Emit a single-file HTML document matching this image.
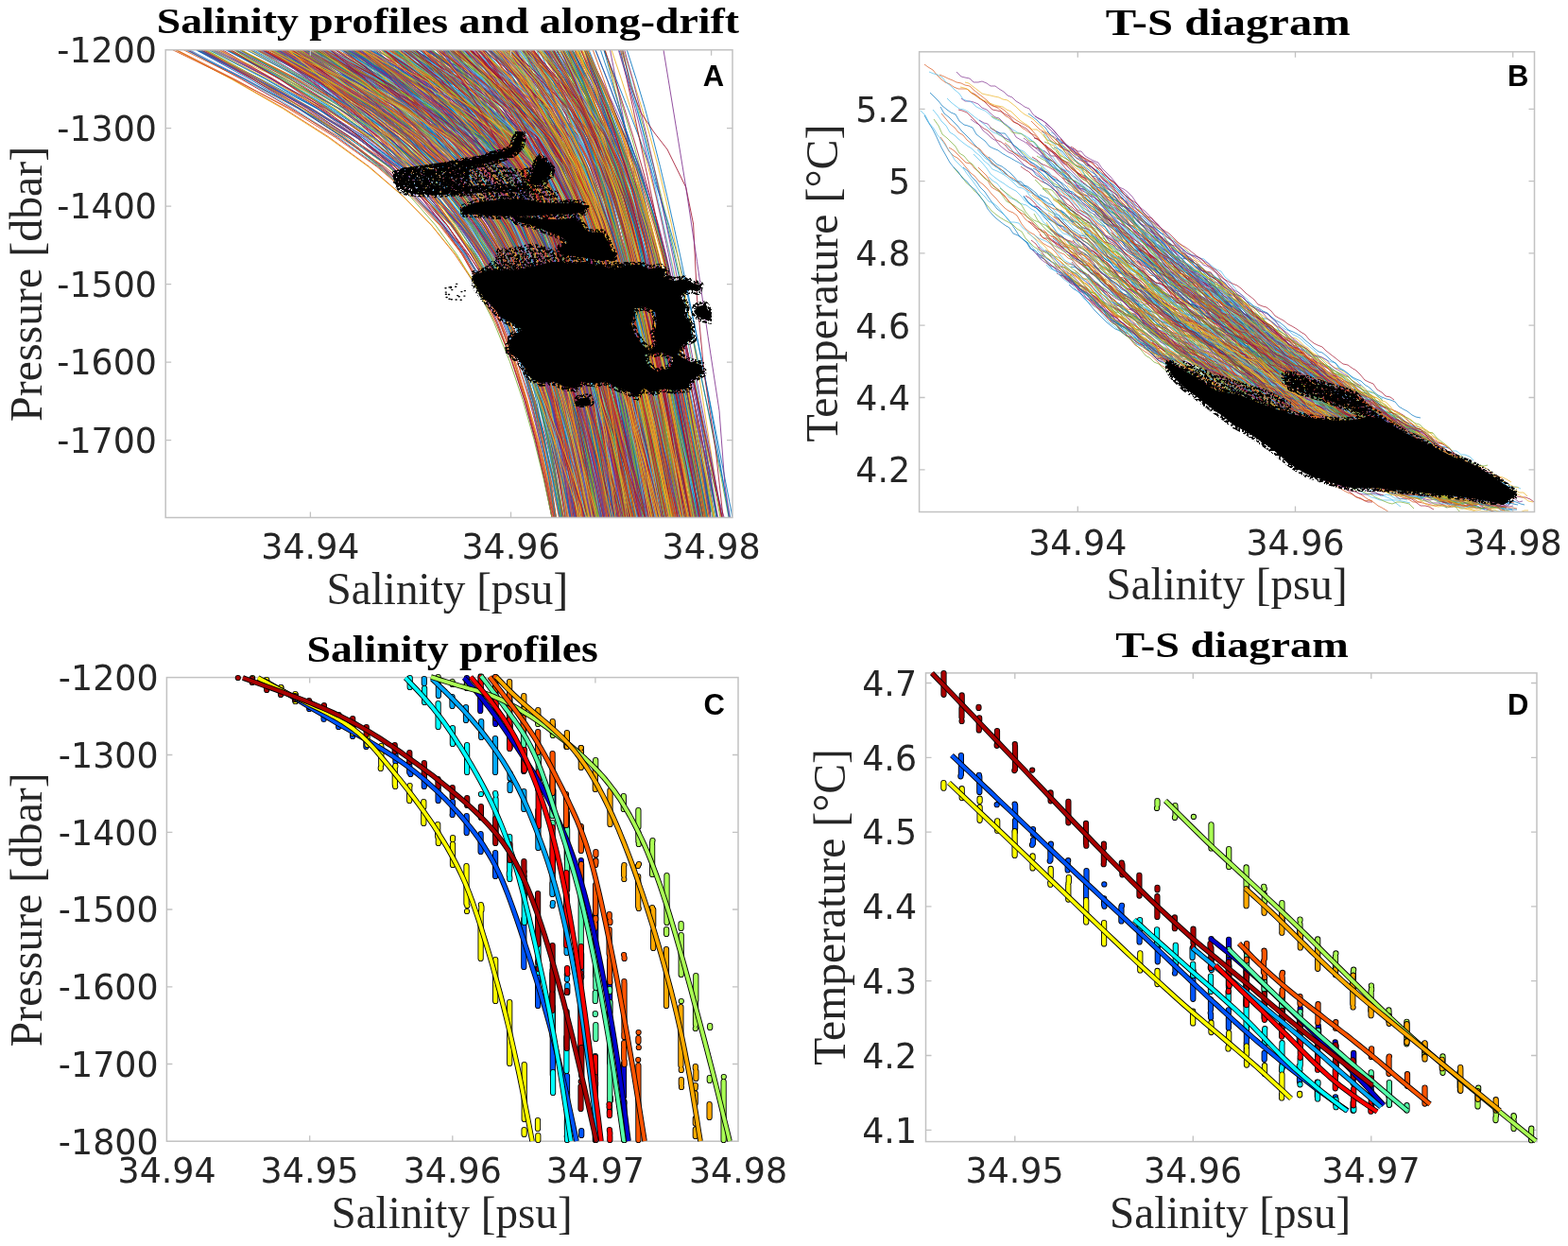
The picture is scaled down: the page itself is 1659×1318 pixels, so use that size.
<!DOCTYPE html><html><head><meta charset="utf-8"><style>html,body{margin:0;padding:0;background:#fff;width:1659px;height:1318px}svg{display:block}</style></head><body><svg width="1659" height="1318" viewBox="0 0 1659 1318">
<defs>
<clipPath id="clipA"><rect x="175.2" y="52.8" width="599.8" height="494.7"/></clipPath>
<clipPath id="clipB"><rect x="972.6" y="54.8" width="650.9" height="486.7"/></clipPath>
<clipPath id="clipC"><rect x="172.4" y="712.6" width="612.6" height="498.6"/></clipPath>
<clipPath id="clipD"><rect x="975.5" y="707.9" width="654.5" height="503.7"/></clipPath>
<filter id="spA40" x="0" y="0" width="1" height="1" color-interpolation-filters="sRGB"><feTurbulence type="fractalNoise" baseFrequency="0.4" numOctaves="2" seed="3" result="n"/><feColorMatrix in="n" type="matrix" values="0 0 0 0 0 0 0 0 0 0 0 0 0 0 0 12 0 0 0 -5.5" result="m"/><feComposite in="SourceGraphic" in2="m" operator="in"/></filter><filter id="spA50" x="0" y="0" width="1" height="1" color-interpolation-filters="sRGB"><feTurbulence type="fractalNoise" baseFrequency="0.4" numOctaves="2" seed="5" result="n"/><feColorMatrix in="n" type="matrix" values="0 0 0 0 0 0 0 0 0 0 0 0 0 0 0 12 0 0 0 -5.3" result="m"/><feComposite in="SourceGraphic" in2="m" operator="in"/></filter><filter id="spA75" x="0" y="0" width="1" height="1" color-interpolation-filters="sRGB"><feTurbulence type="fractalNoise" baseFrequency="0.4" numOctaves="2" seed="7" result="n"/><feColorMatrix in="n" type="matrix" values="0 0 0 0 0 0 0 0 0 0 0 0 0 0 0 12 0 0 0 -4.2" result="m"/><feComposite in="SourceGraphic" in2="m" operator="in"/></filter><filter id="spB35" x="0" y="0" width="1" height="1" color-interpolation-filters="sRGB"><feTurbulence type="fractalNoise" baseFrequency="0.4" numOctaves="2" seed="9" result="n"/><feColorMatrix in="n" type="matrix" values="0 0 0 0 0 0 0 0 0 0 0 0 0 0 0 12 0 0 0 -5.6" result="m"/><feComposite in="SourceGraphic" in2="m" operator="in"/></filter><filter id="spB50" x="0" y="0" width="1" height="1" color-interpolation-filters="sRGB"><feTurbulence type="fractalNoise" baseFrequency="0.4" numOctaves="2" seed="11" result="n"/><feColorMatrix in="n" type="matrix" values="0 0 0 0 0 0 0 0 0 0 0 0 0 0 0 12 0 0 0 -5.3" result="m"/><feComposite in="SourceGraphic" in2="m" operator="in"/></filter>
</defs>
<rect width="1659" height="1318" fill="#fff"/>
<g fill="none" stroke-width="0.85" stroke-linejoin="round" clip-path="url(#clipA)"><path d="M243.5 52.8l54.7 30.9 49.4 30.9 43.3 30.9 36.8 30.9 30.6 30.9 25.1 30.9 20.5 30.9 16.9 30.9 18.2 41.2 14.7 41.3 12.1 41.3 10.4 41.2 9 41.2 8.1 41.3M268.2 52.8l54.4 30.9 47.5 30.9 40.6 30.9 33.7 30.9 27.7 30.9 22.8 30.9 18.7 30.9 15.6 30.9 17.1 41.2 14.1 41.3 11.8 41.3 10.2 41.2 9 41.2 8.1 41.3M432.9 52.8l28.3 30.9 25.2 30.9 22.3 30.9 19.9 30.9 17.9 30.9 16.2 30.9 14.9 30.9 13.7 30.9 16.9 41.2 15.7 41.3 14.7 41.3 14 41.2 13.4 41.2 12.9 41.3M412.3 52.8l51.1 30.9 45.1 30.9 36.6 30.9 27.1 30.9 19.2 30.9 13.9 30.9 10.6 30.9 8.7 30.9 9.7 41.2 8.4 41.3 7.6 41.3 7.1 41.2 6.7 41.2 6.4 41.3M580.7 52.8l20.1 30.9 16.8 30.9 13.5 30.9 10.9 30.9 9.1 30.9 8 30.9 7.4 30.9 6.8 30.9 8.7 41.2 8.3 41.3 8.1 41.3 8 41.2 7.8 41.2 7.8 41.3M280.4 52.8l60.2 30.9 55.1 30.9 47.2 30.9 37 30.9 27.2 30.9 19.6 30.9 14.8 30.9 11.7 30.9 12.9 41.2 11 41.3 9.8 41.3 9.1 41.2 8.6 41.2 8.2 41.3M476.1 52.8l31.7 30.9 27.2 30.9 22.6 30.9 18.5 30.9 15.3 30.9 12.9 30.9 11.1 30.9 9.8 30.9 11.6 41.2 10.6 41.3 9.7 41.3 9.1 41.2 8.8 41.2 8.4 41.3M583.5 52.8l22.3 30.9 19.5 30.9 16 30.9 12.7 30.9 10.1 30.9 8.3 30.9 7.1 30.9 6.4 30.9 7.8 41.2 7.2 41.3 6.8 41.3 6.6 41.2 6.5 41.2 6.3 41.3M332.3 52.8l56.2 30.9 50.8 30.9 43.3 30.9 34.4 30.9 25.8 30.9 19 30.9 14.3 30.9 11.3 30.9 12 41.2 9.9 41.3 8.5 41.3 7.7 41.2 7.1 41.2 6.7 41.3M421.1 52.8l30 30.9 26.9 30.9 23.8 30.9 21.2 30.9 18.8 30.9 16.9 30.9 15.1 30.9 13.8 30.9 16.7 41.2 15.1 41.3 13.8 41.3 13 41.2 12.2 41.2 11.6 41.3M570.5 52.8l14.1 30.9 12.2 30.9 10.9 30.9 10 30.9 9.4 30.9 9.1 30.9 8.8 30.9 8.6 30.9 11.2 41.2 11.1 41.3 10.9 41.3 10.9 41.2 10.7 41.2 10.7 41.3M338.9 52.8l39.1 30.9 35.2 30.9 31.2 30.9 27.4 30.9 23.9 30.9 20.8 30.9 18.2 30.9 15.8 30.9 18.4 41.2 15.7 41.3 13.8 41.3 12.3 41.2 11 41.2 10.1 41.3M526.5 52.8l21.4 30.9 18 30.9 15.2 30.9 13 30.9 11.4 30.9 10.2 30.9 9.3 30.9 8.7 30.9 10.9 41.2 10.2 41.3 9.9 41.3 9.5 41.2 9.2 41.2 9.1 41.3M528.6 52.8l19.7 30.9 17.7 30.9 16 30.9 14.3 30.9 12.9 30.9 11.6 30.9 10.6 30.9 9.8 30.9 12 41.2 10.9 41.3 10.2 41.3 9.6 41.2 9.1 41.2 8.8 41.3M472 52.8l41.6 30.9 34.2 30.9 24 30.9 16 30.9 11.5 30.9 9.4 30.9 8.1 30.9 7.6 30.9 9.4 41.2 9 41.3 8.8 41.3 8.6 41.2 8.5 41.2 8.4 41.3M473.2 52.8l31.1 30.9 27.1 30.9 23.2 30.9 19.8 30.9 16.9 30.9 14.6 30.9 12.7 30.9 11.4 30.9 13.5 41.2 12 41.3 11 41.3 10.2 41.2 9.6 41.2 9.2 41.3M484.1 52.8l37.4 30.9 34.3 30.9 29.1 30.9 22.2 30.9 15.6 30.9 11.1 30.9 8.5 30.9 6.9 30.9 7.8 41.2 6.9 41.3 6.4 41.3 6 41.2 5.9 41.2 5.6 41.3M575.5 52.8l20.4 30.9 17.3 30.9 14.3 30.9 11.9 30.9 10.2 30.9 9.2 30.9 8.5 30.9 8 30.9 10.2 41.2 9.8 41.3 9.6 41.3 9.4 41.2 9.3 41.2 9.2 41.3M517.4 52.8l38.4 30.9 31.1 30.9 22.1 30.9 15.1 30.9 10.9 30.9 8.6 30.9 7.4 30.9 6.7 30.9 8.3 41.2 7.7 41.3 7.5 41.3 7.2 41.2 7.1 41.2 7 41.3M299.1 52.8l54 30.9 49.7 30.9 43.8 30.9 36.4 30.9 28.7 30.9 21.9 30.9 17 30.9 13.4 30.9 14.4 41.2 11.8 41.3 10.3 41.3 9.1 41.2 8.5 41.2 8 41.3M318.7 52.8l60.4 30.9 56.6 30.9 50 30.9 39.6 30.9 27.4 30.9 18.1 30.9 12.4 30.9 9.3 30.9 9.8 41.2 8.1 41.3 7.1 41.3 6.6 41.2 6.2 41.2 5.9 41.3M556.4 52.8l24 30.9 19.5 30.9 15.8 30.9 13.1 30.9 11.4 30.9 10.1 30.9 9.4 30.9 8.9 30.9 11.2 41.2 10.9 41.3 10.5 41.3 10.3 41.2 10.2 41.2 10.1 41.3M373.8 52.8l42.7 30.9 38.2 30.9 33.1 30.9 27.8 30.9 22.9 30.9 18.8 30.9 15.5 30.9 12.9 30.9 14.4 41.2 12.1 41.3 10.4 41.3 9.2 41.2 8.4 41.2 7.8 41.3M339.4 52.8l49.6 30.9 45 30.9 38.4 30.9 30.7 30.9 23.4 30.9 17.5 30.9 13.6 30.9 11 30.9 12.2 41.2 10.3 41.3 9.2 41.3 8.5 41.2 7.9 41.2 7.7 41.3M377 52.8l51.8 30.9 45.2 30.9 36.3 30.9 27 30.9 19.4 30.9 14.2 30.9 11.2 30.9 9.1 30.9 10.4 41.2 9 41.3 8.2 41.3 7.6 41.2 7.3 41.2 6.9 41.3M342.1 52.8l42.1 30.9 38.4 30.9 34.3 30.9 30 30.9 25.8 30.9 22.1 30.9 18.9 30.9 16.3 30.9 18.6 41.2 16 41.3 14.1 41.3 12.7 41.2 11.6 41.2 10.8 41.3M623.1 52.8l12.1 30.9 11.3 30.9 10.6 30.9 10 30.9 9.3 30.9 8.9 30.9 8.4 30.9 8.1 30.9 10.3 41.2 9.9 41.3 9.6 41.3 9.3 41.2 9.1 41.2 9 41.3M638.9 52.8l8.7 30.9 8.2 30.9 7.8 30.9 7.5 30.9 7.2 30.9 7.1 30.9 6.9 30.9 6.9 30.9 8.9 41.2 8.9 41.3 8.7 41.3 8.7 41.2 8.6 41.2 8.6 41.3" stroke="#0072BD"/><path d="M602.8 52.8l11 30.9 10.4 30.9 10 30.9 9.7 30.9 9.3 30.9 9.1 30.9 8.9 30.9 8.7 30.9 11.4 41.2 11.2 41.3 11 41.3 10.9 41.2 10.8 41.2 10.7 41.3M367.4 52.8l41.5 30.9 36.9 30.9 32 30.9 27.5 30.9 23.4 30.9 19.9 30.9 16.9 30.9 14.5 30.9 16.6 41.2 14 41.3 12.2 41.3 10.8 41.2 9.7 41.2 8.8 41.3M353.8 52.8l55 30.9 52.3 30.9 46.4 30.9 34.6 30.9 20.7 30.9 12.5 30.9 8.7 30.9 7 30.9 8.1 41.2 7.3 41.3 6.9 41.3 6.6 41.2 6.5 41.2 6.4 41.3M322.3 52.8l39.5 30.9 36 30.9 32.1 30.9 28 30.9 24.2 30.9 20.7 30.9 17.6 30.9 15 30.9 17 41.2 14.4 41.3 12.3 41.3 10.9 41.2 9.8 41.2 8.9 41.3M453.5 52.8l49 30.9 43.6 30.9 32.2 30.9 19.3 30.9 12.3 30.9 9.4 30.9 8.2 30.9 7.5 30.9 9.5 41.2 9.2 41.3 8.9 41.3 8.8 41.2 8.7 41.2 8.7 41.3M432.1 52.8l33.3 30.9 29.6 30.9 26 30.9 22.8 30.9 19.8 30.9 17.4 30.9 15.3 30.9 13.7 30.9 16.2 41.2 14.3 41.3 13 41.3 11.9 41.2 11.1 41.2 10.4 41.3M375.3 52.8l46.9 30.9 42.9 30.9 37.7 30.9 31.6 30.9 25.2 30.9 19.8 30.9 15.5 30.9 12.4 30.9 13.1 41.2 10.6 41.3 8.9 41.3 7.8 41.2 7.1 41.2 6.5 41.3M611.1 52.8l14.3 30.9 13.6 30.9 13.1 30.9 12.2 30.9 11.3 30.9 10.4 30.9 9.4 30.9 8.7 30.9 10.3 41.2 9.3 41.3 8.5 41.3 7.9 41.2 7.5 41.2 7.1 41.3M477.2 52.8l41 30.9 35.2 30.9 27.1 30.9 18.9 30.9 13.5 30.9 10.4 30.9 8.6 30.9 7.7 30.9 9.3 41.2 8.6 41.3 8.3 41.3 8 41.2 7.8 41.2 7.7 41.3M594.8 52.8l14.4 30.9 13.2 30.9 12.1 30.9 11.2 30.9 10.3 30.9 9.5 30.9 9 30.9 8.5 30.9 10.7 41.2 10.2 41.3 9.8 41.3 9.5 41.2 9.2 41.2 9 41.3M478.6 52.8l34.7 30.9 29.2 30.9 23.7 30.9 18.9 30.9 15.3 30.9 12.7 30.9 11 30.9 9.8 30.9 12 41.2 11 41.3 10.3 41.3 9.9 41.2 9.6 41.2 9.4 41.3M546.8 52.8l18.2 30.9 16.4 30.9 14.9 30.9 13.5 30.9 12.3 30.9 11.4 30.9 10.5 30.9 10 30.9 12.4 41.2 11.7 41.3 11.1 41.3 10.7 41.2 10.4 41.2 10 41.3M380.5 52.8l37.3 30.9 33.5 30.9 29.3 30.9 25.3 30.9 21.7 30.9 18.5 30.9 16 30.9 14 30.9 16.5 41.2 14.4 41.3 13.1 41.3 12 41.2 11.3 41.2 10.7 41.3M302.8 52.8l57.7 30.9 52.9 30.9 45 30.9 34.3 30.9 24.3 30.9 17.4 30.9 13.4 30.9 11.1 30.9 12.9 41.2 11.6 41.3 10.8 41.3 10.4 41.2 10 41.2 9.7 41.3M495.7 52.8l38.4 30.9 33.8 30.9 26.8 30.9 19.3 30.9 13.6 30.9 10.3 30.9 8.5 30.9 7.4 30.9 9 41.2 8.2 41.3 7.9 41.3 7.7 41.2 7.4 41.2 7.3 41.3M489.4 52.8l19.6 30.9 17.9 30.9 16.4 30.9 15.1 30.9 14 30.9 13.1 30.9 12.4 30.9 11.8 30.9 15 41.2 14.2 41.3 13.6 41.3 13.2 41.2 12.8 41.2 12.5 41.3M450.3 52.8l29.2 30.9 25.6 30.9 22 30.9 19 30.9 16.4 30.9 14.4 30.9 12.8 30.9 11.5 30.9 14 41.2 12.6 41.3 11.8 41.3 11 41.2 10.5 41.2 10.1 41.3M604.2 52.8l11.4 30.9 10.7 30.9 10 30.9 9.4 30.9 8.9 30.9 8.6 30.9 8.2 30.9 7.9 30.9 10.2 41.2 9.9 41.3 9.6 41.3 9.4 41.2 9.2 41.2 9 41.3M396.5 52.8l30.2 30.9 27.1 30.9 24.3 30.9 21.7 30.9 19.4 30.9 17.5 30.9 15.8 30.9 14.4 30.9 17.4 41.2 15.8 41.3 14.4 41.3 13.3 41.2 12.5 41.2 11.8 41.3M360.5 52.8l44 30.9 40.8 30.9 36.6 30.9 31.7 30.9 26.6 30.9 21.7 30.9 17.6 30.9 14.4 30.9 15.4 41.2 12.5 41.3 10.4 41.3 9.2 41.2 8.1 41.2 7.5 41.3M285.1 52.8l39.8 30.9 36.2 30.9 32.5 30.9 29 30.9 25.8 30.9 23 30.9 20.6 30.9 18.5 30.9 22 41.2 19.5 41.3 17.6 41.3 16 41.2 14.9 41.2 13.8 41.3" stroke="#4DBEEE"/><path d="M218.9 52.8l55.5 30.9 51.1 30.9 46.1 30.9 40.7 30.9 35.3 30.9 30.1 30.9 25.4 30.9 21.4 30.9 23.6 41.2 19.1 41.3 15.7 41.3 13.2 41.2 11.4 41.2 9.9 41.3M270.9 52.8l52.8 30.9 47.9 30.9 42 30.9 35.8 30.9 29.7 30.9 24 30.9 19.4 30.9 15.7 30.9 16.6 41.2 12.9 41.3 10.4 41.3 8.6 41.2 7.2 41.2 6.3 41.3M494.3 52.8l41.8 30.9 35.4 30.9 26.7 30.9 18.8 30.9 13.7 30.9 10.7 30.9 9.2 30.9 8.2 30.9 10 41.2 9.4 41.3 8.9 41.3 8.8 41.2 8.5 41.2 8.5 41.3M349.5 52.8l59.3 30.9 54 30.9 44.5 30.9 31.3 30.9 19.7 30.9 13 30.9 9.5 30.9 7.6 30.9 8.5 41.2 7.5 41.3 6.9 41.3 6.5 41.2 6.2 41.2 6.1 41.3M362.7 52.8l36.7 30.9 33 30.9 29.2 30.9 25.7 30.9 22.5 30.9 19.6 30.9 17.1 30.9 15 30.9 17.5 41.2 15.1 41.3 13.2 41.3 11.9 41.2 10.7 41.2 9.8 41.3M321.4 52.8l50.1 30.9 44.7 30.9 38.7 30.9 32.5 30.9 26.7 30.9 21.7 30.9 17.8 30.9 14.8 30.9 16.2 41.2 13.4 41.3 11.4 41.3 10 41.2 9 41.2 8.3 41.3M617.8 52.8l13 30.9 12.2 30.9 11.3 30.9 10.5 30.9 9.8 30.9 9.1 30.9 8.5 30.9 8.1 30.9 10.1 41.2 9.7 41.3 9.2 41.3 9 41.2 8.6 41.2 8.5 41.3M415.9 52.8l39.5 30.9 33.6 30.9 27 30.9 21.4 30.9 17.1 30.9 14.4 30.9 12.5 30.9 11.3 30.9 13.9 41.2 13 41.3 12.3 41.3 12 41.2 11.6 41.2 11.4 41.3M344.9 52.8l56.4 30.9 53.7 30.9 47.9 30.9 37.8 30.9 25.2 30.9 15.9 30.9 10.7 30.9 8.3 30.9 8.9 41.2 7.7 41.3 7 41.3 6.7 41.2 6.3 41.2 6.2 41.3M345.5 52.8l40.9 30.9 36.1 30.9 31.3 30.9 26.8 30.9 22.6 30.9 19.2 30.9 16.3 30.9 14.1 30.9 16.2 41.2 13.8 41.3 12.2 41.3 10.8 41.2 9.9 41.2 9.2 41.3M342.9 52.8l52.1 30.9 51 30.9 48.4 30.9 41.5 30.9 27.9 30.9 14.9 30.9 8.9 30.9 6.4 30.9 7 41.2 6.3 41.3 5.8 41.3 5.6 41.2 5.4 41.2 5.3 41.3M543 52.8l16.9 30.9 15.5 30.9 14.4 30.9 13.4 30.9 12.6 30.9 11.8 30.9 11.1 30.9 10.7 30.9 13.5 41.2 12.8 41.3 12.4 41.3 11.9 41.2 11.5 41.2 11.2 41.3M381 52.8l50.9 30.9 48.6 30.9 43.3 30.9 32.7 30.9 20.2 30.9 12.6 30.9 9.3 30.9 7.9 30.9 9.2 41.2 8.7 41.3 8.2 41.3 8.1 41.2 7.9 41.2 7.8 41.3M590.9 52.8l20.8 30.9 18.6 30.9 15.8 30.9 13.3 30.9 10.9 30.9 9.1 30.9 8 30.9 7 30.9 8.4 41.2 7.8 41.3 7.3 41.3 6.9 41.2 6.7 41.2 6.6 41.3M341.8 52.8l54.4 30.9 52.2 30.9 47.6 30.9 38.9 30.9 26.9 30.9 16.8 30.9 10.9 30.9 8.1 30.9 8.6 41.2 7.3 41.3 6.5 41.3 6.1 41.2 5.9 41.2 5.7 41.3M389.9 52.8l55.7 30.9 52.2 30.9 44.4 30.9 30.9 30.9 18.3 30.9 11.6 30.9 8.6 30.9 7.2 30.9 8.4 41.2 7.6 41.3 7.3 41.3 7 41.2 6.8 41.2 6.8 41.3M325.6 52.8l54.6 30.9 48.9 30.9 41 30.9 31.8 30.9 23.6 30.9 17.6 30.9 13.6 30.9 11.1 30.9 12.4 41.2 10.7 41.3 9.6 41.3 8.9 41.2 8.5 41.2 8.1 41.3M600.5 52.8l16.3 30.9 14.7 30.9 12.9 30.9 11.2 30.9 9.8 30.9 8.8 30.9 8.1 30.9 7.5 30.9 9.6 41.2 9.1 41.3 8.9 41.3 8.7 41.2 8.6 41.2 8.4 41.3M557.1 52.8l22.5 30.9 20.4 30.9 17.9 30.9 15.4 30.9 13.1 30.9 11.2 30.9 9.7 30.9 8.6 30.9 10.3 41.2 9.3 41.3 8.6 41.3 8.1 41.2 7.8 41.2 7.5 41.3M405 52.8l49.4 30.9 45.9 30.9 38.8 30.9 28.1 30.9 18 30.9 12.3 30.9 9.5 30.9 8 30.9 9.5 41.2 8.7 41.3 8.4 41.3 8 41.2 7.9 41.2 7.8 41.3M296.2 52.8l45.4 30.9 41 30.9 36.2 30.9 31.5 30.9 26.9 30.9 23 30.9 19.7 30.9 16.8 30.9 19.1 41.2 16.2 41.3 13.9 41.3 12.3 41.2 11.1 41.2 10.2 41.3M390.6 52.8l49.2 30.9 45.1 30.9 38.4 30.9 29.3 30.9 20.6 30.9 14.5 30.9 10.9 30.9 8.7 30.9 9.9 41.2 8.6 41.3 7.8 41.3 7.4 41.2 7.1 41.2 6.8 41.3M605.4 52.8l16.3 30.9 14.2 30.9 12.3 30.9 10.5 30.9 9.1 30.9 8.1 30.9 7.3 30.9 6.9 30.9 8.6 41.2 8.1 41.3 7.9 41.3 7.6 41.2 7.5 41.2 7.3 41.3M307.7 52.8l49.1 30.9 46 30.9 41.7 30.9 35.9 30.9 29.6 30.9 23.2 30.9 18.2 30.9 14.4 30.9 15.3 41.2 12.5 41.3 10.7 41.3 9.5 41.2 8.8 41.2 8.2 41.3M524.4 52.8l25.2 30.9 22.1 30.9 19 30.9 16.2 30.9 13.9 30.9 12 30.9 10.7 30.9 9.6 30.9 11.6 41.2 10.6 41.3 9.9 41.3 9.4 41.2 8.9 41.2 8.7 41.3M285.4 52.8l49.2 30.9 44.7 30.9 39.7 30.9 34.2 30.9 28.8 30.9 23.9 30.9 19.9 30.9 16.5 30.9 18 41.2 14.7 41.3 12.3 41.3 10.6 41.2 9.3 41.2 8.4 41.3M472.7 52.8l30.1 30.9 26.2 30.9 22.4 30.9 19 30.9 16.4 30.9 14.2 30.9 12.6 30.9 11.2 30.9 13.5 41.2 12.3 41.3 11.3 41.3 10.6 41.2 10.1 41.2 9.6 41.3M404.1 52.8l31.6 30.9 28.8 30.9 25.9 30.9 23.3 30.9 20.8 30.9 18.6 30.9 16.6 30.9 14.9 30.9 17.6 41.2 15.6 41.3 13.8 41.3 12.5 41.2 11.4 41.2 10.6 41.3M295.5 52.8l48.5 30.9 45.3 30.9 40.7 30.9 35.2 30.9 29.1 30.9 23.4 30.9 18.7 30.9 15.3 30.9 16.5 41.2 13.6 41.3 11.8 41.3 10.6 41.2 9.8 41.2 9.2 41.3M639.6 52.8l10.1 30.9 9.6 30.9 9.1 30.9 8.6 30.9 8.1 30.9 7.8 30.9 7.5 30.9 7.1 30.9 9.1 41.2 8.8 41.3 8.5 41.3 8.3 41.2 8 41.2 7.9 41.3" stroke="#77AC30"/><path d="M253.7 52.8l55.2 30.9 49.9 30.9 43.7 30.9 37.3 30.9 31 30.9 25.4 30.9 20.7 30.9 16.8 30.9 18 41.2 14.1 41.3 11.3 41.3 9.4 41.2 7.9 41.2 6.8 41.3M379 52.8l34.3 30.9 30.7 30.9 27.1 30.9 23.8 30.9 20.8 30.9 18.2 30.9 16.2 30.9 14.4 30.9 17 41.2 15.2 41.3 13.6 41.3 12.6 41.2 11.6 41.2 11 41.3M405.3 52.8l29.5 30.9 27 30.9 24.5 30.9 22.3 30.9 20.1 30.9 18.1 30.9 16.4 30.9 15 30.9 17.9 41.2 16.2 41.3 14.5 41.3 13.4 41.2 12.4 41.2 11.5 41.3M383.3 52.8l51.2 30.9 45.3 30.9 37.5 30.9 28.9 30.9 21.5 30.9 16.1 30.9 12.4 30.9 10 30.9 11 41.2 9.2 41.3 8.2 41.3 7.5 41.2 6.9 41.2 6.6 41.3M507.4 52.8l33.8 30.9 29.8 30.9 25 30.9 19.9 30.9 15.6 30.9 12.5 30.9 10.2 30.9 8.9 30.9 10.3 41.2 9.2 41.3 8.5 41.3 8 41.2 7.8 41.2 7.4 41.3M352.1 52.8l36.6 30.9 32.7 30.9 29 30.9 25.6 30.9 22.5 30.9 19.8 30.9 17.6 30.9 15.7 30.9 18.5 41.2 16.2 41.3 14.6 41.3 13.1 41.2 12 41.2 11.2 41.3M522.4 52.8l20.4 30.9 16.9 30.9 14.4 30.9 12.6 30.9 11.3 30.9 10.4 30.9 9.8 30.9 9.4 30.9 12 41.2 11.5 41.3 11.3 41.3 11 41.2 10.8 41.2 10.7 41.3M457.1 52.8l32.2 30.9 27.1 30.9 22.3 30.9 18 30.9 14.7 30.9 12.3 30.9 10.7 30.9 9.4 30.9 11.3 41.2 10.2 41.3 9.5 41.3 9 41.2 8.6 41.2 8.4 41.3M280.2 52.8l54.8 30.9 53.1 30.9 50 30.9 44.2 30.9 34.5 30.9 23.4 30.9 15.2 30.9 10.7 30.9 10.7 41.2 8.7 41.3 7.7 41.3 7.1 41.2 6.7 41.2 6.5 41.3M338.9 52.8l46.8 30.9 41.4 30.9 34.9 30.9 28.1 30.9 22.2 30.9 18 30.9 14.9 30.9 12.9 30.9 15.2 41.2 13.6 41.3 12.6 41.3 11.9 41.2 11.5 41.2 11.1 41.3M391.8 52.8l44 30.9 38.1 30.9 31.3 30.9 24.6 30.9 19.4 30.9 15.5 30.9 13 30.9 11.2 30.9 13.3 41.2 11.9 41.3 11 41.3 10.5 41.2 10.1 41.2 9.7 41.3M586.8 52.8l13.1 30.9 11.8 30.9 10.9 30.9 10.1 30.9 9.6 30.9 9.1 30.9 8.8 30.9 8.5 30.9 11.1 41.2 10.7 41.3 10.6 41.3 10.4 41.2 10.2 41.2 10.1 41.3M406.3 52.8l40.4 30.9 37.7 30.9 33.6 30.9 28.1 30.9 22.1 30.9 16.8 30.9 12.9 30.9 10.2 30.9 11.1 41.2 9.3 41.3 8.3 41.3 7.6 41.2 7.1 41.2 6.8 41.3M362.8 52.8l38.8 30.9 34.3 30.9 30 30.9 25.9 30.9 22.4 30.9 19.4 30.9 16.9 30.9 14.7 30.9 17 41.2 14.8 41.3 12.9 41.3 11.5 41.2 10.5 41.2 9.6 41.3M409 52.8l52.7 30.9 48.4 30.9 39.1 30.9 25.1 30.9 14.7 30.9 10.1 30.9 8 30.9 7 30.9 8.5 41.2 8 41.3 7.8 41.3 7.5 41.2 7.4 41.2 7.4 41.3M307.3 52.8l62.9 30.9 60.6 30.9 55.6 30.9 44.5 30.9 28.2 30.9 15.9 30.9 10.2 30.9 7.7 30.9 8.4 41.2 7.4 41.3 6.9 41.3 6.5 41.2 6.3 41.2 6.2 41.3M608.9 52.8l15.8 30.9 14.3 30.9 12.7 30.9 11.3 30.9 10 30.9 8.8 30.9 8 30.9 7.3 30.9 8.9 41.2 8.3 41.3 7.8 41.3 7.5 41.2 7.2 41.2 7 41.3M345.3 52.8l36.3 30.9 33.1 30.9 29.9 30.9 26.8 30.9 23.8 30.9 21.1 30.9 18.8 30.9 16.8 30.9 19.8 41.2 17.3 41.3 15.5 41.3 14 41.2 12.8 41.2 11.8 41.3M585.4 52.8l19.9 30.9 17.6 30.9 14.9 30.9 12.4 30.9 10.4 30.9 8.7 30.9 7.6 30.9 6.8 30.9 8.3 41.2 7.7 41.3 7.3 41.3 6.9 41.2 6.8 41.2 6.6 41.3M331 52.8l37.5 30.9 34.8 30.9 31.8 30.9 28.9 30.9 26 30.9 23.2 30.9 20.8 30.9 18.4 30.9 21.7 41.2 18.9 41.3 16.5 41.3 14.7 41.2 13.2 41.2 12.1 41.3M545 52.8l20.3 30.9 18 30.9 15.9 30.9 14.1 30.9 12.7 30.9 11.4 30.9 10.5 30.9 9.7 30.9 12 41.2 11.2 41.3 10.6 41.3 10.1 41.2 9.7 41.2 9.4 41.3" stroke="#7E2F8E"/><path d="M198.4 52.8l57 30.9 53.2 30.9 48.5 30.9 43.1 30.9 37.3 30.9 31.5 30.9 26.3 30.9 21.6 30.9 23.1 41.2 18.1 41.3 14.6 41.3 11.9 41.2 10.1 41.2 8.6 41.3M211.7 52.8l59.4 30.9 53.5 30.9 46.8 30.9 40.1 30.9 33.6 30.9 27.8 30.9 23 30.9 19.1 30.9 20.7 41.2 16.7 41.3 13.7 41.3 11.6 41.2 10 41.2 8.7 41.3M404 52.8l51.1 30.9 49.3 30.9 45.1 30.9 35.2 30.9 21.3 30.9 12.3 30.9 8.6 30.9 6.9 30.9 8 41.2 7.4 41.3 7.1 41.3 6.8 41.2 6.7 41.2 6.6 41.3M301.9 52.8l40.3 30.9 36.7 30.9 33 30.9 29.3 30.9 25.7 30.9 22.4 30.9 19.6 30.9 17.3 30.9 19.9 41.2 17.2 41.3 15.1 41.3 13.5 41.2 12.2 41.2 11.2 41.3M539.8 52.8l29.2 30.9 25.7 30.9 22 30.9 18.1 30.9 14.7 30.9 12 30.9 9.9 30.9 8.4 30.9 9.6 41.2 8.2 41.3 7.2 41.3 6.7 41.2 6.1 41.2 5.8 41.3M338.9 52.8l57 30.9 53.7 30.9 47.3 30.9 36 30.9 23.1 30.9 14.5 30.9 10.1 30.9 8 30.9 8.9 41.2 7.8 41.3 7.3 41.3 6.9 41.2 6.7 41.2 6.5 41.3M593 52.8l13.8 30.9 12.5 30.9 11.3 30.9 10.3 30.9 9.6 30.9 9 30.9 8.5 30.9 8.2 30.9 10.5 41.2 10.1 41.3 9.8 41.3 9.7 41.2 9.4 41.2 9.3 41.3M289.1 52.8l40.1 30.9 36.9 30.9 33.5 30.9 30 30.9 26.6 30.9 23.4 30.9 20.5 30.9 18.1 30.9 20.9 41.2 17.9 41.3 15.6 41.3 13.9 41.2 12.4 41.2 11.3 41.3M379.7 52.8l32.8 30.9 29.5 30.9 26.3 30.9 23.4 30.9 20.6 30.9 18.2 30.9 16.1 30.9 14.4 30.9 16.9 41.2 14.9 41.3 13.1 41.3 11.8 41.2 10.8 41.2 9.9 41.3M510.3 52.8l23.2 30.9 20.7 30.9 18.1 30.9 16 30.9 14 30.9 12.4 30.9 11.1 30.9 10 30.9 12 41.2 10.9 41.3 9.9 41.3 9.3 41.2 8.7 41.2 8.3 41.3M364.2 52.8l52.4 30.9 46.4 30.9 38.1 30.9 29 30.9 21.3 30.9 15.7 30.9 12.1 30.9 9.8 30.9 10.9 41.2 9.3 41.3 8.3 41.3 7.6 41.2 7.2 41.2 6.8 41.3M301.9 52.8l40 30.9 36.7 30.9 33.3 30.9 29.9 30.9 26.7 30.9 23.6 30.9 21 30.9 18.5 30.9 21.6 41.2 18.6 41.3 16.3 41.3 14.5 41.2 12.9 41.2 11.8 41.3M513.2 52.8l21.2 30.9 19.1 30.9 17.2 30.9 15.6 30.9 14.2 30.9 13.1 30.9 12 30.9 11.3 30.9 14 41.2 13.1 41.3 12.3 41.3 11.7 41.2 11.2 41.2 10.8 41.3M323.3 52.8l39 30.9 35.7 30.9 32.2 30.9 28.6 30.9 25.3 30.9 22.1 30.9 19.3 30.9 17.1 30.9 19.7 41.2 17.1 41.3 15 41.3 13.4 41.2 12.2 41.2 11.2 41.3M601.3 52.8l14.2 30.9 13.1 30.9 11.8 30.9 10.7 30.9 9.6 30.9 8.8 30.9 8.1 30.9 7.5 30.9 9.3 41.2 8.7 41.3 8.3 41.3 7.9 41.2 7.7 41.2 7.5 41.3M278.3 52.8l58.9 30.9 52.7 30.9 45.2 30.9 36.7 30.9 28.9 30.9 22.1 30.9 17.1 30.9 13.4 30.9 13.7 41.2 10.7 41.3 8.6 41.3 7.3 41.2 6.2 41.2 5.5 41.3M464.9 52.8l45.2 30.9 40.7 30.9 28.5 30.9 15.1 30.9 9.5 30.9 7.6 30.9 6.7 30.9 6.4 30.9 8.2 41.2 8 41.3 7.9 41.3 7.8 41.2 7.8 41.2 7.7 41.3M362.7 52.8l55.4 30.9 52.7 30.9 47.3 30.9 37.7 30.9 25.3 30.9 15.4 30.9 10.1 30.9 7.3 30.9 7.5 41.2 6.2 41.3 5.5 41.3 5.1 41.2 4.8 41.2 4.6 41.3M608.1 52.8l8.4 30.9 8.2 30.9 8 30.9 8 30.9 7.8 30.9 7.8 30.9 7.7 30.9 7.7 30.9 10.2 41.2 10.1 41.3 10 41.3 10 41.2 10 41.2 9.9 41.3M308.9 52.8l52.6 30.9 46.3 30.9 39 30.9 31.2 30.9 24.3 30.9 18.9 30.9 14.9 30.9 12.1 30.9 13.2 41.2 10.8 41.3 9.4 41.3 8.3 41.2 7.6 41.2 7.1 41.3M505.6 52.8l29.9 30.9 25.2 30.9 20.6 30.9 17 30.9 14.1 30.9 12 30.9 10.5 30.9 9.5 30.9 11.3 41.2 10.3 41.3 9.7 41.3 9.1 41.2 8.7 41.2 8.5 41.3M308.7 52.8l61.2 30.9 57.2 30.9 49.5 30.9 36.8 30.9 23.8 30.9 15.4 30.9 11.2 30.9 9.1 30.9 10.4 41.2 9.3 41.3 8.7 41.3 8.3 41.2 8.1 41.2 7.9 41.3M375.6 52.8l52.5 30.9 49.8 30.9 44.6 30.9 35.6 30.9 24.4 30.9 15.5 30.9 10.5 30.9 7.8 30.9 8.5 41.2 7.1 41.3 6.4 41.3 6 41.2 5.8 41.2 5.5 41.3" stroke="#A2142F"/><path d="M274.4 52.8l58.5 30.9 52.4 30.9 45.2 30.9 37.4 30.9 29.9 30.9 23.6 30.9 18.6 30.9 15 30.9 15.8 41.2 12.7 41.3 10.4 41.3 9 41.2 7.9 41.2 7.1 41.3M600.9 52.8l19.3 30.9 17.7 30.9 15.8 30.9 13.4 30.9 11.1 30.9 9.1 30.9 7.7 30.9 6.8 30.9 7.9 41.2 7.3 41.3 6.7 41.3 6.5 41.2 6.2 41.2 6.1 41.3M384.4 52.8l50.7 30.9 46.9 30.9 40.1 30.9 30.2 30.9 20.6 30.9 14.3 30.9 10.9 30.9 9 30.9 10.5 41.2 9.4 41.3 8.9 41.3 8.5 41.2 8.3 41.2 8.1 41.3M436.4 52.8l30 30.9 26.7 30.9 23.7 30.9 20.8 30.9 18.4 30.9 16.2 30.9 14.5 30.9 12.9 30.9 15.5 41.2 13.7 41.3 12.3 41.3 11.4 41.2 10.5 41.2 9.8 41.3M404 52.8l40.5 30.9 35.1 30.9 29.2 30.9 23.7 30.9 18.9 30.9 15.5 30.9 12.9 30.9 11.1 30.9 12.8 41.2 11.2 41.3 10.3 41.3 9.5 41.2 9 41.2 8.5 41.3M367.6 52.8l45.5 30.9 40.3 30.9 34.5 30.9 28.6 30.9 23.2 30.9 19 30.9 15.7 30.9 13.3 30.9 15.2 41.2 13.2 41.3 11.8 41.3 10.8 41.2 10.2 41.2 9.6 41.3M324.4 52.8l54.8 30.9 51.9 30.9 45.9 30.9 34.9 30.9 22.6 30.9 15 30.9 11.3 30.9 9.5 30.9 11.4 41.2 10.6 41.3 10.2 41.3 9.8 41.2 9.7 41.2 9.5 41.3M518.7 52.8l21.4 30.9 18.7 30.9 16.5 30.9 14.6 30.9 13 30.9 11.8 30.9 10.8 30.9 10 30.9 12.4 41.2 11.6 41.3 10.9 41.3 10.4 41.2 10 41.2 9.7 41.3M582 52.8l17.4 30.9 14.6 30.9 12.2 30.9 10.3 30.9 9.1 30.9 8.2 30.9 7.7 30.9 7.3 30.9 9.2 41.2 8.9 41.3 8.8 41.3 8.5 41.2 8.4 41.2 8.3 41.3M557 52.8l16.8 30.9 15.4 30.9 14.1 30.9 13 30.9 12.1 30.9 11.3 30.9 10.5 30.9 10 30.9 12.5 41.2 11.9 41.3 11.2 41.3 10.7 41.2 10.4 41.2 10 41.3M451.2 52.8l27.8 30.9 24.7 30.9 21.9 30.9 19.5 30.9 17.3 30.9 15.6 30.9 14 30.9 12.8 30.9 15.4 41.2 14 41.3 12.9 41.3 11.9 41.2 11.3 41.2 10.6 41.3M363.8 52.8l55.8 30.9 53.2 30.9 47.5 30.9 36.9 30.9 23.5 30.9 14 30.9 9.2 30.9 6.9 30.9 7.5 41.2 6.4 41.3 5.8 41.3 5.4 41.2 5.2 41.2 5.1 41.3M510.5 52.8l25.4 30.9 22.6 30.9 19.9 30.9 17.5 30.9 15.4 30.9 13.6 30.9 12.2 30.9 11 30.9 13.2 41.2 11.8 41.3 10.8 41.3 10 41.2 9.4 41.2 8.9 41.3M285.7 52.8l57 30.9 54.3 30.9 49.7 30.9 41.9 30.9 31.4 30.9 21.5 30.9 14.9 30.9 11 30.9 11.5 41.2 9.4 41.3 8.3 41.3 7.7 41.2 7.2 41.2 7 41.3M280.3 52.8l64.1 30.9 58.4 30.9 49.6 30.9 38.5 30.9 27.7 30.9 19.8 30.9 14.7 30.9 11.4 30.9 12.4 41.2 10.3 41.3 9.1 41.3 8.4 41.2 7.8 41.2 7.4 41.3M384.9 52.8l35.2 30.9 30.8 30.9 26.7 30.9 23.1 30.9 20 30.9 17.5 30.9 15.4 30.9 13.9 30.9 16.6 41.2 14.9 41.3 13.6 41.3 12.7 41.2 12 41.2 11.4 41.3M452.4 52.8l46.8 30.9 38.9 30.9 27 30.9 17.1 30.9 12 30.9 9.5 30.9 8.4 30.9 7.7 30.9 9.8 41.2 9.3 41.3 9.1 41.3 8.9 41.2 8.8 41.2 8.8 41.3M435.8 52.8l45.6 30.9 42.5 30.9 35.2 30.9 23.6 30.9 14.6 30.9 10.3 30.9 8.5 30.9 7.6 30.9 9.3 41.2 9 41.3 8.7 41.3 8.5 41.2 8.4 41.2 8.4 41.3M314.6 52.8l53.3 30.9 49.3 30.9 43.5 30.9 35.9 30.9 27.6 30.9 20.3 30.9 15.1 30.9 11.5 30.9 11.9 41.2 9.5 41.3 8 41.3 7.1 41.2 6.5 41.2 6 41.3M419 52.8l46.7 30.9 44.9 30.9 41.2 30.9 33.4 30.9 22.3 30.9 13.6 30.9 9.2 30.9 7.1 30.9 8 41.2 7 41.3 6.6 41.3 6.3 41.2 6.2 41.2 6 41.3M300.6 52.8l56 30.9 51.8 30.9 45.4 30.9 36.7 30.9 27.4 30.9 19.9 30.9 14.8 30.9 11.6 30.9 12.6 41.2 10.6 41.3 9.4 41.3 8.6 41.2 8.2 41.2 7.8 41.3M608.4 52.8l19.2 30.9 17.8 30.9 15.8 30.9 13.3 30.9 10.8 30.9 8.7 30.9 7.3 30.9 6.3 30.9 7.6 41.2 6.9 41.3 6.6 41.3 6.3 41.2 6.1 41.2 5.9 41.3M477 52.8l31 30.9 26.3 30.9 21.8 30.9 18.2 30.9 15.2 30.9 13 30.9 11.5 30.9 10.2 30.9 12.3 41.2 11.1 41.3 10.4 41.3 9.8 41.2 9.3 41.2 9 41.3M294.9 52.8l54.8 30.9 50.9 30.9 45 30.9 37.1 30.9 28.2 30.9 20.8 30.9 15.3 30.9 11.9 30.9 12.5 41.2 10.3 41.3 9 41.3 8.1 41.2 7.5 41.2 7.2 41.3M627.3 52.8l11.3 30.9 10.5 30.9 9.6 30.9 8.9 30.9 8.3 30.9 7.8 30.9 7.5 30.9 7.1 30.9 9.1 41.2 8.8 41.3 8.7 41.3 8.4 41.2 8.3 41.2 8.3 41.3" stroke="#D95319"/><path d="M248.2 52.8l57.6 30.9 53.2 30.9 47.8 30.9 41 30.9 33.7 30.9 26.9 30.9 21 30.9 16.4 30.9 16.8 41.2 12.7 41.3 10.1 41.3 8.3 41.2 7 41.2 6.1 41.3M255.6 52.8l59.3 30.9 53.3 30.9 46.2 30.9 38.4 30.9 30.9 30.9 24.2 30.9 19 30.9 14.9 30.9 15.4 41.2 11.9 41.3 9.4 41.3 7.7 41.2 6.5 41.2 5.6 41.3M589.5 52.8l17.3 30.9 15.6 30.9 14 30.9 12.4 30.9 11 30.9 10 30.9 9.3 30.9 8.7 30.9 11 41.2 10.5 41.3 10.2 41.3 10 41.2 9.8 41.2 9.6 41.3M607.5 52.8l12.6 30.9 11.3 30.9 10.3 30.9 9.6 30.9 8.9 30.9 8.3 30.9 8 30.9 7.7 30.9 9.9 41.2 9.6 41.3 9.4 41.3 9.1 41.2 9 41.2 8.9 41.3M529.3 52.8l27.7 30.9 22.3 30.9 17.4 30.9 13.8 30.9 11.4 30.9 9.8 30.9 8.7 30.9 8.1 30.9 10 41.2 9.4 41.3 9 41.3 8.8 41.2 8.6 41.2 8.4 41.3M505.2 52.8l38.4 30.9 33.2 30.9 26.2 30.9 19.1 30.9 13.8 30.9 10.4 30.9 8.5 30.9 7.3 30.9 8.6 41.2 7.7 41.3 7.3 41.3 6.9 41.2 6.8 41.2 6.5 41.3M314.7 52.8l48.4 30.9 43.4 30.9 37.7 30.9 31.7 30.9 26 30.9 21.2 30.9 17.3 30.9 14.4 30.9 15.9 41.2 13.2 41.3 11.4 41.3 10.2 41.2 9.2 41.2 8.5 41.3M368.2 52.8l41.1 30.9 36.1 30.9 30.6 30.9 25.2 30.9 20.7 30.9 16.9 30.9 14.2 30.9 12.2 30.9 14 41.2 12.3 41.3 11.1 41.3 10.1 41.2 9.6 41.2 9.1 41.3M277 52.8l52.6 30.9 47.4 30.9 41.6 30.9 35.6 30.9 29.8 30.9 24.8 30.9 20.5 30.9 17 30.9 18.7 41.2 15.2 41.3 12.6 41.3 10.9 41.2 9.5 41.2 8.4 41.3M536 52.8l19.3 30.9 17.2 30.9 15.3 30.9 13.7 30.9 12.3 30.9 11.2 30.9 10.2 30.9 9.5 30.9 11.7 41.2 10.9 41.3 10.2 41.3 9.7 41.2 9.4 41.2 9 41.3M593.6 52.8l17.6 30.9 15.8 30.9 14.1 30.9 12.3 30.9 10.7 30.9 9.3 30.9 8.4 30.9 7.5 30.9 9.1 41.2 8.3 41.3 7.8 41.3 7.4 41.2 7.1 41.2 6.9 41.3M599.7 52.8l15.6 30.9 14.3 30.9 12.9 30.9 11.6 30.9 10.5 30.9 9.4 30.9 8.5 30.9 7.7 30.9 9.5 41.2 8.7 41.3 8.1 41.3 7.6 41.2 7.3 41.2 7 41.3M621 52.8l13.6 30.9 12.9 30.9 12.2 30.9 11.3 30.9 10.4 30.9 9.6 30.9 8.7 30.9 8 30.9 9.6 41.2 8.7 41.3 8 41.3 7.4 41.2 7 41.2 6.6 41.3M536.6 52.8l28.6 30.9 23.2 30.9 18.2 30.9 14.3 30.9 11.8 30.9 10 30.9 8.9 30.9 8.1 30.9 10.1 41.2 9.4 41.3 9.1 41.3 8.7 41.2 8.5 41.2 8.4 41.3M344.5 52.8l56.5 30.9 52.5 30.9 45.2 30.9 33.9 30.9 22.2 30.9 14.7 30.9 10.6 30.9 8.5 30.9 9.5 41.2 8.4 41.3 7.7 41.3 7.4 41.2 7.1 41.2 7 41.3M299.5 52.8l37.1 30.9 35.2 30.9 32.8 30.9 30.3 30.9 27.6 30.9 24.8 30.9 22.2 30.9 19.6 30.9 22.8 41.2 19.4 41.3 16.7 41.3 14.5 41.2 12.9 41.2 11.4 41.3M476 52.8l43.4 30.9 38 30.9 29.7 30.9 20.7 30.9 14.2 30.9 10.4 30.9 8.3 30.9 7.2 30.9 8.5 41.2 7.7 41.3 7.4 41.3 7 41.2 6.9 41.2 6.7 41.3M553.7 52.8l16.7 30.9 15.2 30.9 13.6 30.9 12.5 30.9 11.5 30.9 10.7 30.9 10.1 30.9 9.5 30.9 12 41.2 11.4 41.3 10.9 41.3 10.6 41.2 10.2 41.2 10 41.3M507.3 52.8l30.4 30.9 24.5 30.9 19.2 30.9 15.1 30.9 12.5 30.9 10.7 30.9 9.6 30.9 8.8 30.9 10.9 41.2 10.4 41.3 9.9 41.3 9.6 41.2 9.5 41.2 9.3 41.3M554.2 52.8l18.5 30.9 17 30.9 15.3 30.9 13.9 30.9 12.5 30.9 11.5 30.9 10.4 30.9 9.6 30.9 11.7 41.2 10.7 41.3 9.9 41.3 9.3 41.2 8.6 41.2 8.3 41.3M616.3 52.8l14.1 30.9 13 30.9 12 30.9 11 30.9 10 30.9 9.1 30.9 8.4 30.9 7.7 30.9 9.6 41.2 9 41.3 8.4 41.3 8 41.2 7.7 41.2 7.5 41.3M640.4 52.8l7.7 30.9 7.4 30.9 7.1 30.9 6.9 30.9 6.8 30.9 6.6 30.9 6.5 30.9 6.4 30.9 8.4 41.2 8.2 41.3 8.2 41.3 8.1 41.2 8 41.2 7.9 41.3M647 52.8l10.4 30.9 9.8 30.9 9.4 30.9 8.9 30.9 8.4 30.9 7.8 30.9 7.3 30.9 6.8 30.9 8.4 41.2 7.8 41.3 7.1 41.3 6.7 41.2 6.3 41.2 6 41.3" stroke="#EDB120"/><path d="M212.2 52.8l63.7 30.9 59 30.9 52.8 30.9 45 30.9 36.5 30.9 28.4 30.9 21.6 30.9 16.6 30.9 16.6 41.2 12.4 41.3 9.7 41.3 7.9 41.2 6.6 41.2 5.8 41.3M552.4 52.8l25.5 30.9 21.1 30.9 16.9 30.9 13.7 30.9 11.4 30.9 10 30.9 9.1 30.9 8.5 30.9 10.8 41.2 10.3 41.3 10 41.3 9.7 41.2 9.6 41.2 9.5 41.3M497.5 52.8l25.2 30.9 20.7 30.9 17.2 30.9 14.6 30.9 12.7 30.9 11.5 30.9 10.5 30.9 9.8 30.9 12.3 41.2 11.7 41.3 11.3 41.3 10.9 41.2 10.6 41.2 10.4 41.3M322.8 52.8l56.3 30.9 52.3 30.9 45.6 30.9 36.3 30.9 26.2 30.9 18.3 30.9 13.4 30.9 10.4 30.9 11.3 41.2 9.5 41.3 8.5 41.3 7.9 41.2 7.4 41.2 7.2 41.3M541.9 52.8l33.5 30.9 27.8 30.9 19.3 30.9 12.6 30.9 9.1 30.9 7.5 30.9 6.6 30.9 6.1 30.9 7.8 41.2 7.5 41.3 7.3 41.3 7.2 41.2 7.1 41.2 7.1 41.3M443 52.8l44.8 30.9 39.1 30.9 32.1 30.9 24.5 30.9 18.3 30.9 13.8 30.9 10.7 30.9 8.8 30.9 9.8 41.2 8.4 41.3 7.5 41.3 6.9 41.2 6.4 41.2 6.2 41.3M450.7 52.8l26.5 30.9 23.7 30.9 21.2 30.9 18.9 30.9 16.9 30.9 15.3 30.9 13.9 30.9 12.8 30.9 15.6 41.2 14.3 41.3 13.2 41.3 12.4 41.2 11.8 41.2 11.2 41.3M391.3 52.8l31.2 30.9 28.9 30.9 26.4 30.9 23.9 30.9 21.5 30.9 19.3 30.9 17.4 30.9 15.5 30.9 18.6 41.2 16.4 41.3 14.7 41.3 13.4 41.2 12.3 41.2 11.5 41.3M300.7 52.8l47.5 30.9 43.4 30.9 38.6 30.9 33 30.9 27.4 30.9 22.3 30.9 18 30.9 14.7 30.9 16 41.2 13 41.3 11 41.3 9.6 41.2 8.6 41.2 7.9 41.3M505.7 52.8l30.4 30.9 26.1 30.9 22.1 30.9 18.4 30.9 15.5 30.9 13.3 30.9 11.6 30.9 10.4 30.9 12.4 41.2 11.2 41.3 10.4 41.3 9.7 41.2 9.3 41.2 9 41.3M490.5 52.8l34.4 30.9 28.4 30.9 22.5 30.9 17.6 30.9 13.9 30.9 11.4 30.9 9.6 30.9 8.5 30.9 9.9 41.2 8.9 41.3 8.2 41.3 7.8 41.2 7.4 41.2 7.1 41.3M595.6 52.8l16.2 30.9 14.5 30.9 12.8 30.9 11.5 30.9 10.5 30.9 9.5 30.9 8.9 30.9 8.4 30.9 10.6 41.2 10 41.3 9.7 41.3 9.3 41.2 9.1 41.2 8.9 41.3M286.3 52.8l51.3 30.9 47.2 30.9 41.7 30.9 35 30.9 28 30.9 21.9 30.9 17.1 30.9 13.7 30.9 14.6 41.2 12 41.3 10.4 41.3 9.2 41.2 8.4 41.2 7.9 41.3M414.9 52.8l45.3 30.9 40.1 30.9 31.9 30.9 22.8 30.9 15.8 30.9 11.8 30.9 9.6 30.9 8.3 30.9 10 41.2 9.1 41.3 8.7 41.3 8.4 41.2 8.2 41.2 8 41.3M320 52.8l37.1 30.9 33.6 30.9 30.1 30.9 26.7 30.9 23.6 30.9 20.9 30.9 18.5 30.9 16.6 30.9 19.5 41.2 17.1 41.3 15.3 41.3 13.7 41.2 12.6 41.2 11.5 41.3M481.4 52.8l36.8 30.9 30.5 30.9 23.6 30.9 17.8 30.9 13.9 30.9 11.5 30.9 10 30.9 9.1 30.9 11.3 41.2 10.6 41.3 10.2 41.3 9.8 41.2 9.7 41.2 9.5 41.3M386 52.8l46.6 30.9 41.8 30.9 35.7 30.9 28.9 30.9 22.5 30.9 17.3 30.9 13.7 30.9 11.3 30.9 12.4 41.2 10.6 41.3 9.3 41.3 8.5 41.2 8 41.2 7.6 41.3M513.3 52.8l30.2 30.9 25.9 30.9 21.3 30.9 17 30.9 13.9 30.9 11.5 30.9 9.9 30.9 8.9 30.9 10.7 41.2 9.8 41.3 9.3 41.3 8.8 41.2 8.6 41.2 8.4 41.3M589.3 52.8l16.2 30.9 14.5 30.9 13 30.9 11.5 30.9 10.2 30.9 9.3 30.9 8.4 30.9 7.7 30.9 9.7 41.2 8.9 41.3 8.5 41.3 8.1 41.2 7.8 41.2 7.7 41.3M387.1 52.8l51.3 30.9 44.7 30.9 35.4 30.9 26.2 30.9 19.1 30.9 14.8 30.9 12.3 30.9 10.7 30.9 12.8 41.2 11.7 41.3 11.2 41.3 10.7 41.2 10.5 41.2 10.2 41.3M391.6 52.8l34.9 30.9 31.3 30.9 27.5 30.9 24.2 30.9 21.2 30.9 18.6 30.9 16.5 30.9 14.7 30.9 17.4 41.2 15.5 41.3 13.9 41.3 12.7 41.2 11.8 41.2 11.1 41.3M345.3 52.8l38.3 30.9 35.2 30.9 31.5 30.9 27.6 30.9 23.7 30.9 20.1 30.9 17.2 30.9 14.6 30.9 16.5 41.2 14 41.3 12.1 41.3 10.8 41.2 9.9 41.2 9.1 41.3M336.4 52.8l49.2 30.9 44.7 30.9 38.6 30.9 31 30.9 23.8 30.9 18.2 30.9 14.4 30.9 12 30.9 13.5 41.2 11.9 41.3 10.8 41.3 10.1 41.2 9.7 41.2 9.3 41.3M413.5 52.8l28 30.9 25.3 30.9 22.7 30.9 20.5 30.9 18.5 30.9 16.8 30.9 15.3 30.9 14 30.9 17.1 41.2 15.6 41.3 14.3 41.3 13.2 41.2 12.5 41.2 11.7 41.3M480.6 52.8l34.5 30.9 29.8 30.9 24.5 30.9 19.7 30.9 15.8 30.9 12.8 30.9 10.8 30.9 9.2 30.9 10.8 41.2 9.6 41.3 8.7 41.3 8.2 41.2 7.7 41.2 7.4 41.3M576.6 52.8l22.2 30.9 18.3 30.9 14.5 30.9 11.4 30.9 9.5 30.9 8.2 30.9 7.5 30.9 7.1 30.9 8.9 41.2 8.7 41.3 8.4 41.3 8.2 41.2 8.1 41.2 8.1 41.3M319.2 52.8l54.7 30.9 47.3 30.9 38.5 30.9 29.7 30.9 22.5 30.9 17.3 30.9 13.8 30.9 11.4 30.9 12.8 41.2 11 41.3 9.8 41.3 9.1 41.2 8.5 41.2 8 41.3" stroke="#0072BD"/><path d="M241.8 52.8l57.3 30.9 51.9 30.9 45.5 30.9 38.9 30.9 32.4 30.9 26.5 30.9 21.7 30.9 17.8 30.9 19.2 41.2 15.4 41.3 12.8 41.3 10.8 41.2 9.4 41.2 8.3 41.3M207.6 52.8l62.7 30.9 57.9 30.9 51.8 30.9 44.3 30.9 36.4 30.9 28.8 30.9 22.3 30.9 17.3 30.9 17.6 41.2 13.2 41.3 10.4 41.3 8.4 41.2 7 41.2 6.1 41.3M474.1 52.8l27.2 30.9 24.5 30.9 21.9 30.9 19.4 30.9 17.2 30.9 15.5 30.9 14 30.9 12.7 30.9 15.4 41.2 14 41.3 13 41.3 12.2 41.2 11.5 41.2 11 41.3M496.6 52.8l19 30.9 17.1 30.9 15.4 30.9 14.1 30.9 13 30.9 12 30.9 11.2 30.9 10.6 30.9 13.2 41.2 12.4 41.3 11.8 41.3 11.3 41.2 10.9 41.2 10.5 41.3M303.3 52.8l53.5 30.9 47.2 30.9 39.9 30.9 32.7 30.9 26.2 30.9 20.9 30.9 16.9 30.9 13.9 30.9 15.4 41.2 12.9 41.3 11.1 41.3 9.9 41.2 9 41.2 8.3 41.3M320.5 52.8l36.7 30.9 33.5 30.9 30.3 30.9 27.2 30.9 24.2 30.9 21.6 30.9 19.4 30.9 17.3 30.9 20.4 41.2 18 41.3 16 41.3 14.4 41.2 13.1 41.2 12 41.3M490.1 52.8l29.9 30.9 25 30.9 20.7 30.9 17.2 30.9 14.6 30.9 12.6 30.9 11.3 30.9 10.3 30.9 12.5 41.2 11.5 41.3 10.8 41.3 10.4 41.2 9.9 41.2 9.7 41.3M521.7 52.8l27.6 30.9 23.8 30.9 20.1 30.9 16.7 30.9 13.9 30.9 11.9 30.9 10.4 30.9 9.2 30.9 10.9 41.2 10 41.3 9.2 41.3 8.6 41.2 8.3 41.2 8 41.3M586.1 52.8l17 30.9 14.7 30.9 12.6 30.9 11 30.9 9.7 30.9 8.7 30.9 8 30.9 7.5 30.9 9.5 41.2 9 41.3 8.6 41.3 8.4 41.2 8.2 41.2 8 41.3M592.3 52.8l14.1 30.9 12.5 30.9 11.4 30.9 10.5 30.9 9.8 30.9 9.3 30.9 9 30.9 8.7 30.9 11.3 41.2 11 41.3 10.7 41.3 10.7 41.2 10.5 41.2 10.4 41.3M318.3 52.8l53.9 30.9 49.3 30.9 42.5 30.9 34 30.9 25.7 30.9 19.1 30.9 14.8 30.9 11.9 30.9 13.3 41.2 11.3 41.3 10.3 41.3 9.5 41.2 9 41.2 8.7 41.3M578.1 52.8l14.5 30.9 13 30.9 11.6 30.9 10.5 30.9 9.8 30.9 9.2 30.9 8.7 30.9 8.4 30.9 10.7 41.2 10.4 41.3 10 41.3 9.9 41.2 9.7 41.2 9.5 41.3M561.9 52.8l27.8 30.9 23 30.9 16.8 30.9 11.7 30.9 8.9 30.9 7.3 30.9 6.5 30.9 6 30.9 7.6 41.2 7.3 41.3 7.2 41.3 6.9 41.2 6.9 41.2 6.9 41.3M294.7 52.8l59.7 30.9 56.2 30.9 49.6 30.9 38.5 30.9 25.7 30.9 16.7 30.9 11.9 30.9 9.3 30.9 10.5 41.2 9.1 41.3 8.5 41.3 8.1 41.2 7.8 41.2 7.6 41.3M283.9 52.8l54.6 30.9 51.7 30.9 47.4 30.9 40.8 30.9 32.3 30.9 23.9 30.9 17 30.9 12.6 30.9 12.5 41.2 9.6 41.3 8 41.3 7 41.2 6.4 41.2 5.9 41.3M331.5 52.8l61.3 30.9 58.3 30.9 51.9 30.9 39.6 30.9 24.5 30.9 14.7 30.9 10 30.9 7.8 30.9 8.7 41.2 7.8 41.3 7.2 41.3 6.9 41.2 6.7 41.2 6.5 41.3M330.8 52.8l49.5 30.9 45.7 30.9 40.8 30.9 34.4 30.9 27.5 30.9 21.4 30.9 16.5 30.9 12.9 30.9 13.6 41.2 10.9 41.3 9.1 41.3 8 41.2 7.3 41.2 6.7 41.3M430.5 52.8l46.8 30.9 41.5 30.9 33.4 30.9 24.3 30.9 16.8 30.9 12.3 30.9 9.6 30.9 8 30.9 9.3 41.2 8.3 41.3 7.7 41.3 7.4 41.2 7 41.2 6.9 41.3M554.2 52.8l29.8 30.9 27.3 30.9 21.8 30.9 14.9 30.9 10 30.9 7.8 30.9 6.8 30.9 6.2 30.9 7.9 41.2 7.7 41.3 7.5 41.3 7.3 41.2 7.3 41.2 7.3 41.3M368.7 52.8l35.3 30.9 32.1 30.9 28.9 30.9 25.7 30.9 22.7 30.9 20 30.9 17.7 30.9 15.7 30.9 18.4 41.2 16.1 41.3 14.2 41.3 12.8 41.2 11.7 41.2 10.8 41.3M438.5 52.8l46.1 30.9 38.7 30.9 29.7 30.9 21.7 30.9 16.1 30.9 12.7 30.9 10.7 30.9 9.3 30.9 11.3 41.2 10.3 41.3 9.8 41.3 9.4 41.2 9.1 41.2 8.9 41.3M311.9 52.8l54.4 30.9 48.1 30.9 40.1 30.9 31.6 30.9 24.2 30.9 18.8 30.9 15.2 30.9 12.8 30.9 14.7 41.2 12.9 41.3 11.8 41.3 11.1 41.2 10.5 41.2 10.2 41.3M365.3 52.8l33.1 30.9 30 30.9 26.9 30.9 24.1 30.9 21.7 30.9 19.5 30.9 17.6 30.9 16 30.9 19.3 41.2 17.2 41.3 15.7 41.3 14.4 41.2 13.3 41.2 12.4 41.3M449.9 52.8l36.3 30.9 30.9 30.9 25.7 30.9 21 30.9 17.3 30.9 14.5 30.9 12.5 30.9 11 30.9 12.9 41.2 11.6 41.3 10.6 41.3 9.9 41.2 9.4 41.2 8.9 41.3M455.3 52.8l39.2 30.9 32.8 30.9 24.7 30.9 17.6 30.9 13.2 30.9 10.7 30.9 9.4 30.9 8.5 30.9 10.7 41.2 10.2 41.3 9.8 41.3 9.6 41.2 9.4 41.2 9.4 41.3M553 52.8l17.3 30.9 15.9 30.9 14.6 30.9 13.5 30.9 12.4 30.9 11.7 30.9 11 30.9 10.4 30.9 13.2 41.2 12.5 41.3 11.9 41.3 11.6 41.2 11.2 41.2 10.9 41.3M434.5 52.8l33.5 30.9 29.1 30.9 25 30.9 21.1 30.9 18 30.9 15.4 30.9 13.3 30.9 11.8 30.9 14 41.2 12.4 41.3 11.4 41.3 10.6 41.2 9.9 41.2 9.5 41.3M598.2 52.8l16.2 30.9 15 30.9 13.8 30.9 12.7 30.9 11.6 30.9 10.5 30.9 9.6 30.9 8.8 30.9 10.7 41.2 9.7 41.3 8.9 41.3 8.2 41.2 7.7 41.2 7.3 41.3" stroke="#4DBEEE"/><path d="M210.8 52.8l56.8 30.9 52.9 30.9 48 30.9 42.3 30.9 35.9 30.9 29.8 30.9 24.1 30.9 19.5 30.9 20.5 41.2 15.9 41.3 12.7 41.3 10.5 41.2 8.9 41.2 7.8 41.3M217 52.8l58.5 30.9 54.4 30.9 49.3 30.9 42.8 30.9 35.6 30.9 28.7 30.9 22.7 30.9 17.9 30.9 18.5 41.2 14.3 41.3 11.5 41.3 9.6 41.2 8.3 41.2 7.4 41.3M241.1 52.8l61.7 30.9 55.3 30.9 47.7 30.9 39.2 30.9 31.4 30.9 24.5 30.9 19.3 30.9 15.3 30.9 16.2 41.2 12.7 41.3 10.5 41.3 8.8 41.2 7.8 41.2 6.9 41.3M227 52.8l60.5 30.9 55.9 30.9 49.8 30.9 42.6 30.9 34.6 30.9 27.1 30.9 20.9 30.9 16.2 30.9 16.4 41.2 12.4 41.3 9.8 41.3 8.1 41.2 6.8 41.2 6 41.3M278.5 52.8l51.6 30.9 46.4 30.9 40.4 30.9 34.3 30.9 28.6 30.9 23.5 30.9 19.3 30.9 15.9 30.9 17.2 41.2 13.8 41.3 11.4 41.3 9.6 41.2 8.4 41.2 7.3 41.3M303.2 52.8l46.2 30.9 41.6 30.9 36.6 30.9 31.6 30.9 26.8 30.9 22.7 30.9 19.3 30.9 16.5 30.9 18.7 41.2 15.9 41.3 13.9 41.3 12.4 41.2 11.3 41.2 10.4 41.3M567.5 52.8l12.2 30.9 11.4 30.9 10.8 30.9 10.2 30.9 9.7 30.9 9.4 30.9 9.1 30.9 8.7 30.9 11.5 41.2 11 41.3 10.9 41.3 10.6 41.2 10.4 41.2 10.3 41.3M337.2 52.8l43.4 30.9 38.6 30.9 33.6 30.9 28.7 30.9 24.4 30.9 20.6 30.9 17.5 30.9 15.1 30.9 17.1 41.2 14.7 41.3 12.7 41.3 11.3 41.2 10.3 41.2 9.5 41.3M535.3 52.8l20.7 30.9 18.5 30.9 16.5 30.9 14.6 30.9 13 30.9 11.6 30.9 10.4 30.9 9.5 30.9 11.5 41.2 10.4 41.3 9.6 41.3 9 41.2 8.5 41.2 8.2 41.3M477.5 52.8l39.5 30.9 34.6 30.9 27.9 30.9 20.5 30.9 15 30.9 11.6 30.9 9.7 30.9 8.4 30.9 10.2 41.2 9.4 41.3 9 41.3 8.7 41.2 8.4 41.2 8.4 41.3M498.2 52.8l34.2 30.9 25.6 30.9 17.3 30.9 12.8 30.9 10.9 30.9 10 30.9 9.5 30.9 9.3 30.9 12 41.2 11.9 41.3 11.8 41.3 11.7 41.2 11.6 41.2 11.6 41.3M541.6 52.8l15.3 30.9 14.1 30.9 13.3 30.9 12.4 30.9 11.7 30.9 11.1 30.9 10.6 30.9 10.2 30.9 13 41.2 12.5 41.3 12 41.3 11.6 41.2 11.4 41.2 11 41.3M338.8 52.8l43.9 30.9 39 30.9 34 30.9 29.1 30.9 24.5 30.9 20.7 30.9 17.5 30.9 15 30.9 16.9 41.2 14.3 41.3 12.4 41.3 11 41.2 10 41.2 9.1 41.3M360.2 52.8l46.5 30.9 41.4 30.9 35.6 30.9 29.5 30.9 23.8 30.9 19.3 30.9 15.8 30.9 13.3 30.9 14.9 41.2 12.7 41.3 11.3 41.3 10.3 41.2 9.5 41.2 9 41.3M348.7 52.8l57.3 30.9 52.4 30.9 44.5 30.9 33.9 30.9 23.8 30.9 16.6 30.9 12.3 30.9 9.8 30.9 10.9 41.2 9.5 41.3 8.5 41.3 8.1 41.2 7.6 41.2 7.4 41.3M531.4 52.8l24.7 30.9 21.4 30.9 18 30.9 15.1 30.9 12.9 30.9 11.2 30.9 10 30.9 9.1 30.9 11.2 41.2 10.4 41.3 9.8 41.3 9.4 41.2 9.2 41.2 8.9 41.3M403 52.8l42.2 30.9 36.4 30.9 29.8 30.9 23.6 30.9 18.6 30.9 15.1 30.9 12.6 30.9 11 30.9 12.9 41.2 11.6 41.3 10.8 41.3 10.1 41.2 9.8 41.2 9.4 41.3M286.8 52.8l63.7 30.9 58.4 30.9 49.6 30.9 37.8 30.9 26.2 30.9 17.7 30.9 12.7 30.9 9.7 30.9 10.3 41.2 8.5 41.3 7.5 41.3 6.9 41.2 6.4 41.2 6.1 41.3M426.9 52.8l45.6 30.9 38.5 30.9 30.1 30.9 22.6 30.9 16.9 30.9 13.2 30.9 10.9 30.9 9.3 30.9 11 41.2 9.8 41.3 9.1 41.3 8.6 41.2 8.2 41.2 8 41.3M612.5 52.8l14.1 30.9 13.3 30.9 12.5 30.9 11.5 30.9 10.6 30.9 9.9 30.9 9 30.9 8.4 30.9 10.3 41.2 9.5 41.3 8.8 41.3 8.3 41.2 7.8 41.2 7.6 41.3M593.6 52.8l15.9 30.9 14.2 30.9 12.7 30.9 11.2 30.9 10 30.9 9 30.9 8.1 30.9 7.5 30.9 9.2 41.2 8.5 41.3 7.9 41.3 7.6 41.2 7.3 41.2 7 41.3M289.7 52.8l46.8 30.9 43.7 30.9 40 30.9 35.6 30.9 30.9 30.9 26.3 30.9 22.1 30.9 18.5 30.9 20.4 41.2 16.6 41.3 14.1 41.3 12.1 41.2 10.9 41.2 9.8 41.3M551.2 52.8l18.5 30.9 16.5 30.9 14.6 30.9 13.1 30.9 11.6 30.9 10.5 30.9 9.5 30.9 8.8 30.9 10.8 41.2 10 41.3 9.3 41.3 8.8 41.2 8.4 41.2 8.1 41.3M287.2 52.8l60 30.9 55.9 30.9 48.7 30.9 37.9 30.9 26.5 30.9 18.4 30.9 13.7 30.9 11.2 30.9 12.8 41.2 11.5 41.3 10.6 41.3 10.1 41.2 9.8 41.2 9.6 41.3M589.6 52.8l16.8 30.9 14.7 30.9 12.9 30.9 11.2 30.9 10 30.9 9.1 30.9 8.4 30.9 7.9 30.9 10 41.2 9.5 41.3 9.1 41.3 8.9 41.2 8.8 41.2 8.5 41.3M611.6 52.8l14.3 30.9 12.1 30.9 10.5 30.9 9.1 30.9 8.2 30.9 7.6 30.9 7.1 30.9 6.8 30.9 8.8 41.2 8.5 41.3 8.3 41.3 8.2 41.2 8.1 41.2 8 41.3M545.4 52.8l30.9 30.9 27.2 30.9 21.6 30.9 16 30.9 11.8 30.9 9.3 30.9 8 30.9 7 30.9 8.7 41.2 8.2 41.3 7.8 41.3 7.6 41.2 7.5 41.2 7.4 41.3M316.3 52.8l44.4 30.9 39.9 30.9 35.1 30.9 30.2 30.9 25.6 30.9 21.5 30.9 18.1 30.9 15.4 30.9 17.3 41.2 14.5 41.3 12.3 41.3 10.9 41.2 9.8 41.2 8.9 41.3M387.7 52.8l35.6 30.9 31.5 30.9 27.4 30.9 23.7 30.9 20.4 30.9 17.7 30.9 15.5 30.9 13.5 30.9 15.9 41.2 13.8 41.3 12.4 41.3 11.2 41.2 10.2 41.2 9.6 41.3M465.8 52.8l25.3 30.9 22.6 30.9 20.1 30.9 17.9 30.9 16 30.9 14.5 30.9 13 30.9 11.9 30.9 14.5 41.2 13.2 41.3 12.1 41.3 11.4 41.2 10.6 41.2 10.2 41.3M435.4 52.8l44.3 30.9 38.1 30.9 30.8 30.9 23.8 30.9 18.1 30.9 14.2 30.9 11.6 30.9 9.8 30.9 11.4 41.2 10 41.3 9.1 41.3 8.5 41.2 8.2 41.2 7.8 41.3M477.1 52.8l40.4 30.9 37.7 30.9 32 30.9 22.8 30.9 14.2 30.9 9.4 30.9 7.1 30.9 6.1 30.9 7.1 41.2 6.6 41.3 6.3 41.3 6.1 41.2 5.9 41.2 5.9 41.3M657.4 52.8l9.1 30.9 8.8 30.9 8.4 30.9 8.1 30.9 7.8 30.9 7.4 30.9 7.2 30.9 6.9 30.9 9 41.2 8.6 41.3 8.4 41.3 8.1 41.2 8 41.2 7.9 41.3" stroke="#77AC30"/><path d="M229.3 52.8l57.9 30.9 52.5 30.9 46.2 30.9 39.6 30.9 33.1 30.9 27 30.9 22 30.9 17.9 30.9 18.9 41.2 14.7 41.3 11.7 41.3 9.6 41.2 8 41.2 6.8 41.3M200 52.8l60 30.9 54.8 30.9 48.7 30.9 42 30.9 35.1 30.9 28.8 30.9 23.4 30.9 19 30.9 20.1 41.2 15.7 41.3 12.7 41.3 10.4 41.2 8.8 41.2 7.7 41.3M232.2 52.8l54.7 30.9 48.9 30.9 42.5 30.9 36.1 30.9 30.2 30.9 25 30.9 20.7 30.9 17.3 30.9 19 41.2 15.4 41.3 12.9 41.3 11 41.2 9.6 41.2 8.5 41.3M208.4 52.8l58.7 30.9 54.6 30.9 49.3 30.9 43 30.9 35.8 30.9 28.9 30.9 22.8 30.9 17.9 30.9 18.2 41.2 13.7 41.3 10.7 41.3 8.7 41.2 7.1 41.2 6.2 41.3M297.3 52.8l42.1 30.9 38.2 30.9 34.1 30.9 30 30.9 26.1 30.9 22.6 30.9 19.7 30.9 17.1 30.9 19.6 41.2 16.9 41.3 14.6 41.3 13 41.2 11.8 41.2 10.7 41.3M620.9 52.8l15.3 30.9 14.6 30.9 13.5 30.9 12.3 30.9 10.7 30.9 9.4 30.9 8 30.9 7 30.9 8.2 41.2 7.3 41.3 6.8 41.3 6.3 41.2 6 41.2 5.8 41.3M341.1 52.8l59 30.9 58.1 30.9 55.4 30.9 46.3 30.9 25.4 30.9 11.4 30.9 7.1 30.9 5.8 30.9 6.9 41.2 6.4 41.3 6.2 41.3 6 41.2 6 41.2 6 41.3M592.5 52.8l15.6 30.9 13.3 30.9 11.2 30.9 9.7 30.9 8.8 30.9 8.1 30.9 7.8 30.9 7.4 30.9 9.8 41.2 9.5 41.3 9.3 41.3 9.3 41.2 9.2 41.2 9.2 41.3M328.8 52.8l52.6 30.9 48.6 30.9 42.6 30.9 34 30.9 24.8 30.9 17.7 30.9 13 30.9 10.1 30.9 11.1 41.2 9.3 41.3 8.3 41.3 7.7 41.2 7.3 41.2 7 41.3M468.6 52.8l25.6 30.9 22.9 30.9 20.2 30.9 18 30.9 16.1 30.9 14.5 30.9 13.2 30.9 12.1 30.9 14.9 41.2 13.5 41.3 12.7 41.3 11.8 41.2 11.3 41.2 10.8 41.3M510.2 52.8l28.6 30.9 24.4 30.9 19.6 30.9 15.2 30.9 12.1 30.9 10.2 30.9 8.8 30.9 8.1 30.9 9.9 41.2 9.4 41.3 8.9 41.3 8.7 41.2 8.6 41.2 8.3 41.3M416 52.8l36.5 30.9 32.5 30.9 28.3 30.9 24.3 30.9 20.6 30.9 17.6 30.9 15.1 30.9 13.1 30.9 15.2 41.2 13.2 41.3 11.8 41.3 10.7 41.2 9.9 41.2 9.3 41.3M517.4 52.8l32.6 30.9 27.7 30.9 22.4 30.9 17.4 30.9 13.4 30.9 10.7 30.9 8.8 30.9 7.6 30.9 8.9 41.2 7.9 41.3 7.3 41.3 6.8 41.2 6.5 41.2 6.3 41.3M284.2 52.8l60.1 30.9 56.2 30.9 49.7 30.9 40.4 30.9 29.7 30.9 21 30.9 15.3 30.9 11.7 30.9 12.5 41.2 10.5 41.3 9.2 41.3 8.6 41.2 8 41.2 7.7 41.3M351.2 52.8l51.9 30.9 49.9 30.9 45.9 30.9 38.1 30.9 26.7 30.9 16.5 30.9 10.7 30.9 7.8 30.9 8.2 41.2 6.8 41.3 6.2 41.3 5.7 41.2 5.5 41.2 5.3 41.3M369.1 52.8l54.5 30.9 48.8 30.9 40.2 30.9 30 30.9 20.9 30.9 14.8 30.9 11 30.9 8.7 30.9 9.6 41.2 8.1 41.3 7.3 41.3 6.7 41.2 6.3 41.2 6.1 41.3M529.6 52.8l23.4 30.9 19.9 30.9 16.9 30.9 14.5 30.9 12.6 30.9 11.2 30.9 10.4 30.9 9.6 30.9 12.1 41.2 11.5 41.3 11.1 41.3 10.7 41.2 10.5 41.2 10.3 41.3M299.4 52.8l36.5 30.9 33.9 30.9 31.1 30.9 28.3 30.9 25.7 30.9 23.2 30.9 21 30.9 18.9 30.9 22.6 41.2 19.9 41.3 17.9 41.3 16 41.2 14.7 41.2 13.5 41.3M546.1 52.8l16.4 30.9 14 30.9 12.5 30.9 11.3 30.9 10.4 30.9 9.9 30.9 9.4 30.9 9 30.9 11.8 41.2 11.3 41.3 11.2 41.3 10.9 41.2 10.8 41.2 10.6 41.3M360 52.8l46 30.9 40 30.9 33.4 30.9 26.9 30.9 21.7 30.9 17.8 30.9 15.1 30.9 13.1 30.9 15.6 41.2 14.1 41.3 13 41.3 12.4 41.2 11.8 41.2 11.5 41.3M509.7 52.8l23.5 30.9 20.8 30.9 18.4 30.9 16.2 30.9 14.3 30.9 12.9 30.9 11.7 30.9 10.6 30.9 13.1 41.2 11.9 41.3 11.1 41.3 10.5 41.2 10 41.2 9.6 41.3M586.1 52.8l20.6 30.9 18.7 30.9 16.3 30.9 14 30.9 11.8 30.9 10.1 30.9 8.9 30.9 8 30.9 9.8 41.2 9 41.3 8.4 41.3 8.2 41.2 7.9 41.2 7.7 41.3M372.3 52.8l52.8 30.9 43.9 30.9 32.5 30.9 22.7 30.9 16.5 30.9 13.2 30.9 11.2 30.9 10.2 30.9 12.5 41.2 11.8 41.3 11.3 41.3 11 41.2 10.8 41.2 10.7 41.3M436.5 52.8l34.3 30.9 30.6 30.9 26.6 30.9 23 30.9 19.7 30.9 16.8 30.9 14.5 30.9 12.6 30.9 14.5 41.2 12.4 41.3 10.9 41.3 9.8 41.2 9 41.2 8.2 41.3M375.8 52.8l39.9 30.9 35.3 30.9 30.5 30.9 25.9 30.9 21.9 30.9 18.4 30.9 15.7 30.9 13.5 30.9 15.5 41.2 13.4 41.3 11.8 41.3 10.6 41.2 9.8 41.2 9 41.3M340.5 52.8l46.8 30.9 42.4 30.9 36.6 30.9 30.5 30.9 24.6 30.9 19.6 30.9 16 30.9 13.2 30.9 14.7 41.2 12.5 41.3 11 41.3 10 41.2 9.3 41.2 8.8 41.3M477.4 52.8l25.4 30.9 22.6 30.9 20.1 30.9 18.1 30.9 16.2 30.9 14.7 30.9 13.5 30.9 12.4 30.9 15.3 41.2 14.1 41.3 13.2 41.3 12.5 41.2 11.9 41.2 11.4 41.3M645.5 52.8l6 30.9 6 30.9 6 30.9 5.9 30.9 5.9 30.9 5.9 30.9 5.9 30.9 5.8 30.9 7.8 41.2 7.7 41.3 7.7 41.3 7.7 41.2 7.7 41.2 7.6 41.3M630.1 52.8l12.2 30.9 11.7 30.9 11.2 30.9 10.6 30.9 9.9 30.9 9.1 30.9 8.3 30.9 7.6 30.9 9.2 41.2 8.3 41.3 7.6 41.3 7.1 41.2 6.7 41.2 6.5 41.3" stroke="#7E2F8E"/><path d="M249.6 52.8l57.1 30.9 50.7 30.9 43.9 30.9 36.8 30.9 30.4 30.9 24.7 30.9 20.1 30.9 16.5 30.9 17.7 41.2 14.1 41.3 11.5 41.3 9.6 41.2 8.2 41.2 7.1 41.3M253.7 52.8l59.1 30.9 52.7 30.9 45.4 30.9 38.1 30.9 31 30.9 25 30.9 20.1 30.9 16.3 30.9 17.3 41.2 13.7 41.3 11.2 41.3 9.3 41.2 8 41.2 7 41.3M213 52.8l54 30.9 50.1 30.9 45.4 30.9 40.1 30.9 34.8 30.9 29.3 30.9 24.5 30.9 20.2 30.9 21.8 41.2 17 41.3 13.7 41.3 11.1 41.2 9.4 41.2 7.9 41.3M240.8 52.8l55.3 30.9 49.5 30.9 43.4 30.9 37.3 30.9 31.6 30.9 26.6 30.9 22.2 30.9 18.8 30.9 20.8 41.2 17.1 41.3 14.3 41.3 12.2 41.2 10.7 41.2 9.4 41.3M504.4 52.8l36.1 30.9 30.9 30.9 23.2 30.9 16 30.9 11.4 30.9 9.1 30.9 7.7 30.9 7 30.9 8.6 41.2 8.3 41.3 7.9 41.3 7.8 41.2 7.6 41.2 7.5 41.3M433.4 52.8l41.2 30.9 35 30.9 28.2 30.9 22.1 30.9 17.2 30.9 13.8 30.9 11.3 30.9 9.7 30.9 11.3 41.2 9.9 41.3 9.1 41.3 8.4 41.2 8 41.2 7.6 41.3M429.3 52.8l34.5 30.9 30.6 30.9 26.4 30.9 22.7 30.9 19.2 30.9 16.4 30.9 14.1 30.9 12.4 30.9 14.4 41.2 12.8 41.3 11.5 41.3 10.6 41.2 9.9 41.2 9.4 41.3M411.8 52.8l43 30.9 37.9 30.9 32.1 30.9 26.5 30.9 21.7 30.9 17.8 30.9 15 30.9 12.9 30.9 14.9 41.2 13.1 41.3 11.9 41.3 11 41.2 10.4 41.2 9.9 41.3M614.9 52.8l14.9 30.9 13.7 30.9 12.4 30.9 10.9 30.9 9.5 30.9 8.2 30.9 7.3 30.9 6.5 30.9 7.7 41.2 7 41.3 6.5 41.3 6.2 41.2 5.9 41.2 5.7 41.3M372.8 52.8l40.1 30.9 34.8 30.9 29.5 30.9 24.8 30.9 20.9 30.9 17.6 30.9 15.2 30.9 13.1 30.9 15.3 41.2 13.4 41.3 11.9 41.3 10.8 41.2 10.1 41.2 9.5 41.3M518.9 52.8l19.2 30.9 16.9 30.9 14.9 30.9 13.2 30.9 11.9 30.9 10.9 30.9 10 30.9 9.4 30.9 11.8 41.2 11.1 41.3 10.6 41.3 10.1 41.2 9.8 41.2 9.6 41.3M304.4 52.8l49.6 30.9 44.6 30.9 38.9 30.9 32.8 30.9 27.1 30.9 22.3 30.9 18.4 30.9 15.5 30.9 17.2 41.2 14.5 41.3 12.5 41.3 11.1 41.2 10.2 41.2 9.5 41.3M466.1 52.8l24.8 30.9 22.5 30.9 20.3 30.9 18.3 30.9 16.4 30.9 14.9 30.9 13.4 30.9 12.3 30.9 14.8 41.2 13.3 41.3 12.1 41.3 11.2 41.2 10.4 41.2 9.8 41.3M520.4 52.8l22.6 30.9 20.2 30.9 17.8 30.9 15.8 30.9 14 30.9 12.6 30.9 11.3 30.9 10.3 30.9 12.6 41.2 11.6 41.3 10.7 41.3 10.1 41.2 9.7 41.2 9.3 41.3M547.5 52.8l20.3 30.9 18.5 30.9 16.8 30.9 15.2 30.9 13.7 30.9 12.4 30.9 11.3 30.9 10.3 30.9 12.6 41.2 11.5 41.3 10.6 41.3 9.9 41.2 9.3 41.2 8.9 41.3M404.6 52.8l55.2 30.9 46.8 30.9 31.4 30.9 18.2 30.9 12.4 30.9 9.9 30.9 8.7 30.9 8.2 30.9 10.4 41.2 10.1 41.3 9.9 41.3 9.7 41.2 9.7 41.2 9.6 41.3M391.5 52.8l57.6 30.9 54.4 30.9 45.1 30.9 26.8 30.9 13.5 30.9 8.7 30.9 7 30.9 6.3 30.9 7.7 41.2 7.4 41.3 7.2 41.3 7.1 41.2 7 41.2 6.9 41.3M552.4 52.8l22.8 30.9 19.6 30.9 16.2 30.9 13.4 30.9 11 30.9 9.2 30.9 8 30.9 7.2 30.9 8.5 41.2 7.8 41.3 7.2 41.3 6.9 41.2 6.5 41.2 6.4 41.3M454.1 52.8l51.4 30.9 44.2 30.9 33.4 30.9 22.6 30.9 15.1 30.9 10.9 30.9 8.6 30.9 7.3 30.9 8.4 41.2 7.7 41.3 7.1 41.3 6.8 41.2 6.6 41.2 6.4 41.3M390.3 52.8l42 30.9 36 30.9 29.9 30.9 24.6 30.9 20.2 30.9 16.7 30.9 14.1 30.9 12.2 30.9 14 41.2 12.1 41.3 11 41.3 9.9 41.2 9.3 41.2 8.8 41.3M436.3 52.8l47.2 30.9 41.8 30.9 33.4 30.9 24.1 30.9 16.6 30.9 12.1 30.9 9.5 30.9 8 30.9 9.3 41.2 8.3 41.3 7.8 41.3 7.4 41.2 7.2 41.2 7 41.3M305 52.8l48.6 30.9 43.4 30.9 37.7 30.9 31.7 30.9 26.3 30.9 21.6 30.9 17.8 30.9 14.9 30.9 16.4 41.2 13.7 41.3 11.7 41.3 10.3 41.2 9.3 41.2 8.5 41.3M497.3 52.8l39.3 30.9 33.6 30.9 24.4 30.9 15.5 30.9 10.2 30.9 7.5 30.9 6.2 30.9 5.5 30.9 6.6 41.2 6.2 41.3 6 41.3 5.7 41.2 5.7 41.2 5.6 41.3M556.8 52.8l22.5 30.9 19.5 30.9 16.7 30.9 14.4 30.9 12.4 30.9 10.8 30.9 9.8 30.9 8.8 30.9 10.7 41.2 9.9 41.3 9.2 41.3 8.8 41.2 8.4 41.2 8.1 41.3M384.7 52.8l31.8 30.9 28.7 30.9 25.8 30.9 23.1 30.9 20.6 30.9 18.5 30.9 16.7 30.9 15.2 30.9 18.2 41.2 16.3 41.3 14.9 41.3 13.6 41.2 12.7 41.2 11.9 41.3M478.7 52.8l42.6 30.9 34.8 30.9 24.2 30.9 15.9 30.9 11.5 30.9 9.2 30.9 8.1 30.9 7.4 30.9 9.3 41.2 8.9 41.3 8.7 41.3 8.5 41.2 8.4 41.2 8.2 41.3" stroke="#A2142F"/><path d="M233 52.8l55.7 30.9 49.6 30.9 43 30.9 36.4 30.9 30.4 30.9 25.1 30.9 20.7 30.9 17.3 30.9 18.8 41.2 15.3 41.3 12.7 41.3 10.8 41.2 9.4 41.2 8.3 41.3M360.9 52.8l36.3 30.9 33.2 30.9 29.9 30.9 26.6 30.9 23.6 30.9 20.8 30.9 18.4 30.9 16.6 30.9 19.5 41.2 17.4 41.3 15.7 41.3 14.4 41.2 13.4 41.2 12.6 41.3M525.2 52.8l35.6 30.9 29.4 30.9 22 30.9 15.7 30.9 11.9 30.9 9.8 30.9 8.5 30.9 7.9 30.9 9.8 41.2 9.3 41.3 9.1 41.3 8.8 41.2 8.7 41.2 8.6 41.3M350.4 52.8l49 30.9 43.9 30.9 36.8 30.9 28.9 30.9 21.9 30.9 16.8 30.9 13.3 30.9 11.1 30.9 12.8 41.2 11.2 41.3 10.3 41.3 9.6 41.2 9.3 41.2 8.9 41.3M562.7 52.8l22.2 30.9 18.9 30.9 15.6 30.9 13 30.9 11 30.9 9.5 30.9 8.4 30.9 7.6 30.9 9.3 41.2 8.6 41.3 8.2 41.3 7.8 41.2 7.5 41.2 7.3 41.3M515.2 52.8l36.5 30.9 33.7 30.9 28.9 30.9 22 30.9 15.2 30.9 10.5 30.9 7.7 30.9 6.1 30.9 6.9 41.2 5.9 41.3 5.4 41.3 5.1 41.2 4.9 41.2 4.7 41.3M419.9 52.8l26.7 30.9 23.3 30.9 20.4 30.9 18.1 30.9 16.3 30.9 14.8 30.9 13.7 30.9 12.9 30.9 16 41.2 15.1 41.3 14.4 41.3 13.8 41.2 13.4 41.2 13 41.3M510.4 52.8l24.4 30.9 21.6 30.9 18.9 30.9 16.4 30.9 14.3 30.9 12.5 30.9 11 30.9 9.8 30.9 11.7 41.2 10.4 41.3 9.4 41.3 8.8 41.2 8.1 41.2 7.8 41.3M574.2 52.8l18.2 30.9 16.4 30.9 14.7 30.9 13.1 30.9 11.5 30.9 10.4 30.9 9.3 30.9 8.5 30.9 10.3 41.2 9.6 41.3 9 41.3 8.5 41.2 8.2 41.2 7.9 41.3M437.8 52.8l27.6 30.9 25 30.9 22.6 30.9 20.5 30.9 18.5 30.9 16.7 30.9 15.3 30.9 14 30.9 17.1 41.2 15.4 41.3 14.3 41.3 13.1 41.2 12.4 41.2 11.6 41.3M456 52.8l42.6 30.9 35.6 30.9 28.5 30.9 22 30.9 17 30.9 13.5 30.9 10.9 30.9 9.2 30.9 10.5 41.2 9 41.3 8.1 41.3 7.3 41.2 6.9 41.2 6.6 41.3M300.4 52.8l42.9 30.9 38.4 30.9 33.9 30.9 29.5 30.9 25.7 30.9 22.4 30.9 19.6 30.9 17.3 30.9 20.4 41.2 17.9 41.3 16.2 41.3 14.9 41.2 13.8 41.2 13 41.3M426.9 52.8l28.4 30.9 26 30.9 23.8 30.9 21.6 30.9 19.7 30.9 17.9 30.9 16.5 30.9 15 30.9 18.4 41.2 16.7 41.3 15.4 41.3 14.2 41.2 13.4 41.2 12.6 41.3M522.2 52.8l25 30.9 19.8 30.9 16 30.9 13.3 30.9 11.6 30.9 10.6 30.9 9.8 30.9 9.3 30.9 11.8 41.2 11.4 41.3 11.1 41.3 10.9 41.2 10.7 41.2 10.6 41.3M374.4 52.8l46.4 30.9 39.5 30.9 32.4 30.9 25.8 30.9 20.4 30.9 16.5 30.9 13.7 30.9 11.6 30.9 13.3 41.2 11.6 41.3 10.4 41.3 9.6 41.2 9 41.2 8.6 41.3M465.9 52.8l46.7 30.9 41.5 30.9 30.8 30.9 18.4 30.9 11.6 30.9 8.8 30.9 7.4 30.9 6.8 30.9 8.5 41.2 8.1 41.3 7.9 41.3 7.8 41.2 7.7 41.2 7.7 41.3M309.9 52.8l57.9 30.9 52.8 30.9 43.9 30.9 32.5 30.9 22.3 30.9 15.8 30.9 12.2 30.9 10.1 30.9 11.7 41.2 10.5 41.3 9.8 41.3 9.3 41.2 9.1 41.2 8.8 41.3M570.4 52.8l23.7 30.9 20.4 30.9 16.6 30.9 13.2 30.9 10.5 30.9 8.8 30.9 7.6 30.9 6.9 30.9 8.5 41.2 8 41.3 7.6 41.3 7.3 41.2 7.2 41.2 7.1 41.3M423.8 52.8l47.8 30.9 41.7 30.9 33.1 30.9 23.9 30.9 16.7 30.9 12.2 30.9 9.6 30.9 8.1 30.9 9.4 41.2 8.3 41.3 7.8 41.3 7.3 41.2 7.1 41.2 6.9 41.3M615.3 52.8l10.4 30.9 9.7 30.9 9.1 30.9 8.8 30.9 8.4 30.9 8.2 30.9 8 30.9 7.8 30.9 10.4 41.2 10.1 41.3 10.1 41.3 9.9 41.2 9.9 41.2 9.8 41.3M411.7 52.8l46.2 30.9 39.8 30.9 32 30.9 24.3 30.9 18.2 30.9 14 30.9 11.3 30.9 9.6 30.9 11 41.2 9.7 41.3 9 41.3 8.4 41.2 8 41.2 7.7 41.3" stroke="#D95319"/><path d="M215.4 52.8l59.7 30.9 54.3 30.9 48 30.9 40.9 30.9 33.8 30.9 27.4 30.9 21.9 30.9 17.6 30.9 18.4 41.2 14.4 41.3 11.6 41.3 9.6 41.2 8.2 41.2 7.1 41.3M389.5 52.8l46 30.9 42.5 30.9 37.2 30.9 30.7 30.9 24 30.9 18.2 30.9 14.1 30.9 11.3 30.9 12.4 41.2 10.4 41.3 9.3 41.3 8.5 41.2 7.9 41.2 7.6 41.3M403.6 52.8l55 30.9 48.5 30.9 36 30.9 22.2 30.9 14.2 30.9 10.8 30.9 9.2 30.9 8.4 30.9 10.5 41.2 10 41.3 9.8 41.3 9.6 41.2 9.4 41.2 9.4 41.3M525.4 52.8l30 30.9 26.1 30.9 21.3 30.9 16.8 30.9 13.3 30.9 11.2 30.9 9.8 30.9 8.9 30.9 11.1 41.2 10.5 41.3 10.1 41.3 9.9 41.2 9.7 41.2 9.5 41.3M454.1 52.8l37.9 30.9 33.1 30.9 27.3 30.9 21.4 30.9 16.7 30.9 13.2 30.9 11 30.9 9.4 30.9 11.1 41.2 10 41.3 9.2 41.3 8.8 41.2 8.4 41.2 8.2 41.3M482 52.8l35.4 30.9 29.9 30.9 23.5 30.9 17.7 30.9 13.4 30.9 10.6 30.9 8.8 30.9 7.7 30.9 9.1 41.2 8.2 41.3 7.7 41.3 7.4 41.2 7.1 41.2 6.9 41.3M474.7 52.8l37.5 30.9 33.8 30.9 28.6 30.9 22.8 30.9 17.4 30.9 13.6 30.9 11 30.9 9.4 30.9 11 41.2 9.8 41.3 9.2 41.3 8.7 41.2 8.3 41.2 8.2 41.3M410.3 52.8l59.5 30.9 52.4 30.9 37.6 30.9 21.1 30.9 12.3 30.9 8.6 30.9 7 30.9 6.3 30.9 7.6 41.2 7.1 41.3 6.9 41.3 6.8 41.2 6.6 41.2 6.5 41.3M446.6 52.8l23.9 30.9 21.8 30.9 19.6 30.9 17.9 30.9 16.3 30.9 15 30.9 13.8 30.9 12.7 30.9 15.7 41.2 14.5 41.3 13.4 41.3 12.6 41.2 11.9 41.2 11.3 41.3M322.1 52.8l56.2 30.9 54.7 30.9 51.7 30.9 45.2 30.9 33.2 30.9 19.8 30.9 11.5 30.9 7.7 30.9 7.6 41.2 6.1 41.3 5.4 41.3 5 41.2 4.7 41.2 4.5 41.3M585 52.8l14.8 30.9 13.1 30.9 11.5 30.9 10.4 30.9 9.4 30.9 8.7 30.9 8.2 30.9 7.8 30.9 9.8 41.2 9.5 41.3 9.1 41.3 8.8 41.2 8.7 41.2 8.5 41.3M592.5 52.8l20 30.9 18.1 30.9 16 30.9 13.9 30.9 11.8 30.9 10.3 30.9 8.9 30.9 8 30.9 9.5 41.2 8.7 41.3 8 41.3 7.6 41.2 7.2 41.2 7 41.3M522.6 52.8l24.3 30.9 20.3 30.9 16.7 30.9 14.1 30.9 12.3 30.9 11.1 30.9 10.2 30.9 9.7 30.9 12.3 41.2 11.8 41.3 11.4 41.3 11.2 41.2 11.1 41.2 10.9 41.3M346 52.8l52.5 30.9 47.2 30.9 40.1 30.9 32 30.9 24.3 30.9 18.5 30.9 14.3 30.9 11.5 30.9 12.6 41.2 10.6 41.3 9.3 41.3 8.4 41.2 7.9 41.2 7.5 41.3M298.1 52.8l52.5 30.9 50 30.9 46.1 30.9 40.1 30.9 32.4 30.9 24.3 30.9 17.6 30.9 13.1 30.9 13.1 41.2 10.3 41.3 8.6 41.3 7.6 41.2 6.9 41.2 6.4 41.3M390 52.8l32.2 30.9 29.1 30.9 26 30.9 23.3 30.9 20.8 30.9 18.6 30.9 16.8 30.9 15.2 30.9 18.3 41.2 16.5 41.3 14.9 41.3 13.8 41.2 12.9 41.2 12.2 41.3M508.1 52.8l35.3 30.9 30.5 30.9 24.3 30.9 18.1 30.9 13.6 30.9 10.6 30.9 8.9 30.9 7.7 30.9 9.3 41.2 8.5 41.3 8.1 41.3 7.8 41.2 7.5 41.2 7.4 41.3M284.7 52.8l58.5 30.9 55.8 30.9 50.5 30.9 41.3 30.9 29.2 30.9 19 30.9 13 30.9 9.9 30.9 10.6 41.2 9 41.3 8.2 41.3 7.8 41.2 7.3 41.2 7.2 41.3M416.4 52.8l50 30.9 47.9 30.9 42.7 30.9 31.9 30.9 19.1 30.9 11.6 30.9 8.3 30.9 6.8 30.9 8.1 41.2 7.3 41.3 7.1 41.3 6.8 41.2 6.6 41.2 6.6 41.3M504.1 52.8l31.1 30.9 24.2 30.9 17.6 30.9 13.3 30.9 10.7 30.9 9.5 30.9 8.6 30.9 8.1 30.9 10.4 41.2 10.1 41.3 9.8 41.3 9.7 41.2 9.6 41.2 9.5 41.3M596.3 52.8l16.3 30.9 14.4 30.9 12.5 30.9 10.9 30.9 9.4 30.9 8.4 30.9 7.5 30.9 6.8 30.9 8.4 41.2 7.7 41.3 7.3 41.3 6.9 41.2 6.7 41.2 6.5 41.3M293.9 52.8l42 30.9 38.5 30.9 34.6 30.9 30.8 30.9 27 30.9 23.5 30.9 20.6 30.9 17.9 30.9 20.7 41.2 17.6 41.3 15.2 41.3 13.5 41.2 12.1 41.2 11 41.3M344.5 52.8l57.6 30.9 54.3 30.9 47.2 30.9 34.5 30.9 21 30.9 12.9 30.9 9 30.9 7.2 30.9 8.1 41.2 7.3 41.3 6.8 41.3 6.4 41.2 6.3 41.2 6.2 41.3M402.7 52.8l33 30.9 29.5 30.9 26.1 30.9 23 30.9 20.2 30.9 17.8 30.9 15.7 30.9 14.1 30.9 16.6 41.2 14.9 41.3 13.3 41.3 12.3 41.2 11.3 41.2 10.7 41.3" stroke="#EDB120"/><path d="M223.6 52.8l58.7 30.9 53.6 30.9 47.5 30.9 40.8 30.9 33.8 30.9 27.5 30.9 22.1 30.9 17.7 30.9 18.5 41.2 14.4 41.3 11.4 41.3 9.4 41.2 8 41.2 6.8 41.3M272.2 52.8l61.8 30.9 55.9 30.9 48.2 30.9 39.3 30.9 30.5 30.9 23.1 30.9 17.4 30.9 13.3 30.9 13.4 41.2 10.1 41.3 7.9 41.3 6.6 41.2 5.5 41.2 4.8 41.3M209.8 52.8l60.9 30.9 56.1 30.9 50.1 30.9 43.4 30.9 36.3 30.9 29.7 30.9 23.9 30.9 19.1 30.9 20.1 41.2 15.5 41.3 12.4 41.3 10.1 41.2 8.6 41.2 7.4 41.3M247.8 52.8l54.7 30.9 49.5 30.9 43.6 30.9 37.7 30.9 31.8 30.9 26.5 30.9 22.1 30.9 18.4 30.9 20.2 41.2 16.4 41.3 13.6 41.3 11.6 41.2 10 41.2 8.9 41.3M544.4 52.8l16.4 30.9 14.6 30.9 13.1 30.9 12 30.9 11 30.9 10.1 30.9 9.5 30.9 9 30.9 11.2 41.2 10.7 41.3 10.2 41.3 9.7 41.2 9.5 41.2 9.2 41.3M598.4 52.8l16.3 30.9 14.4 30.9 12.8 30.9 11.3 30.9 10.1 30.9 9.2 30.9 8.5 30.9 7.9 30.9 10 41.2 9.4 41.3 9.1 41.3 8.9 41.2 8.6 41.2 8.4 41.3M512.9 52.8l25.8 30.9 22.5 30.9 19.2 30.9 16.3 30.9 13.8 30.9 12 30.9 10.6 30.9 9.4 30.9 11.5 41.2 10.5 41.3 9.8 41.3 9.3 41.2 8.9 41.2 8.7 41.3M335.3 52.8l50 30.9 43.5 30.9 36.2 30.9 29.2 30.9 23.5 30.9 18.9 30.9 15.7 30.9 13.3 30.9 15.3 41.2 13.3 41.3 11.9 41.3 11.1 41.2 10.3 41.2 9.8 41.3M439.6 52.8l46.6 30.9 39.9 30.9 29.5 30.9 19.5 30.9 13.3 30.9 10 30.9 8.5 30.9 7.4 30.9 9.2 41.2 8.6 41.3 8.3 41.3 8 41.2 7.9 41.2 7.8 41.3M489.1 52.8l37.1 30.9 29.2 30.9 21.8 30.9 16.3 30.9 13 30.9 11 30.9 9.6 30.9 8.9 30.9 11 41.2 10.3 41.3 10 41.3 9.7 41.2 9.5 41.2 9.3 41.3M506.1 52.8l22.6 30.9 20.7 30.9 18.9 30.9 17.1 30.9 15.7 30.9 14.4 30.9 13.4 30.9 12.4 30.9 15.3 41.2 14.2 41.3 13.4 41.3 12.6 41.2 12.1 41.2 11.6 41.3M453 52.8l47 30.9 42.2 30.9 33 30.9 21.8 30.9 13.9 30.9 9.7 30.9 7.8 30.9 6.7 30.9 8 41.2 7.5 41.3 7.1 41.3 6.9 41.2 6.7 41.2 6.7 41.3M568.8 52.8l24.5 30.9 22.1 30.9 18.8 30.9 15.4 30.9 12.2 30.9 9.9 30.9 8.4 30.9 7.4 30.9 8.9 41.2 8.1 41.3 7.7 41.3 7.4 41.2 7.2 41.2 7.1 41.3M486 52.8l24.5 30.9 22 30.9 19.7 30.9 17.8 30.9 16.1 30.9 14.5 30.9 13.3 30.9 12.2 30.9 14.9 41.2 13.7 41.3 12.7 41.3 11.9 41.2 11.3 41.2 10.7 41.3M473.6 52.8l39.4 30.9 34.4 30.9 27.7 30.9 21 30.9 15.6 30.9 12 30.9 9.8 30.9 8.5 30.9 9.8 41.2 8.9 41.3 8.4 41.3 7.9 41.2 7.6 41.2 7.4 41.3M366.9 52.8l62.9 30.9 54.2 30.9 38.7 30.9 23.3 30.9 14.8 30.9 11 30.9 9.1 30.9 8.2 30.9 10.1 41.2 9.6 41.3 9.2 41.3 9 41.2 8.9 41.2 8.8 41.3M434.2 52.8l31.6 30.9 28.6 30.9 25.5 30.9 22.6 30.9 20 30.9 17.7 30.9 15.7 30.9 14 30.9 16.4 41.2 14.3 41.3 12.7 41.3 11.3 41.2 10.2 41.2 9.4 41.3M604.7 52.8l10.8 30.9 10.1 30.9 9.5 30.9 9 30.9 8.7 30.9 8.3 30.9 8.2 30.9 7.9 30.9 10.3 41.2 10 41.3 9.9 41.3 9.8 41.2 9.6 41.2 9.5 41.3M588.3 52.8l13.6 30.9 11.8 30.9 10.5 30.9 9.6 30.9 8.8 30.9 8.3 30.9 7.9 30.9 7.7 30.9 9.9 41.2 9.7 41.3 9.4 41.3 9.4 41.2 9.2 41.2 9.1 41.3M515.5 52.8l37.9 30.9 33.4 30.9 25.8 30.9 17.6 30.9 11.9 30.9 8.8 30.9 7.2 30.9 6.3 30.9 7.6 41.2 7.2 41.3 6.8 41.3 6.6 41.2 6.5 41.2 6.4 41.3M438.5 52.8l54.3 30.9 47.3 30.9 35 30.9 21.9 30.9 13.7 30.9 9.6 30.9 7.7 30.9 6.6 30.9 7.8 41.2 7.3 41.3 6.9 41.3 6.6 41.2 6.5 41.2 6.4 41.3M375.5 52.8l42.2 30.9 37.3 30.9 32.3 30.9 27.2 30.9 22.7 30.9 19 30.9 15.9 30.9 13.6 30.9 15.4 41.2 13.2 41.3 11.5 41.3 10.3 41.2 9.4 41.2 8.8 41.3M385.5 52.8l33.3 30.9 30.4 30.9 27.4 30.9 24.5 30.9 21.7 30.9 19.3 30.9 17.1 30.9 15.3 30.9 18.1 41.2 15.8 41.3 14.2 41.3 12.9 41.2 11.9 41.2 11 41.3M619.2 52.8l13.4 30.9 12.1 30.9 10.8 30.9 9.6 30.9 8.8 30.9 7.9 30.9 7.4 30.9 7 30.9 8.7 41.2 8.3 41.3 8 41.3 7.7 41.2 7.5 41.2 7.4 41.3M452.7 52.8l33.7 30.9 29 30.9 24.5 30.9 20.7 30.9 17.4 30.9 14.9 30.9 13 30.9 11.4 30.9 13.4 41.2 11.9 41.3 10.9 41.3 10 41.2 9.4 41.2 8.9 41.3M663.3 52.8l9.9 30.9 9.2 30.9 8.3 30.9 7.8 30.9 7.3 30.9 6.9 30.9 6.7 30.9 6.5 30.9 8.4 41.2 8.4 41.3 8.2 41.3 8.1 41.2 8 41.2 8 41.3M639 52.8l12.9 30.9 12.4 30.9 12 30.9 11.3 30.9 10.5 30.9 9.7 30.9 8.8 30.9 8 30.9 9.5 41.2 8.6 41.3 7.8 41.3 7.2 41.2 6.9 41.2 6.6 41.3M621.2 52.8l9.9 30.9 9.3 30.9 9 30.9 8.6 30.9 8.3 30.9 8.1 30.9 7.8 30.9 7.7 30.9 10 41.2 9.9 41.3 9.6 41.3 9.5 41.2 9.4 41.2 9.3 41.3M635.4 52.8l10.5 30.9 9.8 30.9 9.1 30.9 8.4 30.9 7.8 30.9 7.2 30.9 6.7 30.9 6.4 30.9 8.1 41.2 7.7 41.3 7.3 41.3 7.2 41.2 6.9 41.2 6.8 41.3" stroke="#0072BD"/><path d="M278.8 52.8l51.3 30.9 46.2 30.9 40.6 30.9 34.9 30.9 29.6 30.9 24.8 30.9 20.7 30.9 17.4 30.9 19.1 41.2 15.6 41.3 13 41.3 11 41.2 9.6 41.2 8.5 41.3M383.9 52.8l42.3 30.9 37.9 30.9 32.8 30.9 27.5 30.9 22.6 30.9 18.6 30.9 15.3 30.9 13 30.9 14.4 41.2 12.3 41.3 10.8 41.3 9.6 41.2 8.9 41.2 8.4 41.3M553.8 52.8l25.1 30.9 22 30.9 18.4 30.9 15.3 30.9 12.8 30.9 11 30.9 9.7 30.9 8.9 30.9 11 41.2 10.3 41.3 9.9 41.3 9.6 41.2 9.4 41.2 9.2 41.3M500.8 52.8l38.9 30.9 34.6 30.9 26.1 30.9 16.1 30.9 10.4 30.9 7.9 30.9 6.6 30.9 6.1 30.9 7.5 41.2 7.3 41.3 7 41.3 7 41.2 6.8 41.2 6.8 41.3M406.2 52.8l54.1 30.9 49.7 30.9 40.7 30.9 27.2 30.9 16.3 30.9 10.7 30.9 8.3 30.9 6.9 30.9 8.3 41.2 7.6 41.3 7.3 41.3 7 41.2 6.8 41.2 6.7 41.3M568 52.8l13.6 30.9 12.3 30.9 11.3 30.9 10.6 30.9 10.1 30.9 9.7 30.9 9.4 30.9 9.2 30.9 12.1 41.2 11.7 41.3 11.6 41.3 11.5 41.2 11.4 41.2 11.2 41.3M493.1 52.8l24.7 30.9 21.7 30.9 19 30.9 16.8 30.9 15.1 30.9 13.7 30.9 12.6 30.9 11.8 30.9 14.8 41.2 14 41.3 13.3 41.3 12.9 41.2 12.6 41.2 12.3 41.3M530.3 52.8l26.1 30.9 23.1 30.9 20 30.9 17 30.9 14.2 30.9 12.1 30.9 10.5 30.9 9.3 30.9 11 41.2 9.9 41.3 9.1 41.3 8.7 41.2 8.2 41.2 7.9 41.3M389.3 52.8l50.7 30.9 44.8 30.9 33.1 30.9 20.8 30.9 13.9 30.9 10.9 30.9 9.4 30.9 8.8 30.9 11 41.2 10.6 41.3 10.4 41.3 10.2 41.2 10.1 41.2 10.1 41.3M553.9 52.8l29 30.9 24.6 30.9 18.8 30.9 13.8 30.9 10.3 30.9 8.3 30.9 7.2 30.9 6.5 30.9 8.1 41.2 7.5 41.3 7.3 41.3 7.1 41.2 7 41.2 6.9 41.3M416.9 52.8l44.3 30.9 37.4 30.9 29.9 30.9 23.3 30.9 18.3 30.9 14.8 30.9 12.5 30.9 10.9 30.9 13 41.2 11.7 41.3 10.9 41.3 10.3 41.2 9.9 41.2 9.6 41.3M537.1 52.8l25.4 30.9 21 30.9 17 30.9 13.7 30.9 11.6 30.9 10 30.9 8.9 30.9 8.2 30.9 10.1 41.2 9.6 41.3 9.1 41.3 8.7 41.2 8.6 41.2 8.4 41.3M562.2 52.8l24.4 30.9 20.8 30.9 17.2 30.9 13.9 30.9 11.4 30.9 9.6 30.9 8.4 30.9 7.5 30.9 9.2 41.2 8.4 41.3 8 41.3 7.6 41.2 7.4 41.2 7.3 41.3M384.8 52.8l41.9 30.9 36.1 30.9 29.8 30.9 23.9 30.9 18.9 30.9 15.3 30.9 12.7 30.9 10.9 30.9 12.4 41.2 11 41.3 9.9 41.3 9.1 41.2 8.6 41.2 8.3 41.3M370.2 52.8l56.1 30.9 50.6 30.9 40.8 30.9 28.2 30.9 18.2 30.9 12.3 30.9 9.4 30.9 7.6 30.9 8.9 41.2 7.9 41.3 7.4 41.3 7.1 41.2 6.8 41.2 6.6 41.3M609.1 52.8l15.4 30.9 14.5 30.9 13.5 30.9 12.1 30.9 10.8 30.9 9.5 30.9 8.3 30.9 7.5 30.9 9 41.2 8.2 41.3 7.6 41.3 7.2 41.2 7 41.2 6.8 41.3M319.7 52.8l48.2 30.9 42.8 30.9 36.4 30.9 29.7 30.9 23.7 30.9 19 30.9 15.5 30.9 12.9 30.9 14.5 41.2 12.3 41.3 10.9 41.3 10 41.2 9.2 41.2 8.8 41.3M307.2 52.8l42.2 30.9 37.6 30.9 32.7 30.9 28.2 30.9 24 30.9 20.7 30.9 17.8 30.9 15.5 30.9 18 41.2 15.6 41.3 13.9 41.3 12.5 41.2 11.6 41.2 10.8 41.3M404.8 52.8l33.8 30.9 30 30.9 26.2 30.9 23.1 30.9 20.2 30.9 17.9 30.9 16 30.9 14.3 30.9 17.2 41.2 15.3 41.3 13.9 41.3 12.9 41.2 12 41.2 11.3 41.3M345.2 52.8l43.1 30.9 40.2 30.9 36.4 30.9 31.8 30.9 26.8 30.9 22.2 30.9 18 30.9 14.9 30.9 16.2 41.2 13.3 41.3 11.5 41.3 10.2 41.2 9.3 41.2 8.6 41.3M547.9 52.8l18.1 30.9 16.5 30.9 15 30.9 13.7 30.9 12.3 30.9 11.3 30.9 10.3 30.9 9.4 30.9 11.6 41.2 10.5 41.3 9.7 41.3 9 41.2 8.5 41.2 8 41.3M322.8 52.8l36.4 30.9 33 30.9 29.7 30.9 26.7 30.9 24 30.9 21.6 30.9 19.4 30.9 17.7 30.9 21.2 41.2 19.1 41.3 17.3 41.3 15.8 41.2 14.8 41.2 13.7 41.3M343.4 52.8l58.7 30.9 55.4 30.9 48.3 30.9 35.6 30.9 22.2 30.9 13.7 30.9 9.8 30.9 7.7 30.9 8.9 41.2 7.9 41.3 7.3 41.3 7.1 41.2 6.8 41.2 6.7 41.3M520 52.8l30.7 30.9 27.1 30.9 22.7 30.9 18.3 30.9 14.6 30.9 11.6 30.9 9.5 30.9 8 30.9 9 41.2 7.9 41.3 7 41.3 6.4 41.2 6 41.2 5.8 41.3" stroke="#4DBEEE"/><path d="M264.4 52.8l56.7 30.9 50.4 30.9 43.3 30.9 36.3 30.9 29.5 30.9 23.9 30.9 19.2 30.9 15.6 30.9 16.6 41.2 13.2 41.3 10.7 41.3 9 41.2 7.7 41.2 6.7 41.3M255 52.8l51.9 30.9 46.5 30.9 40.8 30.9 34.8 30.9 29.4 30.9 24.4 30.9 20.3 30.9 16.9 30.9 18.5 41.2 14.9 41.3 12.4 41.3 10.4 41.2 8.9 41.2 7.8 41.3M551.6 52.8l21.9 30.9 18 30.9 14.6 30.9 12.2 30.9 10.5 30.9 9.4 30.9 8.6 30.9 8 30.9 10 41.2 9.6 41.3 9.2 41.3 9 41.2 8.8 41.2 8.6 41.3M536.2 52.8l32.5 30.9 27.8 30.9 21.9 30.9 16.2 30.9 12.3 30.9 9.8 30.9 8.3 30.9 7.5 30.9 9.1 41.2 8.4 41.3 8.1 41.3 7.8 41.2 7.7 41.2 7.5 41.3M439.3 52.8l41.3 30.9 37.1 30.9 31.4 30.9 25.3 30.9 19.6 30.9 15.2 30.9 12 30.9 10 30.9 11 41.2 9.5 41.3 8.4 41.3 7.8 41.2 7.3 41.2 6.9 41.3M336.2 52.8l54.8 30.9 53.3 30.9 49.8 30.9 42.3 30.9 29.1 30.9 17.3 30.9 11.2 30.9 8.5 30.9 9.5 41.2 8.4 41.3 7.9 41.3 7.6 41.2 7.5 41.2 7.3 41.3M338.7 52.8l51.7 30.9 48.8 30.9 43.3 30.9 33.6 30.9 22.7 30.9 14.9 30.9 10.7 30.9 8.5 30.9 9.8 41.2 8.7 41.3 8.1 41.3 7.8 41.2 7.5 41.2 7.4 41.3M367.3 52.8l41.3 30.9 37.8 30.9 33.4 30.9 28.6 30.9 23.8 30.9 19.4 30.9 15.8 30.9 13.1 30.9 14.4 41.2 12 41.3 10.2 41.3 9.1 41.2 8.2 41.2 7.6 41.3M601.7 52.8l18.9 30.9 17.5 30.9 15.7 30.9 13.5 30.9 11.3 30.9 9.5 30.9 8.1 30.9 7.1 30.9 8.4 41.2 7.7 41.3 7.3 41.3 6.9 41.2 6.7 41.2 6.5 41.3M357.1 52.8l40.9 30.9 38.2 30.9 34.7 30.9 30.6 30.9 26.2 30.9 21.9 30.9 18.4 30.9 15.6 30.9 17.5 41.2 15 41.3 13.3 41.3 12.2 41.2 11.3 41.2 10.7 41.3M333.2 52.8l46 30.9 41.2 30.9 35.6 30.9 30.1 30.9 25.1 30.9 20.7 30.9 17.4 30.9 14.7 30.9 16.6 41.2 14.1 41.3 12.4 41.3 11.1 41.2 10.1 41.2 9.5 41.3M541.9 52.8l24.6 30.9 20.5 30.9 16.4 30.9 13.4 30.9 11.2 30.9 9.8 30.9 8.9 30.9 8.3 30.9 10.4 41.2 9.9 41.3 9.7 41.3 9.4 41.2 9.2 41.2 9.1 41.3M343.7 52.8l49.5 30.9 47.3 30.9 43.3 30.9 36.9 30.9 28.2 30.9 19.8 30.9 13.9 30.9 10.3 30.9 10.7 41.2 8.8 41.3 7.7 41.3 7.1 41.2 6.7 41.2 6.4 41.3M429.5 52.8l48 30.9 41.6 30.9 31.8 30.9 21.7 30.9 15.1 30.9 11.5 30.9 9.7 30.9 8.5 30.9 10.5 41.2 9.9 41.3 9.4 41.3 9.2 41.2 9 41.2 8.9 41.3M512 52.8l24.4 30.9 20.1 30.9 16.3 30.9 13.7 30.9 11.8 30.9 10.6 30.9 9.6 30.9 9.1 30.9 11.4 41.2 10.9 41.3 10.6 41.3 10.3 41.2 10.1 41.2 9.9 41.3M521.2 52.8l30.9 30.9 26.7 30.9 22 30.9 17.5 30.9 14 30.9 11.4 30.9 9.6 30.9 8.5 30.9 10 41.2 9.1 41.3 8.4 41.3 8 41.2 7.8 41.2 7.5 41.3M322.9 52.8l42.1 30.9 37.5 30.9 32.8 30.9 28.3 30.9 24.2 30.9 20.6 30.9 17.9 30.9 15.6 30.9 18.1 41.2 15.8 41.3 14.1 41.3 12.9 41.2 12 41.2 11.2 41.3M383.5 52.8l49.5 30.9 46.6 30.9 40.7 30.9 30.6 30.9 19.7 30.9 12.8 30.9 9.3 30.9 7.6 30.9 8.7 41.2 8 41.3 7.4 41.3 7.2 41.2 7 41.2 6.9 41.3M303.4 52.8l66 30.9 59.5 30.9 49.5 30.9 37 30.9 25.6 30.9 17.8 30.9 13 30.9 10.1 30.9 11 41.2 9.3 41.3 8.2 41.3 7.6 41.2 7.1 41.2 6.8 41.3M293.2 52.8l43.5 30.9 39.7 30.9 35.5 30.9 31 30.9 26.5 30.9 22.5 30.9 19 30.9 16.1 30.9 18 41.2 15.1 41.3 12.9 41.3 11.4 41.2 10.2 41.2 9.4 41.3M584.1 52.8l13.5 30.9 11.6 30.9 10.3 30.9 9.6 30.9 9.1 30.9 8.8 30.9 8.6 30.9 8.5 30.9 11.1 41.2 11.1 41.3 10.9 41.3 10.9 41.2 10.8 41.2 10.8 41.3M432 52.8l28 30.9 25.2 30.9 22.7 30.9 20.2 30.9 18.2 30.9 16.4 30.9 15 30.9 13.6 30.9 16.7 41.2 15.1 41.3 14 41.3 13 41.2 12.3 41.2 11.7 41.3M344.2 52.8l57.8 30.9 52.9 30.9 43.5 30.9 30.5 30.9 19.5 30.9 13.2 30.9 10 30.9 8.3 30.9 9.8 41.2 8.8 41.3 8.3 41.3 8 41.2 7.8 41.2 7.6 41.3M455.9 52.8l29.3 30.9 26.2 30.9 23.2 30.9 20.6 30.9 18.3 30.9 16.2 30.9 14.5 30.9 13.1 30.9 15.7 41.2 14.1 41.3 12.8 41.3 11.8 41.2 11 41.2 10.3 41.3" stroke="#77AC30"/><path d="M272.5 52.8l52.9 30.9 47.1 30.9 41.1 30.9 35.2 30.9 29.6 30.9 24.7 30.9 20.6 30.9 17.2 30.9 18.9 41.2 15.1 41.3 12.5 41.3 10.3 41.2 8.9 41.2 7.6 41.3M475.9 52.8l21.6 30.9 19.5 30.9 17.7 30.9 16 30.9 14.7 30.9 13.6 30.9 12.6 30.9 11.8 30.9 14.8 41.2 13.8 41.3 13.1 41.3 12.6 41.2 12 41.2 11.7 41.3M508.9 52.8l18.8 30.9 17.1 30.9 15.6 30.9 14.3 30.9 13.2 30.9 12.3 30.9 11.6 30.9 10.9 30.9 13.8 41.2 13 41.3 12.4 41.3 12 41.2 11.5 41.2 11.3 41.3M463.2 52.8l38 30.9 31 30.9 24.1 30.9 18.9 30.9 15.2 30.9 12.9 30.9 11.4 30.9 10.4 30.9 12.8 41.2 12.1 41.3 11.6 41.3 11.2 41.2 10.9 41.2 10.8 41.3M549.4 52.8l23.3 30.9 19.3 30.9 15.7 30.9 12.9 30.9 10.8 30.9 9.3 30.9 8.4 30.9 7.7 30.9 9.5 41.2 8.9 41.3 8.5 41.3 8.3 41.2 8 41.2 7.8 41.3M355 52.8l42.2 30.9 37.4 30.9 32.2 30.9 27.2 30.9 22.6 30.9 19 30.9 16 30.9 13.9 30.9 16.1 41.2 14.1 41.3 12.7 41.3 11.7 41.2 11 41.2 10.4 41.3M347.1 52.8l56.4 30.9 53.9 30.9 48.7 30.9 38.5 30.9 25 30.9 15.2 30.9 10.1 30.9 7.8 30.9 8.6 41.2 7.5 41.3 6.9 41.3 6.6 41.2 6.4 41.2 6.3 41.3M466.4 52.8l20.5 30.9 18.7 30.9 17.4 30.9 16.2 30.9 15.1 30.9 14.2 30.9 13.5 30.9 12.8 30.9 16.3 41.2 15.6 41.3 14.9 41.3 14.4 41.2 14 41.2 13.6 41.3M420.8 52.8l26.4 30.9 23.8 30.9 21.5 30.9 19.4 30.9 17.7 30.9 16.2 30.9 14.9 30.9 13.9 30.9 17.1 41.2 15.8 41.3 14.7 41.3 13.8 41.2 13.1 41.2 12.5 41.3M541.5 52.8l33 30.9 28.1 30.9 20.4 30.9 13.5 30.9 9.7 30.9 7.9 30.9 6.9 30.9 6.3 30.9 8.1 41.2 7.7 41.3 7.5 41.3 7.4 41.2 7.3 41.2 7.3 41.3M296.7 52.8l50.5 30.9 47.3 30.9 42.8 30.9 36.9 30.9 30.1 30.9 23.7 30.9 18.5 30.9 14.6 30.9 15.6 41.2 12.8 41.3 10.9 41.3 9.8 41.2 9 41.2 8.5 41.3M360.4 52.8l55.8 30.9 51.4 30.9 44 30.9 33.5 30.9 23 30.9 15.6 30.9 11.2 30.9 8.7 30.9 9.3 41.2 7.9 41.3 7.1 41.3 6.6 41.2 6.2 41.2 5.9 41.3M472.8 52.8l37 30.9 30.8 30.9 24.5 30.9 19 30.9 15.1 30.9 12.3 30.9 10.3 30.9 9.2 30.9 10.8 41.2 9.8 41.3 9.2 41.3 8.6 41.2 8.3 41.2 8.1 41.3M281.5 52.8l49.4 30.9 48.8 30.9 47.6 30.9 45.1 30.9 39.3 30.9 28.2 30.9 16.3 30.9 9.9 30.9 9.1 41.2 7.2 41.3 6.3 41.3 5.9 41.2 5.7 41.2 5.5 41.3M374.9 52.8l42.8 30.9 39.6 30.9 35.3 30.9 30.5 30.9 25.3 30.9 20.5 30.9 16.7 30.9 13.7 30.9 15 41.2 12.5 41.3 10.8 41.3 9.8 41.2 8.9 41.2 8.3 41.3M537 52.8l32.3 30.9 27.7 30.9 22.4 30.9 17.3 30.9 13.3 30.9 10.6 30.9 8.7 30.9 7.6 30.9 8.9 41.2 8 41.3 7.4 41.3 7 41.2 6.7 41.2 6.5 41.3M530.8 52.8l23.7 30.9 20.3 30.9 17.1 30.9 14.7 30.9 12.7 30.9 11.2 30.9 10.1 30.9 9.3 30.9 11.4 41.2 10.7 41.3 10 41.3 9.7 41.2 9.3 41.2 9 41.3M539 52.8l17 30.9 15.6 30.9 14.1 30.9 13 30.9 12.1 30.9 11.2 30.9 10.6 30.9 10 30.9 12.7 41.2 12 41.3 11.4 41.3 11.1 41.2 10.6 41.2 10.4 41.3M449.4 52.8l30.8 30.9 27.5 30.9 24.4 30.9 21.3 30.9 18.6 30.9 16.1 30.9 14.1 30.9 12.4 30.9 14.5 41.2 12.5 41.3 11.2 41.3 10 41.2 9.3 41.2 8.5 41.3M605.1 52.8l16 30.9 14.7 30.9 13.5 30.9 12.2 30.9 11 30.9 10 30.9 9.1 30.9 8.4 30.9 10.2 41.2 9.4 41.3 8.9 41.3 8.3 41.2 8 41.2 7.8 41.3M579.6 52.8l14.5 30.9 13.2 30.9 12.1 30.9 11.1 30.9 10.4 30.9 9.6 30.9 9.2 30.9 8.7 30.9 11 41.2 10.7 41.3 10.2 41.3 9.9 41.2 9.8 41.2 9.5 41.3M501.4 52.8l28.9 30.9 24.7 30.9 20.8 30.9 17.1 30.9 14.3 30.9 12 30.9 10.4 30.9 9.2 30.9 10.9 41.2 9.8 41.3 9.1 41.3 8.5 41.2 8.2 41.2 7.8 41.3M378 52.8l40.4 30.9 35.9 30.9 31.4 30.9 26.9 30.9 23 30.9 19.5 30.9 16.7 30.9 14.5 30.9 16.5 41.2 14.1 41.3 12.4 41.3 11.1 41.2 10.1 41.2 9.3 41.3M480.2 52.8l23.1 30.9 20.6 30.9 18.3 30.9 16.4 30.9 14.8 30.9 13.4 30.9 12.2 30.9 11.4 30.9 13.9 41.2 12.9 41.3 11.9 41.3 11.3 41.2 10.8 41.2 10.3 41.3M279.4 52.8l50.4 30.9 44.2 30.9 38.2 30.9 32.3 30.9 27.1 30.9 22.8 30.9 19.1 30.9 16.2 30.9 18.2 41.2 15 41.3 12.8 41.3 11 41.2 9.7 41.2 8.6 41.3" stroke="#7E2F8E"/><path d="M235.4 52.8l54 30.9 48.8 30.9 42.9 30.9 36.6 30.9 30.4 30.9 25.1 30.9 20.6 30.9 16.9 30.9 18.4 41.2 14.8 41.3 12.3 41.3 10.5 41.2 9.1 41.2 8.2 41.3M336.4 52.8l53.8 30.9 50.8 30.9 45.1 30.9 35.5 30.9 24.6 30.9 16.3 30.9 11.8 30.9 9.4 30.9 10.5 41.2 9.2 41.3 8.6 41.3 8.2 41.2 7.8 41.2 7.7 41.3M537.5 52.8l22.4 30.9 19.4 30.9 16.6 30.9 14.5 30.9 12.9 30.9 11.5 30.9 10.6 30.9 9.9 30.9 12.3 41.2 11.7 41.3 11.1 41.3 10.7 41.2 10.4 41.2 10.2 41.3M553.2 52.8l28.1 30.9 23 30.9 17.4 30.9 13 30.9 10.3 30.9 8.6 30.9 7.8 30.9 7.2 30.9 9.1 41.2 8.7 41.3 8.4 41.3 8.2 41.2 8.2 41.2 8 41.3M480.9 52.8l37.5 30.9 32.1 30.9 25.8 30.9 19.9 30.9 15.3 30.9 12 30.9 9.9 30.9 8.5 30.9 9.9 41.2 8.8 41.3 8 41.3 7.7 41.2 7.2 41.2 7 41.3M436.9 52.8l48.2 30.9 43 30.9 34.4 30.9 24.1 30.9 16.1 30.9 11.5 30.9 9.1 30.9 7.7 30.9 9.1 41.2 8.3 41.3 7.8 41.3 7.5 41.2 7.4 41.2 7.1 41.3M562.3 52.8l25.8 30.9 21.3 30.9 16.3 30.9 12.2 30.9 9.8 30.9 8.4 30.9 7.6 30.9 7.1 30.9 9.1 41.2 8.6 41.3 8.5 41.3 8.3 41.2 8.2 41.2 8.1 41.3M439.4 52.8l26.1 30.9 23.7 30.9 21.5 30.9 19.6 30.9 18 30.9 16.5 30.9 15.2 30.9 14.2 30.9 17.5 41.2 16.2 41.3 15 41.3 14.2 41.2 13.5 41.2 12.8 41.3M535.3 52.8l22.8 30.9 19.2 30.9 15.9 30.9 13.5 30.9 11.6 30.9 10.4 30.9 9.5 30.9 8.8 30.9 11.2 41.2 10.6 41.3 10.3 41.3 10 41.2 9.8 41.2 9.7 41.3M605.5 52.8l17.3 30.9 15.1 30.9 12.9 30.9 10.9 30.9 9.4 30.9 8.5 30.9 7.9 30.9 7.5 30.9 9.6 41.2 9.2 41.3 9 41.3 8.9 41.2 8.8 41.2 8.7 41.3M296.9 52.8l63.9 30.9 61.7 30.9 57.1 30.9 48.1 30.9 34.1 30.9 21.1 30.9 13.4 30.9 9.7 30.9 10 41.2 8.4 41.3 7.6 41.3 7 41.2 6.8 41.2 6.5 41.3M475.6 52.8l44.3 30.9 40.3 30.9 31.6 30.9 20.3 30.9 12.6 30.9 8.9 30.9 7.3 30.9 6.5 30.9 7.9 41.2 7.5 41.3 7.2 41.3 7 41.2 7 41.2 6.9 41.3M395.8 52.8l42 30.9 37.2 30.9 31.6 30.9 25.9 30.9 20.8 30.9 16.7 30.9 13.5 30.9 11.2 30.9 12.3 41.2 10.3 41.3 8.8 41.3 7.9 41.2 7.2 41.2 6.7 41.3M346.1 52.8l56.3 30.9 53.2 30.9 47.7 30.9 38.4 30.9 26.8 30.9 17.5 30.9 11.9 30.9 8.8 30.9 9.2 41.2 7.7 41.3 6.8 41.3 6.3 41.2 6 41.2 5.8 41.3M329 52.8l60.6 30.9 53.5 30.9 43.8 30.9 33.4 30.9 24.3 30.9 17.7 30.9 13.3 30.9 10.5 30.9 11.3 41.2 9.3 41.3 8.1 41.3 7.3 41.2 6.7 41.2 6.3 41.3M309.8 52.8l49.4 30.9 43 30.9 36.3 30.9 30.1 30.9 24.8 30.9 20.5 30.9 17.1 30.9 14.5 30.9 16.2 41.2 13.7 41.3 11.9 41.3 10.6 41.2 9.5 41.2 8.8 41.3M455 52.8l26.7 30.9 23.6 30.9 21 30.9 18.5 30.9 16.4 30.9 14.7 30.9 13.3 30.9 12 30.9 14.5 41.2 13.2 41.3 12 41.3 11.2 41.2 10.5 41.2 9.9 41.3M407.4 52.8l44.8 30.9 38.7 30.9 31.4 30.9 24.3 30.9 18.5 30.9 14.3 30.9 11.6 30.9 9.6 30.9 10.9 41.2 9.5 41.3 8.5 41.3 7.9 41.2 7.5 41.2 7.1 41.3M366.5 52.8l34.5 30.9 31.2 30.9 27.7 30.9 24.6 30.9 21.6 30.9 19 30.9 16.8 30.9 14.9 30.9 17.6 41.2 15.5 41.3 14 41.3 12.6 41.2 11.7 41.2 10.9 41.3M336 52.8l39.3 30.9 35.6 30.9 31.9 30.9 28.3 30.9 25 30.9 21.8 30.9 19.2 30.9 17 30.9 19.8 41.2 17.1 41.3 15.1 41.3 13.6 41.2 12.3 41.2 11.3 41.3M454.2 52.8l40.8 30.9 37.5 30.9 31.9 30.9 24.3 30.9 17.2 30.9 12.4 30.9 9.7 30.9 8.1 30.9 9.6 41.2 8.6 41.3 8.1 41.3 7.8 41.2 7.6 41.2 7.4 41.3M578 52.8l17.2 30.9 15.5 30.9 13.9 30.9 12.6 30.9 11.3 30.9 10.4 30.9 9.5 30.9 9 30.9 11.1 41.2 10.5 41.3 10.1 41.3 9.6 41.2 9.4 41.2 9.2 41.3M656.5 52.8l6.7 30.9 6.6 30.9 6.5 30.9 6.6 30.9 6.5 30.9 6.4 30.9 6.4 30.9 6.4 30.9 8.5 41.2 8.5 41.3 8.4 41.3 8.4 41.2 8.4 41.2 8.4 41.3" stroke="#A2142F"/><path d="M185.7 52.8l60 30.9 54.5 30.9 48.4 30.9 42.1 30.9 35.7 30.9 30 30.9 24.8 30.9 20.7 30.9 22.3 41.2 17.8 41.3 14.4 41.3 11.9 41.2 10.1 41.2 8.6 41.3M271.7 52.8l64.2 30.9 57.5 30.9 49.2 30.9 40.1 30.9 31.4 30.9 24 30.9 18.4 30.9 14.2 30.9 14.4 41.2 11 41.3 8.6 41.3 7 41.2 5.9 41.2 5.1 41.3M275.4 52.8l59.9 30.9 53.4 30.9 45.8 30.9 37.6 30.9 30 30.9 23.6 30.9 18.5 30.9 14.7 30.9 15.5 41.2 12.3 41.3 9.9 41.3 8.5 41.2 7.3 41.2 6.5 41.3M331 52.8l55.2 30.9 51.8 30.9 46.4 30.9 37.9 30.9 27.9 30.9 19.2 30.9 13.3 30.9 9.9 30.9 10.2 41.2 8.1 41.3 7.1 41.3 6.3 41.2 5.9 41.2 5.6 41.3M462.2 52.8l44.4 30.9 40.5 30.9 33.6 30.9 23.8 30.9 15.8 30.9 11.1 30.9 8.8 30.9 7.6 30.9 9.1 41.2 8.4 41.3 8 41.3 7.8 41.2 7.6 41.2 7.6 41.3M306.9 52.8l53.2 30.9 51.7 30.9 48.7 30.9 43.3 30.9 34 30.9 23.1 30.9 14.8 30.9 10 30.9 9.7 41.2 7.7 41.3 6.5 41.3 5.9 41.2 5.5 41.2 5.3 41.3M535.4 52.8l23.7 30.9 20.3 30.9 17.2 30.9 14.8 30.9 12.7 30.9 11.3 30.9 10.1 30.9 9.4 30.9 11.5 41.2 10.7 41.3 10.1 41.3 9.8 41.2 9.3 41.2 9.2 41.3M520.6 52.8l34.2 30.9 29.7 30.9 23.7 30.9 17.8 30.9 13.5 30.9 10.7 30.9 8.9 30.9 7.9 30.9 9.5 41.2 8.8 41.3 8.4 41.3 8 41.2 7.8 41.2 7.6 41.3M306.8 52.8l36 30.9 33 30.9 30 30.9 27 30.9 24.3 30.9 21.8 30.9 19.5 30.9 17.6 30.9 20.9 41.2 18.4 41.3 16.4 41.3 14.9 41.2 13.4 41.2 12.5 41.3M603.9 52.8l14.4 30.9 12.9 30.9 11.4 30.9 10.2 30.9 9.1 30.9 8.4 30.9 7.8 30.9 7.3 30.9 9.1 41.2 8.7 41.3 8.3 41.3 8.1 41.2 7.8 41.2 7.7 41.3M520.2 52.8l35.6 30.9 33.4 30.9 28 30.9 19.1 30.9 11.8 30.9 8.3 30.9 6.8 30.9 6.1 30.9 7.5 41.2 7.2 41.3 6.9 41.3 6.8 41.2 6.8 41.2 6.7 41.3M542.8 52.8l25.8 30.9 22.3 30.9 18.8 30.9 15.4 30.9 12.8 30.9 10.7 30.9 9.1 30.9 8 30.9 9.4 41.2 8.4 41.3 7.7 41.3 7.2 41.2 6.8 41.2 6.6 41.3M506.9 52.8l23.1 30.9 20.2 30.9 17.6 30.9 15.6 30.9 14 30.9 12.7 30.9 11.8 30.9 11 30.9 13.8 41.2 13.1 41.3 12.4 41.3 12.1 41.2 11.7 41.2 11.4 41.3M597 52.8l15.9 30.9 14.4 30.9 12.7 30.9 11.2 30.9 9.8 30.9 8.8 30.9 8 30.9 7.4 30.9 9.1 41.2 8.6 41.3 8.2 41.3 8 41.2 7.7 41.2 7.5 41.3M595.1 52.8l11 30.9 10.5 30.9 9.8 30.9 9.5 30.9 9.1 30.9 8.8 30.9 8.5 30.9 8.4 30.9 10.8 41.2 10.6 41.3 10.4 41.3 10.3 41.2 10.1 41.2 10 41.3M575.3 52.8l19.5 30.9 17.7 30.9 15.5 30.9 13.5 30.9 11.6 30.9 10.1 30.9 8.8 30.9 7.9 30.9 9.5 41.2 8.6 41.3 8 41.3 7.5 41.2 7.3 41.2 7 41.3M463 52.8l26.7 30.9 24 30.9 21.4 30.9 19.2 30.9 17.2 30.9 15.4 30.9 14.1 30.9 12.7 30.9 15.5 41.2 14.1 41.3 12.8 41.3 12 41.2 11.2 41.2 10.6 41.3M504.6 52.8l32.1 30.9 25.1 30.9 18.5 30.9 14.1 30.9 11.7 30.9 10.3 30.9 9.5 30.9 9 30.9 11.5 41.2 11.2 41.3 10.9 41.3 10.7 41.2 10.6 41.2 10.6 41.3M350.1 52.8l40.6 30.9 36.9 30.9 32.9 30.9 28.6 30.9 24.3 30.9 20.4 30.9 17.2 30.9 14.6 30.9 16.4 41.2 13.7 41.3 11.8 41.3 10.5 41.2 9.5 41.2 8.7 41.3M600.9 52.8l8.1 30.9 8 30.9 7.9 30.9 7.7 30.9 7.7 30.9 7.6 30.9 7.5 30.9 7.4 30.9 9.8 41.2 9.8 41.3 9.7 41.3 9.7 41.2 9.6 41.2 9.6 41.3M462 52.8l25.5 30.9 22.8 30.9 20.2 30.9 17.8 30.9 15.9 30.9 14.1 30.9 12.7 30.9 11.4 30.9 13.6 41.2 12.2 41.3 11 41.3 10.1 41.2 9.4 41.2 8.8 41.3M321.7 52.8l57.1 30.9 54.5 30.9 49.7 30.9 41.3 30.9 30.2 30.9 19.9 30.9 13.4 30.9 9.6 30.9 9.9 41.2 8.1 41.3 7 41.3 6.4 41.2 6.1 41.2 5.8 41.3M316.2 52.8l42.7 30.9 38 30.9 33.1 30.9 28.4 30.9 24.2 30.9 20.6 30.9 17.8 30.9 15.6 30.9 18.1 41.2 15.9 41.3 14.2 41.3 13 41.2 12.1 41.2 11.5 41.3" stroke="#D95319"/><path d="M230.5 52.8l67 30.9 61.3 30.9 53.8 30.9 44.8 30.9 35.2 30.9 26.9 30.9 20.1 30.9 15.2 30.9 15.2 41.2 11.2 41.3 8.7 41.3 7 41.2 5.9 41.2 5 41.3M262.1 52.8l56.5 30.9 51 30.9 44.2 30.9 37.1 30.9 30.1 30.9 24 30.9 19.2 30.9 15.5 30.9 16.6 41.2 13.1 41.3 11 41.3 9.3 41.2 8.2 41.2 7.4 41.3M222.5 52.8l61.4 30.9 57.3 30.9 51.9 30.9 45.4 30.9 37.8 30.9 30.5 30.9 24 30.9 18.6 30.9 18.8 41.2 13.9 41.3 10.6 41.3 8.5 41.2 6.9 41.2 5.9 41.3M449.7 52.8l31.5 30.9 26.9 30.9 22.3 30.9 18.5 30.9 15.5 30.9 13.3 30.9 11.6 30.9 10.5 30.9 12.7 41.2 11.6 41.3 10.9 41.3 10.3 41.2 10 41.2 9.6 41.3M425.4 52.8l33.3 30.9 29.2 30.9 25.3 30.9 21.8 30.9 18.7 30.9 16.1 30.9 14.1 30.9 12.5 30.9 14.6 41.2 12.8 41.3 11.6 41.3 10.6 41.2 9.8 41.2 9.3 41.3M424.5 52.8l34.3 30.9 30.7 30.9 26.9 30.9 23.2 30.9 19.9 30.9 17.1 30.9 14.8 30.9 12.9 30.9 15.1 41.2 13.2 41.3 11.8 41.3 10.8 41.2 9.9 41.2 9.4 41.3M405.9 52.8l28.5 30.9 26 30.9 23.7 30.9 21.6 30.9 19.8 30.9 18.1 30.9 16.7 30.9 15.4 30.9 19.1 41.2 17.5 41.3 16.2 41.3 15.3 41.2 14.4 41.2 13.8 41.3M608.7 52.8l17.1 30.9 15 30.9 13.1 30.9 11.1 30.9 9.7 30.9 8.4 30.9 7.5 30.9 6.8 30.9 8.3 41.2 7.6 41.3 7.1 41.3 6.8 41.2 6.5 41.2 6.3 41.3M292.2 52.8l51.6 30.9 47.3 30.9 41.5 30.9 34.8 30.9 27.8 30.9 22.1 30.9 17.6 30.9 14.5 30.9 16.1 41.2 13.8 41.3 12.3 41.3 11.3 41.2 10.6 41.2 10.1 41.3M582.5 52.8l20.7 30.9 19.2 30.9 17.1 30.9 14.8 30.9 12.4 30.9 10.4 30.9 9 30.9 7.9 30.9 9.7 41.2 8.9 41.3 8.5 41.3 8.1 41.2 7.9 41.2 7.8 41.3M557.8 52.8l23.9 30.9 21.1 30.9 18.2 30.9 15.6 30.9 13.2 30.9 11.4 30.9 9.9 30.9 8.7 30.9 10.2 41.2 9.2 41.3 8.2 41.3 7.7 41.2 7.2 41.2 6.9 41.3M289.5 52.8l53.4 30.9 49.9 30.9 44.5 30.9 36.9 30.9 28.2 30.9 20.6 30.9 15.4 30.9 12 30.9 12.9 41.2 10.7 41.3 9.5 41.3 8.7 41.2 8.1 41.2 7.8 41.3M584.4 52.8l17.4 30.9 15.8 30.9 14.3 30.9 12.9 30.9 11.7 30.9 10.7 30.9 9.8 30.9 9.1 30.9 11.1 41.2 10.3 41.3 9.7 41.3 9 41.2 8.7 41.2 8.3 41.3M362.9 52.8l52.2 30.9 44.2 30.9 35.2 30.9 26.9 30.9 20.5 30.9 16.2 30.9 13.3 30.9 11.4 30.9 13.2 41.2 11.7 41.3 10.8 41.3 10.1 41.2 9.7 41.2 9.3 41.3M479.7 52.8l32.4 30.9 27.7 30.9 22.9 30.9 18.5 30.9 15 30.9 12.5 30.9 10.7 30.9 9.5 30.9 11.2 41.2 10.2 41.3 9.5 41.3 8.9 41.2 8.6 41.2 8.2 41.3M391.4 52.8l32.1 30.9 29.1 30.9 26.1 30.9 23.4 30.9 21 30.9 18.8 30.9 17 30.9 15.3 30.9 18.5 41.2 16.5 41.3 15.1 41.3 13.7 41.2 12.8 41.2 12 41.3M290.9 52.8l43.5 30.9 39.3 30.9 34.9 30.9 30.5 30.9 26.4 30.9 22.8 30.9 19.7 30.9 17 30.9 19.6 41.2 16.7 41.3 14.5 41.3 12.8 41.2 11.5 41.2 10.6 41.3M294.8 52.8l58.8 30.9 57.1 30.9 53.5 30.9 45.8 30.9 32.4 30.9 19.2 30.9 11.7 30.9 8.3 30.9 8.5 41.2 7.3 41.3 6.5 41.3 6.1 41.2 5.9 41.2 5.7 41.3M364.7 52.8l44.1 30.9 40 30.9 35 30.9 29.4 30.9 24.1 30.9 19.5 30.9 15.8 30.9 13 30.9 14.4 41.2 12 41.3 10.3 41.3 9.3 41.2 8.4 41.2 7.9 41.3M322.5 52.8l57.6 30.9 55.3 30.9 50.3 30.9 40.3 30.9 26.3 30.9 15.9 30.9 10.7 30.9 8.2 30.9 9.1 41.2 8 41.3 7.5 41.3 7.2 41.2 6.9 41.2 6.8 41.3M516.3 52.8l35.6 30.9 30.1 30.9 23 30.9 16.8 30.9 12.3 30.9 9.6 30.9 7.9 30.9 6.9 30.9 8.3 41.2 7.5 41.3 7.1 41.3 6.9 41.2 6.6 41.2 6.4 41.3M484.9 52.8l35.7 30.9 32.5 30.9 27.9 30.9 22.4 30.9 17 30.9 12.8 30.9 9.8 30.9 8 30.9 8.8 41.2 7.6 41.3 6.7 41.3 6.3 41.2 5.8 41.2 5.7 41.3M375.4 52.8l44.3 30.9 40.4 30.9 35 30.9 29 30.9 22.9 30.9 17.9 30.9 14.4 30.9 11.9 30.9 13.4 41.2 11.5 41.3 10.4 41.3 9.6 41.2 9 41.2 8.7 41.3M523.3 52.8l30.3 30.9 26.2 30.9 21.3 30.9 16.9 30.9 13.3 30.9 10.8 30.9 9.1 30.9 8.1 30.9 9.6 41.2 8.9 41.3 8.3 41.3 7.9 41.2 7.7 41.2 7.5 41.3M558.8 52.8l26 30.9 21.4 30.9 17 30.9 13.6 30.9 11.4 30.9 9.9 30.9 8.9 30.9 8.3 30.9 10.3 41.2 9.8 41.3 9.4 41.3 9.2 41.2 9 41.2 8.9 41.3M416.6 52.8l33.2 30.9 30.2 30.9 27.2 30.9 24.2 30.9 21.3 30.9 18.9 30.9 16.6 30.9 14.8 30.9 17.2 41.2 15.1 41.3 13.3 41.3 12 41.2 11 41.2 10.2 41.3M609.3 52.8l16.7 30.9 15 30.9 12.9 30.9 10.9 30.9 9 30.9 7.6 30.9 6.7 30.9 5.9 30.9 7.3 41.2 6.7 41.3 6.4 41.3 6.2 41.2 6 41.2 5.8 41.3M618.3 52.8l8.9 30.9 8.5 30.9 8.3 30.9 7.9 30.9 7.8 30.9 7.6 30.9 7.5 30.9 7.3 30.9 9.6 41.2 9.4 41.3 9.3 41.3 9.2 41.2 9.1 41.2 9 41.3" stroke="#EDB120"/><path d="M239.7 52.8l57 30.9 52.4 30.9 46.5 30.9 39.7 30.9 32.4 30.9 25.8 30.9 20.1 30.9 15.8 30.9 16.1 41.2 12.4 41.3 9.7 41.3 8.1 41.2 6.8 41.2 5.9 41.3M208.8 52.8l62.7 30.9 56.7 30.9 49.2 30.9 41.3 30.9 33.6 30.9 26.8 30.9 21.3 30.9 17.2 30.9 18.2 41.2 14.4 41.3 11.8 41.3 10 41.2 8.7 41.2 7.8 41.3M339 52.8l44.2 30.9 39.7 30.9 34.6 30.9 29.2 30.9 24.4 30.9 20.2 30.9 17 30.9 14.4 30.9 16.3 41.2 14 41.3 12.3 41.3 11.2 41.2 10.3 41.2 9.7 41.3M409.5 52.8l55.6 30.9 53 30.9 45.8 30.9 29.4 30.9 14.6 30.9 8.6 30.9 6.6 30.9 5.6 30.9 6.8 41.2 6.5 41.3 6.2 41.3 6.1 41.2 6 41.2 5.9 41.3M620.4 52.8l12.1 30.9 11.3 30.9 10.6 30.9 9.8 30.9 9.3 30.9 8.7 30.9 8.2 30.9 7.9 30.9 10 41.2 9.5 41.3 9.1 41.3 8.9 41.2 8.6 41.2 8.4 41.3M363.9 52.8l48.5 30.9 43.2 30.9 36.8 30.9 30.3 30.9 24.2 30.9 19.4 30.9 15.7 30.9 13.1 30.9 14.5 41.2 12.2 41.3 10.7 41.3 9.6 41.2 8.9 41.2 8.4 41.3M573.4 52.8l21.4 30.9 19.1 30.9 16.5 30.9 14.1 30.9 12 30.9 10.5 30.9 9.2 30.9 8.4 30.9 10.1 41.2 9.4 41.3 8.8 41.3 8.4 41.2 8.1 41.2 7.9 41.3M404.2 52.8l48.5 30.9 43.8 30.9 37.3 30.9 29.6 30.9 22.4 30.9 16.8 30.9 12.8 30.9 10.1 30.9 11 41.2 9.2 41.3 7.9 41.3 7.3 41.2 6.7 41.2 6.3 41.3M310.1 52.8l51.3 30.9 46.5 30.9 40.8 30.9 34.2 30.9 27.9 30.9 22.2 30.9 17.8 30.9 14.5 30.9 15.7 41.2 12.9 41.3 11 41.3 9.7 41.2 8.8 41.2 8.1 41.3M415.4 52.8l33.1 30.9 28.4 30.9 24.1 30.9 20.6 30.9 17.8 30.9 15.6 30.9 13.9 30.9 12.6 30.9 15.2 41.2 14 41.3 12.9 41.3 12.3 41.2 11.6 41.2 11.3 41.3M487.2 52.8l34.6 30.9 29.5 30.9 24.5 30.9 20 30.9 16.3 30.9 13.7 30.9 11.6 30.9 10.1 30.9 11.7 41.2 10.4 41.3 9.5 41.3 8.7 41.2 8.3 41.2 7.8 41.3M417.6 52.8l52.9 30.9 46.8 30.9 33.5 30.9 19.3 30.9 12.1 30.9 9 30.9 7.8 30.9 7.2 30.9 9 41.2 8.6 41.3 8.5 41.3 8.3 41.2 8.2 41.2 8.1 41.3M404.4 52.8l54.8 30.9 51 30.9 42.5 30.9 28.4 30.9 16.5 30.9 10.5 30.9 7.9 30.9 6.6 30.9 7.8 41.2 7.2 41.3 6.8 41.3 6.6 41.2 6.5 41.2 6.4 41.3M425.2 52.8l44.1 30.9 37.5 30.9 29.2 30.9 21.4 30.9 15.8 30.9 12.3 30.9 10.1 30.9 8.7 30.9 10.4 41.2 9.4 41.3 8.8 41.3 8.3 41.2 8.1 41.2 7.9 41.3M495.8 52.8l34.1 30.9 28.7 30.9 23 30.9 17.9 30.9 14.3 30.9 11.6 30.9 10.1 30.9 8.8 30.9 10.8 41.2 9.8 41.3 9.3 41.3 8.8 41.2 8.6 41.2 8.4 41.3M339.7 52.8l60.7 30.9 56.8 30.9 49.4 30.9 36.7 30.9 23.3 30.9 14.5 30.9 10.1 30.9 7.7 30.9 8.5 41.2 7.4 41.3 6.8 41.3 6.3 41.2 6.2 41.2 5.9 41.3M518.7 52.8l31.6 30.9 28.1 30.9 22.9 30.9 17.2 30.9 12.8 30.9 9.8 30.9 8.2 30.9 7.2 30.9 8.7 41.2 8 41.3 7.6 41.3 7.3 41.2 7.2 41.2 7.1 41.3M276.5 52.8l53.4 30.9 47.4 30.9 40.9 30.9 34.6 30.9 28.7 30.9 23.8 30.9 19.6 30.9 16.4 30.9 17.9 41.2 14.5 41.3 12 41.3 10.3 41.2 8.9 41.2 7.8 41.3M426.1 52.8l48.9 30.9 44 30.9 33.4 30.9 20.5 30.9 12.9 30.9 9.7 30.9 8.3 30.9 7.7 30.9 9.6 41.2 9.2 41.3 9 41.3 8.8 41.2 8.8 41.2 8.6 41.3M564.4 52.8l20.4 30.9 17.9 30.9 15.4 30.9 13 30.9 11.2 30.9 9.7 30.9 8.7 30.9 7.9 30.9 9.7 41.2 9.1 41.3 8.6 41.3 8.2 41.2 8 41.2 7.8 41.3M491.2 52.8l25 30.9 22.2 30.9 19.8 30.9 17.5 30.9 15.7 30.9 14 30.9 12.7 30.9 11.5 30.9 13.8 41.2 12.4 41.3 11.3 41.3 10.3 41.2 9.6 41.2 9 41.3M576.6 52.8l22.1 30.9 19.6 30.9 16.2 30.9 12.7 30.9 10.1 30.9 8.4 30.9 7.4 30.9 6.8 30.9 8.5 41.2 8 41.3 7.8 41.3 7.6 41.2 7.5 41.2 7.4 41.3M524.4 52.8l19.6 30.9 17.4 30.9 15.5 30.9 13.9 30.9 12.5 30.9 11.3 30.9 10.4 30.9 9.6 30.9 11.9 41.2 11 41.3 10.4 41.3 9.8 41.2 9.5 41.2 9.1 41.3M417 52.8l31 30.9 27.9 30.9 25 30.9 22.2 30.9 19.8 30.9 17.6 30.9 15.8 30.9 14.2 30.9 17 41.2 15.1 41.3 13.8 41.3 12.6 41.2 11.8 41.2 11 41.3M303.7 52.8l55.3 30.9 53 30.9 49.1 30.9 41.8 30.9 31.3 30.9 21 30.9 14.2 30.9 10.4 30.9 10.9 41.2 9 41.3 8.1 41.3 7.6 41.2 7.1 41.2 7 41.3M367.2 52.8l35.1 30.9 32 30.9 28.9 30.9 26 30.9 23.1 30.9 20.7 30.9 18.4 30.9 16.4 30.9 19.3 41.2 16.9 41.3 14.8 41.3 13.2 41.2 11.9 41.2 10.9 41.3M605.1 52.8l15 30.9 13.6 30.9 12.3 30.9 11 30.9 9.9 30.9 9 30.9 8.3 30.9 7.7 30.9 9.6 41.2 9.1 41.3 8.7 41.3 8.4 41.2 8.2 41.2 8 41.3M443.4 52.8l49.7 30.9 45.3 30.9 37 30.9 25.7 30.9 16.4 30.9 11.1 30.9 8.4 30.9 7.1 30.9 8.3 41.2 7.5 41.3 7.1 41.3 6.9 41.2 6.6 41.2 6.5 41.3M629.9 52.8l12.2 30.9 11.7 30.9 11.2 30.9 10.6 30.9 9.9 30.9 9.3 30.9 8.5 30.9 7.9 30.9 9.6 41.2 8.7 41.3 8 41.3 7.4 41.2 7 41.2 6.7 41.3" stroke="#0072BD"/><path d="M560.9 52.8l20.2 30.9 17.4 30.9 14.8 30.9 12.8 30.9 11.2 30.9 10 30.9 9.1 30.9 8.5 30.9 10.6 41.2 9.9 41.3 9.5 41.3 9.2 41.2 9 41.2 8.8 41.3M583.4 52.8l15.1 30.9 14 30.9 12.8 30.9 11.8 30.9 10.9 30.9 10.2 30.9 9.5 30.9 9 30.9 11.4 41.2 10.8 41.3 10.2 41.3 9.9 41.2 9.6 41.2 9.4 41.3M461.1 52.8l43.9 30.9 37.1 30.9 26.6 30.9 17.4 30.9 12.4 30.9 10.1 30.9 8.9 30.9 8.2 30.9 10.5 41.2 10 41.3 9.8 41.3 9.6 41.2 9.6 41.2 9.4 41.3M539.1 52.8l30 30.9 26.8 30.9 21.6 30.9 15.8 30.9 11.4 30.9 9 30.9 7.7 30.9 7 30.9 8.7 41.2 8.3 41.3 8 41.3 7.8 41.2 7.7 41.2 7.7 41.3M347.5 52.8l42.1 30.9 36.5 30.9 31 30.9 26 30.9 21.8 30.9 18.4 30.9 15.7 30.9 13.8 30.9 16 41.2 14 41.3 12.6 41.3 11.6 41.2 10.8 41.2 10.2 41.3M494 52.8l23.3 30.9 21.1 30.9 19.1 30.9 17.1 30.9 15.4 30.9 14 30.9 12.6 30.9 11.6 30.9 14.1 41.2 12.9 41.3 11.9 41.3 11.1 41.2 10.5 41.2 10.1 41.3M421 52.8l45.8 30.9 41.8 30.9 34.9 30.9 25.6 30.9 17.4 30.9 11.8 30.9 8.8 30.9 7 30.9 7.8 41.2 6.8 41.3 6.3 41.3 5.8 41.2 5.6 41.2 5.4 41.3M464.4 52.8l28.8 30.9 26.1 30.9 23.3 30.9 20.8 30.9 18.4 30.9 16.3 30.9 14.5 30.9 13 30.9 15.4 41.2 13.6 41.3 12.2 41.3 11 41.2 10.1 41.2 9.5 41.3M421.8 52.8l44.2 30.9 38.4 30.9 31.6 30.9 24.6 30.9 19 30.9 14.7 30.9 12 30.9 10 30.9 11.4 41.2 10 41.3 9 41.3 8.4 41.2 7.9 41.2 7.6 41.3M444.4 52.8l49.3 30.9 43.6 30.9 33.3 30.9 21.5 30.9 13.7 30.9 9.8 30.9 7.9 30.9 6.9 30.9 8.4 41.2 7.8 41.3 7.4 41.3 7.2 41.2 7.1 41.2 7 41.3M276.1 52.8l54.7 30.9 48.6 30.9 42 30.9 35.1 30.9 28.8 30.9 23.4 30.9 18.9 30.9 15.4 30.9 16.4 41.2 12.9 41.3 10.6 41.3 8.7 41.2 7.5 41.2 6.4 41.3M287.2 52.8l65 30.9 59.1 30.9 49.4 30.9 37.1 30.9 25.7 30.9 17.8 30.9 13.1 30.9 10.4 30.9 11.5 41.2 9.7 41.3 8.8 41.3 8.2 41.2 7.8 41.2 7.4 41.3M466 52.8l42.8 30.9 37 30.9 28.5 30.9 20.1 30.9 14.4 30.9 11.1 30.9 9.2 30.9 8.1 30.9 9.8 41.2 9.1 41.3 8.7 41.3 8.4 41.2 8.3 41.2 8.1 41.3M414.8 52.8l50.5 30.9 43.9 30.9 34.4 30.9 24.3 30.9 16.9 30.9 12.3 30.9 9.8 30.9 8.3 30.9 9.6 41.2 8.6 41.3 8.1 41.3 7.6 41.2 7.4 41.2 7.2 41.3M320.7 52.8l53.1 30.9 48.2 30.9 41.7 30.9 34.2 30.9 26.8 30.9 20.6 30.9 16.2 30.9 13 30.9 14.3 41.2 11.8 41.3 10.4 41.3 9.4 41.2 8.7 41.2 8.3 41.3M537.5 52.8l26.9 30.9 22.1 30.9 17.3 30.9 13.5 30.9 10.8 30.9 9.1 30.9 8 30.9 7.4 30.9 9 41.2 8.5 41.3 8.1 41.3 7.8 41.2 7.7 41.2 7.5 41.3M470.9 52.8l41.3 30.9 36.5 30.9 29.7 30.9 22.4 30.9 16.5 30.9 12.4 30.9 9.8 30.9 8.2 30.9 9.5 41.2 8.4 41.3 7.7 41.3 7.3 41.2 7 41.2 6.7 41.3M287.2 52.8l43.7 30.9 39.7 30.9 35.3 30.9 30.8 30.9 26.5 30.9 22.6 30.9 19.4 30.9 16.6 30.9 18.8 41.2 16 41.3 13.9 41.3 12.3 41.2 11.1 41.2 10.2 41.3M426 52.8l42.5 30.9 37.4 30.9 30.4 30.9 23.1 30.9 17.5 30.9 13.9 30.9 11.7 30.9 10.5 30.9 12.7 41.2 11.8 41.3 11.3 41.3 10.9 41.2 10.7 41.2 10.6 41.3M558.5 52.8l16.5 30.9 14.8 30.9 13.3 30.9 12.1 30.9 11.1 30.9 10.3 30.9 9.6 30.9 9.1 30.9 11.4 41.2 10.7 41.3 10.3 41.3 9.8 41.2 9.6 41.2 9.3 41.3M359.7 52.8l61.4 30.9 57.3 30.9 49 30.9 35 30.9 21.1 30.9 13.2 30.9 9.4 30.9 7.6 30.9 8.6 41.2 7.7 41.3 7.1 41.3 6.9 41.2 6.6 41.2 6.5 41.3M327.6 52.8l48.3 30.9 44.3 30.9 39.4 30.9 33.3 30.9 27 30.9 21.4 30.9 16.8 30.9 13.4 30.9 14.3 41.2 11.7 41.3 9.8 41.3 8.7 41.2 7.8 41.2 7.3 41.3M528.3 52.8l32 30.9 26.3 30.9 19.7 30.9 14.1 30.9 10.7 30.9 8.9 30.9 7.7 30.9 7 30.9 8.8 41.2 8.3 41.3 8 41.3 7.8 41.2 7.7 41.2 7.5 41.3M474.9 52.8l35.6 30.9 30.2 30.9 23.8 30.9 18.2 30.9 14 30.9 11.3 30.9 9.7 30.9 8.7 30.9 10.4 41.2 9.8 41.3 9.2 41.3 8.9 41.2 8.6 41.2 8.5 41.3M465.5 52.8l47.4 30.9 41.4 30.9 30.5 30.9 18.7 30.9 11.8 30.9 8.6 30.9 7 30.9 6.2 30.9 7.6 41.2 7.1 41.3 6.9 41.3 6.7 41.2 6.6 41.2 6.5 41.3" stroke="#4DBEEE"/><path d="M247.8 52.8l51.7 30.9 47.5 30.9 42.7 30.9 37.8 30.9 32.7 30.9 27.8 30.9 23.6 30.9 19.9 30.9 21.9 41.2 18 41.3 14.8 41.3 12.7 41.2 10.9 41.2 9.7 41.3M581.3 52.8l23.7 30.9 22 30.9 19.5 30.9 16.6 30.9 13.6 30.9 10.9 30.9 8.9 30.9 7.6 30.9 8.8 41.2 7.8 41.3 7.1 41.3 6.8 41.2 6.5 41.2 6.3 41.3M310.1 52.8l55.2 30.9 51.3 30.9 45.5 30.9 38.1 30.9 29.8 30.9 22.4 30.9 16.6 30.9 12.7 30.9 13 41.2 10.2 41.3 8.6 41.3 7.4 41.2 6.6 41.2 6.1 41.3M433.7 52.8l44.5 30.9 39.1 30.9 29.6 30.9 19.8 30.9 14 30.9 11.3 30.9 9.9 30.9 9.2 30.9 11.8 41.2 11.3 41.3 11.1 41.3 10.9 41.2 10.9 41.2 10.7 41.3M419 52.8l47.8 30.9 41.1 30.9 30.9 30.9 21.4 30.9 15.4 30.9 12.3 30.9 10.6 30.9 9.7 30.9 12.1 41.2 11.6 41.3 11.2 41.3 11 41.2 10.8 41.2 10.7 41.3M376.6 52.8l48.4 30.9 44.2 30.9 38.2 30.9 30.9 30.9 23.5 30.9 17.4 30.9 13.1 30.9 10.2 30.9 10.7 41.2 8.7 41.3 7.5 41.3 6.6 41.2 6.1 41.2 5.6 41.3M381.2 52.8l53 30.9 48.2 30.9 41 30.9 31.5 30.9 22.6 30.9 15.8 30.9 11.7 30.9 9.1 30.9 9.7 41.2 8.1 41.3 7.2 41.3 6.6 41.2 6.1 41.2 5.8 41.3M450.8 52.8l45.6 30.9 43.3 30.9 37.7 30.9 26.5 30.9 15.2 30.9 9.5 30.9 7.2 30.9 6.1 30.9 7.4 41.2 6.8 41.3 6.6 41.3 6.4 41.2 6.4 41.2 6.2 41.3M558.5 52.8l29.3 30.9 26.3 30.9 21.6 30.9 16.6 30.9 12.2 30.9 9.6 30.9 7.9 30.9 7 30.9 8.4 41.2 7.9 41.3 7.4 41.3 7.2 41.2 7 41.2 7 41.3M312.1 52.8l53.7 30.9 50.9 30.9 45.7 30.9 36.7 30.9 26 30.9 17.7 30.9 12.9 30.9 10.4 30.9 11.8 41.2 10.5 41.3 9.9 41.3 9.4 41.2 9.2 41.2 8.9 41.3M323.4 52.8l42.2 30.9 37.7 30.9 33.1 30.9 28.9 30.9 25.1 30.9 21.8 30.9 19.1 30.9 16.8 30.9 19.5 41.2 16.9 41.3 14.9 41.3 13.3 41.2 12.1 41.2 11.1 41.3M319.5 52.8l39.3 30.9 36.3 30.9 33.1 30.9 29.7 30.9 26.4 30.9 23.3 30.9 20.3 30.9 17.8 30.9 20.4 41.2 17.3 41.3 14.9 41.3 13.1 41.2 11.6 41.2 10.4 41.3M382.4 52.8l37.5 30.9 32.4 30.9 27.6 30.9 23.4 30.9 20.1 30.9 17.5 30.9 15.7 30.9 14.1 30.9 17.3 41.2 15.9 41.3 14.8 41.3 14.2 41.2 13.6 41.2 13.1 41.3M349 52.8l55.1 30.9 51.1 30.9 43.2 30.9 30.9 30.9 19.8 30.9 13.2 30.9 10 30.9 8.3 30.9 9.7 41.2 8.9 41.3 8.3 41.3 8.1 41.2 7.9 41.2 7.7 41.3M436.3 52.8l42.5 30.9 36.8 30.9 30 30.9 23.5 30.9 18 30.9 14.1 30.9 11.5 30.9 9.6 30.9 11 41.2 9.7 41.3 8.7 41.3 8.1 41.2 7.7 41.2 7.4 41.3" stroke="#77AC30"/><path d="M504.9 52.8l32.5 30.9 28.1 30.9 23.3 30.9 18.6 30.9 15 30.9 12.2 30.9 10.4 30.9 9 30.9 10.7 41.2 9.5 41.3 8.9 41.3 8.4 41.2 8 41.2 7.8 41.3M364.6 52.8l52.2 30.9 46.1 30.9 38.2 30.9 29.8 30.9 22.5 30.9 17.4 30.9 13.9 30.9 11.6 30.9 13.2 41.2 11.5 41.3 10.5 41.3 9.8 41.2 9.4 41.2 8.9 41.3M440.4 52.8l39.6 30.9 33.2 30.9 26.4 30.9 20.5 30.9 16 30.9 13 30.9 11 30.9 9.5 30.9 11.4 41.2 10.3 41.3 9.6 41.3 9.1 41.2 8.7 41.2 8.5 41.3M499.5 52.8l37.2 30.9 32.3 30.9 26.1 30.9 20.1 30.9 15.2 30.9 11.8 30.9 9.7 30.9 8.3 30.9 9.6 41.2 8.7 41.3 8.1 41.3 7.6 41.2 7.3 41.2 7.1 41.3M387.3 52.8l38.5 30.9 33.9 30.9 29.1 30.9 24.5 30.9 20.5 30.9 17.3 30.9 14.9 30.9 12.9 30.9 15.3 41.2 13.6 41.3 12.3 41.3 11.6 41.2 10.9 41.2 10.4 41.3M321.9 52.8l38.4 30.9 34.6 30.9 30.8 30.9 27.4 30.9 24.3 30.9 21.5 30.9 19.2 30.9 17.1 30.9 20.3 41.2 17.8 41.3 15.9 41.3 14.3 41.2 13.1 41.2 12 41.3M469 52.8l36.2 30.9 31.1 30.9 25.5 30.9 20.2 30.9 15.9 30.9 12.9 30.9 10.8 30.9 9.3 30.9 11 41.2 9.9 41.3 9.1 41.3 8.6 41.2 8.2 41.2 8 41.3M595.6 52.8l12.4 30.9 11.2 30.9 10.4 30.9 9.6 30.9 9 30.9 8.6 30.9 8.1 30.9 7.9 30.9 10.1 41.2 9.7 41.3 9.5 41.3 9.3 41.2 9.1 41.2 9 41.3M308.5 52.8l62.4 30.9 58.5 30.9 50.4 30.9 36.7 30.9 22.5 30.9 13.7 30.9 9.4 30.9 7.3 30.9 8 41.2 7 41.3 6.5 41.3 6.1 41.2 5.8 41.2 5.7 41.3M618.7 52.8l9.2 30.9 9.3 30.9 9.2 30.9 9.2 30.9 9.3 30.9 9.2 30.9 9.2 30.9 9.2 30.9 12.3 41.2 12.3 41.3 12.3 41.3 12.2 41.2 12.3 41.2 12.3 41.3M293.9 52.8l41 30.9 37.2 30.9 33.5 30.9 29.9 30.9 26.5 30.9 23.6 30.9 21 30.9 18.7 30.9 22.1 41.2 19.2 41.3 17.1 41.3 15.2 41.2 13.9 41.2 12.6 41.3M491.4 52.8l40.9 30.9 35.3 30.9 27.2 30.9 19.1 30.9 13.1 30.9 9.7 30.9 7.8 30.9 6.7 30.9 7.9 41.2 7.2 41.3 6.8 41.3 6.5 41.2 6.3 41.2 6.1 41.3M281.4 52.8l45.8 30.9 42.1 30.9 37.7 30.9 33.1 30.9 28.6 30.9 24.3 30.9 20.6 30.9 17.7 30.9 19.8 41.2 16.7 41.3 14.4 41.3 12.7 41.2 11.5 41.2 10.5 41.3M449.8 52.8l36.8 30.9 31.5 30.9 25.3 30.9 19.8 30.9 15.6 30.9 12.9 30.9 11.1 30.9 10 30.9 12.2 41.2 11.3 41.3 10.9 41.3 10.4 41.2 10.3 41.2 10 41.3M446.1 52.8l33.7 30.9 30.3 30.9 26.7 30.9 23.3 30.9 20.1 30.9 17.3 30.9 14.8 30.9 12.9 30.9 14.6 41.2 12.5 41.3 10.8 41.3 9.5 41.2 8.6 41.2 7.8 41.3M390.9 52.8l53.4 30.9 46.3 30.9 35.9 30.9 25.2 30.9 17.5 30.9 13 30.9 10.5 30.9 9 30.9 10.7 41.2 9.7 41.3 9.2 41.3 8.8 41.2 8.6 41.2 8.4 41.3M279.6 52.8l60.2 30.9 54.3 30.9 47.2 30.9 39.1 30.9 31.2 30.9 24.3 30.9 18.7 30.9 14.5 30.9 14.8 41.2 11.1 41.3 8.8 41.3 7 41.2 5.9 41.2 5 41.3M607.7 52.8l17.5 30.9 15.7 30.9 13.8 30.9 12 30.9 10.5 30.9 9.1 30.9 8.3 30.9 7.5 30.9 9.3 41.2 8.7 41.3 8.2 41.3 7.9 41.2 7.7 41.2 7.6 41.3M533.1 52.8l30.8 30.9 25.9 30.9 20.7 30.9 16.2 30.9 12.9 30.9 10.6 30.9 9.2 30.9 8.1 30.9 10 41.2 9.1 41.3 8.7 41.3 8.3 41.2 8.1 41.2 7.9 41.3" stroke="#7E2F8E"/><path d="M317.8 52.8l50.6 30.9 47 30.9 42.1 30.9 35.9 30.9 29.1 30.9 22.8 30.9 17.6 30.9 13.8 30.9 14.3 41.2 11.3 41.3 9.3 41.3 8.1 41.2 7.2 41.2 6.6 41.3M524.8 52.8l27.6 30.9 23.5 30.9 19.2 30.9 15.6 30.9 12.8 30.9 11 30.9 9.8 30.9 8.9 30.9 11.1 41.2 10.5 41.3 10 41.3 9.7 41.2 9.5 41.2 9.3 41.3M407.2 52.8l36 30.9 31.7 30.9 27.5 30.9 23.5 30.9 20 30.9 17.3 30.9 15.1 30.9 13.3 30.9 15.8 41.2 14 41.3 12.9 41.3 11.9 41.2 11.3 41.2 10.7 41.3M446.4 52.8l33.1 30.9 28.9 30.9 24.8 30.9 21 30.9 17.6 30.9 15 30.9 12.9 30.9 11.2 30.9 13.1 41.2 11.5 41.3 10.3 41.3 9.5 41.2 8.8 41.2 8.3 41.3M411.1 52.8l37.9 30.9 34.4 30.9 30.3 30.9 25.8 30.9 21.5 30.9 17.7 30.9 14.7 30.9 12.5 30.9 14.1 41.2 12 41.3 10.6 41.3 9.7 41.2 9 41.2 8.5 41.3M489.9 52.8l36.9 30.9 31.1 30.9 23.2 30.9 16.4 30.9 12.5 30.9 10.4 30.9 9.4 30.9 8.8 30.9 11.2 41.2 10.8 41.3 10.6 41.3 10.4 41.2 10.3 41.2 10.2 41.3M324 52.8l54.2 30.9 52.3 30.9 48.3 30.9 40.6 30.9 28.7 30.9 17.6 30.9 11.1 30.9 7.8 30.9 8.1 41.2 6.7 41.3 5.9 41.3 5.5 41.2 5.3 41.2 5.1 41.3M373.7 52.8l39.4 30.9 34.2 30.9 29 30.9 24.4 30.9 20.3 30.9 17.2 30.9 14.6 30.9 12.7 30.9 14.8 41.2 12.8 41.3 11.6 41.3 10.6 41.2 9.8 41.2 9.3 41.3M516.9 52.8l34 30.9 27.5 30.9 20.3 30.9 14.7 30.9 11.4 30.9 9.4 30.9 8.3 30.9 7.6 30.9 9.5 41.2 9 41.3 8.7 41.3 8.5 41.2 8.4 41.2 8.2 41.3M385.4 52.8l29.2 30.9 26.5 30.9 24 30.9 21.8 30.9 19.8 30.9 18.1 30.9 16.6 30.9 15.3 30.9 18.9 41.2 17.3 41.3 16 41.3 15 41.2 14.2 41.2 13.4 41.3M490.8 52.8l38.8 30.9 30.6 30.9 21.8 30.9 15.2 30.9 11.5 30.9 9.4 30.9 8.2 30.9 7.4 30.9 9.3 41.2 8.7 41.3 8.5 41.3 8.2 41.2 8 41.2 8 41.3M588.8 52.8l20.2 30.9 18.8 30.9 17.1 30.9 15.3 30.9 13.3 30.9 11.5 30.9 10 30.9 8.8 30.9 10.2 41.2 9 41.3 8.1 41.3 7.6 41.2 7.1 41.2 6.9 41.3M422 52.8l41.4 30.9 38 30.9 33.3 30.9 27.2 30.9 21 30.9 16 30.9 12.4 30.9 10.1 30.9 11.2 41.2 9.7 41.3 8.7 41.3 8 41.2 7.6 41.2 7.4 41.3M453.2 52.8l41 30.9 38.2 30.9 33.3 30.9 26 30.9 18.7 30.9 13.4 30.9 10.4 30.9 8.7 30.9 10.1 41.2 9.3 41.3 8.6 41.3 8.4 41.2 8.1 41.2 7.9 41.3M400.6 52.8l36.9 30.9 32.2 30.9 27.4 30.9 22.9 30.9 19.2 30.9 16.3 30.9 14 30.9 12.4 30.9 14.6 41.2 13.1 41.3 12 41.3 11.2 41.2 10.6 41.2 10.2 41.3" stroke="#A2142F"/><path d="M242.3 52.8l53.8 30.9 49.3 30.9 44.2 30.9 38.4 30.9 32.4 30.9 27 30.9 22.1 30.9 18 30.9 19.3 41.2 15.2 41.3 12.2 41.3 10.1 41.2 8.5 41.2 7.4 41.3M194.3 52.8l62.4 30.9 59.1 30.9 54.2 30.9 47.8 30.9 40.1 30.9 32 30.9 24.6 30.9 18.9 30.9 18.8 41.2 13.9 41.3 11 41.3 8.9 41.2 7.6 41.2 6.7 41.3M470.6 52.8l26.4 30.9 23.6 30.9 20.9 30.9 18.5 30.9 16.4 30.9 14.6 30.9 13.1 30.9 11.9 30.9 14.3 41.2 12.8 41.3 11.6 41.3 10.8 41.2 10.1 41.2 9.5 41.3M604.8 52.8l11.6 30.9 10.8 30.9 10.1 30.9 9.6 30.9 9.1 30.9 8.7 30.9 8.5 30.9 8.2 30.9 10.6 41.2 10.4 41.3 10.2 41.3 10 41.2 9.8 41.2 9.8 41.3M297.7 52.8l37.9 30.9 34.8 30.9 31.7 30.9 28.6 30.9 25.5 30.9 22.8 30.9 20.4 30.9 18.2 30.9 21.6 41.2 18.9 41.3 17 41.3 15.4 41.2 14.1 41.2 13.1 41.3M456.6 52.8l37.2 30.9 31.4 30.9 25.2 30.9 19.9 30.9 15.8 30.9 12.9 30.9 11 30.9 9.6 30.9 11.4 41.2 10.2 41.3 9.6 41.3 9 41.2 8.7 41.2 8.3 41.3M559.2 52.8l20.1 30.9 17.6 30.9 15.3 30.9 13.3 30.9 11.7 30.9 10.4 30.9 9.4 30.9 8.7 30.9 10.7 41.2 10 41.3 9.4 41.3 9 41.2 8.6 41.2 8.4 41.3M449.8 52.8l25.7 30.9 23.5 30.9 21.3 30.9 19.3 30.9 17.6 30.9 16 30.9 14.8 30.9 13.5 30.9 16.7 41.2 15.2 41.3 14.1 41.3 13.2 41.2 12.4 41.2 11.7 41.3M397.3 52.8l52.7 30.9 47.9 30.9 39.7 30.9 28.9 30.9 19.2 30.9 13.2 30.9 9.7 30.9 7.7 30.9 8.8 41.2 7.6 41.3 7 41.3 6.6 41.2 6.3 41.2 6.1 41.3M343.7 52.8l35.7 30.9 32.3 30.9 28.7 30.9 25.3 30.9 22.3 30.9 19.5 30.9 17 30.9 15.1 30.9 17.5 41.2 15 41.3 13.3 41.3 11.7 41.2 10.6 41.2 9.7 41.3M558.6 52.8l24.8 30.9 22 30.9 18.7 30.9 15.4 30.9 12.6 30.9 10.4 30.9 8.9 30.9 7.9 30.9 9.5 41.2 8.6 41.3 8.1 41.3 7.7 41.2 7.4 41.2 7.2 41.3M496.1 52.8l28.7 30.9 25.4 30.9 21.4 30.9 17.4 30.9 14.1 30.9 11.7 30.9 9.9 30.9 8.9 30.9 10.6 41.2 9.8 41.3 9.2 41.3 8.9 41.2 8.5 41.2 8.4 41.3M608.8 52.8l13.1 30.9 12.2 30.9 11.2 30.9 10.3 30.9 9.6 30.9 8.7 30.9 8.2 30.9 7.6 30.9 9.4 41.2 8.7 41.3 8.1 41.3 7.8 41.2 7.3 41.2 7.1 41.3M324.2 52.8l55.3 30.9 49.5 30.9 39.5 30.9 27.7 30.9 18.7 30.9 13.8 30.9 11.2 30.9 9.9 30.9 11.8 41.2 11 41.3 10.6 41.3 10.2 41.2 10.1 41.2 9.9 41.3M515.8 52.8l25.6 30.9 22.5 30.9 19.3 30.9 16.3 30.9 13.7 30.9 11.6 30.9 10.1 30.9 8.8 30.9 10.5 41.2 9.4 41.3 8.7 41.3 8.1 41.2 7.6 41.2 7.4 41.3M430.3 52.8l31.1 30.9 27.7 30.9 24.2 30.9 21.1 30.9 18.5 30.9 16.2 30.9 14.4 30.9 12.9 30.9 15.4 41.2 13.8 41.3 12.6 41.3 11.7 41.2 10.9 41.2 10.4 41.3M444 52.8l49.9 30.9 45.3 30.9 35.8 30.9 23.2 30.9 14.4 30.9 10.2 30.9 8.4 30.9 7.4 30.9 9.1 41.2 8.5 41.3 8.3 41.3 8.1 41.2 7.9 41.2 7.9 41.3M537 52.8l33.7 30.9 28.3 30.9 18.8 30.9 11.8 30.9 8.8 30.9 7.6 30.9 7 30.9 6.8 30.9 8.8 41.2 8.6 41.3 8.6 41.3 8.4 41.2 8.4 41.2 8.4 41.3M553.4 52.8l26.8 30.9 23.5 30.9 19 30.9 14.3 30.9 10.7 30.9 8.6 30.9 7.3 30.9 6.6 30.9 8.1 41.2 7.6 41.3 7.3 41.3 7.1 41.2 6.9 41.2 6.9 41.3M318.8 52.8l58.6 30.9 54 30.9 45.4 30.9 33.3 30.9 21.9 30.9 14.9 30.9 11.2 30.9 9.1 30.9 10.5 41.2 9.3 41.3 8.8 41.3 8.3 41.2 8 41.2 7.9 41.3M524.8 52.8l21.8 30.9 19 30.9 16.5 30.9 14.4 30.9 12.7 30.9 11.4 30.9 10.2 30.9 9.5 30.9 11.6 41.2 10.8 41.3 10.1 41.3 9.7 41.2 9.3 41.2 9.1 41.3M389.1 52.8l41 30.9 35.8 30.9 30.5 30.9 25.4 30.9 21 30.9 17.4 30.9 14.8 30.9 12.8 30.9 14.8 41.2 12.9 41.3 11.6 41.3 10.7 41.2 9.9 41.2 9.5 41.3M492.9 52.8l39.5 30.9 31.1 30.9 21.9 30.9 15.1 30.9 11.4 30.9 9.2 30.9 8.1 30.9 7.4 30.9 9.2 41.2 8.7 41.3 8.3 41.3 8.2 41.2 8 41.2 7.9 41.3" stroke="#D95319"/><path d="M420.7 52.8l41.1 30.9 35.4 30.9 28.9 30.9 22.9 30.9 18.1 30.9 14.7 30.9 12.3 30.9 10.6 30.9 12.4 41.2 11.1 41.3 10.2 41.3 9.5 41.2 9.1 41.2 8.8 41.3M561.4 52.8l23.6 30.9 20.8 30.9 17.3 30.9 13.9 30.9 11.5 30.9 10 30.9 9.1 30.9 8.4 30.9 10.7 41.2 10.3 41.3 10 41.3 9.8 41.2 9.7 41.2 9.7 41.3M286.5 52.8l65.2 30.9 57.5 30.9 45.8 30.9 32.5 30.9 22.2 30.9 15.9 30.9 12.1 30.9 10.1 30.9 11.5 41.2 10.1 41.3 9.4 41.3 8.8 41.2 8.5 41.2 8.2 41.3M447.6 52.8l48.4 30.9 38.9 30.9 27.2 30.9 18.2 30.9 13.2 30.9 10.6 30.9 9.2 30.9 8.3 30.9 10.5 41.2 9.9 41.3 9.5 41.3 9.4 41.2 9.1 41.2 9.1 41.3M405.7 52.8l35.6 30.9 31.4 30.9 26.9 30.9 22.5 30.9 18.6 30.9 15.5 30.9 13.2 30.9 11.5 30.9 13.5 41.2 12 41.3 10.9 41.3 10.2 41.2 9.7 41.2 9.2 41.3M428.1 52.8l46.3 30.9 39.5 30.9 29.7 30.9 20.6 30.9 14.6 30.9 11.3 30.9 9.6 30.9 8.5 30.9 10.5 41.2 9.8 41.3 9.4 41.3 9.1 41.2 8.9 41.2 8.9 41.3M571.2 52.8l26.1 30.9 21.2 30.9 15.9 30.9 12 30.9 9.6 30.9 8.3 30.9 7.5 30.9 7 30.9 9 41.2 8.5 41.3 8.4 41.3 8.2 41.2 8.1 41.2 8 41.3M615.8 52.8l10.5 30.9 9.7 30.9 9.2 30.9 8.7 30.9 8.2 30.9 8 30.9 7.6 30.9 7.5 30.9 9.6 41.2 9.4 41.3 9.2 41.3 9 41.2 8.9 41.2 8.8 41.3M315.4 52.8l38.5 30.9 35.3 30.9 31.9 30.9 28.6 30.9 25.5 30.9 22.5 30.9 19.8 30.9 17.6 30.9 20.6 41.2 17.8 41.3 15.7 41.3 13.9 41.2 12.6 41.2 11.6 41.3M582.8 52.8l15.1 30.9 13.1 30.9 11.6 30.9 10.5 30.9 9.7 30.9 9.1 30.9 8.6 30.9 8.3 30.9 10.6 41.2 10.3 41.3 10.1 41.3 9.9 41.2 9.8 41.2 9.6 41.3M530.4 52.8l22.1 30.9 18.4 30.9 15.5 30.9 13.1 30.9 11.6 30.9 10.4 30.9 9.6 30.9 9.1 30.9 11.5 41.2 11 41.3 10.6 41.3 10.5 41.2 10.2 41.2 10.1 41.3M310.8 52.8l47 30.9 42.5 30.9 37.5 30.9 32.3 30.9 27.3 30.9 22.9 30.9 19.2 30.9 16.1 30.9 17.8 41.2 14.8 41.3 12.4 41.3 10.8 41.2 9.6 41.2 8.6 41.3M329.4 52.8l35.4 30.9 32.4 30.9 29.5 30.9 26.7 30.9 24.1 30.9 21.7 30.9 19.6 30.9 17.8 30.9 21.2 41.2 18.9 41.3 16.9 41.3 15.4 41.2 14.2 41.2 13.1 41.3M328.5 52.8l55.2 30.9 53.8 30.9 50.7 30.9 43.3 30.9 29 30.9 16 30.9 9.9 30.9 7.3 30.9 8.2 41.2 7.2 41.3 6.8 41.3 6.6 41.2 6.3 41.2 6.3 41.3M326.2 52.8l36.5 30.9 33.1 30.9 29.9 30.9 26.9 30.9 24.2 30.9 21.6 30.9 19.5 30.9 17.5 30.9 21 41.2 18.5 41.3 16.6 41.3 15 41.2 13.8 41.2 12.6 41.3M548.1 52.8l17.4 30.9 15.5 30.9 14.1 30.9 12.8 30.9 11.8 30.9 10.9 30.9 10.2 30.9 9.7 30.9 12.1 41.2 11.6 41.3 11 41.3 10.7 41.2 10.4 41.2 10.1 41.3M373 52.8l37.8 30.9 33.8 30.9 30 30.9 26.5 30.9 23.2 30.9 20.6 30.9 18.1 30.9 16.2 30.9 19.1 41.2 16.9 41.3 15 41.3 13.7 41.2 12.5 41.2 11.7 41.3M659.3 52.8l10.3 30.9 9.6 30.9 8.9 30.9 8.2 30.9 7.4 30.9 6.9 30.9 6.3 30.9 5.9 30.9 7.4 41.2 7 41.3 6.6 41.3 6.4 41.2 6.3 41.2 6.1 41.3" stroke="#EDB120"/><path d="M238.7 52.8l62.8 30.9 56.6 30.9 49.2 30.9 41 30.9 33.1 30.9 26 30.9 20.4 30.9 15.9 30.9 16.5 41.2 12.5 41.3 9.9 41.3 8 41.2 6.7 41.2 5.7 41.3M319.8 52.8l46.3 30.9 41.4 30.9 36.2 30.9 30.8 30.9 25.9 30.9 21.7 30.9 18.3 30.9 15.7 30.9 17.7 41.2 15.2 41.3 13.3 41.3 11.9 41.2 10.9 41.2 10.2 41.3M575.9 52.8l17.6 30.9 15.1 30.9 12.8 30.9 10.9 30.9 9.6 30.9 8.5 30.9 7.7 30.9 7.2 30.9 8.9 41.2 8.5 41.3 8 41.3 7.8 41.2 7.5 41.2 7.4 41.3M321.2 52.8l51.6 30.9 48.5 30.9 43.8 30.9 37.1 30.9 29.2 30.9 21.9 30.9 16.5 30.9 12.7 30.9 13.5 41.2 11.1 41.3 9.7 41.3 8.8 41.2 8.2 41.2 7.8 41.3M425.9 52.8l48 30.9 43.7 30.9 34.6 30.9 22.3 30.9 14 30.9 10.2 30.9 8.5 30.9 7.6 30.9 9.5 41.2 9 41.3 8.8 41.3 8.6 41.2 8.5 41.2 8.4 41.3M409.4 52.8l33.2 30.9 29.4 30.9 25.7 30.9 22.3 30.9 19.5 30.9 17.1 30.9 15.1 30.9 13.6 30.9 16.2 41.2 14.5 41.3 13.2 41.3 12.3 41.2 11.5 41.2 10.9 41.3M373.2 52.8l37.2 30.9 33.8 30.9 30.1 30.9 26.3 30.9 22.8 30.9 19.6 30.9 16.8 30.9 14.5 30.9 16.6 41.2 14.1 41.3 12.2 41.3 10.9 41.2 9.9 41.2 9.1 41.3M332.5 52.8l36.7 30.9 33.7 30.9 30.6 30.9 27.5 30.9 24.5 30.9 21.7 30.9 19.3 30.9 17.1 30.9 20.1 41.2 17.6 41.3 15.5 41.3 14 41.2 12.8 41.2 11.8 41.3M594.1 52.8l17.1 30.9 15.3 30.9 13.6 30.9 11.9 30.9 10.5 30.9 9.4 30.9 8.5 30.9 7.7 30.9 9.6 41.2 8.9 41.3 8.5 41.3 8.1 41.2 7.8 41.2 7.7 41.3M579.9 52.8l19.7 30.9 17.8 30.9 16 30.9 14.1 30.9 12.4 30.9 10.9 30.9 9.7 30.9 8.7 30.9 10.5 41.2 9.6 41.3 8.9 41.3 8.3 41.2 7.9 41.2 7.7 41.3M436.6 52.8l32.5 30.9 27.5 30.9 23 30.9 19.4 30.9 16.6 30.9 14.5 30.9 13 30.9 11.9 30.9 14.6 41.2 13.5 41.3 12.7 41.3 12.2 41.2 11.8 41.2 11.4 41.3M300.4 52.8l71.1 30.9 62.8 30.9 49.2 30.9 33.2 30.9 21.2 30.9 14.3 30.9 10.6 30.9 8.6 30.9 9.6 41.2 8.5 41.3 7.7 41.3 7.3 41.2 6.9 41.2 6.8 41.3M433.9 52.8l37.4 30.9 33.5 30.9 29 30.9 24.5 30.9 20.5 30.9 17 30.9 14.2 30.9 12.2 30.9 13.8 41.2 11.9 41.3 10.5 41.3 9.5 41.2 8.8 41.2 8.2 41.3M371.7 52.8l48.1 30.9 45.3 30.9 39.3 30.9 29.3 30.9 19 30.9 12.8 30.9 10 30.9 8.5 30.9 10.2 41.2 9.5 41.3 9.2 41.3 8.9 41.2 8.7 41.2 8.7 41.3M335 52.8l57.6 30.9 55.2 30.9 49.9 30.9 39 30.9 24.4 30.9 14.6 30.9 10 30.9 7.8 30.9 8.9 41.2 8 41.3 7.5 41.3 7.1 41.2 7 41.2 6.9 41.3M538.7 52.8l26.8 30.9 21.9 30.9 17.5 30.9 14.2 30.9 11.8 30.9 10.3 30.9 9.2 30.9 8.6 30.9 10.6 41.2 10 41.3 9.7 41.3 9.3 41.2 9.1 41.2 9 41.3M290.4 52.8l52.4 30.9 48 30.9 42.3 30.9 35.6 30.9 28.8 30.9 22.7 30.9 18 30.9 14.5 30.9 15.7 41.2 12.8 41.3 11.1 41.3 9.8 41.2 9 41.2 8.4 41.3M555.4 52.8l18.9 30.9 16.9 30.9 15.3 30.9 13.9 30.9 12.7 30.9 11.6 30.9 10.8 30.9 10.2 30.9 12.6 41.2 11.9 41.3 11.2 41.3 10.7 41.2 10.3 41.2 10 41.3M320.1 52.8l41.8 30.9 37.3 30.9 32.6 30.9 28.1 30.9 24.1 30.9 20.8 30.9 18.1 30.9 16 30.9 18.8 41.2 16.7 41.3 15.1 41.3 13.9 41.2 13 41.2 12.4 41.3M398.7 52.8l28.7 30.9 25.7 30.9 23 30.9 20.8 30.9 18.8 30.9 17.2 30.9 15.8 30.9 14.7 30.9 18.2 41.2 17 41.3 15.9 41.3 15.1 41.2 14.4 41.2 13.9 41.3M416.1 52.8l49.8 30.9 46.1 30.9 39.6 30.9 30.3 30.9 20.8 30.9 14.1 30.9 10.1 30.9 7.8 30.9 8.6 41.2 7.2 41.3 6.6 41.3 6.1 41.2 5.8 41.2 5.6 41.3M440 52.8l40.9 30.9 36.2 30.9 30.1 30.9 23.6 30.9 17.9 30.9 13.5 30.9 10.7 30.9 8.7 30.9 9.7 41.2 8.3 41.3 7.4 41.3 6.8 41.2 6.4 41.2 6.1 41.3M286.5 52.8l53.1 30.9 49.3 30.9 43.7 30.9 36.5 30.9 28.6 30.9 21.7 30.9 16.5 30.9 13 30.9 13.8 41.2 11.4 41.3 9.8 41.3 8.8 41.2 8.2 41.2 7.6 41.3M472.3 52.8l36.9 30.9 33.5 30.9 28.9 30.9 23.2 30.9 17.8 30.9 13.8 30.9 11.1 30.9 9.4 30.9 10.9 41.2 9.8 41.3 9 41.3 8.6 41.2 8.3 41.2 8 41.3M611.5 52.8l15.3 30.9 14 30.9 12.7 30.9 11.3 30.9 10.2 30.9 9.2 30.9 8.5 30.9 7.8 30.9 9.9 41.2 9.3 41.3 8.8 41.3 8.6 41.2 8.3 41.2 8.2 41.3M619.1 52.8l12.5 30.9 11.5 30.9 10.5 30.9 9.4 30.9 8.5 30.9 7.8 30.9 7.2 30.9 6.6 30.9 8.3 41.2 7.8 41.3 7.4 41.3 7.2 41.2 6.9 41.2 6.8 41.3M558.8 52.8l24.8 30.9 20.1 30.9 15.6 30.9 12.2 30.9 9.9 30.9 8.6 30.9 7.6 30.9 7 30.9 8.8 41.2 8.4 41.3 8.1 41.3 7.8 41.2 7.7 41.2 7.6 41.3M574.8 52.8l19 30.9 16.6 30.9 14.3 30.9 12.4 30.9 10.9 30.9 9.6 30.9 8.7 30.9 8.1 30.9 9.9 41.2 9.3 41.3 8.9 41.3 8.4 41.2 8.2 41.2 8 41.3M578.1 52.8l20 30.9 15.6 30.9 12.2 30.9 10.2 30.9 9 30.9 8.2 30.9 7.7 30.9 7.5 30.9 9.5 41.2 9.3 41.3 9.2 41.3 9 41.2 8.9 41.2 8.8 41.3M583.2 52.8l19.7 30.9 16.7 30.9 13.8 30.9 11.3 30.9 9.7 30.9 8.6 30.9 7.9 30.9 7.4 30.9 9.3 41.2 8.9 41.3 8.7 41.3 8.5 41.2 8.3 41.2 8.3 41.3M408.5 52.8l34.2 30.9 31 30.9 27.6 30.9 24.3 30.9 21.4 30.9 18.8 30.9 16.5 30.9 14.6 30.9 17.2 41.2 15.1 41.3 13.4 41.3 12.3 41.2 11.2 41.2 10.5 41.3" stroke="#0072BD"/><path d="M201.1 52.8l56.7 30.9 52.8 30.9 47.9 30.9 42.3 30.9 36.1 30.9 30.1 30.9 24.7 30.9 20.1 30.9 21.4 41.2 16.7 41.3 13.4 41.3 11.2 41.2 9.5 41.2 8.3 41.3M503.1 52.8l28.7 30.9 23.4 30.9 18.4 30.9 14.7 30.9 12.1 30.9 10.5 30.9 9.3 30.9 8.6 30.9 10.8 41.2 10.1 41.3 9.7 41.3 9.5 41.2 9.2 41.2 9.1 41.3M318.6 52.8l56 30.9 51.4 30.9 43.9 30.9 33.4 30.9 23 30.9 15.3 30.9 10.9 30.9 8.2 30.9 8.6 41.2 7.2 41.3 6.2 41.3 5.7 41.2 5.3 41.2 5.1 41.3M315.5 52.8l52.6 30.9 49.4 30.9 44 30.9 36.1 30.9 27 30.9 19.4 30.9 14.4 30.9 11.4 30.9 12.4 41.2 10.7 41.3 9.7 41.3 9.1 41.2 8.7 41.2 8.3 41.3M392.3 52.8l45.9 30.9 39.7 30.9 32.6 30.9 25.9 30.9 20 30.9 15.7 30.9 12.5 30.9 10.3 30.9 11.4 41.2 9.5 41.3 8.4 41.3 7.4 41.2 6.9 41.2 6.5 41.3M550 52.8l21.5 30.9 19.1 30.9 16.8 30.9 14.7 30.9 12.8 30.9 11.4 30.9 10.1 30.9 9.1 30.9 11 41.2 10 41.3 9.2 41.3 8.7 41.2 8.2 41.2 7.9 41.3M548.1 52.8l26.2 30.9 22.2 30.9 17.9 30.9 14.1 30.9 11.4 30.9 9.6 30.9 8.4 30.9 7.6 30.9 9.5 41.2 8.8 41.3 8.5 41.3 8.2 41.2 8.1 41.2 7.9 41.3M328.2 52.8l51.4 30.9 44.4 30.9 36.6 30.9 29.1 30.9 22.9 30.9 18.2 30.9 15 30.9 12.6 30.9 14.3 41.2 12.4 41.3 11.1 41.3 10.3 41.2 9.5 41.2 9.1 41.3M335.3 52.8l46 30.9 40.5 30.9 34.3 30.9 28 30.9 22.8 30.9 18.5 30.9 15.4 30.9 13.2 30.9 15.3 41.2 13.4 41.3 12.2 41.3 11.3 41.2 10.6 41.2 10.2 41.3M432.2 52.8l44.2 30.9 37.1 30.9 29.2 30.9 22.3 30.9 16.9 30.9 13.2 30.9 10.6 30.9 9 30.9 10.2 41.2 8.9 41.3 8.1 41.3 7.4 41.2 7 41.2 6.7 41.3M486.5 52.8l38 30.9 34.4 30.9 28.2 30.9 20.2 30.9 13.7 30.9 10 30.9 8.1 30.9 7 30.9 8.4 41.2 7.8 41.3 7.4 41.3 7.2 41.2 7.1 41.2 7 41.3M520.2 52.8l35.6 30.9 31.5 30.9 24.3 30.9 16.4 30.9 11.2 30.9 8.5 30.9 7.2 30.9 6.4 30.9 7.9 41.2 7.4 41.3 7.2 41.3 7.1 41.2 6.9 41.2 6.9 41.3M301.3 52.8l41.7 30.9 38.3 30.9 34.6 30.9 30.5 30.9 26.7 30.9 23.1 30.9 19.9 30.9 17.2 30.9 19.7 41.2 16.8 41.3 14.5 41.3 13 41.2 11.6 41.2 10.8 41.3M494.7 52.8l29.1 30.9 24.7 30.9 20.7 30.9 17.1 30.9 14.3 30.9 12.2 30.9 10.6 30.9 9.4 30.9 11.1 41.2 10.1 41.3 9.2 41.3 8.7 41.2 8.2 41.2 7.9 41.3M522.2 52.8l39.4 30.9 34.8 30.9 26.6 30.9 17.1 30.9 11.1 30.9 8.1 30.9 6.8 30.9 6.1 30.9 7.4 41.2 7 41.3 6.8 41.3 6.6 41.2 6.5 41.2 6.5 41.3M423.9 52.8l44.8 30.9 39.6 30.9 32.8 30.9 25 30.9 18.4 30.9 13.8 30.9 10.7 30.9 8.9 30.9 10.1 41.2 8.8 41.3 8.1 41.3 7.5 41.2 7.1 41.2 6.9 41.3M346.3 52.8l52.9 30.9 48.2 30.9 41.4 30.9 32.8 30.9 24.3 30.9 17.7 30.9 13.1 30.9 10.3 30.9 10.9 41.2 9 41.3 7.8 41.3 7.1 41.2 6.5 41.2 6.2 41.3M493.4 52.8l43.5 30.9 39.8 30.9 32.8 30.9 22.9 30.9 14.5 30.9 9.6 30.9 7.1 30.9 5.9 30.9 6.7 41.2 6.1 41.3 5.6 41.3 5.4 41.2 5.3 41.2 5.1 41.3M603.9 52.8l14.9 30.9 13 30.9 11.4 30.9 10 30.9 9.1 30.9 8.4 30.9 7.8 30.9 7.3 30.9 9.4 41.2 9 41.3 8.7 41.3 8.4 41.2 8.3 41.2 8.2 41.3M576.8 52.8l18.9 30.9 16 30.9 13.5 30.9 11.6 30.9 10.2 30.9 9.1 30.9 8.5 30.9 8 30.9 10.1 41.2 9.7 41.3 9.4 41.3 9.2 41.2 9 41.2 8.9 41.3M542 52.8l25 30.9 19.8 30.9 15.4 30.9 12.4 30.9 10.5 30.9 9.3 30.9 8.5 30.9 8.1 30.9 10.3 41.2 9.8 41.3 9.6 41.3 9.5 41.2 9.2 41.2 9.2 41.3M658.8 52.8l8 30.9 7.6 30.9 7.3 30.9 7 30.9 6.8 30.9 6.7 30.9 6.5 30.9 6.4 30.9 8.4 41.2 8.3 41.3 8.2 41.3 8.2 41.2 8.1 41.2 8 41.3" stroke="#4DBEEE"/><path d="M215.4 52.8l54.9 30.9 49.6 30.9 43.9 30.9 37.8 30.9 32.1 30.9 27 30.9 22.5 30.9 18.8 30.9 20.7 41.2 16.7 41.3 13.9 41.3 11.7 41.2 10.1 41.2 8.9 41.3M581.7 52.8l9 30.9 9 30.9 9 30.9 8.9 30.9 9 30.9 9 30.9 8.9 30.9 9 30.9 11.9 41.2 12 41.3 11.9 41.3 11.9 41.2 12 41.2 11.9 41.3M457.8 52.8l34.8 30.9 30.3 30.9 25.6 30.9 21.4 30.9 17.7 30.9 14.7 30.9 12.6 30.9 10.9 30.9 12.6 41.2 11 41.3 9.8 41.3 9.1 41.2 8.5 41.2 8 41.3M600 52.8l16.4 30.9 15 30.9 13.5 30.9 12.2 30.9 10.8 30.9 9.8 30.9 8.8 30.9 8 30.9 9.8 41.2 8.9 41.3 8.3 41.3 7.8 41.2 7.4 41.2 7.1 41.3M467.1 52.8l28.4 30.9 25.6 30.9 22.6 30.9 19.6 30.9 17.1 30.9 14.8 30.9 12.9 30.9 11.4 30.9 13.5 41.2 11.8 41.3 10.8 41.3 9.8 41.2 9.2 41.2 8.7 41.3M575.7 52.8l24.4 30.9 20.6 30.9 16.2 30.9 12.6 30.9 10 30.9 8.6 30.9 7.7 30.9 7.1 30.9 8.8 41.2 8.5 41.3 8.2 41.3 8 41.2 7.9 41.2 7.8 41.3M322.5 52.8l52.8 30.9 47.6 30.9 40.4 30.9 32 30.9 24.2 30.9 18.4 30.9 14.5 30.9 11.9 30.9 13.4 41.2 11.6 41.3 10.6 41.3 9.8 41.2 9.3 41.2 9 41.3M595.3 52.8l9.8 30.9 9.3 30.9 9 30.9 8.8 30.9 8.6 30.9 8.4 30.9 8.3 30.9 8.2 30.9 10.8 41.2 10.7 41.3 10.6 41.3 10.6 41.2 10.5 41.2 10.4 41.3M558.4 52.8l22.7 30.9 19 30.9 15.6 30.9 12.8 30.9 10.8 30.9 9.3 30.9 8.3 30.9 7.5 30.9 9.3 41.2 8.7 41.3 8.2 41.3 7.9 41.2 7.7 41.2 7.4 41.3M483.3 52.8l29.5 30.9 25.9 30.9 22.7 30.9 19.6 30.9 17.1 30.9 15 30.9 13.2 30.9 11.8 30.9 14 41.2 12.5 41.3 11.3 41.3 10.4 41.2 9.8 41.2 9.1 41.3M531.9 52.8l27.2 30.9 22.8 30.9 18.6 30.9 15.3 30.9 12.7 30.9 10.9 30.9 9.7 30.9 8.7 30.9 10.7 41.2 9.8 41.3 9.4 41.3 9 41.2 8.6 41.2 8.5 41.3M605.9 52.8l9.6 30.9 9.3 30.9 8.9 30.9 8.7 30.9 8.6 30.9 8.3 30.9 8.2 30.9 8.1 30.9 10.7 41.2 10.5 41.3 10.5 41.3 10.3 41.2 10.3 41.2 10.2 41.3M569.7 52.8l24.5 30.9 20.1 30.9 15.2 30.9 11.5 30.9 9.3 30.9 8 30.9 7.3 30.9 6.8 30.9 8.8 41.2 8.5 41.3 8.2 41.3 8.2 41.2 8.1 41.2 8 41.3M415.3 52.8l43.4 30.9 39.8 30.9 34.3 30.9 27.4 30.9 20.5 30.9 15.1 30.9 11.4 30.9 9.2 30.9 10.1 41.2 8.5 41.3 7.6 41.3 7 41.2 6.7 41.2 6.3 41.3M586.5 52.8l16.2 30.9 13.9 30.9 12 30.9 10.4 30.9 9.4 30.9 8.4 30.9 7.8 30.9 7.3 30.9 9.1 41.2 8.6 41.3 8.3 41.3 8.1 41.2 7.8 41.2 7.7 41.3M364.2 52.8l63.2 30.9 59 30.9 49 30.9 31.7 30.9 17 30.9 10.2 30.9 7.3 30.9 6 30.9 6.8 41.2 6.3 41.3 5.8 41.3 5.6 41.2 5.5 41.2 5.3 41.3M620.1 52.8l14.7 30.9 13.9 30.9 12.9 30.9 11.9 30.9 10.7 30.9 9.7 30.9 8.7 30.9 8 30.9 9.8 41.2 9.1 41.3 8.6 41.3 8.2 41.2 7.9 41.2 7.8 41.3" stroke="#77AC30"/><path d="M213.1 52.8l60.6 30.9 55.8 30.9 49.8 30.9 42.9 30.9 35.7 30.9 28.9 30.9 23.1 30.9 18.6 30.9 19.5 41.2 15.3 41.3 12.3 41.3 10.3 41.2 8.8 41.2 7.8 41.3M225.4 52.8l61.8 30.9 57.2 30.9 51.2 30.9 43.6 30.9 35.3 30.9 27.6 30.9 21.1 30.9 16.2 30.9 16.3 41.2 12.2 41.3 9.6 41.3 7.9 41.2 6.7 41.2 5.8 41.3M208 52.8l61.9 30.9 56.7 30.9 50.5 30.9 43.6 30.9 36.5 30.9 29.8 30.9 24 30.9 19.4 30.9 20.2 41.2 15.6 41.3 12.4 41.3 10.1 41.2 8.4 41.2 7.2 41.3M574.4 52.8l15.4 30.9 13.8 30.9 12.4 30.9 11.4 30.9 10.5 30.9 9.8 30.9 9.2 30.9 8.9 30.9 11.3 41.2 10.9 41.3 10.5 41.3 10.3 41.2 10.1 41.2 9.9 41.3M527.4 52.8l28.7 30.9 24.2 30.9 19.2 30.9 14.9 30.9 11.8 30.9 9.7 30.9 8.3 30.9 7.4 30.9 9 41.2 8.2 41.3 7.7 41.3 7.4 41.2 7.2 41.2 7 41.3M561.5 52.8l14.7 30.9 13.1 30.9 12 30.9 11 30.9 10.2 30.9 9.7 30.9 9.2 30.9 8.9 30.9 11.4 41.2 11 41.3 10.7 41.3 10.5 41.2 10.4 41.2 10.1 41.3M455 52.8l30.3 30.9 26.6 30.9 23.3 30.9 20.4 30.9 18 30.9 15.9 30.9 14.4 30.9 13.1 30.9 15.9 41.2 14.6 41.3 13.5 41.3 12.8 41.2 12.1 41.2 11.7 41.3M468.7 52.8l29.6 30.9 24.9 30.9 20.7 30.9 17.4 30.9 15.1 30.9 13.2 30.9 12.1 30.9 11.1 30.9 13.9 41.2 13.1 41.3 12.5 41.3 12 41.2 11.8 41.2 11.5 41.3M412.4 52.8l32 30.9 28.2 30.9 24.5 30.9 21.4 30.9 18.6 30.9 16.3 30.9 14.5 30.9 13 30.9 15.4 41.2 13.8 41.3 12.6 41.3 11.6 41.2 10.8 41.2 10.3 41.3M338.7 52.8l55 30.9 52.2 30.9 46.7 30.9 36.9 30.9 24.9 30.9 15.9 30.9 11.2 30.9 8.7 30.9 9.8 41.2 8.6 41.3 7.9 41.3 7.6 41.2 7.3 41.2 7.1 41.3M430.2 52.8l31.6 30.9 28.1 30.9 24.6 30.9 21.3 30.9 18.4 30.9 15.8 30.9 13.7 30.9 12 30.9 14 41.2 12.1 41.3 10.7 41.3 9.7 41.2 9 41.2 8.2 41.3M494 52.8l28.6 30.9 25.3 30.9 21.9 30.9 18.7 30.9 16 30.9 13.8 30.9 12.1 30.9 10.6 30.9 12.6 41.2 11.2 41.3 10.2 41.3 9.5 41.2 9 41.2 8.5 41.3M298.4 52.8l52.4 30.9 49.1 30.9 44 30.9 37 30.9 29.1 30.9 21.6 30.9 16 30.9 12.1 30.9 12.4 41.2 9.9 41.3 8.3 41.3 7.3 41.2 6.6 41.2 6.2 41.3M479.5 52.8l24.4 30.9 21.9 30.9 19.6 30.9 17.6 30.9 15.9 30.9 14.3 30.9 13.1 30.9 12.1 30.9 14.7 41.2 13.4 41.3 12.3 41.3 11.5 41.2 10.8 41.2 10.3 41.3M553.6 52.8l17.5 30.9 15.9 30.9 14.5 30.9 13.3 30.9 12.1 30.9 11.3 30.9 10.4 30.9 9.8 30.9 12.2 41.2 11.5 41.3 10.8 41.3 10.2 41.2 9.9 41.2 9.5 41.3M464.1 52.8l29 30.9 25.6 30.9 22.5 30.9 19.6 30.9 17.3 30.9 15.4 30.9 13.8 30.9 12.6 30.9 15.3 41.2 14.1 41.3 13.1 41.3 12.3 41.2 11.8 41.2 11.4 41.3M577.3 52.8l22.9 30.9 20.3 30.9 17.3 30.9 14.3 30.9 11.7 30.9 9.8 30.9 8.4 30.9 7.4 30.9 8.9 41.2 8.2 41.3 7.6 41.3 7.3 41.2 7 41.2 6.9 41.3M367.3 52.8l52.6 30.9 50.4 30.9 45.3 30.9 34.6 30.9 21.2 30.9 12.8 30.9 9.1 30.9 7.4 30.9 8.7 41.2 8 41.3 7.7 41.3 7.3 41.2 7.3 41.2 7.1 41.3M323.5 52.8l52.9 30.9 50.5 30.9 46 30.9 38.5 30.9 28.4 30.9 19.2 30.9 13 30.9 9.5 30.9 9.9 41.2 8.1 41.3 7.2 41.3 6.6 41.2 6.2 41.2 6 41.3M298.2 52.8l44.2 30.9 40.2 30.9 36.1 30.9 31.6 30.9 27.5 30.9 23.7 30.9 20.3 30.9 17.5 30.9 19.9 41.2 16.7 41.3 14.3 41.3 12.5 41.2 11.2 41.2 10.1 41.3M428.6 52.8l37.7 30.9 33.7 30.9 29.3 30.9 24.8 30.9 20.9 30.9 17.5 30.9 14.8 30.9 12.6 30.9 14.3 41.2 12.2 41.3 10.6 41.3 9.6 41.2 8.8 41.2 8.2 41.3M452.3 52.8l40.9 30.9 34.9 30.9 27.7 30.9 20.9 30.9 15.8 30.9 12.4 30.9 10.2 30.9 8.8 30.9 10.3 41.2 9.4 41.3 8.7 41.3 8.3 41.2 7.9 41.2 7.7 41.3M528.7 52.8l21.3 30.9 19.1 30.9 17.2 30.9 15.4 30.9 13.7 30.9 12.3 30.9 11.1 30.9 10.2 30.9 12.3 41.2 11.2 41.3 10.4 41.3 9.6 41.2 9.1 41.2 8.7 41.3M292.2 52.8l42.5 30.9 38.8 30.9 34.8 30.9 31 30.9 27.1 30.9 23.8 30.9 20.7 30.9 18.1 30.9 21 41.2 18 41.3 15.7 41.3 14.1 41.2 12.6 41.2 11.6 41.3M600 52.8l18 30.9 16.7 30.9 15 30.9 13.2 30.9 11.3 30.9 9.7 30.9 8.4 30.9 7.2 30.9 8.4 41.2 7.3 41.3 6.7 41.3 6.1 41.2 5.8 41.2 5.6 41.3M277 52.8l54.4 30.9 48.7 30.9 42.2 30.9 35.3 30.9 29 30.9 23.3 30.9 18.7 30.9 15.1 30.9 16 41.2 12.6 41.3 10.1 41.3 8.4 41.2 7.2 41.2 6.2 41.3M430.9 52.8l33.2 30.9 29.7 30.9 26 30.9 22.6 30.9 19.5 30.9 17 30.9 14.8 30.9 13 30.9 15.3 41.2 13.4 41.3 11.9 41.3 10.9 41.2 10.1 41.2 9.4 41.3" stroke="#7E2F8E"/><path d="M265.8 52.8l53.4 30.9 48.4 30.9 42.9 30.9 36.8 30.9 30.8 30.9 25.3 30.9 20.7 30.9 16.8 30.9 17.9 41.2 13.9 41.3 11.2 41.3 9.2 41.2 7.6 41.2 6.5 41.3M343.5 52.8l59.4 30.9 56.5 30.9 50.2 30.9 37.8 30.9 23.3 30.9 14.3 30.9 10.3 30.9 8.4 30.9 9.7 41.2 8.9 41.3 8.5 41.3 8.1 41.2 8 41.2 7.9 41.3M308.6 52.8l44.9 30.9 41.8 30.9 38 30.9 33.1 30.9 27.9 30.9 23.1 30.9 18.9 30.9 15.7 30.9 17.4 41.2 14.7 41.3 12.9 41.3 11.7 41.2 10.8 41.2 10.3 41.3M544.7 52.8l20.4 30.9 18.5 30.9 16.6 30.9 14.8 30.9 13.2 30.9 11.7 30.9 10.4 30.9 9.3 30.9 11.1 41.2 9.8 41.3 8.7 41.3 7.9 41.2 7.3 41.2 6.8 41.3M538.5 52.8l28.2 30.9 22.8 30.9 17.3 30.9 13.1 30.9 10.7 30.9 9.3 30.9 8.4 30.9 7.9 30.9 10 41.2 9.7 41.3 9.4 41.3 9.2 41.2 9.2 41.2 9.1 41.3M563.2 52.8l27.8 30.9 23.6 30.9 17.7 30.9 12.8 30.9 9.9 30.9 8.2 30.9 7.5 30.9 7 30.9 8.9 41.2 8.6 41.3 8.4 41.3 8.2 41.2 8.2 41.2 8.2 41.3M317.7 52.8l45.8 30.9 41.8 30.9 37.2 30.9 32.1 30.9 27.1 30.9 22.5 30.9 18.7 30.9 15.5 30.9 17.1 41.2 14.1 41.3 12 41.3 10.4 41.2 9.4 41.2 8.6 41.3M507.4 52.8l23 30.9 20.5 30.9 18.3 30.9 16.3 30.9 14.7 30.9 13.3 30.9 12.2 30.9 11.3 30.9 14 41.2 13 41.3 12.1 41.3 11.6 41.2 11 41.2 10.7 41.3M525 52.8l23.8 30.9 20.8 30.9 18.2 30.9 15.8 30.9 13.9 30.9 12.3 30.9 11.1 30.9 10 30.9 12.2 41.2 11.1 41.3 10.3 41.3 9.7 41.2 9.3 41.2 8.8 41.3M555 52.8l31.5 30.9 25.8 30.9 18.9 30.9 13.4 30.9 9.8 30.9 8 30.9 6.8 30.9 6.2 30.9 7.7 41.2 7.2 41.3 6.9 41.3 6.7 41.2 6.6 41.2 6.5 41.3M497.7 52.8l32.1 30.9 27.1 30.9 21.2 30.9 16.1 30.9 12.7 30.9 10.9 30.9 9.8 30.9 9.2 30.9 11.6 41.2 11.2 41.3 10.9 41.3 10.7 41.2 10.6 41.2 10.5 41.3M502.8 52.8l21.5 30.9 19.5 30.9 17.6 30.9 16 30.9 14.4 30.9 13.2 30.9 12.1 30.9 11.1 30.9 13.7 41.2 12.4 41.3 11.6 41.3 10.8 41.2 10.2 41.2 9.6 41.3M434 52.8l39.7 30.9 36.2 30.9 31.6 30.9 26 30.9 20.4 30.9 15.8 30.9 12.4 30.9 10 30.9 11 41.2 9.2 41.3 8.1 41.3 7.4 41.2 6.8 41.2 6.5 41.3M511.1 52.8l19.8 30.9 17.8 30.9 16.1 30.9 14.6 30.9 13.3 30.9 12.3 30.9 11.3 30.9 10.6 30.9 13.1 41.2 12.2 41.3 11.5 41.3 10.9 41.2 10.5 41.2 10 41.3M537.9 52.8l24.8 30.9 20.2 30.9 16.5 30.9 13.6 30.9 11.7 30.9 10.3 30.9 9.2 30.9 8.6 30.9 10.6 41.2 10 41.3 9.6 41.3 9.2 41.2 9 41.2 8.8 41.3M436.6 52.8l40.3 30.9 34.8 30.9 28.7 30.9 22.7 30.9 17.8 30.9 14.2 30.9 11.5 30.9 9.7 30.9 11.1 41.2 9.6 41.3 8.5 41.3 7.9 41.2 7.4 41.2 7 41.3M575.9 52.8l21.1 30.9 18.7 30.9 16 30.9 13.6 30.9 11.6 30.9 10.1 30.9 9 30.9 8.2 30.9 10 41.2 9.2 41.3 8.8 41.3 8.3 41.2 8.1 41.2 7.9 41.3M476.1 52.8l32.1 30.9 28.4 30.9 24.4 30.9 20.7 30.9 17.5 30.9 14.9 30.9 12.8 30.9 11.3 30.9 13.2 41.2 11.7 41.3 10.6 41.3 9.9 41.2 9.2 41.2 8.8 41.3M483.7 52.8l33.7 30.9 28.5 30.9 22.8 30.9 18 30.9 14.4 30.9 11.9 30.9 10.3 30.9 9.1 30.9 11.1 41.2 10.2 41.3 9.5 41.3 9.2 41.2 8.9 41.2 8.7 41.3M477.5 52.8l40.8 30.9 34.6 30.9 26.3 30.9 18.5 30.9 13.4 30.9 10.4 30.9 8.7 30.9 7.8 30.9 9.4 41.2 8.8 41.3 8.4 41.3 8.1 41.2 8 41.2 7.8 41.3M383 52.8l38.2 30.9 35.1 30.9 31.6 30.9 27.6 30.9 23.5 30.9 19.8 30.9 16.6 30.9 14.2 30.9 16.1 41.2 13.8 41.3 12.2 41.3 11.1 41.2 10.2 41.2 9.7 41.3M449.9 52.8l48.9 30.9 40.9 30.9 28.3 30.9 17.5 30.9 11.6 30.9 8.9 30.9 7.5 30.9 6.8 30.9 8.4 41.2 7.9 41.3 7.6 41.3 7.5 41.2 7.3 41.2 7.3 41.3M462.4 52.8l45.1 30.9 40.9 30.9 33.7 30.9 24 30.9 15.9 30.9 11 30.9 8.5 30.9 7.2 30.9 8.3 41.2 7.6 41.3 7.1 41.3 6.9 41.2 6.6 41.2 6.5 41.3M502.9 52.8l24.9 30.9 21.3 30.9 18.5 30.9 16.1 30.9 14.3 30.9 13.1 30.9 12.1 30.9 11.4 30.9 14.5 41.2 13.7 41.3 13.3 41.3 12.8 41.2 12.7 41.2 12.4 41.3M595.1 52.8l17.5 30.9 15.7 30.9 13.9 30.9 12.2 30.9 10.6 30.9 9.4 30.9 8.4 30.9 7.7 30.9 9.4 41.2 8.7 41.3 8.2 41.3 7.9 41.2 7.7 41.2 7.4 41.3M541 52.8l33.4 30.9 25.2 30.9 17 30.9 12 30.9 9.6 30.9 8.4 30.9 7.6 30.9 7.3 30.9 9.3 41.2 9 41.3 8.9 41.3 8.7 41.2 8.7 41.2 8.6 41.3M497 52.8l32.5 30.9 27.6 30.9 22.6 30.9 18.1 30.9 14.4 30.9 11.8 30.9 9.9 30.9 8.5 30.9 10 41.2 8.7 41.3 8 41.3 7.5 41.2 7 41.2 6.7 41.3M437.6 52.8l50.5 30.9 45.2 30.9 34.9 30.9 22.1 30.9 13.8 30.9 9.8 30.9 8 30.9 7.1 30.9 8.7 41.2 8.1 41.3 7.9 41.3 7.7 41.2 7.5 41.2 7.5 41.3M594 52.8l13.2 30.9 11.9 30.9 10.8 30.9 9.8 30.9 9.2 30.9 8.6 30.9 8.2 30.9 7.9 30.9 10.1 41.2 9.8 41.3 9.5 41.3 9.3 41.2 9.2 41.2 9 41.3M484 52.8l31.7 30.9 27.1 30.9 22.6 30.9 18.6 30.9 15.2 30.9 12.7 30.9 10.8 30.9 9.4 30.9 10.9 41.2 9.8 41.3 8.8 41.3 8.2 41.2 7.8 41.2 7.4 41.3" stroke="#A2142F"/><path d="M279.7 52.8l62 30.9 54.5 30.9 45.8 30.9 36.7 30.9 28.6 30.9 22.1 30.9 17.3 30.9 13.7 30.9 14.4 41.2 11.4 41.3 9.3 41.3 8 41.2 7 41.2 6.2 41.3M254 52.8l61 30.9 54.6 30.9 47.1 30.9 38.5 30.9 30.5 30.9 23.7 30.9 18.2 30.9 14.4 30.9 14.9 41.2 11.6 41.3 9.3 41.3 7.9 41.2 6.7 41.2 6 41.3M461 52.8l27.7 30.9 24.3 30.9 21.2 30.9 18.5 30.9 16.3 30.9 14.5 30.9 13.1 30.9 11.8 30.9 14.4 41.2 13 41.3 12.1 41.3 11.3 41.2 10.7 41.2 10.2 41.3M407.4 52.8l33.4 30.9 29.8 30.9 26.3 30.9 23 30.9 19.9 30.9 17.3 30.9 15.2 30.9 13.3 30.9 15.5 41.2 13.6 41.3 12.1 41.3 10.9 41.2 10.1 41.2 9.4 41.3M573.6 52.8l20.2 30.9 17.4 30.9 14.3 30.9 12 30.9 10.4 30.9 9.4 30.9 8.6 30.9 8.2 30.9 10.4 41.2 10.1 41.3 9.9 41.3 9.7 41.2 9.6 41.2 9.5 41.3M314.3 52.8l49.3 30.9 45.7 30.9 40.9 30.9 34.6 30.9 28 30.9 21.9 30.9 17.1 30.9 13.6 30.9 14.5 41.2 12 41.3 10.2 41.3 9.2 41.2 8.4 41.2 8 41.3M539.1 52.8l21.5 30.9 19.4 30.9 17.2 30.9 15.2 30.9 13.6 30.9 12.1 30.9 11 30.9 10 30.9 12.2 41.2 11.2 41.3 10.4 41.3 9.7 41.2 9.2 41.2 8.9 41.3M527.6 52.8l35.9 30.9 32.9 30.9 27.2 30.9 19.4 30.9 12.8 30.9 9.1 30.9 7.1 30.9 6.1 30.9 7.2 41.2 6.7 41.3 6.4 41.3 6.2 41.2 6 41.2 5.9 41.3M542.4 52.8l22.9 30.9 18.3 30.9 14.5 30.9 12 30.9 10.4 30.9 9.3 30.9 8.7 30.9 8.2 30.9 10.4 41.2 10.1 41.3 9.9 41.3 9.6 41.2 9.6 41.2 9.4 41.3M432.8 52.8l41 30.9 35.7 30.9 28.3 30.9 21.1 30.9 15.5 30.9 12.1 30.9 10 30.9 8.9 30.9 10.5 41.2 9.8 41.3 9.3 41.3 8.9 41.2 8.7 41.2 8.6 41.3M301.7 52.8l50.3 30.9 47 30.9 42.4 30.9 36.2 30.9 29 30.9 22.4 30.9 17 30.9 13.3 30.9 14 41.2 11.2 41.3 9.5 41.3 8.4 41.2 7.8 41.2 7.2 41.3M343.8 52.8l50.5 30.9 47.2 30.9 42.1 30.9 35.1 30.9 26.7 30.9 19.5 30.9 14.2 30.9 10.9 30.9 11.2 41.2 9.1 41.3 7.8 41.3 7.1 41.2 6.5 41.2 6.1 41.3M298.3 52.8l45.7 30.9 40.7 30.9 35 30.9 28.9 30.9 23.6 30.9 19.4 30.9 16 30.9 13.8 30.9 15.8 41.2 13.8 41.3 12.5 41.3 11.5 41.2 10.9 41.2 10.4 41.3M356.1 52.8l57.6 30.9 54.4 30.9 47.4 30.9 34.6 30.9 20.9 30.9 12.8 30.9 9.2 30.9 7.3 30.9 8.5 41.2 7.6 41.3 7.2 41.3 6.8 41.2 6.7 41.2 6.6 41.3M520.8 52.8l27.3 30.9 23.6 30.9 19.8 30.9 16.6 30.9 13.9 30.9 12 30.9 10.4 30.9 9.4 30.9 11.4 41.2 10.3 41.3 9.7 41.3 9.2 41.2 8.9 41.2 8.6 41.3M283.8 52.8l65.6 30.9 61 30.9 53.3 30.9 41.9 30.9 29.4 30.9 19.5 30.9 13.3 30.9 9.6 30.9 9.6 41.2 7.6 41.3 6.3 41.3 5.6 41.2 5.1 41.2 4.8 41.3M414.7 52.8l36.8 30.9 32 30.9 26.7 30.9 21.9 30.9 17.8 30.9 14.8 30.9 12.6 30.9 11 30.9 12.9 41.2 11.5 41.3 10.6 41.3 9.9 41.2 9.4 41.2 9.1 41.3M374.7 52.8l51.3 30.9 47.7 30.9 41.2 30.9 31.6 30.9 22 30.9 15.2 30.9 11.6 30.9 9.4 30.9 11 41.2 9.8 41.3 9.2 41.3 8.8 41.2 8.5 41.2 8.3 41.3M560.4 52.8l25.8 30.9 22.6 30.9 18.5 30.9 14.6 30.9 11.3 30.9 9.3 30.9 7.8 30.9 6.9 30.9 8.4 41.2 7.7 41.3 7.4 41.3 7 41.2 6.9 41.2 6.7 41.3M482.6 52.8l38.2 30.9 33.8 30.9 27.3 30.9 20.1 30.9 14.5 30.9 10.7 30.9 8.4 30.9 7 30.9 8.1 41.2 7.2 41.3 6.7 41.3 6.2 41.2 6.1 41.2 5.8 41.3M427.7 52.8l37.8 30.9 33.4 30.9 28.7 30.9 23.9 30.9 19.7 30.9 16.3 30.9 13.5 30.9 11.6 30.9 13.2 41.2 11.3 41.3 10.1 41.3 9.2 41.2 8.5 41.2 8.1 41.3M487.9 52.8l33.6 30.9 28.1 30.9 22.5 30.9 18 30.9 14.6 30.9 12.5 30.9 11 30.9 10.1 30.9 12.4 41.2 11.6 41.3 11.1 41.3 10.7 41.2 10.5 41.2 10.2 41.3" stroke="#D95319"/><path d="M244.2 52.8l58 30.9 51.9 30.9 45.1 30.9 38.1 30.9 31.3 30.9 25.5 30.9 20.6 30.9 16.8 30.9 18 41.2 14.3 41.3 11.8 41.3 9.9 41.2 8.5 41.2 7.5 41.3M186.3 52.8l58.5 30.9 53.9 30.9 48.5 30.9 42.5 30.9 36.3 30.9 30.6 30.9 25.3 30.9 21 30.9 22.6 41.2 17.8 41.3 14.4 41.3 11.9 41.2 10.1 41.2 8.6 41.3M407.1 52.8l49.7 30.9 46.4 30.9 40.1 30.9 30.4 30.9 20.3 30.9 13.6 30.9 10.1 30.9 8.2 30.9 9.3 41.2 8.3 41.3 7.7 41.3 7.4 41.2 7.2 41.2 7 41.3M339.9 52.8l39.2 30.9 35.7 30.9 32 30.9 28.3 30.9 24.7 30.9 21.6 30.9 18.8 30.9 16.4 30.9 19 41.2 16.5 41.3 14.4 41.3 12.9 41.2 11.7 41.2 10.9 41.3M537.9 52.8l22.8 30.9 19.5 30.9 16.4 30.9 13.9 30.9 11.9 30.9 10.4 30.9 9.2 30.9 8.3 30.9 10.1 41.2 9.2 41.3 8.6 41.3 8.1 41.2 7.8 41.2 7.4 41.3M522.3 52.8l32 30.9 25.7 30.9 18.6 30.9 13.2 30.9 9.9 30.9 8.2 30.9 7.3 30.9 6.6 30.9 8.3 41.2 7.8 41.3 7.6 41.3 7.5 41.2 7.3 41.2 7.2 41.3M611.6 52.8l8.9 30.9 8.6 30.9 8.2 30.9 7.9 30.9 7.6 30.9 7.4 30.9 7.3 30.9 7 30.9 9.3 41.2 9 41.3 8.9 41.3 8.8 41.2 8.7 41.2 8.6 41.3M298 52.8l66.3 30.9 62.2 30.9 54.2 30.9 41.2 30.9 26.5 30.9 16.2 30.9 10.6 30.9 7.5 30.9 7.7 41.2 6.2 41.3 5.3 41.3 4.7 41.2 4.5 41.2 4.2 41.3M610 52.8l15.8 30.9 14.1 30.9 12.6 30.9 11.1 30.9 10 30.9 9.1 30.9 8.3 30.9 7.7 30.9 9.6 41.2 9.1 41.3 8.6 41.3 8.3 41.2 8.1 41.2 7.9 41.3M573.5 52.8l22.3 30.9 19.4 30.9 16.1 30.9 13.1 30.9 10.8 30.9 9 30.9 8 30.9 7.2 30.9 8.9 41.2 8.3 41.3 8 41.3 7.6 41.2 7.5 41.2 7.4 41.3M368.6 52.8l40.7 30.9 36.2 30.9 31.5 30.9 26.8 30.9 22.6 30.9 19.1 30.9 16.4 30.9 14 30.9 16.2 41.2 14 41.3 12.3 41.3 11.2 41.2 10.3 41.2 9.7 41.3M380.5 52.8l49.2 30.9 44.1 30.9 37.3 30.9 29.3 30.9 21.9 30.9 16.5 30.9 12.9 30.9 10.5 30.9 11.6 41.2 10 41.3 9 41.3 8.4 41.2 7.8 41.2 7.5 41.3M540.3 52.8l18 30.9 16.2 30.9 14.5 30.9 13.1 30.9 12 30.9 10.8 30.9 10 30.9 9.2 30.9 11.4 41.2 10.4 41.3 9.7 41.3 9.2 41.2 8.6 41.2 8.3 41.3M318.3 52.8l48.3 30.9 45.4 30.9 40.7 30.9 33.7 30.9 25.7 30.9 18.7 30.9 13.8 30.9 11 30.9 11.9 41.2 10.2 41.3 9.1 41.3 8.6 41.2 8.1 41.2 7.8 41.3M437.9 52.8l31.4 30.9 28.6 30.9 25.6 30.9 22.9 30.9 20.3 30.9 18 30.9 15.9 30.9 14.2 30.9 16.6 41.2 14.5 41.3 12.7 41.3 11.4 41.2 10.3 41.2 9.5 41.3M558.8 52.8l18.7 30.9 15.4 30.9 13 30.9 11.4 30.9 10.3 30.9 9.7 30.9 9.1 30.9 8.8 30.9 11.3 41.2 11.1 41.3 10.9 41.3 10.6 41.2 10.6 41.2 10.5 41.3M495.7 52.8l32 30.9 28.7 30.9 24.5 30.9 20 30.9 16 30.9 13 30.9 11 30.9 9.7 30.9 11.5 41.2 10.4 41.3 9.9 41.3 9.3 41.2 9.1 41.2 8.9 41.3M608.4 52.8l17.6 30.9 15.9 30.9 14 30.9 11.8 30.9 9.9 30.9 8.3 30.9 7.2 30.9 6.3 30.9 7.6 41.2 7 41.3 6.5 41.3 6.2 41.2 6 41.2 5.8 41.3M351.1 52.8l43.8 30.9 38.8 30.9 33.2 30.9 27.8 30.9 22.9 30.9 19 30.9 16 30.9 13.7 30.9 15.8 41.2 13.9 41.3 12.4 41.3 11.4 41.2 10.8 41.2 10.1 41.3M318.4 52.8l56.4 30.9 52.8 30.9 47 30.9 38.4 30.9 28.6 30.9 20.1 30.9 14.3 30.9 10.8 30.9 11 41.2 8.9 41.3 7.7 41.3 6.9 41.2 6.4 41.2 6.1 41.3M613.4 52.8l8.9 30.9 8.6 30.9 8.2 30.9 8 30.9 7.8 30.9 7.7 30.9 7.5 30.9 7.4 30.9 9.7 41.2 9.7 41.3 9.5 41.3 9.5 41.2 9.4 41.2 9.3 41.3M375.6 52.8l53 30.9 50.4 30.9 45 30.9 35.9 30.9 24.4 30.9 15.4 30.9 10.1 30.9 7.5 30.9 7.8 41.2 6.4 41.3 5.7 41.3 5.2 41.2 5 41.2 4.7 41.3M484.1 52.8l36.4 30.9 32.8 30.9 27.6 30.9 21.6 30.9 16 30.9 12 30.9 9.5 30.9 7.9 30.9 9 41.2 8 41.3 7.3 41.3 6.9 41.2 6.6 41.2 6.4 41.3M555.1 52.8l21.3 30.9 15.2 30.9 11.9 30.9 10.5 30.9 9.7 30.9 9.3 30.9 9.1 30.9 9 30.9 11.8 41.2 11.6 41.3 11.6 41.3 11.6 41.2 11.5 41.2 11.5 41.3M410.3 52.8l49.5 30.9 44.6 30.9 36.2 30.9 25.8 30.9 17.6 30.9 12.8 30.9 10.3 30.9 9 30.9 10.7 41.2 10 41.3 9.5 41.3 9.2 41.2 9 41.2 8.9 41.3" stroke="#EDB120"/><path d="M260.5 52.8l59.5 30.9 54.1 30.9 47.5 30.9 39.6 30.9 31.9 30.9 24.9 30.9 19.3 30.9 15.2 30.9 15.8 41.2 12.4 41.3 10 41.3 8.4 41.2 7.4 41.2 6.6 41.3M196.9 52.8l62 30.9 57.6 30.9 51.6 30.9 44.5 30.9 36.8 30.9 29.3 30.9 23.1 30.9 18.1 30.9 18.5 41.2 14.1 41.3 11.2 41.3 9.1 41.2 7.8 41.2 6.9 41.3M250.6 52.8l60.4 30.9 53.4 30.9 45.5 30.9 37.2 30.9 29.5 30.9 23.2 30.9 18.3 30.9 14.7 30.9 15.6 41.2 12.4 41.3 10.3 41.3 8.7 41.2 7.7 41.2 6.9 41.3M207.6 52.8l56.4 30.9 51.9 30.9 46.8 30.9 41.1 30.9 35.2 30.9 29.5 30.9 24.5 30.9 20.1 30.9 21.5 41.2 16.8 41.3 13.4 41.3 10.9 41.2 9 41.2 7.7 41.3M221.3 52.8l59.4 30.9 54.4 30.9 48.5 30.9 42 30.9 35.4 30.9 29.1 30.9 23.7 30.9 19.2 30.9 20.4 41.2 15.8 41.3 12.6 41.3 10.3 41.2 8.6 41.2 7.4 41.3M368.4 52.8l49.2 30.9 47.2 30.9 43.2 30.9 35 30.9 23.2 30.9 14.3 30.9 9.6 30.9 7.4 30.9 8.4 41.2 7.4 41.3 6.9 41.3 6.6 41.2 6.5 41.2 6.3 41.3M381.3 52.8l42.2 30.9 37.7 30.9 32.6 30.9 27.6 30.9 23.1 30.9 19.2 30.9 16.1 30.9 13.8 30.9 15.6 41.2 13.4 41.3 11.8 41.3 10.6 41.2 9.8 41.2 9.2 41.3M619.6 52.8l15 30.9 14.3 30.9 13.2 30.9 12.2 30.9 10.9 30.9 9.9 30.9 8.7 30.9 7.9 30.9 9.4 41.2 8.5 41.3 7.7 41.3 7.2 41.2 6.8 41.2 6.6 41.3M294.7 52.8l52.1 30.9 46.5 30.9 40.4 30.9 33.8 30.9 28 30.9 22.9 30.9 18.9 30.9 15.8 30.9 17.7 41.2 14.8 41.3 13 41.3 11.5 41.2 10.5 41.2 9.8 41.3M430.2 52.8l32.8 30.9 29 30.9 25.5 30.9 22.1 30.9 19.3 30.9 16.8 30.9 14.8 30.9 13.1 30.9 15.3 41.2 13.5 41.3 12.1 41.3 11 41.2 10.1 41.2 9.4 41.3M394.3 52.8l42.8 30.9 39.1 30.9 34.5 30.9 29.4 30.9 24 30.9 19.2 30.9 15.4 30.9 12.5 30.9 13.6 41.2 11 41.3 9.4 41.3 8.4 41.2 7.5 41.2 6.9 41.3M444.8 52.8l26.4 30.9 23.3 30.9 20.5 30.9 18 30.9 16 30.9 14.5 30.9 13.3 30.9 12.4 30.9 15.3 41.2 14.5 41.3 13.7 41.3 13.1 41.2 12.8 41.2 12.4 41.3M373.3 52.8l32.4 30.9 29.1 30.9 26.1 30.9 23.2 30.9 20.8 30.9 18.6 30.9 16.7 30.9 15.3 30.9 18.3 41.2 16.4 41.3 14.9 41.3 13.7 41.2 12.8 41.2 12 41.3M605.8 52.8l15.9 30.9 14.6 30.9 13.2 30.9 11.8 30.9 10.5 30.9 9.4 30.9 8.6 30.9 7.8 30.9 9.7 41.2 9 41.3 8.5 41.3 8.1 41.2 7.8 41.2 7.7 41.3M367.9 52.8l46.5 30.9 42.8 30.9 37.4 30.9 30.3 30.9 23.3 30.9 17.5 30.9 13.6 30.9 10.9 30.9 12 41.2 10.3 41.3 9.2 41.3 8.5 41.2 8 41.2 7.8 41.3M600.9 52.8l14.7 30.9 13.4 30.9 12.2 30.9 11 30.9 9.9 30.9 9 30.9 8.4 30.9 7.7 30.9 9.7 41.2 9 41.3 8.6 41.3 8.3 41.2 8.1 41.2 7.9 41.3M376.7 52.8l62.4 30.9 56.5 30.9 44.4 30.9 27.8 30.9 16.1 30.9 10.4 30.9 7.9 30.9 6.7 30.9 7.7 41.2 7.1 41.3 6.7 41.3 6.5 41.2 6.3 41.2 6.1 41.3M332.6 52.8l46.4 30.9 42.7 30.9 37.8 30.9 32.2 30.9 26.4 30.9 21.1 30.9 17 30.9 13.9 30.9 15.3 41.2 12.6 41.3 11 41.3 9.8 41.2 9.1 41.2 8.5 41.3M361.6 52.8l52.5 30.9 46.1 30.9 38 30.9 29.4 30.9 22.1 30.9 16.9 30.9 13.5 30.9 11.2 30.9 12.7 41.2 11.1 41.3 10.1 41.3 9.4 41.2 8.9 41.2 8.6 41.3M372.5 52.8l44.5 30.9 39.7 30.9 34.1 30.9 28.2 30.9 22.7 30.9 18.2 30.9 14.8 30.9 12.2 30.9 13.5 41.2 11.2 41.3 9.9 41.3 8.7 41.2 8.1 41.2 7.5 41.3M516.4 52.8l30.7 30.9 27.2 30.9 23.3 30.9 19.2 30.9 15.5 30.9 12.6 30.9 10.4 30.9 8.7 30.9 9.9 41.2 8.6 41.3 7.6 41.3 6.9 41.2 6.5 41.2 6.2 41.3M485 52.8l29.9 30.9 26.3 30.9 23 30.9 19.8 30.9 17 30.9 14.7 30.9 12.7 30.9 11.1 30.9 12.9 41.2 11.1 41.3 9.8 41.3 8.8 41.2 7.9 41.2 7.4 41.3M455.9 52.8l49.1 30.9 44.8 30.9 33.8 30.9 19.3 30.9 11.4 30.9 8.3 30.9 7.2 30.9 6.6 30.9 8.2 41.2 8 41.3 7.8 41.3 7.7 41.2 7.6 41.2 7.5 41.3M294.7 52.8l47.1 30.9 42 30.9 36.6 30.9 30.8 30.9 25.6 30.9 21.2 30.9 17.6 30.9 14.8 30.9 16.7 41.2 14.1 41.3 12.4 41.3 11 41.2 10.1 41.2 9.3 41.3M377.7 52.8l50.3 30.9 44 30.9 35.8 30.9 27.4 30.9 20.4 30.9 15.4 30.9 12.2 30.9 10.1 30.9 11.3 41.2 9.9 41.3 8.9 41.3 8.3 41.2 7.8 41.2 7.6 41.3M583.6 52.8l18.1 30.9 16.3 30.9 14.6 30.9 12.9 30.9 11.5 30.9 10.3 30.9 9.2 30.9 8.3 30.9 10 41.2 9 41.3 8.2 41.3 7.6 41.2 7.1 41.2 6.8 41.3M324.2 52.8l59.8 30.9 55.1 30.9 46.1 30.9 32.7 30.9 20.9 30.9 13.9 30.9 10.4 30.9 8.5 30.9 9.9 41.2 9 41.3 8.3 41.3 8.1 41.2 7.8 41.2 7.6 41.3M450.3 52.8l47.9 30.9 41.9 30.9 31 30.9 19.5 30.9 12.7 30.9 9.7 30.9 8.2 30.9 7.4 30.9 9.2 41.2 8.7 41.3 8.5 41.3 8.4 41.2 8.2 41.2 8.1 41.3M618.8 52.8l10.4 30.9 9.6 30.9 8.9 30.9 8.3 30.9 7.8 30.9 7.4 30.9 7 30.9 6.8 30.9 8.8 41.2 8.5 41.3 8.3 41.3 8.1 41.2 7.9 41.2 7.9 41.3M538.8 52.8l29.4 30.9 23.4 30.9 17.3 30.9 13 30.9 10.7 30.9 9.4 30.9 8.7 30.9 8.3 30.9 10.6 41.2 10.2 41.3 10.1 41.3 10 41.2 9.8 41.2 9.8 41.3M392.3 52.8l46.5 30.9 39.9 30.9 32 30.9 24.7 30.9 18.8 30.9 14.8 30.9 12.2 30.9 10.3 30.9 12 41.2 10.6 41.3 9.8 41.3 9.2 41.2 8.8 41.2 8.4 41.3M655 52.8l9.5 30.9 9 30.9 8.6 30.9 8.1 30.9 7.9 30.9 7.6 30.9 7.3 30.9 7.1 30.9 9.3 41.2 9 41.3 8.8 41.3 8.6 41.2 8.5 41.2 8.4 41.3" stroke="#0072BD"/><path d="M266.6 52.8l50.7 30.9 46.2 30.9 41.2 30.9 36.1 30.9 30.9 30.9 26.1 30.9 22.1 30.9 18.5 30.9 20.4 41.2 16.7 41.3 13.8 41.3 11.7 41.2 10.1 41.2 9 41.3M286.6 52.8l39.8 30.9 36.7 30.9 33.4 30.9 30 30.9 26.9 30.9 23.8 30.9 21.1 30.9 18.7 30.9 21.9 41.2 18.8 41.3 16.5 41.3 14.6 41.2 13.1 41.2 12 41.3M594.4 52.8l14.3 30.9 12.9 30.9 11.7 30.9 10.7 30.9 9.8 30.9 9.3 30.9 8.7 30.9 8.4 30.9 10.7 41.2 10.3 41.3 10 41.3 9.8 41.2 9.7 41.2 9.4 41.3M360.6 52.8l50.5 30.9 47.9 30.9 43.2 30.9 35.6 30.9 26 30.9 17.7 30.9 12.4 30.9 9.3 30.9 9.9 41.2 8.3 41.3 7.4 41.3 6.8 41.2 6.4 41.2 6.2 41.3M490.3 52.8l25.1 30.9 22.6 30.9 20 30.9 17.8 30.9 15.8 30.9 14.2 30.9 12.8 30.9 11.7 30.9 14.1 41.2 12.8 41.3 11.9 41.3 11 41.2 10.5 41.2 9.9 41.3M533.3 52.8l26 30.9 22.7 30.9 19.1 30.9 15.8 30.9 13.2 30.9 11.1 30.9 9.7 30.9 8.7 30.9 10.5 41.2 9.7 41.3 9.1 41.3 8.7 41.2 8.4 41.2 8.1 41.3M407 52.8l57.1 30.9 49.8 30.9 38.6 30.9 26.6 30.9 17.9 30.9 12.7 30.9 9.8 30.9 8.2 30.9 9.5 41.2 8.5 41.3 7.8 41.3 7.5 41.2 7.1 41.2 7 41.3M541.4 52.8l17.5 30.9 15.7 30.9 14.2 30.9 12.8 30.9 11.7 30.9 10.7 30.9 9.9 30.9 9.1 30.9 11.4 41.2 10.5 41.3 9.9 41.3 9.3 41.2 8.9 41.2 8.5 41.3M409.5 52.8l43 30.9 37.4 30.9 30.5 30.9 23.6 30.9 18.1 30.9 14.3 30.9 11.8 30.9 10.2 30.9 11.9 41.2 10.8 41.3 10 41.3 9.5 41.2 9.2 41.2 8.9 41.3M437.9 52.8l43.2 30.9 38.6 30.9 32 30.9 24.7 30.9 18.4 30.9 13.7 30.9 10.6 30.9 8.7 30.9 9.8 41.2 8.4 41.3 7.6 41.3 7 41.2 6.7 41.2 6.4 41.3M433.1 52.8l51.9 30.9 47.5 30.9 38.5 30.9 25.5 30.9 15.6 30.9 10.6 30.9 8.3 30.9 7.2 30.9 8.6 41.2 8 41.3 7.6 41.3 7.5 41.2 7.3 41.2 7.2 41.3M347.9 52.8l57.9 30.9 53.3 30.9 45.2 30.9 34.2 30.9 23.3 30.9 15.9 30.9 11.7 30.9 9.2 30.9 10.3 41.2 8.8 41.3 8.1 41.3 7.6 41.2 7.2 41.2 7 41.3M342.4 52.8l48.1 30.9 42.9 30.9 36.6 30.9 30.2 30.9 24.3 30.9 19.4 30.9 15.9 30.9 13.1 30.9 14.8 41.2 12.5 41.3 11 41.3 9.9 41.2 9.2 41.2 8.7 41.3M573.3 52.8l27.4 30.9 24.3 30.9 19.7 30.9 14.3 30.9 10.1 30.9 7.7 30.9 6.2 30.9 5.4 30.9 6.5 41.2 6 41.3 5.7 41.3 5.5 41.2 5.4 41.2 5.3 41.3M470 52.8l39.7 30.9 33.9 30.9 26.6 30.9 19.6 30.9 14.8 30.9 11.8 30.9 10 30.9 8.9 30.9 10.8 41.2 10.1 41.3 9.6 41.3 9.3 41.2 9.1 41.2 8.9 41.3M438.4 52.8l39.4 30.9 32.9 30.9 25.9 30.9 19.9 30.9 15.6 30.9 12.7 30.9 11 30.9 9.7 30.9 11.8 41.2 10.9 41.3 10.3 41.3 9.9 41.2 9.7 41.2 9.4 41.3" stroke="#4DBEEE"/><path d="M254.1 52.8l57.1 30.9 51.5 30.9 44.7 30.9 37.2 30.9 30.1 30.9 23.8 30.9 18.7 30.9 15.1 30.9 15.8 41.2 12.5 41.3 10.3 41.3 8.8 41.2 7.6 41.2 6.8 41.3M486.4 52.8l41.1 30.9 34.7 30.9 27 30.9 19.9 30.9 14.8 30.9 11.4 30.9 9.4 30.9 8.2 30.9 9.6 41.2 8.7 41.3 8.2 41.3 7.8 41.2 7.5 41.2 7.3 41.3M537.8 52.8l27.8 30.9 23 30.9 18 30.9 13.9 30.9 11.2 30.9 9.3 30.9 8.1 30.9 7.4 30.9 9.2 41.2 8.5 41.3 8.1 41.3 7.9 41.2 7.7 41.2 7.6 41.3M429.9 52.8l32.1 30.9 27.7 30.9 23.7 30.9 20.1 30.9 17.4 30.9 15.2 30.9 13.5 30.9 12.2 30.9 14.9 41.2 13.7 41.3 12.9 41.3 12.1 41.2 11.7 41.2 11.3 41.3M437.6 52.8l32.2 30.9 28.8 30.9 25.3 30.9 21.9 30.9 18.9 30.9 16.2 30.9 13.9 30.9 12.3 30.9 14.2 41.2 12.3 41.3 11 41.3 10 41.2 9.2 41.2 8.7 41.3M470.3 52.8l24.5 30.9 22.1 30.9 19.9 30.9 17.9 30.9 16.4 30.9 15 30.9 13.7 30.9 12.8 30.9 15.6 41.2 14.4 41.3 13.4 41.3 12.5 41.2 11.9 41.2 11.2 41.3M288.7 52.8l56.1 30.9 51.5 30.9 44.8 30.9 36.5 30.9 28 30.9 21.1 30.9 16.3 30.9 13.1 30.9 14.3 41.2 12.2 41.3 10.8 41.3 9.9 41.2 9.4 41.2 9 41.3M432.6 52.8l44.7 30.9 37.9 30.9 29.7 30.9 21.9 30.9 16 30.9 12.3 30.9 10 30.9 8.4 30.9 9.8 41.2 8.8 41.3 8 41.3 7.7 41.2 7.3 41.2 7 41.3M476.8 52.8l36.3 30.9 32.9 30.9 27.1 30.9 20.2 30.9 14.4 30.9 10.7 30.9 8.7 30.9 7.4 30.9 9 41.2 8.3 41.3 7.8 41.3 7.6 41.2 7.4 41.2 7.3 41.3M386.5 52.8l36.8 30.9 32.7 30.9 28.6 30.9 24.7 30.9 21.4 30.9 18.4 30.9 16.1 30.9 14.2 30.9 16.7 41.2 14.6 41.3 13.2 41.3 12 41.2 11.2 41.2 10.6 41.3M618.5 52.8l12.9 30.9 12.1 30.9 11.2 30.9 10.5 30.9 9.7 30.9 9 30.9 8.5 30.9 8.1 30.9 10.2 41.2 9.7 41.3 9.4 41.3 9 41.2 8.9 41.2 8.7 41.3M487.3 52.8l29 30.9 26 30.9 22.9 30.9 19.9 30.9 17.4 30.9 15 30.9 13.1 30.9 11.6 30.9 13.6 41.2 11.8 41.3 10.7 41.3 9.7 41.2 8.9 41.2 8.4 41.3M320.9 52.8l55.2 30.9 53.5 30.9 50 30.9 42.6 30.9 30.3 30.9 18.5 30.9 11.6 30.9 8.3 30.9 8.8 41.2 7.4 41.3 6.8 41.3 6.4 41.2 6.2 41.2 5.9 41.3M371.6 52.8l58.4 30.9 53 30.9 42.9 30.9 29.3 30.9 18.3 30.9 12.1 30.9 9.1 30.9 7.4 30.9 8.6 41.2 7.6 41.3 7.2 41.3 6.8 41.2 6.6 41.2 6.4 41.3M315.8 52.8l49.9 30.9 43.3 30.9 36.3 30.9 29.6 30.9 24 30.9 19.6 30.9 16.3 30.9 14.1 30.9 16.1 41.2 14.1 41.3 12.6 41.3 11.7 41.2 10.9 41.2 10.4 41.3M465.9 52.8l32.9 30.9 27.9 30.9 23.3 30.9 19.5 30.9 16.3 30.9 13.9 30.9 12 30.9 10.7 30.9 12.5 41.2 11.1 41.3 10.1 41.3 9.4 41.2 8.8 41.2 8.3 41.3M456.8 52.8l26.7 30.9 24 30.9 21.6 30.9 19.4 30.9 17.4 30.9 15.6 30.9 14 30.9 12.7 30.9 15.3 41.2 13.5 41.3 12.3 41.3 11.1 41.2 10.2 41.2 9.5 41.3M397.7 52.8l55.6 30.9 51.5 30.9 43.2 30.9 30.1 30.9 18.1 30.9 11.4 30.9 8.3 30.9 6.5 30.9 7.5 41.2 6.7 41.3 6.2 41.3 5.9 41.2 5.7 41.2 5.6 41.3M331.3 52.8l65.1 30.9 60.2 30.9 50.2 30.9 35 30.9 21.4 30.9 13.8 30.9 10 30.9 8.2 30.9 9.4 41.2 8.5 41.3 7.8 41.3 7.6 41.2 7.3 41.2 7.2 41.3M332.4 52.8l63.7 30.9 61.6 30.9 55.3 30.9 36 30.9 16.1 30.9 9.3 30.9 7.2 30.9 6.5 30.9 8 41.2 7.7 41.3 7.6 41.3 7.4 41.2 7.3 41.2 7.3 41.3M470.7 52.8l44.3 30.9 40.9 30.9 35.2 30.9 27.1 30.9 18.9 30.9 13.1 30.9 9.9 30.9 7.9 30.9 9.1 41.2 7.9 41.3 7.3 41.3 7 41.2 6.7 41.2 6.5 41.3M415.8 52.8l44.5 30.9 42 30.9 37.3 30.9 29.5 30.9 20.1 30.9 13.4 30.9 9.8 30.9 7.9 30.9 9.1 41.2 8.1 41.3 7.6 41.3 7.3 41.2 7.1 41.2 7 41.3M596.6 52.8l16.4 30.9 15 30.9 13.2 30.9 11.7 30.9 10.2 30.9 9 30.9 8.1 30.9 7.3 30.9 9 41.2 8.3 41.3 7.8 41.3 7.5 41.2 7.3 41.2 7 41.3M335.1 52.8l44.7 30.9 40.6 30.9 35.6 30.9 30.3 30.9 25.1 30.9 20.6 30.9 17.1 30.9 14.3 30.9 15.9 41.2 13.4 41.3 11.6 41.3 10.4 41.2 9.5 41.2 8.9 41.3M524.8 52.8l24.5 30.9 21 30.9 17.8 30.9 15.1 30.9 12.8 30.9 11.2 30.9 10 30.9 9.1 30.9 11.1 41.2 10.2 41.3 9.7 41.3 9.2 41.2 9 41.2 8.6 41.3M554.9 52.8l11.1 30.9 10.8 30.9 10.4 30.9 10.2 30.9 9.9 30.9 9.8 30.9 9.7 30.9 9.5 30.9 12.6 41.2 12.4 41.3 12.3 41.3 12.2 41.2 12.2 41.2 12 41.3M599.6 52.8l13.4 30.9 12.1 30.9 11 30.9 10.1 30.9 9.4 30.9 8.9 30.9 8.5 30.9 8.2 30.9 10.6 41.2 10.3 41.3 10 41.3 9.9 41.2 9.7 41.2 9.6 41.3M535.3 52.8l21.4 30.9 18.8 30.9 16.4 30.9 14.1 30.9 12.5 30.9 11.1 30.9 10.1 30.9 9.2 30.9 11.4 41.2 10.7 41.3 10 41.3 9.6 41.2 9.3 41.2 9 41.3M572.3 52.8l22.5 30.9 18.9 30.9 15 30.9 11.6 30.9 9.4 30.9 8 30.9 7.3 30.9 6.7 30.9 8.5 41.2 8.1 41.3 7.9 41.3 7.7 41.2 7.7 41.2 7.5 41.3" stroke="#77AC30"/><path d="M349.6 52.8l45.9 30.9 42.7 30.9 38 30.9 32 30.9 25.5 30.9 19.7 30.9 15.3 30.9 12.3 30.9 13.3 41.2 11.1 41.3 9.8 41.3 8.9 41.2 8.3 41.2 7.9 41.3M320.3 52.8l52.1 30.9 48.1 30.9 42.1 30.9 34.2 30.9 26.1 30.9 19.2 30.9 14.6 30.9 11.4 30.9 12.4 41.2 10.3 41.3 9 41.3 8.3 41.2 7.7 41.2 7.3 41.3M341.2 52.8l49 30.9 44.5 30.9 38.3 30.9 31.5 30.9 24.6 30.9 19.2 30.9 15.1 30.9 12.3 30.9 13.5 41.2 11.5 41.3 10 41.3 9.2 41.2 8.6 41.2 8.1 41.3M534.7 52.8l28.9 30.9 24 30.9 18.6 30.9 14.1 30.9 11.4 30.9 9.9 30.9 8.9 30.9 8.4 30.9 10.6 41.2 10.2 41.3 10 41.3 9.8 41.2 9.7 41.2 9.6 41.3M525.3 52.8l22.8 30.9 20.3 30.9 17.9 30.9 15.5 30.9 13.7 30.9 12 30.9 10.7 30.9 9.6 30.9 11.6 41.2 10.4 41.3 9.5 41.3 8.9 41.2 8.3 41.2 8 41.3M298.5 52.8l54.5 30.9 49.6 30.9 42.4 30.9 33.8 30.9 25.5 30.9 18.9 30.9 14.6 30.9 11.7 30.9 12.8 41.2 10.9 41.3 9.7 41.3 9 41.2 8.4 41.2 8 41.3M468.7 52.8l19.8 30.9 18.3 30.9 17 30.9 15.9 30.9 15 30.9 14.2 30.9 13.5 30.9 12.9 30.9 16.6 41.2 15.8 41.3 15.3 41.3 14.8 41.2 14.4 41.2 14.1 41.3M286.9 52.8l54 30.9 50.1 30.9 44.7 30.9 38.1 30.9 30.8 30.9 23.9 30.9 18.6 30.9 14.7 30.9 15.4 41.2 12.3 41.3 10.4 41.3 9.2 41.2 8.3 41.2 7.6 41.3M581.9 52.8l17.6 30.9 15.4 30.9 13.3 30.9 11.7 30.9 10.4 30.9 9.4 30.9 8.7 30.9 8.1 30.9 10.3 41.2 9.7 41.3 9.3 41.3 9 41.2 8.9 41.2 8.6 41.3M349.4 52.8l37.3 30.9 33.9 30.9 30.3 30.9 26.8 30.9 23.5 30.9 20.5 30.9 17.9 30.9 15.6 30.9 18.1 41.2 15.5 41.3 13.5 41.3 11.9 41.2 10.8 41.2 9.8 41.3M369.7 52.8l43.7 30.9 38 30.9 31.9 30.9 25.9 30.9 20.9 30.9 17.1 30.9 14.4 30.9 12.4 30.9 14.4 41.2 12.8 41.3 11.7 41.3 10.9 41.2 10.4 41.2 9.9 41.3M382.8 52.8l46.4 30.9 40 30.9 32.9 30.9 25.9 30.9 20.2 30.9 16.1 30.9 13.2 30.9 11.3 30.9 12.9 41.2 11.4 41.3 10.4 41.3 9.7 41.2 9.2 41.2 8.8 41.3M430.5 52.8l31.7 30.9 28.2 30.9 24.8 30.9 21.8 30.9 19.2 30.9 16.9 30.9 15 30.9 13.5 30.9 16.1 41.2 14.4 41.3 13.1 41.3 12.1 41.2 11.3 41.2 10.6 41.3M371.4 52.8l41.8 30.9 35.9 30.9 30 30.9 24.9 30.9 20.6 30.9 17.4 30.9 14.8 30.9 12.9 30.9 15.2 41.2 13.3 41.3 12 41.3 11.2 41.2 10.4 41.2 9.9 41.3M377.8 52.8l54.5 30.9 52.5 30.9 47.5 30.9 35.8 30.9 20.3 30.9 11.5 30.9 8.2 30.9 6.7 30.9 7.8 41.2 7.3 41.3 7 41.3 6.8 41.2 6.7 41.2 6.5 41.3M388.8 52.8l53.1 30.9 46.2 30.9 36.3 30.9 26 30.9 18 30.9 12.8 30.9 9.9 30.9 8 30.9 9 41.2 7.9 41.3 7.1 41.3 6.6 41.2 6.3 41.2 6.1 41.3M390.5 52.8l39.9 30.9 35.3 30.9 30.2 30.9 25.1 30.9 20.6 30.9 17.1 30.9 14.3 30.9 12.4 30.9 14.4 41.2 12.6 41.3 11.5 41.3 10.6 41.2 10 41.2 9.6 41.3M319.8 52.8l44.5 30.9 40.2 30.9 35.3 30.9 30.3 30.9 25.3 30.9 21.1 30.9 17.7 30.9 15.1 30.9 16.9 41.2 14.5 41.3 12.7 41.3 11.5 41.2 10.6 41.2 9.8 41.3M579.4 52.8l23.1 30.9 21.3 30.9 18.7 30.9 15.8 30.9 12.9 30.9 10.4 30.9 8.6 30.9 7.3 30.9 8.5 41.2 7.5 41.3 6.9 41.3 6.5 41.2 6.2 41.2 6 41.3M379.4 52.8l38 30.9 35 30.9 31.4 30.9 27.3 30.9 23.3 30.9 19.6 30.9 16.6 30.9 14.4 30.9 16.5 41.2 14.5 41.3 13 41.3 12 41.2 11.3 41.2 10.7 41.3M312.7 52.8l51.9 30.9 47.8 30.9 41.6 30.9 33.4 30.9 24.9 30.9 18.2 30.9 13.5 30.9 10.6 30.9 11.5 41.2 9.5 41.3 8.5 41.3 7.7 41.2 7.2 41.2 6.9 41.3M470.6 52.8l36.9 30.9 31.8 30.9 25.8 30.9 20.2 30.9 15.7 30.9 12.4 30.9 10.1 30.9 8.5 30.9 9.8 41.2 8.5 41.3 7.7 41.3 7.2 41.2 6.7 41.2 6.4 41.3M380.7 52.8l44.2 30.9 38.3 30.9 31.8 30.9 25.4 30.9 20 30.9 15.9 30.9 13.1 30.9 11 30.9 12.5 41.2 10.9 41.3 9.8 41.3 9 41.2 8.5 41.2 8.1 41.3M293.5 52.8l54.6 30.9 51.2 30.9 46 30.9 38.6 30.9 30 30.9 22.2 30.9 16.2 30.9 12.4 30.9 12.7 41.2 10.1 41.3 8.7 41.3 7.7 41.2 7.1 41.2 6.6 41.3M654.3 52.8l9.2 30.9 8.4 30.9 7.9 30.9 7.4 30.9 7 30.9 6.7 30.9 6.4 30.9 6.2 30.9 8.1 41.2 7.9 41.3 7.7 41.3 7.6 41.2 7.4 41.2 7.4 41.3M660.8 52.8l8.4 30.9 8 30.9 7.5 30.9 7.1 30.9 6.8 30.9 6.5 30.9 6.4 30.9 6.1 30.9 8.1 41.2 7.9 41.3 7.7 41.3 7.7 41.2 7.5 41.2 7.6 41.3" stroke="#7E2F8E"/><path d="M244.6 52.8l51.3 30.9 45.7 30.9 39.8 30.9 34 30.9 28.8 30.9 24.2 30.9 20.5 30.9 17.3 30.9 19.3 41.2 16 41.3 13.5 41.3 11.6 41.2 10.2 41.2 9.1 41.3M584.9 52.8l16.5 30.9 14.6 30.9 12.8 30.9 11.2 30.9 10 30.9 9.1 30.9 8.5 30.9 7.9 30.9 10.1 41.2 9.7 41.3 9.3 41.3 9.1 41.2 9 41.2 8.8 41.3M406.6 52.8l43.3 30.9 39.1 30.9 33.3 30.9 26.4 30.9 20 30.9 15.2 30.9 12 30.9 10.1 30.9 11.4 41.2 10.1 41.3 9.3 41.3 8.7 41.2 8.4 41.2 8 41.3M405.8 52.8l36.4 30.9 32.2 30.9 27.9 30.9 24.1 30.9 20.8 30.9 18 30.9 15.9 30.9 14.1 30.9 16.7 41.2 14.9 41.3 13.5 41.3 12.5 41.2 11.8 41.2 11.1 41.3M564 52.8l26.1 30.9 23.1 30.9 19.1 30.9 15.1 30.9 11.7 30.9 9.3 30.9 7.7 30.9 6.8 30.9 8 41.2 7.2 41.3 6.9 41.3 6.5 41.2 6.3 41.2 6.1 41.3M498.6 52.8l31.6 30.9 27.4 30.9 23 30.9 19 30.9 15.7 30.9 13.1 30.9 11.1 30.9 9.8 30.9 11.4 41.2 10.2 41.3 9.3 41.3 8.7 41.2 8.3 41.2 7.9 41.3M538.8 52.8l27.2 30.9 22.6 30.9 18.2 30.9 14.7 30.9 12.2 30.9 10.4 30.9 9.3 30.9 8.4 30.9 10.3 41.2 9.6 41.3 9.2 41.3 8.8 41.2 8.6 41.2 8.5 41.3M286.3 52.8l40.3 30.9 36.9 30.9 33.4 30.9 30 30.9 26.7 30.9 23.7 30.9 21.1 30.9 18.9 30.9 22.2 41.2 19.5 41.3 17.3 41.3 15.5 41.2 14.2 41.2 13 41.3M483.2 52.8l35.5 30.9 29.9 30.9 23.6 30.9 18.2 30.9 14.2 30.9 11.7 30.9 10.1 30.9 8.9 30.9 10.8 41.2 10 41.3 9.5 41.3 9.1 41.2 8.8 41.2 8.6 41.3M511.5 52.8l37.9 30.9 31.3 30.9 22.9 30.9 16 30.9 11.6 30.9 9.1 30.9 7.9 30.9 7 30.9 8.5 41.2 8.1 41.3 7.7 41.3 7.5 41.2 7.3 41.2 7.2 41.3M498.4 52.8l34 30.9 29.5 30.9 24.5 30.9 19.7 30.9 16 30.9 13.1 30.9 11.2 30.9 9.9 30.9 11.6 41.2 10.6 41.3 9.8 41.3 9.2 41.2 8.9 41.2 8.6 41.3M564.8 52.8l21.7 30.9 18.9 30.9 16.2 30.9 13.9 30.9 12 30.9 10.4 30.9 9.3 30.9 8.3 30.9 10 41.2 9.1 41.3 8.4 41.3 7.9 41.2 7.5 41.2 7.2 41.3M568.1 52.8l26.1 30.9 22.7 30.9 18.7 30.9 14.9 30.9 11.9 30.9 9.9 30.9 8.6 30.9 7.9 30.9 9.6 41.2 9 41.3 8.7 41.3 8.4 41.2 8.2 41.2 8.1 41.3M621.7 52.8l14 30.9 13.2 30.9 12.3 30.9 11.3 30.9 10.4 30.9 9.5 30.9 8.8 30.9 8.1 30.9 10.2 41.2 9.6 41.3 9.1 41.3 8.7 41.2 8.5 41.2 8.3 41.3M426.9 52.8l38.6 30.9 33.9 30.9 28.5 30.9 23.2 30.9 18.6 30.9 15.1 30.9 12.5 30.9 10.8 30.9 12.6 41.2 11.1 41.3 10.1 41.3 9.5 41.2 9 41.2 8.6 41.3M497 52.8l24.9 30.9 21.4 30.9 18.5 30.9 16.1 30.9 14.2 30.9 12.8 30.9 11.8 30.9 10.9 30.9 13.6 41.2 12.8 41.3 12.1 41.3 11.8 41.2 11.4 41.2 11.1 41.3M349.2 52.8l37 30.9 33.4 30.9 30 30.9 26.7 30.9 23.7 30.9 21.1 30.9 18.8 30.9 16.9 30.9 20 41.2 17.7 41.3 15.9 41.3 14.5 41.2 13.4 41.2 12.4 41.3M485.9 52.8l28.3 30.9 23.3 30.9 18.8 30.9 15.2 30.9 12.7 30.9 11.1 30.9 9.9 30.9 9.2 30.9 11.4 41.2 10.8 41.3 10.4 41.3 10 41.2 9.9 41.2 9.6 41.3M537.2 52.8l33.6 30.9 31 30.9 26 30.9 18.8 30.9 12.6 30.9 9.1 30.9 7.4 30.9 6.4 30.9 7.7 41.2 7.2 41.3 6.9 41.3 6.8 41.2 6.6 41.2 6.6 41.3M439.5 52.8l35.6 30.9 30.6 30.9 25 30.9 20.1 30.9 16.1 30.9 13.4 30.9 11.4 30.9 10.1 30.9 12.2 41.2 11.1 41.3 10.4 41.3 9.9 41.2 9.5 41.2 9.3 41.3M432.2 52.8l49.5 30.9 41.7 30.9 31.5 30.9 21.9 30.9 15.3 30.9 11.4 30.9 9.1 30.9 7.7 30.9 9.1 41.2 8.1 41.3 7.6 41.3 7.2 41.2 7 41.2 6.8 41.3M334.4 52.8l59.3 30.9 55.4 30.9 48.7 30.9 38.4 30.9 26.7 30.9 17.7 30.9 12.3 30.9 9.2 30.9 9.7 41.2 7.9 41.3 7.1 41.3 6.4 41.2 6 41.2 5.8 41.3M279.4 52.8l56.5 30.9 49.3 30.9 41.8 30.9 34.5 30.9 27.9 30.9 22.6 30.9 18.2 30.9 15 30.9 16.3 41.2 13.1 41.3 10.9 41.3 9.3 41.2 8.1 41.2 7.2 41.3M354.8 52.8l48.1 30.9 43 30.9 36.7 30.9 29.8 30.9 23.1 30.9 17.9 30.9 13.9 30.9 11.2 30.9 11.9 41.2 9.7 41.3 8.3 41.3 7.3 41.2 6.6 41.2 6.1 41.3M363 52.8l39.4 30.9 35.1 30.9 30.7 30.9 26.4 30.9 22.4 30.9 19.1 30.9 16.3 30.9 14 30.9 16.1 41.2 13.8 41.3 12.2 41.3 10.9 41.2 10 41.2 9.3 41.3M618.8 52.8l12 30.9 11.1 30.9 10.2 30.9 9.4 30.9 8.6 30.9 8 30.9 7.5 30.9 7.2 30.9 9.2 41.2 8.8 41.3 8.6 41.3 8.4 41.2 8.2 41.2 8.2 41.3M614.3 52.8l13.9 30.9 12.6 30.9 11.2 30.9 9.8 30.9 8.7 30.9 7.8 30.9 7.2 30.9 6.8 30.9 8.6 41.2 8.2 41.3 8 41.3 7.8 41.2 7.7 41.2 7.7 41.3M277.8 52.8l54.7 30.9 48.4 30.9 41.8 30.9 35.3 30.9 29.4 30.9 24.3 30.9 20.1 30.9 16.8 30.9 18.3 41.2 14.8 41.3 12.2 41.3 10.3 41.2 8.8 41.2 7.8 41.3M463 52.8l24.6 30.9 19.4 30.9 16.2 30.9 14.5 30.9 13.5 30.9 12.9 30.9 12.5 30.9 12.2 30.9 16 41.2 15.7 41.3 15.6 41.3 15.5 41.2 15.4 41.2 15.4 41.3M406.5 52.8l32.7 30.9 28.4 30.9 24.7 30.9 21.4 30.9 18.6 30.9 16.5 30.9 14.7 30.9 13.4 30.9 16.2 41.2 14.8 41.3 13.8 41.3 13 41.2 12.4 41.2 11.9 41.3M438.8 52.8l31.4 30.9 28 30.9 24.8 30.9 21.8 30.9 19.1 30.9 16.9 30.9 15 30.9 13.3 30.9 15.8 41.2 14 41.3 12.6 41.3 11.4 41.2 10.6 41.2 9.8 41.3M423.6 52.8l37.9 30.9 32.7 30.9 27.1 30.9 22.1 30.9 18 30.9 15 30.9 12.9 30.9 11.2 30.9 13.4 41.2 12.1 41.3 11.1 41.3 10.5 41.2 10 41.2 9.7 41.3M585.5 52.8l17 30.9 15.2 30.9 13.6 30.9 12 30.9 10.6 30.9 9.6 30.9 8.7 30.9 8 30.9 9.8 41.2 9 41.3 8.4 41.3 8.1 41.2 7.7 41.2 7.4 41.3M465.6 52.8l36.9 30.9 29.4 30.9 22.4 30.9 17 30.9 13.7 30.9 11.7 30.9 10.4 30.9 9.5 30.9 12 41.2 11.3 41.3 10.9 41.3 10.6 41.2 10.4 41.2 10.3 41.3M557.7 52.8l32.4 30.9 28.9 30.9 22.3 30.9 15 30.9 10.2 30.9 8 30.9 6.8 30.9 6.3 30.9 7.8 41.2 7.5 41.3 7.3 41.3 7.1 41.2 7.1 41.2 7 41.3M619.4 52.8l14.3 30.9 13.3 30.9 12.2 30.9 11 30.9 9.8 30.9 8.8 30.9 7.9 30.9 7.1 30.9 8.8 41.2 8.2 41.3 7.8 41.3 7.4 41.2 7.2 41.2 7 41.3M639.9 52.8l10.7 30.9 10 30.9 9.6 30.9 9 30.9 8.6 30.9 8.2 30.9 7.8 30.9 7.5 30.9 9.5 41.2 9.2 41.3 8.8 41.3 8.5 41.2 8.4 41.2 8.1 41.3" stroke="#A2142F"/><path d="M182.8 52.8l63.9 30.9 59.7 30.9 53.9 30.9 46.9 30.9 38.9 30.9 31.1 30.9 24.3 30.9 18.9 30.9 19 41.2 14.3 41.3 11.2 41.3 9.1 41.2 7.7 41.2 6.6 41.3M215.8 52.8l54.9 30.9 50.1 30.9 44.8 30.9 39.1 30.9 33.4 30.9 28 30.9 23.4 30.9 19.5 30.9 21.2 41.2 17 41.3 13.9 41.3 11.7 41.2 10 41.2 8.7 41.3M186.8 52.8l61.3 30.9 56.5 30.9 50.5 30.9 43.7 30.9 36.5 30.9 29.7 30.9 23.9 30.9 19.2 30.9 20.2 41.2 15.9 41.3 12.8 41.3 10.7 41.2 9.3 41.2 8.1 41.3M308.4 52.8l39.9 30.9 36.1 30.9 32.3 30.9 28.6 30.9 25.2 30.9 22.1 30.9 19.5 30.9 17.3 30.9 20.4 41.2 17.8 41.3 15.9 41.3 14.4 41.2 13.3 41.2 12.3 41.3M563.2 52.8l22.2 30.9 18.3 30.9 14.5 30.9 11.6 30.9 9.7 30.9 8.6 30.9 7.8 30.9 7.3 30.9 9.3 41.2 8.9 41.3 8.6 41.3 8.5 41.2 8.4 41.2 8.3 41.3M412.1 52.8l45.8 30.9 40 30.9 32.5 30.9 24.8 30.9 18.7 30.9 14.5 30.9 11.8 30.9 10.1 30.9 11.7 41.2 10.6 41.3 9.9 41.3 9.3 41.2 9 41.2 8.7 41.3M465.2 52.8l41.3 30.9 36.4 30.9 29.9 30.9 22.8 30.9 16.8 30.9 12.6 30.9 9.8 30.9 8.1 30.9 9.1 41.2 8 41.3 7.2 41.3 6.7 41.2 6.3 41.2 6.1 41.3M326.4 52.8l53.5 30.9 49.2 30.9 43.4 30.9 36.3 30.9 28.8 30.9 22.3 30.9 17.2 30.9 13.5 30.9 14.1 41.2 11.3 41.3 9.4 41.3 8.3 41.2 7.3 41.2 6.8 41.3M383.9 52.8l33.4 30.9 30.2 30.9 27.1 30.9 24 30.9 21.4 30.9 19 30.9 17 30.9 15.2 30.9 18 41.2 15.9 41.3 14.3 41.3 12.9 41.2 11.9 41.2 11.1 41.3M342.9 52.8l38 30.9 34.7 30.9 31 30.9 27.5 30.9 24 30.9 20.8 30.9 18.1 30.9 15.7 30.9 18 41.2 15.4 41.3 13.2 41.3 11.7 41.2 10.5 41.2 9.6 41.3M376.5 52.8l54 30.9 49.4 30.9 40.9 30.9 28.6 30.9 18.1 30.9 12.1 30.9 9.2 30.9 7.7 30.9 8.9 41.2 8.1 41.3 7.7 41.3 7.3 41.2 7.2 41.2 7 41.3M384.4 52.8l42.9 30.9 36.9 30.9 30.3 30.9 24.1 30.9 19.2 30.9 15.5 30.9 13 30.9 11.3 30.9 13.2 41.2 11.7 41.3 10.8 41.3 10.1 41.2 9.7 41.2 9.3 41.3M563.3 52.8l15 30.9 11.8 30.9 10.3 30.9 9.6 30.9 9.1 30.9 9 30.9 8.7 30.9 8.7 30.9 11.5 41.2 11.4 41.3 11.3 41.3 11.3 41.2 11.3 41.2 11.2 41.3M526.3 52.8l24.4 30.9 21.5 30.9 18.4 30.9 15.6 30.9 13.4 30.9 11.7 30.9 10.5 30.9 9.6 30.9 11.8 41.2 11.1 41.3 10.6 41.3 10.2 41.2 9.9 41.2 9.7 41.3M493.2 52.8l25.3 30.9 19.8 30.9 15.7 30.9 13.2 30.9 11.6 30.9 10.5 30.9 9.9 30.9 9.4 30.9 12.1 41.2 11.7 41.3 11.5 41.3 11.3 41.2 11.1 41.2 11.1 41.3M301.1 52.8l59.4 30.9 54.9 30.9 47 30.9 35.7 30.9 24.3 30.9 16.5 30.9 12.2 30.9 9.6 30.9 10.8 41.2 9.5 41.3 8.6 41.3 8.1 41.2 7.9 41.2 7.6 41.3M445.4 52.8l32.9 30.9 28.7 30.9 24.6 30.9 21 30.9 18 30.9 15.3 30.9 13.3 30.9 11.6 30.9 13.5 41.2 11.7 41.3 10.4 41.3 9.5 41.2 8.6 41.2 8.1 41.3M533.7 52.8l20.5 30.9 18.2 30.9 16.1 30.9 14.2 30.9 12.7 30.9 11.4 30.9 10.4 30.9 9.4 30.9 11.6 41.2 10.6 41.3 9.9 41.3 9.3 41.2 8.8 41.2 8.5 41.3M602.1 52.8l16.7 30.9 15.3 30.9 13.8 30.9 12.2 30.9 10.8 30.9 9.5 30.9 8.6 30.9 7.9 30.9 9.5 41.2 8.8 41.3 8.3 41.3 7.9 41.2 7.6 41.2 7.4 41.3M603.2 52.8l14.6 30.9 13.7 30.9 12.8 30.9 11.8 30.9 11 30.9 10 30.9 9.2 30.9 8.5 30.9 10.4 41.2 9.4 41.3 8.7 41.3 8 41.2 7.5 41.2 7.1 41.3M576.5 52.8l18.7 30.9 15.5 30.9 12.8 30.9 11 30.9 9.8 30.9 8.9 30.9 8.4 30.9 7.9 30.9 10.2 41.2 9.9 41.3 9.6 41.3 9.4 41.2 9.4 41.2 9.2 41.3M279.9 52.8l58.9 30.9 52.5 30.9 44.6 30.9 36.3 30.9 28.5 30.9 22 30.9 17 30.9 13.3 30.9 13.8 41.2 10.8 41.3 8.6 41.3 7.2 41.2 6.2 41.2 5.4 41.3M280.2 52.8l55.9 30.9 51.5 30.9 45.4 30.9 37.7 30.9 29.8 30.9 22.6 30.9 17.3 30.9 13.6 30.9 14.2 41.2 11.5 41.3 9.7 41.3 8.5 41.2 7.8 41.2 7.3 41.3M447.5 52.8l39.5 30.9 30 30.9 21.2 30.9 15.7 30.9 12.8 30.9 11.3 30.9 10.4 30.9 9.8 30.9 12.7 41.2 12.3 41.3 12.1 41.3 11.8 41.2 11.8 41.2 11.7 41.3M502.3 52.8l20.3 30.9 18.3 30.9 16.6 30.9 15.1 30.9 13.9 30.9 12.9 30.9 12 30.9 11.4 30.9 14.2 41.2 13.5 41.3 12.8 41.3 12.3 41.2 11.8 41.2 11.6 41.3M580.4 52.8l19.6 30.9 17.5 30.9 15.3 30.9 13.2 30.9 11.3 30.9 9.8 30.9 8.6 30.9 7.7 30.9 9.4 41.2 8.5 41.3 8 41.3 7.6 41.2 7.2 41.2 7.1 41.3" stroke="#D95319"/><path d="M541.1 52.8l27.1 30.9 21.8 30.9 17.2 30.9 13.7 30.9 11.3 30.9 9.7 30.9 8.6 30.9 7.9 30.9 9.7 41.2 9.1 41.3 8.7 41.3 8.4 41.2 8.2 41.2 8 41.3M388.5 52.8l58.8 30.9 53.9 30.9 44.6 30.9 30.8 30.9 18.9 30.9 12.1 30.9 8.8 30.9 7 30.9 8 41.2 7 41.3 6.5 41.3 6.2 41.2 5.9 41.2 5.8 41.3M525.6 52.8l24.5 30.9 21.4 30.9 18.5 30.9 15.9 30.9 13.7 30.9 11.9 30.9 10.5 30.9 9.4 30.9 11.3 41.2 10.2 41.3 9.5 41.3 8.9 41.2 8.5 41.2 8.1 41.3M284.3 52.8l51.9 30.9 46.9 30.9 41.2 30.9 35.2 30.9 29.2 30.9 24.1 30.9 19.8 30.9 16.4 30.9 18 41.2 14.7 41.3 12.3 41.3 10.8 41.2 9.5 41.2 8.6 41.3M594.1 52.8l15.6 30.9 14 30.9 12.5 30.9 11.2 30.9 10 30.9 9 30.9 8.3 30.9 7.7 30.9 9.4 41.2 8.9 41.3 8.3 41.3 7.9 41.2 7.7 41.2 7.4 41.3M474.5 52.8l28.4 30.9 24.7 30.9 21.4 30.9 18.5 30.9 16 30.9 14.2 30.9 12.7 30.9 11.6 30.9 14.1 41.2 13.1 41.3 12.2 41.3 11.7 41.2 11.1 41.2 10.9 41.3M569.8 52.8l20.9 30.9 18.7 30.9 16.6 30.9 14.3 30.9 12.4 30.9 10.9 30.9 9.5 30.9 8.6 30.9 10.3 41.2 9.4 41.3 8.7 41.3 8.3 41.2 7.9 41.2 7.6 41.3M528.6 52.8l28.8 30.9 24.1 30.9 19.1 30.9 14.9 30.9 11.7 30.9 9.7 30.9 8.2 30.9 7.3 30.9 8.9 41.2 8.1 41.3 7.7 41.3 7.4 41.2 7.1 41.2 7 41.3M383.6 52.8l53.8 30.9 50.8 30.9 44.7 30.9 33.4 30.9 20.7 30.9 12.5 30.9 8.6 30.9 6.7 30.9 7.4 41.2 6.4 41.3 6 41.3 5.6 41.2 5.5 41.2 5.3 41.3M304.3 52.8l38.9 30.9 34.9 30.9 30.9 30.9 27.2 30.9 23.9 30.9 21.1 30.9 18.7 30.9 16.8 30.9 20 41.2 17.9 41.3 16.3 41.3 15.1 41.2 14.2 41.2 13.4 41.3M495.6 52.8l30.6 30.9 26.8 30.9 22 30.9 17.3 30.9 13.8 30.9 11.4 30.9 9.9 30.9 8.9 30.9 11 41.2 10.3 41.3 9.8 41.3 9.6 41.2 9.4 41.2 9.2 41.3M535.5 52.8l23.5 30.9 20.7 30.9 18.3 30.9 16.2 30.9 14.3 30.9 12.8 30.9 11.6 30.9 10.6 30.9 12.9 41.2 11.8 41.3 10.9 41.3 10.3 41.2 9.8 41.2 9.3 41.3M382.9 52.8l41.5 30.9 36.5 30.9 30.9 30.9 25.6 30.9 21 30.9 17.2 30.9 14.5 30.9 12.2 30.9 14 41.2 12 41.3 10.6 41.3 9.7 41.2 8.9 41.2 8.4 41.3M619.2 52.8l14.1 30.9 13.1 30.9 12.2 30.9 11.1 30.9 10 30.9 9.2 30.9 8.3 30.9 7.6 30.9 9.2 41.2 8.3 41.3 7.5 41.3 7 41.2 6.6 41.2 6.2 41.3M537.5 52.8l27.6 30.9 23.2 30.9 18.2 30.9 13.9 30.9 11 30.9 9.4 30.9 8.4 30.9 7.7 30.9 9.7 41.2 9.3 41.3 9.1 41.3 8.8 41.2 8.7 41.2 8.6 41.3M286.8 52.8l58.7 30.9 53.2 30.9 45.4 30.9 36 30.9 27.2 30.9 20.5 30.9 16.2 30.9 13.3 30.9 15.2 41.2 13.3 41.3 12.1 41.3 11.4 41.2 10.9 41.2 10.6 41.3M336.7 52.8l45.4 30.9 40.6 30.9 35 30.9 29.2 30.9 23.8 30.9 19.3 30.9 15.8 30.9 13.1 30.9 14.7 41.2 12.3 41.3 10.8 41.3 9.7 41.2 8.9 41.2 8.3 41.3M421.5 52.8l30.6 30.9 27.7 30.9 24.9 30.9 22.1 30.9 19.5 30.9 17.2 30.9 15.3 30.9 13.6 30.9 16.1 41.2 14.2 41.3 12.8 41.3 11.6 41.2 10.7 41.2 10.1 41.3M508.4 52.8l32.3 30.9 28 30.9 23.2 30.9 18.4 30.9 14.6 30.9 11.9 30.9 10 30.9 8.8 30.9 10.4 41.2 9.4 41.3 8.8 41.3 8.4 41.2 8 41.2 7.9 41.3M305 52.8l61.3 30.9 58 30.9 51.1 30.9 39 30.9 25.2 30.9 15.9 30.9 11.2 30.9 9 30.9 10 41.2 9 41.3 8.4 41.3 7.9 41.2 7.8 41.2 7.6 41.3M463 52.8l26.3 30.9 24.1 30.9 21.9 30.9 19.8 30.9 18 30.9 16.3 30.9 14.8 30.9 13.6 30.9 16.4 41.2 14.9 41.3 13.6 41.3 12.6 41.2 11.7 41.2 11 41.3M480.5 52.8l34.6 30.9 30.8 30.9 25.8 30.9 20.3 30.9 15.7 30.9 12.3 30.9 9.9 30.9 8.5 30.9 9.9 41.2 8.8 41.3 8.2 41.3 7.7 41.2 7.4 41.2 7.2 41.3M305.2 52.8l36 30.9 33.2 30.9 30.3 30.9 27.6 30.9 24.9 30.9 22.5 30.9 20.2 30.9 18.3 30.9 21.8 41.2 19.3 41.3 17.5 41.3 15.8 41.2 14.6 41.2 13.6 41.3M582.6 52.8l19.8 30.9 16.6 30.9 13.4 30.9 11 30.9 9.2 30.9 8.1 30.9 7.4 30.9 6.9 30.9 8.7 41.2 8.3 41.3 8.1 41.3 7.9 41.2 7.8 41.2 7.6 41.3M621.4 52.8l14 30.9 12.8 30.9 11.5 30.9 10.3 30.9 9.2 30.9 8.5 30.9 7.8 30.9 7.4 30.9 9.4 41.2 9.1 41.3 8.8 41.3 8.7 41.2 8.6 41.2 8.4 41.3" stroke="#EDB120"/><path d="M658.6 52.8L667 90L678 119L692 140L706 158L725.7 198L733.6 237L737.5 316L745 395L757 474L765 547" stroke="#A2142F"/><path d="M702 52.8L725.7 197.8L737.5 276.7L749 355.6L761 434.5L767 513.4L772 547" stroke="#7E2F8E"/></g>
<g clip-path="url(#clipA)"><path d="M525.4 263.1L544.7 261.2L564 257.3L583.3 263.1L592.9 270.8L612.2 274.7L631.5 276.6L650.8 276.6L670.1 280.5L689.4 284.3L704.8 284.3L708.6 299.9L500.3 299.9L504.2 288.2L515.7 280.5L523.5 272.7Z" fill="#000" filter="url(#spA40)"/><path d="M416.4 183L430.9 178.2L450.2 177.3L467.5 174.4L482.9 170.5L500.3 168.6L515.7 164.7L531.2 160.9L540.8 155.1L544.7 145.4L550.5 139.6L553.9 147.4L551.4 157L542.7 164.7L531.2 169.5L519.6 174.4L535 178.2L550.5 181.1L564 178.2L567.8 169.5L571.7 165.7L578.4 171.5L585.2 180.2L583.3 187.9L577.5 193.7L574.6 198.5L583.3 201.4L591 204.3L588.1 208.1L573.6 209.5L554.3 208.1L535 207.5L515.7 207.2L496.5 206.8L481 205.6L461.7 207.2L448.2 206.8L434.7 205.6L425.1 203.7L420.3 197.5L417 189.8Z" fill="#000" stroke="#000" stroke-width="4" stroke-linejoin="round" filter="url(#spA40)"/><path d="M415.7 183L432.9 178.5L455.8 175.1L473 172.8L495 170L495 205L473 206L455.8 206L438.6 203.7L421.5 199.1ZM440 198L470 199L500 198L540 196L560 195L560 203L540 201.4L507 202.6L473 206L455.8 206L438.6 203.7Z" fill="#000" stroke="#000" stroke-width="3" stroke-linejoin="round" filter="url(#spA75)"/><path d="M487.8 220.7L500.3 214.9L515.7 212.6L535 210.6L554.3 210.6L573.6 214.5L592.9 214.9L612.2 214.5L619.9 218.3L618 224.5L602.5 226.5L583.3 226.8L564 228.4L544.7 228.8L525.4 228.4L506.1 226.8L491.6 226.5ZM540.8 228L554.3 229.9L573.6 231.9L592.9 232.2L608.3 230.3L616 238L621.8 245.4L637.3 245.7L643.1 255.4L646.9 265L652.7 269.3L648.8 275.1L631.5 275.1L612.2 271.8L592.9 269.3L591 263.1L600.6 256.4L592.9 250L577.5 244.2L564 238.4L546.6 234.6ZM490.2 170.5L507.3 168.2L518.8 163.6L530.2 161.3L541.7 156.8L544 148.7L547.4 141.9L552 139.6L553.2 146.5L550.9 155.6L545.1 161.3L536 165.9L524.5 169.4L513.1 172.8L500 175.5L490 177ZM568 169.4L570.3 165.9L576.1 169.4L584.1 178.5L581.8 184.2L576.1 190L570.3 194.6L562 196L560 190L564.6 180.8Z" fill="#000" stroke="#000" stroke-width="7" stroke-linejoin="round" filter="url(#spA50)"/><path d="M500.9 290.3L519.7 285.4L546.8 285.4L568.5 280.8L586.6 277.2L604.7 279L619.1 277.2L631.8 280.8L649.9 284.5L662.5 280.8L677 279.9L686 284.5L698.7 282.7L704.1 286.3L702.3 293.5L713.2 297.1L724 295.3L731.2 298.9L740.3 301.6L738.5 308L727.6 306.2L720.4 313.4L725.8 324.2L724 333.3L731.2 342.3L731.2 353.2L733.1 358.6L725.8 362.2L720.4 367.6L716.8 374.9L727.6 382.1L742.1 385.7L743.9 394.8L731.2 402L727.6 411L713.2 412.9L702.3 411L691.5 414.7L680.6 411L673.4 420.1L666.1 414.7L655.3 411L640.8 403.8L630 405.6L615.5 403.8L608.3 411L597.4 409.2L586.6 403.8L572.1 404.7L563.1 401.1L558.4 396.6L555.7 389.7L548.8 380.3L539.2 373.4L537.9 366.6L541.9 355.7L552.9 348.8L541.9 342L531.1 336.5L524.2 328.2L511.9 314.7L505 305.1L499.6 295.5ZM671.6 326.1L682.4 324.2L693.3 329.7L695.1 342.3L691.5 353.2L695.1 364L687.8 371.3L678.8 364L671.6 353.2L668 342.3ZM682.4 374.9L700.5 373.1L713.2 378.5L709.5 389.3L695.1 393L684.2 385.7ZM736.7 324.2L745.7 322.4L752.9 333.3L751.1 338.7L742.1 336.9L734.9 331.5ZM611.9 421.9L622.7 420.1L624.6 425.5L615.5 430.9L611 427.3Z" fill="none" stroke="#000" stroke-width="8" stroke-linejoin="round" filter="url(#spA50)"/><path d="M487.8 220.7L500.3 214.9L515.7 212.6L535 210.6L554.3 210.6L573.6 214.5L592.9 214.9L612.2 214.5L619.9 218.3L618 224.5L602.5 226.5L583.3 226.8L564 228.4L544.7 228.8L525.4 228.4L506.1 226.8L491.6 226.5ZM540.8 228L554.3 229.9L573.6 231.9L592.9 232.2L608.3 230.3L616 238L621.8 245.4L637.3 245.7L643.1 255.4L646.9 265L652.7 269.3L648.8 275.1L631.5 275.1L612.2 271.8L592.9 269.3L591 263.1L600.6 256.4L592.9 250L577.5 244.2L564 238.4L546.6 234.6ZM490.2 170.5L507.3 168.2L518.8 163.6L530.2 161.3L541.7 156.8L544 148.7L547.4 141.9L552 139.6L553.2 146.5L550.9 155.6L545.1 161.3L536 165.9L524.5 169.4L513.1 172.8L500 175.5L490 177ZM568 169.4L570.3 165.9L576.1 169.4L584.1 178.5L581.8 184.2L576.1 190L570.3 194.6L562 196L560 190L564.6 180.8Z" fill="#000"/><path d="M500.9 290.3L519.7 285.4L546.8 285.4L568.5 280.8L586.6 277.2L604.7 279L619.1 277.2L631.8 280.8L649.9 284.5L662.5 280.8L677 279.9L686 284.5L698.7 282.7L704.1 286.3L702.3 293.5L713.2 297.1L724 295.3L731.2 298.9L740.3 301.6L738.5 308L727.6 306.2L720.4 313.4L725.8 324.2L724 333.3L731.2 342.3L731.2 353.2L733.1 358.6L725.8 362.2L720.4 367.6L716.8 374.9L727.6 382.1L742.1 385.7L743.9 394.8L731.2 402L727.6 411L713.2 412.9L702.3 411L691.5 414.7L680.6 411L673.4 420.1L666.1 414.7L655.3 411L640.8 403.8L630 405.6L615.5 403.8L608.3 411L597.4 409.2L586.6 403.8L572.1 404.7L563.1 401.1L558.4 396.6L555.7 389.7L548.8 380.3L539.2 373.4L537.9 366.6L541.9 355.7L552.9 348.8L541.9 342L531.1 336.5L524.2 328.2L511.9 314.7L505 305.1L499.6 295.5ZM671.6 326.1L682.4 324.2L693.3 329.7L695.1 342.3L691.5 353.2L695.1 364L687.8 371.3L678.8 364L671.6 353.2L668 342.3ZM682.4 374.9L700.5 373.1L713.2 378.5L709.5 389.3L695.1 393L684.2 385.7ZM736.7 324.2L745.7 322.4L752.9 333.3L751.1 338.7L742.1 336.9L734.9 331.5ZM611.9 421.9L622.7 420.1L624.6 425.5L615.5 430.9L611 427.3Z" fill="#000" fill-rule="evenodd"/><path d="M487.9 308.6h1M476.5 304.6h1M477.8 306.6h1M475 303.9h1M491.4 307.6h1M483.7 312.6h1M477.3 316.8h1M476.5 303.5h1M471 304.7h1M471.4 311.3h1M482.7 300.4h1M490.9 313.1h1M482.1 317h1M481.7 303.2h1M487.2 317.2h1M471.3 309.1h1M475 316.3h1M472.1 314.5h1M474.5 311.5h1M485.2 313.7h1" stroke="#000" stroke-width="1.4" stroke-linecap="round"/></g>
<g fill="none" stroke-width="0.7" clip-path="url(#clipB)"><path d="M1374 457l5 3 4 1 5 4 4 1 5 2 4 4 5 1 4 2 5 3 4 1 5 1 4 3 5 1 4 1 5 4 4 1 5 0 4 3 5 4 4 0 5-1 4 2 5 4 4 1 5 2 4 1 5 3 4 0 5 2 4 3 5 2 4 0 5 3 4 1 5 1 4 1 5 2 4 1 5 0M1233 361l4 2 5 1 4 2 5 2 4 4 5 4 4 4 5 3 4 4 5 1 4 0 5 4 4 6 5 4 4 0 5 5 4 4 5 5 4 2 5 3 4 3 5 3 4 4 5 1 4 3 5 4 4 6 5 5 4 3 5 0 4 3 5 2 4 4 5 2 4 1 5 4 4 1 5 1 4 4 5 0 4 0 5 4 4 2 5 3 4 3 5 2 4 2 5 0 4-1 5 1 4 2 5 1 4-1 5 3 4 3 5 2 4 0 5-1 4 0M1169 260l5 5 4 2 5 5 4 6 5 2 4 3 5 3 4 4 5 3 4 5 5 3 4 4 5 2 4 4 5 3 4 4 5 6 4 2 5 1 4 5 5 4 4 5 5 5 4 2 5 4 4 1 5 2 4 2 5 5 4 3 5 3 4 3 5 3 4 4 5 4 4 3 5 0 4 3 5 5 4 3 5 2 4 4 5 5 4 5 5 1 4 2 5 2 4 4 5 4 4 1 5 3 4 2 5 0 4 2 5 6 4 4 5 3 4 3 5 4 4 3 5 1 4 4 5 3 4 2 5 1 4 4 5 1 4 2 5 2 4 3 5 1 4 3 5 2 4 1M1292 322l5 3 4 4 5 5 4 6 5 1 4 5 5 4 4 2 5 1 4 2 5 2 4 5 5 5 4 5 5 3 4 4 5 2 4 2 5 3 4 6 5 4 4 3 5 3 4 1 5 1 4 2 5 4 4 4 5 4 4 4 5 4 4 2 5 4 4 6 5 2 4 4 5 4 4 3 5 3 4 1 5 2 4 5 5 2 4 3 5 2 4 2 5 3 4 4 5 4 4 0 5 0M1233 271l4 3 5 4 4 5 5 2 4 3 5 3 4 3 5 3 4 6 5 5 4 3 5 2 4 3 5 4 4 4 5 5 4 4 5 2 4 5 5 3 4 3 5 6 4 4 5 2 4 4 5 4 4 2 5 4 4 3 5 2 4 1 5 5 4 3 5 4 4 3 5 3 4 5 5 4 4 2 5 2 4 3 5 5 4 3 5 0 4 4 5 3 4 4 5 2 4 1 5 2 4 2 5 1 4 5 5 2 4 2 5 3 4 3 5 2 4 3 5 2 4 4 5 3M1180 282l5 5 4 6 5 3 4 4 5 6 4 2 5 2 4 3 5 3 4 5 5 2 4 3 5 3 4 5 5 5 4 2 5 3 4 5 5 3 4 5 5 5 4 2 5 2 4 2 5 4 4 3 5 5 4 2 5 4 4 4 5 2 4 3 5 5 4 2 5 5 4 4 5 3 4 3 5 4 4 3 5 3 4 2 5 1 4 4 5 2 4 2 5 5 4 4 5 3 4 3 5 3 4 6 5 5 4 3 5 1 4 4 5 2 4 4 5 3 4 3 5-1 4 2 5 2 4 4 5 1 4 2 5 2M1097 155l5 7 4 5 5 6 4 4 5 4 4 3 5 4 4 4 5 4 4 3 5 1 4 5 5 5 4 5 5 7 4 6 5 5 4 2 5 5 4 5 5 2 4 7 5 5 4 5 5 1 4 5 5 3 4 4 5 4 4 5 5 3 4 3 5 6 4 4 5 1 4 5 5 3 4 4 5 6 4 3 5 2 4 3 5 3 4 5 5 5 4 4 5 6 4 2 5 3 4 4 5 5 4 3 5 4 4 5 5 4 4 4 5 3 4 4 5 2 4 3 5 3 4 2 5 4 4 4 5 4 4 5 5 2 4 4 5 4 4 2 5 2 4 3 5 3 4 3 5 6 4 1M1211 365l5 4 4 4 5 3 4 0 5 4 4 4 5 2 4 4 5 3 4 4 5 2 4 4 5 2 4 5 5 2 4 3 5 4 4 4 5 4 4 1 5 3 4 3 5 3 4 2 5 3 4 5 5 1 4 4 5 2 4 3 5 4 4 6 5 3 4 1 5 4 4 2 5 2 4 0 5 2 4 4 5 3 4 1 5 2 4 0 5 3 4 2 5 1 4 1 5 1 4 1 5-1 4 1 5 2 4-1 5 3 4 3 5 0 4 0 5 2 4 2 5 1 4 0M1438 434l4 3 5 4 4 2 5 4 4 1 5 2 4 3 5 3 4 2 5 3 4 1 5 5 4 3 5 0 4 4 5 3 4 4 5 3 4 2 5 0 4 0 5 3 4 1 5 1 4 4 5 1 4 2 5 0 4 3 5 1 4 1 5 4 4 5 5-1M1261 307l5 4 4 4 5 4 4 4 5 4 4 0 5 3 4 5 5 5 4 4 5 6 4 2 5 2 4 4 5 3 4 3 5 4 4 5 5 3 4 2 5 3 4 1 5 4 4 5 5 5 4 2 5 1 4 2 5 3 4 3 5 2 4 3 5 3 4 1 5 3 4 3 5 1 4 3 5 4 4 4 5 4 4 2 5 5 4 5 5 3 4 0 5 4 4 1 5 1 4 2 5 4 4 2 5 1 4 3 5 3 4 5M1115 156l4 1 5 3 4 5 5 5 4 4 5 2 4 3 5 2 4 5 5 1 4 4 5 3 4 6 5 6 4 5 5 6 4 2 5 2 4 3 5 3 4 2 5 5 4 5 5 3 4 4 5 2 4 4 5 4 4 5 5 5 4 4 5 2 4 5 5 5 4 4 5 2 4 1 5 4 4 4 5 6 4 3 5 3 4 6 5 3 4 2 5 5 4 5 5 3 4 4 5 0 4 2 5 4 4 6 5 4 4 4 5 3 4 3 5 4 4 3 5 3 4 2 5 3 4 6 5 3 4 1 5 4 4 3 5 4 4 5 5 4 4 4M1133 282l5 1 4 2 5 4 4 5 5 3 4 2 5 4 4 5 5 5 4 6 5 3 4 3 5 4 4 5 5 4 4 3 5 3 4 2 5 3 4 4 5 1 4 2 5 6 4 2 5 3 4 4 5 4 4 3 5 3 4 3 5 2 4 3 5 2 4 4 5 3 4 2 5 2 4 3 5 3 4 2 5 3 4 3 5 1 4 2 5 2 4 3 5 6 4 3 5 4 4 4 5 2 4 3 5 5 4 5 5 3 4 0 5 3 4 3 5 4 4 3 5 2 4 2 5 4 4 5 5 3 4 4 5 1 4 1 5 2 4 3 5 1M1422 440l5 3 4 1 5 1 4 3 5 2 4 2 5 4 4 3 5 1 4 3 5 3 4 3 5 4 4 2 5 3 4 2 5 2 4-3 5 2 4 3 5 3 4 1 5 2 4 3 5 1 4 2 5 1 4 2 5 1 4 1 5 2 4 2 5 4 4 5 5 0M1457 504l5 4 4 1 5-1 4 2 5 3 4 1 5 0 4 1 5-1 4 3 5 2 4 0 5 4 4 2 5 1 4 1 5 2 4 1 5 0 4 0 5 2 4 2 5-1 4 0 5 1 4 1 5 2 4-1 5 1 4 3 5-1 4 0M1387 385l4 5 5 4 4 4 5 3 4 2 5 2 4 3 5 4 4 2 5 4 4 4 5 3 4 1 5 3 4 5 5 5 4 1 5 2 4 3 5 4 4 4 5 3 4 5 5 2 4 3 5 5 4 3 5 2 4 2 5 3 4 3 5 4 4-1 5 0 4 2 5 2 4 3 5 2 4 4M1133 279l5 3 4 4 5 2 4 6 5 5 4 4 5 4 4 4 5 7 4 3 5 2 4 3 5 4 4 2 5 2 4 4 5 5 4 5 5 2 4 3 5 3 4 3 5 4 4 3 5 2 4 4 5 3 4 1 5 3 4 2 5 4 4 2 5 2 4 4 5 3 4 4 5 3 4 5 5 2 4 3 5 3 4 1 5 3 4 4 5 2 4 4 5 4 4 4 5 5 4 3 5 3 4 2 5 2 4 3 5 2 4 4 5 3 4 1 5 2 4 2 5 2 4 0 5 2 4 1 5 1 4 4 5 0 4 2 5 2 4 1 5 1 4 0 5 1 4 3 5 3M1202 290l5 3 4 5 5 5 4 3 5 3 4 6 5 3 4 4 5 5 4 1 5 4 4 2 5 4 4 2 5 3 4 4 5 3 4 2 5 3 4 5 5 2 4 2 5 5 4 6 5 3 4 2 5 3 4 1 5 3 4 3 5 3 4 3 5 4 4 3 5 3 4 4 5 2 4 5 5 2 4 4 5 3 4 4 5 3 4 2 5 2 4 3 5 5 4 5 5 1 4 3 5 3 4 4 5 3 4 0 5 2 4 1 5 1 4 3 5 2 4 2M1251 265l5 6 4 5 5 3 4 1 5 6 4 4 5 4 4 2 5 6 4 4 5 5 4 2 5 5 4 6 5 1 4 4 5 6 4 5 5 4 4 2 5 6 4 5 5 2 4 4 5 4 4 2 5 2 4 5 5 3 4 4 5 4 4 3 5 3 4 4 5 2 4 4 5 3 4 5 5 6 4 3 5 3 4 4 5 3 4 2 5 2 4 2 5 3 4 2 5 3 4 4 5 5 4 2 5 1 4 3 5 3 4 3 5 3 4 3 5 3 4 4 5 2M1293 343l5 5 4 4 5 3 4 5 5 3 4 4 5 2 4 2 5 4 4 5 5 4 4 4 5 3 4 2 5 1 4 4 5 5 4 3 5 4 4 1 5 2 4 5 5 5 4 1 5 1 4 4 5 3 4 5 5 2 4 0 5 5 4 1 5 3 4 1 5 4 4 3 5 4 4 3 5 2 4 2 5 2 4 3 5 2 4 1 5 3 4 3 5 5 4 2 5-1 4 3M995 113l4 7 5 4 4 4 5 5 4 5 5 5 4 4 5 6 4 4 5 6 4 4 5 6 4 3 5 3 4 2 5 5 4 4 5 2 4 0 5 5 4 3 5 5 4 3 5 4 4 5 5 5 4 4 5 2 4 6 5 5 4 4 5 3 4 3 5 1 4 5 5 6 4 5 5 5 4 3 5 4 4 4 5 2 4 4 5 3 4 2 5 4 4 4 5 4 4 4 5 2 4 5 5 5 4 5 5 3 4 3 5 5 4 5 5 3 4 2 5 4 4 2 5 6 4 4 5 4 4 2 5 4 4 2 5 2 4 5 5 5 4 4 5 3 4 4 5 4 4 4 5 4 4 6 5 3 4 2 5 3 4 3 5 4 4 4 5 4 4 4 5 2 4 4 5 3 4 1 5 4 4 1 5 1 4 3 5 3 4 4 5 5 4 3 5 4 4 1 5 2 4 1 5 3 4 2" stroke="#0072BD"/><path d="M1088 146l5 4 4 5 5 3 4 5 5 5 4 4 5 5 4 2 5 2 4 4 5 4 4 4 5 4 4 3 5 3 4 4 5 5 4 7 5 3 4 4 5 3 4 3 5 4 4 2 5 4 4 6 5 4 4 5 5 5 4 4 5 5 4 3 5 5 4 4 5 3 4 4 5 3 4 4 5 5 4 4 5 4 4 4 5 2 4 3 5 4 4 5 5 7 4 5 5 3 4 4 5 7 4 5 5 4 4 4 5 3 4 4 5 4 4 4 5 4 4 4 5 3 4 0 5 5 4 4 5 2 4 0 5 4 4 2 5 4 4 4 5 2 4 3 5 1 4 2 5 4 4 3 5 2 4 5 5 4 4 2 5 1M1034 158l5 6 4 4 5 2 4 4 5 5 4 4 5 2 4 4 5 3 4 4 5 1 4 6 5 2 4 2 5 2 4 5 5 4 4 4 5 6 4 3 5 2 4 1 5 1 4 0 5 4 4 4 5 5 4 3 5 4 4 3 5 3 4 0 5 5 4 5 5 3 4 3 5 2 4 6 5 4 4 3 5 4 4 3 5 3 4 3 5 1 4 5 5 5 4 5 5 1 4 3 5 4 4 2 5 1 4 2 5 2 4 4 5 4 4 4 5 3 4 2 5 3 4 5 5 5 4 2 5 3 4 4 5 4 4 2 5 2 4 3 5 4 4 3 5 4 4 3 5 3 4 3 5 2 4 3 5 3 4 2 5 5 4 3 5 3 4 3 5 0M1339 364l4 4 5 4 4 4 5 1 4 4 5 2 4 4 5 3 4 3 5 3 4 4 5 5 4 4 5 4 4 2 5 2 4 5 5 4 4 3 5 6 4 2 5 4 4 2 5 2 4 2 5 3 4 3 5 4 4 3 5 1 4 2 5 1 4 4 5 1 4 6 5 1 4 2 5 2 4 3 5 2 4 2M1108 244l5 4 4 4 5 5 4 4 5 4 4 2 5 3 4 4 5 3 4 6 5 5 4 6 5 2 4 4 5 5 4 3 5 4 4 6 5 4 4 4 5 6 4 3 5 3 4 6 5 4 4 3 5 5 4 5 5 3 4 3 5 4 4 4 5 2 4 3 5 6 4 5 5 2 4 3 5 1 4 5 5 1 4 3 5 5 4 1 5 2 4 3 5 4 4 4 5 3 4 0 5 3 4 6 5 2 4 4 5 2 4 3 5 5 4 5 5 5 4 2 5 0 4 3 5 5 4 1 5 2 4 1 5 1 4 3 5 3 4 5 5 2 4 2 5 1 4 1 5 4M1103 200l5 2 4 4 5 4 4 5 5 3 4 3 5 3 4 5 5 4 4 6 5 4 4 6 5 5 4 3 5 5 4 3 5 1 4 3 5 4 4 5 5 6 4 3 5 4 4 3 5 3 4 4 5 5 4 3 5 3 4 1 5 5 4 4 5 4 4 2 5 3 4 3 5 1 4 1 5 5 4 5 5 1 4 3 5 1 4 4 5 5 4 2 5 4 4 3 5 2 4 4 5 2 4 2 5 2 4 3 5 6 4 5 5 2 4 1 5 5 4 4 5 4 4 4 5 3 4 0 5 2 4 3 5 3 4 2 5 3 4 5 5 4 4 2 5 1 4 3 5 1M1379 441l5 3 4 0 5 2 4 3 5 1 4 4 5 4 4 1 5 1 4 4 5 2 4 4 5 2 4 2 5 3 4 1 5 1 4 3 5 2 4 2 5 1 4-1 5 0 4 5 5 1 4 3 5 2 4 2 5 1 4 3 5 2 4 3 5 1 4 0 5 2 4-2 5 2 4 4 5 2 4-1M1291 360l4 2 5 5 4 1 5 3 4 5 5 4 4 4 5 6 4 4 5 4 4 5 5 4 4 2 5 1 4 2 5 1 4 4 5 4 4 2 5 2 4 4 5 3 4 2 5 4 4 3 5 1 4 4 5 2 4 3 5 5 4 2 5 3 4 2 5 2 4 3 5 3 4 2 5 2 4 1 5 1 4 1 5 1 4-1 5 2 4 5 5 2 4-1 5 0 4 1 5 2M1195 232l4 2 5 7 4 5 5 1 4 3 5 5 4 7 5 5 4 4 5 3 4 5 5 4 4 1 5 4 4 3 5 2 4 3 5 4 4 5 5 4 4 3 5 4 4 4 5 4 4 1 5 4 4 5 5 2 4 1 5 4 4 4 5 6 4 6 5 3 4 2 5 3 4 5 5 6 4 1 5 2 4 2 5 7 4 2 5 4 4 6 5 2 4 4 5 4 4 3 5 3 4 3 5 3 4 1 5 5 4 5 5 2 4 1 5 2 4 4 5 0 4 2 5 6 4 4 5 4 4 3 5 4 4 3M1158 304l4 4 5 6 4 4 5 6 4 3 5 3 4 3 5 4 4 4 5 2 4 3 5 2 4 4 5 4 4 4 5 3 4 5 5 2 4 2 5 2 4 1 5 2 4 4 5 6 4 3 5 3 4 2 5 2 4 3 5 3 4 2 5 2 4 3 5 4 4 2 5 1 4 4 5 4 4 3 5 3 4 2 5 1 4 4 5 3 4 3 5 2 4 2 5 3 4 3 5 0 4 3 5 3 4 3 5 5 4 0 5 2 4 2 5 2 4 2 5 3 4 2 5 0 4 3 5 1 4 3 5 3 4 1 5 2 4 3M1419 443l4 2 5 1 4 4 5 3 4 2 5 2 4 4 5 3 4 2 5 3 4 2 5 0 4 4 5 2 4 1 5 2 4 1 5 4 4 3 5 4 4 1 5 0 4 1 5 3 4 2 5 1 4 1 5 2 4 1 5 0 4 3 5 5 4 1 5 0 4 2M1376 376l5 5 4 3 5 4 4 4 5 1 4 2 5 3 4 3 5 4 4 5 5 2 4 4 5 2 4 0 5 1 4 4 5 1 4 4 5 7 4 4 5 2 4 4 5 6 4 2 5 1 4 2 5 5 4 5 5 1 4 1 5 2 4 3 5 5 4 4 5 1 4 2 5 0 4 1 5 1M1158 226l4 2 5 4 4 5 5 3 4 4 5 2 4 5 5 3 4 3 5 6 4 5 5 4 4 4 5 3 4 4 5 2 4 3 5 5 4 4 5 2 4 3 5 3 4 3 5 2 4 3 5 2 4 3 5 3 4 2 5 5 4 4 5 3 4 2 5 4 4 4 5 2 4 4 5 6 4 3 5 1 4 5 5 5 4 5 5 2 4 3 5 6 4 4 5 1 4 3 5 3 4 4 5 4 4 2 5 2 4 4 5 3 4 1 5 3 4 3 5 0 4 4 5 1 4 3 5 4 4 2 5 1 4 3 5 2 4 4M1404 451l4 4 5 4 4 5 5 1 4-1 5 2 4 4 5 2 4 1 5-1 4 1 5 2 4 3 5 0 4 4 5 3 4 3 5 2 4 4 5 1 4 0 5 1 4 0 5 0 4 3 5 2 4 0 5 1 4 4 5 2 4 0 5 1 4 3 5 0 4 1M1231 373l5 5 4 4 5-1 4 1 5 3 4 4 5 5 4 3 5 4 4 5 5 4 4 3 5 1 4 1 5 4 4 5 5 3 4 4 5 2 4 2 5 2 4 1 5 4 4 5 5 4 4 2 5 4 4 5 5 2 4 1 5 4 4 5 5 5 4 3 5 1 4 5 5 4 4 4 5 4 4-1 5 3 4 3 5 5 4 2 5 1 4 2 5 3 4 1 5 3 4 2 5-1 4 2 5 2 4 2 5 0 4 1 5 1 4 1M1421 456l4 5 5 2 4 0 5 3 4 4 5 4 4 2 5 4 4 2 5-2 4 4 5 2 4 2 5 3 4 2 5 2 4 2 5 3 4 3 5 3 4 3 5 0 4 3 5 3 4 1 5 3 4 0 5 4 4 1 5 2 4 0 5-1 4 2 5 2 4 3 5 2 4 1 5 4 4 2 5 0M1404 432l4 4 5 0 4 2 5 2 4 2 5 4 4 3 5 3 4 4 5 4 4 2 5 3 4 3 5 3 4 2 5 2 4 3 5 1 4 1 5 1 4 0 5 3 4 2 5 4 4 2 5 3 4 4 5 2 4 3 5 2 4-1 5 0 4 3 5 4 4 1 5 2 4 3 5 2 4 1 5 1 4 2M1357 457l5 2 4 6 5 4 4 4 5 2 4 3 5 2 4 2 5 2 4 1 5 2 4 1 5 4 4 4 5 2 4 0 5 1 4 2 5 3 4 1 5-1 4-1 5 2 4 3 5 0 4 0 5 1 4 3 5 0 4 1 5 3 4 1 5 2 4 1 5 0 4 1 5 1 4 1 5 2 4 1M1222 254l5 4 4 5 5 5 4 3 5 3 4 4 5 3 4 4 5 4 4 4 5 3 4 4 5 3 4 4 5 3 4 2 5 4 4 3 5 2 4 3 5 4 4 4 5 2 4 3 5 4 4 4 5 3 4 4 5 5 4 2 5 1 4 2 5 2 4 5 5 2 4 3 5 4 4 3 5 3 4 3 5 3 4 5 5 2 4 4 5 3 4 1 5 3 4 2 5 4 4 3 5 5 4 2 5 4 4 4 5 5 4 2 5 2 4 4 5 4 4 1 5 2 4 3 5 3M1367 401l5 2 4 3 5 2 4 2 5 1 4 4 5 5 4 1 5 0 4 2 5 0 4 4 5 5 4 2 5 0 4 3 5 4 4 3 5 4 4 4 5 2 4 3 5 0 4 1 5 2 4 2 5 3 4 3 5 2 4 1 5 4 4 2 5 2 4 1 5 2 4 3 5 1 4 1 5 2 4 3 5 4 4 2 5 2 4-1" stroke="#4DBEEE"/><path d="M1047 135l5 2 4 5 5 3 4 4 5 2 4 4 5 4 4 3 5 5 4 2 5 2 4 4 5 6 4 8 5 5 4 2 5 3 4 5 5 4 4 2 5 5 4 5 5 3 4 5 5 3 4 4 5 4 4 8 5 3 4 4 5 1 4 5 5 5 4 6 5 3 4 2 5 4 4 5 5 3 4 6 5 2 4 4 5 2 4 6 5 1 4 5 5 4 4 5 5 3 4 5 5 4 4 0 5 2 4 3 5 5 4 4 5 4 4 3 5 4 4 4 5 6 4 4 5 2 4 3 5 4 4 4 5 4 4 4 5 2 4 2 5 3 4 1 5 3 4 4 5 4 4 3 5 3 4 1 5 4 4 5 5 3 4 0 5 4 4 6 5 3 4 2 5 3M1147 213l5 5 4 3 5 3 4 4 5 3 4 6 5 6 4 4 5 4 4 5 5 5 4 3 5 3 4 6 5 3 4 3 5 4 4 4 5 3 4 3 5 4 4 3 5 2 4 5 5 4 4 2 5 4 4 3 5 4 4 3 5 2 4 6 5 3 4 4 5 4 4 4 5 2 4 2 5 2 4 5 5 4 4 4 5 4 4 3 5 4 4 3 5 0 4 2 5 2 4 5 5 4 4 1 5 4 4 3 5 0 4 3 5 5 4 5 5 5 4 3 5 1 4 1 5 3 4 3 5 3 4 4 5 2 4 2 5 3 4 3 5 2M1218 280l5 4 4 3 5 4 4 4 5 2 4 5 5 5 4 4 5 3 4 2 5 4 4 5 5 4 4 5 5 3 4 2 5 3 4 4 5 6 4 4 5 8 4 3 5 3 4 3 5 5 4 4 5 4 4 1 5 5 4 4 5 4 4 3 5 5 4 3 5 2 4 2 5 4 4 4 5 1 4 5 5 3 4 2 5 2 4 4 5 3 4 2 5 3 4 4 5 4 4 2 5 3 4 2 5 4 4 2 5 2 4 4 5 3 4 3 5 2 4 1 5 3 4 3 5 1 4 2 5 1 4 5M1132 291l4 6 5 2 4 3 5 3 4 4 5 2 4 6 5 3 4 5 5 5 4 2 5 4 4 3 5 3 4 6 5 7 4 4 5 1 4 2 5 3 4 2 5 4 4 4 5 2 4 4 5 4 4 3 5 2 4 3 5 5 4 3 5 3 4 2 5 4 4 3 5 1 4 4 5 2 4 4 5 4 4 2 5 3 4 4 5 4 4 1 5 3 4 2 5 5 4 2 5 4 4 4 5 2 4 1 5 6 4 5 5 3 4 1 5 1 4 3 5 3 4 1 5 3 4 2 5 3 4 1 5 2 4 3 5 1 4 2 5 2 4 2 5 2 4 1 5 2 4 1 5 1 4 1 5 1M1175 322l4 3 5 4 4 3 5 2 4 2 5 4 4 6 5 5 4 4 5 3 4 3 5 5 4 4 5 4 4 3 5 4 4 4 5 2 4 3 5 2 4 4 5 2 4 3 5 4 4 3 5 3 4 3 5 3 4 3 5 2 4 3 5 3 4 4 5 4 4 4 5 4 4 2 5 2 4 5 5 2 4 5 5 4 4 3 5 6 4 2 5 5 4 3 5 4 4 1 5 1 4 1 5 3 4 3 5 3 4 4 5 4 4 3 5 1 4-1 5 2 4 1 5 2 4 1 5 3 4 1 5 0 4 2 5 2 4 1M1157 282l5 2 4 5 5 4 4 3 5 4 4 2 5 4 4 5 5 4 4 5 5 4 4 4 5 3 4 3 5 4 4 2 5 2 4 1 5 2 4 3 5 3 4 4 5 2 4 1 5 3 4 3 5 2 4 3 5 2 4 3 5 1 4 4 5 3 4 4 5 3 4 3 5 5 4 3 5 2 4 2 5 3 4 1 5 2 4 3 5 3 4 4 5 3 4 3 5 3 4 3 5 3 4 2 5 4 4 4 5 3 4 2 5 0 4 3 5 1 4 3 5 2 4 2 5 1 4 2 5 1 4 2M1174 315l4 4 5 4 4 3 5 3 4 1 5 3 4 5 5 5 4 3 5 4 4 4 5 2 4 3 5 3 4 3 5 4 4 2 5 3 4 4 5 3 4 4 5 2 4 1 5 5 4 3 5 2 4 3 5 4 4 3 5 4 4 4 5 3 4 3 5 4 4 4 5 3 4 4 5 2 4 4 5 4 4 3 5 1 4 3 5 1 4 3 5 4 4 4 5 1 4 1 5 2 4 3 5 2 4-1 5 2 4 5 5 2 4 1 5 1 4 0 5 0 4 0 5 2 4 1 5 3 4 2M1342 378l4 4 5 3 4 3 5 4 4 1 5 2 4 3 5 3 4 1 5 3 4 3 5 4 4 5 5 4 4 2 5 3 4 5 5 5 4 3 5 2 4 1 5 4 4 4 5 3 4 2 5 2 4 2 5 0 4 4 5 2 4 3 5 4 4-1 5 2 4 2 5 3 4 3 5 3 4 2 5 3M1218 281l4 2 5 4 4 4 5 3 4 4 5 3 4 3 5 5 4 4 5 2 4 3 5 5 4 3 5 2 4 2 5 4 4 5 5 3 4 4 5 6 4 3 5 4 4 4 5 3 4 2 5 4 4 4 5 5 4 2 5 4 4 5 5 3 4 3 5 4 4 3 5 3 4 4 5 3 4 4 5 3 4 5 5 4 4 3 5 5 4 3 5 3 4 3 5 1 4 3 5 2 4 1 5 2 4 5 5 1 4 1 5 2 4 2 5 3 4 1 5 3 4 3M1094 226l4 7 5 6 4 4 5 4 4 4 5 3 4 4 5 4 4 5 5 5 4 6 5 5 4 3 5 5 4 4 5 1 4 4 5 4 4 3 5 5 4 3 5 1 4 4 5 6 4 1 5 5 4 3 5 3 4 4 5 5 4 2 5 3 4 4 5 6 4 4 5 1 4 3 5 4 4 3 5 2 4 3 5 2 4 6 5 3 4 3 5 4 4 5 5 5 4 2 5 2 4 3 5 3 4 2 5 5 4 3 5 4 4 3 5 5 4 4 5 6 4 2 5 3 4 6 5 2 4 4 5 5 4 2 5 1 4 2 5 4 4 2 5 4 4 2 5 4 4 3 5 4 4 4 5 2 4 2M1280 347l5 1 4 4 5 3 4 2 5 4 4 3 5 2 4 3 5 2 4 4 5 3 4 3 5 3 4 3 5 6 4 1 5 1 4 3 5 4 4 3 5 3 4 2 5 2 4 3 5 4 4 3 5 3 4 0 5 3 4 3 5 6 4 3 5 3 4 2 5 3 4 4 5 3 4 1 5 0 4 1 5 2 4 1 5 2 4 6 5 2 4 3 5 2 4 1 5 2 4 2 5 1 4 3 5 3 4 3 5 0 4 1 5 2M1409 467l5 1 4 3 5 1 4 4 5 4 4 2 5 0 4 2 5 2 4 3 5 1 4 3 5 5 4 2 5 1 4 3 5 0 4 1 5 2 4 2 5 1 4 0 5 2 4 3 5 0 4 0 5 0 4 3 5 1 4 1 5-2 4 0 5 1 4 2 5 3 4 0 5-1 4 0 5 0M1183 346l5 4 4 2 5 4 4 5 5 3 4 4 5 3 4 4 5 5 4 3 5 2 4 5 5 2 4 2 5 2 4 2 5 5 4 2 5 5 4 2 5 2 4 4 5 0 4 1 5 2 4 4 5 4 4 4 5 1 4 3 5 3 4 1 5 4 4 2 5 0 4 5 5 3 4 2 5 3 4 1 5 4 4 3 5 2 4 3 5 2 4 2 5 3 4 2 5 1 4 3 5 6 4 4 5 0 4 3 5 3 4 2 5 3 4 0 5 2 4 1 5 0 4 1 5 0 4 2 5 0M1146 194l4 3 5 2 4 2 5 7 4 4 5 4 4 4 5 3 4 5 5 4 4 5 5 4 4 5 5 3 4 5 5 2 4 5 5 6 4 5 5 4 4 5 5 3 4 2 5 4 4 4 5 4 4 4 5 4 4 3 5 4 4 4 5 2 4 4 5 4 4 4 5 5 4 4 5 4 4 3 5 4 4 3 5 4 4 4 5 5 4 4 5 4 4 3 5 2 4 1 5 4 4 2 5 5 4 2 5 4 4 2 5 5 4 3 5 4 4 3 5 4 4 3 5 3 4 2 5 5 4 4 5 4 4 3 5 1 4 2 5 3 4 2M1390 450l4 3 5 2 4 2 5 5 4 4 5 2 4-1 5 4 4 4 5 3 4 2 5 2 4 4 5 2 4 0 5 0 4 3 5 3 4 3 5 1 4 3 5 4 4 3 5 3 4-1 5 0 4 2 5 1 4 3 5 1 4 1 5 2 4 2 5 5 4 1 5 0 4 1 5 0 4 1 5 0 4 2M1213 309l4 4 5 5 4 3 5 1 4 5 5 6 4 4 5 2 4 2 5 4 4 5 5 4 4 3 5 3 4 3 5 4 4 3 5 5 4 3 5 3 4 5 5 4 4 2 5 3 4 1 5 1 4 4 5 3 4 3 5 5 4 2 5 2 4 3 5 3 4 2 5 2 4 3 5 4 4 2 5 1 4 3 5 5 4 2 5 1 4 3 5 2 4 3 5 2 4 3 5 4 4 5 5 1 4 1 5 3 4 4 5 2 4 0 5 3 4 4 5 2 4 2 5 1 4 3 5 0M1435 462l4 1 5 3 4 1 5 3 4 3 5 2 4 1 5 3 4 3 5 3 4 0 5 3 4 2 5 3 4 1 5 3 4 1 5 3 4 0 5 1 4 3 5 1 4 2 5 2 4 2 5 0 4 2 5 2 4 1 5 1 4 2 5 4 4 2 5 3M1286 360l5 3 4 2 5 2 4 4 5 3 4 4 5 2 4 4 5 5 4 3 5 5 4 4 5 3 4 3 5 3 4 3 5 1 4 4 5 3 4 6 5 4 4 2 5 2 4 3 5 1 4 3 5 3 4 4 5 1 4 2 5 3 4 2 5 2 4 4 5 3 4 3 5 3 4 1 5 1 4 4 5 2 4 3 5 2 4 2 5 0 4 2 5 3 4 0 5 3M1408 486l5 3 4 3 5 5 4 1 5 0 4 1 5 1 4 2 5 0 4 0 5 1 4 1 5 0 4 1 5 1 4-1 5 0 4 2 5 2 4 2 5 1 4 1 5 1 4 2 5 1 4 0 5-1 4 3 5 0 4 3 5 1 4 0 5 0 4 1 5 2M1457 472l4 3 5 1 4 1 5 3 4 3 5 3 4 3 5 4 4 0 5 2 4 2 5 3 4 2 5 0 4 2 5 2 4 2 5 3 4 1 5 1 4 1 5 1 4 2 5 2 4 0 5 1 4 3 5 3M1348 391l5 4 4 1 5 1 4 2 5 5 4 1 5 5 4 4 5 4 4 4 5 1 4 2 5 4 4 4 5 4 4 2 5 2 4 3 5 2 4 4 5 3 4 2 5 1 4 1 5 4 4 3 5 0 4 0 5 3 4 1 5 4 4 1 5 3 4 2 5 2 4 5 5 1 4 3 5 4 4 1 5 1 4 1 5 1 4 1 5 1 4 2" stroke="#77AC30"/><path d="M1155 265l4 3 5 4 4 5 5 6 4 6 5 4 4 3 5 1 4 3 5 5 4 5 5 6 4 3 5 3 4 4 5 3 4 4 5 4 4 3 5 4 4 3 5 4 4 3 5 4 4 2 5 1 4 3 5 3 4 4 5 3 4 4 5 6 4 4 5 3 4 2 5 4 4 1 5 3 4 1 5 4 4 1 5 4 4 4 5 3 4 2 5 3 4 6 5 6 4 3 5 0 4 1 5 3 4 4 5 2 4 4 5 3 4 3 5 1 4 7 5 2 4 1 5 2 4 3 5 4 4 1 5 2 4 3 5 2 4 2 5 1 4 2 5 1 4 1 5 2 4 3M1437 481l4 1 5 2 4 2 5 3 4 0 5 3 4 1 5 1 4 3 5 3 4 2 5-1 4 0 5 3 4 3 5 0 4 0 5 3 4 0 5 2 4 1 5-1 4 1 5 2 4 1 5 2 4-1 5 2 4 2 5 4 4-1 5 1 4 3M1262 351l5 3 4 3 5 3 4 3 5 4 4 5 5 2 4 3 5 4 4 5 5 2 4 4 5 2 4 3 5 1 4 4 5 2 4 6 5 5 4 3 5 3 4 2 5 1 4 4 5 4 4 2 5 3 4 4 5 3 4 3 5 5 4 4 5 2 4 2 5 3 4 5 5 5 4 2 5 0 4 4 5 2 4 4 5 3 4 2 5 2 4 0 5 3 4 2 5 2 4 0 5 1 4 1 5 3 4-1 5 1 4 4M1370 400l5 3 4 3 5 2 4 4 5 4 4 3 5 5 4 3 5 4 4 3 5 4 4 3 5 3 4 2 5 1 4 2 5 2 4 2 5 3 4 3 5 3 4 4 5 1 4 4 5 3 4 1 5 2 4 0 5 2 4 3 5 4 4 1 5 3 4 1 5 1 4 2 5 1 4 2 5 1 4 4 5 4M1432 428l5 3 4 4 5 4 4 4 5 2 4 2 5 3 4 2 5 6 4 6 5 0 4 1 5 2 4 3 5 3 4 4 5 4 4 3 5 4 4 5 5 5 4 4 5 0 4 1 5 2 4 2 5 2 4 2 5 3 4 4 5 2 4 1 5 2 4 2 5 3M1387 463l5 3 4 3 5 1 4 2 5 4 4 1 5 3 4 1 5 1 4 2 5 3 4 2 5-1 4 3 5 0 4 1 5 1 4 2 5 3 4 1 5 2 4 2 5 2 4-1 5 1 4-1 5-1 4 2 5 2 4 2 5 0 4 4 5 1 4 1 5 1 4 2 5 1M1391 472l5 4 4 3 5 0 4-1 5 3 4 3 5 2 4 4 5 2 4 2 5 0 4 2 5 3 4 2 5 2 4 1 5 0 4 1 5 2 4 2 5 1 4-1 5 0 4 5 5 1 4 3 5 3 4 2 5 2 4 3 5 2 4 1 5 1 4-1 5 0 4 3 5 1 4 0 5 2 4 2M1401 412l5 3 4 5 5 0 4 2 5 3 4 1 5 4 4 3 5 2 4 2 5 0 4 5 5 3 4 2 5 2 4 3 5 2 4 1 5 3 4 2 5 3 4 3 5 2 4 3 5 3 4 3 5 3 4 1 5 5 4 3 5 4 4 3M1199 268l5 4 4 5 5 3 4 3 5 3 4 6 5 5 4 5 5 3 4 5 5 3 4 3 5 4 4 4 5 0 4 2 5 4 4 2 5 3 4 4 5 5 4 4 5 1 4 4 5 3 4 1 5 4 4 4 5 5 4 3 5 3 4 3 5 6 4 5 5 4 4 3 5 1 4 5 5 3 4 3 5 3 4 5 5 2 4 4 5 2 4 4 5 3 4 3 5 2 4 4 5 2 4 4 5 4 4 5 5 3 4 0 5 4 4 1 5 2 4 2 5 1 4 4 5 3 4 2M1261 388l5 3 4 2 5 2 4 4 5 2 4 1 5 2 4 3 5 2 4 3 5 5 4 5 5 3 4 2 5 3 4 2 5 3 4 4 5 4 4 2 5 3 4 8 5 3 4 3 5 2 4 4 5 4 4 6 5 1 4 3 5 2 4 3 5 2 4 1 5 2 4 3 5 2 4 2 5 2 4 1 5 1 4 2 5 2 4 3 5 3 4 1 5 2 4 2 5 1 4 2 5 2 4 2 5 1 4 1 5 3 4 2 5 0 4 0 5 2 4 3M1316 395l5 3 4 3 5 3 4 4 5 3 4 4 5 4 4 3 5 5 4 4 5 4 4 3 5 1 4 7 5 2 4 4 5 2 4 1 5 2 4 4 5 2 4 2 5 3 4 2 5 0 4 1 5 2 4 2 5 1 4 3 5 2 4 3 5 0 4 1 5 3 4 2 5-1 4 3 5 1 4 1 5 1 4 0 5 2 4 3 5 1 4 1 5 2 4 0 5 3 4 1 5 2M1353 364l4 3 5 5 4 3 5 5 4 2 5 2 4 2 5 4 4 3 5 4 4 5 5 2 4 3 5 4 4 4 5 2 4 3 5 2 4 2 5 1 4 3 5 4 4 2 5 2 4 2 5 5 4 3 5 5 4 2 5 2 4 2 5 4 4 4 5 3 4 3 5 3 4 2 5 2 4 2 5 3 4 1 5 2 4 3 5 3 4 2 5 0M1354 435l5 5 4 4 5 4 4 3 5 2 4 2 5 4 4 1 5 2 4 5 5 4 4 2 5 3 4 2 5 1 4 2 5 2 4 4 5 2 4-1 5 3 4 3 5 2 4 2 5 2 4 2 5 3 4 4 5 1 4-1 5 1 4 1 5 0 4 1 5 0 4-1 5-1 4 1 5 1 4 1 5 1 4 1 5 1 4 3 5 2M1404 418l5 6 4 4 5 2 4 4 5 5 4 2 5 0 4 5 5 4 4-1 5 2 4 1 5 3 4 2 5 2 4 1 5 5 4 3 5 3 4 3 5 2 4 1 5 5 4 1 5 1 4 3 5 5 4 1 5-1 4 0 5 2 4 4 5 1 4 3 5 2 4 2 5 1 4 0 5 1 4 1M1250 355l5 4 4 3 5 2 4 5 5 4 4 2 5 2 4 2 5 3 4 5 5 5 4 4 5 3 4 3 5 2 4 5 5 4 4 4 5 2 4 3 5 3 4 4 5 3 4 3 5 4 4 3 5 4 4 1 5 2 4 4 5 5 4 5 5 1 4 2 5 2 4 2 5 2 4 0 5 2 4 3 5 3 4 0 5 1 4 3 5 0 4 0 5 1 4 2 5 2 4 2 5 1 4 0 5 3 4 2 5-1 4-1 5 2 4 3M1297 374l5 4 4 4 5 1 4 3 5 2 4 3 5 5 4 4 5 4 4 4 5 1 4 2 5 4 4 5 5 4 4 4 5 3 4 4 5 2 4 2 5 2 4 2 5 3 4 2 5 6 4 2 5 2 4 3 5 5 4 0 5 3 4 1 5 1 4 2 5 0 4 2 5 3 4 3 5 1 4 1 5 4 4 2 5 2 4 0 5-1 4 3 5 1 4 1M1346 410l5 3 4 4 5 5 4 0 5 3 4 2 5 4 4 3 5 3 4 4 5 1 4 4 5 2 4 1 5 3 4 3 5 4 4 2 5 1 4 3 5 4 4 0 5-1 4 0 5 3 4 2 5 3 4 1 5 1 4 3 5 3 4-1 5 1 4 3 5 2 4 3 5 1 4-1 5 0 4 1 5 4 4 2 5 3 4 2M1204 260l4 1 5 5 4 4 5 4 4 4 5 6 4 2 5 5 4 5 5 1 4 3 5 4 4 4 5 4 4 4 5 2 4 2 5 2 4 4 5 3 4 4 5 5 4 3 5 3 4 4 5 2 4 4 5 5 4 3 5 2 4 3 5 5 4 3 5 4 4 4 5 3 4 2 5 2 4 4 5 4 4 2 5 2 4 1 5 1 4 6 5 5 4 3 5 3 4 3 5 2 4 3 5 4 4 3 5 3 4 2 5 4 4 2 5 0 4 2 5 3 4 2 5 4 4 3 5 3M1258 283l5 3 4 4 5 2 4 3 5 5 4 3 5 4 4 2 5 3 4 5 5 5 4 5 5 5 4 4 5 4 4 3 5 4 4 3 5 2 4 5 5 5 4 5 5 3 4 5 5 2 4 4 5 3 4 2 5 3 4 4 5 3 4 4 5 3 4 1 5 3 4 3 5 2 4 5 5 3 4 2 5 3 4 1 5 4 4 2 5 4 4 3 5 2 4 4 5 2 4 5 5 3 4 4 5 4 4 5 5 3 4 2 5 2M1132 286l5 3 4 3 5 4 4 3 5 3 4 6 5 4 4 7 5 4 4 2 5 1 4 4 5 4 4 5 5 4 4 4 5 4 4 2 5 3 4 4 5 5 4 3 5 3 4 2 5 3 4 4 5 2 4 2 5 4 4 3 5 3 4 3 5 5 4 5 5 5 4 1 5 3 4 4 5 4 4 4 5 2 4 4 5 3 4 2 5 2 4 3 5 4 4 3 5 5 4 3 5 3 4 5 5 2 4 1 5 2 4 1 5 0 4 4 5 4 4 2 5 2 4 4 5 3 4 3 5 6 4 2 5 2 4 1 5 1 4 4 5 2 4 1 5 1 4 3 5 0 4 0M1357 431l4 4 5 5 4 4 5 4 4 2 5 2 4 3 5 1 4 1 5 3 4 2 5 2 4 2 5 3 4 2 5 2 4 0 5 4 4 2 5 0 4 3 5 2 4 3 5 1 4 1 5 1 4 4 5 1 4 2 5 2 4 2 5 0 4 4 5 4 4 1 5 0 4 1 5 1 4 2 5 1 4 0 5 1 4 2M1239 262l5 5 4 5 5 5 4 4 5 4 4 6 5 4 4 2 5 5 4 6 5 5 4 4 5 4 4 3 5 2 4 3 5 2 4 5 5 4 4 4 5 5 4 3 5 5 4 2 5 3 4 5 5 4 4 6 5 4 4 1 5 3 4 3 5 3 4 3 5 3 4 5 5 3 4 2 5 3 4 5 5 2 4 5 5 5 4 5 5 3 4 3 5 3 4 4 5 3 4 5 5 3 4 1 5 1 4 4 5 3 4 3 5 2 4 4 5 2 4 4 5 4 4 3M1210 342l4 2 5 5 4 3 5 3 4 4 5 3 4 5 5 3 4 4 5 2 4 3 5 4 4 4 5 2 4 3 5 5 4 3 5 3 4 2 5 1 4 2 5 3 4 4 5 1 4 4 5 3 4 4 5 3 4 5 5 2 4 4 5 4 4 5 5 5 4 2 5 3 4 3 5 5 4 2 5 0 4 3 5 1 4 1 5 2 4 4 5 4 4 2 5 3 4 4 5 0 4-1 5 1 4 3 5 3 4 2 5 1 4 0 5 2 4 4 5 1 4-2 5 2 4 1M1180 242l5 4 4 1 5 5 4 6 5 5 4 3 5 3 4 7 5 4 4 4 5 4 4 3 5 3 4 4 5 2 4 4 5 3 4 4 5 4 4 5 5 3 4 4 5 3 4 4 5 3 4 3 5 3 4 3 5 4 4 3 5 3 4 4 5 4 4 4 5 4 4 5 5 6 4 3 5 1 4 2 5 4 4 2 5 3 4 4 5 6 4 6 5 0 4 2 5 5 4 3 5 2 4 4 5 2 4 4 5 3 4 2 5 0 4 4 5 4 4 2 5 3 4 5 5 2 4 2 5 2 4 5 5 5 4 3 5 4M1099 261l4 4 5 2 4 4 5 4 4 5 5 6 4 3 5 2 4 5 5 6 4 2 5 5 4 5 5 4 4 4 5 7 4 3 5 3 4 4 5 3 4 4 5 2 4 4 5 5 4 2 5 2 4 3 5 0 4 5 5 4 4 2 5 2 4 3 5 3 4 5 5 2 4 1 5 4 4 6 5 3 4 5 5 3 4 2 5 2 4 4 5 3 4 0 5 2 4 2 5 2 4 6 5 7 4 3 5 1 4 1 5 5 4 4 5 0 4 3 5 3 4 3 5 3 4 3 5 2 4 1 5 2 4 1 5 2 4 3 5 2 4 1 5 1 4 2 5 1 4 3 5-1 4 0M1244 342l5 2 4 4 5 3 4 3 5 2 4 2 5 2 4 5 5 5 4 2 5 1 4 0 5 5 4 6 5 4 4 2 5 0 4 3 5 3 4 4 5 5 4 3 5 4 4 2 5 4 4 5 5 3 4 2 5 4 4 4 5 2 4 2 5 4 4 3 5 4 4 4 5 4 4 2 5 1 4 3 5 2 4 1 5 2 4 0 5 2 4 3 5 4 4 2 5 4 4 2 5 1 4 1 5 2 4 2 5 3 4 1 5 4 4 1M1378 382l4 4 5 3 4 4 5 6 4 3 5 2 4 2 5 3 4 5 5 4 4 3 5 4 4 3 5 1 4 1 5 3 4 4 5 3 4 3 5 2 4 3 5 4 4 3 5 1 4 0 5 5 4 4 5 3 4 5 5 3 4 2 5 3 4 3 5 0 4 1 5 3 4 0 5 0 4 1 5 6 4 3 5 0M1298 418l4 3 5 0 4 4 5 1 4 2 5 2 4 5 5 4 4 4 5 3 4 3 5 1 4 3 5 3 4 4 5 3 4 1 5 1 4 4 5 4 4 0 5 4 4 3 5 1 4 1 5 2 4 2 5 2 4 1 5 1 4 4 5 2 4 3 5 1 4 0 5-1 4 2 5 1 4 1 5 2 4-2 5 1 4 2 5 1 4 1 5 0 4-1 5 0 4 3 5 3 4 1" stroke="#7E2F8E"/><path d="M1223 294l5 1 4 4 5 4 4 4 5 4 4 3 5 4 4 4 5 1 4 3 5 5 4 5 5 4 4 2 5 2 4 4 5 5 4 5 5 4 4 5 5 5 4 1 5 4 4 4 5 1 4 3 5 4 4 5 5 3 4 4 5 3 4 2 5 2 4 2 5 3 4 3 5 4 4 3 5 5 4 3 5 0 4 4 5 5 4 2 5 1 4 3 5 3 4 2 5 1 4 3 5 3 4 5 5 4 4 2 5 2 4 1 5 3 4 3 5 2 4 5 5 2 4 0 5 1 4 2 5 1M1254 377l4 3 5 3 4 2 5 0 4 4 5 4 4 2 5 0 4 4 5 2 4 2 5 2 4 2 5 4 4 5 5 4 4 2 5 4 4 3 5 3 4 7 5 3 4 1 5 2 4 4 5 5 4 2 5 2 4 4 5 3 4 4 5 2 4-1 5 1 4 1 5 3 4 3 5 3 4 3 5 4 4 1 5 2 4 1 5 3 4 1 5 1 4 2 5-1 4 3 5 0 4-2 5 2 4 1 5 4 4 0 5 1 4 1 5 2 4 0 5-1 4 2M1195 354l4 5 5 4 4 2 5 1 4 3 5 4 4 3 5 3 4 3 5 4 4 4 5 3 4 3 5 1 4 2 5 0 4 3 5 5 4 2 5 1 4 5 5 3 4 2 5 4 4 2 5 2 4 4 5 2 4 3 5 2 4 4 5 2 4 3 5 5 4 5 5 0 4 3 5 3 4 3 5 5 4 3 5 3 4 4 5 4 4 1 5 5 4 2 5 2 4 2 5 1 4 1 5 2 4 2 5 5 4 1 5 0 4 2 5 1 4-1 5 2 4-1 5 2 4 2 5 2 4 2M1273 378l4 4 5 5 4 2 5 2 4 4 5 4 4 4 5 3 4 3 5 4 4 1 5 2 4 3 5 4 4 4 5 3 4 3 5 5 4 5 5 6 4 3 5 0 4 4 5 2 4 2 5 1 4 1 5 2 4 1 5 4 4 2 5 2 4 4 5 4 4 3 5 3 4 2 5 2 4 0 5 0 4 4 5 3 4 3 5 3 4 1 5 3 4-1 5 0 4-2 5 1 4 3 5 0 4-1 5 5 4 3 5 2M1243 285l4 3 5 2 4 5 5 3 4 4 5 3 4 4 5 6 4 2 5 3 4 5 5 4 4 2 5 3 4 3 5 4 4 4 5 3 4 4 5 3 4 4 5 5 4 4 5 4 4 6 5 3 4 2 5 2 4 3 5 2 4 1 5 4 4 1 5 1 4 3 5 5 4 4 5 2 4 5 5 3 4 2 5 6 4 3 5 2 4 1 5 3 4 1 5 3 4 3 5 1 4 3 5 4 4 5 5 4 4 2 5 3 4 4 5 2 4 1 5 4 4 2M1292 331l5 5 4 2 5 4 4 3 5 6 4 6 5 4 4 4 5 3 4 2 5 4 4 5 5 2 4 2 5 5 4 4 5 4 4 3 5 5 4 3 5 2 4 3 5 4 4 2 5 3 4 3 5 1 4 3 5 5 4 3 5 2 4 4 5 3 4 2 5 5 4 5 5 5 4 3 5 1 4 1 5 3 4 6 5 4 4 2 5 3 4 3 5 3 4 3 5 1 4 4 5 2 4 2 5 0M1208 262l5 3 4 4 5 4 4 5 5 5 4 3 5 6 4 6 5 4 4 4 5 5 4 1 5 2 4 4 5 3 4 3 5 2 4 3 5 2 4 5 5 5 4 4 5 3 4 3 5 5 4 5 5 7 4 3 5 2 4 3 5 4 4 5 5 2 4 2 5 2 4 5 5 2 4 4 5 4 4 0 5 3 4 4 5 5 4 5 5 2 4 0 5 4 4 5 5 3 4 4 5 3 4 3 5 4 4 3 5 3 4 2 5 2 4 3 5 2 4 4 5 4 4 2M1247 376l4 3 5 5 4 3 5 3 4 2 5 3 4 4 5 4 4 0 5 4 4 5 5 1 4 1 5 5 4 6 5 3 4 3 5 3 4 5 5 3 4 2 5 2 4 1 5 4 4 3 5 5 4 4 5 4 4 2 5 3 4 1 5 4 4 3 5 4 4 4 5 4 4 1 5 0 4 3 5 3 4 4 5 2 4 1 5 0 4 3 5 1 4 1 5 0 4 2 5 0 4 2 5 1 4 1 5-1 4 1 5 3M1314 385l5 6 4 4 5 3 4 4 5 3 4 2 5 5 4 4 5 3 4 2 5 5 4 4 5 3 4 2 5 4 4 3 5 3 4 2 5 1 4 5 5 5 4 3 5 3 4 4 5 2 4 1 5 1 4 3 5 4 4 2 5 1 4 4 5 4 4 3 5 2 4 4 5 0 4 1 5 4 4 1 5 1 4 0 5 3 4 0 5 1 4 2 5 1 4 1 5 2 4 2 5 1M1159 219l4 4 5 4 4 2 5 3 4 3 5 4 4 5 5 5 4 4 5 3 4 5 5 3 4 5 5 6 4 3 5 5 4 6 5 3 4 4 5 3 4 0 5 2 4 2 5 7 4 6 5 2 4 3 5 3 4 2 5 3 4 4 5 7 4 4 5 2 4 2 5 5 4 3 5 2 4 4 5 6 4 5 5 3 4 3 5 1 4 3 5 6 4 5 5 3 4 2 5 5 4 2 5 2 4 2 5 3 4 3 5 2 4 4 5 6 4 4 5 5 4 2 5 2 4 4 5 3 4 0 5 3 4 1M1331 347l4 4 5 4 4 4 5 4 4 5 5 3 4 6 5 5 4 4 5 2 4 2 5 4 4 4 5 3 4 3 5 4 4 1 5 4 4 4 5 3 4 5 5 5 4 2 5 4 4 3 5 3 4 3 5 2 4 1 5 2 4 4 5 2 4 3 5 3 4 2 5 5 4 2 5 2 4 3 5 2 4 1 5 3 4 0 5 5 4 2 5 3M1134 277l4 5 5 5 4 2 5 4 4 5 5 3 4 5 5 3 4 4 5 5 4 4 5 2 4 4 5 4 4 0 5 6 4 3 5 4 4 4 5 4 4 3 5 4 4 3 5 4 4 2 5 1 4 3 5 4 4 3 5 3 4 1 5 3 4 3 5 3 4 2 5 4 4 3 5 3 4 5 5 4 4 3 5 3 4 4 5 2 4 4 5 4 4 4 5 2 4 3 5 2 4 4 5 5 4 4 5 2 4 4 5 4 4 2 5 4 4 1 5 4 4 6 5 2 4-3 5 3 4 5 5 3 4 1 5 2 4 1 5 2 4 2 5 2 4 0 5 4 4 5M1145 206l5 5 4 2 5 5 4 3 5 7 4 4 5 4 4 3 5 6 4 4 5 3 4 4 5 7 4 4 5 3 4 2 5 4 4 5 5 2 4 4 5 5 4 6 5 5 4 3 5 3 4 1 5 3 4 3 5 3 4 4 5 4 4 5 5 4 4 4 5 5 4 4 5 6 4 5 5 2 4 1 5 2 4 5 5 4 4 2 5 6 4 5 5 5 4 5 5 3 4 2 5 3 4 3 5 4 4 2 5 4 4 4 5 2 4 3 5 5 4 4 5 0 4 1 5 3 4 5 5 4 4 4 5 4 4 2 5 1 4 3 5 2 4 5 5 1M1080 176l4 3 5 3 4 4 5 3 4 3 5 2 4 3 5 4 4 6 5 4 4 5 5 3 4 4 5 3 4 2 5 3 4 5 5 6 4 3 5 6 4 4 5 3 4 4 5 3 4 4 5 3 4 3 5 4 4 5 5 2 4 4 5 5 4 5 5 4 4 5 5 4 4 4 5 3 4 5 5 4 4 4 5 3 4 3 5 3 4 3 5 3 4 0 5 4 4 3 5 2 4 2 5 5 4 4 5 3 4 4 5 3 4 2 5 3 4 3 5 4 4 4 5 2 4 3 5 3 4 1 5 3 4 5 5 3 4 0 5 2 4 2 5 3 4 3 5 3 4 4 5 3 4 2 5 2 4 1 5 4M1118 289l4 2 5 4 4 3 5 3 4 4 5 4 4 2 5 6 4 5 5 5 4 4 5 6 4 4 5 3 4 4 5 4 4 4 5 1 4 5 5 2 4 4 5 1 4 4 5 4 4 2 5 4 4 3 5 3 4 3 5 2 4 4 5 4 4 3 5 2 4 2 5 2 4 2 5 4 4 4 5 3 4 3 5 4 4 3 5 3 4 5 5 4 4 2 5 1 4 4 5 5 4 2 5 3 4 1 5 5 4 3 5 3 4 3 5 3 4 2 5 5 4 0 5 3 4 2 5 2 4 4 5 4 4 2 5 3 4 2 5 3 4 1 5 2 4 3 5 1 4 1 5 2 4 1M1249 268l5 0 4 5 5 4 4 4 5 3 4 3 5 1 4 6 5 4 4 6 5 5 4 6 5 3 4 5 5 3 4 2 5 2 4 4 5 5 4 6 5 1 4 4 5 3 4 5 5 4 4 4 5 3 4 5 5 4 4 4 5 3 4 2 5 5 4 3 5 4 4 3 5 3 4 7 5 4 4 2 5 0 4 1 5 3 4 4 5 5 4 5 5 3 4 2 5 2 4 3 5 5 4 1 5 0 4 2 5 4 4 2 5 3 4 4 5 2 4 3 5 1M1380 431l5 2 4 1 5 4 4 4 5 3 4 4 5 3 4 1 5 4 4 2 5 3 4 3 5 1 4 4 5 1 4 2 5 2 4 3 5 2 4 2 5 2 4 2 5 0 4 0 5 5 4 5 5 1 4 1 5 2 4 2 5 3 4 3 5 2 4 1 5 2 4 3 5 2M1086 150l4 3 5 3 4 1 5 6 4 5 5 2 4 3 5 5 4 3 5 4 4 6 5 5 4 5 5 3 4 3 5 2 4 3 5 3 4 6 5 6 4 3 5 3 4 5 5 3 4 4 5 6 4 3 5 4 4 3 5 5 4 3 5 4 4 6 5 5 4 3 5 5 4 3 5 3 4 4 5 3 4 3 5 6 4 4 5 4 4 3 5 5 4 4 5 4 4 4 5 4 4 4 5 3 4 3 5 2 4 4 5 4 4 4 5 3 4 2 5 4 4 2 5 2 4 3 5 3 4 3 5 4 4 2 5 4 4 5 5 5 4 1 5 3 4 2 5 4 4 2 5 5 4 5 5 1M1135 262l4 5 5 2 4 2 5 4 4 6 5 5 4 3 5 3 4 4 5 4 4 3 5 3 4 3 5 4 4 5 5 5 4 3 5 6 4 5 5 3 4 5 5 3 4 2 5 3 4 3 5 5 4 4 5 4 4 4 5 8 4 4 5 0 4 2 5 2 4 3 5 5 4 2 5 3 4 4 5 4 4 3 5 3 4 3 5 4 4 3 5 4 4 4 5 3 4 2 5 3 4 4 5 2 4 4 5 5 4 3 5 3 4 5 5 2 4 2 5 2 4 1 5 1 4 1 5 2 4 1 5 3 4 4 5 3 4 3 5 1 4 3 5 2M1214 369l5 5 4 5 5 1 4 1 5 4 4 5 5 0 4 2 5 2 4 4 5 3 4 2 5 3 4 4 5 2 4 4 5 4 4 3 5 2 4-2 5 4 4 4 5 4 4 3 5 4 4 4 5 1 4 1 5 4 4 4 5 5 4 6 5 2 4 1 5 2 4 1 5 4 4 3 5 2 4 1 5 3 4 4 5 2 4 1 5 2 4 0 5 0 4 3 5 1 4 1 5 2 4 2 5-1 4 1 5 3 4 3 5 1 4 2 5 0 4 1M1299 419l4 1 5 2 4 2 5 3 4 5 5 3 4 1 5 4 4 4 5 4 4 3 5 3 4 5 5 4 4 3 5 3 4 4 5 4 4 3 5 2 4 4 5 3 4 1 5 1 4 1 5 2 4 4 5 2 4 4 5 3 4 0 5 3 4-1 5 0 4 3 5 1 4 2 5 0 4 1 5 0 4 1 5 2 4 1 5 2 4 1 5 1 4 0 5-1 4 0 5 2M1094 146l5 1 4 4 5 7 4 7 5 0 4 3 5 5 4 1 5 5 4 3 5 4 4 3 5 6 4 5 5 4 4 3 5 5 4 6 5 2 4 4 5 6 4 5 5 7 4 3 5 3 4 5 5 3 4 6 5 6 4 3 5 5 4 6 5 5 4 4 5 4 4 2 5 4 4 5 5 2 4 3 5 4 4 5 5 7 4 3 5 3 4 4 5 6 4 3 5 6 4 3 5 4 4 4 5 2 4 4 5 6 4 4 5 4 4 6 5 6 4 4 5 3 4 4 5 4 4 4 5 4 4 4 5 4 4 3 5 3 4 3 5 4 4 3 5 4 4 3 5 2 4 2 5 1 4 6 5 3 4 5 5 5M1324 329l4 4 5 6 4 3 5 3 4 3 5 3 4 3 5 3 4 2 5 3 4 6 5 5 4 3 5 4 4 2 5 2 4 1 5 4 4 3 5 5 4 3 5 3 4 3 5 1 4 4 5 4 4 1 5 4 4 3 5 4 4 3 5 1 4 2 5 2 4 2 5 3 4 5 5 4 4 4 5 2 4 2 5 4 4 4 5 3 4 1M1303 310l5 3 4 4 5 5 4 4 5 4 4 5 5 4 4 2 5 5 4 3 5 5 4 5 5 4 4 3 5 2 4 3 5 5 4 3 5 1 4 4 5 6 4 1 5 3 4 3 5 5 4 4 5 5 4 2 5 2 4 2 5 3 4 2 5 2 4 4 5 5 4 3 5 3 4 2 5 4 4 3 5 1 4 2 5 3 4 2 5 1 4 4 5 3 4 6 5 4 4 3M1415 484l4 4 5 0 4 3 5 2 4 2 5 2 4 1 5 2 4 1 5 1 4-1 5 0 4 4 5 2 4 3 5 1 4 1 5 1 4 1 5 1 4 0 5 0 4 1 5 0 4 0 5-1 4 0 5 0 4 1 5 3 4-2 5 0 4 1 5 1 4 0 5 1M1203 233l4 4 5 2 4 5 5 3 4 7 5 6 4 6 5 5 4 3 5 6 4 6 5 4 4 2 5 1 4 4 5 4 4 2 5 5 4 2 5 3 4 5 5 5 4 5 5 5 4 6 5 3 4 3 5 5 4 4 5 3 4 2 5 3 4 4 5 2 4 4 5 4 4 4 5 2 4 4 5 2 4 3 5 2 4 3 5 3 4 4 5 5 4 1 5 4 4 2 5 5 4 1 5 4 4 2 5 2 4 4 5 3 4 4 5 1 4 0 5 3 4 7 5 2 4 3M1014 116l4 1 5 2 4 4 5 5 4 4 5 4 4 2 5 5 4 5 5 2 4 3 5 6 4 2 5 4 4 3 5 3 4 3 5 2 4 3 5 2 4 1 5 4 4 2 5 5 4 5 5 5 4 4 5 5 4 3 5 4 4 5 5 3 4 4 5 3 4 4 5 6 4 6 5 4 4 4 5 4 4 5 5 2 4 4 5 4 4 5 5 3 4 7 5 4 4 5 5 3 4 5 5 2 4 5 5 5 4 2 5 2 4 2 5 7 4 4 5 4 4 3 5 3 4 2 5 3 4 6 5 5 4 2 5 1 4 5 5 5 4 1 5 3 4 4 5 5 4 3 5 3 4 4 5 4 4 3 5 1 4 4 5 4 4 4 5 5 4 3 5 2 4 4 5 5 4 2 5 1 4 1 5 4 4 4 5 2 4 2 5 2 4 0 5 2" stroke="#A2142F"/><path d="M1063 151l5 4 4 6 5 3 4 2 5 4 4 4 5 3 4 6 5 5 4 2 5 4 4 4 5 7 4 4 5 3 4 5 5 5 4 1 5 3 4 3 5 6 4 8 5 5 4 3 5 2 4 3 5 6 4 5 5 5 4 3 5 3 4 3 5 6 4 4 5 1 4 3 5 5 4 5 5 5 4 4 5 5 4 5 5 2 4 5 5 3 4 4 5 5 4 1 5 4 4 3 5 1 4 5 5 6 4 4 5 3 4 4 5 3 4 2 5 4 4 3 5 2 4 5 5 3 4 6 5 5 4 4 5 3 4 5 5 2 4 6 5 5 4 1 5 2 4 6 5 4 4 4 5 4 4 4 5 2 4 2 5 3 4 2 5 3 4 3 5 4M996 120l5 6 4 5 5 4 4 5 5 3 4 5 5 4 4 3 5 3 4 5 5 4 4 6 5 3 4 3 5 5 4 3 5 2 4 4 5 4 4 3 5 3 4 4 5 4 4 4 5 3 4 2 5 2 4 3 5 4 4 3 5 4 4 5 5 2 4 4 5 6 4 4 5 6 4 3 5 2 4 3 5 3 4 5 5 5 4 4 5 3 4 6 5 5 4 3 5 1 4 5 5 5 4 4 5 3 4 2 5 4 4 3 5 1 4 5 5 5 4 3 5 3 4 4 5 3 4 3 5 4 4 4 5 3 4 6 5 4 4 5 5 4 4 1 5 3 4 4 5 5 4 1 5 3 4 4 5 4 4 3 5 5 4 2 5 5 4 2 5 2 4 3 5 2 4 2 5 2 4 4 5 2 4 3 5 2 4 3 5 4 4 3 5 1M1202 340l4 4 5 4 4 1 5 2 4 3 5 3 4 5 5 3 4 4 5 4 4 6 5 1 4 1 5 2 4 2 5 3 4 4 5 2 4 1 5 2 4 4 5 2 4 4 5 2 4 5 5 4 4 2 5 3 4 4 5 2 4 3 5 2 4 2 5 4 4 0 5 3 4 5 5 5 4 3 5 4 4 4 5 3 4 3 5 2 4 3 5 2 4 1 5 2 4 3 5 2 4 3 5 2 4 0 5 3 4 3 5 3 4 0 5 2 4 1 5 2 4 0 5 2 4 0 5 1 4 1 5 2M1112 250l5 1 4 6 5 3 4 3 5 5 4 6 5 2 4 2 5 4 4 4 5 6 4 3 5 1 4 3 5 4 4 5 5 3 4 3 5 4 4 3 5 4 4 3 5 3 4 3 5 6 4 5 5 3 4 3 5 4 4 1 5 2 4 4 5 2 4 1 5 1 4 5 5 5 4 2 5 2 4 3 5 2 4 3 5 6 4 2 5 3 4 2 5 3 4 3 5 3 4 0 5 4 4 4 5 3 4 5 5 6 4 4 5 3 4 3 5 5 4 4 5 2 4 2 5 1 4 3 5 4 4 2 5 2 4 4 5 0 4 2 5 3 4 1 5 0 4 1 5 3M1375 387l4 5 5 2 4 4 5 4 4 2 5 5 4 4 5 3 4 2 5 3 4 3 5 3 4 3 5 3 4 4 5 5 4 3 5 2 4 6 5 4 4 3 5 7 4 3 5 2 4 0 5 3 4 3 5 3 4 2 5 2 4 3 5 5 4 2 5 2 4 2 5 2 4 3 5 0 4 2 5 0 4 2 5 3M1392 453l4 3 5 3 4 3 5 2 4 4 5 3 4 3 5 4 4 0 5 1 4 1 5 2 4 2 5 2 4 3 5 4 4 3 5 2 4 4 5 1 4-2 5 2 4 3 5 1 4-1 5 1 4 2 5-1 4 3 5 4 4 0 5 2 4 1 5 0 4 1 5 4 4 2M1226 290l5 5 4 3 5 5 4 4 5 5 4 0 5 4 4 3 5 1 4 5 5 3 4 1 5 3 4 4 5 5 4 2 5 3 4 4 5 4 4 1 5 0 4 6 5 4 4 6 5 6 4 4 5 2 4 3 5 4 4 5 5 3 4 3 5 2 4 5 5 7 4 3 5 2 4 3 5 3 4 2 5 3 4 3 5 5 4 6 5 3 4 3 5 0 4 2 5 5 4 0 5 3 4 3 5 3 4 1 5 3 4 6 5 4 4-1 5 3 4 6M1236 279l5 6 4 4 5 3 4 2 5 3 4 4 5 4 4 5 5 4 4 4 5 3 4 4 5 3 4 4 5 4 4 5 5 5 4 5 5 5 4 2 5 2 4 6 5 6 4 1 5 3 4 3 5 4 4 6 5 5 4 2 5 3 4 6 5 2 4 3 5 4 4 1 5 3 4 5 5 3 4 4 5 4 4 4 5 3 4 4 5 2 4 3 5 4 4 3 5 0 4 3 5 5 4 4 5 4 4 2 5 3 4 4 5 0 4 3 5 2 4 2 5 4 4 3 5 2 4 3 5 4M1231 325l5 3 4 5 5 4 4 3 5 3 4 2 5 1 4 2 5 4 4 4 5 2 4 2 5 7 4 5 5 2 4 2 5 2 4 0 5 4 4 4 5 2 4 2 5 6 4 5 5 3 4 3 5 4 4 3 5 2 4 3 5 4 4 3 5 4 4 4 5 5 4 4 5-1 4 3 5 5 4 3 5 2 4 2 5 3 4 4 5 0 4 2 5 3 4 3 5 2 4 1 5 2 4 3 5 2 4 2 5 2 4 2 5 4 4 2M1258 351l4 2 5 5 4 3 5 3 4 2 5 5 4 4 5 3 4 2 5 4 4 3 5 5 4 3 5 3 4 2 5 1 4 4 5 4 4 3 5 5 4 3 5 4 4 2 5 2 4 2 5 6 4 4 5 3 4 1 5 4 4 4 5-1 4 3 5 4 4 4 5 2 4 1 5 0 4 0 5 1 4 0 5 4 4 4 5 3 4 2 5 1 4 2 5 0 4 1 5 4 4 3 5 1 4 3 5 0 4 1 5 1 4 2 5 3 4 3M1233 290l4 5 5 5 4 5 5 2 4 1 5 3 4 1 5 5 4 4 5 3 4 5 5 4 4 5 5 3 4 4 5 2 4 5 5 1 4 4 5 4 4 5 5 2 4 5 5 4 4 2 5 2 4 6 5 3 4 5 5 4 4 4 5 1 4 3 5 3 4 5 5 4 4 1 5 2 4 4 5 2 4 2 5 3 4 2 5 1 4 3 5 4 4 4 5 4 4 1 5 4 4 4 5 4 4 4 5 1 4 1 5 0 4 3 5 3 4 1 5 4 4 4 5 4M1408 397l4 3 5 4 4 5 5 5 4 3 5 5 4 3 5 3 4 1 5 3 4 3 5 2 4 3 5 3 4 3 5 2 4 2 5 2 4 4 5 5 4 5 5 3 4 2 5 2 4 2 5 4 4 4 5 3 4 1 5 2 4 0 5 1 4 2 5 4 4 3 5 2 4 3M1115 247l5 3 4 1 5 3 4 1 5 2 4 5 5 2 4 1 5 5 4 6 5 6 4 3 5 2 4 2 5 3 4 3 5 5 4 4 5 3 4 4 5 7 4 4 5 3 4 3 5 3 4 4 5 3 4 3 5 3 4 2 5 2 4 5 5 4 4 1 5 2 4 3 5 2 4 3 5 1 4 2 5 5 4 3 5 2 4 4 5 3 4 1 5 1 4 4 5 2 4 3 5 3 4 1 5 4 4 4 5 3 4 3 5 5 4 2 5 2 4 1 5 1 4 1 5 3 4 3 5 3 4 3 5 4 4 5 5 1 4 2 5 3 4 2 5 1M1292 393l5 3 4 4 5 2 4 4 5 6 4 3 5 2 4 3 5 4 4 6 5 5 4 2 5 3 4 3 5 3 4 1 5 3 4 3 5 2 4 2 5 3 4 1 5 1 4 2 5 3 4 3 5 2 4 3 5 3 4-1 5 3 4 4 5 1 4 2 5 1 4 1 5-1 4-1 5 3 4 3 5 4 4 0 5 1 4 3 5 2 4 0 5 0 4 0 5 1 4 1 5 4M1102 139l5 3 4 6 5 4 4 1 5 5 4 6 5 6 4 5 5 2 4 0 5 5 4 5 5 3 4 4 5 5 4 6 5 2 4 6 5 4 4 4 5 3 4 4 5 5 4 2 5 4 4 5 5 5 4 3 5 8 4 5 5 4 4 5 5 6 4 2 5 6 4 2 5 5 4 3 5 4 4 2 5 2 4 3 5 5 4 6 5 6 4 3 5 5 4 4 5 4 4 5 5 2 4 1 5 7 4 3 5 7 4 2 5 1 4 3 5 3 4 2 5 3 4 3 5 3 4 5 5 3 4 1 5 3 4 5 5 2 4 3 5 4 4 2 5 2 4 0 5 2 4 4M1142 248l4 7 5 2 4 5 5 6 4 6 5 4 4 3 5 5 4 6 5 5 4 4 5 5 4 1 5 6 4 2 5 4 4 4 5 3 4 6 5 4 4 2 5 6 4 4 5 2 4 4 5 1 4 2 5 3 4 2 5 1 4 2 5 2 4 3 5 3 4 1 5 4 4 5 5 4 4 4 5 6 4 3 5 4 4 4 5 3 4 4 5 2 4 1 5 3 4 3 5 6 4 3 5 0 4 3 5 3 4 2 5 1 4 2 5 4 4 3 5 3 4 3 5 2 4 3 5 2 4 2 5 0 4 1 5 2 4 2 5 4M1117 197l5 3 4 5 5 3 4 4 5 6 4 5 5 2 4 4 5 5 4 3 5 4 4 4 5 4 4 5 5 2 4 4 5 5 4 3 5 3 4 4 5 1 4 3 5 6 4 3 5 2 4 4 5 4 4 4 5 3 4 4 5 2 4 4 5 2 4 3 5 0 4 4 5 2 4 3 5 4 4 4 5 2 4 5 5 5 4 4 5 5 4 6 5 4 4 3 5 2 4 4 5 6 4 3 5 2 4 5 5 4 4 1 5 5 4 3 5 3 4 5 5 4 4 4 5 3 4 4 5 5 4 2 5 4 4 4 5 4 4 3 5 3 4 1 5 3 4 3M1377 372l4 4 5 4 4 3 5 1 4 2 5 3 4 4 5 4 4 4 5 3 4 4 5 4 4 0 5 5 4 3 5 4 4 4 5 4 4 3 5 3 4 2 5 3 4 2 5 3 4 5 5 4 4 2 5 1 4 3 5 3 4 3 5 4 4 2 5 3 4 2 5 1 4 2 5 2M1204 290l5 6 4 4 5 4 4 7 5 4 4 2 5 5 4 5 5 0 4 3 5 4 4 4 5 3 4 2 5 5 4 4 5 4 4 3 5 3 4 2 5 4 4 3 5 4 4 4 5 1 4 6 5 4 4 4 5 3 4 5 5 5 4 3 5 2 4 3 5 3 4 2 5 1 4 2 5 3 4 3 5 1 4 5 5 1 4 3 5 5 4 1 5 3 4 4 5 2 4 3 5 2 4 0 5 3 4 6 5 4 4 1 5 0 4 3 5 3 4 2 5 3 4 2 5 3 4 3 5 1 4 3 5 2M1193 334l5 1 4-1 5 6 4 7 5 5 4 0 5 4 4 5 5 5 4 5 5 3 4 2 5 1 4 2 5 4 4 3 5 2 4 3 5 1 4 4 5 5 4 1 5 3 4 4 5 6 4 3 5 2 4 2 5 3 4 4 5 3 4 2 5 2 4 5 5 4 4 5 5 3 4 3 5 3 4 2 5 2 4 5 5 4 4 2 5 5 4 3 5 2 4 2 5 2 4 1 5 4 4-1 5 1 4 3 5 2 4 1 5 0 4 2 5 3 4 0 5 2 4 2 5 2 4 0 5 1M1278 381l4 5 5 4 4 2 5 2 4 4 5 5 4 4 5 3 4 2 5 5 4 4 5 4 4 3 5 3 4 5 5 3 4 2 5 2 4 4 5 1 4 4 5 4 4 2 5 2 4 3 5 3 4 1 5-1 4 3 5 2 4 3 5 1 4 4 5 2 4 2 5 2 4 3 5 1 4-1 5 3 4 4 5 3 4 1 5 0 4 0 5 2 4 3 5 1 4 1 5-1 4 1 5 0 4 2M1151 278l5 5 4 5 5 4 4 4 5 5 4 4 5 3 4 2 5 3 4 3 5 5 4 4 5 2 4 1 5 2 4 6 5 4 4 4 5 2 4 4 5 4 4 5 5 3 4 3 5 4 4 3 5 2 4 4 5 5 4 2 5 2 4 4 5 2 4 3 5 3 4 2 5 0 4 0 5 2 4 3 5 4 4 4 5 4 4 3 5 2 4 2 5 2 4 4 5 4 4 3 5 4 4 2 5 2 4 3 5 2 4 3 5 0 4 4 5 3 4 3 5 2 4 1 5 1 4 0 5 2 4 1 5 1 4 1 5 2M1203 288l5 3 4 4 5 3 4 5 5 6 4 2 5 5 4 3 5 3 4 4 5 1 4 3 5 2 4 4 5 5 4 5 5 1 4 2 5 4 4 4 5 5 4 4 5 4 4 2 5 2 4 5 5 2 4 5 5 4 4 3 5 6 4 5 5 1 4 4 5 3 4 2 5 4 4 3 5 5 4 3 5 2 4 3 5 3 4 4 5 2 4 4 5 0 4 2 5 4 4 5 5 3 4-1 5 1 4 0 5 2 4 2 5 3 4 5 5 1 4 2 5 1 4 2 5 2M1123 281l5 3 4 4 5 3 4 4 5 5 4 5 5 7 4 2 5 6 4 8 5 5 4 4 5 3 4 1 5 3 4 3 5 3 4 4 5 5 4 3 5 6 4 4 5 5 4 4 5 2 4 4 5 3 4 3 5 4 4 5 5 1 4 4 5 1 4 3 5 3 4 3 5 3 4 3 5 4 4 2 5 3 4 5 5 3 4 4 5 6 4 3 5 2 4 4 5 5 4 2 5 3 4 2 5 4 4 5 5 4 4 3 5 3 4 4 5 1 4 2 5 5 4 3 5 2 4 0 5 5 4 2 5 2 4 3 5 1 4 2 5 3 4 3 5 2M1481 511l5 1 4 1 5 0 4 2 5 4 4 1 5 1 4 0 5 2 4 1 5 0 4 1 5 2 4 1 5 1 4 1 5 0 4 3 5 1 4 1 5 0 4 0 5 0 4 1 5-1M995 145l5 7 4 8 5 5 4 2 5 5 4 5 5 6 4 3 5 6 4 3 5 5 4 5 5 5 4 5 5 5 4 3 5 2 4 3 5 9 4 5 5 4 4 2 5 5 4 4 5 3 4 2 5 5 4 5 5 5 4 2 5 1 4 4 5 3 4 4 5 4 4 5 5 6 4 5 5 5 4 5 5 3 4 3 5 4 4 5 5 3 4 5 5 5 4 4 5 5 4 2 5 3 4 4 5 3 4 3 5 3 4 4 5 4 4 2 5 3 4 2 5 5 4 4 5 3 4 1 5 3 4 5 5 4 4 1 5 2 4 2 5 0 4 3 5 3 4 2 5 1 4 4 5 3 4 1 5 2 4 3 5 2 4 3 5 3 4 3 5 4 4 5 5 4 4 5 5 1 4 3 5 3 4 3 5 4 4 1 5 2 4 2 5 1 4 3 5 3M978 68l4 3 5 3 4 5 5 5 4 3 5 2 4 3 5 2 4 0 5 0 4 4 5 3 4 3 5 3 4 2 5 3 4 1 5 4 4 5 5 3 4 4 5 2 4 4 5 3 4 3 5 2 4 5 5 5 4 3 5 3 4 3 5 5 4 4 5 3 4 5 5 3 4 6 5 3 4 4 5 5 4 3 5 6 4 3 5 5 4 0 5 2 4 4 5 7 4 4 5 4 4 6 5 5 4 4 5 4 4 6 5 4 4 4 5 6 4 5 5 1 4 2 5 5 4 4 5 3 4 3 5 2 4 4 5 2 4 4 5 1 4 4 5 5 4 3 5 1 4 5 5 4 4 3 5 3 4 4 5 3 4 6 5 4 4 1 5 2 4 4 5 4 4 6 5 4 4 2 5 2 4 4 5 4 4 4 5 3 4 2 5 6 4 3 5 2 4 1M994 79l5 2 4 2 5 2 4 2 5 1 4 2 5 1 4 4 5 4 4 3 5 4 4 4 5 3 4 0 5 3 4 4 5 4 4 3 5 3 4 2 5 3 4 4 5 6 4 6 5 5 4 3 5 3 4 4 5 5 4 4 5 4 4 3 5 5 4 1 5 2 4 8 5 2 4 6 5 8 4 6 5 5 4 3 5 4 4 5 5 4 4 4 5 4 4 3 5 3 4 6 5 6 4 6 5 4 4 5 5 5 4 5 5 4 4 5 5 4 4 5 5 2 4 3 5 4 4 5 5 3 4 3 5 4 4 4 5 4 4 5 5 3 4 5 5 3 4 4 5 4 4 2 5 2 4 3 5 7 4 7 5 4 4 2 5 2 4 2 5 3 4 5 5 7 4 4 5 2 4 3 5 3 4 1 5 2 4 4 5 4 4 5 5 4 4 3 5 3 4 6 5 2 4 1 5 3 4 2 5 4" stroke="#D95319"/><path d="M1431 489l4 2 5 2 4 0 5 3 4 2 5 4 4 1 5 1 4 1 5 0 4 0 5 3 4 0 5 1 4 2 5 2 4 3 5 2 4 2 5 1 4 4 5 1 4 1 5 2 4 0 5 0 4-1 5 0 4 0 5 2 4 4 5 0 4-1 5 1 4 1M1380 442l4 2 5 3 4 3 5 1 4 2 5 3 4 4 5 2 4 5 5 0 4 1 5 1 4 4 5 2 4 2 5 0 4 3 5 3 4 5 5 1 4 0 5 3 4 1 5 3 4 1 5 3 4 1 5 1 4 2 5 1 4 1 5 2 4 3 5 1 4 1 5 0 4 2M1251 392l4 2 5 5 4 4 5 2 4 1 5 6 4 5 5 3 4 1 5 2 4-2 5 2 4 3 5 4 4 4 5 3 4 0 5 1 4 3 5 3 4 2 5 3 4 3 5 4 4 2 5 2 4 4 5 2 4 2 5 1 4 3 5 2 4 4 5 2 4 2 5 5 4 2 5 3 4 2 5 3 4 1 5 0 4 1 5 4 4 0 5 2 4 2 5 1 4 1 5 2 4 0 5-1 4 3 5 1 4 2 5 1 4 4 5 1 4 0 5 1M1389 458l4 1 5 5 4 3 5 1 4 3 5 1 4 3 5 4 4 1 5 1 4-2 5 2 4 1 5 2 4 1 5 3 4 4 5 0 4 1 5 0 4 4 5 3 4 0 5 0 4 2 5-1 4 1 5 3 4 2 5 3 4 2 5 0 4 1 5 0 4 0 5 4 4 3 5 1 4 0 5 0M1130 264l5 4 4 3 5 3 4 3 5 3 4 3 5 5 4 5 5 5 4 4 5 5 4 5 5 5 4 4 5 2 4 2 5 3 4 4 5 5 4 2 5 2 4 2 5 3 4 5 5 4 4 4 5 1 4 0 5 3 4 2 5 3 4 4 5 3 4 3 5 2 4 3 5 3 4 5 5 5 4 1 5 2 4 3 5 2 4 3 5 4 4 4 5 3 4 2 5 3 4 3 5 5 4 6 5 2 4 4 5 5 4 3 5 2 4 5 5 2 4 0 5 1 4 4 5 3 4 3 5 1 4 3 5 3 4 2 5 1 4 3 5 2 4 0 5 3 4 1 5-1 4 5M1226 285l4 3 5 4 4 3 5 3 4 5 5 3 4 3 5 3 4 5 5 4 4 5 5 2 4 3 5 2 4 2 5 2 4 4 5 5 4 4 5 4 4 3 5 3 4 4 5 3 4 5 5 4 4 5 5 3 4 4 5 2 4 5 5 2 4 3 5 3 4 3 5 4 4 5 5 3 4 2 5 3 4 3 5 6 4 2 5 2 4 3 5 4 4 3 5 0 4 2 5 1 4 4 5 2 4 3 5 2 4 4 5 4 4 3 5 3 4 3M1350 399l4 2 5 4 4 4 5 3 4 4 5 3 4 4 5 3 4 2 5 2 4 4 5 2 4 2 5 4 4 4 5 2 4 5 5 3 4 1 5 4 4 2 5 1 4 4 5 4 4 5 5 3 4 2 5 3 4 3 5 2 4 0 5 3 4 4 5 4 4 2 5 1 4 1 5 1 4 0 5 0 4 2M1232 304l5 3 4 3 5 4 4 2 5 5 4 3 5 3 4 5 5 4 4 1 5 1 4 5 5 2 4 5 5 3 4 6 5 3 4 3 5 6 4 4 5 1 4 5 5 4 4 5 5 2 4 6 5 5 4 0 5 4 4 5 5 4 4 2 5 5 4 3 5 2 4 2 5 4 4 4 5 1 4 3 5 5 4 4 5 4 4 4 5 1 4 1 5 5 4 6 5 3 4-1 5 1 4 1 5 3 4 3 5 3 4 1 5 1 4 3 5 3 4 3M1204 221l5 5 4 3 5 5 4 6 5 2 4 3 5 5 4 2 5 4 4 3 5 4 4 4 5 6 4 3 5 2 4 1 5 4 4 4 5 5 4 7 5 4 4 4 5 3 4 4 5 6 4 3 5 2 4 4 5 4 4 3 5 3 4 5 5 3 4 3 5 4 4 3 5 1 4 3 5 5 4 2 5 6 4 7 5 3 4 3 5 2 4 3 5 2 4 6 5 5 4 3 5 2 4 4 5 4 4 1 5 2 4 6 5 2 4 0 5 5 4 4 5 3 4 4 5 3M1130 166l5 6 4 3 5 3 4 4 5 5 4 3 5 4 4 7 5 6 4 4 5 4 4 6 5 6 4 5 5 4 4 5 5 4 4 5 5 6 4 3 5 3 4 6 5 6 4 6 5 4 4 4 5 4 4 4 5 4 4 3 5 3 4 6 5 2 4 4 5 1 4 2 5 5 4 4 5 4 4 1 5 4 4 4 5 2 4 2 5 4 4 4 5 2 4 4 5 4 4 2 5 5 4 3 5 4 4 3 5 3 4 3 5 5 4 6 5 3 4 3 5 4 4 5 5 4 4 4 5 4 4 4 5 4 4 3 5 2 4 2 5 4 4 4 5 3 4 3M1092 206l4 4 5 2 4 4 5 7 4 2 5 5 4 5 5 5 4 3 5 3 4 3 5 5 4 3 5 4 4 2 5 7 4 6 5 6 4 3 5 2 4 3 5 5 4 2 5 3 4 3 5 5 4 6 5 3 4 5 5 5 4 2 5 2 4 5 5 6 4 4 5 5 4 2 5 2 4 2 5 2 4 4 5 3 4 2 5 3 4 3 5 2 4 0 5 2 4 4 5 5 4 1 5 0 4 3 5 5 4 3 5 3 4 1 5 7 4 3 5 3 4 3 5 2 4 4 5 7 4 3 5 4 4 2 5 4 4 1 5 0 4 1 5 3 4 4 5 1 4 1 5 0 4 3 5 4 4 3M1206 322l5 4 4 5 5 3 4 3 5 3 4 4 5 2 4 4 5 3 4 1 5 2 4 5 5 6 4 3 5 2 4 6 5 4 4 1 5 3 4 6 5 5 4 1 5 2 4 4 5 2 4 2 5 2 4 3 5 1 4 7 5 3 4 3 5 2 4 3 5 4 4 3 5 3 4 3 5 4 4 5 5 5 4 2 5 5 4 0 5 2 4 4 5 1 4 4 5 2 4 2 5 1 4 2 5 4 4 5 5 2 4-1 5 1 4 3 5 3 4 3 5 2 4 1 5 0 4 1M1454 434l5 1 4 4 5 4 4 3 5 2 4 2 5 3 4 1 5 3 4 5 5 3 4 5 5 5 4 6 5 1 4 3 5 3 4 1 5 0 4 2 5 2 4 2 5 2 4 3 5 2 4 2 5 2 4 2 5 3 4 2 5 1 4 4 5 0 4 3 5 0 4 4M1270 361l4 3 5 2 4 2 5 5 4 2 5 3 4 2 5 3 4 2 5 4 4 5 5 3 4 3 5 5 4 2 5 2 4 3 5 5 4 5 5 6 4 2 5 2 4 4 5 3 4 3 5 1 4 5 5 4 4 6 5 3 4 3 5 2 4 3 5 1 4 3 5 2 4 1 5 1 4 0 5 1 4 1 5 1 4 3 5 3 4 3 5 2 4 3 5 3 4 1 5 2 4 1 5 2 4 1 5 0 4 1 5 2M1440 420l4 3 5 3 4 3 5 1 4 3 5 4 4 4 5 4 4 1 5 1 4 2 5 4 4 4 5 2 4 2 5 3 4 3 5 6 4 3 5 2 4 3 5 3 4 2 5 2 4 3 5 3 4 2 5 2 4 1 5 3 4 2 5 2 4 3 5 1M1191 265l5 3 4 5 5 1 4 5 5 4 4 4 5 4 4 5 5 5 4 5 5 5 4 4 5 1 4 1 5 4 4 3 5 6 4 4 5 1 4 2 5 2 4 4 5 3 4 4 5 5 4 4 5 4 4 5 5 4 4 1 5 5 4 4 5 4 4 3 5 6 4 3 5 4 4 4 5 3 4 1 5 4 4 5 5 5 4 3 5 2 4 1 5 2 4 1 5 3 4 2 5 3 4 1 5 3 4 2 5 2 4 5 5 5 4 0 5 2 4 1 5 3 4 3 5 3 4 2 5 2M1340 360l5 3 4 5 5 6 4 4 5 3 4 1 5 2 4 4 5 2 4 2 5 4 4 4 5 5 4 4 5 2 4 3 5 5 4 2 5 3 4 4 5 2 4 2 5 1 4 2 5 3 4 2 5 4 4 0 5 3 4 4 5 3 4 3 5 0 4 2 5 4 4 2 5 1 4 1 5 5 4 4 5 2 4 2 5 1 4 2 5 3M1109 225l4 3 5 4 4 6 5 2 4 4 5 4 4 5 5 5 4 2 5 4 4 4 5 3 4 7 5 8 4 4 5 3 4 4 5 3 4 3 5 3 4 4 5 6 4 4 5 2 4 4 5 2 4 5 5 6 4 0 5 3 4 4 5 3 4 2 5 2 4 1 5 3 4 3 5 4 4 2 5 0 4 3 5 6 4 3 5 5 4 2 5 5 4 4 5 0 4 2 5 6 4 2 5 4 4 4 5 4 4 3 5 2 4 1 5 4 4 5 5 4 4 3 5 2 4 4 5 3 4 4 5 1 4 4 5 4 4 3 5 4 4 2 5 2 4 2 5 2 4 2 5 2 4 2 5 0 4 1 5 1 4 2M1258 380l5 4 4 2 5 2 4 4 5 4 4 3 5 4 4 3 5 2 4 1 5 4 4 2 5 2 4 1 5 3 4 4 5 4 4 2 5 2 4 4 5 4 4 4 5 4 4 3 5 5 4 4 5 4 4 3 5 2 4 2 5-1 4 5 5 3 4 3 5 3 4 1 5 1 4 1 5 0 4 2 5 2 4 0 5 4 4 4 5 0 4 2 5 1 4 3 5 2 4 0 5 3 4 1 5 1 4 2 5-2 4 3M1448 444l5 3 4 1 5 3 4 3 5 5 4 3 5 4 4 2 5 2 4 2 5 1 4 3 5 0 4 1 5 2 4 1 5 3 4 4 5 2 4 4 5 5 4 3 5 2 4 0 5 3 4 2 5 2 4 1 5 1 4 3 5 1 4 0 5 2" stroke="#EDB120"/><path d="M1148 208l5 5 4 5 5 5 4 5 5 5 4 4 5 5 4 4 5 5 4 5 5 5 4 4 5 1 4 6 5 5 4 3 5 4 4 5 5 5 4 4 5 6 4 3 5 3 4 5 5 5 4 4 5 2 4 2 5 4 4 4 5 4 4 2 5 2 4 4 5 6 4 3 5 4 4 6 5 4 4 1 5 5 4 3 5 2 4 5 5 5 4 2 5 2 4 5 5 4 4 2 5 5 4 3 5 4 4 4 5 4 4 2 5 4 4 3 5 3 4 4 5 2 4 6 5 5 4 1 5 0 4 3 5 5 4 4 5 4 4 3 5 0 4 3 5 2M1266 343l5 4 4 3 5 5 4 3 5 3 4 4 5 4 4 4 5 5 4 5 5 5 4 4 5 2 4 1 5 4 4 5 5 4 4 3 5 2 4 5 5 5 4 4 5 2 4 2 5 4 4 3 5 4 4 4 5 3 4 2 5 3 4 1 5 0 4 4 5 2 4 3 5 5 4 6 5 1 4 1 5 2 4 2 5 3 4 3 5 1 4 2 5 2 4 3 5 1 4 1 5 3 4 4 5 3 4 2 5 2M1389 432l5 5 4 2 5 2 4 2 5 2 4 2 5 5 4 4 5 2 4 0 5 2 4 1 5 2 4 5 5 3 4 2 5 1 4 2 5 3 4 5 5 1 4 0 5 1 4 2 5 1 4 3 5 3 4 2 5 0 4 3 5 5 4 1 5 0 4 3 5 1 4 3 5 0 4 1M1394 413l5 4 4 3 5 3 4 5 5 1 4 3 5 3 4 5 5 4 4 0 5 1 4 1 5 4 4 4 5 0 4 3 5 3 4 4 5 3 4 2 5-1 4 0 5 1 4 2 5 3 4 3 5 5 4 4 5 2 4 1 5 2 4 2 5 2 4 2 5 1 4 2 5 3 4 1M1394 419l5 4 4 0 5 4 4 3 5 6 4 4 5 2 4 2 5 3 4 1 5 2 4 4 5 2 4 3 5 3 4 3 5 2 4 2 5 1 4 2 5 1 4 3 5 4 4 3 5 3 4 1 5 2 4 1 5 3 4 3 5 1 4 2 5 2 4 1 5 1 4 2 5 3 4 2M1189 311l4 1 5 4 4 5 5 1 4 1 5 6 4 1 5 3 4 3 5 3 4 2 5 2 4 4 5 4 4 4 5 0 4 2 5 4 4 2 5 2 4 4 5 3 4 2 5 3 4 5 5 4 4 5 5 3 4 1 5 3 4 4 5 5 4 5 5 3 4 5 5 2 4 4 5 4 4 2 5 5 4 4 5 1 4 3 5 5 4 3 5 1 4 3 5 3 4 5 5 2 4 3 5 5 4 1 5 3 4 1 5 3 4 3 5 3 4 3 5 4 4 1 5 1 4 3 5 0 4 1 5 1 4 5 5 1 4 1 5 0M1344 361l4 5 5 2 4 7 5 2 4 4 5 3 4 3 5 5 4 3 5 1 4 4 5 4 4 4 5 4 4 3 5 3 4 3 5 3 4 4 5 4 4 1 5 2 4 3 5 2 4 3 5 2 4 5 5 3 4 4 5 0 4 2 5 2 4 3 5 4 4 3 5 2 4 2 5 2 4 4 5 4 4 2 5 4 4 2 5 0 4 3 5 3M1181 306l5 3 4 6 5 2 4 2 5 4 4 3 5 5 4 4 5 5 4 5 5 3 4 4 5 5 4 3 5 1 4 3 5 5 4 1 5 1 4 2 5 6 4 4 5 2 4 3 5 5 4 5 5 3 4 2 5 2 4 2 5 3 4 5 5 3 4 1 5 5 4 4 5 4 4 3 5 1 4 3 5 4 4 4 5 5 4 2 5 2 4 2 5 4 4 5 5 3 4 2 5 2 4 2 5 3 4 3 5 1 4 4 5 3 4 1 5 1 4 3 5 1 4 2M1305 342l4 4 5 3 4 3 5 5 4 6 5 3 4 4 5 4 4 5 5 3 4 2 5 1 4 2 5 4 4 4 5 3 4 6 5 2 4 4 5 2 4 1 5 4 4 5 5 1 4 4 5 3 4 4 5 4 4 3 5 3 4 3 5 3 4 3 5 3 4 4 5 3 4 5 5 4 4 1 5 1 4 2 5 3 4 2 5 4 4 4 5 3 4 0 5 0 4 3 5 2M1118 146l4 4 5 2 4 3 5 4 4 5 5 5 4 6 5 1 4 3 5 3 4 3 5 5 4 4 5 4 4 4 5 4 4 6 5 5 4 5 5 4 4 4 5 4 4 6 5 4 4 4 5 7 4 3 5 5 4 5 5 5 4 1 5 2 4 4 5 6 4 4 5 5 4 4 5 3 4 2 5 4 4 6 5 6 4 3 5 4 4 2 5 4 4 3 5 2 4 4 5 5 4 4 5 6 4 5 5 4 4 2 5 4 4 4 5 4 4 2 5 4 4 5 5 4 4 4 5 3 4 2 5 4 4 3 5 1 4 3 5 4 4 4 5 4 4 4 5 3 4 4 5 1 4 0 5 5M1441 493l5 3 4 0 5 2 4 3 5 3 4 1 5 2 4 2 5 3 4 0 5 1 4 1 5 2 4 1 5 0 4 2 5 0 4 0 5 1 4 1 5 2 4 1 5 2 4 1 5 0 4 1 5 1 4 2 5 0 4 1 5 0 4 3 5 2 4-1M1309 367l4 3 5 3 4 1 5 3 4 5 5 3 4 2 5 5 4 3 5 5 4 3 5 3 4 2 5 2 4 3 5 4 4 2 5 3 4 4 5 0 4 1 5 5 4 6 5 4 4 2 5 5 4 2 5 2 4 0 5 3 4 1 5 2 4 2 5 4 4 4 5 1 4 3 5 2 4 5 5 2 4-1 5 1 4 2 5 0 4 3 5 2 4 3 5 0M1159 253l4 3 5 5 4 5 5 5 4 2 5 1 4 4 5 6 4 3 5 3 4 4 5 2 4 4 5 2 4 5 5 4 4 3 5 3 4 2 5 3 4 3 5 4 4 2 5 5 4 6 5 3 4 2 5 3 4 3 5 4 4 4 5 4 4 2 5 3 4 5 5 4 4 3 5 1 4 4 5 1 4 4 5 6 4 3 5 5 4 3 5 0 4 1 5 3 4 3 5 3 4 4 5 2 4 3 5 3 4 2 5 1 4 3 5 2 4 3 5 4 4 2 5 2 4 1 5 3 4 3 5 2 4 3 5 5 4 2 5 2M1335 419l5 5 4 6 5 2 4 5 5 2 4 0 5 3 4 3 5 4 4 2 5 3 4 2 5 4 4 3 5 2 4 3 5 5 4 4 5 0 4 5 5 2 4 0 5 2 4 4 5 1 4 2 5 5 4 2 5 2 4 1 5 4 4 0 5-1 4 2 5-1 4 1 5 2 4 3 5 3 4 1 5 0 4 0 5 1 4 2 5-1 4 3 5 1 4 0M1276 324l5 3 4 4 5 3 4 2 5 4 4 4 5 5 4 4 5 1 4-1 5 3 4 5 5 4 4 4 5 3 4 3 5 3 4 2 5 2 4 5 5 4 4 4 5 3 4 4 5 4 4 3 5 2 4 3 5 2 4 5 5 3 4 2 5 3 4 4 5 2 4 4 5 3 4 1 5 2 4 6 5 3 4 0 5 3 4 5 5 1 4 1 5 3 4 2 5 3 4 2 5 4 4 3 5 3M1257 288l5 1 4 3 5 5 4 2 5 2 4 5 5 3 4 6 5 4 4 5 5 3 4 5 5 4 4 5 5 3 4 2 5 4 4 3 5 3 4 6 5 6 4 2 5 4 4 3 5 3 4 3 5 3 4 3 5 6 4 3 5 4 4 4 5 4 4 3 5 6 4 2 5 2 4 4 5 3 4 2 5 3 4 0 5 0 4 2 5 3 4 2 5 2 4 4 5 1 4 4 5 1 4 4 5 3 4 4 5 2 4 2 5 1 4 1M1394 445l4 4 5 6 4 0 5 1 4 4 5 4 4 2 5 2 4 4 5 3 4 1 5 4 4 3 5 3 4 3 5 2 4 3 5-1 4 2 5 2 4 4 5 3 4 2 5 2 4 0 5 0 4 5 5 2 4 2 5 4 4 2 5 2 4-2 5 3 4 1 5 1 4 0M1387 403l4 3 5 5 4 2 5 3 4 3 5 4 4 2 5 5 4 2 5 3 4 4 5 3 4 4 5 2 4 2 5 1 4 2 5 4 4 5 5 2 4 2 5 0 4 3 5 1 4 3 5 5 4 1 5 2 4 3 5 2 4 2 5 2 4 1 5 0 4 2 5 1 4 2 5 3 4 2 5-1 4 2 5 4 4 2M984 98l4 4 5 5 4 5 5 4 4 3 5 2 4 7 5 4 4 1 5 2 4 7 5 4 4 3 5 6 4 2 5 2 4 3 5 3 4 2 5 3 4 2 5 3 4 2 5 2 4 6 5 3 4 5 5 3 4 4 5 3 4 7 5 7 4 5 5 2 4 6 5 2 4 2 5 3 4 3 5 3 4 5 5 4 4 3 5 4 4 4 5 6 4 4 5 7 4 4 5 5 4 3 5 4 4 4 5 4 4 7 5 4 4 5 5 5 4 5 5 2 4 1 5 2 4 4 5 4 4 3 5 2 4 2 5 3 4 4 5 3 4 4 5 4 4 3 5 3 4 4 5 3 4 3 5 4 4 3 5 6 4 4 5 3 4 3 5 4 4 3 5 4 4 3 5 2 4 2 5 4 4 3 5 4 4 5 5 2 4 1 5 2 4 3" stroke="#0072BD"/><path d="M1002 104l4 4 5 4 4 3 5 1 4 2 5 4 4 3 5 4 4 3 5 5 4 3 5 2 4 2 5 3 4 3 5 5 4 3 5 2 4 4 5 4 4 2 5 2 4 6 5 4 4 6 5 3 4 3 5 7 4 5 5 4 4 2 5 6 4 5 5 2 4 4 5 4 4 6 5 5 4 4 5 5 4 2 5 3 4 4 5 1 4 2 5 4 4 6 5 5 4 5 5 4 4 2 5 4 4 3 5 6 4 5 5 5 4 3 5 4 4 3 5 5 4 3 5 5 4 1 5 3 4 3 5 3 4 4 5 2 4 4 5 3 4 6 5 1 4 4 5 7 4 2 5 3 4 1 5 4 4 4 5 4 4 1 5 4 4 2 5 4 4 1 5 2 4 4 5 3 4 2 5 5 4 5 5 4 4 4 5 3 4 2M1046 187l4 4 5 3 4 5 5 5 4 5 5 2 4 3 5 2 4 1 5 4 4 2 5 6 4 6 5 4 4 4 5 4 4 3 5 3 4 5 5 2 4 7 5 5 4 2 5 4 4 5 5 4 4 3 5 3 4 7 5 6 4 5 5 2 4 1 5 4 4 4 5 2 4 2 5 2 4 3 5 3 4 4 5 3 4 2 5 6 4 1 5 5 4 1 5 4 4 5 5 4 4 4 5 4 4 1 5 3 4 3 5 4 4 2 5 2 4 3 5 3 4 5 5 4 4 4 5 1 4 6 5 3 4 4 5 2 4 3 5 4 4 6 5 5 4 3 5 4 4 3 5 4 4 2 5 3 4 3 5 3 4 5 5 1 4 4 5 3 4 4M1317 335l5 3 4 5 5 5 4 5 5 3 4 2 5 0 4 5 5 5 4 3 5 2 4 4 5 5 4 4 5 4 4 3 5 4 4 3 5 4 4 1 5 4 4 3 5 4 4 3 5 2 4 3 5 4 4 3 5 3 4 0 5 3 4 3 5 4 4 3 5 4 4 2 5 3 4 1 5 3 4 3 5 1 4 2 5 3 4 0 5 2 4 6 5 3 4-1 5 2 4 2M1238 268l5 4 4 2 5 3 4 3 5 3 4 5 5 5 4 2 5 4 4 2 5 3 4 3 5 4 4 3 5 4 4 4 5 4 4 6 5 3 4 4 5 5 4 4 5 3 4 4 5 2 4 4 5 2 4 3 5 4 4 3 5 2 4 4 5 3 4 2 5 4 4 6 5 5 4 4 5 2 4 2 5 3 4 2 5 4 4 5 5 5 4 2 5 4 4 2 5 4 4 5 5 3 4 2 5 3 4 1 5 1 4 3M1200 264l5 6 4 5 5 2 4 5 5 5 4 3 5 2 4 4 5 4 4 5 5 2 4 2 5 2 4 4 5 4 4 3 5 2 4 3 5 6 4 3 5 5 4 2 5 3 4 2 5 4 4 3 5 4 4 5 5 3 4 6 5 1 4 3 5 7 4 4 5 1 4 3 5 4 4 0 5 3 4 5 5 4 4 6 5 3 4 2 5 1 4 4 5 5 4 0 5 3 4 6 5 3 4 0 5 2 4 2 5 3 4 2 5 1 4 3 5 3 4 1 5 3 4 3 5 4 4 3 5 2M1164 229l5 3 4 4 5 2 4 5 5 3 4 5 5 4 4 5 5 5 4 5 5 3 4 2 5 5 4 5 5 4 4 4 5 4 4 4 5 3 4 4 5 3 4 3 5 3 4 5 5 3 4 3 5 4 4 2 5 1 4 4 5 3 4 2 5 4 4 6 5 4 4 1 5 5 4 3 5 3 4 5 5 4 4 3 5 1 4 4 5 3 4 2 5 3 4 4 5 3 4 2 5 5 4 3 5 4 4 2 5 4 4 2 5 2 4 4 5 3 4 3 5 2 4 0 5 2 4 3 5 4 4 2 5 2 4 2M1389 439l4 4 5 3 4 3 5 5 4 3 5 4 4 4 5 4 4 2 5 2 4 3 5 3 4 3 5 3 4 3 5 3 4 2 5 0 4 2 5 4 4 4 5-1 4 2 5 3 4 0 5 2 4 2 5 1 4 1 5 1 4 3 5 2 4 0 5 2 4 2 5 1 4 3 5 0 4 0 5-1M1368 430l4 4 5 2 4 3 5 3 4 5 5 1 4 1 5 2 4 6 5 0 4 5 5 2 4 2 5 1 4 3 5 5 4 2 5 2 4 1 5 1 4 3 5 2 4 1 5 1 4 0 5 2 4 2 5 0 4 3 5 2 4 1 5 3 4 0 5 1 4 4 5 4 4 0 5 1 4 0M1435 452l4 1 5 4 4 6 5 1 4 2 5 2 4 2 5 2 4 2 5 2 4 2 5 3 4 3 5-2 4 4 5 2 4 1 5 3 4 2 5 3 4 3 5 0 4 1 5 4 4 1 5 2 4 3 5 2 4 3 5 0 4 0 5 4 4 3 5 2 4 0M1085 255l5 3 4 6 5 5 4 3 5 5 4 5 5 2 4 3 5 4 4 4 5 2 4 4 5 7 4 3 5 3 4 4 5 3 4 6 5 5 4 4 5 5 4 4 5 3 4 3 5 3 4 3 5 1 4 3 5 2 4 4 5 5 4 5 5 4 4 1 5 2 4 4 5 2 4 3 5 3 4 2 5 2 4 4 5 3 4 2 5 2 4 1 5 2 4 3 5 2 4 2 5 3 4 4 5 3 4 5 5 3 4 3 5 6 4 4 5 5 4 3 5 3 4 4 5 3 4 0 5 2 4 4 5 3 4 3 5 1 4 1 5 4 4 1 5 2 4 0 5 5 4 5 5 2 4 1 5 1 4-1M1146 276l5 6 4 5 5 2 4 6 5 6 4 4 5 3 4 2 5 4 4 6 5 3 4 3 5 6 4 2 5 5 4 4 5 3 4 5 5 3 4 2 5-1 4 5 5 6 4 2 5 4 4 2 5 3 4 3 5 2 4 3 5 3 4 3 5 1 4 2 5 5 4 4 5 2 4 0 5 4 4 2 5 4 4 2 5 6 4 4 5 3 4 5 5 4 4 4 5 1 4 1 5 4 4 5 5 4 4-1 5 2 4 6 5 4 4-1 5 3 4 5 5 2 4 2 5 2 4 5 5 2 4 2 5 1 4 2 5 2 4 1 5 2M1276 354l4 0 5 3 4 3 5 3 4 3 5 4 4 4 5 0 4 2 5 3 4 4 5 3 4 3 5 2 4 5 5 1 4 2 5 4 4 7 5 3 4 3 5 2 4 4 5 3 4 3 5 3 4 4 5 3 4 1 5 0 4 3 5 3 4 4 5 4 4 3 5 4 4 2 5 1 4-1 5 3 4 4 5 2 4 2 5 2 4 2 5 1 4 1 5 4 4 4 5 1 4 2 5 3M1160 254l4 6 5 6 4 7 5 2 4 4 5 4 4 6 5 5 4 4 5 7 4 4 5 4 4 3 5 4 4 4 5 5 4 5 5 3 4 3 5 4 4 1 5 3 4 5 5 3 4 1 5 2 4 6 5 2 4 3 5 4 4 3 5 5 4 4 5 4 4 2 5 4 4 5 5 3 4 3 5 3 4 7 5 5 4 5 5 3 4 3 5 3 4 4 5 3 4 4 5 3 4 5 5 2 4 2 5 2 4 4 5 4 4 2 5 2 4 3 5 3 4 2 5-1 4 2 5 3 4 2 5 3 4 2 5 2 4 3 5 4M1112 140l4 2 5 6 4 7 5 4 4 1 5 7 4 1 5 2 4 5 5 4 4 1 5 5 4 5 5 4 4 2 5 6 4 3 5 3 4 4 5 5 4 5 5 5 4 6 5 2 4 6 5 2 4 3 5 4 4 4 5 6 4 3 5 3 4 3 5 2 4 2 5 1 4 4 5 4 4 3 5 2 4 6 5 4 4 6 5 6 4 3 5 4 4 5 5 5 4 3 5 1 4 2 5 4 4 5 5 4 4 3 5 2 4 4 5 2 4 3 5 5 4 3 5 4 4 5 5 3 4 2 5 2 4 1 5 5 4 3 5 4 4 4 5 3 4 4 5 5 4 3 5 1 4 4 5 2M1382 405l5 5 4 2 5 2 4 3 5 3 4 3 5 3 4 4 5 4 4 2 5 3 4 2 5 4 4 4 5 1 4 1 5 2 4 2 5 3 4 2 5 2 4 2 5 1 4 0 5 3 4 3 5 3 4 2 5 4 4 2 5 2 4 1 5 2 4 0 5 0 4 2 5 2 4 2 5 2 4 1 5 2 4 2 5 1 4 0" stroke="#4DBEEE"/><path d="M1155 248l4 5 5 4 4 5 5 4 4 4 5 4 4 5 5 5 4 4 5 5 4 5 5 6 4 4 5 4 4 4 5 4 4 5 5 4 4 4 5 4 4 4 5 3 4 3 5 4 4 4 5 2 4 4 5 0 4 2 5 4 4 3 5 3 4 3 5 3 4 3 5 4 4 3 5 1 4 2 5 4 4 6 5 6 4 4 5 2 4 4 5 3 4 2 5 5 4 4 5 1 4 4 5 0 4 2 5 5 4 3 5 4 4 3 5 4 4 2 5 3 4 2 5 0 4 2 5 3 4 4 5 2 4 4 5 2 4 3 5 3 4 4 5 3 4 4M1402 445l4 3 5 3 4 3 5 4 4 2 5 1 4 0 5 3 4 3 5 2 4 2 5 3 4 0 5 2 4 4 5 1 4-1 5 2 4 1 5 4 4 2 5 2 4 0 5 0 4 1 5 3 4 3 5 2 4 3 5 2 4 3 5 3 4-1 5 1 4 0 5 1M1428 480l4 3 5 1 4 1 5 2 4 2 5 2 4 0 5 2 4 1 5 1 4 3 5 2 4 1 5 0 4 3 5 3 4 0 5 0 4 1 5 2 4 0 5 0 4 1 5 3 4 2 5 0 4 0 5 0 4 3 5 3 4 1 5 2 4 2 5 2 4 1M1141 208l5 2 4 4 5 4 4 4 5 4 4 3 5 4 4 4 5 5 4 6 5 4 4 4 5 5 4 3 5 5 4 2 5 6 4 5 5 5 4 4 5 3 4 5 5 6 4 3 5 3 4 3 5 2 4 4 5 3 4 2 5 4 4 3 5 4 4 3 5 4 4 5 5 3 4 3 5 5 4 6 5 3 4 3 5 4 4 7 5 4 4 2 5 4 4 3 5 3 4 3 5 1 4 1 5 2 4 3 5 5 4 3 5 2 4 3 5 5 4 6 5 4 4 0 5 2 4 5 5 2 4 1 5 4 4 4 5 3 4 2 5 5 4 3 5 4 4 1 5 1 4 3M1438 497l4 2 5 0 4 0 5 3 4 2 5 2 4 5 5 1 4 2 5 3 4 2 5 0 4 2 5 2 4 1 5 0 4 1 5 3 4 0 5 0 4 2 5 1 4 1 5 1 4-1 5-2 4 0 5 0 4 2 5 2 4 2 5 1 4-2 5 2M1355 460l5 4 4 3 5 2 4 4 5 3 4 2 5 1 4 2 5 3 4 2 5 1 4 1 5 1 4 4 5 5 4 1 5 2 4 4 5 5 4 0 5 2 4 3 5 3 4 2 5-1 4 1 5 0 4 0 5 3 4 3 5 0 4 0 5 3 4 1 5 0 4 3 5 1 4 1 5 2 4-1 5 0 4 5 5 2 4 2 5-1 4 2 5-1M1281 347l4 4 5 4 4 3 5 5 4 4 5 4 4 2 5 5 4 7 5 3 4 1 5 4 4 6 5 3 4 1 5 2 4 3 5 1 4 3 5 4 4 3 5 3 4 5 5 2 4 3 5 4 4 4 5 3 4 4 5-1 4 3 5 5 4 1 5 2 4 2 5 4 4 6 5 3 4 2 5 1 4 1 5 2 4 1 5 3 4 1 5 3 4 5 5 1 4 2 5 3 4 2 5 3 4 2M1332 368l4 3 5 4 4 4 5 2 4 3 5 5 4 3 5 4 4 4 5 3 4 3 5 0 4 5 5 4 4 0 5 2 4 3 5 5 4 3 5 6 4 3 5 3 4 2 5 2 4 3 5 3 4 3 5 3 4 5 5 2 4 2 5 3 4 2 5 2 4 0 5 0 4 2 5 0 4 4 5 5 4 2 5 2 4 1 5 1 4 1 5 3 4 3 5 0 4-1 5 1M1269 319l4 3 5 1 4 2 5 4 4 1 5 3 4 5 5 3 4 3 5 5 4 2 5 4 4 5 5 3 4 4 5 5 4 4 5 3 4 3 5 5 4 5 5 4 4 2 5 4 4 3 5 4 4 6 5 3 4 1 5 4 4 1 5 4 4 5 5 4 4 5 5 2 4 2 5 4 4 2 5 3 4 1 5 4 4 3 5 3 4 1 5 2 4 1 5 1 4 3 5 2 4 2M1298 350l4 4 5 3 4 5 5 4 4 3 5 4 4 4 5 5 4 3 5 6 4 5 5 2 4 2 5 3 4 4 5 4 4 4 5 3 4 2 5 4 4 2 5 1 4 5 5 6 4 2 5 5 4 4 5 1 4 5 5 2 4 2 5 1 4 5 5 4 4 4 5 3 4 3 5 3 4 2 5 3 4 4 5 3 4 3 5 1 4 2 5 4 4 3 5 2 4 1 5 1 4 4M1107 239l5 5 4 2 5 3 4 3 5 3 4 4 5 3 4 4 5 2 4 4 5 6 4 6 5 0 4 5 5 5 4 1 5 2 4 4 5 5 4 6 5 5 4 4 5 5 4 3 5 4 4 3 5 5 4 0 5 1 4 4 5 3 4 4 5 3 4 4 5 2 4 3 5 1 4 3 5 4 4 2 5 3 4 3 5 4 4 4 5 2 4 5 5 2 4 6 5 2 4 3 5 2 4 1 5 3 4 3 5 3 4 2 5 6 4 5 5 3 4 3 5 2 4 3 5 2 4 4 5 2 4 2 5 3 4 6 5 2 4 2 5 0 4 1 5 2 4 3 5 1 4 3 5 2 4 1 5 0M1151 293l4 5 5 4 4 4 5 4 4 4 5 2 4 4 5 7 4 6 5 2 4 1 5 4 4 5 5 3 4 4 5 3 4 2 5 6 4 2 5 4 4 2 5 4 4 2 5 3 4 2 5 1 4 3 5 5 4 3 5 2 4 1 5 4 4 2 5 3 4 5 5 1 4 3 5 4 4 3 5 4 4 3 5 5 4 2 5 3 4 4 5 3 4 4 5 2 4 3 5 3 4 4 5 4 4 3 5 2 4 2 5 2 4 3 5 4 4 3 5 1 4 1 5 1 4 2 5 2 4 2 5 3 4 0 5 2 4 2M1105 150l5 2 4 5 5 3 4 8 5 3 4 5 5 3 4 7 5 4 4 2 5 6 4 3 5 4 4 6 5 3 4 6 5 4 4 4 5 6 4 4 5 1 4 4 5 5 4 3 5 2 4 5 5 4 4 5 5 5 4 4 5 3 4 2 5 4 4 3 5 4 4 3 5 6 4 5 5 1 4 4 5 3 4 4 5 3 4 5 5 6 4 2 5 5 4 4 5 4 4 5 5 2 4 3 5 5 4 6 5 6 4 4 5 3 4 2 5 4 4 2 5 6 4 4 5 4 4 1 5 4 4 2 5 3 4 4 5 3 4 2 5 5 4 0 5 3 4 3 5 4 4 2 5 4M1449 435l4 6 5 4 4 3 5 3 4 3 5 4 4 3 5 1 4 4 5 0 4 3 5 1 4 4 5 7 4 3 5 2 4 1 5 2 4 0 5 1 4 3 5 5 4 2 5 2 4 3 5 3 4 2 5 1 4 3 5 2M1254 346l4 3 5 2 4 4 5 3 4 4 5 1 4 1 5 4 4 5 5 3 4 2 5 5 4 5 5 5 4 2 5 3 4 4 5 3 4 2 5 3 4 6 5 5 4 3 5 1 4 4 5 3 4 3 5 4 4 6 5 1 4-2 5 2 4 3 5 6 4 2 5 1 4 2 5 3 4 1 5 2 4 3 5 1 4 2 5 2 4 1 5 2 4 2 5 2 4 2 5 1 4-1 5 2 4 2 5 2 4-2 5 3 4 4 5 2 4 2M1313 403l5 5 4 6 5 2 4 4 5 4 4 2 5 4 4 2 5 1 4 4 5 5 4 3 5 4 4 3 5 5 4 2 5 5 4-1 5 2 4 3 5 5 4 3 5 3 4 3 5 2 4 2 5 2 4 0 5 0 4 4 5 2 4 0 5 4 4 5 5 3 4 1 5 0 4 0 5 3 4 2 5 4 4 1 5 1 4 1 5 4 4 0 5 3 4 1M1103 199l4 4 5 4 4 5 5 3 4 4 5 3 4 4 5 4 4 5 5 2 4 3 5 1 4 2 5 5 4 7 5 7 4 4 5 3 4 4 5 4 4 4 5 1 4 5 5 5 4 4 5 5 4 2 5 3 4 5 5 5 4 7 5 3 4 3 5 3 4 3 5 4 4 2 5 3 4 6 5 0 4 4 5 4 4 5 5 2 4 3 5 1 4 5 5 4 4 4 5 3 4 4 5 1 4 3 5 5 4 4 5 2 4 2 5 2 4 4 5 3 4 2 5 4 4 5 5 2 4 1 5 5 4 2 5 2 4 1 5 5 4 3 5 1 4 3 5 6 4 3 5 1 4 2 5 4 4 1 5 2 4 2M1411 456l4 3 5 3 4 1 5 2 4 1 5 4 4 4 5 2 4 1 5 3 4 1 5 1 4 0 5 2 4 3 5 2 4 5 5 4 4 1 5-1 4 0 5 2 4 5 5 3 4 2 5 0 4 2 5 2 4 2 5-1 4 1 5 2 4 1 5 4 4-1 5 0 4 2 5 4 4 1M1448 443l5 1 4 2 5 4 4 4 5 2 4 2 5 4 4 1 5 3 4 2 5 3 4 1 5 5 4 3 5 1 4 2 5 4 4 0 5 4 4 3 5 3 4 3 5 4 4 1 5 0 4 2 5 1 4 3 5 1 4 3M1414 421l5 4 4 2 5 1 4 1 5 3 4 4 5 5 4 4 5 3 4 2 5 3 4 2 5 5 4 4 5-1 4 1 5 3 4 1 5 2 4 4 5 4 4 3 5 1 4 3 5 3 4 2 5 2 4 2 5 1 4 3 5 3 4 2 5 1 4 1 5 3 4 2 5 2M1180 321l5 2 4 3 5 6 4 4 5 2 4 2 5 2 4 3 5 6 4 4 5 3 4 1 5 3 4 2 5 3 4 1 5 4 4 4 5 3 4 3 5 4 4 4 5 3 4 1 5 4 4 3 5 3 4 4 5 0 4 2 5 2 4 2 5 3 4 4 5 2 4 4 5 3 4 4 5 2 4 3 5 6 4 3 5 1 4 3 5 4 4 3 5 1 4 1 5 0 4-1 5 6 4 4 5 1 4 1 5 4 4 0 5-2 4 1 5 2 4 3 5 2 4 1 5-1 4 1 5 1 4 1 5 0 4 3 5-1 4-1 5 1 4 2" stroke="#77AC30"/><path d="M1158 301l4 1 5 6 4 4 5 5 4 6 5 1 4 3 5 3 4 4 5 3 4 4 5 1 4 5 5 5 4 4 5 2 4 4 5 4 4 4 5 3 4 0 5 2 4 4 5 4 4 5 5 1 4 5 5 3 4 2 5 0 4 4 5 4 4 3 5 4 4 3 5 2 4 4 5 3 4 4 5 2 4 3 5 2 4 2 5 4 4 4 5 2 4 1 5 3 4 1 5 2 4 5 5 5 4 2 5 5 4 4 5 0 4 0 5 6 4 4 5 2 4 1 5 2 4 4 5 2 4 1 5 1 4 1 5 2M1274 395l5 3 4 2 5 3 4 4 5 4 4 4 5 4 4 3 5 2 4 2 5 3 4 3 5 5 4 3 5 4 4 4 5 3 4 3 5 3 4 4 5 1 4 3 5 4 4 4 5 3 4 2 5 3 4 1 5 3 4 4 5 1 4 2 5 5 4 4 5 2 4 0 5 2 4 2 5 2 4 1 5 1 4 1 5 2 4 2 5 0 4 1 5 1 4 1 5 1 4 3 5 3 4 2 5 1 4-1 5 1 4 2 5 1 4 2 5 0 4 0M1458 487l4 3 5-1 4 1 5 3 4 2 5 2 4 2 5 5 4 0 5 0 4 2 5 1 4 2 5 0 4 3 5 3 4 2 5-1 4 2 5 1 4 2 5 2 4 3 5 0 4 2 5 1 4-1 5 1 4 0 5 2M1095 123l4 2 5 3 4 4 5 4 4 5 5 5 4 6 5 5 4 4 5 4 4 4 5 5 4 1 5 4 4 4 5 5 4 5 5 4 4 2 5 5 4 4 5 6 4 4 5 4 4 3 5 5 4 4 5 6 4 6 5 7 4 4 5 4 4 4 5 3 4 3 5 5 4 4 5 4 4 2 5 1 4 5 5 6 4 1 5 2 4 6 5 5 4 5 5 4 4 4 5 5 4 3 5 3 4 5 5 3 4 2 5 3 4 4 5 3 4 4 5 5 4 2 5 1 4 3 5 4 4 2 5 5 4 3 5 4 4 5 5 4 4 2 5 6 4 3 5 4 4 2 5 4 4 4 5 6 4 4M1284 395l4 2 5 4 4 2 5 3 4 3 5 0 4 3 5 4 4 2 5 4 4 2 5 4 4 2 5 5 4 4 5 3 4 4 5 4 4 5 5 3 4 4 5 1 4 3 5 5 4 2 5 2 4 4 5 3 4 4 5 0 4 1 5 2 4 1 5 2 4 3 5 3 4 2 5 0 4 3 5 1 4 1 5 2 4 4 5 1 4 4 5 1 4 0 5 2 4 1 5 1 4 2 5 0 4 2 5 1 4 3 5 2M1222 350l5 1 4 2 5 5 4 4 5 5 4 2 5 2 4 4 5 5 4 4 5 2 4 2 5 3 4 4 5 3 4 2 5 1 4 5 5 5 4 3 5 1 4 5 5 1 4 1 5 2 4 3 5 2 4 0 5 4 4 6 5 6 4 3 5 2 4 2 5 3 4 3 5 4 4 3 5 2 4 1 5 3 4 1 5 1 4 2 5 3 4 3 5-2 4 1 5 3 4 3 5 3 4 3 5 2 4 1 5 0 4 1 5 3 4 2 5 2 4 4 5 1 4 1 5 2 4 2M1276 333l5 3 4 4 5 3 4 5 5 5 4 5 5 5 4 2 5 1 4 4 5 3 4 2 5 3 4 5 5 4 4 3 5 3 4 3 5 3 4 2 5 2 4 4 5 3 4 2 5 3 4 3 5 4 4 2 5 4 4 3 5 3 4 2 5 1 4 4 5 2 4 2 5 3 4 1 5 4 4 2 5 1 4 4 5 2 4 2 5 2 4 3 5 0 4 1 5 2 4 1 5 2 4 3 5 3 4 3 5 0 4 4 5 4M1323 409l5 3 4 4 5 4 4 4 5 5 4 4 5 6 4 2 5 1 4 3 5 4 4 3 5 2 4 2 5 2 4 3 5 4 4 2 5 3 4 1 5 2 4 5 5 3 4 2 5 3 4 1 5 4 4 3 5 0 4 2 5 1 4 1 5 2 4 3 5 3 4 3 5 0 4 0 5 2 4 0 5 2 4 3 5 3 4 3 5 1 4 1 5 1 4 0 5 2 4 2 5 0M1106 170l5 4 4 5 5 4 4 2 5 3 4 6 5 4 4 5 5 5 4 4 5 3 4 5 5 3 4 5 5 4 4 6 5 5 4 3 5 5 4 5 5 5 4 4 5 4 4 6 5 3 4 3 5 4 4 4 5 3 4 6 5 4 4 2 5 4 4 6 5 2 4 2 5 5 4 4 5 3 4 4 5 6 4 6 5 3 4 5 5 6 4 4 5 4 4 3 5 3 4 4 5 6 4 4 5 4 4 1 5 2 4 4 5 3 4 5 5 2 4 4 5 6 4 2 5 1 4 3 5 2 4 2 5 4 4 3 5 3 4 4 5 3 4 2 5 3 4 3 5 6 4 1M1106 132l5 5 4 4 5 6 4 3 5 4 4 3 5 4 4 3 5 3 4 6 5 5 4 4 5 5 4 5 5 4 4 4 5 4 4 6 5 3 4 8 5 4 4 4 5 5 4 4 5 2 4 6 5 4 4 4 5 3 4 8 5 4 4 4 5 1 4 3 5 4 4 3 5 8 4 7 5 3 4 2 5 3 4 3 5 4 4 5 5 4 4 5 5 5 4 2 5 4 4 4 5 5 4 2 5 7 4 4 5 4 4 3 5 0 4 5 5 2 4 2 5 4 4 5 5 3 4 4 5 3 4 4 5 2 4 4 5 2 4 3 5 4 4 6 5 2 4 1 5 0 4 3M1201 249l4 3 5 6 4 2 5 4 4 6 5 5 4 4 5 4 4 4 5 3 4 4 5 3 4 4 5 3 4 2 5 2 4 5 5 5 4 4 5 4 4 6 5 4 4 5 5 2 4 4 5 5 4 2 5 5 4 3 5 5 4 3 5 2 4 3 5 4 4 4 5 3 4 3 5 3 4 2 5 3 4 1 5 3 4 5 5 6 4 4 5 6 4 2 5 3 4 1 5 3 4 7 5 4 4 3 5 2 4 4 5 3 4 0 5 5 4 4 5 2 4 2 5 2 4 2 5 3 4 2 5 3 4 2M1108 139l4 4 5 3 4 5 5 1 4 4 5 5 4 3 5 3 4 4 5 6 4 5 5 8 4 5 5 2 4 4 5 4 4 4 5 2 4 4 5 4 4 6 5 7 4 4 5 5 4 6 5 6 4 3 5 6 4 4 5 5 4 4 5 5 4 7 5 4 4 3 5 4 4 4 5 1 4 3 5 4 4 3 5 4 4 4 5 5 4 6 5 3 4 5 5 6 4 5 5 2 4 3 5 4 4 3 5 3 4 2 5 4 4 5 5 6 4 3 5 5 4 3 5 3 4 2 5 4 4 5 5 3 4 1 5 6 4 3 5 3 4 4 5 2 4 0 5 4 4 3 5 1 4 1 5 6M1111 159l4 4 5 4 4 5 5 4 4 4 5 5 4 4 5 5 4 3 5 4 4 4 5 5 4 4 5 5 4 3 5 4 4 4 5 4 4 6 5 5 4 5 5 4 4 3 5 4 4 3 5 5 4 5 5 4 4 4 5 4 4 4 5 4 4 5 5 5 4 4 5 2 4 3 5 5 4 4 5 4 4 5 5 2 4 4 5 2 4 2 5 5 4 4 5 4 4 3 5 4 4 5 5 5 4 4 5 4 4 2 5 2 4 3 5 4 4 2 5 2 4 4 5 2 4 2 5 4 4 4 5 2 4 1 5 6 4 4 5 3 4 1 5 3 4 0 5 4 4 2 5 2 4 3 5 2 4 1M1337 395l5 5 4 4 5 3 4 3 5 3 4 6 5 4 4 3 5 2 4 2 5 4 4 4 5 3 4 2 5 3 4 2 5 2 4 2 5 2 4 3 5 3 4 1 5 4 4 3 5 1 4 2 5 1 4 1 5 1 4 3 5 3 4 4 5 0 4 2 5 3 4 1 5 2 4 2 5 2 4 1 5 3 4 1 5 3 4 0 5 0 4 2 5 0 4 2M1175 246l5 3 4 4 5 4 4 5 5 3 4 3 5 4 4 3 5 5 4 4 5 4 4 3 5 6 4 3 5 6 4 2 5 3 4 3 5 5 4 5 5 3 4 5 5-1 4 2 5 4 4 6 5 7 4 2 5 3 4 1 5 3 4 3 5 3 4 2 5 3 4 1 5 2 4 6 5 7 4 3 5 3 4 4 5 4 4 2 5 1 4 5 5 3 4 1 5 2 4 4 5 4 4 2 5 2 4 2 5 4 4 2 5 3 4 0 5 3 4 1 5 2 4 5 5 3 4 1 5 2 4 3 5 3 4 0 5 4 4 2M1158 224l5 5 4 4 5 5 4 3 5 3 4 3 5 6 4 3 5 2 4 3 5 5 4 2 5 3 4 6 5 6 4 4 5 3 4 4 5 6 4 5 5 4 4 2 5 3 4 5 5 3 4 3 5 3 4 3 5 4 4 5 5 2 4 3 5 3 4 3 5 4 4 6 5 3 4 3 5 6 4 4 5 4 4 4 5 5 4 2 5 2 4 5 5 4 4 4 5 4 4 4 5 3 4 4 5 2 4 1 5 4 4 4 5 2 4 4 5 4 4 3 5 1 4 3 5 3 4 3 5 0 4 0 5 2 4 3 5 3 4 2 5 2M1135 157l4 3 5 0 4 5 5 3 4 2 5 2 4 6 5 5 4 4 5 6 4 5 5 2 4 3 5 5 4 6 5 6 4 3 5 5 4 5 5 4 4 5 5 6 4 5 5 3 4 3 5 5 4 4 5 2 4 1 5 2 4 3 5 3 4 5 5 5 4 4 5 4 4 5 5 5 4 2 5 4 4 6 5 5 4 2 5 2 4 4 5 6 4 3 5 4 4 2 5 5 4 6 5 2 4 3 5 7 4 3 5 4 4 3 5 5 4 2 5 3 4 4 5 6 4 3 5 3 4 3 5 5 4 4 5 4 4 6 5 5 4 2 5 2 4 1 5 4M1287 394l5 4 4 4 5 2 4 1 5 3 4 3 5 1 4 4 5 6 4 6 5 2 4 3 5 0 4 1 5 4 4 4 5 3 4 4 5 4 4 3 5 4 4 2 5 0 4-2 5 2 4 3 5 4 4 3 5 2 4 1 5 1 4 1 5 3 4 1 5 2 4 3 5 2 4 2 5 3 4 2 5 2 4 3 5 2 4-2 5 2 4 2 5-1 4 0 5 5 4 1 5 2 4 1 5 0 4 0 5 1 4 0M1196 307l5 3 4 3 5 4 4 4 5 5 4 4 5 2 4 4 5 4 4 5 5 3 4 3 5 4 4 2 5 4 4 4 5 3 4 3 5 2 4 5 5 4 4 3 5 3 4 5 5 5 4 1 5 3 4 5 5 3 4 5 5 2 4 6 5 3 4 3 5 4 4 5 5 1 4 4 5 6 4-1 5 3 4 3 5 3 4 1 5 2 4 4 5 3 4 0 5 3 4 2 5 4 4 2 5 1 4 1 5 0 4 3 5 5 4 2 5 2 4 2 5 1 4 3 5 0M1411 495l5 3 4 0 5 2 4 1 5 2 4 2 5 2 4 0 5 1 4 0 5 3 4 0 5-1 4 0 5 1 4 2 5 3 4 0 5 1 4 3 5 1 4 1 5 0 4-1 5 3 4 2 5 1 4 0 5 1 4-2 5 3 4 2 5 1 4 1 5 4 4 1 5 0M1352 413l4 2 5 4 4 4 5 5 4 4 5 1 4 5 5 5 4 1 5 3 4 4 5 3 4 3 5 3 4 2 5 2 4 4 5 3 4 3 5 4 4 0 5 2 4 1 5 3 4 2 5 2 4 2 5 5 4 1 5 3 4 4 5 2 4 1 5 3 4 1 5 1 4 3 5 2 4 3 5 1 4 3 5 3 4 1M1017 104l4 3 5 0 4 1 5 2 4 4 5 2 4 4 5 4 4 1 5 5 4 3 5 5 4 7 5 3 4 2 5 4 4 4 5 4 4 3 5 4 4 5 5 4 4 2 5 5 4 5 5 4 4 3 5 4 4 5 5 3 4 4 5 4 4 5 5 6 4 4 5 3 4 5 5 3 4 7 5 2 4 6 5 5 4 4 5 3 4 5 5 3 4 5 5 4 4 3 5 4 4 5 5 4 4 2 5 3 4 4 5 6 4 6 5 5 4 4 5 6 4 4 5 3 4 3 5 4 4 2 5 4 4 4 5 5 4 4 5 4 4 6 5 5 4 3 5 2 4 2 5 5 4 5 5 4 4 4 5 2 4 2 5 3 4 0 5 4 4 5 5 4 4 5 5 6 4 1 5 1 4 6 5 4 4 3 5 4 4 2 5 2 4 2 5 4" stroke="#7E2F8E"/><path d="M1135 254l5 5 4 3 5 4 4 4 5 6 4 3 5 3 4 3 5 5 4 3 5 3 4 5 5 5 4 1 5 3 4 3 5 5 4 5 5 5 4 3 5 3 4 5 5 3 4 1 5 3 4 4 5 1 4 3 5 2 4 4 5 3 4 5 5 3 4 1 5 3 4 5 5 3 4 2 5 2 4 4 5 3 4 2 5 2 4 4 5 5 4 3 5 3 4 4 5 3 4 2 5 3 4 4 5 5 4 3 5 4 4 2 5 4 4 3 5 2 4 2 5 3 4 2 5 0 4 4 5 1 4 1 5 2 4 2 5 2 4 1 5 3 4 2 5 2 4 0 5 2M1446 505l4 3 5 1 4 2 5 3 4 0 5 0 4 1 5 0 4 3 5 1 4 1 5-1 4-1 5 1 4 0 5 0 4 1 5 2 4 2 5 3 4-1 5 1 4 0 5 0 4 0 5 2 4-1 5 2 4 2 5 0 4 1 5 3 4 2M1403 427l4 4 5 3 4 3 5 2 4 5 5 4 4 3 5 4 4 2 5 1 4 1 5 3 4 3 5 3 4 3 5 2 4 1 5 2 4 1 5 4 4 2 5 0 4 1 5 0 4 2 5 3 4 3 5 1 4 2 5 1 4 0 5 1 4 1 5 3 4 1 5 1 4 0 5 0 4 0 5 2M1100 248l4 4 5 0 4 3 5 3 4 3 5 3 4 4 5 3 4 3 5 4 4 5 5 6 4 0 5 1 4 6 5 6 4 4 5 3 4 3 5 4 4 5 5 6 4 4 5 5 4 4 5 4 4 4 5 2 4 2 5 5 4 5 5 2 4 2 5 6 4 6 5 2 4 1 5 3 4 3 5 6 4 5 5 2 4 2 5 2 4 4 5 3 4 1 5 2 4 2 5 4 4 3 5 2 4 4 5 3 4 4 5 2 4 4 5 4 4 4 5 2 4 2 5 3 4 5 5 1 4 2 5 0 4 1 5 2 4 1 5 3 4 5 5 4 4 3 5 3 4 2 5 2 4 2 5 0 4 0M1214 350l5 2 4 4 5 6 4 2 5 0 4 5 5 4 4 3 5 1 4 3 5 2 4 2 5 4 4 2 5 1 4 5 5 3 4 5 5 3 4 4 5 4 4 2 5 2 4 5 5 3 4 2 5 4 4 2 5 5 4 3 5 6 4 4 5 1 4 3 5 6 4 6 5 3 4 2 5 2 4 2 5 2 4 6 5 3 4 3 5 2 4 3 5 3 4 1 5 1 4 0 5 0 4 2 5 3 4 3 5 2 4 2 5 3 4 1 5 1 4 4 5 1 4 1 5 2 4 1M1379 432l4 6 5 2 4 3 5 1 4 2 5 2 4 4 5 3 4 3 5 2 4 2 5 2 4 4 5 1 4 3 5 3 4 1 5 4 4 4 5 3 4 3 5 3 4 1 5 2 4 4 5 0 4 2 5 3 4 3 5 0 4 3 5 2 4 0 5 5 4 2 5 1 4 1 5 1 4 1 5 2M1421 410l5 4 4 3 5 2 4 1 5 6 4 4 5 2 4 1 5 3 4 3 5 2 4 1 5 4 4 4 5 2 4 1 5 2 4 3 5 6 4 2 5 2 4 4 5 3 4 3 5 2 4 0 5 4 4 3 5 2 4 0 5 4 4 1 5 3 4 2 5 2M1279 376l4 3 5 3 4 3 5 5 4 2 5 4 4 3 5 2 4 2 5 3 4 5 5 3 4 2 5 3 4 2 5 2 4 4 5 7 4 4 5 3 4 1 5 3 4 3 5 2 4 3 5 4 4 3 5 3 4 4 5 4 4 2 5 5 4 2 5 3 4 0 5 4 4 3 5 1 4 2 5 4 4 3 5 0 4 2 5 3 4 5 5 2 4 3 5 0 4 0 5 3 4 4 5 2 4 3 5 3 4 1 5 2 4 3M1179 326l5 2 4 2 5 3 4 3 5 4 4 2 5 4 4 5 5 3 4 2 5 2 4 1 5 3 4 4 5 3 4 3 5 1 4 4 5 3 4 3 5 4 4 3 5 0 4 4 5 3 4 4 5 3 4 1 5 3 4 3 5 4 4 3 5 2 4 3 5 3 4 4 5 3 4 2 5 5 4 1 5 3 4 5 5 3 4 1 5 2 4 4 5 2 4 0 5 1 4 3 5 3 4 4 5 6 4 3 5 1 4 3 5 1 4 0 5 0 4 1 5 1 4 1 5 2 4 3 5 3 4 3 5 2 4 2M1208 338l4 2 5 3 4 6 5 3 4 3 5 5 4 5 5 1 4 4 5 3 4 3 5 2 4 4 5 3 4 3 5 4 4 4 5 2 4 2 5 3 4 3 5 5 4 6 5 3 4 3 5 2 4 5 5 3 4 1 5 3 4 4 5 6 4 4 5 1 4 3 5 2 4 4 5 3 4 3 5 3 4 2 5 2 4 3 5 2 4 1 5 1 4 4 5 3 4 1 5 1 4 1 5 2 4 1 5 2 4 1 5 1 4 2 5 1 4 1 5 2 4 1 5 1 4 3 5 2 4 1 5-2 4 2 5-1M1368 446l4 3 5 3 4 4 5 0 4 3 5 3 4 2 5 1 4 3 5 2 4 3 5 1 4 3 5 3 4 2 5 0 4 2 5 3 4 1 5 3 4 1 5 1 4 2 5 2 4 3 5 1 4 1 5 3 4 0 5 2 4 0 5 2 4 1 5 1 4 3 5 1 4 1 5 1 4 1 5 1M1170 268l4 5 5 2 4 4 5 4 4 5 5 4 4 4 5 6 4 4 5 2 4 4 5 2 4 4 5 3 4 3 5 4 4 5 5 3 4 1 5 3 4 2 5 4 4 3 5 1 4 3 5 4 4 5 5 3 4 6 5 2 4 3 5 4 4 3 5 3 4 4 5 2 4 3 5 2 4 4 5 6 4 5 5 3 4 4 5 3 4 6 5 2 4 2 5 4 4 3 5 4 4 2 5 1 4 3 5 5 4 3 5 2 4 3 5 3 4 2 5 5 4 1 5 3 4 0 5 3 4 2 5 3 4 2 5 2 4 1M1165 293l5 6 4 5 5 5 4 5 5 4 4 5 5 4 4 3 5 5 4 7 5 4 4 2 5 0 4 3 5 2 4 5 5 3 4 2 5 2 4 3 5 2 4 1 5 3 4 5 5 3 4 2 5 3 4 4 5 4 4 3 5 4 4 4 5 5 4 4 5 2 4 2 5 2 4 5 5 5 4 3 5 5 4 3 5 3 4 3 5 3 4 2 5 5 4 3 5 3 4 2 5 2 4 2 5 2 4 1 5 3 4 3 5 3 4 2 5 2 4 3 5 5 4 0 5 2 4 2 5 4 4 2 5 0 4 1 5 4M1251 314l5 4 4 4 5 1 4 4 5 5 4 4 5 5 4 2 5 4 4 5 5 4 4 3 5 5 4 3 5 5 4 5 5 3 4 1 5 5 4 7 5 5 4 5 5 1 4 2 5 3 4 0 5 4 4 5 5 3 4 2 5 4 4 3 5 3 4 3 5 2 4 3 5 1 4 3 5 5 4 2 5 3 4 3 5 1 4 4 5 4 4 2 5 2 4 2 5 3 4 2 5 4 4 3 5 2 4 1 5 2 4 2 5 1 4 2M1349 402l5 4 4 4 5 6 4 2 5 3 4 4 5 1 4 1 5 3 4 2 5 3 4 4 5 2 4 1 5 3 4 3 5 3 4 4 5 3 4 0 5 3 4 1 5 4 4 1 5 3 4 2 5 2 4 1 5 4 4 1 5 2 4 3 5 3 4 4 5 5 4 2 5-2 4 1 5 2 4 1 5 2 4 3 5 2 4-1 5 1 4 3 5 1M1273 380l5 4 4 4 5 4 4 3 5 2 4 4 5 4 4 1 5 4 4 5 5 2 4 2 5 2 4 5 5 4 4 1 5 5 4 7 5 2 4 4 5 4 4 2 5 3 4 3 5 5 4 3 5 5 4 2 5 3 4 3 5 0 4 3 5 4 4 5 5 1 4 0 5 2 4 1 5 3 4 4 5 1 4 0 5 1 4 2 5 0 4 2 5 0 4 2 5 2 4 1 5 0 4 3 5 4 4 2M1088 234l5 3 4 5 5 1 4 5 5 4 4 3 5 3 4 4 5 4 4 3 5 2 4 4 5 5 4 1 5 6 4 4 5 4 4 4 5 3 4 4 5 5 4 5 5 6 4 4 5 2 4 4 5 3 4 5 5 6 4 5 5 3 4 1 5 5 4 4 5 2 4 4 5 4 4 2 5 4 4 3 5 0 4 2 5 3 4 5 5 4 4 3 5 1 4 2 5 4 4 2 5 4 4 4 5 2 4 4 5 5 4 5 5 3 4 3 5 3 4 4 5 3 4 5 5 5 4 5 5 4 4 0 5 0 4 3 5 4 4 4 5 4 4 3 5 1 4 2 5 2 4 1 5 4 4 3 5 1 4 1M1140 183l4 3 5 3 4 2 5 5 4 4 5 4 4 4 5 2 4 2 5 7 4 5 5 4 4 5 5 5 4 5 5 4 4 5 5 4 4 5 5 6 4 3 5 7 4 6 5 3 4 1 5 2 4 3 5 2 4 2 5 4 4 5 5 4 4 5 5 4 4 3 5 5 4 4 5 4 4 5 5 2 4 3 5 4 4 4 5 4 4 6 5 4 4 4 5 3 4 4 5 3 4 4 5 4 4 5 5 1 4 1 5 2 4 4 5 5 4 2 5 4 4 3 5 3 4 3 5 3 4 6 5 5 4 2 5 3 4 5 5 2 4 4 5 5 4 3 5 4 4 3 5 1 4 3M1215 367l5 2 4 4 5 2 4 3 5 5 4 5 5 2 4 4 5 2 4 4 5 4 4 1 5 2 4 5 5 4 4 2 5 3 4 1 5 2 4 4 5 4 4 1 5 2 4 3 5 4 4 3 5 4 4 6 5 3 4 1 5 2 4 4 5 3 4 3 5 2 4 4 5 3 4 5 5 3 4 2 5 1 4 2 5 2 4-1 5 3 4 4 5 5 4 1 5 2 4 2 5 2 4 1 5 2 4 1 5 3 4 0 5 2 4 2 5 4 4-1 5 0 4 1 5 4 4 3 5 0 4 1 5 3M1123 290l5 4 4 3 5 3 4 4 5 4 4 4 5 5 4 4 5 3 4 4 5 4 4 2 5 2 4 5 5 4 4 4 5 3 4 3 5 5 4 5 5 6 4 6 5 2 4 2 5 5 4 4 5 0 4 3 5 3 4 4 5 4 4 2 5 2 4 3 5 5 4 4 5 5 4 2 5 4 4 2 5 3 4 4 5 3 4 3 5 3 4 4 5 2 4 2 5 5 4 4 5 3 4 6 5 6 4 5 5 3 4 1 5 1 4 3 5 4 4 2 5 2 4 1 5 3 4 3 5 5 4 0 5 4 4 3 5 4 4 2 5 2 4 2 5 0M1244 369l5 3 4 3 5 5 4 1 5 2 4 2 5 2 4 4 5 3 4 2 5 3 4 3 5 4 4 2 5 4 4 3 5 3 4 4 5 3 4 4 5 3 4 2 5 5 4 4 5 3 4 4 5 3 4 2 5 3 4 3 5 3 4 1 5 4 4 4 5 4 4 4 5 3 4 3 5 2 4 1 5 2 4 2 5 0 4 1 5 3 4 1 5 2 4 3 5 3 4 1 5 1 4 2 5 2 4 0 5 0 4 2 5 1 4-1 5 0 4 1 5 2M1106 153l4 6 5 3 4 6 5 6 4 5 5 4 4 4 5 4 4 2 5 4 4 4 5 5 4 6 5 4 4 2 5 4 4 5 5 6 4 3 5 4 4 5 5 4 4 6 5 4 4 3 5 6 4 5 5 3 4 2 5 5 4 4 5 2 4 4 5 5 4 4 5 3 4 2 5 4 4 5 5 4 4 3 5 6 4 6 5 3 4 3 5 3 4 3 5 5 4 6 5 3 4 3 5 2 4 3 5 4 4 4 5 5 4 4 5 4 4 3 5 1 4 5 5 4 4 3 5 0 4 3 5 5 4 4 5 4 4 2 5 4 4 5 5 4 4 3 5 4 4 2 5 3 4 5 5 2 4 4M1091 254l5 4 4 6 5 6 4 4 5 4 4 4 5 3 4 4 5 5 4 4 5 2 4 3 5 4 4 4 5 3 4 4 5 5 4 4 5 3 4 4 5 2 4 4 5 3 4 4 5 2 4 3 5 4 4 4 5 2 4 4 5 4 4 4 5 5 4 3 5 2 4 3 5 2 4 0 5 5 4 4 5 3 4 2 5 1 4 2 5 4 4 0 5 5 4 1 5 3 4 3 5 2 4 1 5 3 4 4 5 2 4 3 5 1 4 4 5 4 4 2 5 3 4 6 5 4 4 1 5 3 4 3 5 4 4 4 5 3 4 2 5 2 4 2 5 2 4 0 5 2 4-1 5 1 4 4M1461 503l5 4 4 0 5 2 4 3 5 1 4 0 5 2 4 1 5 2 4 1 5 0 4 1 5 0 4-1 5 0 4 1 5 3 4-1 5 1 4 3 5 3 4 1 5 0 4 0 5 3 4-1 5 2 4 5 5 1M1028 98l4 2 5 4 4 3 5 5 4 4 5 1 4 1 5 3 4 2 5 6 4 2 5 3 4 2 5 5 4 5 5 3 4 3 5 4 4 3 5 5 4 4 5 3 4 1 5 6 4 5 5 2 4 2 5 5 4 6 5 4 4 3 5 6 4 2 5 5 4 6 5 2 4 6 5 5 4 3 5 4 4 5 5 4 4 4 5 2 4 4 5 3 4 2 5 4 4 8 5 6 4 4 5 0 4 4 5 3 4 1 5 3 4 4 5 7 4 4 5 7 4 2 5 2 4 2 5 5 4 6 5 6 4 4 5 3 4 3 5 6 4 3 5 4 4 4 5 6 4 1 5 1 4 6 5 4 4 3 5 1 4 3 5 4 4 5 5 4 4 1 5 1 4 6 5 4 4 2 5 4 4 2 5 2 4 3 5 2" stroke="#A2142F"/><path d="M1137 286l5 4 4 4 5 3 4 6 5 5 4 5 5 4 4 4 5 4 4 4 5 5 4 4 5 4 4 2 5 3 4 3 5 3 4 5 5 4 4 3 5 3 4 2 5 3 4 4 5 4 4 4 5 3 4 2 5 3 4 5 5 4 4 2 5 2 4 3 5 3 4 2 5 3 4 3 5 5 4 3 5 3 4 3 5 1 4 3 5 4 4 4 5 2 4 0 5 2 4 5 5 4 4 1 5 2 4 6 5 3 4 4 5 2 4 1 5 2 4 4 5 1 4 0 5 2 4 3 5 4 4 2 5 1 4 2 5 3 4-1 5 2M1298 371l4 3 5 4 4 4 5 5 4 1 5 3 4 2 5 4 4 4 5 3 4 2 5 4 4 5 5 3 4 3 5 2 4 5 5 3 4 4 5 2 4 4 5 1 4 3 5 3 4 2 5 4 4 2 5 5 4 3 5 2 4 3 5 3 4 3 5 4 4 2 5 2 4 1 5 2 4 4 5 2 4 4 5 4 4 3 5 2 4 1 5 3 4 4 5 1 4 1 5 3M1353 357l4 2 5 4 4 5 5 3 4 4 5 4 4 5 5 3 4 1 5 5 4 6 5 1 4 3 5 4 4 3 5 3 4 5 5 4 4 2 5 2 4 1 5 4 4 1 5 4 4 5 5 4 4 1 5 2 4 1 5 3 4 3 5 3 4 4 5 5 4 3 5 1 4 3 5 3 4 2 5 3 4 3 5 4 4 1 5 3 4 3 5 1M1091 128l4 4 5 5 4 2 5 3 4 5 5 5 4 4 5 2 4 5 5 5 4 5 5 4 4 4 5 3 4 5 5 6 4 6 5 5 4 2 5 1 4 5 5 3 4 8 5 7 4 6 5 4 4 2 5 4 4 4 5 4 4 4 5 5 4 5 5 4 4 4 5 4 4 4 5 3 4 2 5 3 4 5 5 3 4 2 5 2 4 5 5 4 4 4 5 4 4 5 5 3 4 7 5 3 4 5 5 2 4 3 5 3 4 3 5 3 4 3 5 3 4 4 5 4 4 4 5 1 4 3 5 3 4 4 5 4 4 2 5 5 4 4 5 5 4 3 5 2 4 4 5 5 4 4 5 3M1362 428l4 4 5 3 4 2 5 3 4 4 5 4 4 3 5 2 4 3 5 3 4 2 5 1 4 2 5 3 4 3 5 3 4 0 5 4 4 3 5 1 4 2 5 2 4 2 5 3 4 3 5 3 4 3 5 1 4 1 5 1 4 3 5 2 4 2 5 1 4 0 5 2 4 5 5 1 4-4 5-1 4 3 5 3 4 1 5 1 4 3 5 0M1348 443l5 4 4 4 5 5 4 4 5 3 4 3 5 2 4 0 5 4 4 2 5 2 4 2 5 4 4 1 5 1 4 3 5 3 4 3 5 2 4 1 5 2 4 4 5 1 4 3 5 2 4 0 5 0 4 1 5 2 4 2 5 0 4 0 5 1 4 0 5 0 4 3 5 1 4 0 5 3 4 1 5 2 4 1 5-1 4 3 5 1M1297 369l5 3 4 1 5 5 4 5 5 2 4 3 5 4 4 4 5 4 4 2 5 3 4 4 5 3 4 4 5 1 4 3 5 2 4 2 5 2 4 4 5 4 4 1 5 3 4 5 5 1 4 2 5 1 4 5 5 1 4 4 5 2 4 3 5 4 4 5 5 3 4 3 5 1 4 3 5 3 4 0 5 2 4 3 5 3 4 4 5 3 4 1 5 1 4 1 5 0 4 1 5 2 4 1M1238 274l4 2 5 4 4 4 5 4 4 3 5 4 4 6 5 3 4 2 5 3 4 4 5 6 4 3 5 4 4 2 5 4 4 6 5 4 4 3 5 4 4 4 5 2 4 4 5 5 4 5 5 4 4 3 5 5 4 3 5 4 4 4 5 4 4 4 5-1 4 2 5 5 4 3 5 3 4 3 5 2 4 1 5 3 4 3 5 2 4 2 5 1 4 2 5 2 4 2 5 1 4 0 5 0 4 5 5 1 4 3 5 6 4 3 5 2 4 3M1186 286l4 4 5 5 4 1 5 2 4 5 5 3 4 4 5 5 4 4 5 3 4 7 5 2 4 2 5 3 4 3 5 1 4 1 5 5 4 3 5 4 4 4 5 0 4 2 5 5 4 2 5 0 4 4 5 3 4 1 5 4 4 3 5 5 4 4 5 4 4 2 5 4 4 3 5 2 4 4 5 4 4 2 5 3 4 4 5 3 4 3 5 2 4 0 5 0 4 3 5 3 4 2 5 2 4 2 5 4 4 1 5 2 4 1 5 1 4 1 5 2 4 0 5 2 4 2 5 3 4 2 5 1 4 2 5 1 4 0 5 3 4 4M1164 220l5 3 4 5 5 4 4 3 5 2 4 4 5 6 4 5 5 4 4 5 5 5 4 6 5 5 4 1 5 2 4 4 5 5 4 4 5 4 4 5 5 3 4 4 5 3 4 4 5 2 4 6 5 2 4 3 5 2 4 4 5 4 4 4 5 3 4 5 5 6 4 2 5 4 4 4 5 2 4 4 5 3 4 4 5 3 4 4 5 3 4 3 5 3 4 1 5 3 4 5 5 3 4 1 5 3 4 6 5 3 4 2 5 2 4 2 5 4 4 4 5 5 4 4 5 2 4 1 5 0 4 3 5 5 4 4M1400 410l5 5 4 3 5 3 4 2 5 2 4 3 5 4 4 5 5 2 4 1 5 2 4 5 5 3 4 3 5 3 4 6 5 3 4 2 5 2 4 4 5 2 4 1 5 2 4 2 5 4 4 4 5 0 4 3 5 3 4 0 5 1 4 2 5 1 4 2 5 0 4 3M1272 376l5 2 4 5 5 6 4 3 5 0 4 3 5 7 4 7 5 1 4-1 5 4 4 4 5 3 4 3 5 2 4 3 5 3 4 5 5 4 4 1 5 3 4 2 5 5 4 6 5 3 4 1 5 3 4 2 5 4 4 2 5 2 4 4 5 4 4 2 5 3 4 2 5 1 4 2 5 3 4 2 5 1 4 4 5 1 4 2 5 3 4 4 5 3 4 1 5 4 4 2 5-2 4 1 5 1 4 2 5 1 4 0 5 4M1222 346l5 4 4 6 5 4 4 5 5 4 4 5 5 4 4 4 5 0 4 3 5 1 4 6 5 4 4 5 5 2 4 1 5 4 4 4 5 3 4 4 5 3 4 3 5 3 4 1 5 3 4 5 5 3 4 4 5 2 4 4 5 3 4 2 5 4 4 3 5 4 4-1 5 4 4 2 5 3 4 2 5 4 4 3 5 4 4 2 5 1 4 3 5 1 4 1 5 1 4 0 5 2 4 3 5 2 4 0 5 0 4 3 5 2 4 2 5 3 4-1 5 2 4 5M1144 305l5 3 4 5 5 5 4 5 5 5 4 5 5 3 4 3 5 4 4 2 5 3 4 3 5 5 4 2 5 4 4 5 5 4 4 2 5 4 4 4 5 0 4 4 5 4 4 2 5-2 4 3 5 4 4 0 5 2 4 4 5 3 4 4 5 2 4 0 5 3 4 6 5 4 4 1 5 3 4 3 5 4 4 1 5 4 4 3 5 2 4 3 5 2 4 4 5 6 4 3 5 5 4 4 5 0 4 2 5 3 4 3 5 1 4 2 5 3 4 3 5 2 4 4 5 4 4 1 5 2 4 0 5 2 4 2 5 0 4 2 5 1 4 3M1459 441l4 4 5 3 4 5 5 4 4 2 5 0 4 2 5 4 4 3 5 1 4 2 5 2 4 4 5 4 4 5 5 0 4 0 5 3 4 1 5 5 4 4 5 2 4 2 5 3 4 5 5 3 4 0 5 1M1109 239l4 4 5 4 4 6 5 5 4 2 5 2 4 5 5 2 4 3 5 5 4 4 5 6 4 3 5 4 4 6 5 5 4 5 5 3 4 1 5 3 4 5 5 4 4 4 5 3 4 2 5 5 4 6 5 2 4 3 5 5 4 6 5 3 4 2 5 4 4 4 5 3 4 2 5 0 4 4 5 3 4 5 5 3 4 3 5 2 4 2 5 6 4 3 5 2 4 5 5 4 4 2 5 5 4 3 5 3 4 6 5 5 4 2 5 4 4 3 5 2 4 2 5 3 4 3 5 4 4 2 5 1 4 2 5 2 4 5 5 3 4 2 5 1 4 2 5 3 4 1 5 4 4 1M1249 371l5 1 4 2 5 2 4 5 5 3 4 3 5 5 4 5 5 4 4 2 5 3 4 2 5 5 4 5 5 2 4 3 5 2 4 4 5 5 4 5 5 4 4 3 5 4 4 2 5 3 4 3 5 2 4 2 5 5 4 4 5 2 4 1 5 1 4 1 5 2 4 2 5 1 4 3 5 2 4 4 5 1 4-1 5 1 4 1 5 2 4 2 5-1 4 1 5 1 4 3 5 1 4 5 5 2 4 2 5 0 4 0 5 4M1405 406l4 3 5 1 4 4 5 4 4 4 5 5 4 1 5 4 4 3 5 3 4 4 5 2 4 4 5 1 4 3 5 4 4 3 5 2 4 1 5 3 4 4 5 3 4 4 5 2 4 2 5 4 4 3 5 2 4 4 5 1 4 2 5 1 4 2 5 2 4 3M1385 410l4 1 5 3 4 3 5 3 4 2 5 3 4 5 5 3 4 6 5 2 4 1 5 3 4 1 5 1 4 4 5 5 4 4 5 2 4 2 5 2 4 2 5 4 4 0 5 5 4 0 5 1 4 3 5 2 4 2 5 4 4 3 5 3 4 3 5 1 4-1 5-1 4 0 5 2 4 1 5 2M1322 337l4 3 5 4 4 6 5 4 4 5 5 5 4 1 5 2 4 6 5 4 4 2 5 3 4 4 5 1 4 3 5 3 4 4 5 3 4 2 5 3 4 4 5 3 4 2 5 3 4 3 5 1 4 3 5 4 4 4 5 3 4 4 5 3 4 4 5 2 4 2 5 3 4 2 5 4 4 3 5 2 4 1 5 4 4 1 5 4 4 2 5 2 4 2M1451 481l5 1 4 2 5 3 4 0 5 2 4 2 5 5 4 5 5 0 4 1 5 0 4 1 5 2 4 3 5 1 4 0 5 2 4 4 5 1 4 3 5 1 4-1 5-1 4 1 5 1 4 3 5 3 4 0 5-1 4 1 5 0M1278 315l5 5 4 5 5 5 4 5 5 2 4 4 5 2 4 3 5 4 4 6 5 4 4 4 5 3 4 3 5 1 4 2 5 6 4 3 5 5 4 6 5 5 4 1 5 2 4 3 5 4 4 2 5 2 4 4 5 5 4 2 5 3 4 3 5 4 4 4 5 0 4 4 5 7 4 4 5 0 4 3 5 1 4 0 5 2 4 3 5 3 4 4 5 3 4 2 5 3 4 1M1309 371l5 4 4 5 5 5 4 3 5 3 4 2 5 4 4 5 5 5 4 3 5 4 4 3 5 4 4 5 5 5 4 1 5 1 4 0 5 2 4 2 5 2 4 3 5 4 4 2 5 4 4 4 5 1 4 0 5 3 4 2 5 4 4 1 5 1 4 2 5 4 4 3 5 3 4 1 5 1 4 5 5 1 4 2 5 2 4 2 5 2 4 0 5 3 4 1 5 0 4 3 5 2 4 2M1269 327l4 2 5 3 4 3 5 3 4 4 5 1 4 3 5 4 4 5 5 4 4 4 5 2 4 2 5 4 4 2 5 3 4 4 5 3 4 4 5 3 4 3 5 3 4 5 5 3 4 5 5 3 4 2 5 2 4 3 5 5 4 7 5 4 4 3 5 2 4 2 5 3 4 2 5 3 4 4 5 1 4 1 5 3 4 2 5 0 4 3 5 4 4 0 5 1 4 2 5 1 4 1 5 1 4 3M1259 306l4 2 5 3 4 5 5 3 4 3 5 2 4 1 5 4 4 6 5 6 4 1 5 2 4 4 5 5 4 2 5 6 4 4 5 3 4 5 5 2 4 3 5 4 4 5 5 3 4 3 5 3 4 3 5 4 4 3 5 3 4 3 5 3 4 2 5 5 4 3 5 4 4 3 5 4 4 2 5 2 4 3 5 3 4 4 5 4 4 2 5 2 4 3 5 6 4 3 5 2 4 2 5 2 4 4 5 2 4 4 5 5 4 3 5 1" stroke="#D95319"/><path d="M1232 276l4 5 5 4 4 2 5 5 4 4 5 2 4 4 5 5 4 2 5 3 4 1 5 2 4 5 5 3 4 2 5 3 4 4 5 4 4 5 5 4 4 4 5 6 4 3 5 3 4 1 5 7 4 3 5 4 4 2 5 3 4 4 5 0 4 2 5 3 4 4 5 4 4 4 5 1 4 4 5 3 4 4 5 1 4 2 5 3 4 3 5 5 4 2 5 3 4 2 5 2 4 2 5 2 4 3 5 3 4 2 5 6 4 1 5 2 4 2 5 2M1257 288l5 4 4 1 5 2 4 4 5 5 4 4 5 4 4 3 5 2 4 4 5 5 4 6 5 6 4 4 5 4 4 2 5 3 4 3 5 5 4 3 5 4 4 4 5 3 4 2 5 4 4 5 5 2 4 4 5 4 4 5 5 2 4 3 5 3 4 4 5 5 4 3 5 4 4 4 5 0 4 3 5 3 4 4 5 4 4 3 5 4 4 4 5 4 4 2 5 1 4 2 5 3 4 4 5 2 4 4M1326 392l5 5 4 5 5 1 4 1 5 5 4 5 5 3 4 4 5 3 4 3 5 2 4 2 5 2 4 3 5 2 4 4 5 2 4 3 5 4 4 3 5 2 4 3 5 1 4 2 5 1 4 2 5 1 4 0 5 0 4 2 5 3 4 2 5 4 4 2 5 2 4 2 5 1 4 2 5 3 4 1 5 1 4 2 5-1 4 1 5 2 4 3 5-1 4-1 5 0 4 2M1165 230l5 4 4 5 5 5 4 5 5 3 4 5 5 4 4 6 5 5 4 4 5 5 4 4 5 5 4 4 5 3 4 4 5 5 4 6 5 5 4 3 5 4 4 2 5 2 4 3 5 3 4 3 5 3 4 4 5 4 4 4 5 2 4 2 5 4 4 5 5 5 4 2 5 2 4 4 5 3 4 3 5 4 4 3 5 4 4 4 5 4 4 4 5 4 4 1 5 2 4 2 5 3 4 3 5 3 4 4 5 4 4 3 5 3 4 3 5 5 4 4 5 1 4 3 5 3 4 3 5 5 4 3 5 4 4 2 5 2 4 2 5 3 4 3 5 3M1357 393l5 4 4 2 5 2 4 5 5 5 4 4 5 1 4 2 5 4 4 2 5 3 4 1 5 4 4 4 5 3 4 2 5 0 4 3 5 3 4 3 5 3 4 4 5 2 4 4 5 2 4 3 5 5 4 3 5 0 4 1 5 4 4 4 5 1 4 2 5 1 4 2 5 1 4 1 5 0 4 2 5 5 4 5M1436 478l4 3 5 3 4 1 5 1 4 2 5 1 4 3 5 0 4 3 5 2 4-1 5 0 4 1 5 3 4 4 5 1 4 2 5 0 4 1 5 3 4 0 5 1 4 2 5 3 4 2 5 1 4 3 5 1 4-1 5 0 4 0 5 2 4 2 5 1 4 1M1145 260l5 4 4 4 5 4 4 4 5 4 4 4 5 3 4 3 5 5 4 5 5 1 4 1 5 3 4 6 5 3 4 5 5 3 4 6 5 3 4 3 5 3 4 4 5 4 4 3 5 2 4 3 5 4 4 2 5 4 4 5 5 3 4 2 5 6 4 3 5 4 4 3 5 4 4 2 5 5 4 4 5 3 4 2 5 4 4 3 5 2 4 2 5 0 4 5 5 5 4 3 5 1 4 4 5 3 4 1 5 3 4 2 5 0 4 1 5 4 4 4 5 2 4 4 5 2 4 1 5 2 4 4 5 2 4 2 5 3 4 0 5-1 4 3M1235 334l5 5 4 3 5 4 4-1 5 3 4 3 5 3 4 3 5 5 4 0 5 2 4 6 5 4 4 1 5 2 4 2 5 5 4 5 5 3 4 3 5 6 4 3 5 3 4 1 5 3 4 2 5 2 4 5 5 4 4 2 5 3 4 4 5 2 4 3 5 1 4 1 5 4 4 3 5 4 4 1 5 3 4 3 5 1 4 1 5 1 4 4 5 3 4 5 5 4 4 1 5 2 4 3 5 3 4 2 5 1 4 0 5 2 4 2 5 0M1242 302l4 2 5 6 4 5 5 2 4 3 5 6 4 4 5 2 4 5 5 4 4 4 5 2 4 4 5 7 4 2 5 2 4 6 5 3 4 5 5 5 4 3 5 4 4 7 5 4 4 3 5 4 4 6 5 2 4 1 5 1 4 3 5 6 4 3 5 3 4 5 5 4 4 5 5 2 4 1 5 3 4 1 5 3 4 2 5 1 4 2 5 4 4 2 5 3 4 2 5 1 4 4 5 5 4 3 5 2 4 2 5 3 4 3 5 1 4 2 5 3M1408 472l4 3 5 1 4 1 5 0 4 2 5 1 4 0 5 2 4 0 5 3 4 2 5 1 4 2 5 4 4 2 5 4 4 0 5-1 4 1 5 2 4 1 5 3 4 4 5 0 4 1 5 0 4 2 5 4 4 0 5 1 4 1 5 0 4 1 5 2 4 3 5 3 4 1M1239 306l4 4 5 4 4 6 5 6 4 3 5 2 4 5 5 1 4 1 5 1 4 1 5 4 4 2 5 3 4 3 5 4 4 3 5 5 4 3 5 4 4 4 5 6 4 2 5 4 4 3 5 1 4 1 5 2 4 3 5 7 4 3 5 1 4 2 5 3 4 5 5 5 4 5 5 3 4 2 5 2 4 2 5 1 4 5 5 3 4 1 5 2 4 4 5 3 4 2 5 2 4 0 5 3 4 3 5 2 4 4 5 4 4 3M1430 501l4 1 5 1 4 1 5 2 4 2 5 2 4 2 5 2 4-1 5 2 4 0 5 2 4 3 5 1 4 2 5 1 4 2 5 1 4 0 5 0 4 3 5 0 4 0 5 1 4-1 5 1 4 1 5 1 4 1 5-1 4 0M1256 340l4 1 5 3 4 2 5 4 4 3 5 3 4 2 5 5 4 5 5 2 4 1 5 4 4 4 5 3 4 2 5 7 4 4 5 5 4 3 5 2 4 4 5 4 4 4 5 3 4 6 5 4 4 4 5 3 4 3 5 1 4 3 5 2 4 3 5 3 4 3 5 5 4 3 5 1 4 4 5 4 4 0 5 1 4 3 5 4 4 0 5 3 4 4 5 2 4 3 5 2 4 2 5 0 4 3 5 2 4 2 5 3 4 1M1237 267l4 4 5 2 4 3 5 4 4 3 5 3 4 2 5 3 4 2 5 4 4 4 5 1 4 3 5 4 4 3 5 3 4 5 5 2 4 3 5 3 4 6 5 3 4 4 5 3 4 4 5 3 4 2 5 4 4 3 5 2 4 4 5 2 4 3 5 3 4 2 5 3 4 4 5 3 4 3 5 1 4 3 5 4 4 5 5 3 4 3 5 3 4 5 5 3 4 2 5 3 4 1 5 5 4 5 5 2 4 3 5 2 4 2 5 5 4 3 5 3 4 3 5 0M1344 389l4 5 5 2 4 4 5 2 4 2 5 4 4 3 5 3 4 1 5 1 4 3 5 2 4 5 5 5 4 5 5 3 4 3 5 4 4 7 5 3 4 2 5 1 4 3 5 4 4 2 5 3 4 3 5 2 4 4 5 2 4 1 5 1 4 3 5 1 4 1 5 1 4 2 5 2 4 1 5 5 4 3 5 4 4 2 5 2M1362 394l4 3 5 3 4 6 5 3 4 3 5 3 4 2 5 4 4 2 5 4 4 2 5 3 4 3 5 2 4 2 5 3 4 1 5 2 4 2 5 4 4 2 5 4 4 2 5 3 4 3 5 0 4-1 5 2 4 3 5 2 4 4 5 3 4 2 5 2 4 1 5 2 4 1 5 1 4 1 5 0 4 2M1427 471l4 3 5 3 4 2 5 1 4 2 5 1 4 1 5 1 4 2 5 0 4 1 5 0 4 0 5 1 4 1 5 5 4 2 5 0 4 3 5 1 4 0 5 1 4 1 5 1 4 0 5 2 4 2 5 1 4 2 5 1 4 0 5 2 4 2 5 3 4-2M1455 432l4 4 5 0 4 3 5 4 4 3 5 5 4 0 5 0 4 4 5 2 4 3 5 3 4 0 5 5 4 3 5 5 4 3 5 1 4 2 5 2 4 2 5 6 4 3 5-1 4-1 5 2 4 3 5 4 4 2 5 1 4 2 5 3M1351 383l4 4 5 4 4 5 5 3 4 5 5 1 4 1 5 5 4 3 5 2 4 3 5 5 4 2 5 1 4 4 5 3 4 4 5 2 4 0 5 1 4 4 5 2 4 1 5 3 4 3 5 1 4 2 5 3 4 0 5 3 4 1 5 4 4 3 5 2 4 3 5 3 4 4 5 0 4 2 5 3 4 2 5 3 4 1 5 3M1128 223l5 5 4 4 5 5 4 4 5 6 4 6 5 4 4 5 5 7 4 3 5 4 4 5 5 4 4 2 5 4 4 5 5 3 4 3 5 4 4 6 5 2 4 5 5 3 4 5 5 7 4 4 5 5 4 0 5 3 4 4 5 1 4 3 5 4 4 4 5 1 4 3 5 6 4 3 5 1 4 2 5 5 4 4 5 3 4 5 5 5 4 4 5 3 4 3 5 5 4 2 5 3 4 3 5 5 4 0 5 3 4 3 5 2 4 2 5 4 4 4 5 4 4 4 5 2 4 0 5 3 4 1 5 2 4 2 5 2 4 2 5 0 4 4 5 4 4 2 5 2 4 3M1288 295l5 3 4 4 5 4 4 4 5 4 4 5 5 5 4 4 5 6 4 2 5 3 4 4 5 3 4 4 5 4 4 4 5 3 4 2 5 2 4 2 5 4 4 3 5 2 4 5 5 4 4 4 5 5 4 3 5-1 4 4 5 3 4 5 5 5 4 3 5 3 4 1 5 3 4 2 5 5 4 5 5 1 4 2 5 3 4 4 5 5 4 2 5 1 4 2 5 4 4 2 5 2 4 5 5 2M1229 337l5 2 4 4 5 6 4 6 5 1 4 0 5 3 4 1 5 2 4 7 5 4 4 2 5 1 4 2 5 2 4 6 5 5 4 2 5 2 4 4 5 4 4 1 5 5 4 3 5 5 4 3 5 4 4 4 5 6 4 4 5 2 4 4 5 6 4 1 5 1 4 3 5 3 4 3 5 2 4 3 5 1 4 4 5 0 4 3 5 3 4 3 5 3 4 2 5 3 4 2 5 1 4 3 5 3 4 2 5 2 4 2 5 3 4 1 5 3M1415 428l4 1 5 4 4 3 5 2 4 3 5 0 4 2 5 3 4 3 5 4 4 4 5 1 4 1 5 3 4 3 5 3 4 2 5 2 4 2 5 3 4 4 5 2 4 3 5 3 4 2 5 2 4 1 5 2 4 0 5 1 4 0 5 4 4 4 5 2 4 1M1365 447l5 3 4 2 5 5 4 6 5 4 4 3 5 1 4 1 5 3 4 4 5 2 4 0 5 1 4 4 5 3 4 3 5 0 4 3 5 4 4 3 5 2 4 2 5 2 4 2 5 1 4 1 5 0 4 1 5 0 4 3 5 2 4 1 5-2 4 0 5 3 4 3 5 2 4 0 5-2 4 1M1469 494l5 0 4 0 5 2 4 3 5 2 4 0 5 2 4 2 5 1 4 2 5 1 4-1 5 2 4 2 5 0 4 1 5 1 4 0 5 3 4 1 5 0 4 1 5 3 4 0 5 2 4 0 5 0 4 0" stroke="#EDB120"/><path d="M1019 177l5 4 4 6 5 5 4 6 5 5 4 6 5 7 4 5 5 4 4 4 5 6 4 6 5 8 4 4 5 4 4 6 5 5 4 4 5 2 4 6 5 5 4 2 5 2 4 2 5 5 4 4 5 3 4 5 5 4 4 5 5 2 4 5 5 6 4 3 5 2 4 4 5 7 4 5 5 3 4 3 5 4 4 2 5 6 4 4 5 1 4 0 5 4 4 4 5 5 4 5 5 5 4 3 5 2 4 1 5 0 4 2 5 2 4 3 5 3 4 4 5 2 4 3 5 3 4 4 5 3 4 3 5 2 4 4 5 4 4 3 5 0 4 6 5 4 4 3 5 3 4 2 5 4 4 4 5 4 4 0 5 1 4 2 5 4 4 0 5 1 4 3 5 5 4 0 5 2 4 3M1046 166l5 4 4 4 5 2 4 3 5 4 4 4 5 6 4 3 5 1 4 3 5 4 4 5 5 3 4 3 5 2 4 4 5 3 4 4 5 4 4 6 5 3 4 2 5 2 4 3 5 6 4 4 5 5 4 5 5 4 4 4 5 3 4 4 5 6 4 4 5 4 4 4 5 5 4 5 5 3 4 2 5 4 4 3 5 4 4 4 5 5 4 2 5 2 4 4 5 3 4 4 5 4 4 3 5 3 4 3 5 3 4 3 5 4 4 3 5 3 4 4 5 2 4 2 5 3 4 4 5 3 4 3 5 5 4 3 5 2 4 2 5 3 4 4 5 3 4 1 5 3 4 2 5 4 4 4 5 4 4 4 5 4 4 1 5 2 4 3 5 4 4 1M1114 252l4 3 5 5 4 4 5 5 4 4 5 2 4 2 5 6 4 5 5 3 4 6 5 5 4 3 5 5 4 4 5 2 4 3 5 4 4 5 5 5 4 5 5 2 4 6 5 5 4 2 5 2 4 3 5 3 4 2 5 5 4 4 5 4 4 4 5 5 4 3 5 2 4 1 5 1 4 2 5 1 4 4 5 3 4 1 5 4 4 4 5 3 4 2 5 5 4 6 5 3 4 4 5 3 4 2 5 2 4 0 5 3 4 3 5 4 4 5 5 1 4 2 5 1 4 3 5 3 4 3 5 1 4 3 5 2 4 1 5 4 4 4 5 5 4 1 5 1 4-1 5 2 4 2M1261 401l5 3 4 4 5 1 4 4 5 1 4 2 5 3 4 3 5 2 4 2 5 3 4 1 5 4 4 5 5 1 4 5 5 3 4 4 5 2 4 3 5 2 4 4 5 2 4 4 5 4 4 3 5 1 4 3 5 2 4 1 5 3 4 3 5 3 4 3 5 2 4 4 5 2 4-1 5 1 4 3 5 2 4 1 5 3 4 1 5 1 4 0 5 2 4 0 5 1 4 1 5 3 4 0 5-1 4 0 5 1 4 2 5-1 4 3M1237 258l5 4 4 5 5 3 4 2 5 4 4 5 5 3 4 3 5 4 4 2 5 1 4 2 5 3 4 5 5 6 4 2 5 2 4 4 5 3 4 3 5 2 4 3 5 2 4 4 5 4 4 2 5 4 4 4 5 2 4 2 5 3 4 4 5 4 4 4 5 4 4 1 5 4 4 4 5 3 4 6 5 2 4 3 5 4 4 2 5 2 4 4 5 3 4 4 5 4 4 2 5 2 4 1 5 2 4 5 5 3 4 2 5 4 4 2 5 1M1384 427l4 2 5 3 4 4 5 3 4 3 5 5 4 0 5 2 4 2 5 4 4 4 5 4 4 2 5 3 4 1 5 2 4 3 5 2 4 2 5 2 4 1 5 0 4 3 5 2 4 1 5 2 4 1 5 1 4 3 5 3 4 2 5 1 4 1 5 1 4 3 5 2 4 0 5 2 4 2 5 3M1346 433l5 4 4 5 5 5 4 3 5 2 4 5 5 5 4 2 5 1 4 4 5 3 4 3 5 4 4 2 5 4 4 2 5 3 4 1 5 3 4 3 5 0 4 1 5 2 4-1 5 2 4 1 5 1 4-1 5-1 4 2 5 0 4 2 5 1 4 3 5 2 4 3 5 1 4 0 5 2 4 2 5-1M1341 441l5 1 4 0 5 2 4 2 5 4 4 3 5 5 4 5 5 2 4 1 5 4 4 5 5 2 4 1 5 3 4 2 5 1 4 2 5 3 4 3 5 3 4 1 5 2 4 3 5 2 4-1 5 0 4 4 5 3 4 0 5 1 4 2 5 2 4-1 5 1 4 0 5 1 4 2 5 1 4 2 5 1 4 1 5 2M1107 167l4 4 5 5 4 4 5 4 4 4 5 2 4 2 5 3 4 3 5 4 4 2 5 4 4 5 5 4 4 6 5 3 4 5 5 3 4 3 5 2 4 3 5 5 4 4 5 4 4 5 5 1 4 4 5 3 4 4 5 4 4 5 5 5 4 3 5 4 4 4 5 1 4 5 5 3 4 5 5 3 4 2 5 5 4 3 5 4 4 4 5 4 4 3 5 2 4 4 5 3 4 3 5 4 4 4 5 4 4 5 5 3 4 3 5 1 4 2 5 4 4 4 5 2 4 0 5 2 4 6 5 5 4 2 5 2 4 4 5 4 4 3 5 1 4 4 5 2 4 5 5 3 4 2 5 0 4 2 5 4M1165 196l5 5 4 4 5 3 4 5 5 4 4 3 5 4 4 6 5 5 4 5 5 5 4 4 5 2 4 3 5 5 4 5 5 5 4 5 5 5 4 2 5 3 4 5 5 5 4 3 5 4 4 4 5 2 4 5 5 4 4 6 5 3 4 2 5 4 4 7 5 3 4 4 5 3 4 2 5 3 4 2 5 2 4 3 5 3 4 2 5 4 4 4 5 4 4 6 5 2 4 3 5 1 4 4 5 6 4 4 5 3 4 2 5 3 4 6 5 4 4 1 5 3 4 3 5 3 4 3 5 2 4 4 5 4 4 4 5 3 4 0 5 5M1259 334l4 4 5 3 4 3 5 4 4 5 5 3 4 3 5 5 4 6 5 0 4 2 5 4 4 4 5 5 4 1 5 5 4 2 5 5 4 3 5 2 4 3 5 4 4 3 5 4 4 2 5 2 4 5 5 5 4 2 5 2 4 2 5 6 4 5 5 1 4 3 5 5 4 2 5 4 4 0 5 1 4 3 5 3 4 2 5 4 4 3 5 2 4-1 5 2 4 2 5 3 4 4 5 1 4 2 5 2 4 2M1293 397l4 2 5 2 4 4 5 2 4 3 5 1 4 1 5 3 4 1 5 3 4 4 5 3 4 6 5 3 4 3 5 4 4 2 5 4 4 3 5 2 4 2 5 3 4 2 5 4 4 2 5 2 4 2 5 3 4 1 5 3 4 5 5 4 4 1 5 1 4 2 5 2 4-1 5 2 4 1 5 2 4 1 5 1 4 2 5 3 4 3 5 1 4 2 5-2 4 1 5 2 4 2 5 3 4 2M1331 347l5 2 4 3 5 2 4 2 5 7 4 2 5 4 4 2 5 2 4 4 5 2 4 6 5 5 4 3 5 3 4 4 5 0 4 3 5 3 4 3 5 5 4 4 5 4 4 3 5 3 4 2 5 5 4 2 5 3 4 4 5 4 4 2 5 4 4 4 5 3 4 3 5 3 4 3 5 2 4 0 5 6 4 4 5 4 4 1 5 1 4-1 5 3M1266 391l5 1 4 1 5 5 4 3 5 2 4 2 5 3 4 1 5 5 4 6 5 2 4 3 5 0 4 3 5 5 4 8 5 3 4 2 5 5 4 5 5 6 4 4 5 2 4 5 5 3 4 1 5 2 4 3 5 3 4 4 5 3 4 0 5 0 4 2 5 3 4 4 5 3 4 0 5 3 4 1 5 0 4 3 5 2 4 1 5 1 4 3 5 2 4 2 5 1 4-1 5 1 4 1 5 3M1428 495l4 5 5 2 4 4 5 1 4 1 5 1 4 1 5-1 4 2 5 5 4 3 5 2 4 1 5 1 4-1 5 2 4 1 5 0 4 1 5 0 4 1 5 2 4 3 5 2 4 2 5 0 4 0 5-1 4 2 5-1 4 2 5 1 4 1 5 1 4 0 5 0M1168 200l5 6 4 4 5 2 4 5 5 3 4 4 5 5 4 5 5 5 4 5 5 4 4 4 5 5 4 7 5 4 4 4 5 5 4 5 5 5 4 2 5 0 4 3 5 4 4 3 5 3 4 5 5 5 4 4 5 5 4 2 5 2 4 3 5 4 4 4 5 5 4 3 5 2 4 4 5 3 4 5 5 5 4 5 5 3 4 4 5 1 4 4 5 4 4 2 5 3 4 3 5 2 4 8 5 1 4 2 5 3 4 3 5 5 4 4 5 3 4 3 5 3 4 2 5 3 4 2 5 3 4 5 5 5 4 3 5 1M1206 229l4 5 5 3 4 5 5 4 4 5 5 4 4 4 5 5 4 3 5 4 4 3 5 3 4 4 5 5 4 4 5 5 4 3 5 3 4 2 5 6 4 3 5 7 4 6 5 4 4 4 5 3 4 2 5 2 4 4 5 3 4 6 5 7 4 3 5 3 4 2 5 3 4 2 5 4 4 2 5 2 4 6 5 4 4 4 5 3 4 3 5 4 4 2 5 1 4 3 5 2 4 5 5 3 4 2 5-1 4 1 5 3 4 6 5 4 4 2 5 4 4 2 5 4 4 3 5 3 4 2M1083 208l4 5 5 4 4 3 5 5 4 5 5 5 4 5 5 7 4 2 5 5 4 4 5 3 4 5 5 3 4 1 5 4 4 3 5 6 4 5 5 6 4 3 5 3 4 6 5 2 4 4 5 5 4 5 5 5 4 4 5 3 4 2 5 3 4 2 5 4 4 2 5 4 4 1 5 3 4 5 5 3 4 4 5 4 4 4 5 5 4 4 5 4 4 3 5 1 4 3 5 4 4 6 5 4 4 3 5 3 4 4 5 3 4 2 5 3 4 4 5 3 4 3 5 2 4 5 5 5 4 3 5 3 4 2 5 2 4 2 5 4 4 1 5 3 4 2 5-1 4 1 5 5 4 4 5 2 4 2 5 2 4 4 5 2M1287 366l4 6 5 2 4 0 5 4 4 3 5 6 4 4 5 2 4 2 5 4 4 6 5 4 4 5 5 1 4 4 5 5 4 5 5 4 4 2 5 1 4 4 5 2 4 1 5 4 4 5 5 3 4 0 5-1 4 3 5 6 4 2 5 3 4 2 5 3 4 0 5 2 4-1 5 3 4 1 5 2 4 3 5 2 4 2 5 2 4 1 5 0 4 1 5 5 4 1 5 4 4 2 5 3 4 2 5 2M1350 375l4 3 5 1 4 3 5 4 4 3 5 1 4 2 5 3 4 5 5 3 4 3 5 3 4 1 5 4 4 4 5 2 4 2 5 3 4 3 5 5 4 3 5 4 4 2 5 3 4 2 5 4 4 3 5 2 4 5 5 2 4 4 5 2 4 3 5 1 4 4 5 3 4 2 5 4 4 3 5 3 4 2 5 1 4 2 5 3 4 2 5 0M1278 324l4 5 5 2 4 2 5 4 4 5 5 3 4 2 5 4 4 7 5 3 4 2 5 4 4 3 5 3 4 3 5 5 4 3 5 4 4 5 5 3 4 5 5 1 4 3 5 3 4 2 5 4 4 4 5 2 4 2 5 4 4 5 5 5 4 2 5 3 4 3 5 4 4 2 5 2 4 1 5 0 4 3 5 3 4 3 5 1 4 3 5 1 4 1 5 3 4 4 5 3M1303 428l4 2 5 3 4 3 5 2 4 3 5 2 4 1 5 2 4 5 5 3 4 3 5-1 4 4 5 2 4 5 5 1 4 3 5 2 4 3 5 5 4 4 5 0 4 1 5 2 4 1 5 2 4 5 5 4 4 3 5 1 4-1 5 0 4 1 5 1 4 1 5 2 4 2 5 0 4 3 5 4 4-1 5 1 4 1 5 1 4 4 5-1 4 1 5 2 4 0 5 1 4 2 5 2 4 1" stroke="#0072BD"/><path d="M1030 163l5 5 4 4 5 6 4 6 5 4 4 3 5 3 4 3 5 3 4 2 5 5 4 5 5 4 4 2 5 3 4 3 5 7 4 2 5 3 4 6 5 5 4 1 5 3 4 6 5 4 4 4 5 3 4 4 5 4 4 4 5 4 4 6 5 3 4 2 5 5 4 4 5 6 4 3 5 4 4 4 5 5 4 3 5 3 4 7 5 3 4 2 5 3 4 4 5 4 4 6 5 2 4 2 5 2 4 2 5 5 4 2 5 5 4 3 5 2 4 2 5 4 4 4 5 5 4 3 5 2 4 2 5 3 4 4 5 5 4 3 5 3 4 3 5 3 4 5 5 2 4 2 5 4 4 2 5 3 4 1 5 2 4 2 5 4 4 1 5 1 4 4 5 2 4 2 5 2M1201 248l5 3 4 3 5 4 4 5 5 3 4 2 5 5 4 5 5 6 4 5 5 5 4 2 5 3 4 5 5 3 4 2 5 4 4 6 5 3 4 6 5 2 4 5 5 6 4 3 5 4 4 5 5 4 4 4 5 3 4 5 5 4 4 4 5 0 4 3 5 2 4 2 5 3 4 3 5 3 4 2 5 3 4 2 5 3 4 4 5 4 4 3 5 4 4 4 5 6 4 3 5 3 4 1 5 1 4 5 5 2 4 3 5 1 4 4 5 1 4 3 5 2 4 3 5 3 4 5 5 3 4 1M1412 464l4 1 5 3 4 4 5 1 4 1 5 2 4 3 5 3 4 4 5 1 4-1 5 0 4 1 5 4 4 4 5 3 4 3 5 1 4 1 5 2 4 3 5 2 4 2 5 1 4 1 5 2 4 1 5 3 4 1 5 1 4 0 5 1 4 1 5 2 4-2 5 3 4 2 5 0 4 0 5 3 4 3M1297 378l5 6 4 6 5 4 4 4 5 3 4 5 5 2 4 4 5 2 4 3 5 5 4 2 5 2 4 3 5 4 4 7 5 3 4 5 5 1 4 3 5 6 4 4 5 0 4 1 5 3 4 4 5 3 4 3 5 4 4 1 5 4 4 0 5 3 4 1 5 0 4 2 5 2 4 3 5 1 4 1 5 1 4 1 5 1 4 0 5 1 4 2 5 3 4 2 5 0 4 2 5 3 4 2 5 1 4 2 5 1M1332 363l4 7 5 4 4 5 5 4 4 4 5 4 4 4 5 4 4 0 5 5 4 5 5 5 4 1 5 3 4 3 5 2 4 4 5 4 4 3 5 2 4 3 5 2 4 1 5 4 4 0 5 3 4 3 5 3 4 2 5 2 4 1 5 3 4 4 5 7 4-1 5 0 4 3 5 4 4 3 5 2 4 5 5 0 4 0 5 3 4 2 5 1 4 2M1223 265l4 4 5 3 4 7 5 4 4 2 5 2 4 4 5 2 4 3 5 4 4 5 5 3 4 1 5 2 4 3 5 6 4 4 5 3 4 5 5 5 4 4 5 2 4 4 5 4 4 2 5 3 4 5 5 3 4 3 5 4 4 3 5 2 4 4 5 4 4 1 5 2 4 2 5 7 4 3 5 2 4 3 5 2 4 4 5 5 4 3 5 2 4 2 5 3 4 3 5 3 4 1 5 1 4 0 5 2 4 2 5 3 4 0 5 3 4 4 5 3 4 1 5 1M1131 270l4 6 5 6 4 4 5 3 4 5 5 3 4 4 5 4 4 2 5 3 4 4 5 3 4 2 5 5 4 4 5 1 4 5 5 4 4 4 5 4 4 3 5 1 4 1 5 2 4 3 5 3 4 5 5 2 4 2 5 2 4 3 5 4 4 2 5 5 4 3 5 0 4 1 5 1 4 3 5 5 4 8 5 5 4 3 5 2 4 1 5 4 4 4 5 0 4 3 5 6 4 2 5 2 4 1 5 5 4 2 5 2 4-1 5 1 4 1 5 4 4 2 5 1 4 1 5 3 4 3 5 2 4 3 5 1 4 3 5-1 4 0 5 2 4 2 5 2 4-1 5 2 4 1 5 4 4 2M1125 219l5 5 4 4 5 6 4 5 5 2 4 4 5 4 4 5 5 3 4 5 5 5 4 4 5 5 4 5 5 6 4 5 5 6 4 3 5 4 4 4 5 2 4 4 5 5 4 3 5 6 4 6 5 5 4 3 5 1 4 4 5 4 4 5 5 2 4 2 5 3 4 5 5 3 4 4 5 4 4 4 5 7 4 3 5 4 4 4 5 4 4 7 5 6 4 4 5 2 4 2 5 2 4 4 5 4 4 2 5 2 4 3 5 3 4 4 5 3 4 4 5 4 4 2 5 4 4 4 5 3 4 4 5 1 4 4 5 5 4 0 5 4 4 0 5 1 4 0 5-1 4 2 5 2M1197 298l4 3 5 2 4 4 5 4 4 5 5 5 4 5 5 2 4 2 5 4 4 6 5 4 4 3 5 1 4 2 5 3 4 1 5 2 4 3 5 5 4 2 5 5 4 3 5 4 4 3 5 4 4 3 5 6 4 2 5 3 4 5 5 3 4 3 5 3 4 3 5 2 4 4 5 0 4 2 5 5 4 2 5 2 4 3 5 2 4 3 5 3 4 4 5 2 4 2 5 3 4 2 5 2 4 4 5 2 4 3 5 3 4 0 5 4 4 5 5 3 4 1 5 2 4 1 5 1 4 2 5 2M1166 228l5 3 4 4 5 4 4 5 5 6 4 5 5 2 4 4 5 4 4 5 5 2 4 6 5 7 4 5 5 2 4 2 5 3 4 5 5 1 4 4 5 3 4 6 5 3 4 5 5 4 4 4 5 5 4 4 5 3 4 4 5 2 4 3 5 2 4 6 5 3 4 3 5 3 4 3 5 4 4 3 5 2 4 3 5 6 4 4 5 4 4 3 5 1 4 5 5 3 4 3 5 3 4 2 5 3 4 1 5 2 4 5 5 3 4 2 5 4 4 2 5 3 4 3 5 2 4 2 5 2 4 2 5 2M1438 463l5 3 4 2 5 4 4 0 5 0 4 2 5 4 4 3 5 1 4 0 5 1 4 2 5 3 4 3 5 0 4 2 5 1 4 3 5 1 4 2 5 1 4 2 5 1 4-1 5 2 4 2 5 3 4 2 5 3 4 1 5 3 4 1 5 3 4 1M1198 229l5 5 4 4 5 1 4 5 5 6 4 4 5 5 4 3 5 4 4 5 5 6 4 4 5 1 4 1 5 6 4 4 5 4 4 1 5 3 4 5 5 5 4 6 5 3 4 2 5 4 4 5 5 2 4 5 5 5 4 4 5 5 4 3 5 2 4 5 5 3 4 3 5 5 4 3 5 5 4 2 5 1 4 5 5 5 4 4 5 3 4 3 5 5 4 3 5 2 4 2 5 3 4 2 5 3 4 4 5 4 4 3 5 3 4 3 5 3 4 3M1095 249l4 3 5 2 4 2 5 3 4 6 5 5 4 5 5 3 4 2 5 5 4 4 5 2 4 5 5 7 4 5 5 4 4 4 5 3 4 1 5 2 4 5 5 3 4 4 5 3 4 5 5 5 4 4 5 5 4 2 5 5 4 2 5 1 4 5 5 4 4 5 5 1 4 2 5 4 4 3 5 2 4 2 5 4 4 2 5 2 4 0 5 4 4 6 5 3 4 3 5 3 4 1 5 2 4 6 5 6 4 4 5 3 4 3 5 2 4 0 5 2 4 3 5 6 4 5 5 2 4 4 5 3 4 5 5 3 4 1 5 3 4 2 5 5 4 4 5 4 4 0 5 1 4 0 5 1 4 3M1383 432l5 4 4 2 5 3 4 0 5 2 4 4 5 3 4 0 5 1 4 4 5 4 4 6 5 0 4 2 5 1 4 1 5 2 4 1 5 0 4 3 5 2 4 3 5 1 4 1 5 3 4 2 5 1 4 2 5 2 4 4 5 2 4 2 5 3 4 2 5 2 4 3 5 1M1361 380l5 2 4 4 5 3 4 2 5 3 4 5 5 1 4 4 5 3 4 4 5 4 4 2 5 3 4 2 5 4 4 3 5 4 4 2 5 2 4 3 5 4 4 2 5 1 4 3 5 0 4 2 5 3 4 1 5 1 4 3 5 1 4 4 5 1 4 3 5 3 4 1 5 3 4 3 5-2 4 0 5 4 4 0 5 2 4 4M1167 331l5 4 4 5 5 4 4 5 5 3 4 1 5 4 4 3 5 2 4 3 5 7 4 4 5 2 4 2 5 5 4 3 5 7 4 2 5 2 4 1 5 5 4 5 5 3 4 0 5 3 4 3 5 1 4 6 5 4 4 3 5 7 4 3 5 3 4 2 5 2 4 5 5 2 4 3 5 4 4 2 5 3 4 3 5 2 4 2 5 5 4 4 5 4 4-1 5 0 4 1 5 3 4 2 5 4 4 2 5 4 4 4 5 5 4 0 5 2 4 4 5 2 4 2 5 3 4 1 5 2 4 0 5 0 4 0 5 4 4 3M1160 189l4 6 5 4 4 4 5 5 4 6 5 5 4 4 5 6 4 5 5 4 4 7 5 5 4 6 5 3 4 3 5 5 4 4 5 3 4 2 5 4 4 3 5 2 4 7 5 2 4 3 5 3 4 4 5 3 4 4 5 5 4 3 5 5 4 3 5 5 4 6 5 3 4 3 5 3 4 2 5 3 4 4 5 4 4 1 5 4 4 3 5 4 4 4 5 3 4 2 5 3 4 3 5 2 4 1 5 2 4 4 5 2 4 4 5 6 4 1 5 3 4 4 5 3 4 3 5 4 4 4 5 4 4 5 5 1 4 3 5 4M1097 264l4 4 5 3 4 4 5 4 4 6 5 4 4 3 5 4 4 5 5 3 4 5 5 5 4 2 5 5 4 5 5 5 4 5 5 2 4 2 5 5 4 5 5 5 4 2 5 3 4 4 5 3 4 1 5 2 4 4 5 4 4 5 5 1 4 4 5 2 4 3 5 2 4 3 5 4 4 2 5 1 4 5 5 4 4 4 5 3 4 1 5 4 4 3 5 1 4 5 5 5 4 3 5 1 4 0 5 2 4 4 5 2 4 2 5 3 4 4 5 3 4 4 5 4 4 1 5 3 4 4 5 1 4 1 5 3 4 2 5 2 4 2 5 1 4 4 5 5 4 4 5 1M1238 376l4 5 5 5 4 7 5 3 4 2 5 2 4 3 5 3 4 2 5 2 4 3 5 3 4 4 5 4 4 7 5 4 4 3 5 4 4 4 5 2 4 1 5 4 4 3 5 2 4 1 5 2 4 4 5 4 4 2 5 5 4 4 5 3 4 1 5 1 4 2 5 1 4 4 5 3 4 3 5 1 4 2 5 3 4 0 5 1 4 3 5 1 4 1 5 2 4 2 5 1 4 1 5 1 4 0 5 3 4 2 5 3 4 0 5 0 4 3 5-3M1140 271l5 3 4 5 5 6 4 2 5 3 4 4 5 8 4 5 5 4 4 4 5 5 4 3 5 4 4 3 5 4 4 4 5 4 4 5 5 3 4 3 5 2 4 4 5 4 4 3 5 3 4 1 5 4 4 5 5 4 4 3 5 3 4 2 5 2 4 3 5 1 4 7 5 5 4 2 5 4 4 5 5 1 4 1 5 4 4 5 5 3 4 4 5 2 4 0 5 2 4 3 5 3 4 1 5 2 4 1 5 5 4 4 5 2 4 1 5 3 4 2 5 2 4 4 5 1 4 2 5 5 4 4 5 2 4 1 5 1 4 2 5 2 4 3 5 0 4 1 5 2M1179 230l5 5 4 4 5 4 4 5 5 6 4 6 5 1 4 2 5 3 4 5 5 4 4 7 5 6 4 4 5 4 4 3 5 2 4 6 5 2 4 3 5 3 4 3 5 2 4 5 5 3 4 3 5 4 4 7 5 1 4 4 5 3 4 3 5 5 4 5 5 4 4 3 5 7 4 4 5 4 4 3 5 4 4 4 5 2 4 4 5 2 4 3 5 2 4 5 5 2 4 4 5 6 4 3 5 2 4 3 5 2 4 3 5 1 4 4 5 6 4 2 5 3 4 4 5 1 4 4 5 4 4 3 5 4 4 5 5-1M1215 363l4 6 5 2 4 4 5 3 4 2 5 4 4 7 5 2 4 2 5 1 4 7 5 5 4 2 5 2 4 3 5 4 4 0 5 3 4 4 5 3 4 3 5 4 4 5 5 2 4 2 5 1 4 2 5 3 4 3 5 1 4 2 5 4 4 6 5 3 4 5 5 5 4 2 5 1 4 3 5 3 4 1 5 3 4 3 5 3 4 3 5 2 4 1 5 2 4 2 5 2 4-1 5 1 4 2 5 0 4 3 5 3 4 3 5 0 4-1 5-1 4 3 5 2 4 0 5 1 4 0M1318 340l5 5 4 7 5 3 4 6 5 3 4 2 5 3 4 3 5 4 4 6 5 3 4 4 5 3 4 5 5 4 4 3 5 2 4 5 5 5 4 3 5 3 4 5 5 4 4 3 5 0 4 3 5 2 4 2 5 4 4 4 5 4 4 3 5 1 4 0 5 4 4 5 5 0 4 3 5 3 4 4 5-1 4 2 5 1 4 2 5 6 4 1 5 3 4 4 5 3 4 0 5 5M1319 400l5 2 4 1 5 4 4 2 5 2 4 6 5 3 4 4 5 3 4 4 5 3 4 2 5 3 4 3 5 2 4 4 5 4 4 2 5 1 4 2 5 2 4 3 5 2 4 2 5 0 4 0 5 4 4 2 5-2 4 4 5 2 4 4 5 3 4 3 5 2 4 3 5 2 4 1 5 0 4 1 5 3 4 1 5 4 4 3 5 3 4 0 5 2 4 0 5 0M1338 383l5 3 4 3 5 4 4 4 5 1 4 4 5 4 4 5 5 3 4 4 5 3 4 2 5 3 4 3 5 3 4 4 5 4 4 2 5 4 4 2 5 3 4 1 5 4 4 1 5 0 4 2 5 3 4 3 5 3 4 3 5 1 4 4 5 1 4 1 5 0 4 0 5 2 4 1 5 1 4 1 5 0 4 6 5 3 4 1 5 1 4 0 5 1M1421 456l5 1 4 6 5 2 4 2 5 2 4 4 5 1 4 3 5 6 4 2 5 0 4 0 5 3 4 0 5 0 4 2 5 2 4 2 5 2 4 2 5 2 4 0 5 5 4 2 5 3 4 3 5 1 4-2 5 0 4 2 5-1 4 2 5 2 4 0M1241 348l4 3 5 4 4 3 5 3 4 7 5 1 4 5 5 4 4 0 5 3 4 2 5 2 4 4 5 7 4 7 5 5 4 3 5 4 4 3 5 3 4 5 5 4 4 3 5 5 4 3 5 2 4 1 5 5 4 4 5 3 4 2 5 2 4 2 5 4 4 2 5 3 4 4 5 3 4 2 5 1 4 3 5 4 4 2 5-2 4 3 5 3 4 2 5 2 4 2 5 1 4 1 5 3 4 5 5 1 4 0 5 2 4 2 5 1 4 2 5 4 4 3 5 2M1328 346l4 3 5 4 4 3 5 4 4 7 5 4 4 3 5 3 4 2 5 1 4 3 5 5 4 3 5 2 4 3 5 4 4 4 5 1 4 3 5 4 4 5 5 2 4 3 5 3 4 4 5 1 4 3 5 5 4 2 5 0 4 3 5 3 4 3 5 2 4 0 5 1 4 3 5 5 4 4 5 0 4 3 5 3 4 2 5 2 4 2M1364 446l5 2 4 4 5 3 4 1 5 1 4 4 5 3 4 4 5 0 4 2 5 3 4 6 5 2 4 3 5 2 4 1 5 1 4 3 5 2 4 2 5 1 4 1 5 0 4 2 5 2 4 4 5 1 4 2 5 2 4 1 5 0 4 3 5-1 4 1 5-1 4 1 5 2 4-1 5 1 4 1 5 2 4 3 5 2 4 2" stroke="#4DBEEE"/><path d="M1331 367l4 5 5 2 4 4 5 5 4 4 5 2 4 2 5 2 4 1 5 3 4 3 5 5 4 4 5 2 4 3 5 0 4 4 5 6 4 2 5 1 4 0 5 4 4 2 5 1 4 3 5 1 4 3 5 3 4 3 5 2 4 2 5 2 4 4 5 0 4 2 5 2 4 0 5 4 4 5 5 1 4 0 5 3 4 2 5 2M1180 269l4 5 5 4 4 3 5 3 4 5 5 6 4 2 5 5 4 3 5 5 4 6 5 7 4 5 5 4 4 3 5 3 4 4 5 5 4 3 5 3 4 3 5 3 4 3 5 5 4 3 5 2 4 4 5 6 4 4 5 1 4 4 5 3 4 3 5 3 4 3 5 3 4 3 5 6 4 5 5 3 4 2 5 2 4 3 5 4 4 6 5 2 4 2 5 1 4 4 5 5 4 2 5 3 4 3 5 2 4 2 5 1 4 1 5 5 4 2 5 2 4 3 5 3 4 3 5 3 4 3 5 1M1213 249l5 3 4 4 5 5 4 6 5 4 4 6 5 3 4 4 5 2 4 5 5 4 4 5 5 5 4 2 5 2 4 4 5 4 4 3 5 4 4 4 5 2 4 3 5 4 4 3 5 4 4 5 5 3 4 3 5 4 4 5 5 3 4 3 5 4 4 4 5 2 4 4 5 4 4 2 5 4 4 4 5 2 4 1 5 4 4 5 5 3 4 4 5 2 4 5 5 2 4-1 5 3 4 5 5 2 4 2 5 4 4 2 5 3 4 1 5 4 4 1 5 3 4 4 5 1 4 1M1252 276l4 3 5 4 4 3 5 2 4 4 5 4 4 3 5 5 4 2 5 5 4 4 5 3 4 5 5 3 4 6 5 4 4 3 5 3 4 4 5 3 4 5 5 3 4 2 5 4 4 3 5 5 4 4 5 2 4 5 5 5 4 3 5 3 4 4 5 1 4 2 5 2 4 6 5 2 4 2 5 1 4 2 5 4 4 2 5 3 4 5 5 5 4 2 5 0 4 3 5 3 4 3 5 4 4 4 5 3 4 3M1367 378l4 3 5 3 4 4 5 3 4 3 5 3 4 5 5 1 4 3 5 4 4 3 5 2 4 5 5 3 4 2 5 1 4 2 5 3 4 5 5 4 4 1 5 3 4 5 5 2 4 0 5 2 4 4 5 5 4 0 5 3 4 2 5 3 4 4 5 3 4 4 5 3 4 0 5 2 4 1 5 3M1234 274l4 6 5 5 4 1 5 2 4 6 5 5 4 1 5 3 4 3 5 2 4 3 5 3 4 5 5 5 4 2 5 3 4 5 5 3 4 4 5 8 4 5 5 7 4 1 5 2 4 2 5 2 4 4 5 4 4 2 5 3 4 5 5 2 4 1 5 2 4 4 5 4 4 0 5 5 4 4 5 1 4 3 5 7 4 3 5 3 4 2 5 0 4 3 5 4 4 2 5 2 4 4 5 4 4 3 5 3 4 4 5 2 4 3 5 3M1199 294l4 5 5 4 4 3 5 2 4 6 5 4 4 6 5 3 4 6 5 1 4 2 5 4 4 4 5 1 4 3 5 5 4 4 5 0 4 2 5 6 4 5 5 1 4 2 5 3 4 2 5 3 4 3 5 3 4 5 5 4 4 2 5 1 4 3 5 3 4 3 5 3 4 1 5 2 4 5 5 2 4 3 5 5 4 3 5 1 4 1 5 3 4 3 5 4 4 2 5 4 4 2 5 2 4 1 5 0 4 3 5 3 4 2 5 4 4 2 5 1 4 2M1123 290l4 4 5 1 4 4 5 4 4 4 5 3 4 4 5 6 4 5 5 3 4 3 5 6 4 4 5 4 4 1 5 1 4 3 5 3 4 3 5 2 4 6 5 3 4 5 5 2 4 1 5 5 4 3 5 0 4 3 5 3 4 3 5 3 4 3 5 4 4 0 5 3 4 3 5 1 4 4 5 4 4 2 5 2 4 5 5 3 4 1 5 4 4 3 5 3 4 4 5 4 4 2 5 3 4 3 5 4 4 6 5 5 4 1 5 2 4 3 5 1 4 1 5 2 4 1 5 3 4 2 5 1 4-1 5 2 4 4 5 2 4 2 5 5 4 0 5 0 4 1M1304 311l4 4 5 5 4 5 5 4 4 3 5 1 4 6 5 5 4 3 5 6 4 5 5 3 4 2 5 4 4 3 5 4 4 5 5 7 4-1 5 3 4 4 5 3 4 4 5 4 4 2 5 1 4 4 5 3 4 1 5 2 4 4 5 4 4 3 5 2 4 6 5 2 4 2 5 1 4 5 5 3 4 3 5 3 4 3 5 3 4 3 5 0 4 3 5 4 4 3 5 1M1203 258l5 3 4 7 5 6 4 5 5 4 4 5 5 3 4 3 5 5 4 4 5 2 4 4 5 4 4 4 5 0 4 3 5 6 4 4 5 2 4 1 5 3 4 3 5 4 4 3 5 5 4 5 5 3 4 5 5 3 4 3 5 3 4 4 5 5 4 3 5 1 4 3 5 4 4 4 5 3 4 5 5 3 4 3 5 2 4 3 5 2 4 3 5 5 4 4 5 3 4 4 5 2 4 2 5 4 4 6 5 3 4 2 5 2 4 4 5 4 4 3 5 1M1146 280l5 6 4 4 5 2 4 5 5 5 4 3 5 5 4 4 5 2 4 3 5 3 4 3 5 3 4 5 5 2 4 4 5 5 4 7 5 4 4 4 5 5 4 3 5 2 4 1 5 5 4 4 5 5 4 4 5 2 4 3 5 3 4 2 5 3 4 3 5 3 4 3 5 4 4 3 5 3 4 2 5 6 4 4 5 4 4 1 5 2 4 4 5 1 4 1 5 5 4 1 5 4 4 3 5 2 4 3 5 3 4 2 5 0 4 2 5 4 4 3 5 2 4 2 5 1 4 5 5 2 4 3 5 2 4 0 5 1 4 3 5 4 4 1 5 2 4 3M1260 346l5 3 4 2 5 5 4 1 5 2 4 4 5 3 4 2 5 2 4 3 5 3 4 3 5 3 4 6 5 4 4 4 5 5 4 2 5 3 4 2 5 5 4 4 5 4 4 4 5 3 4 3 5 3 4 3 5 2 4 1 5 2 4 3 5 3 4 4 5 4 4 5 5 3 4 1 5 2 4 3 5 2 4 0 5 2 4 2 5 0 4 2 5 2 4 1 5 3 4 3 5 2 4 2 5 1 4 2 5 2 4 0 5 0 4 1M1307 382l5 3 4 5 5 3 4 3 5 3 4 4 5 2 4 2 5 3 4 5 5 3 4 4 5 2 4 6 5 3 4 3 5 0 4 2 5 4 4 1 5 1 4 2 5 4 4 4 5 6 4 1 5 1 4 2 5 4 4 3 5 2 4 1 5 3 4 2 5 3 4 2 5 1 4 1 5 3 4 3 5 3 4 1 5 2 4 3 5 1 4 3 5 2 4 1 5 2 4 2 5 3M1279 337l4 3 5 1 4 4 5 4 4 3 5 3 4 4 5 6 4 3 5 1 4 4 5 7 4 3 5 3 4 4 5 4 4 1 5 3 4 4 5 3 4 6 5 2 4 1 5 5 4 2 5 3 4 2 5 4 4 2 5 2 4 2 5 3 4 4 5 2 4 3 5 3 4 2 5 1 4 4 5 4 4 3 5 3 4 4 5 2 4 1 5 3 4 4 5 1 4 2 5 1 4 2 5 2 4 3 5 2M1205 289l5 6 4 4 5 4 4 3 5 3 4 0 5 4 4 1 5 5 4 6 5 3 4 1 5 2 4 3 5 6 4 5 5 2 4 2 5 4 4 4 5 5 4 2 5 3 4 3 5 2 4 5 5 5 4 1 5 3 4 2 5 4 4 3 5 4 4 2 5 3 4 4 5 6 4 3 5 1 4 2 5 2 4 5 5 3 4 1 5 1 4 4 5 5 4 3 5 3 4 3 5 0 4 2 5 2 4 2 5 1 4 3 5 1 4 2 5 1 4 1 5 0M1164 282l5 1 4 2 5 4 4 3 5 3 4 5 5 4 4 4 5 4 4 2 5 3 4 4 5 3 4 6 5 5 4 5 5 2 4 5 5 8 4 0 5 1 4 1 5 4 4 3 5 3 4 2 5 2 4 4 5 2 4 2 5 5 4 3 5 3 4 5 5 4 4 5 5 3 4 4 5 4 4 3 5 3 4 6 5 3 4 3 5 2 4 1 5 1 4 2 5 4 4 2 5 2 4 2 5 6 4 6 5 1 4 3 5 4 4 2 5 3 4 2 5 1 4 0 5 1 4 3 5 4 4 3 5 2 4 1 5 4 4 2 5 2M1202 286l4 1 5 2 4 6 5 6 4 5 5 4 4 5 5 4 4 4 5 1 4 4 5 5 4 0 5 1 4 4 5 2 4 3 5 3 4 3 5 2 4 5 5 4 4 2 5 4 4 2 5 5 4 2 5 2 4 3 5 3 4 7 5 2 4 2 5 5 4 3 5 1 4 4 5 2 4 4 5 5 4 2 5 4 4 3 5 5 4 0 5 2 4 4 5 5 4 2 5 2 4 5 5 5 4 1 5 0 4 3 5 4 4 3 5 1 4 2 5 3 4 3 5 4 4 1 5 1M1423 477l4 3 5 2 4 2 5 2 4 0 5 1 4 4 5 0 4 3 5 3 4 0 5 2 4-2 5 1 4 3 5 0 4 1 5 1 4 1 5 1 4 2 5 4 4 2 5 2 4 2 5 2 4 2 5-2 4 2 5 1 4 0 5 1 4 2M1302 427l4 5 5 4 4 2 5 3 4 2 5 2 4 5 5 3 4 3 5 3 4 2 5 3 4 4 5 4 4 4 5 1 4 1 5 3 4 4 5 4 4 2 5 4 4 2 5 2 4 2 5 0 4 0 5 2 4 3 5 1 4 1 5 1 4 2 5 1 4 0 5 4 4 2 5 1 4 0 5 1 4 0 5 0 4 0 5 3 4 3 5-1 4 2 5 2 4 2 5-1 4 2 5 0M1181 308l4 5 5 5 4 4 5 4 4 2 5 3 4 2 5 5 4 5 5 1 4 5 5 4 4 4 5 3 4 5 5 4 4 3 5 1 4 1 5 4 4 6 5 2 4 1 5 3 4 3 5 4 4 2 5 3 4 2 5 2 4 3 5 2 4 4 5 3 4 2 5 0 4 3 5 5 4 4 5 3 4 4 5 3 4 2 5 4 4 1 5 5 4 3 5 4 4 5 5 3 4 2 5 2 4 1 5 2 4 2 5 4 4 3 5 0 4 1 5 1 4 2 5 1 4 1 5 4 4 2 5 2 4 2M1106 264l4 5 5 2 4 1 5 3 4 4 5 4 4 3 5 4 4 5 5 0 4 5 5 4 4 6 5 3 4 5 5 5 4 2 5 4 4 3 5 1 4 2 5 3 4 5 5 4 4 2 5 0 4 4 5 5 4 5 5 3 4 4 5 2 4 3 5 1 4 2 5 4 4 6 5 3 4 4 5 2 4 3 5 4 4 4 5 2 4 3 5 4 4 4 5 2 4 3 5 2 4 3 5 6 4 5 5 4 4 4 5 3 4 4 5 1 4-1 5 4 4 7 5 2 4 2 5 1 4 2 5 2 4 0 5 4 4 2 5 1 4 1 5 4 4 2 5 1 4 1 5 0 4 2 5 1 4 2 5 0M1441 481l5 3 4 1 5 2 4 2 5 2 4-1 5 3 4 1 5 4 4 1 5 0 4-1 5 2 4 0 5 1 4 0 5 3 4 1 5 2 4 2 5 2 4 2 5 2 4 1 5 3 4 2 5 1 4 1 5 1 4 4 5 2 4 2" stroke="#77AC30"/><path d="M1036 127l5 3 4 1 5 6 4 2 5 3 4 4 5 2 4 6 5 7 4 4 5 2 4 5 5 2 4 3 5 4 4 3 5 5 4 3 5 5 4 4 5 3 4 1 5 3 4 5 5 4 4 3 5 4 4 5 5 3 4 3 5 4 4 5 5 6 4 6 5 4 4 4 5 2 4 6 5 6 4 4 5 2 4 3 5 5 4 5 5 3 4 4 5 3 4 5 5 4 4 3 5 2 4 3 5 3 4 2 5 2 4 5 5 3 4 2 5 2 4 3 5 5 4 4 5 4 4 4 5 3 4 2 5 3 4 2 5 3 4 5 5 3 4 4 5 2 4 3 5 5 4 3 5 2 4 2 5 3 4 3 5 3 4 6 5 2 4 3M1431 487l4 1 5 1 4 3 5 1 4 2 5 3 4 0 5 0 4 1 5 3 4 4 5 1 4 2 5-1 4 1 5 0 4 3 5 1 4 2 5 2 4 2 5 2 4 1 5 0 4 0 5 1 4 3 5 2 4 1 5 2 4 2 5 0 4 1 5 1 4 1 5-2 4 0M1253 362l4 1 5 3 4 5 5 3 4 2 5 2 4 2 5 6 4 1 5 5 4 4 5 2 4 3 5 5 4 1 5 5 4 4 5 4 4 2 5 4 4 5 5 1 4 4 5 3 4 2 5 2 4 3 5 3 4 3 5 0 4-2 5 5 4 6 5 3 4 4 5 2 4 2 5 2 4 2 5 2 4 3 5 4 4 2 5 2 4 0 5 2 4 2 5 1 4 1 5 3 4 4 5 0 4 1 5 3 4 4 5 0 4-2 5 2M1396 423l4 3 5 4 4 4 5 5 4 4 5 3 4 5 5 3 4 2 5 0 4 1 5 2 4 1 5 1 4 3 5 0 4 3 5 5 4 4 5 1 4 1 5 2 4 3 5 3 4 2 5 3 4 3 5 1 4 3 5 3 4 3 5 1 4 2 5 2 4 2 5 1M1339 427l5 2 4 2 5 1 4 1 5 2 4 5 5 3 4 5 5 4 4 3 5 1 4 3 5 4 4 3 5 0 4-1 5 2 4 3 5 3 4 1 5 0 4-1 5 2 4 3 5 1 4 3 5 3 4 1 5 3 4 0 5 2 4 3 5 1 4 1 5 2 4 4 5 4 4 0 5 0 4 0 5 2 4 0M1319 394l4 3 5 3 4 2 5 3 4 5 5 4 4 2 5 3 4 1 5 2 4 0 5 1 4 5 5 3 4 3 5 3 4 1 5 2 4 4 5 3 4 4 5 1 4 1 5 1 4 2 5 2 4 1 5 2 4 4 5 1 4 2 5 2 4 3 5 1 4 2 5 1 4 2 5 2 4 1 5 2 4 2 5 2 4-1 5 6 4 1 5 0 4 2M1155 186l4 5 5 4 4 5 5 6 4 4 5 3 4 5 5 1 4 5 5 6 4 5 5 3 4 5 5 5 4 6 5 2 4 2 5 5 4 7 5 5 4 4 5 4 4 3 5 2 4 2 5 3 4 2 5 1 4 3 5 5 4 3 5 5 4 6 5 4 4 3 5 5 4 4 5 5 4 0 5 3 4 3 5 5 4 3 5 3 4 4 5 2 4 3 5 5 4 3 5 2 4 3 5 4 4 5 5 6 4 4 5 4 4 3 5 2 4 3 5 5 4 4 5 2 4 2 5 5 4 5 5 4 4 3 5 3 4 2 5 1 4 3M1429 445l4 4 5 7 4 3 5 2 4 1 5 3 4 2 5 0 4 3 5 4 4 1 5 0 4 2 5 0 4 3 5 3 4 2 5 3 4 3 5 2 4 4 5 2 4 3 5 4 4-1 5 0 4 2 5 0 4 4 5 3 4 2 5 1 4 0 5 2 4 1 5 1M1419 457l5 1 4 1 5 1 4 2 5 4 4 4 5 0 4 2 5 1 4 0 5 3 4 2 5 0 4 3 5 2 4 1 5 3 4 1 5 2 4 2 5 1 4 0 5 6 4 2 5 2 4 0 5 2 4 4 5 1 4 0 5 4 4 4 5 3 4 0 5-3 4 2 5 4 4 3M1446 447l5 3 4 3 5 3 4 0 5 2 4 4 5 2 4 4 5 2 4 3 5 2 4-1 5 0 4 5 5 3 4 2 5 3 4 2 5 1 4 2 5 2 4 3 5 3 4 1 5 1 4-1 5 3 4 0 5 2 4 5 5 2 4 2 5 2M1367 392l4 3 5 3 4 5 5 3 4 1 5 3 4 4 5 3 4 3 5 1 4 3 5 5 4 5 5 3 4 1 5 4 4 4 5 3 4 3 5 3 4 0 5 2 4 2 5 4 4 3 5 2 4 3 5 4 4 2 5 0 4 2 5 2 4 4 5 3 4 3 5 3 4 0 5 2 4 2 5 0 4 1 5 3 4 2M1292 393l4 4 5 3 4 1 5 3 4 4 5 5 4 4 5 3 4 4 5 4 4 2 5 3 4 1 5 4 4 3 5 4 4 5 5 5 4 3 5 0 4 1 5 2 4 2 5 3 4 1 5 3 4 3 5 1 4 3 5 3 4 0 5 2 4 2 5 2 4 2 5 1 4 0 5 1 4 0 5 1 4 3 5 2 4 4 5 1 4 2 5 1 4-1 5 1 4 0 5 1 4 2 5 2 4 1M1170 249l5 2 4 3 5 4 4 5 5 2 4 3 5 4 4 5 5 3 4 3 5 5 4 4 5 3 4 4 5 5 4 3 5 1 4 1 5 2 4 6 5 5 4 3 5 3 4 5 5 5 4 4 5 3 4 3 5 6 4 4 5 2 4 4 5 4 4 4 5 3 4 2 5 6 4 3 5 3 4 5 5 4 4 2 5 2 4 5 5 4 4 3 5 1 4 4 5 3 4 3 5 4 4 4 5 2 4 3 5 3 4 3 5 5 4 3 5 1 4 3 5 4 4 2 5 5 4 3 5 2 4 2 5 1 4 4 5 2 4 1M1146 187l4 1 5 4 4 4 5 4 4 5 5 8 4 3 5 5 4 2 5 3 4 6 5 4 4 4 5 3 4 4 5 3 4 6 5 5 4 4 5 5 4 5 5 6 4 0 5 2 4 5 5 4 4 5 5 3 4 1 5 3 4 2 5 3 4 4 5 2 4 5 5 5 4 4 5 4 4 0 5 3 4 4 5 5 4 6 5 4 4 3 5 2 4 4 5 4 4 4 5 3 4 2 5 3 4 5 5 4 4 3 5 2 4 3 5 5 4 3 5 4 4 5 5 5 4 4 5 3 4 4 5 4 4 2 5 0 4 4 5 5 4 4 5 1 4 2 5 6M1302 426l4 5 5 1 4 2 5 1 4 4 5 3 4 3 5 2 4 6 5 2 4 1 5 2 4 4 5 5 4 4 5 3 4 2 5 0 4 4 5 3 4 1 5 2 4 4 5 3 4 2 5 1 4 4 5 3 4 0 5 2 4 2 5 1 4 3 5 0 4 1 5 3 4 2 5 2 4 0 5 2 4-1 5 0 4 3 5 0 4 1 5 1 4-1 5 0 4-1 5 2 4 2M1436 412l4 3 5 4 4 7 5 5 4 1 5 3 4 4 5 4 4 4 5 2 4 3 5 4 4 3 5 3 4 3 5 3 4 2 5-1 4 2 5 5 4 6 5 3 4 2 5 3 4 2 5 1 4 2 5 4 4 1 5 3 4 3 5 4M1445 425l4 3 5 5 4 3 5 4 4 3 5 3 4 4 5 2 4 1 5 4 4 6 5 2 4 3 5 3 4 5 5 3 4 2 5 2 4 1 5 3 4 3 5 2 4 2 5 2 4 1 5 3 4 4 5 3 4 2 5 1M1140 306l5 6 4 3 5 3 4 3 5 4 4 3 5 5 4 5 5 4 4 2 5 3 4 3 5 3 4 3 5 3 4 4 5 4 4 4 5 3 4 1 5 3 4 2 5 4 4 4 5 2 4 2 5 0 4 4 5 4 4 4 5 5 4 5 5 3 4 2 5 2 4 4 5 4 4 2 5 2 4 2 5 4 4 2 5 2 4 3 5 3 4 3 5 0 4 3 5 5 4 3 5 1 4 2 5 1 4 3 5 2 4 3 5 3 4 2 5-1 4 4 5 2 4 3 5 0 4 4 5-1 4 1 5 2 4 0 5 1 4 0 5 4 4 1M1268 390l5 3 4 3 5 4 4 3 5 2 4 3 5 3 4 3 5 1 4 3 5 3 4 5 5 4 4 4 5 1 4 1 5 3 4 4 5 4 4 4 5 3 4 5 5 1 4 5 5 5 4 4 5 3 4 2 5-1 4 1 5 4 4 1 5 3 4 3 5 2 4 1 5 1 4 2 5 2 4 1 5 4 4 4 5 2 4 2 5 1 4 2 5 0 4 0 5 1 4 0 5 3 4 0 5 0 4 3 5 2 4 2 5-1M1317 343l5 4 4 5 5 2 4 3 5 4 4 5 5 5 4 4 5 3 4 4 5 2 4 3 5 4 4 4 5 4 4 4 5 3 4 3 5 4 4 4 5 2 4 4 5 4 4 3 5 4 4 3 5 3 4 1 5 4 4 6 5 3 4 2 5 2 4 3 5 4 4 4 5 1 4 1 5 0 4 2 5 3 4 3 5 3 4 3 5 2 4 4 5 3 4 3M1305 313l4 2 5 6 4 3 5 7 4 2 5 3 4 4 5 4 4 5 5 4 4 2 5 4 4 5 5 3 4 6 5 3 4 2 5 3 4 3 5 3 4 4 5 3 4 5 5 4 4 3 5 3 4 2 5 3 4 2 5 5 4 5 5 4 4 3 5 3 4 1 5 3 4 2 5 1 4 2 5 3 4 2 5 1 4 3 5 3 4 2 5 5 4 4 5 3" stroke="#7E2F8E"/><path d="M1085 207l5 3 4 4 5 6 4 3 5 5 4 4 5 4 4 3 5 5 4 3 5 3 4 2 5 4 4 6 5 3 4 1 5 5 4 4 5 2 4 4 5 7 4 5 5 1 4 3 5 5 4 3 5 3 4 4 5 5 4 3 5 3 4 4 5 4 4 5 5 5 4 4 5 2 4 1 5 2 4 2 5 5 4 3 5 4 4 4 5 4 4 2 5 1 4 5 5 4 4 3 5 2 4 2 5 6 4 4 5 2 4 3 5 4 4 4 5 3 4 1 5 5 4 2 5 3 4 3 5 4 4 2 5 3 4 3 5 3 4 2 5 1 4 3 5 2 4 3 5 3 4 2 5 3 4 1 5 1 4 3 5 1 4 0M1374 422l4 4 5 5 4 3 5 2 4 3 5 5 4 3 5 3 4 2 5 2 4 2 5 3 4 4 5 1 4 3 5 1 4 1 5 4 4 2 5 4 4 1 5-1 4 2 5 0 4 2 5 4 4 1 5 2 4 3 5 1 4 3 5 1 4 1 5 3 4 2 5-1 4-1 5 3 4 1 5 1M1416 471l5 4 4 3 5 0 4 2 5 1 4 4 5 1 4 3 5 3 4 1 5-1 4 0 5 2 4 3 5 4 4 3 5 0 4 1 5 3 4 2 5 3 4 2 5 2 4 1 5 2 4 3 5-1 4 1 5-1 4 1 5 3 4 3M1328 433l5 3 4 5 5 4 4 3 5 0 4 3 5 3 4 2 5 5 4 2 5 2 4 1 5 1 4 4 5 3 4 2 5 1 4 3 5 2 4 3 5 2 4 2 5 2 4 1 5 2 4 0 5 3 4 0 5 1 4 6 5 2 4 1 5 1 4 0 5 3 4 0 5 2 4 1 5 1 4 1 5 1 4 2 5 0 4 0 5 2M1370 375l5 5 4 4 5 3 4 2 5 3 4 2 5 5 4 4 5 3 4 3 5 2 4 5 5 6 4 2 5 5 4 2 5 0 4 2 5 4 4 4 5 2 4 3 5 3 4 3 5 6 4 3 5 2 4 1 5 3 4 2 5 2 4 2 5 3 4 1 5 1 4 3 5 3 4 3 5 0 4-1 5 3 4 5M1132 229l4 4 5 4 4 4 5 1 4 2 5 5 4 6 5 5 4 3 5 4 4 3 5 4 4 4 5 4 4 3 5 4 4 3 5 2 4 3 5 4 4 5 5 5 4 3 5 5 4 1 5 1 4 4 5 6 4 3 5 3 4 2 5 3 4 4 5 3 4 3 5 5 4 5 5 4 4 3 5 4 4 2 5 1 4 5 5 3 4 1 5 3 4 6 5 3 4 3 5 3 4 4 5 2 4 3 5 4 4 3 5 3 4 4 5 4 4 2 5 0 4 2 5 2 4 4 5 2 4 2 5 2 4 2 5 2 4 3 5 3 4 3 5 2 4 2M1260 310l4 4 5 4 4 3 5 3 4 3 5 4 4 7 5 3 4 3 5 4 4 2 5 4 4 3 5 1 4 4 5 4 4 4 5 2 4 4 5 5 4 2 5 2 4 4 5 2 4 3 5 4 4 3 5 4 4 2 5 2 4 3 5 3 4 4 5 2 4 2 5 3 4 4 5 4 4 1 5 3 4 2 5 2 4 3 5 2 4 0 5 2 4 3 5 3 4 4 5 3 4 3 5 3 4 3 5 5M1318 370l4 4 5 5 4 4 5 4 4 3 5 3 4 3 5 3 4 3 5 3 4 1 5 3 4 2 5 3 4 4 5 3 4 3 5 3 4 4 5 5 4 3 5 3 4 2 5 4 4 4 5 4 4 0 5 4 4 1 5 2 4 2 5 3 4 1 5 2 4 3 5 2 4 2 5 5 4 4 5-1 4 3 5 1 4 2 5 1 4 4 5 1 4 6 5 1M1296 377l5 3 4 3 5 3 4 2 5 1 4 4 5 5 4 6 5 2 4 4 5 4 4 5 5 5 4 3 5 2 4 2 5 6 4 5 5 0 4-1 5 4 4 4 5 3 4 4 5 1 4 0 5 3 4 4 5 3 4 2 5 1 4 0 5 1 4 4 5 1 4 2 5 2 4 3 5 4 4 4 5 1 4 2 5 2 4-1 5 0 4 2 5 3 4 2 5 1 4 2 5 1 4 3 5 0M1223 247l5 4 4 6 5 4 4 8 5 4 4 3 5 3 4 5 5 7 4 5 5 2 4 3 5 3 4 6 5 5 4 4 5 0 4 2 5 3 4 5 5 4 4 3 5 3 4 3 5 4 4 4 5 3 4 6 5 3 4 2 5 2 4 4 5 6 4 4 5 5 4 4 5 6 4 4 5 4 4 1 5 4 4 3 5 3 4 3 5 3 4 4 5 3 4 6 5 5 4 3 5 1 4 3 5 2 4 1 5 3 4 6 5 4M1163 188l4 6 5 6 4 2 5 4 4 6 5 5 4 4 5 4 4 3 5 5 4 5 5 4 4 4 5 4 4 4 5 4 4 6 5 4 4 7 5 3 4 3 5 2 4 5 5 3 4 4 5 4 4 3 5 5 4 4 5 5 4 3 5 6 4 5 5 2 4 2 5 6 4 3 5 4 4 3 5 3 4 4 5 5 4 4 5-1 4 2 5 2 4 3 5 3 4 5 5 5 4 4 5 5 4 2 5 3 4 2 5 3 4 4 5 4 4 4 5 2 4 2 5 1 4 3 5 1 4 2 5 4M1370 423l4 2 5 5 4 0 5 2 4 2 5 3 4 6 5 2 4 2 5 4 4 2 5 2 4 3 5 3 4 3 5 4 4 4 5 2 4 1 5 3 4-1 5 2 4 1 5 2 4 1 5-1 4 3 5 5 4 2 5 1 4 0 5 1 4 2 5 2 4 2 5 3 4 1 5 1 4 0 5 3 4 1M1253 363l4 5 5 4 4 4 5 4 4 1 5 5 4 4 5-2 4 4 5 5 4 5 5 4 4 3 5 1 4 3 5 2 4 4 5 4 4 5 5 4 4 5 5 3 4 4 5 3 4 3 5 4 4 3 5 3 4 3 5 4 4 3 5 3 4 1 5 4 4 4 5 1 4 3 5 1 4 1 5 4 4 2 5 0 4 0 5 2 4 3 5 0 4 2 5 3 4 2 5 0 4 0 5 3 4 0 5 2 4 1 5-1M1400 472l5 1 4 3 5 1 4 2 5 3 4 2 5 2 4 3 5 1 4 2 5 0 4 3 5 0 4 2 5 4 4 4 5 1 4 2 5 0 4 1 5 1 4 5 5 2 4 2 5 1 4 1 5 3 4 0 5 1 4 0 5 3 4 2 5-1 4 1 5 4 4 0M1428 443l4 1 5 0 4 4 5 4 4 1 5 4 4 4 5 3 4 3 5 0 4 1 5 3 4 2 5 3 4 4 5 2 4 2 5 2 4 2 5 3 4-1 5 3 4 3 5 3 4 5 5 2 4 3 5 1 4 3 5 2 4 2 5 2 4 1 5 0M1236 386l5 4 4 3 5 3 4 1 5 1 4 0 5 2 4 3 5 3 4 3 5 4 4 4 5 4 4 3 5 1 4 2 5 2 4 3 5 2 4 4 5 3 4 3 5 5 4 3 5 3 4 3 5 3 4 5 5 2 4 2 5-1 4 2 5 3 4 2 5 2 4 2 5 4 4 1 5 2 4 3 5 3 4 2 5 1 4 2 5 0 4 3 5 3 4 2 5 1 4 1 5 2 4 0 5 1 4 1 5 6 4-1 5 1 4 0M1352 372l4 3 5 4 4 3 5 4 4 1 5 4 4 4 5 4 4 3 5 4 4 0 5 4 4 5 5 3 4 1 5 2 4 2 5 3 4 1 5 3 4 2 5 2 4 3 5 4 4 3 5 3 4 7 5 5 4 2 5 2 4 2 5 2 4 2 5 1 4 4 5 5 4 4 5 3 4 4 5 2 4 2 5 2M1321 359l5 2 4 2 5 4 4 5 5 3 4 6 5 4 4 2 5 4 4 4 5 2 4 2 5 4 4 4 5 4 4 2 5 1 4 5 5 4 4 3 5 4 4 1 5 1 4 3 5 2 4 2 5 1 4 3 5 3 4 3 5 1 4 5 5 2 4 4 5 1 4 2 5 2 4 5 5 2 4 2 5 3 4 4 5 3 4 3 5 3 4 2 5 0 4 3M1422 460l5 2 4 4 5 0 4 3 5 3 4 3 5 3 4 2 5 2 4 4 5 2 4 3 5 5 4 1 5 1 4 2 5 1 4 2 5 2 4 3 5 0 4-3 5 2 4 2 5 0 4 1 5 3 4 3 5 3 4 1 5 3 4 2 5 2 4 1 5 2M1167 228l4 3 5 4 4 5 5 5 4 4 5 3 4 5 5 4 4 4 5 3 4 3 5 5 4 6 5 2 4 4 5 5 4 4 5 4 4 4 5 3 4 3 5 6 4 4 5 1 4 4 5 2 4 3 5 4 4 4 5 3 4 3 5 6 4 4 5 3 4 4 5 6 4 4 5 3 4 4 5 3 4 5 5 4 4 2 5 1 4 4 5 3 4 4 5 3 4 3 5 3 4 2 5 4 4 3 5 4 4 2 5 2 4 4 5 5 4 1 5 2 4 4 5 4 4 2 5 1 4 3 5 4M1092 166l5 3 4 4 5 2 4 2 5 3 4 4 5 4 4 5 5 3 4 5 5 4 4 1 5 1 4 5 5 6 4 5 5 7 4 3 5 4 4 3 5 5 4 2 5 6 4 6 5 4 4 6 5 5 4 5 5 3 4 3 5 5 4 4 5 3 4 5 5 0 4 2 5 2 4 3 5 2 4 5 5 3 4 1 5 2 4 5 5 1 4 4 5 2 4 5 5 6 4 5 5 4 4 2 5 3 4 4 5 3 4 6 5 2 4 3 5 4 4 5 5 4 4 3 5 4 4 5 5 4 4 3 5 3 4 3 5 2 4 3 5 1 4 3 5 1 4 4 5 5 4 0 5 3 4 3M1280 402l5 2 4 4 5 3 4 4 5 2 4 2 5 3 4 3 5 3 4 3 5 4 4 4 5 4 4 4 5 4 4 4 5 5 4 3 5 2 4 3 5 2 4 4 5 2 4 3 5 1 4 2 5 2 4 1 5 3 4 4 5 2 4 1 5 1 4 2 5 3 4 1 5 2 4 1 5 3 4 1 5 0 4 1 5 2 4 3 5 0 4 0 5 1 4 2 5 1 4 0 5 0 4-1 5 0M1419 492l4 2 5 3 4-1 5 3 4 0 5 2 4 2 5 2 4 2 5 2 4 2 5 2 4 2 5 1 4-1 5 1 4 0 5 2 4 2 5 1 4 3 5 0 4 3 5 1 4 2 5 3 4 1 5-1 4 0 5-1 4 3 5-1 4-3 5-2 4 2 5 1 4 1M1493 469l4 3 5 2 4 2 5 2 4 2 5 4 4 3 5 4 4 2 5 2 4 1 5 5 4 2 5 1 4-2 5 4 4 3 5 4 4 2 5 1 4 3 5-1 4 2 5 2 4 3 5 1 4 0 5 2 4 3" stroke="#A2142F"/><path d="M1004 156l5 3 4 4 5 5 4 4 5 1 4 5 5 4 4 4 5 5 4 7 5 3 4 2 5 4 4 6 5 4 4 5 5 5 4 5 5 4 4 4 5 5 4 6 5 3 4 4 5 6 4 3 5 2 4 4 5 2 4 5 5 5 4 4 5 4 4 6 5 2 4 3 5 6 4 5 5 3 4 4 5 2 4 3 5 1 4 2 5 3 4 3 5 5 4 6 5 4 4 5 5 2 4 2 5 3 4 2 5 3 4 2 5 2 4 3 5 6 4 2 5 2 4 2 5 2 4 5 5 5 4 1 5 2 4 3 5 1 4 1 5 4 4 4 5 4 4 2 5 2 4 3 5 4 4 3 5 4 4 1 5 3 4 0 5 3 4 4 5 3 4 3 5 3 4 3 5 2 4 2 5 2 4-1M1362 386l5 2 4 4 5 3 4 2 5 2 4 3 5 4 4 5 5 1 4 3 5 3 4 6 5 2 4 4 5 3 4 4 5 4 4 2 5 3 4 2 5 3 4 5 5 4 4 2 5 1 4 4 5 3 4 2 5 3 4 4 5 1 4 5 5 2 4 2 5 2 4 7 5 3 4 4 5-1 4 2 5 3 4 1 5-2 4 3 5 5 4 4 5 1M1357 376l4 4 5 2 4 3 5 4 4 4 5 0 4 3 5 6 4 4 5 1 4 3 5 4 4 5 5 1 4 4 5 3 4 2 5 1 4 4 5 4 4 2 5 4 4 1 5 2 4 4 5 4 4 0 5 0 4 2 5 4 4 1 5 0 4 3 5 5 4 3 5 2 4 2 5 2 4 0M1331 339l5 3 4 5 5 3 4 6 5 3 4 4 5 3 4 2 5 2 4 3 5 4 4 2 5 2 4 5 5 5 4 3 5 1 4 5 5 4 4 5 5 3 4 3 5 2 4 6 5 3 4 0 5 0 4 3 5 4 4 4 5 3 4 4 5 5 4 1 5 4 4 4 5 2 4 2 5 3 4 4 5 1 4 3 5 5 4 3 5 1 4-1M1368 395l5 2 4 2 5 4 4 3 5 4 4 3 5 4 4 4 5 2 4 3 5 5 4 2 5 1 4 2 5 4 4 3 5 3 4 1 5 2 4 3 5 3 4 1 5 2 4 5 5 3 4 3 5 3 4 2 5 4 4 3 5 1 4 3 5 0 4 0 5 2 4 4 5 3 4 3 5 1 4 3 5 2M1459 504l5 2 4 0 5 0 4 1 5 1 4 1 5 1 4 1 5 0 4-1 5 0 4 1 5 0 4-2 5-1 4 2 5 1 4 2 5 0 4 2 5 1 4 2 5 1 4 1 5 0 4 1 5 1 4 2 5 2 4 2 5-1 4 0M1120 282l4 4 5 4 4 4 5 4 4 4 5 2 4 3 5 6 4 6 5 2 4 3 5 4 4 5 5 4 4 5 5 3 4 2 5 5 4 6 5 2 4 2 5 1 4 3 5 5 4 4 5 6 4 3 5 1 4 2 5 3 4 4 5 2 4 2 5 2 4 4 5 2 4 1 5 1 4 4 5 2 4 3 5 4 4 2 5 3 4 2 5 3 4 1 5 2 4 3 5 3 4 2 5 4 4 4 5 3 4 3 5 5 4 4 5 1 4 3 5 2 4 3 5 3 4 2 5 4 4 4 5 4 4 2 5 2 4 5 5 2 4 0 5 0 4 1 5 2 4 3 5 0M1342 397l5 3 4 4 5 4 4 4 5 3 4 1 5 3 4 5 5 4 4 4 5 3 4 3 5 4 4 3 5 0 4-1 5 5 4 4 5 1 4 3 5 2 4 2 5 3 4 3 5 2 4 3 5 1 4 1 5 3 4 4 5 3 4 2 5 2 4 3 5 1 4 0 5 0 4 3 5 3 4 2 5 0 4 1 5 1 4 1 5 4 4 4 5 1M1135 248l4 4 5 4 4 3 5 7 4 3 5 3 4 4 5 5 4 3 5 3 4 2 5 1 4 7 5 5 4 5 5 4 4 5 5 4 4 6 5 4 4 3 5 5 4 2 5 4 4 4 5 3 4 4 5 3 4 2 5 4 4 3 5 2 4 4 5 4 4 4 5 2 4 2 5 2 4 3 5 6 4 4 5 1 4 5 5 2 4 3 5 4 4 4 5 5 4 3 5 1 4 5 5 3 4 5 5 3 4 1 5 3 4 2 5 3 4 3 5 4 4 4 5 5 4 3 5 3 4 4 5 3 4 2 5 2 4 4M1437 448l4 1 5 2 4 2 5 3 4 1 5 2 4 3 5 3 4 3 5 3 4 1 5 2 4 4 5 1 4 1 5 3 4 1 5 3 4 1 5 2 4 3 5 4 4 1 5 2 4 1 5 2 4 5 5 1 4 1 5 1 4 2 5 4 4 2 5-1M1300 344l5 5 4 5 5 3 4 3 5 4 4 5 5 2 4 2 5 4 4 4 5 6 4 3 5 3 4 3 5 3 4 5 5 3 4 2 5 3 4 5 5 1 4 3 5 4 4 1 5 2 4 5 5 3 4 0 5 4 4 1 5 3 4 2 5 1 4 3 5 1 4 1 5 4 4 2 5 2 4 5 5 3 4 4 5 3 4 0 5-1 4 3 5 4 4 3 5 2M1190 275l4 6 5 5 4 3 5 5 4 6 5 1 4 1 5 3 4 5 5 5 4 6 5 2 4 5 5 2 4 7 5 3 4 2 5 4 4 3 5 6 4 2 5 1 4 2 5 5 4 6 5 5 4 4 5 0 4 2 5 5 4 3 5 2 4 4 5 6 4 4 5 4 4 4 5 3 4 4 5 3 4 4 5 3 4 2 5 3 4 2 5 4 4 5 5 4 4 1 5 1 4 3 5 4 4 2 5 3 4 0 5 0 4 2 5 5 4 5 5 3 4 3 5 2 4 1 5 3 4 1 5 3 4 3M1159 236l4 4 5 6 4 6 5 2 4 3 5 5 4 5 5 4 4 6 5 4 4 6 5 5 4 5 5 4 4 4 5 3 4 5 5 2 4 3 5 4 4 6 5 5 4 4 5 2 4 3 5 6 4 3 5 3 4 3 5 4 4 5 5 3 4 4 5 3 4 5 5 3 4 3 5 3 4 3 5 3 4 4 5 5 4 4 5 5 4 5 5 5 4 2 5 2 4 6 5 3 4 2 5 3 4 4 5 4 4 1 5 2 4 3 5 5 4 3 5 3 4 2 5 2 4 2 5 1 4 3 5 1 4 3 5 2 4 3 5 3 4 2 5 3M1346 421l5 3 4 5 5 5 4 4 5 3 4 3 5 3 4 2 5 0 4 3 5 1 4 2 5 5 4 3 5 4 4 4 5 0 4 2 5 3 4 4 5 1 4 4 5-1 4 1 5 3 4 1 5 3 4 3 5 3 4 0 5 0 4 2 5 2 4 2 5 3 4 0 5 1 4 0 5 2 4 2 5 2 4 2 5 3 4-1 5 0 4-1 5 1 4 2M1130 224l5 4 4 3 5 5 4 4 5 4 4 6 5 3 4 6 5 6 4 4 5 3 4 5 5 5 4 5 5 4 4 3 5 3 4 4 5 4 4 3 5 4 4 3 5 4 4 3 5 6 4 5 5 3 4 5 5 6 4 3 5 2 4 1 5 4 4 3 5 4 4 4 5 4 4 5 5 2 4 3 5 5 4 4 5 3 4 5 5 3 4 2 5 4 4 3 5 1 4 4 5 3 4 3 5 4 4 5 5 3 4 1 5 4 4 2 5 1 4 2 5 2 4 1 5 1 4 3 5 3 4 3 5 4 4 4 5 3 4 1 5-2 4 1 5 4M1122 147l4 4 5 5 4 4 5 2 4 4 5 3 4 2 5 4 4 4 5 5 4 3 5 5 4 3 5 5 4 5 5 5 4 5 5 6 4 4 5 4 4 4 5 3 4 5 5 4 4 6 5 2 4 6 5 4 4 5 5 5 4 1 5 3 4 6 5 4 4 4 5 3 4 3 5 2 4 4 5 3 4 5 5 4 4 3 5 5 4 5 5 5 4 3 5 4 4 3 5 3 4 5 5 3 4 3 5 2 4 4 5 2 4 2 5 2 4 5 5 5 4 2 5 4 4 5 5 5 4 3 5 2 4 3 5 2 4 1 5 3 4 3 5 2 4 4 5 3M1441 431l5 4 4 4 5 1 4 3 5 2 4 2 5 4 4-1 5 2 4 5 5 1 4 3 5 4 4 3 5 4 4 4 5 1 4 1 5 3 4 2 5 4 4 2 5 1 4 3 5 1 4 3 5 1 4 3 5 1 4 1 5 0 4 1 5 3M1107 265l5 3 4 4 5 4 4 4 5 4 4 4 5 4 4 3 5 5 4 3 5 6 4 6 5 4 4 5 5 5 4 4 5 1 4 2 5 3 4 7 5 5 4 2 5 1 4 4 5 4 4 6 5 1 4 3 5 4 4 3 5 3 4 4 5 3 4 2 5 3 4 3 5 3 4 2 5 2 4 3 5 5 4 4 5 4 4 5 5 1 4 1 5 1 4 4 5 4 4 6 5 3 4 2 5 3 4 3 5 3 4 3 5 3 4 2 5 0 4 4 5 3 4 2 5 4 4 1 5 1 4 2 5 1 4 3 5 1 4 2 5 1 4 2 5 2 4 2M1412 430l4 3 5 3 4 4 5 3 4 3 5 0 4 3 5 3 4 1 5 3 4 4 5 2 4 2 5 4 4 4 5 0 4 3 5 3 4 1 5 2 4 1 5 6 4 3 5 2 4 3 5 2 4 2 5 3 4 1 5 3 4 2 5 2 4 0 5 2 4 3 5 2 4 3M1209 259l4 6 5 6 4 5 5 2 4 0 5 5 4 5 5 4 4 1 5 4 4 3 5 3 4 4 5 3 4 2 5 4 4 2 5 4 4 5 5 3 4 4 5 2 4 4 5 4 4 3 5 4 4 4 5 4 4 2 5 5 4 3 5 3 4 4 5 3 4 3 5 4 4 3 5 3 4 4 5 5 4 4 5 4 4 2 5 1 4 4 5 2 4 4 5 3 4 4 5 2 4 3 5 4 4 2 5 3 4 4 5 4 4 3 5 0 4 0 5 1 4 4 5 4 4 4M1260 339l5 4 4 7 5 4 4 3 5 2 4 1 5 3 4 3 5 4 4 4 5 3 4 4 5 5 4 3 5 4 4 4 5 4 4 7 5 3 4 3 5 1 4 2 5 5 4 5 5 4 4 3 5 3 4 1 5 2 4 3 5 4 4 4 5 2 4 2 5 3 4 3 5 1 4 2 5 3 4 2 5 1 4 4 5 3 4 2 5 3 4 1 5 3 4 3 5 0 4 0 5 2 4 2 5 0 4 3" stroke="#D95319"/><path d="M1328 363l4 5 5 5 4 3 5 4 4 6 5 4 4 4 5 1 4 3 5 3 4 5 5 1 4 2 5 3 4 2 5 4 4 5 5 1 4 4 5 3 4 2 5 3 4 3 5 1 4 2 5 2 4 1 5 2 4 2 5 2 4 2 5 0 4 3 5 3 4 3 5 5 4 3 5 3 4 3 5 0 4 1 5 3 4 2 5 4 4 1M1292 356l5 3 4 2 5 2 4 4 5 4 4 4 5 5 4 3 5 3 4 2 5 3 4 5 5 4 4 5 5 3 4 3 5 4 4 4 5 4 4 3 5 4 4 2 5 3 4 4 5 5 4 3 5 4 4 1 5 4 4 5 5 5 4 4 5 2 4 0 5 2 4 4 5 0 4 0 5 4 4 3 5 0 4 2 5 2 4 0 5 3 4 2 5 2 4 2 5 0 4-1 5 3 4 1M1129 289l5 6 4 4 5 6 4 4 5 4 4 4 5 4 4 6 5 4 4 5 5 2 4 2 5 3 4 4 5 3 4 2 5 3 4 3 5 4 4 6 5 4 4 5 5 3 4 3 5 1 4 3 5 2 4 2 5 4 4 3 5 5 4 4 5 2 4 2 5 0 4 2 5 2 4 5 5 5 4 4 5 1 4 4 5 5 4 3 5 5 4 3 5 3 4 4 5 1 4 2 5 4 4 6 5 3 4 2 5 3 4 2 5 2 4 4 5 2 4 2 5 4 4 2 5 2 4 3 5 2 4 3 5 3 4 2 5 2 4 0 5 0 4 0 5 0 4 0M1373 378l4 3 5 6 4 1 5 4 4 6 5 5 4 3 5 4 4 3 5 5 4 3 5 3 4 1 5 4 4 3 5 3 4 5 5 1 4 3 5 3 4 5 5 1 4 4 5 1 4 1 5 2 4 3 5 5 4 3 5 1 4 2 5 2 4 5 5 3 4 2 5 1 4 0 5 3M1455 439l4 6 5 4 4 2 5 3 4 3 5 2 4 1 5 2 4 2 5 2 4 2 5 3 4 5 5 3 4 2 5 4 4 4 5 1 4 3 5 3 4 4 5 3 4 2 5 2 4 2 5 4 4 1 5 1 4 2 5 2 4 3M1414 478l5 4 4 2 5 3 4 2 5 3 4 1 5 3 4 2 5 1 4 2 5 1 4 1 5 2 4 2 5 4 4 0 5 2 4 2 5 2 4 1 5 2 4 0 5 3 4 3 5-1 4-1 5 0 4 1 5 2 4 1 5-1 4 4 5 0 4 0 5 0 4 2 5 0M1255 339l4 3 5 3 4 2 5 3 4 0 5 6 4 6 5 4 4 3 5 4 4 1 5 3 4 4 5 5 4 6 5 3 4 3 5 3 4 6 5 6 4 5 5 4 4 2 5 5 4 4 5 5 4 3 5 4 4 3 5 2 4 3 5 4 4 3 5 1 4 2 5 1 4 4 5 7 4 4 5 2 4 1 5 3 4 1 5 3 4 3 5 0 4 0 5 1 4 1 5 3 4 1 5 2 4 1 5 2 4 1 5 2 4 4M1367 373l5 1 4 1 5 5 4 5 5 3 4 4 5 3 4 2 5 1 4 4 5 3 4 3 5 5 4 7 5 5 4 3 5 1 4 3 5 2 4 2 5 2 4 3 5 5 4 3 5 4 4 3 5 4 4-1 5 3 4 1 5 2 4 2 5 5 4 5 5 2 4 1 5 4 4 3 5 0 4 2 5 2 4 4 5 2M1419 477l4 1 5 4 4 2 5 3 4 2 5 3 4 0 5 1 4 3 5 3 4 2 5 2 4 1 5 2 4 1 5 0 4 2 5 2 4 1 5 2 4 1 5-2 4 1 5 0 4 0 5 3 4 0 5 1 4 1 5 0 4 1 5 2 4 2 5 2 4 1 5 3M1224 369l4 5 5 6 4 3 5 3 4 2 5 3 4 1 5 4 4 5 5 2 4 3 5 4 4 3 5 2 4 1 5 1 4 3 5 2 4 4 5 0 4 3 5 2 4 3 5 4 4 3 5 3 4 1 5 4 4 3 5 3 4 4 5 3 4 3 5 3 4 3 5 3 4 1 5 3 4 3 5 4 4 4 5 2 4 1 5 2 4 3 5 2 4-1 5 3 4 2 5 3 4 2 5-2 4 0 5 3 4 2 5 0 4-1 5 1 4 1 5 1 4 2 5 2M1201 358l4 2 5 3 4 6 5 4 4 4 5 1 4 4 5 3 4 4 5 2 4 4 5 2 4 2 5 1 4 5 5 3 4 3 5 1 4 2 5 5 4 6 5 3 4 3 5 2 4 1 5 2 4 1 5 2 4 2 5 5 4 4 5 1 4 3 5 3 4 4 5 3 4 2 5 3 4 5 5 3 4 3 5 2 4 2 5 2 4 2 5 3 4 3 5 0 4 1 5 5 4 2 5 2 4 2 5-1 4 1 5 0 4 1 5 2 4 3 5 2 4 0 5 3 4 0 5 1 4 1M1454 474l5 1 4 3 5 4 4 3 5 3 4 3 5 0 4 2 5 1 4 3 5 2 4 2 5 2 4 5 5 3 4 3 5 0 4 2 5 2 4 4 5 2 4 1 5 3 4-1 5 1 4-2 5 2 4 2M1126 263l4 3 5 2 4 3 5 3 4 4 5 3 4 6 5 5 4 5 5 3 4 4 5 3 4 6 5 5 4 3 5 4 4 5 5 3 4 5 5 4 4 4 5 3 4 2 5 5 4 6 5 3 4 4 5 2 4 3 5 4 4 2 5 2 4 3 5 4 4 5 5 4 4 5 5 3 4 0 5 2 4 3 5 3 4 5 5 3 4 2 5 4 4 6 5 4 4 1 5 7 4 2 5 4 4 3 5 2 4 4 5 3 4 4 5 4 4 2 5 4 4 1 5 1 4 4 5 5 4 0 5 1 4 4 5 3 4 2 5 0 4 0 5 3 4 3 5 3 4 2 5 1 4 5 5 1 4 2M1227 308l5 5 4 3 5 4 4 4 5 6 4 4 5 2 4 3 5 2 4 3 5 2 4 5 5 2 4 2 5 3 4 4 5 5 4 0 5 3 4 4 5 4 4 4 5 2 4 0 5 5 4 2 5 4 4 4 5 5 4 2 5 5 4 4 5 3 4 2 5 4 4 3 5 1 4 5 5 1 4 3 5 3 4 4 5 2 4 3 5 6 4 6 5 3 4 1 5 1 4 1 5 3 4 3 5 1 4 2 5 1 4 0 5 2 4 3 5 3 4 4 5 2 4 2 5 1 4 2M1378 453l4 2 5 5 4 2 5 3 4 1 5 1 4 3 5 5 4 1 5 2 4 3 5 3 4 3 5 5 4 1 5 0 4 1 5 2 4 4 5 2 4 1 5 3 4 2 5 1 4 2 5 3 4 1 5 2 4 2 5 3 4 2 5 2 4 0 5 1 4 3 5-2 4 1 5 5 4 3 5 2 4 1 5-1M1102 270l5 7 4 4 5 1 4 3 5 4 4 6 5 3 4 1 5 4 4 3 5 6 4 4 5 5 4 5 5 5 4 4 5 3 4 2 5 5 4 4 5 1 4 2 5 5 4 5 5 2 4 1 5 5 4 4 5 2 4 2 5 4 4 1 5 2 4 4 5 5 4 3 5 4 4 3 5 4 4 2 5 3 4 4 5 3 4 2 5 3 4 5 5 4 4 2 5 4 4 2 5 4 4 4 5 4 4 2 5 4 4 2 5 1 4 3 5 2 4 0 5 4 4 3 5 2 4 2 5 3 4 3 5 3 4 3 5 1 4 4 5 3 4 4 5 3 4 0 5 2 4 1 5 1 4 0M1481 452l4 3 5 2 4 4 5 3 4 4 5 3 4 0 5 0 4 3 5 3 4 3 5 1 4 2 5 2 4 1 5 6 4 5 5 2 4 1 5 1 4 1 5 3 4 1M1496 480l4 1 5 2 4 2 5 2 4 2 5 1 4 4 5 4 4 1 5 2 4 0 5 2 4 2 5 3 4 0 5 0 4 1 5 1 4 3 5 1 4 2 5 2 4 2 5 2 4 2 5 3 4 3 5 1" stroke="#EDB120"/><path d="M1130 292l5 4 4 3 5 3 4 4 5 4 4 4 5 5 4 2 5 3 4 4 5 2 4 5 5 5 4 3 5 3 4 6 5 4 4 3 5 6 4 3 5 5 4 3 5 4 4 3 5 3 4 3 5 1 4 3 5 4 4 4 5 2 4 3 5 3 4 5 5 1 4 2 5 3 4 1 5 3 4 4 5 5 4 3 5 2 4 2 5 4 4 3 5 2 4 3 5 3 4 5 5 3 4 4 5 4 4 4 5 3 4 3 5 2 4 3 5 3 4 0 5 2 4 4 5 2 4 1 5 2 4 2M1101 177l4 4 5 4 4 4 5 2 4 2 5 4 4 5 5 5 4 3 5 5 4 3 5 5 4 1 5 6 4 6 5 2 4 0 5 4 4 5 5 4 4 4 5 5 4 5 5 3 4 4 5 5 4 4 5 3 4 3 5 2 4 3 5 4 4 3 5 2 4 3 5 1 4 2 5 3 4 1 5 4 4 7 5 5 4 2 5 5 4 6 5 2 4 4 5 5 4 4 5 4 4 4 5 3 4 3 5 4 4 4 5 4 4 3 5 2 4 4 5 3 4 5 5 6 4 3 5 2 4 2 5 4 4 3 5 3 4 4 5 1 4 5 5 4 4 3 5 1 4 5 5 1 4 1 5 2M1238 384l5 3 4 1 5 3 4 4 5 4 4 3 5 2 4 1 5 4 4 4 5 4 4 3 5 1 4 2 5 4 4 3 5 3 4 2 5 3 4 4 5 2 4 1 5 2 4 4 5 3 4 3 5 4 4 4 5 0 4 3 5 2 4 2 5 4 4 4 5 2 4 1 5 1 4 3 5 3 4 2 5 5 4 3 5 3 4-2 5 2 4 2 5 0 4 0 5 2 4 0 5 3 4 5 5 2 4 0 5 2 4 2M1339 421l4 4 5 3 4 3 5 3 4 2 5 3 4 5 5 4 4 3 5 2 4 1 5 2 4 5 5 1 4 3 5 3 4 4 5 1 4 3 5 2 4 1 5 2 4-1 5 2 4 2 5 1 4 3 5 2 4 4 5 1 4 1 5-1 4 2 5 4 4 2 5 0 4 2 5 2 4 3 5 2 4 0 5 2 4 0 5-1 4 1 5 2 4 0 5 3 4 2 5 2M1335 417l5 4 4 2 5 1 4 4 5 4 4 5 5 4 4 5 5 2 4 2 5 3 4 4 5 3 4 5 5 2 4 2 5 1 4 5 5 4 4 3 5 3 4 1 5 1 4 2 5 3 4 2 5 2 4 3 5 2 4 1 5 2 4 1 5 2 4 2 5 4 4 3 5-1 4 0 5 1 4 0 5 2 4 4 5-1M1198 269l5 6 4 4 5 4 4 5 5 4 4 4 5 2 4 3 5 6 4 4 5 3 4 3 5 4 4 2 5 3 4 3 5 4 4 3 5 3 4 2 5 3 4 2 5 4 4 5 5 4 4 5 5 3 4 4 5 1 4 2 5 4 4 2 5 2 4 3 5 1 4 4 5 4 4 3 5 4 4 2 5 3 4 0 5 1 4 6 5 4 4 3 5 3 4 4 5 5 4 1 5 2 4 4 5 4 4 4 5 2 4 2 5 3 4 0 5 3 4 2 5 2M1182 250l5 4 4 8 5 4 4 2 5 3 4 5 5 5 4 3 5 4 4 5 5 4 4 3 5 2 4 3 5 3 4 4 5 5 4 5 5 2 4 2 5 2 4 4 5 3 4 3 5 5 4 4 5 4 4 4 5 5 4 1 5 2 4 5 5 3 4 3 5 3 4 4 5 2 4 3 5 3 4 2 5 3 4 5 5 4 4 3 5 5 4 1 5 2 4 5 5 4 4 1 5 3 4 5 5 3 4 2 5 2 4 3 5 2 4 3 5 4 4 3 5 1 4 1 5 3 4 4 5 6M1399 471l4 2 5 3 4 5 5 4 4 0 5 5 4 5 5 2 4 1 5 2 4 2 5 0 4 1 5 2 4 4 5 0 4 0 5 2 4 2 5 2 4-2 5 2 4 2 5 1 4 2 5 2 4-1 5 0 4 1 5 2 4 3 5 2 4 0 5-1 4 2 5 1 4-1 5 1M1194 294l5 5 4 3 5 5 4 5 5 3 4 2 5 7 4 6 5 3 4 3 5 5 4 4 5 1 4 3 5 2 4 5 5 2 4 4 5 3 4 0 5 5 4 4 5 4 4 4 5 3 4 3 5 4 4 3 5 2 4 3 5 4 4 4 5 3 4 3 5 1 4 5 5 4 4 5 5 3 4 2 5 3 4 4 5 3 4 3 5 3 4 3 5 3 4 2 5 1 4 3 5 4 4 1 5 0 4 2 5 2 4 3 5 2 4 2 5 3 4 3 5 4 4 2 5 0 4-1M1438 434l4 1 5 2 4 4 5 4 4 2 5 2 4 3 5 2 4 4 5 3 4 5 5 6 4 4 5 0 4 1 5 2 4 3 5 2 4 3 5 5 4 3 5 4 4 3 5 2 4 2 5 0 4 1 5 4 4 5 5 4 4 1 5 4M1131 301l4 4 5 3 4 3 5 6 4 5 5 6 4 4 5 5 4 4 5 4 4 3 5 2 4 3 5 3 4 5 5 3 4 2 5 2 4 3 5 6 4 4 5 2 4 3 5 4 4 4 5 1 4 3 5 1 4 4 5 3 4 1 5 2 4 4 5 3 4 3 5 4 4 4 5 3 4 4 5 3 4 1 5 2 4 3 5 2 4 4 5 3 4 3 5 4 4 3 5 1 4 4 5 5 4 6 5 3 4 3 5 1 4 1 5 3 4 3 5 0 4 1 5-1 4 1 5 2 4 5 5 4 4 1 5 0 4 2 5-1 4 2 5 2 4 1M1165 212l4 5 5 3 4 5 5 4 4 5 5 6 4 6 5 3 4 3 5 1 4 5 5 4 4 3 5 5 4 3 5 4 4 3 5 4 4 6 5 5 4 3 5 1 4 4 5 4 4 5 5 4 4 0 5 3 4 4 5 5 4 5 5 5 4 3 5 2 4 4 5 3 4 1 5 4 4 4 5 5 4 4 5 2 4 5 5 4 4 4 5 4 4 3 5 4 4 4 5 4 4 3 5 3 4 2 5 4 4 2 5 3 4 4 5 1 4 3 5 3 4 3 5 3 4 4 5 0 4 0 5 0 4 3M1433 453l5 2 4 1 5 4 4 3 5 1 4 4 5 3 4 3 5 2 4 1 5 2 4 0 5 3 4 4 5 4 4 3 5 2 4 1 5-2 4 2 5 4 4 4 5 0 4 0 5 5 4 2 5 2 4 2 5 0 4 2M1444 448l5 4 4 3 5 3 4 2 5 4 4 3 5 3 4 2 5 3 4 1 5 3 4 2 5 5 4 5 5 1 4 0 5 1 4 2 5 2 4 1 5 1 4 5 5 0 4 1 5 3 4 2 5 2 4 4 5 0M1093 178l4 2 5 3 4 4 5 5 4 5 5 1 4 3 5 4 4 4 5 3 4 5 5 6 4 3 5 4 4 4 5 4 4 2 5 7 4 5 5 4 4 5 5 5 4 3 5 2 4 2 5 5 4 4 5 6 4 5 5 4 4 5 5 3 4 3 5 4 4 3 5 4 4 3 5 4 4 4 5 5 4 4 5 5 4 2 5 2 4 3 5 1 4 4 5 4 4 4 5 4 4 4 5 3 4 2 5 4 4 4 5 6 4 4 5 3 4 4 5 4 4 2 5 3 4 4 5 2 4 2 5 2 4 2 5 2 4 2 5 3 4 4 5 6 4 4 5 3 4 5 5 4 4 3 5 3 4 2M1088 120l4 3 5 4 4 4 5 4 4 6 5 5 4 4 5 5 4 2 5 7 4 5 5 4 4 2 5 4 4 3 5 3 4 5 5 4 4 3 5 4 4 5 5 3 4 4 5 7 4 6 5 5 4 4 5 3 4 6 5 6 4 4 5 5 4 6 5 3 4 5 5 0 4 4 5 5 4 5 5 1 4 4 5 5 4 4 5 3 4 5 5 2 4 3 5 5 4 6 5 3 4 4 5 4 4 5 5 2 4 3 5 4 4 6 5 3 4 5 5 5 4 2 5 2 4 3 5 4 4 4 5 4 4 1 5 3 4 4 5 3 4 4 5 3 4 5 5 3 4 6 5 5 4 3 5 4 4 5 5 3 4 2 5 3M1281 315l5 4 4 1 5 4 4 6 5 5 4 2 5 3 4 4 5 4 4 3 5 4 4 4 5 3 4 3 5 3 4 2 5 2 4 6 5 2 4 2 5 4 4 3 5 3 4 4 5 6 4 4 5 3 4 1 5 1 4 2 5 5 4 5 5 5 4 3 5 1 4 1 5 2 4-1 5 1 4 2 5 4 4 1 5 2 4 6 5 3 4 1 5 3 4 2 5 2 4 2 5 2 4 2 5 2 4 3 5 1 4 1M1121 291l5 1 4 5 5 2 4 3 5 4 4 3 5 3 4 4 5 6 4 4 5 5 4 5 5 4 4 2 5 3 4 3 5 2 4 4 5 5 4 5 5 5 4 2 5 2 4 2 5 2 4 2 5 2 4 3 5 1 4 3 5 2 4 0 5 2 4 4 5 4 4 2 5 1 4 3 5 3 4 3 5 1 4 4 5 3 4 1 5 3 4 5 5 2 4 2 5 4 4 4 5 1 4 4 5 5 4 2 5 5 4 4 5 3 4 2 5 3 4 2 5 1 4 4 5 3 4 3 5 2 4 2 5 2 4 2 5 2 4 1 5 2 4 2 5 2 4 2 5 4M1194 295l5 1 4 3 5 3 4 4 5 5 4 6 5 3 4 3 5 3 4 3 5 3 4 3 5 5 4 5 5 5 4 3 5 3 4 3 5 2 4 5 5 3 4 2 5 2 4 4 5 6 4 4 5 4 4 6 5 1 4 2 5 4 4 2 5 5 4 3 5 4 4 3 5 6 4 3 5 2 4 3 5 3 4 4 5 3 4 2 5 3 4 2 5 1 4 1 5 4 4 5 5 2 4 2 5 3 4 3 5 1 4-1 5 2 4 2 5 2 4 1 5 3 4 5 5-1 4 2 5 5M1398 404l5 2 4 1 5 5 4 3 5 3 4 5 5 3 4 3 5 3 4 1 5 2 4 4 5 4 4 4 5 4 4 0 5 1 4 3 5 4 4 3 5 4 4 3 5 2 4 2 5 3 4 3 5 3 4 4 5 4 4 1 5 3 4 2 5-1 4 2 5 3M1054 139l5 2 4 0 5 6 4 6 5 4 4 5 5 5 4 4 5 3 4 3 5 4 4 3 5 4 4 4 5 5 4 3 5 2 4 1 5 5 4 3 5 2 4 4 5 3 4 6 5 8 4 3 5 4 4 3 5 5 4 7 5 3 4 5 5 4 4 3 5 4 4 3 5 4 4 6 5 2 4 4 5 6 4 4 5 3 4 4 5 2 4 2 5 1 4 3 5 5 4 3 5 1 4 3 5 3 4 3 5 4 4 4 5 4 4 4 5 3 4 6 5 2 4 3 5 3 4 1 5 2 4 5 5 2 4 2 5 4 4 3 5 3 4 1 5 2 4 3 5 0 4 4 5 1 4 5 5 6 4 4 5 2 4 3 5 3 4 5 5 2 4 0" stroke="#0072BD"/><path d="M983 76l5 2 4 1 5 3 4 5 5 4 4 4 5 4 4 6 5 2 4 1 5 5 4 2 5 2 4 3 5 5 4 2 5 2 4 3 5 3 4 3 5 3 4 1 5 3 4 3 5 4 4 5 5 3 4 3 5 3 4 6 5 5 4 3 5 2 4 4 5 4 4 4 5 2 4 3 5 6 4 3 5 4 4 5 5 2 4 4 5 2 4 6 5 6 4 5 5 1 4 2 5 4 4 5 5 2 4 5 5 4 4 6 5 3 4 2 5 3 4 3 5 4 4 3 5 4 4 4 5 1 4 5 5 1 4 4 5 5 4 3 5 3 4 6 5 4 4 4 5 4 4 5 5 5 4 3 5 3 4 5 5 3 4 3 5 2 4 4 5 4 4 5 5 3 4 3 5 2 4 2 5 5 4 2 5 5 4 3 5 4 4 2 5 4M1245 291l4 5 5 3 4 4 5 3 4 1 5 4 4 3 5 4 4 4 5 3 4 4 5 5 4 6 5 5 4 4 5 5 4 4 5 4 4 4 5 4 4 3 5 4 4 4 5 4 4 5 5 2 4 3 5 4 4 1 5 2 4 3 5 2 4 5 5 4 4 4 5 1 4 3 5 4 4 5 5 2 4 1 5 1 4 3 5 0 4 3 5 4 4 4 5 3 4 4 5 2 4 3 5 1 4 3 5 2 4 2 5 5 4 4 5 3 4 3M1367 393l5 5 4 4 5 2 4 3 5 4 4 5 5 1 4 1 5 3 4 4 5 3 4 4 5 2 4 4 5 3 4 3 5-1 4 3 5 4 4 3 5 2 4 1 5 3 4 2 5 1 4 2 5 3 4 1 5 2 4 5 5 3 4 3 5 1 4 3 5 3 4 3 5 3 4 3M1154 258l5 3 4 3 5 5 4 5 5 6 4 5 5 3 4 5 5 3 4 6 5 2 4 3 5 5 4 4 5 5 4 2 5 2 4 2 5 4 4 5 5 5 4 2 5 2 4 1 5 5 4 3 5 3 4 4 5 6 4 2 5 2 4 6 5 4 4 4 5 5 4 4 5 3 4 3 5 1 4 4 5 6 4 6 5 3 4 3 5 4 4 1 5 3 4 2 5 3 4 1 5 2 4 3 5 3 4 5 5 0 4 3 5 5 4 3 5 1 4 2 5 2 4 4 5 3 4 4 5 3 4 3 5 1 4 3 5 1 4 4 5 3 4 4M1394 463l5 2 4 1 5 3 4 2 5 3 4 4 5 2 4 1 5 1 4 3 5 4 4 0 5 1 4 0 5 3 4 3 5 3 4 1 5 1 4 3 5 3 4 1 5 1 4 2 5 1 4 0 5 0 4 3 5 2 4 4 5 1 4 1 5 1 4 1 5 1 4 3 5 1 4 2 5 1 4 5M1160 178l4 7 5 4 4 4 5 4 4 4 5 6 4 7 5 6 4 5 5 3 4 3 5 5 4 6 5 4 4 5 5 6 4 6 5 6 4 3 5 4 4 2 5 2 4 4 5 4 4 4 5 2 4 4 5 2 4 4 5 4 4 4 5 5 4 4 5 4 4 4 5 4 4 2 5 5 4 4 5 6 4 4 5 3 4 4 5 3 4 5 5 2 4 3 5 3 4 3 5 3 4 4 5 3 4 5 5 3 4 4 5 3 4 4 5 5 4 3 5 5 4 2 5 2 4 2 5 3 4 3 5 2 4 3 5 6 4 2 5 4 4 5M1361 451l5 4 4 3 5 3 4 1 5 5 4 2 5 2 4 0 5 1 4 3 5 1 4-1 5 4 4 4 5 4 4 3 5 0 4 3 5 3 4 1 5-1 4 2 5 1 4 2 5 3 4 1 5 2 4 0 5 2 4 0 5 0 4 2 5 1 4 2 5 2 4 1 5-2 4 0 5-1 4 1 5 1 4 2 5 1 4 1M1253 323l4 4 5 3 4 2 5 2 4 4 5 4 4 3 5 3 4 6 5 4 4 4 5 2 4 3 5 3 4 4 5 4 4 4 5 4 4 5 5 3 4 3 5 3 4 3 5 4 4 6 5 2 4 2 5 2 4 4 5 2 4 3 5 2 4 3 5 2 4 5 5 1 4 2 5 4 4 3 5 4 4-1 5 3 4 2 5 0 4 3 5 6 4 1 5 3 4 3 5 2 4 3 5 3 4 3 5 4 4 2 5 1 4 3 5 1 4 2 5 3 4 2M1110 174l4 2 5 3 4 3 5 7 4 6 5 4 4 3 5 3 4 5 5 4 4 5 5 2 4 3 5 5 4 3 5 4 4 4 5 5 4 5 5 5 4 5 5 4 4 5 5 5 4 2 5 3 4 6 5 6 4 4 5 1 4 5 5 5 4 6 5 3 4 3 5 3 4 4 5 5 4 5 5 3 4 6 5 5 4 5 5 3 4 5 5 5 4 2 5 4 4 4 5 3 4 3 5 1 4 5 5 4 4 4 5 2 4 3 5 3 4 3 5 5 4 5 5 3 4 4 5 1 4 1 5 3 4 7 5 2 4 1 5 5 4 6 5 3 4 3 5 3 4 3M1274 375l4 2 5 2 4 4 5 4 4 3 5 2 4 4 5 4 4 2 5 4 4 5 5 4 4 3 5 4 4 3 5 3 4 4 5 3 4 4 5 3 4 1 5 1 4 5 5 4 4 2 5 3 4 1 5 3 4 4 5 2 4 1 5 2 4 2 5 3 4 3 5 3 4 2 5 3 4 2 5 3 4 3 5 0 4 3 5 1 4 0 5 1 4 4 5 3 4 0 5 2 4 4 5-1 4 1 5 4 4 1 5 2M1326 426l4 4 5 3 4 2 5 4 4 2 5 4 4 4 5 4 4 3 5 2 4 5 5 4 4 2 5 2 4 3 5 4 4 2 5 4 4 0 5 2 4 1 5 3 4 2 5 0 4 2 5 2 4 1 5 1 4 2 5 2 4 0 5 2 4 3 5 4 4 1 5 0 4 2 5 0 4 1 5 3 4 2 5 2 4 2 5 1 4 1 5 0 4-2M1100 165l5 3 4 4 5 4 4 4 5 3 4 4 5 6 4 3 5 3 4 1 5 5 4 6 5 1 4 4 5 4 4 3 5 5 4 6 5 3 4 5 5 4 4 3 5 4 4 3 5 5 4 6 5 4 4 5 5 4 4 6 5 3 4 3 5 1 4 2 5 3 4 5 5 2 4 3 5 1 4 4 5 1 4 3 5 5 4 5 5 4 4 2 5 4 4 5 5 3 4 3 5 3 4 4 5 2 4 4 5 4 4 2 5 2 4 4 5 5 4 5 5 3 4 5 5 3 4 3 5 4 4 5 5 3 4 4 5 1 4 3 5 4 4 3 5 4 4 1 5 0 4 2 5 3 4 2 5 1 4 1M1386 462l5 1 4 2 5 2 4 3 5 3 4 3 5 6 4 5 5 2 4 2 5 0 4 1 5 2 4 1 5 2 4 1 5 1 4 4 5 2 4 0 5 0 4 2 5 2 4 1 5-1 4 1 5 3 4 4 5 1 4 0 5 0 4 0 5 1 4 2 5 2 4 0 5 0 4 2 5 1 4 1 5 1M1407 395l4 4 5 3 4 3 5 5 4 3 5 2 4 3 5 2 4 2 5 1 4 4 5 4 4 3 5 4 4 3 5 6 4 5 5 1 4 2 5 4 4 4 5 2 4 3 5 4 4 2 5 3 4 6 5 3 4 0 5 1 4 2 5 4 4 4 5 2 4 3 5 0M1107 280l4 4 5 2 4 4 5 5 4 3 5 3 4 5 5 5 4 5 5 4 4 3 5 3 4 5 5 6 4 5 5 3 4 4 5 3 4 3 5 3 4 2 5 5 4 3 5 1 4 2 5 3 4 4 5 4 4 2 5 7 4 5 5 1 4 3 5 4 4 2 5 1 4 5 5 3 4 2 5 3 4 4 5 3 4 4 5 5 4 4 5 1 4 1 5 3 4 2 5 4 4 4 5 3 4 5 5 2 4 0 5 5 4 4 5 3 4 2 5 3 4 3 5 2 4 4 5 4 4 0 5 2 4 4 5 1 4 2 5 0 4 5 5 4 4 1 5 0 4 1 5 3 4 2 5 3 4 2 5-2 4 1 5 3 4 0 5 1 4 1M1192 253l5 4 4 5 5 5 4 3 5 6 4 4 5 3 4 4 5 4 4 5 5 3 4 4 5 3 4 3 5 2 4 5 5 4 4 2 5 2 4 5 5 3 4 1 5 3 4 3 5 5 4 4 5 2 4 1 5 5 4 5 5 3 4 3 5 3 4 4 5 3 4 4 5 4 4 3 5 3 4 3 5 3 4 3 5 4 4 3 5 0 4 6 5 3 4 2 5 4 4 5 5 4 4 5 5 3 4 2 5 1 4 0 5 3 4 3 5 3 4 3 5 4 4 2 5 3 4 3M1376 466l4 5 5 4 4 1 5 1 4 3 5 4 4 1 5 4 4 2 5 1 4 1 5 1 4 3 5 0 4 1 5 3 4 2 5 2 4 5 5 1 4 0 5 1 4 2 5 1 4 0 5-1 4 4 5 2 4 0 5 0 4 3 5-1 4 1 5 1 4 0 5 2 4 0 5 0 4 2 5 2M1103 139l5 6 4 5 5 4 4 5 5 6 4 4 5 3 4 4 5 4 4 6 5 5 4 3 5 2 4 5 5 3 4 5 5 5 4 7 5 3 4 3 5 5 4 4 5 6 4 5 5 5 4 2 5 6 4 4 5 5 4 3 5 5 4 4 5 5 4 4 5 3 4 4 5 4 4 4 5 3 4 4 5 3 4 3 5 4 4 4 5 6 4 5 5 4 4 5 5 4 4 4 5 4 4 5 5 2 4 4 5 4 4 0 5 4 4 4 5 1 4 2 5 5 4 1 5 5 4 5 5 3 4 2 5 1 4 5 5 3 4 5 5 5 4 4 5 0 4 1 5 3 4 3 5 6 4 2 5 2 4 2 5 5 4 4M1435 498l5 2 4 1 5 1 4 0 5 2 4 3 5 2 4 1 5 4 4 2 5 2 4 0 5 1 4 2 5 1 4 3 5 0 4 1 5 2 4 0 5-1 4 0 5 1 4 2 5 3 4-2 5 0 4 0 5 2 4 4M1178 245l4 4 5 5 4 5 5 4 4 3 5 5 4 5 5 5 4 2 5 4 4 5 5 5 4 3 5 4 4 3 5 4 4 5 5 2 4 5 5 5 4 4 5 2 4 2 5 4 4 4 5 3 4 4 5 2 4 5 5 4 4 4 5 1 4 5 5 8 4 5 5 5 4 4 5 2 4 1 5 3 4 2 5 3 4 3 5 4 4 5 5 3 4 3 5 3 4 4 5 4 4 4 5 5 4 4 5 1 4 1 5 4 4 1 5 4 4 2 5 5 4 2 5 2 4 4 5 3 4 2 5 2 4 5 5 3 4 1M1200 354l4 4 5 3 4 2 5 3 4 6 5 3 4 3 5 1 4 2 5 5 4 5 5 3 4 3 5 2 4 3 5 4 4 2 5 3 4 4 5 1 4 2 5 2 4 3 5 5 4 1 5 3 4 4 5 2 4 2 5 4 4 2 5 4 4 4 5 3 4 3 5 2 4 0 5 3 4 5 5 6 4 1 5 0 4 3 5 4 4 3 5 2 4 0 5 3 4 3 5 4 4 2 5 2 4 3 5 1 4 1 5 3 4 4 5 1 4 0 5 3 4 3 5 2M1282 377l4 3 5 3 4 3 5 4 4 6 5 3 4 0 5 2 4 4 5 3 4 2 5 2 4 2 5 3 4 6 5 7 4 4 5 4 4 3 5 3 4 3 5 2 4 1 5 3 4 4 5 5 4 3 5 2 4 2 5 2 4 2 5 5 4 4 5 1 4-1 5 1 4 0 5 4 4 2 5-1 4 2 5 1 4 4 5 0 4 1 5 2 4 2 5 1 4 1 5 1 4 4 5 0 4 2M1370 452l4 4 5 3 4 2 5 4 4 4 5 2 4 4 5 2 4 4 5 3 4 2 5 0 4 1 5 0 4 1 5 1 4-1 5 0 4 3 5 2 4 3 5 0 4 5 5 2 4 1 5 2 4 1 5 0 4 1 5 1 4 1 5 1 4 0 5 2 4 0 5 0 4-1 5 2 4 2M1485 453l4 3 5 1 4 2 5 2 4 1 5 4 4 5 5 5 4 3 5 2 4-1 5 1 4 2 5 5 4 3 5 2 4 5 5 5 4 1 5-1 4 0 5 3M1488 454l4 3 5 3 4 3 5 2 4 4 5 3 4 7 5 4 4 3 5 3 4 1 5 1 4 2 5 4 4 0 5 1 4 2 5 2 4 4 5 2 4 1 5 3 4 1 5 1 4 1 5 0 4 2" stroke="#4DBEEE"/><path d="M1009 177l4 5 5 5 4 6 5 4 4 5 5 4 4 6 5 6 4 5 5 4 4 3 5 3 4 2 5 3 4 4 5 3 4 7 5 5 4 4 5 3 4 2 5 2 4 4 5 6 4 4 5 1 4 5 5 5 4 5 5 5 4 3 5 3 4 1 5 3 4 7 5 3 4 2 5 5 4 1 5 6 4 3 5 4 4 4 5 1 4 2 5 6 4 4 5 3 4 2 5 5 4 6 5 3 4 1 5 3 4 3 5 3 4 2 5 4 4 2 5 2 4 5 5 4 4 3 5 3 4 1 5 3 4 3 5 2 4 2 5 3 4 4 5 3 4 1 5 2 4 0 5 2 4 7 5 3 4 2 5 2 4 2 5 2 4 2 5 2 4 3 5-1 4 3 5 4 4 0 5 4 4 0 5 1 4 3 5 3 4 2M1095 190l5 5 4 4 5 1 4 1 5 6 4 5 5 4 4 4 5 5 4 5 5 4 4 2 5-1 4 4 5 5 4 6 5 7 4 3 5 0 4 5 5 4 4 3 5 4 4 5 5 3 4 5 5 6 4 6 5 4 4 4 5 2 4 3 5 4 4 3 5 2 4 6 5 3 4 2 5 3 4 4 5 4 4 4 5 3 4 4 5 3 4 3 5 2 4 2 5 3 4 4 5 3 4 6 5 4 4 3 5 4 4 3 5 3 4 2 5 4 4 3 5 2 4 3 5 4 4 2 5 3 4 4 5 3 4 2 5 3 4 3 5 2 4 2 5 4 4 4 5 6 4 1 5 2 4 4 5 1 4 0M1229 324l5 6 4 5 5 4 4 4 5 4 4 1 5 4 4 4 5 4 4 2 5 5 4 3 5 4 4 3 5 2 4 3 5 5 4 6 5 3 4 3 5 4 4 4 5 3 4 4 5 3 4 4 5 3 4 3 5 2 4 3 5 1 4 3 5 5 4 4 5 3 4 2 5 4 4 3 5 3 4 4 5 1 4 2 5 2 4 1 5 1 4 4 5 3 4 3 5 3 4 2 5 4 4 1 5 2 4 2 5 3 4 1 5 1 4 2 5-1 4 0 5 4 4 2M1408 393l4 2 5 2 4 2 5 4 4 3 5 6 4 2 5 2 4 0 5 6 4 5 5 1 4 3 5 3 4 4 5 0 4 2 5 2 4 3 5 3 4 1 5 5 4 3 5 1 4 5 5 4 4 3 5 4 4 5 5 3 4 1 5 4 4 2 5 2 4 1 5 1 4-1M1307 402l4 1 5 3 4 0 5 5 4 3 5 5 4 5 5 4 4 2 5 5 4 4 5 3 4 3 5 3 4 4 5 7 4 3 5 3 4 2 5 0 4 3 5 4 4 2 5 2 4 3 5 4 4 3 5 1 4 0 5 2 4 3 5 3 4 2 5 1 4 0 5 1 4 4 5 6 4 1 5 1 4 3 5 0 4 0 5 0 4 2 5 3 4 2 5 1 4 1 5 3 4 2M1198 230l4 8 5 5 4 5 5 4 4 5 5 4 4 3 5 5 4 6 5 7 4 6 5 3 4 1 5 3 4 5 5 2 4 2 5 4 4 1 5 2 4 5 5 5 4 6 5 4 4 3 5 3 4 5 5-1 4 2 5 4 4 5 5 4 4-1 5 5 4 3 5 5 4 4 5 5 4 3 5 3 4 4 5 3 4 6 5 4 4 2 5 2 4 2 5 3 4 5 5 5 4 4 5 2 4 1 5 1 4 5 5 5 4 3 5 2 4 4 5 3 4 4 5 4 4 2M1116 210l4 2 5 4 4 6 5 4 4 3 5 3 4 3 5 3 4 5 5 6 4 6 5 2 4 4 5 3 4 3 5 4 4 7 5 5 4 4 5 6 4 3 5 5 4 2 5 4 4 6 5 1 4 4 5 3 4 5 5 2 4 4 5 2 4 5 5 3 4 1 5 1 4 2 5 3 4 3 5 2 4 2 5 3 4 6 5 2 4 4 5 1 4 3 5 5 4 6 5 5 4 3 5 2 4 4 5 8 4 4 5 5 4 3 5 4 4 2 5 4 4 3 5 2 4 1 5 1 4 6 5 2 4 3 5 3 4 2 5 3 4 4 5 3 4 2 5 1M1413 481l4 4 5 6 4 2 5 2 4 3 5 2 4 1 5 4 4 2 5-1 4 1 5 5 4 1 5 2 4 1 5 1 4 1 5-1 4 2 5 0 4 3 5 1 4 2 5 0 4 0 5 1 4 2 5 3 4 1 5-1 4 1 5 0 4 1 5 0 4 0 5-1 4 2 5 1 4 2 5 0M1296 410l4 5 5 3 4 2 5 3 4 5 5 3 4 2 5 3 4 5 5 4 4 3 5 5 4 4 5 0 4 1 5 1 4 5 5 5 4 3 5 0 4 4 5 2 4 2 5 4 4 4 5 0 4 2 5 3 4 3 5 2 4 2 5 3 4 2 5 1 4 1 5 1 4 1 5 1 4 2 5 2 4 5 5 1 4 0 5-2 4 1 5 2 4-1 5 1 4 2 5 5 4 1 5 3M1180 342l4 2 5 2 4 4 5 2 4 3 5 4 4 4 5 2 4 4 5 3 4 2 5 4 4 1 5 5 4 2 5 3 4 4 5 2 4 3 5 3 4 4 5 2 4 3 5 3 4 4 5 6 4 3 5 2 4 4 5 2 4 2 5 5 4 0 5 6 4 4 5 2 4 2 5 2 4 3 5 4 4 2 5 3 4 3 5 4 4 3 5 1 4 4 5 4 4 1 5 2 4 3 5 2 4 0 5 3 4 5 5 3 4 0 5 0 4 3 5 1 4-1 5 2 4 3 5 2 4 0 5 2 4 3 5 3 4 1 5 1 4 0 5 1M1249 316l4 4 5 4 4 0 5 3 4 5 5 5 4 3 5 4 4 4 5 3 4 3 5 1 4 2 5 3 4 3 5 5 4 4 5 1 4 3 5 3 4 5 5 4 4 3 5 2 4 4 5 3 4 4 5 4 4 3 5 3 4 2 5 3 4 4 5 2 4 2 5 1 4 4 5 4 4 3 5 4 4 0 5 1 4 2 5 0 4 2 5 2 4 3 5 4 4 4 5 3 4 3 5 2 4 3 5 2 4 2 5 5 4 4 5 2 4 2 5 2 4 2M1398 393l5 2 4 2 5 4 4 5 5 3 4 0 5 4 4 6 5 3 4 3 5 3 4 5 5 3 4 4 5 3 4 1 5 3 4 2 5 6 4 4 5 3 4 0 5 2 4 3 5 2 4 5 5 3 4 3 5 5 4-1 5 1 4 5 5 2 4 1 5 2 4 3 5 3 4 0M1321 429l4 2 5 4 4 2 5 2 4 1 5 3 4 1 5 2 4 4 5 4 4 2 5 2 4 5 5 2 4 5 5 2 4 3 5 2 4 2 5 1 4 3 5 1 4 2 5 3 4 2 5 3 4 1 5 2 4 3 5 2 4 1 5 2 4-1 5 2 4 1 5-1 4 1 5 1 4 3 5 0 4 3 5 2 4 0 5-1 4 0 5 2 4 4 5 2 4 1 5 0 4 1M1148 252l4 4 5 6 4 4 5 5 4 4 5 2 4 2 5 5 4 4 5 4 4 5 5 3 4 3 5 2 4 3 5 4 4 5 5 3 4 3 5 5 4 3 5 4 4 4 5 4 4 3 5 2 4 3 5 1 4 3 5 2 4 2 5 4 4 3 5 1 4 2 5 5 4 3 5 3 4 0 5 2 4 4 5 5 4 4 5 2 4 4 5 3 4 5 5 2 4 3 5 5 4 3 5 4 4 3 5 2 4 1 5 5 4 4 5 1 4 4 5 2 4 4 5 2 4 3 5 2 4 2 5 3 4 0 5 1 4 2 5 1 4 3 5 4M1104 142l4 6 5 2 4 2 5 1 4 7 5 4 4 5 5 3 4 3 5 6 4 6 5 5 4 2 5 2 4 7 5 5 4 4 5 2 4 5 5 6 4 4 5 3 4 6 5 4 4 4 5 5 4 5 5 3 4 5 5 4 4 3 5 1 4 4 5 4 4 4 5 3 4 3 5 0 4 4 5 2 4 4 5 4 4 5 5 5 4 3 5 4 4 5 5 6 4 4 5 6 4 1 5 3 4 5 5 3 4 6 5 4 4 5 5 2 4 2 5 4 4 0 5 2 4 4 5 5 4 1 5 2 4 5 5 3 4 1 5 2 4 4 5 3 4 3 5 2 4 2 5 3 4 2 5 5 4 4 5 5 4 2 5-1M1422 485l5 2 4 3 5 4 4 2 5 2 4 0 5 1 4 2 5 3 4 2 5 1 4 2 5 3 4 3 5 1 4 1 5 0 4 2 5 1 4 0 5 1 4 0 5 3 4 3 5 2 4 1 5 0 4 4 5 2 4 0 5 1 4 1 5-1M1254 366l4 4 5 1 4-1 5 2 4 5 5 3 4 4 5 3 4 1 5 6 4 2 5 4 4 3 5 3 4 3 5 1 4 2 5 3 4 4 5 5 4 5 5 3 4 2 5 2 4 5 5 3 4 4 5 4 4 2 5 3 4 2 5 2 4 3 5 2 4 1 5 4 4 5 5 4 4 4 5-1 4 1 5 1 4 2 5 0 4 2 5 2 4 4 5 2 4 0 5 2 4 1 5 3 4 2 5 2 4 2 5 5 4 0 5 1 4-1M1295 369l4 6 5 4 4 5 5 3 4 0 5 5 4 4 5 4 4 4 5 6 4 5 5 2 4 2 5 2 4 4 5 4 4 5 5 4 4 3 5 4 4 2 5 6 4 2 5 2 4 3 5 4 4 1 5 1 4 2 5 3 4 3 5 5 4 3 5 0 4 1 5-1 4 4 5 3 4 1 5 3 4 1 5 1 4 3 5 1 4 2 5 2 4 3 5 2 4 2 5-2M1414 412l4 2 5 3 4 5 5 3 4 2 5 3 4 4 5 3 4 2 5 1 4 2 5 5 4 3 5 4 4 3 5 1 4 4 5 3 4 2 5 1 4 1 5 3 4 3 5 4 4 3 5 1 4 2 5 1 4 0 5 4 4 3 5 1 4 2 5 4 4 2 5 2M1154 249l5 3 4 3 5 5 4 3 5 3 4 1 5 4 4 5 5 5 4 4 5 3 4 3 5 5 4 4 5 2 4 5 5 7 4 4 5 2 4 2 5 3 4 3 5 2 4 3 5 2 4 4 5 4 4 3 5 2 4 3 5 4 4 3 5 3 4 4 5 0 4 1 5 4 4 5 5 3 4 2 5 4 4 6 5 3 4 2 5 4 4 3 5 0 4 2 5 3 4 6 5 5 4 3 5 3 4 3 5 2 4 3 5 4 4 2 5 2 4 3 5 4 4 1 5 2 4 4 5 3 4 1 5 4 4 1 5 0 4 5" stroke="#77AC30"/><path d="M1012 76l5 5 4 1 5 1 4 4 5 0 4-1 5 2 4 3 5 0 4 3 5 3 4 4 5 2 4 4 5 3 4 3 5 2 4 6 5 4 4 2 5 3 4 4 5 5 4 5 5 5 4 5 5 3 4 5 5 3 4 5 5 1 4 0 5 3 4 6 5 5 4 4 5 4 4 5 5 4 4 4 5 6 4 5 5 3 4 5 5 5 4 4 5 4 4 3 5 5 4 5 5 6 4 3 5 4 4 3 5 3 4 2 5 3 4 5 5 2 4 3 5 4 4 6 5 5 4 4 5 3 4 4 5 3 4 4 5 5 4 3 5 3 4 1 5 2 4 4 5 4 4 6 5 4 4 3 5 5 4 3 5 4 4 3 5 4 4 4 5 1 4 1 5 3 4 5 5 4 4 2 5 4 4 2 5 5 4 3 5 2M1092 264l4 4 5 6 4 3 5 3 4 2 5 3 4 3 5 6 4 5 5 3 4 5 5 3 4 6 5 4 4 3 5 4 4 5 5 4 4 4 5 5 4 5 5 5 4 1 5 4 4 3 5 2 4 5 5 4 4 4 5 4 4 0 5 4 4 4 5 2 4 5 5 4 4 5 5 5 4 1 5 3 4 3 5 5 4 1 5 3 4 4 5 2 4 3 5 5 4 3 5 3 4 2 5 4 4 4 5 2 4 2 5 2 4 4 5 3 4 3 5 3 4 4 5 5 4 4 5 3 4 3 5 3 4 4 5 3 4 4 5 1 4 0 5 3 4 2 5 2 4 2 5 1 4 2 5 1 4 0 5-1 4 0 5 2M1398 396l4 4 5 6 4 1 5 4 4 5 5 2 4 5 5 5 4 1 5 3 4 3 5 2 4 1 5 3 4 2 5 2 4 3 5 4 4 3 5 1 4 4 5 5 4 3 5 3 4 2 5 3 4-1 5 2 4 1 5 3 4 2 5 3 4 0 5 2 4 4M1361 422l4 2 5 3 4 5 5 1 4 3 5 2 4 1 5 1 4 2 5 3 4 4 5 5 4 2 5 0 4 2 5 0 4 2 5 4 4 3 5 1 4 4 5 1 4 2 5 2 4 2 5 2 4 1 5 1 4 3 5 2 4 1 5 1 4 2 5 3 4 2 5 2 4 2 5 3 4 2 5 3 4 1M1351 367l4 7 5 4 4 3 5 2 4 5 5 1 4 3 5 1 4 6 5 2 4 3 5 7 4 3 5 4 4 2 5 2 4 3 5 5 4 1 5 2 4 4 5 3 4 2 5 5 4 6 5 3 4 5 5 1 4 3 5 4 4 2 5 3 4 1 5 4 4 2 5 1 4 3 5 3 4 3 5 1M1408 484l4 1 5 3 4 3 5 2 4 1 5 1 4 2 5 0 4 1 5 2 4 2 5 2 4 3 5 0 4 3 5 4 4 1 5 4 4 0 5 1 4 3 5 1 4-2 5 1 4 0 5-1 4 2 5-1 4 0 5 4 4 3 5 3 4 2 5-1M1331 348l5 4 4 1 5 4 4 3 5 3 4 3 5 3 4 3 5 5 4 2 5 5 4 5 5 2 4 4 5 2 4 2 5 3 4 4 5 3 4 2 5 4 4 4 5 4 4 6 5 1 4 2 5 2 4 4 5 4 4 3 5 4 4 4 5 0 4 4 5 2 4 2 5 2 4 5 5 3 4 0 5 1 4 3 5 3 4 3 5 3 4 1 5 3M1094 218l5 1 4 4 5 4 4 3 5 4 4 5 5 1 4 5 5 6 4 3 5 2 4 3 5 4 4 3 5 3 4 4 5 5 4 4 5 4 4 1 5 3 4 3 5 2 4 4 5 4 4 5 5 3 4 4 5 2 4 4 5 5 4 3 5 2 4 3 5 4 4 2 5 2 4 7 5 5 4 3 5 2 4 3 5 2 4 4 5 3 4 2 5 4 4 3 5 5 4 2 5 2 4 4 5 2 4 2 5 4 4 3 5 3 4 2 5 4 4 2 5 4 4 3 5 4 4 5 5 3 4 2 5 2 4 4 5 2 4 1 5 0 4 1 5 2 4 4 5 1 4 2 5 2 4 1 5-1 4 2M1424 428l4 3 5 3 4 3 5 5 4 3 5 3 4 3 5 4 4 2 5 1 4 1 5 3 4 5 5 4 4 3 5 3 4 4 5 4 4 3 5 0 4 2 5 2 4 3 5 2 4 3 5 3 4 0 5-1 4 1 5 2 4 3 5 1M1382 464l4 3 5 2 4 1 5 2 4 2 5 4 4 2 5 3 4 2 5 1 4 3 5 3 4 3 5 0 4 3 5 1 4 1 5-1 4 2 5 4 4 2 5 3 4 0 5 2 4 2 5 2 4 1 5 1 4 3 5 1 4-2 5 0 4 2 5 1 4 1 5 3 4 1 5 1 4 0 5 2M1280 411l4 3 5 3 4 1 5 2 4 3 5 2 4 4 5 6 4 1 5 4 4 3 5 5 4 3 5 4 4 2 5 3 4 1 5 2 4 5 5 4 4 4 5 3 4 3 5 1 4 3 5 3 4 3 5 3 4 0 5 1 4 0 5 1 4 3 5 4 4 2 5 0 4 3 5 1 4 3 5 3 4 0 5 2 4 0 5 0 4 2 5 0 4 0 5 3 4 1 5 0 4 1 5 1 4 0 5 1 4-1M1385 388l5 2 4 4 5 4 4 3 5 3 4 5 5 3 4 3 5 3 4 5 5 3 4 5 5 2 4 2 5 4 4 2 5 3 4 3 5 3 4 2 5 2 4 3 5 4 4 3 5 2 4 5 5 3 4 4 5 1 4 3 5 2 4 2 5 2 4 3 5 2 4 4 5 2 4 3 5 2 4 0M1221 315l5 5 4 4 5 5 4 2 5 3 4 2 5 6 4 0 5 3 4 5 5 3 4 1 5 2 4 4 5 4 4 2 5 3 4 3 5 1 4 2 5 5 4 5 5 3 4 2 5 2 4 2 5 5 4 2 5 4 4 2 5 2 4 3 5 4 4 4 5 5 4 2 5 2 4 3 5 3 4 3 5 3 4 2 5 4 4 4 5 3 4 3 5 3 4 1 5 2 4 1 5 2 4 1 5 2 4 2 5 2 4 2 5 3 4 3 5 1 4 2 5 2 4 2 5 1 4 3M1427 430l5 3 4 1 5 3 4 4 5 3 4 0 5 4 4 2 5 2 4 2 5 4 4 3 5 6 4 3 5 0 4 3 5 3 4 3 5 0 4 1 5 3 4 3 5 2 4 3 5 4 4 1 5 1 4 4 5 2 4 2 5 2 4 2 5 3M1357 382l5-2 4 2 5 5 4 3 5 4 4 3 5 3 4 3 5 4 4 3 5 3 4 2 5 1 4 4 5 4 4 5 5 3 4 2 5 4 4 3 5 3 4 4 5 4 4 6 5 1 4 2 5 2 4 2 5 5 4 4 5 0 4 2 5 2 4 4 5 4 4 2 5 2 4 3 5 3 4 3 5 3 4 4 5 1 4 0 5 1 4 2 5 1M1104 159l5 4 4 5 5 6 4 4 5 3 4 5 5 5 4 5 5 2 4 3 5 4 4 3 5 5 4 6 5 5 4 4 5 6 4 5 5 5 4 3 5 5 4 4 5 3 4 6 5 4 4 3 5 4 4 4 5 3 4 4 5 3 4 3 5 4 4 5 5 4 4 3 5 5 4 3 5 2 4 5 5 3 4 5 5 3 4 1 5 4 4 3 5 2 4 4 5 5 4 3 5 3 4 4 5 3 4 3 5 6 4 4 5 4 4 4 5 6 4 4 5 3 4 3 5 5 4 3 5 1 4 2 5 6 4 5 5 2 4 2 5 2 4 3 5 4M1367 380l5 3 4 0 5 3 4 2 5 1 4 4 5 4 4 6 5 3 4 3 5 6 4 3 5 3 4 2 5 3 4 4 5 3 4 1 5 3 4 2 5 3 4 3 5 4 4 4 5 0 4 2 5 2 4 2 5 0 4 3 5 4 4 4 5 2 4 0 5 2 4 4 5 1 4 0 5 3M1194 223l4 2 5 5 4 7 5 4 4 3 5 4 4 3 5 4 4 6 5 7 4 5 5 5 4 3 5 4 4 3 5 4 4 5 5 3 4 3 5 4 4 4 5 4 4 6 5 3 4 2 5 4 4 3 5 5 4 4 5 3 4 4 5 6 4 2 5 2 4 5 5 1 4 1 5 4 4 4 5 5 4 3 5 4 4 3 5 4 4 3 5 4 4 2 5 2 4 2 5 3 4 4 5 4 4 2 5 2 4 1 5 4 4 3 5 3 4 3 5 6 4 2 5 3 4 3M1083 146l4 3 5 4 4 4 5 4 4 5 5 3 4 2 5 4 4 5 5 4 4 4 5 4 4 7 5 1 4 2 5 5 4 3 5 5 4 4 5 6 4 5 5 4 4 3 5 3 4 3 5 3 4 5 5 3 4 4 5 4 4 4 5 4 4 2 5 2 4 2 5 4 4 5 5 5 4 4 5 3 4 4 5 3 4 3 5 1 4 2 5 4 4 5 5 2 4 5 5 2 4 4 5 5 4 4 5 3 4 3 5 4 4 3 5 2 4 4 5 2 4 3 5 5 4 4 5 2 4 3 5 4 4 2 5 1 4 5 5 2 4 3 5 3 4 2 5 4 4 5 5 4 4 3 5 3 4 3M1246 333l5 2 4 3 5 4 4 2 5 2 4 3 5 4 4 2 5 2 4 4 5 4 4 2 5 5 4 4 5 2 4 6 5 6 4 3 5 2 4 1 5 3 4 5 5 5 4 3 5 2 4 2 5 5 4 3 5 3 4 4 5 2 4 3 5 4 4 4 5 2 4 4 5 4 4 3 5 4 4 1 5 2 4 2 5 3 4 1 5 2 4 4 5 3 4-1 5 0 4 2 5 1 4 4 5 4 4 3 5-1 4 0 5 2 4 1 5 2 4 1 5 1 4 5M1221 258l5 6 4 3 5 3 4 7 5 5 4 3 5 4 4 4 5 4 4 2 5 4 4 4 5 4 4 3 5 5 4 4 5 5 4 3 5 4 4 5 5 5 4 3 5 3 4 4 5 1 4 4 5 3 4 5 5 3 4 3 5 6 4 3 5 1 4 3 5 3 4 4 5 3 4 2 5 4 4 2 5 2 4 4 5 2 4 4 5 4 4 5 5 3 4 2 5 1 4 2 5 3 4 3 5 2 4 1 5 4 4 3 5 1 4 2 5 5 4 2 5 3 4 2M1127 292l4 3 5 4 4 3 5 1 4 3 5 5 4 2 5 6 4 5 5 5 4 5 5 5 4 1 5 3 4 6 5 3 4 4 5 4 4 3 5 4 4 3 5 3 4 5 5 2 4 3 5 3 4 3 5 4 4 5 5 5 4 4 5 2 4 2 5 2 4 2 5 2 4 3 5 3 4 4 5 2 4 4 5 3 4 3 5 3 4 4 5 4 4 4 5 1 4 4 5 1 4 4 5 3 4 5 5 5 4 2 5 3 4 3 5 0 4 2 5 3 4 1 5 3 4 0 5 3 4 3 5 2 4 3 5 1 4-1 5 0 4 2 5 2M1475 512l5 2 4 2 5 2 4-1 5 1 4 0 5 0 4-1 5 0 4 1 5 1 4 2 5 3 4 1 5-1 4 1 5 2 4 2 5 1 4 1 5 2 4 2 5-1 4 1 5 0 4 0 5 1 4-1" stroke="#7E2F8E"/><path d="M1186 300l5 5 4 1 5 4 4 4 5 4 4 2 5 2 4 3 5 5 4 2 5 4 4 3 5 5 4 2 5 2 4 3 5 2 4 5 5 4 4 3 5 1 4 2 5 2 4 2 5 3 4 1 5 2 4 3 5 2 4 3 5 4 4 3 5 6 4 4 5 3 4 5 5 3 4 4 5 2 4 2 5 4 4 4 5 3 4 2 5 4 4 1 5 3 4 3 5 1 4 1 5 4 4 4 5 1 4 0 5 3 4 2 5 0 4 0 5 2 4 0 5 0 4 0 5 4 4 1 5 2 4 1 5 1M1341 446l4 4 5 4 4 3 5 2 4 1 5 5 4 4 5 6 4 2 5 2 4 3 5 0 4 1 5 0 4 2 5 3 4 2 5 4 4 4 5 4 4 2 5-2 4 2 5 1 4 3 5 3 4 4 5 0 4 0 5 2 4 2 5 2 4 2 5 0 4-1 5 1 4 2 5 1 4 0 5 1 4 3 5 2 4 0 5 0 4 2M1327 407l4 2 5 5 4 3 5 3 4 5 5 6 4 2 5 3 4 4 5 3 4 3 5 4 4 4 5 6 4 3 5 1 4 2 5 2 4 2 5 4 4 4 5 3 4 3 5 3 4 1 5 1 4 2 5 3 4 2 5 0 4 1 5 1 4 3 5 2 4 2 5 0 4 1 5 2 4 1 5 4 4 0 5-1 4 2 5 1 4 3 5 2 4 1 5 1M1191 254l5 5 4 5 5 4 4 3 5 3 4 5 5 6 4 4 5 2 4 3 5 4 4 5 5 4 4 2 5 4 4 4 5 4 4 4 5 4 4 6 5 5 4 2 5 3 4 3 5 3 4 4 5 3 4 1 5 3 4 3 5 6 4 4 5 4 4 6 5 4 4 2 5 2 4 1 5 1 4 6 5 4 4 4 5 3 4 4 5 3 4 4 5 2 4 4 5 2 4 2 5 4 4 2 5 1 4 2 5 2 4 3 5 4 4 3 5 2 4 0 5 3 4 2 5 3M1431 434l5 3 4 4 5 3 4 2 5 4 4 2 5 2 4 1 5 1 4 2 5 2 4 3 5 3 4 2 5 3 4 6 5 1 4 1 5 2 4 4 5 3 4 2 5 1 4 2 5 3 4 3 5 2 4 1 5 3 4 2 5 2 4 2 5 2 4 3 5 1M1173 286l4 1 5 3 4 4 5 4 4 4 5 3 4 5 5 3 4 2 5 4 4 4 5 4 4 4 5 3 4 2 5 5 4 4 5 0 4 4 5 3 4 4 5 2 4 4 5 5 4 5 5 5 4 3 5 2 4 2 5 4 4 4 5 3 4 5 5 3 4 4 5 1 4 3 5 4 4 3 5 4 4 5 5 1 4 5 5 3 4 5 5 2 4 4 5 4 4 4 5 2 4 0 5 2 4 3 5 4 4 3 5 2 4 3 5 3 4 2 5 0 4 3 5 1 4 2 5 3 4 1 5 2 4 1 5 1 4 1 5 1 4 4M1124 188l4 2 5 3 4 5 5 6 4 5 5 4 4 2 5 3 4 3 5 5 4 5 5 2 4 5 5 4 4 3 5 5 4 7 5 3 4 5 5 4 4 2 5 3 4 4 5 5 4 3 5 4 4 4 5 5 4 5 5 2 4 2 5 4 4 2 5 3 4 5 5 2 4 3 5 5 4 1 5 5 4 1 5 3 4 6 5 2 4 2 5 4 4 4 5 3 4 3 5 4 4 4 5 3 4 5 5 4 4 5 5 4 4 2 5 3 4 2 5 1 4 3 5 2 4 4 5 4 4 4 5 3 4 4 5 4 4 2 5 3 4 6 5 3 4 2 5 3M1356 440l5 3 4 3 5 3 4 4 5 5 4 2 5 3 4 3 5 2 4 4 5 3 4 2 5 2 4 1 5 5 4 3 5 3 4 0 5 2 4 3 5 2 4 2 5 1 4 2 5 1 4 0 5 0 4 3 5 4 4-1 5 0 4 2 5 1 4 2 5 2 4 0 5 1 4 1 5 2M1265 341l4 1 5 4 4 2 5 3 4 2 5 6 4 5 5 2 4 3 5 5 4 3 5 4 4 5 5 7 4 3 5 3 4 2 5 1 4 3 5 3 4 3 5 6 4 3 5 3 4 2 5 3 4 1 5 5 4 2 5 3 4 3 5 3 4 1 5 2 4 2 5 2 4 4 5 2 4 0 5 3 4 3 5 3 4 2 5 0 4 1 5 4 4 4 5 3 4 2 5 2 4 4 5 3 4 1M1389 477l5 3 4 1 5 2 4 2 5 1 4 2 5 2 4 2 5 2 4 2 5 0 4 2 5 2 4 1 5 0 4 1 5 0 4 1 5 2 4 2 5-2 4 2 5 2 4 2 5 2 4 1 5 2 4 2 5 0 4 1 5 0 4 0 5 0 4 1 5 3 4 1 5 2 4-1 5 1 4 1 5 0M1293 388l4 2 5 3 4 6 5 4 4 1 5 1 4 4 5 5 4 2 5 2 4 2 5 6 4 2 5 3 4 4 5 4 4 2 5 2 4 5 5 3 4 2 5 1 4 2 5 2 4 2 5 2 4 3 5 5 4 3 5 0 4 1 5 1 4 3 5 2 4 2 5 4 4 3 5 2 4 3 5 0 4 0 5 2 4 1 5 1 4 5 5 1 4 0 5-1 4 1 5 1 4 2 5 2 4 1 5 3 4 1 5 1 4 3M1219 362l4 3 5 3 4 3 5 4 4 3 5 5 4 2 5 4 4 3 5 3 4 3 5 3 4 3 5 3 4 1 5 4 4 6 5 3 4 3 5 2 4 3 5 2 4 2 5 3 4 3 5 2 4 2 5 2 4 1 5 5 4 3 5 5 4 5 5 4 4 3 5 1 4 3 5 2 4 4 5 3 4 3 5 2 4 2 5 3 4 2 5 3 4 0 5 1 4 3 5 4 4 3 5 0 4 2 5-1 4 0 5 3 4 3 5 3 4 2 5 0 4-1 5 0M1238 374l4 1 5 2 4 5 5 1 4 2 5 1 4 2 5 3 4 3 5 5 4 2 5 2 4 3 5 2 4 2 5 4 4 2 5 4 4 2 5 3 4 3 5 1 4 1 5 4 4 3 5 2 4 5 5 1 4 2 5 5 4 7 5 3 4 0 5 3 4 2 5 2 4 1 5 2 4 1 5 3 4 3 5 2 4 2 5 3 4 1 5 2 4 1 5 1 4 3 5 2 4 0 5 2 4 0 5 3 4 1 5-1 4 2 5 2 4 1 5 2 4 1M1158 286l4 4 5 6 4 5 5 2 4 6 5 4 4 3 5 3 4 6 5 5 4 5 5 2 4 4 5 3 4 5 5 4 4 0 5 2 4 2 5 4 4 2 5 4 4 3 5 3 4 1 5 4 4 2 5 2 4 1 5 6 4 3 5 3 4 3 5 4 4 5 5 2 4 3 5 3 4 3 5 2 4 5 5 6 4 3 5 1 4 4 5 1 4 3 5 3 4 4 5 3 4 4 5 2 4 3 5 0 4 2 5 2 4 3 5 4 4 2 5 5 4 3 5 2 4 0 5 2 4 1 5-1 4 2 5 4M1203 276l5 4 4 2 5 3 4 5 5 5 4 5 5 5 4 4 5 5 4 4 5 3 4 5 5 3 4 3 5 4 4 1 5 5 4 3 5 3 4 2 5 4 4 3 5 5 4 3 5 3 4 0 5 4 4 3 5 4 4 5 5 3 4 3 5 5 4 5 5 1 4 4 5 4 4 3 5 3 4 4 5 1 4 3 5 1 4 3 5 3 4 4 5 3 4 3 5 3 4 5 5 4 4 5 5 0 4 0 5 3 4 1 5 1 4 3 5 2 4 4 5 2 4 1 5 6 4 4 5 1 4 0M1376 371l4 5 5 5 4 4 5 3 4 4 5 3 4 3 5 5 4 3 5 4 4 2 5 3 4 5 5 3 4 2 5 3 4-1 5 3 4 2 5 4 4 5 5 3 4 0 5 3 4 3 5 2 4 2 5 3 4 3 5 4 4 4 5 2 4 2 5 3 4 3 5 3 4 2 5 4 4 2" stroke="#A2142F"/><path d="M1035 177l4 4 5 5 4 7 5 5 4 3 5 6 4 4 5 6 4 4 5 4 4 2 5 4 4 5 5 5 4 4 5 1 4 7 5 4 4 2 5 2 4 0 5 2 4 5 5 2 4 5 5 3 4 4 5 5 4 6 5 7 4 4 5 3 4 3 5 3 4 3 5 3 4 6 5 3 4 5 5 5 4 5 5 4 4 4 5 3 4 4 5 3 4 4 5 1 4 3 5 3 4 3 5 5 4 3 5 4 4 3 5 1 4 5 5 4 4 5 5 3 4 1 5 3 4 4 5 3 4 4 5 4 4 4 5 2 4 4 5 2 4 4 5 2 4 3 5 6 4 4 5 5 4 3 5 4 4 2 5 0 4 4 5 3 4 3 5 2 4-1 5 2 4 4 5 3 4 4M1400 481l5 2 4 5 5 2 4 2 5 4 4 5 5 2 4 2 5 1 4-1 5 2 4 2 5 1 4 1 5-1 4 3 5 1 4 0 5 2 4 2 5 2 4 2 5 0 4 1 5 1 4 3 5 0 4 2 5 0 4 2 5 1 4 2 5 1 4 1 5 0 4 2 5-1M1458 479l4 1 5 2 4 5 5 2 4 2 5 0 4 2 5 4 4 3 5 0 4 2 5 2 4 1 5 1 4 2 5 2 4-2 5 2 4 2 5 1 4-1 5 1 4 3 5 3 4 3 5 2 4 1 5 1 4 3 5 0 4 2 5 1M1359 370l5 4 4 3 5 4 4 2 5 2 4 4 5 3 4 4 5 3 4 3 5 3 4 2 5 2 4 4 5 8 4 1 5 2 4 1 5 2 4 3 5 4 4 1 5 4 4 3 5 2 4 1 5 3 4 4 5 3 4 3 5 1 4 3 5 3 4 0 5 4 4 2 5 2 4 5 5 2 4 2 5 3 4 4 5 3 4 2 5 2M1257 294l5 4 4 3 5 4 4 2 5 2 4 3 5 3 4 5 5 3 4 4 5 3 4 4 5 6 4 5 5 1 4 4 5 5 4 2 5 5 4 4 5 6 4 2 5 3 4 2 5 4 4 2 5 1 4 3 5 1 4 4 5 4 4 1 5 2 4 3 5 6 4 3 5 4 4 6 5 3 4 1 5 1 4 1 5 2 4 3 5 2 4 4 5 2 4 5 5 4 4 3 5 3 4 2 5 3 4 2 5 4M1334 417l4 3 5 5 4 2 5 4 4 1 5 3 4 3 5 2 4 1 5 3 4 5 5 5 4 4 5 3 4 4 5 3 4 2 5 1 4 1 5 2 4 3 5 2 4 0 5 2 4 3 5 3 4-1 5 1 4 1 5 1 4 2 5 5 4-1 5 2 4 0 5 2 4 1 5 0 4 1 5 1 4 2 5 3 4 2 5-1 4 0 5 1 4 2 5 1M1220 370l5 3 4 5 5 3 4 3 5 3 4 4 5 5 4 4 5 4 4 3 5 3 4 3 5 2 4 3 5 3 4 1 5 3 4 2 5 2 4 3 5 4 4 3 5 3 4 2 5 3 4 4 5 6 4 2 5 1 4 7 5 2 4 4 5 3 4 5 5 4 4 4 5 1 4 2 5 1 4 1 5 3 4 2 5 3 4 3 5 2 4 3 5 1 4 2 5 2 4-2 5 2 4 4 5 0 4 0 5 0 4 1 5 3 4 2 5 2 4 1 5 3 4 0 5 0M1347 351l4 4 5 3 4 1 5 3 4 3 5 4 4 5 5 6 4 2 5 3 4 3 5 4 4 3 5 4 4 1 5 3 4 1 5 4 4 4 5 6 4 5 5 4 4 4 5 3 4 2 5 3 4 2 5 3 4 4 5 2 4 3 5 3 4 2 5 2 4 2 5 5 4 4 5 3 4 3 5 3 4 4 5 3 4 1 5 2 4 1M1250 356l4 5 5 5 4 4 5 1 4 4 5 2 4 0 5 1 4 4 5 4 4 6 5 4 4 1 5 2 4 3 5 3 4 7 5 2 4 2 5 2 4 5 5 4 4 3 5 5 4 4 5 2 4 6 5 4 4 3 5 0 4 2 5 3 4 3 5 3 4 3 5 2 4 4 5 1 4 2 5 3 4 3 5 3 4 2 5 3 4 2 5 2 4 1 5-2 4 3 5 3 4 1 5 3 4 2 5 0M1458 505l5 0 4 2 5 3 4 3 5 0 4 0 5 3 4 2 5 1 4 0 5 1 4 1 5 3 4 3 5 2 4 1 5 1 4 1 5 1 4 2 5 0 4-2 5-2 4 3 5 3 4 2 5 2 4 1M1316 417l5 5 4 3 5 2 4 5 5 4 4 3 5 4 4 1 5 4 4 4 5 3 4 4 5 4 4 2 5 3 4 2 5 4 4 2 5 0 4 1 5 2 4 3 5 4 4 4 5 3 4 0 5 0 4 0 5 2 4 4 5 3 4 2 5-1 4 3 5 1 4 1 5 3 4 2 5 1 4 1 5 2 4 2 5 3 4 1 5 0 4 0 5 1 4 0M1412 484l5 5 4 0 5 1 4 3 5 2 4 1 5 2 4 3 5 1 4 2 5 0 4 3 5 1 4 1 5 1 4 0 5 0 4 1 5 3 4 0 5 0 4 1 5 1 4 0 5 2 4 0 5 0 4 3 5 2 4 2 5 1 4 2 5-2 4 2M1278 310l5 3 4 4 5 3 4 3 5 4 4 4 5 3 4 5 5 2 4 4 5 6 4 3 5 5 4 4 5 5 4 2 5 1 4 3 5 2 4 4 5 3 4 4 5 4 4 2 5 1 4 3 5 5 4 6 5 4 4 2 5 5 4 3 5 3 4 2 5 2 4 0 5 4 4 2 5 5 4 6 5 3 4 1 5 2 4 5 5 3 4 3 5 3 4 4 5 4M1152 317l4 5 5 4 4 4 5 4 4 5 5 1 4 5 5 5 4 4 5 6 4 5 5 3 4 3 5 3 4 3 5 5 4 4 5 3 4 2 5 2 4 4 5 4 4 3 5 2 4 3 5 3 4 3 5 1 4 3 5 2 4 4 5 4 4 1 5 2 4 3 5 4 4 5 5 1 4 2 5 3 4 5 5 5 4 5 5 4 4 2 5 4 4 2 5 4 4 4 5 4 4 3 5 4 4 3 5 3 4 4 5 3 4 2 5 3 4 2 5 3 4 2 5 2 4 3 5 1 4 3 5-1 4 2 5 4 4 2 5 3 4 3M1301 387l4 7 5 4 4 2 5 0 4 2 5 3 4 4 5 4 4 4 5 3 4 3 5 3 4 4 5 3 4 3 5 5 4 2 5 2 4 0 5 1 4 5 5 5 4 3 5 3 4 2 5 3 4 3 5 1 4 1 5 2 4 4 5 1 4 1 5 2 4 5 5 0 4 3 5 3 4 4 5 1 4 1 5 3 4 1 5 0 4 1 5 2 4 3 5 1 4 1 5 0 4 0 5 3M1155 197l4 3 5 2 4 5 5 4 4 5 5 4 4 4 5 6 4 7 5 3 4 3 5 4 4 5 5 5 4 6 5 4 4 3 5 3 4 4 5 7 4 1 5 3 4 2 5 4 4 5 5 2 4 4 5 5 4 6 5 2 4 2 5 4 4 5 5 3 4 3 5 4 4 4 5 3 4 3 5 3 4 5 5 3 4 5 5 2 4 3 5 3 4 3 5 3 4 4 5 4 4 3 5 6 4 3 5 2 4 4 5 4 4 3 5 3 4 3 5 2 4 2 5 4 4 3 5 4 4 3 5 2 4 3 5 4 4 3 5 5 4 3 5 3 4 2M1256 304l4 4 5 2 4 5 5 5 4 5 5 3 4 3 5 3 4 5 5 4 4 3 5 4 4 4 5 3 4 3 5 4 4 3 5 4 4 4 5 4 4 3 5 3 4 2 5 3 4 3 5 4 4 5 5 4 4 2 5 4 4 7 5 3 4 1 5 3 4 3 5 4 4 2 5 2 4 2 5 2 4 2 5 3 4 3 5 1 4 5 5 3 4 4 5 3 4 3 5 5 4 3 5 2 4 2 5 4 4 3 5 0 4 1 5 2 4 3" stroke="#D95319"/><path d="M1087 246l4 3 5 4 4 3 5 4 4 5 5 4 4 5 5 3 4 4 5 5 4 5 5 4 4 4 5 1 4 5 5 5 4 6 5 5 4 5 5 4 4 4 5 3 4 4 5 3 4 3 5 4 4 4 5 4 4 6 5 3 4 2 5 2 4 1 5 1 4 6 5 4 4 3 5 3 4 2 5 1 4 6 5 3 4 4 5 0 4 4 5 4 4 5 5 3 4 3 5 2 4 3 5 2 4 4 5 3 4 5 5 5 4 0 5 2 4 2 5 4 4 4 5 2 4 2 5 4 4 4 5 4 4 3 5 3 4 4 5 2 4 3 5 3 4 3 5 2 4 4 5 5 4 1 5 0 4 0 5 2M1016 92l4 1 5 2 4 4 5 3 4 3 5 2 4 2 5 2 4 1 5 1 4 3 5 2 4 4 5 5 4 3 5 3 4 4 5 0 4 3 5 6 4 6 5 2 4 5 5 6 4 3 5 4 4 5 5 3 4 6 5 4 4 5 5 3 4 4 5 4 4 5 5 2 4 5 5 6 4 5 5 4 4 4 5 3 4 5 5 7 4 3 5 5 4 5 5 4 4 4 5 3 4 4 5 5 4 5 5 3 4 4 5 4 4 5 5 3 4 4 5 4 4 2 5 4 4 1 5 2 4 4 5 2 4 4 5 6 4 4 5 5 4 3 5 3 4 3 5 4 4 2 5 3 4 3 5 4 4 2 5 5 4 4 5 5 4 1 5 3 4 5 5 3 4 1 5 6 4 5 5 4 4 1 5 4M1175 246l5 4 4 3 5 2 4 5 5 5 4 5 5 3 4 3 5 3 4 3 5 2 4 6 5 6 4 4 5 2 4 4 5 4 4 3 5 3 4 3 5 4 4 3 5 4 4 4 5 4 4 0 5 3 4 1 5 4 4 5 5 4 4 2 5 4 4 3 5 2 4 4 5 4 4 5 5 0 4 4 5 4 4 3 5 3 4 2 5 4 4 5 5 4 4 0 5 1 4 5 5 3 4 2 5 3 4 4 5 1 4 2 5 3 4 2 5 1 4 4 5 2 4 4 5 1 4 0 5 2 4 1 5 3M1355 450l5 3 4 2 5 5 4 4 5 5 4 2 5 2 4 2 5 3 4 3 5-1 4 5 5 4 4 1 5 2 4 2 5 2 4 0 5 2 4 0 5 0 4 2 5 1 4 2 5 5 4 0 5 2 4 2 5 3 4 2 5 2 4 1 5 2 4 1 5 2 4 1 5 1 4-1 5 1 4 0 5-1 4 2 5 2 4 1 5 3 4-1 5 0M1403 444l4 0 5 3 4 4 5 5 4 4 5 3 4 3 5 5 4 0 5 1 4 2 5 3 4 4 5 2 4 1 5 1 4 1 5 3 4 2 5 0 4 2 5 3 4 2 5 3 4-1 5 2 4 0 5 1 4 3 5 2 4 2 5 2 4 2M1155 246l5 3 4 3 5 4 4 5 5 6 4 4 5 5 4 5 5 2 4 3 5 3 4 6 5 7 4 4 5 4 4 2 5 2 4 3 5 3 4 2 5 6 4 7 5 3 4 2 5 4 4 1 5 2 4 5 5 4 4 6 5 4 4 5 5 3 4 2 5 7 4 7 5 4 4 4 5 3 4 6 5 2 4 4 5 4 4 3 5 6 4 3 5 4 4 4 5 5 4 1 5 2 4 1 5 5 4 6 5 1 4 0 5 2 4 4 5 6 4 6 5 4 4 4 5 1 4 1 5 1 4 2 5 4 4 4 5 2 4 3M1107 235l4 6 5 4 4 4 5 4 4 6 5 1 4 2 5 4 4 4 5 2 4 3 5 4 4 6 5 4 4 3 5 4 4 3 5 4 4 3 5 4 4 3 5 3 4 2 5 5 4 3 5 5 4 6 5 2 4 3 5 2 4 4 5 3 4 3 5 2 4 2 5 2 4 2 5 4 4 2 5 3 4 4 5 2 4 2 5 4 4 2 5 2 4 3 5 3 4 3 5 3 4 4 5 3 4 3 5 3 4 5 5 3 4 2 5 2 4 3 5 4 4 4 5 2 4 1 5 5 4 6 5 4 4-1 5 3 4 4 5 4 4 3 5 2 4 0 5 3 4 1 5 4 4 2 5 1M1355 435l5 4 4 3 5 4 4 4 5 3 4 3 5 2 4 4 5 5 4 3 5 1 4 3 5 5 4 4 5 4 4 1 5 0 4-1 5 2 4 4 5 1 4-2 5 3 4 4 5 2 4 2 5 3 4 3 5 2 4 1 5 1 4 2 5 3 4 2 5 3 4 1 5 0 4 0 5 2 4 1 5 0M1192 351l4 4 5 4 4 4 5 5 4 3 5 2 4 2 5 2 4 5 5 4 4 6 5 3 4 3 5 3 4 0 5 2 4 2 5 5 4 3 5 3 4 1 5 2 4 1 5 4 4 3 5 2 4 2 5 5 4 3 5 4 4 3 5 2 4 5 5 5 4 3 5 2 4 5 5 4 4 2 5 3 4 2 5 4 4 3 5 3 4 2 5 0 4 2 5 1 4 5 5 2 4 1 5 1 4 1 5-1 4 1 5 1 4 0 5 2 4 4 5 3 4 2 5 0 4 3 5 0M1272 348l4 3 5 3 4 2 5 6 4 1 5 3 4 5 5 3 4 2 5 2 4 3 5 2 4 4 5 2 4 3 5 5 4 4 5 4 4 4 5 5 4 3 5 2 4 2 5 6 4 7 5 0 4 3 5 2 4 3 5 2 4 2 5 1 4 1 5 5 4 4 5 3 4 0 5 3 4 4 5 0 4 1 5 0 4 1 5 5 4 3 5 1 4 3 5 3 4 2 5 0 4 1 5 2 4 1 5 1M1259 394l4 2 5 3 4 3 5 2 4 3 5 2 4 1 5 4 4 6 5 1 4 1 5 2 4 6 5 2 4 3 5 2 4 6 5 5 4 4 5 2 4 5 5 5 4 4 5 0 4 3 5 2 4 4 5 4 4 1 5 4 4 4 5 2 4 1 5 1 4 0 5 2 4 4 5 2 4 1 5 1 4 0 5 3 4 3 5 2 4 2 5 1 4 3 5 1 4 0 5 1 4 2 5 0 4 1 5 1M1459 507l5 1 4 0 5 2 4 2 5 0 4 1 5 1 4 2 5 4 4 0 5 0 4 0 5 3 4 3 5 2 4 2 5 4 4 1 5 3 4 0 5 1 4 1 5 2 4-1 5 0 4-2 5 0 4 2 5 1 4 0 5 0 4 1 5 2M1434 479l4 1 5 2 4 1 5 3 4 3 5 1 4 1 5 2 4 2 5 5 4 2 5 0 4 3 5 1 4-2 5 2 4 0 5 1 4-1 5 4 4 2 5 0 4 2 5 0 4 2 5 2 4 1 5 1 4 3 5 1 4 1 5 2 4 3 5 3M1400 396l5 4 4 3 5 2 4 2 5 5 4 0 5 1 4 3 5 4 4 5 5 5 4 2 5 3 4 3 5 4 4 3 5 3 4 3 5 4 4 3 5 1 4 4 5 3 4 4 5 1 4 3 5 5 4 2 5 1 4 0 5 2 4 1 5 5 4 4 5 1 4 1 5 5 4 4 5 2M1227 272l5 3 4 4 5 3 4 4 5 4 4 4 5 5 4 4 5 2 4 3 5 6 4 2 5 4 4 3 5 6 4 4 5 4 4 5 5 3 4 4 5 5 4 4 5 4 4 4 5 2 4 4 5 3 4 5 5 5 4 2 5 2 4 5 5 6 4 2 5 4 4 3 5 4 4 4 5 3 4 5 5 5 4 4 5 0 4 2 5 3 4 1 5 3 4 3 5 3 4 2 5 4 4 4 5 1 4 3 5 1 4 3 5 3 4 2 5 4 4 2 5 3M1142 241l4 7 5 1 4 5 5 3 4 4 5 6 4 6 5 4 4 3 5 4 4 5 5 3 4 4 5 6 4 5 5 5 4 2 5 4 4 3 5 4 4 4 5 3 4 4 5 4 4 3 5 2 4 4 5 2 4 4 5 2 4 2 5 6 4 4 5 2 4 2 5 1 4 4 5 3 4 2 5 3 4 0 5 2 4 5 5 4 4 2 5 3 4 4 5 2 4 2 5 5 4 3 5 5 4 3 5 5 4 2 5 1 4 3 5 3 4 3 5 2 4 3 5 2 4 5 5 0 4 0 5 3 4-1 5 2 4 4 5 3 4 5M1129 196l4 3 5 4 4 2 5 3 4 5 5 4 4 7 5 7 4 4 5 3 4 4 5 6 4 6 5 3 4 4 5 4 4 5 5 5 4 4 5 4 4 6 5 4 4 6 5 5 4 5 5 4 4 4 5 4 4 3 5 4 4 5 5 3 4 3 5 5 4 1 5 5 4 3 5 5 4 2 5 3 4 5 5 2 4 4 5 3 4 5 5 6 4 5 5 5 4 3 5 2 4 2 5 4 4 3 5 1 4 4 5 7 4 3 5 4 4 2 5 3 4 3 5 3 4 3 5 2 4 4 5 5 4 3 5 1 4 3 5 1 4 2 5 4 4 4 5 3 4 3M1125 253l5 2 4 7 5 2 4 2 5 6 4 4 5 7 4 4 5 5 4 3 5 5 4 5 5 6 4 7 5 5 4 2 5 3 4 4 5 5 4 5 5 5 4 3 5 4 4 4 5 2 4 4 5 2 4 4 5 3 4 1 5 2 4 0 5 4 4 2 5 6 4 5 5 2 4 2 5 3 4 4 5 3 4 3 5 5 4 4 5 4 4 4 5 3 4 2 5 3 4 2 5 2 4 3 5 4 4 7 5 5 4 1 5 1 4 4 5 4 4 2 5 2 4 3 5 2 4 2 5 5 4 2 5 1 4 3 5 4 4 1 5 2 4 2 5 2 4 2 5 1M1208 298l4 4 5 7 4 3 5 5 4 3 5 4 4 4 5 4 4 4 5 3 4 3 5 4 4 3 5 3 4 1 5 2 4 5 5 6 4 3 5 4 4 5 5 3 4 2 5 4 4 2 5 2 4 7 5 3 4 5 5 5 4 4 5 4 4 1 5 2 4 3 5 6 4 3 5 2 4 4 5 3 4 4 5 2 4 2 5 3 4-1 5 1 4 6 5 4 4 3 5 2 4 4 5 1 4 1 5 1 4 3 5 1 4 3 5 4 4 5 5 1 4 2 5 3 4 2 5 3 4-1 5-2 4 2M1296 411l5 2 4 3 5 2 4 2 5 4 4 3 5 3 4 2 5 3 4 2 5 7 4 3 5 3 4 6 5 2 4 6 5 5 4 3 5 1 4 3 5 2 4 0 5 2 4 5 5 4 4 0 5 2 4 3 5 3 4 1 5 0 4 1 5 0 4 4 5 2 4 2 5 0 4 0 5 0 4 3 5 0 4 1 5 4 4 2 5 0 4-1 5 1 4 0 5 1 4 4 5 0 4-1 5 1 4 1M1332 378l4 4 5 5 4 5 5 3 4 3 5 2 4 1 5 3 4 3 5 2 4 4 5 3 4 4 5 4 4 1 5 2 4 4 5 4 4 1 5 2 4 6 5 1 4 2 5 0 4 1 5 4 4 3 5 1 4 4 5 3 4 3 5 2 4 2 5 5 4 2 5 3 4 2 5 1 4 2 5 5 4 2 5 2 4 5M1426 473l4 3 5 0 4 1 5 1 4 1 5 2 4 2 5 2 4 0 5 0 4 4 5 4 4-1 5 1 4 0 5 2 4 2 5 2 4 2 5 1 4 1 5 0 4 1 5 3 4 0 5 3 4-1 5 3 4 0 5 1 4 1 5 4 4 3 5 2 4 1M1332 344l5 4 4 3 5 4 4 3 5 3 4 4 5 5 4 2 5 6 4 4 5 3 4 3 5 2 4 1 5 4 4 4 5 2 4 6 5 4 4 2 5 4 4 2 5 3 4 4 5 1 4 5 5 2 4 3 5 4 4 3 5 1 4 4 5 5 4 3 5 3 4 3 5 4 4 2 5 3 4 4 5 4 4 3 5-1 4 2 5 1 4 0 5 5M1122 182l4 1 5 7 4 5 5 5 4 4 5 2 4 5 5 4 4 3 5 5 4 3 5 5 4 5 5 5 4 6 5 4 4 6 5 4 4 3 5 3 4 5 5 5 4 2 5 5 4 6 5 3 4 3 5 4 4 1 5 3 4 3 5 2 4 3 5 5 4 3 5 6 4 2 5 5 4 2 5 5 4 4 5 5 4 5 5 4 4 4 5 3 4 4 5 4 4 4 5 4 4 5 5 2 4 3 5 4 4 5 5 5 4 2 5 6 4 4 5 3 4 4 5 3 4 4 5 4 4 4 5 3 4 2 5 3 4 3 5 3 4 3 5 3 4 4 5 3 4 0 5 2M1202 241l4 4 5 5 4 7 5 4 4 3 5 7 4 6 5 4 4 7 5 5 4 5 5 3 4 1 5 1 4 5 5 3 4 4 5 1 4 1 5 4 4 6 5 3 4 6 5 3 4 2 5 5 4 5 5 2 4 5 5 4 4 4 5 4 4 4 5 1 4 4 5 4 4 5 5 4 4 4 5 3 4 4 5 3 4 3 5 5 4 5 5 2 4 2 5 4 4 4 5 2 4 5 5 4 4 3 5 4 4 4 5 1 4 4 5 1 4 2 5 4 4 3 5 3 4 2 5 1 4 2M1104 199l5 3 4 6 5 4 4 5 5 4 4 3 5 3 4 1 5 4 4 5 5 3 4 4 5 6 4 6 5 3 4 6 5 6 4 5 5 3 4 2 5 4 4 5 5 4 4 5 5 5 4 1 5 5 4 6 5 3 4 2 5 5 4 4 5 3 4 3 5 2 4 3 5 5 4 3 5 5 4 3 5 2 4 4 5 2 4 6 5 4 4 3 5 3 4 5 5 3 4 0 5 5 4 4 5 3 4 3 5 1 4 4 5 3 4 6 5 2 4 4 5 3 4 5 5 4 4 3 5 3 4 2 5 5 4 2 5 1 4 4 5 2 4 4 5 3 4 1 5 2 4 2 5 2 4 2 5 1 4 3M1304 325l4 4 5 5 4 2 5 4 4 3 5 4 4 4 5 4 4 3 5 5 4 6 5 4 4 3 5 2 4 7 5 1 4 2 5 5 4 5 5 3 4 2 5 4 4 4 5 5 4 5 5 6 4 2 5 3 4 3 5 4 4 2 5 1 4 3 5 5 4 5 5 4 4 0 5 4 4 2 5 3 4 3 5 0 4 1 5 3 4 3 5 1 4 3 5 3 4 2 5 0" stroke="#EDB120"/><path d="M1319 400l4 3 5 4 4 6 5 3 4 2 5 2 4 3 5 3 4 4 5 5 4 4 5 3 4 0 5 2 4 2 5 1 4 5 5 3 4 0 5 0 4 4 5 2 4 3 5 2 4 1 5 2 4 1 5 2 4 2 5 3 4 4 5 1 4 0 5 2 4 3 5 1 4 2 5 4 4 0 5 0 4 1 5 2 4 4 5-1 4 1 5 2 4-1 5 2 4 2M1122 222l4 3 5 5 4 4 5 5 4 3 5 6 4 4 5 4 4 5 5 6 4 6 5 5 4 3 5 5 4 5 5 3 4 2 5 5 4 5 5 5 4 5 5 3 4 6 5 4 4 2 5 4 4 4 5 1 4 4 5 6 4 4 5 3 4 5 5 2 4 4 5 5 4 3 5 4 4 3 5 4 4 3 5 4 4 4 5 2 4 5 5 1 4 0 5 2 4 6 5 6 4 2 5 1 4 4 5 4 4 5 5 2 4 4 5 3 4 4 5 3 4 3 5 4 4 2 5 2 4 5 5 5 4 2 5 3 4 2 5 3 4 1 5-1 4 4 5 4 4 0 5 2M1251 368l5 5 4 4 5 1 4 2 5 2 4 4 5 2 4 4 5 3 4 4 5 3 4 2 5 3 4 3 5 2 4 2 5 1 4 2 5 4 4 7 5 3 4 4 5 3 4 2 5 3 4 3 5 3 4 5 5 4 4 2 5 2 4 2 5 3 4 2 5 2 4 3 5 2 4 1 5 3 4 3 5 1 4 3 5 1 4 5 5 3 4 2 5 1 4 0 5 1 4 4 5 2 4 0 5 1 4 2 5 0 4 2 5 3 4 0 5 0M1276 331l4 2 5 3 4 5 5 5 4 5 5 3 4 2 5 2 4 6 5 3 4 4 5 3 4 4 5 1 4 3 5 5 4 7 5 3 4 2 5 3 4 4 5 3 4 3 5 3 4 3 5 3 4 4 5 3 4 3 5 1 4 4 5 1 4 3 5 5 4 4 5 1 4 3 5 4 4 4 5 2 4 4 5 2 4 0 5 2 4 2 5 3 4 0 5 1 4 3 5 5 4 3 5 2 4 2 5 2 4 3M1322 412l4 4 5 2 4 3 5 4 4 3 5 2 4 4 5 4 4 6 5 5 4 3 5 1 4 2 5 4 4 0 5 2 4 5 5 2 4 2 5 1 4 1 5 4 4 2 5 2 4 2 5 3 4 2 5 3 4 2 5 0 4 1 5 2 4 2 5 1 4 2 5 1 4 0 5 2 4 0 5 0 4 1 5 3 4 0 5 1 4 3 5 3 4 2 5 0 4 1 5 4 4 3M1278 358l5 2 4 0 5 6 4 2 5 3 4 2 5 3 4 4 5 1 4 5 5 4 4 3 5 3 4 4 5 2 4 5 5 6 4 3 5 2 4 2 5 5 4 2 5 3 4 4 5 4 4 2 5 3 4 2 5 3 4 3 5 2 4 2 5 3 4 3 5 3 4 0 5 1 4 2 5 4 4 3 5 2 4 1 5 3 4 3 5 1 4 3 5 2 4 3 5 2 4 2 5 2 4 1 5 1 4 2M1147 185l4 3 5 4 4 6 5 1 4 2 5 6 4 5 5 6 4 3 5 3 4 6 5 6 4 5 5 5 4 6 5 3 4 5 5 5 4 5 5 4 4 2 5 3 4 4 5 5 4 4 5 3 4 4 5 3 4 3 5 2 4 3 5 5 4 5 5 2 4 5 5 4 4 2 5 5 4 5 5 3 4 5 5 3 4 5 5 4 4 5 5 2 4 4 5 5 4 4 5 3 4 2 5 4 4 3 5 4 4 5 5 3 4 1 5 2 4 3 5 3 4 4 5 2 4 4 5 3 4 2 5 3 4-1 5 4 4 4 5 5 4 5 5 3M1427 454l5 2 4 3 5 2 4 1 5 3 4 1 5 0 4 2 5 1 4 3 5 2 4 2 5 1 4 2 5 3 4 2 5 4 4 3 5-1 4 2 5 3 4 2 5 1 4 1 5 3 4 4 5 1 4 1 5 0 4 3 5 3 4 1 5 1 4 3 5 2M1157 280l4 4 5 4 4 5 5 4 4 4 5 5 4 4 5 4 4 2 5 4 4 6 5 5 4 3 5 5 4 3 5 3 4 2 5 4 4 5 5 2 4 3 5 2 4 4 5 3 4 2 5 3 4 2 5 3 4 3 5 6 4 3 5 3 4 2 5 2 4 3 5 4 4 3 5 3 4 5 5 1 4 2 5 6 4 4 5 4 4 2 5 1 4 5 5 4 4 5 5 4 4 0 5 2 4 3 5 4 4 3 5 0 4 1 5 2 4 1 5 3 4 3 5 2 4 0 5 0M1182 320l5 3 4 4 5 5 4 2 5 4 4 4 5 5 4 4 5 4 4 4 5 3 4 4 5 3 4 3 5 2 4 4 5 3 4 4 5 3 4 3 5 4 4 1 5 3 4 4 5 3 4 3 5 3 4 6 5 2 4 4 5 4 4 3 5 2 4 5 5 3 4 2 5 5 4 1 5 3 4 3 5 2 4 3 5 4 4 4 5 3 4 0 5 4 4 1 5 4 4 3 5 5 4 4 5 3 4 3 5 2 4 2 5 2 4 2 5 3 4 1 5 2 4 2 5 1 4 1 5 1 4 3 5 4 4 0M1306 336l5 3 4 3 5 2 4 4 5 5 4 2 5 3 4 6 5 3 4 5 5 1 4 4 5 3 4 4 5 3 4 1 5 3 4 5 5 2 4 1 5 2 4 4 5 4 4 5 5 3 4 3 5 2 4 2 5 1 4 2 5 2 4 4 5 3 4 4 5 3 4 5 5 2 4 0 5 3 4 3 5 2 4 4 5 4 4 3 5 2 4 3 5 2 4 3 5 3 4 0 5 1 4 1M1372 394l4 2 5 2 4 2 5 3 4 3 5 3 4 3 5 3 4 3 5 3 4 4 5 4 4 1 5 1 4 3 5 7 4 4 5 2 4 3 5 1 4 2 5 0 4 5 5 1 4 2 5 3 4 0 5 3 4 4 5 4 4 3 5-1 4 2 5 3 4 1 5 0 4 2 5 5 4 4 5 3 4 2M1446 448l4 4 5 1 4 2 5 4 4 0 5 4 4 2 5 3 4 1 5 1 4 3 5 4 4 0 5 3 4 5 5 3 4 0 5 0 4 1 5 2 4 0 5 1 4 1 5 2 4 2 5-1 4 3 5 3 4 4 5 2 4 1 5 1 4 4 5 2 4 2M1203 273l5 3 4 2 5 4 4 3 5 3 4 6 5 7 4 4 5 4 4 2 5 6 4 4 5 1 4 2 5 5 4 5 5 2 4 4 5 2 4 2 5 6 4 4 5 3 4 3 5 4 4 2 5 7 4 3 5 2 4 3 5 4 4 3 5 4 4 3 5 4 4 3 5 1 4 4 5 4 4 4 5 3 4 3 5 1 4 4 5 4 4 2 5 2 4 4 5 2 4 2 5 3 4 3 5 3 4 4 5 3 4 2 5 2 4 2 5 4 4 1 5 4 4 1 5 1M1083 207l5 7 4 4 5 2 4 4 5 4 4 4 5 3 4 3 5 1 4 6 5 4 4 3 5 3 4 3 5 4 4 5 5 4 4 2 5 5 4 3 5 4 4 6 5 4 4 4 5 6 4 4 5 2 4 3 5 3 4 3 5 3 4 4 5 3 4 2 5 3 4 5 5 5 4 2 5 4 4 3 5 1 4 3 5 2 4 5 5 2 4 4 5 3 4 4 5 4 4 3 5 4 4 3 5 4 4 4 5 2 4 4 5 4 4 5 5 1 4 2 5 5 4 2 5 4 4 4 5 5 4 4 5 3 4 2 5 5 4 5 5 1 4 4 5 3 4 3 5 2 4 1 5 4 4 2 5 2 4 3 5 4 4 3M1418 485l4 4 5 3 4 1 5 2 4 0 5 1 4 3 5 2 4 1 5 1 4 0 5 1 4 1 5 3 4 2 5 1 4 0 5-1 4 2 5 2 4 0 5 3 4 3 5 3 4 1 5-1 4 2 5 0 4 0 5 1 4 0 5 1 4 1 5-1 4 1 5 2 4 0 5 0 4 2 5 1M1100 206l4 2 5 2 4 5 5 6 4 2 5 3 4 4 5 5 4 4 5 3 4 6 5 2 4 5 5 4 4 5 5 7 4 2 5 4 4 7 5 4 4 3 5 4 4 3 5 5 4 5 5 4 4 3 5 4 4 3 5 4 4 5 5 3 4 5 5 3 4 4 5 3 4 3 5 0 4 4 5 5 4 3 5 1 4 4 5 5 4 4 5 3 4 0 5 3 4 3 5 3 4 4 5 3 4 3 5 4 4 6 5 6 4 1 5 3 4 3 5 4 4 3 5 6 4 4 5 2 4 3 5 3 4 3 5 2 4 1 5 1 4 2 5 4 4 4 5-1 4 3 5 4 4 3 5 3M1384 394l4 3 5 3 4 5 5 3 4 2 5 3 4 4 5 2 4 2 5 3 4 4 5 3 4 1 5 2 4 4 5 2 4 2 5 3 4 3 5 1 4 2 5 3 4 4 5 2 4 3 5 3 4 0 5 0 4 3 5 5 4 2 5 3 4 0 5 4 4 2 5 0 4 0 5 3 4 5 5 3 4 1M1456 501l5 2 4 3 5 2 4-1 5 2 4 2 5 0 4 1 5 1 4 1 5 1 4 1 5 2 4 2 5 1 4-1 5 1 4 1 5 2 4 1 5 2 4 0 5 1 4 4 5 2 4 0 5 1 4 2 5 1 4 0 5 0 4 1 5 0M1305 408l4 4 5 3 4 4 5 5 4 1 5 3 4 4 5 5 4 2 5 2 4 3 5 2 4 3 5 3 4 3 5 5 4 4 5 6 4 3 5 2 4 2 5 3 4 3 5 2 4 3 5 2 4 3 5 3 4-1 5 2 4 2 5 3 4 2 5 2 4 3 5 2 4-1 5 2 4 1 5-1 4 1 5 3 4-3 5 1 4 4 5 3 4 2 5 0 4-1 5 3M1115 227l5 4 4 4 5 5 4 5 5 4 4 3 5 3 4 3 5 4 4 4 5 3 4 5 5 3 4 5 5 5 4 2 5 4 4 3 5 6 4 5 5 5 4 4 5 3 4 4 5 6 4 3 5 4 4 3 5 2 4 2 5 2 4 5 5 2 4 3 5 5 4 4 5 1 4 3 5 2 4 4 5 3 4 5 5 4 4 1 5 4 4 2 5 5 4 4 5 3 4 1 5 1 4 3 5 5 4 6 5 1 4-1 5 3 4 3 5 2 4 3 5 3 4 1 5 3 4 3 5 1 4 2 5 2 4 3 5 4 4 3 5 2 4 2 5 3 4 2 5 3 4 2M1304 334l4 5 5 2 4 4 5 5 4 5 5 5 4 3 5 2 4 5 5 3 4 4 5 3 4 1 5 4 4 7 5 3 4 4 5 2 4 2 5 2 4 3 5 2 4 2 5 3 4 4 5 3 4 1 5 5 4 2 5 4 4 2 5 1 4 2 5 3 4 4 5 3 4 1 5 0 4 3 5 3 4 1 5 2 4 2 5 3 4 4 5 4 4 4 5 3 4 2M1492 507l4-2 5 2 4 1 5 3 4 1 5 2 4 2 5 0 4 2 5 3 4 2 5 1 4-1 5 0 4 3 5 3 4 0 5 1 4 0 5 1 4 0 5-1 4 1 5-1 4 1 5 2 4 1M1502 489l5 4 4 4 5 3 4 1 5 5 4 0 5 1 4 1 5 1 4 3 5 2 4 0 5 0 4 4 5 4 4 1 5 2 4 2 5 1 4 2 5 2 4 1 5 1M978 122l4 7 5 8 4 8 5 11 4 7 5 9 4 5 5 5 4 6 5 4 4 5 5 4 4 6 5 6 4 8 5 6 4 4 5 4 4 3 5 3 4 6 5 2 4 3 5 4 4 7 5 2 4 4 5 2 4 3 5 3 4 2 5 5 4 5 5 5 4 3 5 6 4 4 5 4 4 2 5 5 4 6 5 3 4 7 5 5 4 2 5 3 4 2 5 3 4 5 5 5 4 3 5 3 4 1 5 4 4 5 5 1 4 1 5 4 4 4 5 4 4 4 5 0 4 1 5 0 4 4 5 4 4 4 5 2 4 2 5 1 4 3 5 2 4 2 5 3 4 5 5 3 4 1 5 3 4 1 5 2 4 4 5 5 4 3 5 4 4 4 5 1 4 2 5 1 4 4 5 2 4 3 5 2 4 2 5 1 4 4 5 1 4 3 5 4 4-1 5 2 4 3 5 1 4 0" stroke="#0072BD"/><path d="M1064 153l5 4 4 4 5 2 4 3 5 3 4 2 5 4 4 6 5 6 4 3 5 4 4 5 5 4 4 5 5 3 4 4 5 5 4 5 5 2 4 5 5 5 4 6 5 5 4 6 5 5 4 4 5 2 4 5 5 5 4 8 5 4 4 4 5 5 4 4 5 5 4 4 5 4 4 3 5 2 4 6 5 6 4 5 5 2 4 3 5 1 4 4 5 6 4 3 5 3 4 5 5 4 4 5 5 1 4 4 5 4 4 3 5 4 4 3 5 2 4 3 5 4 4 5 5 3 4 1 5 0 4 4 5 3 4 3 5 3 4 2 5 2 4 4 5 2 4 1 5 3 4 3 5 4 4 2 5 1 4 5 5 2 4 6M1209 350l5 4 4 6 5 2 4 2 5 4 4 3 5 3 4 2 5 2 4 4 5 3 4 3 5 3 4 0 5 3 4 2 5 3 4 4 5 1 4 4 5 1 4 3 5 2 4 2 5 3 4 3 5 2 4 4 5 5 4 4 5 2 4 2 5 4 4 2 5 3 4 6 5 5 4 4 5 0 4 2 5 2 4 2 5 3 4 5 5 3 4 2 5 1 4 2 5 2 4 2 5 1 4 2 5 3 4 3 5 1 4-1 5 3 4 2 5 1 4 3 5 1 4 0 5 1 4 2 5 1 4 0 5 3 4 1M1306 420l4 3 5 4 4 4 5 2 4 3 5 3 4 6 5 4 4 1 5 2 4 2 5 3 4 4 5 4 4 2 5 3 4 2 5 4 4 2 5 0 4 4 5 3 4 2 5 3 4 5 5 4 4 0 5 2 4-1 5 2 4 1 5 4 4 1 5 2 4 2 5 3 4 2 5 0 4 3 5 1 4-1 5 2 4 0 5 0 4 2 5 0 4 0 5 0M1421 498l4 3 5 3 4 1 5 1 4 3 5 1 4 3 5 0 4 0 5 1 4 1 5 2 4 2 5 0 4 3 5 3 4 1 5-1 4 1 5-1 4 1 5 3 4 3 5 1 4 0 5 1 4 1 5 3 4-1 5-2 4 0 5 1M1153 193l4 5 5 4 4 7 5 4 4 4 5 4 4 4 5 1 4 3 5 6 4 4 5 4 4 3 5 3 4 4 5 6 4 3 5 1 4 4 5 8 4 5 5 2 4 4 5 4 4 4 5 5 4 4 5 5 4 2 5 4 4 4 5 5 4 5 5 4 4 2 5 4 4 3 5 4 4 7 5 4 4 4 5 2 4 1 5 5 4 3 5 4 4 5 5 2 4 4 5 3 4 5 5 5 4 0 5 4 4 5 5 4 4 3 5 3 4 2 5 4 4 6 5 4 4 3 5 4 4 2 5 3 4 3 5 3 4 2 5 2 4 2M1159 251l5 6 4 5 5 7 4 2 5 1 4 2 5 5 4 6 5 3 4 3 5 5 4 3 5 7 4 3 5 4 4 2 5 3 4 1 5 5 4 6 5 2 4 1 5 4 4 3 5 2 4 3 5 3 4 5 5 5 4 4 5 1 4 4 5 5 4 3 5 2 4 4 5 5 4 3 5 5 4 4 5 3 4 3 5 3 4 3 5 3 4 4 5 5 4 0 5 1 4 3 5 3 4 3 5 2 4 2 5 3 4 2 5 0 4 4 5 2 4 3 5 3 4 3 5 2 4 0 5 0 4 3 5 5 4 4 5 1 4 0 5 3M1192 217l5 5 4 4 5 4 4 4 5 5 4 4 5 5 4 6 5 5 4 5 5 3 4 4 5 2 4 6 5 3 4 4 5 3 4 3 5 3 4 4 5 5 4 3 5 4 4 5 5 4 4 5 5 2 4 3 5 4 4 4 5 7 4 5 5 1 4 3 5 6 4 1 5 3 4 3 5 4 4 4 5 2 4 2 5 3 4 2 5 4 4 3 5 5 4 2 5 6 4 5 5 2 4 1 5 4 4 2 5 1 4 5 5 4 4 2 5 5 4 3 5 2 4 3 5 4 4 1 5 3 4 4 5 2 4 3 5 2M1378 388l4 4 5 3 4 5 5 4 4 1 5 3 4 3 5 4 4 5 5 5 4 7 5 1 4 1 5 3 4 3 5 1 4 4 5 3 4 2 5 4 4 3 5 3 4 4 5 0 4 3 5 0 4 2 5 2 4 4 5 3 4 3 5 2 4 2 5 2 4 3 5-1 4 3 5 2 4 2 5 3M1146 241l5 4 4 3 5 4 4 5 5 7 4 4 5 1 4 4 5 3 4 6 5 5 4 4 5 3 4 3 5 4 4 4 5 2 4 3 5 2 4 3 5 3 4 4 5 4 4 5 5 5 4 2 5 3 4 3 5 3 4 4 5 2 4 3 5 3 4 4 5 6 4 4 5 1 4 3 5 5 4 1 5 6 4 3 5 4 4 3 5 3 4 0 5 3 4 0 5 5 4 4 5 4 4 4 5 1 4 1 5 0 4 1 5 3 4 6 5 3 4 3 5 2 4 2 5 3 4 4 5 3 4 3 5 1 4 1 5 2 4 2 5 2 4 3M1398 436l5 3 4 2 5 1 4 5 5 2 4 3 5 2 4 2 5 2 4 1 5 3 4 0 5 2 4 4 5 2 4 3 5 0 4 1 5 6 4 0 5 2 4 4 5 1 4 2 5 3 4 1 5 3 4 1 5 1 4 0 5 2 4 2 5 1 4 0 5 1M1102 164l4 4 5 3 4 3 5 3 4 5 5 5 4 2 5 3 4 4 5 3 4 4 5 3 4 7 5 4 4 5 5 5 4 3 5 6 4 4 5 5 4 3 5 3 4 4 5 2 4 4 5 3 4 4 5 5 4 5 5 3 4 4 5 4 4 4 5 4 4 4 5 3 4 1 5 1 4 5 5 4 4 4 5 5 4 5 5 2 4 3 5 1 4 4 5 4 4 6 5 3 4 1 5 4 4 4 5 4 4 6 5 3 4 3 5 2 4 3 5 4 4 3 5 3 4 3 5 4 4 3 5 3 4 2 5 1 4 5 5 5 4 3 5 2 4 3 5 6 4 4M1367 392l5 3 4 5 5 5 4 5 5 0 4 4 5 4 4 4 5 2 4 3 5 4 4 3 5 1 4 4 5 5 4 3 5 2 4 2 5 5 4 4 5 1 4 0 5 0 4 3 5 1 4 1 5 2 4 1 5 1 4 5 5 3 4 2 5 2 4 2 5 1 4 2 5 3 4 5 5 3 4 2M1426 437l5 2 4 4 5 3 4 2 5 1 4 1 5 3 4 5 5 0 4 3 5 3 4 5 5 0 4 2 5 2 4 0 5 2 4 1 5 3 4 5 5 5 4 1 5 1 4 3 5 1 4 0 5 3 4 2 5 2 4 0 5 3 4 2 5 3 4 0 5 2M1102 222l4 4 5 3 4 4 5 4 4 2 5 4 4 5 5 5 4 5 5 5 4 4 5 4 4 3 5 3 4 5 5 5 4 6 5 5 4 4 5 5 4 4 5 3 4 7 5 4 4 3 5 5 4 4 5 3 4 5 5 4 4 3 5 2 4 3 5 4 4 1 5 5 4 4 5 2 4 4 5 3 4 1 5 4 4 4 5 5 4 4 5 3 4 2 5 3 4 5 5 3 4 2 5 3 4 3 5 5 4 3 5 3 4 3 5 1 4 2 5 7 4 5 5 2 4 1 5 3 4 4 5 3 4 4 5 2 4 0 5 2 4 2 5 3 4 2 5 2 4 2 5 1 4 4 5 3 4 3M1154 195l4 3 5 5 4 4 5 5 4 4 5 4 4 4 5 3 4 5 5 3 4 5 5 6 4 4 5 3 4 3 5 6 4 5 5 6 4 3 5 5 4 3 5 3 4 1 5 2 4 4 5 4 4 4 5 5 4 5 5 2 4 4 5 5 4 5 5 2 4 2 5 4 4 4 5 4 4 7 5 3 4 3 5 4 4 4 5 3 4 1 5 6 4 3 5 4 4 2 5 5 4 4 5 2 4 2 5 3 4 2 5 5 4 2 5 3 4 3 5 3 4 4 5 3 4 4 5 4 4 3 5 3 4 5 5 2 4 1 5 2 4 4 5 5 4 1 5 1 4 3M1426 468l5 4 4 2 5 3 4 1 5 2 4 4 5 2 4 1 5 3 4 1 5 1 4 2 5 3 4 2 5 1 4 1 5 1 4 2 5 3 4 3 5 0 4 0 5 2 4 2 5 2 4 2 5 2 4 0 5 2 4 1 5 2 4 2 5 1 4-1M1326 408l5 3 4 4 5 2 4 4 5 6 4 6 5 3 4 1 5 5 4 3 5 2 4 3 5 4 4 2 5 2 4 2 5 2 4 2 5 3 4 2 5 2 4 2 5 3 4 0 5 0 4 4 5 2 4 2 5 3 4 1 5 2 4 3 5 2 4 3 5 0 4 4 5 1 4 3 5 4 4 1 5 1 4 1 5 0M1207 357l4 3 5 4 4 2 5 5 4 4 5 4 4 2 5 6 4 2 5 4 4 4 5 3 4 3 5 4 4 5 5 3 4 1 5 2 4 3 5 2 4-2 5 3 4 6 5 4 4 0 5 3 4 2 5 3 4 3 5-1 4 3 5 5 4 4 5 3 4 3 5 4 4 4 5 3 4 2 5 1 4 2 5 2 4 3 5 1 4 1 5 4 4 2 5 2 4 3 5 3 4 4 5 2 4 1 5 4 4 0 5 1 4-1 5 2 4 2 5 2 4 2 5 1 4 0 5 2M1258 367l4 2 5 2 4 4 5 2 4 5 5 2 4 5 5 6 4 5 5 4 4 3 5 2 4 4 5 4 4 4 5 3 4 1 5 3 4 4 5 3 4 1 5 3 4 4 5 3 4 1 5 1 4 3 5 2 4 3 5 0 4 1 5 2 4 4 5 2 4 2 5 2 4 2 5 5 4 2 5 1 4 1 5 3 4 0 5 2 4 3 5 3 4 1 5 1 4 2 5 1 4 2 5 2 4 2 5 0 4 3 5 2M1181 240l4 5 5 5 4 4 5 5 4 3 5 2 4 5 5 5 4 0 5 3 4 3 5 6 4 4 5 2 4 5 5 3 4 4 5 3 4 3 5 5 4 2 5 4 4 4 5 3 4 2 5 1 4 2 5 3 4 5 5 4 4 3 5 6 4 3 5 3 4 1 5 5 4 5 5 1 4 3 5 3 4 3 5 3 4 4 5 5 4 5 5 3 4 1 5 2 4 4 5 3 4 3 5 4 4 4 5 4 4 2 5 3 4 5 5 3 4 2 5 1 4 2 5 2 4 1 5 0 4 3 5 6 4 1 5 0 4 2 5 5M1196 281l4 2 5 4 4 4 5 6 4 4 5 5 4 5 5 5 4 4 5 2 4 2 5 2 4 3 5 4 4 4 5 6 4 1 5 1 4 4 5 5 4 3 5 1 4 3 5 1 4 4 5 4 4 5 5 4 4 3 5 3 4 2 5 3 4 3 5 2 4 2 5 6 4 2 5 2 4 4 5 4 4 3 5 3 4 3 5 4 4 2 5 1 4 6 5 4 4 4 5 2 4 2 5 4 4 2 5 2 4 2 5 3 4 4 5 1 4 2 5 2 4 2 5 1 4 3 5 2 4 1 5 2M1314 427l4 2 5 1 4 1 5 3 4 3 5 4 4 1 5 3 4 3 5 3 4 2 5 6 4 3 5 5 4 2 5 1 4 2 5 1 4 4 5 2 4 0 5 2 4 2 5 5 4 4 5 2 4 1 5 3 4 1 5 0 4 4 5 1 4 3 5 2 4 0 5-1 4 3 5 1 4 3 5 0 4 2 5 1 4 1 5 3 4 2 5 1 4 3 5 1 4 0 5 1 4 2 5 1M987 116l5 6 4 6 5 5 4 7 5 3 4 4 5 4 4 3 5 3 4 4 5 4 4 5 5 4 4 5 5 2 4 2 5 3 4 3 5 5 4 4 5 1 4 3 5 7 4 3 5 5 4 3 5 3 4 2 5 4 4 2 5 2 4 3 5 6 4 2 5 4 4 2 5 6 4 3 5 3 4 6 5 5 4 4 5 5 4 4 5 5 4 3 5 4 4 4 5 5 4 5 5 4 4 5 5 1 4 2 5 4 4 6 5 5 4 3 5 3 4 1 5 3 4 2 5 5 4 3 5 2 4 1 5 2 4 1 5 3 4 5 5 4 4 2 5 2 4 4 5 3 4 2 5 4 4 3 5 6 4 4 5 2 4 1 5 4 4 2 5 2 4 5 5 3 4 2 5 3 4 4 5 3 4 2 5 3 4 2 5 4 4 1M974 117l5 5 4 8 5 6 4 7 5 6 4 6 5 7 4 7 5 5 4 4 5 7 4 5 5 7 4 6 5 5 4 5 5 2 4 3 5 6 4 5 5 6 4 0 5 1 4 5 5 4 4 4 5 5 4 6 5 5 4 2 5 3 4 6 5 4 4 1 5 4 4 3 5 3 4 4 5 3 4 6 5 4 4 5 5 7 4 5 5 4 4 3 5 4 4 3 5 5 4 5 5 3 4 2 5 1 4 5 5 1 4 3 5 4 4 6 5 4 4 2 5 2 4 2 5 4 4 2 5 3 4 3 5 3 4 1 5 2 4 5 5 2 4 2 5 3 4 3 5 2 4 3 5 2 4 2 5 4 4 3 5 4 4 2 5 2 4 4 5 3 4 1 5 2 4 4 5 5 4 4 5 1 4 3 5 5 4 2 5 2 4-2 5 1 4 4 5 6 4 3 5-1 4 2 5 1 4 1 5 1 4-2 5 2" stroke="#4DBEEE"/><path d="M988 126l5 7 4 9 5 4 4 4 5 5 4 7 5 3 4 5 5 4 4 5 5 6 4 4 5 3 4 5 5 4 4 5 5 7 4 2 5 3 4 3 5 3 4 6 5 3 4 4 5 6 4 4 5 7 4 5 5 3 4 2 5 4 4 4 5 3 4 2 5 4 4 3 5 2 4 3 5 3 4 4 5 7 4 3 5 3 4 3 5 3 4 3 5 5 4 4 5 6 4 4 5 4 4 2 5 3 4 2 5 3 4 4 5 5 4 4 5 3 4 4 5 3 4 4 5 5 4 5 5 1 4 1 5 3 4 6 5 4 4 3 5 4 4 2 5 5 4 2 5 4 4 5 5 2 4 1 5 3 4 3 5 3 4 5 5 3 4 3 5 3 4 4 5 1 4 0 5 5 4 3 5 3 4 5 5 1 4 2 5 2M1049 123l4 2 5 2 4 4 5 4 4 5 5 1 4 0 5 4 4 4 5 1 4 5 5 5 4 6 5 3 4 4 5 4 4 5 5 3 4 5 5 2 4 4 5 3 4 6 5 1 4 2 5 6 4 5 5 2 4 4 5 6 4 5 5 5 4 4 5 4 4 4 5 5 4 4 5 4 4 6 5 4 4 5 5 3 4 3 5 5 4 3 5 3 4 4 5 5 4 6 5 4 4 4 5 2 4 6 5 3 4 5 5 2 4 4 5 4 4 5 5 4 4 1 5 2 4 3 5 5 4 3 5 3 4 3 5 2 4 2 5 2 4 2 5 4 4 3 5 5 4 2 5 5 4 3 5 4 4 3 5 3 4 2 5 3 4 3 5 1 4 4 5 6 4 2M1389 397l4 3 5 4 4 3 5 2 4 7 5 3 4 5 5 3 4 2 5 3 4 3 5 4 4 0 5 4 4 3 5 2 4 2 5 1 4 4 5 5 4 1 5 3 4 5 5 3 4 3 5 2 4 3 5 4 4 4 5 1 4 0 5 2 4 3 5 1 4 1 5 4 4 4 5 4 4 1 5 3 4 3 5 1M1117 160l4 4 5 3 4 2 5 4 4 3 5 2 4 7 5 5 4 3 5 3 4 3 5 5 4 6 5 5 4 5 5 3 4 5 5 5 4 6 5 3 4 3 5 2 4 3 5 4 4 5 5 5 4 5 5 3 4 3 5 4 4 4 5 3 4 0 5 2 4 3 5 5 4 5 5 3 4 1 5 2 4 2 5 4 4 4 5 4 4 6 5 3 4 3 5 4 4 2 5 4 4 3 5 3 4 2 5 3 4 3 5 4 4 3 5 2 4 4 5 3 4 5 5 0 4 4 5 5 4 4 5 2 4 2 5 3 4 1 5 5 4 3 5 4 4 3 5 0 4 2 5 4 4 4M1299 398l4 4 5 2 4 2 5 2 4 5 5 3 4 4 5 5 4 1 5 1 4 2 5 1 4 3 5 5 4 4 5 3 4 5 5 3 4 4 5 2 4 2 5 3 4 2 5 3 4 2 5 4 4 4 5 1 4 1 5 2 4 1 5 2 4 6 5 3 4 1 5 0 4 2 5 4 4 1 5 1 4-1 5 5 4 4 5 2 4-1 5 2 4 2 5 3 4 2 5 3 4 0 5 3 4 3 5 0M1232 252l5 5 4 5 5 3 4 3 5 5 4 4 5 1 4 3 5 3 4 4 5 3 4 3 5 3 4 6 5 3 4 3 5 3 4 5 5 3 4 3 5 2 4 5 5 6 4 7 5 3 4 2 5 5 4 3 5 4 4 5 5 1 4 1 5 5 4 2 5 4 4 3 5 4 4 1 5 4 4 5 5 0 4 2 5 4 4 4 5 3 4 2 5 5 4 2 5 3 4 4 5 2 4 3 5 5 4 5 5 3 4 3 5 2 4 5 5 2 4 0 5 3 4 3 5 5 4 5M1158 309l4 5 5 5 4 5 5 3 4 5 5 3 4 4 5 5 4 1 5 6 4 5 5 4 4 3 5 3 4 3 5 5 4 4 5 4 4 4 5 4 4 2 5 2 4 4 5 4 4 3 5 3 4 1 5 4 4 4 5 4 4 3 5 3 4 2 5 3 4 2 5 2 4 3 5 3 4 4 5 5 4 4 5 3 4 2 5 3 4 1 5 4 4 5 5 3 4 1 5 2 4 1 5 3 4 2 5 4 4 3 5 2 4 2 5 2 4 2 5 2 4 2 5 1 4 1 5 3 4 1 5 3 4 4 5 0 4 4 5 3M1176 341l5 3 4 6 5 4 4 3 5 4 4 5 5 5 4 5 5 3 4 4 5 2 4 4 5 4 4 2 5 2 4 1 5 2 4 3 5 3 4 4 5 3 4 3 5 1 4 4 5 2 4 1 5 3 4 2 5 6 4 3 5 3 4 5 5 1 4 6 5 4 4 4 5 0 4 3 5 2 4 2 5 3 4 5 5 2 4 4 5 1 4 3 5 5 4 2 5 2 4 5 5 1 4 2 5 4 4 0 5 2 4 5 5 4 4 0 5 2 4 2 5 1 4 3 5 2 4 2 5 2 4 1 5-2 4 0 5 1 4 1 5 5M1263 289l5 3 4 2 5 4 4 2 5 6 4 7 5 6 4 7 5 6 4 2 5 3 4 5 5 6 4 3 5 3 4 5 5 5 4 4 5 4 4 3 5 3 4 4 5 2 4 2 5 3 4 5 5 4 4 4 5 5 4 3 5 0 4 6 5 1 4 3 5 4 4 3 5 4 4 4 5 3 4 3 5 1 4 1 5 5 4 0 5 2 4 6 5 4 4 2 5 2 4 2 5 2 4 4 5 2 4 5 5 5M1449 496l4 0 5 2 4-2 5 1 4 3 5 4 4 2 5 1 4 0 5 2 4 1 5 1 4 3 5 2 4-1 5-1 4 2 5 2 4 2 5 3 4 2 5 0 4 1 5 1 4-2 5 2 4 0 5 1 4 2 5 1 4-3M1143 284l4 4 5 3 4 6 5 2 4 4 5 3 4 5 5 2 4 3 5 3 4 0 5 4 4 3 5 4 4 4 5 3 4 4 5 4 4 2 5 4 4 3 5 3 4 2 5 3 4 2 5 3 4 4 5 6 4 2 5 2 4 3 5 3 4 2 5 4 4 3 5 2 4 4 5 1 4 2 5 2 4 5 5 5 4 5 5 2 4 3 5 3 4 5 5 3 4 3 5 2 4 2 5 4 4 4 5 3 4 2 5 2 4 2 5 3 4 2 5 5 4 3 5 3 4 0 5 2 4 0 5-1 4 1 5 1 4 2 5 1 4 0 5 3 4 2 5 3 4 2M1185 319l4 6 5 4 4 5 5 3 4 1 5 3 4 6 5 6 4 3 5 4 4 4 5 3 4 4 5 4 4 1 5 3 4 4 5 1 4 5 5 3 4 4 5 5 4 3 5 3 4 2 5 1 4 2 5 0 4 3 5 4 4 2 5 3 4 1 5 2 4 2 5 4 4 3 5 1 4 5 5 3 4 2 5 5 4 5 5 2 4 2 5 2 4 2 5 2 4 3 5 3 4 3 5 0 4 2 5 1 4 1 5 2 4 3 5-1 4 0 5 2 4 1 5 2 4 3 5 3 4-1 5 4 4 2 5 0M1152 202l4 3 5 4 4 6 5 5 4 4 5 3 4 4 5 4 4 5 5 4 4 4 5 5 4 5 5 5 4 5 5 6 4 5 5 5 4 3 5 3 4 3 5 4 4 3 5 3 4 4 5 3 4 5 5 4 4 1 5 4 4 5 5 4 4 4 5 1 4 2 5 3 4 6 5 2 4 3 5 7 4 2 5 2 4 3 5 5 4 6 5 2 4 3 5 2 4 4 5 2 4 3 5 6 4 4 5 1 4 3 5 4 4 4 5 4 4 4 5 1 4 5 5 3 4 2 5 0 4 3 5 5 4 2 5 1 4 3 5 3M1371 463l5 2 4 2 5 4 4 2 5 4 4 4 5 2 4 1 5 3 4 1 5 2 4 3 5 1 4 2 5 3 4 4 5 3 4 3 5 3 4 1 5 0 4-1 5 4 4 2 5 0 4-2 5 2 4 2 5 0 4 2 5 1 4 1 5-1 4 1 5 2 4 0 5-2 4 0 5 2 4 3 5 2 4 2M1346 446l5 3 4 6 5 4 4 3 5-1 4 2 5 2 4 1 5 3 4 0 5 3 4 2 5 2 4 1 5 1 4 1 5 3 4 6 5 2 4 2 5 1 4 1 5 3 4 1 5 2 4 1 5 0 4 1 5 2 4 2 5 2 4 1 5 1 4 2 5 3 4 1 5-1 4 3 5-1 4 1 5 1 4 0 5 2 4 1 5-1 4 0 5-1M1302 380l5 4 4 3 5 3 4 6 5 3 4 4 5 4 4 3 5 6 4 4 5 4 4 4 5 3 4 1 5 4 4 4 5 5 4 3 5 1 4 2 5 4 4 4 5 1 4 1 5 3 4 2 5 2 4 1 5 3 4 1 5 3 4 3 5 1 4 1 5-1 4 1 5 5 4 3 5 1 4 2 5 1 4 1 5 5 4 3 5 1 4 1 5 4 4 2 5 1 4 3 5 4 4-1 5 0 4 0M1266 306l5 4 4 2 5 5 4 5 5 2 4 2 5 5 4 5 5 3 4 5 5 5 4 3 5 4 4 3 5 4 4 6 5 5 4 4 5 4 4 3 5 2 4 4 5 5 4 2 5 2 4 3 5 2 4 3 5 3 4 6 5 6 4 4 5 2 4 4 5 3 4 2 5 5 4 3 5 4 4 1 5 1 4 4 5 6 4 2 5 1 4 1 5 3 4 3 5 5 4 2 5 4 4 2 5 3 4 2 5 1M1315 357l5 2 4 3 5 3 4 4 5 3 4 2 5 4 4 6 5 4 4 3 5 1 4 3 5 2 4 3 5 3 4 2 5 4 4 2 5 3 4 4 5 3 4 2 5 4 4 4 5 3 4 2 5 3 4 2 5 2 4 3 5 2 4 3 5 3 4 3 5 1 4 2 5 3 4 3 5 3 4 3 5 2 4 4 5 2 4 5 5 0 4 2 5 4 4 3 5 1 4 0 5 1M1126 282l4 3 5 3 4 1 5 8 4 5 5 5 4 3 5 5 4 4 5 2 4 3 5 4 4 3 5 3 4 5 5 4 4 3 5 4 4 2 5 5 4 4 5 2 4 4 5 5 4 1 5 2 4 4 5 3 4 4 5 2 4 2 5 2 4 4 5 2 4 0 5 2 4 3 5 5 4 5 5 2 4 4 5 1 4 0 5 3 4 5 5 2 4 5 5 5 4 4 5 1 4 2 5 3 4 2 5 4 4 5 5 5 4 1 5 2 4 2 5 2 4 3 5 3 4-1 5 3 4 2 5 2 4 2 5 3 4 2 5 3 4 3 5 3 4 5 5-1 4 2M1430 437l4 1 5 1 4 3 5 3 4 3 5 2 4 3 5 2 4 2 5 1 4 2 5 4 4 1 5 2 4 5 5 4 4 2 5 4 4 4 5 4 4 2 5 4 4 3 5 2 4 0 5 3 4 2 5 3 4 4 5 1 4 0 5 4 4 2 5 1 4 0M1211 257l5 8 4 3 5 6 4 6 5 6 4 6 5 3 4 4 5 3 4 1 5 3 4 6 5 4 4 5 5 5 4 3 5 3 4 3 5 7 4 5 5 4 4 4 5 4 4 5 5 4 4 4 5 2 4 3 5 5 4 3 5 5 4 4 5 2 4 3 5 5 4 3 5 4 4 3 5 4 4 2 5 4 4 3 5 2 4 5 5 2 4 4 5 3 4 2 5 3 4 2 5 1 4 4 5 2 4 2 5 2 4 6 5 4 4 3 5 2 4 0 5 1 4 3 5 4 4 3M1170 282l4 6 5 4 4 1 5 2 4 4 5 7 4 2 5 3 4 4 5 3 4 2 5 3 4 3 5 2 4 2 5 6 4 4 5 3 4 3 5 6 4 5 5 1 4 5 5 2 4 4 5 5 4 3 5 3 4 1 5 2 4 4 5 5 4 2 5 5 4 4 5 2 4 4 5 7 4 4 5 3 4 3 5 2 4 5 5 5 4 4 5 2 4 3 5 5 4 4 5 5 4 3 5 3 4 1 5 3 4 5 5 1 4 1 5 4 4 3 5 0 4 1 5 2 4 0 5 2 4 2 5 1M1157 270l5 3 4 4 5 2 4 7 5 5 4 5 5 2 4 4 5 4 4 4 5 4 4 4 5 5 4 5 5 4 4 5 5 1 4 4 5 7 4 4 5 3 4 3 5 2 4 3 5 3 4 5 5 2 4 3 5 3 4 2 5 3 4 2 5 4 4 3 5 3 4 3 5 3 4 5 5 5 4 4 5 4 4 5 5 4 4 4 5 4 4 4 5 2 4 4 5 3 4-1 5 3 4 6 5 6 4 3 5 2 4 2 5 3 4 1 5 1 4 2 5 2 4 1 5 2 4 5 5 3M1119 212l5 4 4 2 5 2 4 5 5 3 4 3 5 3 4 5 5 6 4 6 5 2 4 5 5 4 4 5 5 5 4 3 5 2 4 3 5 6 4 4 5 3 4 1 5 5 4 8 5 3 4 2 5 3 4 2 5 3 4 6 5 3 4 2 5 3 4 4 5 3 4 3 5 3 4 0 5 3 4 1 5 4 4 5 5 5 4 2 5 5 4 2 5 2 4 3 5 4 4 3 5 3 4 2 5 3 4 2 5 4 4 3 5 3 4 2 5 4 4 4 5 4 4 2 5 4 4 3 5 4 4 3 5 2 4 4 5 3 4 2 5 1 4-1 5 3 4 4M1097 165l5 3 4 2 5 6 4 2 5 3 4 5 5 5 4 5 5 4 4 5 5 4 4 3 5 4 4 4 5 4 4 5 5 2 4 4 5 4 4 4 5 4 4 6 5 5 4 4 5 5 4 5 5 4 4 4 5 5 4 5 5 6 4 5 5 3 4 2 5 4 4 5 5 4 4 1 5 4 4 3 5 3 4 5 5 4 4 3 5 5 4 5 5 4 4 5 5 1 4 3 5 4 4 2 5 4 4 4 5 4 4 2 5 5 4 5 5 3 4 3 5 3 4 2 5 2 4 5 5 1 4 4 5 4 4 6 5 2 4 1 5 4 4 4 5 5 4 4 5 1 4 1 5 1 4 2 5 2 4 3 5 3 4 2M1464 507l4 1 5 0 4 1 5 2 4 0 5 2 4 3 5 1 4 2 5 3 4 2 5 3 4 1 5-1 4 1 5 3 4 3 5-1 4-1 5 1 4 2 5 1 4 2 5-2 4 1 5 0 4 0M1130 255l5 4 4 2 5 1 4 3 5 6 4 3 5 4 4 5 5 6 4 2 5 3 4 4 5 4 4 5 5 3 4 4 5 4 4 5 5 3 4 4 5 3 4 3 5 3 4 5 5 1 4 2 5 3 4 3 5 3 4 4 5 5 4 3 5 2 4 3 5 5 4 4 5 1 4 2 5 2 4 3 5 5 4 2 5 3 4 3 5 4 4 4 5 6 4 4 5 3 4 2 5 4 4 5 5 2 4 3 5 5 4 4 5 3 4 1 5 3 4 2 5 3 4 2 5 4 4 4 5 3 4 2 5 2 4 2 5 2 4 2 5 0 4 1 5 2 4 4 5 2M1178 324l4 4 5 3 4 2 5 3 4 2 5 4 4 3 5 5 4 4 5 4 4 0 5 3 4 4 5 2 4 5 5 5 4 1 5 4 4 4 5 5 4 4 5 1 4 4 5 0 4 2 5 2 4 3 5 1 4 3 5 4 4 0 5 2 4 3 5 5 4 2 5 2 4-1 5 5 4 5 5 3 4 4 5 2 4 1 5 6 4 5 5 2 4 2 5-1 4 1 5 1 4 5 5 1 4 1 5 1 4 3 5 3 4 1 5 2 4 1 5 2 4 3 5 1 4 0 5-2 4 3 5 0 4 3M1124 226l4 2 5 4 4 2 5 3 4 6 5 5 4 3 5 3 4 4 5 3 4 6 5 5 4 2 5 4 4 3 5 3 4 3 5 4 4 5 5 6 4 5 5 5 4 2 5 3 4 7 5 4 4 2 5 3 4 4 5 5 4 1 5 1 4 4 5 1 4 4 5 4 4 3 5 3 4 2 5 3 4 5 5 4 4 2 5 2 4 6 5 4 4 2 5 1 4 5 5 7 4 4 5 3 4 4 5 2 4 3 5 1 4 3 5 2 4 1 5 1 4 4 5 0 4 4 5 3 4 1 5 2 4 2 5 5 4 2 5 3M1289 312l5 3 4 3 5 2 4 5 5 4 4 7 5 2 4 2 5 4 4 4 5 5 4 4 5 4 4 2 5 3 4 4 5 3 4 5 5 3 4 5 5 4 4 2 5 5 4 3 5 2 4 3 5 3 4 4 5 2 4 2 5 4 4 3 5 2 4 2 5 2 4 3 5 4 4 2 5 1 4 3 5 4 4 1 5 2 4 3 5 4 4 1 5 0 4 4 5 4 4 6 5 4 4 1 5 2 4 3 5 2M1058 199l5 4 4 3 5 4 4 2 5 5 4 7 5 6 4 3 5 2 4 2 5 2 4 4 5 6 4 4 5 5 4 3 5 3 4 5 5 6 4 6 5 6 4 3 5 4 4 3 5 4 4 5 5 4 4 3 5 3 4 2 5 2 4 3 5 4 4 3 5 2 4 4 5 4 4 4 5 2 4 5 5 3 4 3 5 5 4 4 5 2 4 4 5 3 4 2 5 3 4 3 5 4 4 4 5 4 4 1 5 2 4 3 5 4 4 3 5 2 4 4 5 5 4 4 5 5 4 4 5 4 4 2 5 3 4 4 5 4 4 1 5 6 4 2 5 2 4 3 5 4 4 4 5 2 4 1 5 0 4 3 5 2 4 0 5 3 4 3 5 3 4 3 5 3 4 1 5 2" stroke="#77AC30"/><path d="M1151 290l5 5 4 5 5 4 4 4 5 2 4 4 5 3 4 1 5 4 4 5 5 4 4 3 5 6 4 3 5 3 4 2 5 4 4 4 5 4 4 4 5 3 4 3 5 3 4 4 5 5 4 1 5 3 4 4 5 2 4 2 5 3 4 2 5 4 4 4 5 4 4 1 5 1 4 3 5 4 4 4 5 5 4 3 5 1 4 4 5 2 4 3 5 1 4 2 5 2 4 4 5 2 4 3 5 3 4 5 5 4 4 3 5 4 4 1 5 1 4 2 5 3 4 3 5 1 4 2 5 1 4 2 5 3 4 0M1412 397l5 5 4 4 5 3 4 3 5 2 4 4 5 5 4 1 5 4 4 3 5 3 4 3 5 4 4 2 5 5 4 4 5 2 4 5 5 4 4 1 5 4 4 4 5 3 4 1 5 2 4 1 5 6 4 2 5 1 4 1 5 0 4 3 5 2 4 3 5 4 4 3M1437 470l5 1 4 2 5 2 4 2 5 2 4 2 5 2 4 2 5 2 4 2 5 4 4 2 5 1 4-1 5 2 4 1 5 4 4 4 5 2 4 1 5 1 4 1 5 0 4-2 5 1 4 4 5 1 4 2 5 1 4 1M1293 354l5 4 4 4 5 3 4 4 5 5 4 6 5 4 4 2 5 3 4 3 5 3 4 4 5 3 4 5 5 3 4 3 5 2 4 5 5 0 4 2 5 3 4 3 5 2 4 3 5 4 4 2 5 2 4 5 5 5 4 3 5 5 4 0 5 2 4 2 5 4 4 2 5 3 4 2 5 0 4 1 5 0 4 3 5 1 4 4 5 2 4 5 5 2 4 1 5 1 4 5 5 2 4 0 5 1M1111 242l4 4 5 3 4 2 5 3 4 2 5 3 4 6 5 3 4 3 5 6 4 5 5 7 4 2 5 3 4 0 5 3 4 8 5 3 4 4 5 5 4 2 5 2 4 1 5 4 4 5 5 6 4 3 5 3 4 1 5 4 4 6 5 4 4 5 5 3 4 3 5 2 4 1 5 2 4 5 5 3 4 2 5 2 4 2 5 5 4 2 5 2 4 3 5 5 4 3 5 4 4 5 5 4 4 4 5 3 4 2 5 4 4 3 5 2 4 5 5 2 4 2 5 4 4 4 5 5 4 3 5 3 4 2 5 2 4-2 5 6 4 5 5 1 4-1 5 1 4 3 5 1 4 4 5 2M1296 340l4 3 5 5 4 1 5 4 4 4 5 4 4 4 5 4 4 2 5 5 4 3 5 6 4 3 5 2 4 4 5 3 4 2 5 4 4 4 5 3 4 6 5 3 4 0 5 1 4 3 5 3 4 5 5 5 4 3 5 4 4 3 5 3 4 2 5 3 4 3 5 1 4 3 5 2 4 1 5 1 4 6 5 5 4 2 5 3 4 2 5 6 4 3 5 2 4 1 5 1 4 0 5 2 4 4 5 1 4 1M1317 394l5 3 4 0 5 3 4 5 5 1 4 2 5 4 4 4 5 5 4 3 5 2 4 2 5 1 4 3 5 1 4 0 5 3 4 3 5 4 4 2 5 3 4 4 5 1 4 2 5 2 4 3 5 2 4 3 5 3 4 4 5 1 4-1 5 1 4 2 5 2 4 2 5 3 4 1 5 1 4 4 5 0 4 1 5 1 4 2 5 1 4 0 5 3 4 3 5 1 4 0 5 2 4 1M1114 254l4 6 5 3 4 3 5 2 4 4 5 5 4 4 5 4 4 4 5 3 4 4 5 5 4 4 5 4 4 3 5 5 4 4 5 5 4 1 5 2 4 4 5 5 4 4 5 4 4 3 5 2 4 4 5 4 4 4 5 3 4 2 5 3 4 4 5 2 4 1 5 2 4 4 5 3 4 2 5 2 4 1 5 2 4 2 5 3 4 3 5 2 4 3 5 4 4 0 5 3 4 6 5 2 4 4 5 3 4 1 5 4 4 1 5 3 4 4 5 4 4 3 5 2 4 1 5 2 4 2 5 2 4 2 5 3 4 2 5 1 4 0 5 0 4 3 5 1 4 2 5 2M1214 258l5 4 4 4 5 8 4 6 5 5 4 4 5 4 4 3 5 3 4 4 5 5 4 5 5 2 4 4 5 3 4 3 5 4 4 4 5 4 4 3 5 4 4 4 5 1 4 4 5 6 4 2 5 3 4 3 5 6 4 2 5 1 4 2 5 4 4 4 5 4 4 1 5 4 4 4 5 3 4 2 5 2 4 4 5 3 4 1 5 3 4 2 5 3 4 1 5 3 4 4 5 2 4 3 5 2 4 0 5 1 4 5 5 4 4 4 5 2 4-1 5 2 4-1 5 2 4 2M1168 299l4 3 5 4 4 5 5 5 4 5 5 5 4 3 5 3 4 6 5 5 4 2 5 3 4 6 5 2 4 3 5 5 4 5 5 2 4 3 5 4 4 5 5 1 4 2 5 4 4 2 5 4 4 3 5 3 4 4 5 5 4 4 5 2 4 4 5 3 4 3 5 4 4 3 5 4 4 4 5 3 4 2 5 1 4 3 5 2 4 3 5 3 4 4 5 1 4 3 5 1 4 4 5 3 4 3 5 5 4 4 5 1 4 2 5 3 4 2 5 3 4 2 5 0 4 1 5 3 4 2 5 3 4 2 5 1 4 1 5 2 4 2 5 3M1097 268l5 4 4 3 5 4 4 4 5 5 4 3 5 5 4 1 5 5 4 4 5 2 4 2 5 4 4 5 5 5 4 4 5 3 4 4 5 3 4 3 5 4 4 4 5 4 4 6 5 2 4 3 5 3 4 2 5 4 4 3 5 3 4 5 5 4 4 3 5 3 4 2 5 3 4 6 5 3 4 2 5 2 4 5 5 5 4 3 5 2 4 5 5 1 4 4 5 4 4 0 5 4 4 5 5 3 4 2 5 4 4 3 5 3 4 2 5 2 4 4 5 4 4 5 5 2 4 4 5 5 4 0 5 1 4 1 5 2 4 4 5 1 4 1 5 3 4 3 5 4 4 2 5 1 4-2 5 1 4 3M1210 317l5 3 4 3 5 4 4 5 5 3 4 3 5 3 4 3 5 5 4 1 5 3 4 4 5 2 4 3 5 4 4 5 5 4 4 3 5 5 4 4 5 2 4 3 5 3 4 1 5 5 4 4 5 5 4 3 5 2 4 3 5 2 4 2 5 4 4 3 5 3 4 6 5 6 4 2 5 3 4 4 5 1 4 1 5 1 4 2 5 2 4 2 5 1 4 3 5 0 4 4 5 3 4 2 5 0 4 2 5 3 4 2 5 2 4 1 5 4 4 2 5 2 4 1 5 1M1354 421l5 1 4 4 5 4 4 3 5 1 4 2 5 4 4 4 5 5 4 4 5 4 4 3 5 4 4 3 5-1 4 0 5 3 4 4 5 3 4 3 5 4 4 2 5 2 4 1 5 1 4 3 5 3 4 4 5 3 4 1 5 1 4 2 5 0 4 0 5 0 4 2 5 3 4-1 5 0 4 2 5 0 4 1 5 2 4 1 5-1M1311 430l4 4 5 4 4 2 5 1 4 4 5 1 4 2 5 5 4 3 5 2 4 3 5 2 4 3 5 2 4 4 5 3 4 2 5 1 4 3 5 0 4 3 5 2 4 5 5 2 4 0 5 1 4 1 5 2 4 2 5 1 4 1 5 0 4 1 5 0 4 3 5 2 4 1 5 1 4 1 5 1 4-1 5 2 4 1 5 3 4 2 5 2M1499 499l4 3 5 2 4 0 5-1 4 0 5 3 4 2 5 0 4 3 5 1 4 2 5 1 4 1 5 0 4 1 5 1 4 0 5 2 4 1 5 2 4 0 5 1 4 3 5 4 4-1M1027 126l4 3 5 3 4 6 5 4 4 4 5 3 4 5 5 4 4 3 5 2 4 4 5 5 4 4 5 3 4 2 5 4 4 4 5 3 4 4 5 6 4 4 5 2 4 3 5 5 4 6 5 4 4 3 5 4 4 4 5 4 4 4 5 6 4 2 5 4 4 5 5 5 4 4 5 5 4 4 5 3 4 5 5 6 4 6 5 2 4 3 5 3 4 5 5 2 4 4 5 2 4 5 5 4 4 3 5 1 4 3 5 4 4 5 5 5 4 2 5 2 4 3 5 3 4 2 5 3 4 4 5 4 4 4 5 5 4 4 5 4 4 3 5 4 4 5 5 5 4 2 5 3 4 3 5 4 4 2 5 1 4 5 5 2 4 1 5 3 4 2 5 2 4 4 5 3 4 4 5 4 4 1 5 1 4 4 5 2 4 3 5 3 4 4 5 3" stroke="#7E2F8E"/><path d="M1289 369l5 3 4 4 5 5 4 5 5 2 4 2 5 3 4 3 5 3 4 4 5 6 4 1 5 2 4 4 5 3 4 1 5 3 4 4 5 5 4 2 5 1 4 3 5 4 4 4 5 1 4 2 5 3 4 1 5 4 4 2 5 3 4 3 5 0 4 1 5 4 4 2 5 3 4 2 5 4 4 0 5 3 4 0 5 3 4 3 5 1 4 2 5 2 4 3 5 2 4 1 5 2 4 0 5 1 4 3 5 1M1240 359l4 6 5 2 4 4 5 2 4 1 5 2 4 3 5 3 4 4 5 3 4 3 5 6 4 2 5 3 4 4 5 1 4 4 5 5 4 3 5 3 4 2 5 2 4 3 5 3 4 3 5 3 4 2 5 3 4 2 5 3 4 3 5 3 4 3 5 2 4 2 5 2 4 1 5 5 4 5 5 0 4 2 5 2 4 3 5 3 4 3 5 3 4 3 5 3 4 2 5 0 4 2 5 0 4 0 5 2 4 2 5 1 4 1 5 3 4 3M1133 155l5 3 4 5 5 4 4 2 5 3 4 5 5 2 4 6 5 5 4 2 5 5 4 6 5 5 4 3 5 3 4 4 5 7 4 4 5 2 4 5 5 5 4 3 5 3 4 4 5 5 4 3 5 3 4 3 5 4 4 3 5 4 4 4 5 3 4 2 5 5 4 5 5 3 4 2 5 2 4 3 5 5 4 3 5 4 4 5 5 2 4 1 5 4 4 5 5 3 4 2 5 4 4 2 5 3 4 3 5 3 4 5 5 4 4 2 5 2 4 4 5 4 4 3 5 4 4 3 5 1 4 3 5 3 4 4 5 6 4 2 5 2 4 6 5 3 4 4 5 1 4 3M1213 254l4 4 5 4 4 5 5 3 4 2 5 2 4 4 5 3 4 3 5 4 4 4 5 4 4 6 5 3 4 5 5 5 4 3 5 5 4 2 5 4 4 2 5 3 4 4 5 4 4 3 5 4 4 4 5 3 4 5 5 4 4 2 5 5 4 4 5 2 4 1 5 2 4 3 5 2 4 4 5 4 4 3 5 4 4 4 5 4 4 3 5-1 4 3 5 2 4 2 5 4 4 4 5 3 4 2 5 2 4 2 5 2 4 3 5 5 4 2 5 3 4 3M1393 457l4 3 5 4 4 3 5 1 4 2 5 2 4 3 5 4 4 0 5 3 4 3 5 0 4 2 5 2 4 4 5 3 4 1 5 2 4 3 5 3 4 3 5 1 4 1 5 3 4 3 5 0 4-1 5 3 4 1 5 0 4 0 5 2 4 0 5 2 4 2 5 3 4 0M1183 271l4 2 5 4 4 2 5 2 4 4 5 2 4 4 5 5 4 3 5 1 4 3 5 5 4 8 5 4 4 1 5 2 4 6 5 4 4 2 5 3 4 5 5 4 4 4 5 4 4 4 5 4 4 3 5 2 4 6 5 2 4 3 5 1 4 3 5 5 4 5 5 0 4 5 5 5 4 4 5 3 4 3 5 6 4 3 5 5 4 1 5 2 4 5 5 4 4 2 5 6 4 1 5 2 4 2 5 1 4 3 5 1 4 3 5 4 4 2 5 3 4 2 5 2 4 0 5 1 4 3 5 4 4 3 5 3 4-1M1360 386l5 4 4 3 5 2 4 2 5 2 4 4 5 1 4 2 5 4 4 2 5 2 4 4 5 3 4 6 5 3 4 3 5 2 4 0 5 3 4 4 5 4 4 4 5-1 4 2 5 3 4 4 5 3 4 3 5 1 4-1 5 2 4 6 5 4 4 4 5 0 4 3 5 2 4 3 5 1 4 1M1208 247l5 6 4 3 5 6 4 4 5 4 4 5 5 4 4 4 5 5 4 4 5 3 4 5 5 5 4 4 5 5 4 3 5 3 4 4 5 1 4 3 5 7 4 5 5 3 4 3 5 6 4 3 5 2 4 2 5 5 4 5 5 4 4 3 5 2 4 4 5 3 4 2 5 0 4 3 5 7 4 3 5 2 4 2 5 3 4 3 5 3 4 4 5 4 4 2 5 2 4 2 5 5 4 3 5 2 4 1 5 5 4 5 5 2 4 1 5 0 4 6 5 3 4 2 5 1 4 5 5 3 4 4 5 3 4 2M1115 229l5 3 4 4 5 4 4 5 5 3 4 3 5 1 4 1 5 5 4 5 5 4 4 3 5 3 4 5 5 4 4 2 5 5 4 1 5 4 4 2 5 4 4 6 5 4 4 2 5 4 4 4 5 3 4 2 5 3 4 5 5 3 4 3 5 1 4 2 5 5 4 3 5 2 4 3 5 3 4 4 5 3 4 3 5 3 4 3 5 1 4 5 5 2 4 3 5 5 4 3 5 4 4 4 5 4 4 2 5 3 4 5 5 4 4 2 5 4 4 2 5 2 4 0 5 3 4 5 5 3 4 0 5 3 4 3 5 4 4 3 5 3 4 3 5 1 4 0M1324 413l5 2 4 5 5 5 4 1 5 5 4 3 5 5 4 4 5 4 4 2 5 5 4 5 5 1 4 1 5 0 4 2 5 2 4 5 5-1 4 1 5 2 4 3 5 4 4 0 5 1 4 5 5 2 4 0 5 3 4 1 5 3 4 3 5 4 4 3 5 1 4 1 5 1 4 1 5 3 4 1 5 3 4 3 5 1M1323 327l4 7 5 3 4 4 5 3 4 5 5 4 4 3 5 4 4 4 5 4 4 1 5 2 4 4 5 6 4 2 5 4 4 3 5 4 4 3 5 1 4 6 5 4 4 3 5 3 4 1 5 2 4 2 5 2 4 3 5 4 4 2 5 2 4 4 5 2 4 3 5 4 4 2 5 2 4 4 5 1 4 5 5 3 4 4 5 3 4 0 5 3 4 3 5 5M1182 279l5 5 4 6 5 3 4 1 5 4 4 6 5 4 4 5 5 4 4 6 5 3 4 3 5 5 4 6 5 2 4 4 5 4 4 1 5 3 4 3 5 4 4 2 5 3 4 6 5 3 4 2 5 3 4 3 5 4 4 5 5 4 4 3 5 3 4 5 5 4 4 3 5 3 4 5 5 4 4 3 5 4 4 2 5 4 4 3 5 5 4 4 5 4 4 2 5 2 4 2 5 2 4 4 5 2 4 1 5 3 4 3 5-1 4 3 5 0 4 3 5 4 4 3 5 0 4 0 5 3M1363 387l4 3 5 5 4 3 5 2 4 2 5 6 4 5 5 3 4 1 5 1 4 5 5 1 4 3 5 3 4 3 5 2 4 1 5 2 4 3 5 5 4 1 5 2 4 1 5 4 4 4 5 5 4 4 5 1 4 2 5 4 4 1 5 2 4 2 5 3 4 3 5 2 4 6 5 4 4 0 5 1 4 3 5 2 4 4M1276 328l4 5 5 5 4 4 5 3 4 2 5 3 4 4 5 3 4 2 5 3 4 5 5 3 4 3 5 2 4 3 5 5 4 4 5 2 4 3 5 4 4 2 5 3 4 6 5 1 4 3 5 2 4 5 5 2 4 3 5 5 4 3 5 2 4 4 5 4 4 3 5 3 4 2 5 1 4 0 5 3 4 3 5 3 4 3 5 5 4 1 5 2 4 3 5 1 4 1 5 2 4 4 5 1 4 2 5 3M1119 211l5 4 4 2 5 5 4 3 5 3 4 4 5 3 4 5 5 6 4 5 5 5 4 1 5 2 4 5 5 3 4 5 5 5 4 4 5 3 4 3 5 4 4 5 5 3 4 1 5 2 4 2 5 4 4 7 5 2 4 2 5 3 4 4 5 2 4 4 5 3 4 2 5 2 4 5 5 5 4 3 5 2 4 2 5 2 4 5 5 1 4 2 5 6 4 5 5 4 4 5 5 1 4 3 5 3 4 5 5 4 4 2 5 3 4 3 5 2 4 0 5 4 4 4 5 3 4 3 5 3 4 5 5 4 4 0 5 1 4 1 5 1 4 1 5 3 4 2 5 4 4 4 5 2M1313 411l4 2 5 2 4 1 5 4 4 3 5 4 4 4 5 4 4 4 5 3 4 2 5 4 4 3 5 2 4 4 5 0 4 2 5 2 4 3 5 2 4 4 5 2 4 2 5 3 4 3 5 3 4 4 5 1 4-1 5 4 4 5 5 3 4 0 5 0 4 2 5-1 4 0 5 1 4 1 5 1 4 1 5 3 4-1 5 0 4 2 5 2 4 1 5 0M1117 147l5 7 4 4 5 2 4 4 5 4 4 2 5 2 4 3 5 4 4 5 5 6 4 2 5 3 4 6 5 7 4 4 5 6 4 3 5 3 4 6 5 5 4 4 5 3 4 6 5 3 4 5 5 3 4 1 5 5 4 5 5 4 4 2 5 4 4 5 5 3 4 2 5 4 4 3 5 4 4 4 5 4 4 4 5 6 4 4 5 5 4 5 5 2 4 3 5 3 4 2 5 3 4 7 5 3 4 3 5 2 4 5 5 4 4 4 5 4 4 4 5 4 4 4 5 3 4 5 5 3 4 1 5 4 4 5 5 5 4 4 5 2 4 1M1256 335l4 3 5 3 4 5 5 3 4 2 5 3 4 4 5 3 4 3 5 3 4 4 5 5 4 1 5 1 4 4 5 4 4 4 5 1 4 5 5 6 4 5 5 4 4 3 5 1 4 2 5 2 4 5 5 5 4 3 5 5 4 3 5-1 4 4 5 2 4 3 5 4 4 4 5 3 4 2 5 3 4 2 5 2 4 4 5 2 4 1 5 1 4 3 5 0 4 2 5 3 4 2 5 0 4 1 5 3 4 1 5 2 4 6 5 3 4 1M1196 255l5 4 4 4 5 3 4 2 5 3 4 6 5 7 4 7 5 3 4 0 5 5 4 6 5 4 4 2 5 4 4 4 5 4 4 3 5 4 4 2 5 4 4 2 5 3 4 5 5 5 4 3 5 5 4 5 5 2 4 2 5 4 4 4 5 3 4 4 5 3 4 4 5 2 4 4 5 3 4 5 5 2 4 3 5 3 4 5 5 4 4 3 5 1 4 4 5 4 4 3 5 2 4 3 5 3 4 1 5 4 4 6 5 3 4 3 5 1 4 4 5 1 4 2 5 4 4 3 5 1 4 2M1189 294l4 4 5 4 4 4 5 1 4 3 5 5 4 6 5 3 4 4 5 5 4 2 5 4 4 2 5 2 4 5 5 4 4 3 5 4 4 2 5 3 4 2 5 4 4 3 5 3 4 5 5 3 4 3 5 4 4 3 5 4 4 6 5 2 4 5 5 4 4 3 5 3 4 4 5 3 4 2 5 4 4 4 5 3 4 4 5 1 4-1 5 2 4 4 5 3 4 0 5 5 4 2 5 3 4 4 5 2 4 0 5 0 4 3 5 1 4 3 5 2 4 4 5 2 4 3 5 1 4 1 5 1 4 2 5 1 4 0M1312 333l5 3 4 5 5 4 4 3 5 5 4 5 5 2 4 3 5 5 4 5 5 4 4 2 5 4 4 4 5 3 4 3 5 3 4 2 5 2 4 4 5 4 4 4 5 2 4 3 5 5 4 4 5 2 4 4 5 4 4 3 5 1 4 3 5 4 4 3 5 4 4 1 5 2 4 4 5 1 4 3 5 3 4 6 5 4 4 1 5 2 4 1 5 1 4 4 5 3 4 4M1407 476l4 1 5 1 4 3 5 2 4 1 5 3 4 0 5 2 4 2 5-1 4 0 5 3 4 1 5 2 4 4 5 4 4 2 5 1 4 2 5 2 4 1 5 0 4 1 5 1 4 0 5 0 4 2 5 1 4 1 5 1 4 3 5 0 4 2 5 0 4 1 5-1M1227 378l5 2 4 2 5 2 4 3 5 3 4 3 5 4 4 2 5 2 4 2 5 4 4 1 5 1 4 3 5 5 4 6 5 2 4 2 5 3 4 3 5 3 4 3 5 3 4 4 5 3 4 4 5 5 4 2 5 2 4 2 5 3 4 3 5 4 4 3 5 2 4 5 5 2 4 4 5 5 4-1 5 1 4 3 5 3 4 2 5 4 4 1 5 2 4 2 5 1 4 1 5 3 4 1 5-1 4-1 5 1 4 1 5 0 4 0M1304 347l5 3 4 1 5 1 4 4 5 2 4 5 5 5 4 3 5 2 4 4 5 4 4 2 5 2 4 4 5 3 4 5 5 3 4 1 5 4 4 3 5 3 4 3 5 2 4 2 5 5 4 3 5 1 4 3 5 3 4 4 5 3 4 0 5 3 4 3 5 1 4 0 5 2 4 5 5 3 4 2 5 2 4 2 5 0 4 3 5 4 4 1 5 1 4 3 5 4M1235 379l4 6 5 3 4 2 5 3 4 4 5 2 4 2 5 3 4 2 5 2 4 2 5 2 4 3 5 3 4 1 5 2 4 4 5 3 4 2 5 2 4 4 5 2 4 4 5 2 4 3 5 3 4 7 5 6 4 2 5 4 4 2 5 3 4 2 5 2 4 1 5 4 4 2 5 3 4 2 5 2 4 3 5 5 4 0 5 2 4 0 5 3 4 3 5-1 4 1 5 2 4 0 5 1 4-1 5 1 4 4 5-2 4 2 5 3 4 1 5 0 4 2 5 1 4 3" stroke="#A2142F"/><path d="M1393 431l5 5 4 3 5 3 4 2 5 2 4 2 5 5 4 4 5 2 4 1 5 0 4 3 5 3 4 2 5 2 4 0 5 3 4 4 5 0 4 2 5 3 4 2 5 1 4 2 5 4 4 4 5 0 4 2 5 3 4 3 5 0 4 0 5 1 4 3 5 3 4 1 5 1 4 1M1413 402l4 4 5 4 4 3 5 3 4 4 5 3 4 4 5 3 4 1 5 3 4 5 5 3 4 4 5 2 4 3 5 2 4 4 5 3 4 3 5 5 4 3 5 0 4 0 5 3 4 2 5 2 4 3 5 1 4 2 5 3 4 4 5 2 4 3 5 2M1371 368l4 2 5 5 4 5 5 2 4 2 5 4 4 4 5 5 4 4 5 4 4 3 5 4 4 2 5 2 4 4 5 4 4 3 5 4 4 3 5 4 4 2 5 2 4 4 5 4 4 5 5 3 4 5 5 3 4 3 5 2 4 2 5 3 4 5 5 0 4 3 5 3 4 2 5 1 4 3 5 5 4 2M1428 412l5 6 4 3 5 1 4 4 5 3 4 4 5 3 4 4 5 4 4 4 5 3 4 2 5 1 4 3 5 2 4 3 5 5 4 4 5 1 4 2 5 4 4 1 5 2 4 3 5 4 4 4 5 3 4 4 5 2 4 3 5 5 4 1 5 2 4 1 5 0M1367 469l4 2 5 3 4 4 5 1 4 2 5 2 4 4 5 1 4 3 5 3 4 2 5 1 4 2 5 3 4 1 5-1 4 0 5 1 4 3 5 4 4 3 5-1 4 0 5 3 4 3 5 0 4 2 5 0 4 0 5 0 4 1 5 1 4 2 5 0 4 4 5 1 4 0 5 0 4 1 5 0 4-1 5 1 4 2M1159 263l5 6 4 6 5 5 4 4 5 5 4 6 5 5 4 2 5 2 4 6 5 5 4 2 5 4 4 2 5 4 4 5 5 4 4 4 5 3 4 2 5 3 4 3 5 3 4 4 5 2 4 4 5 3 4 4 5 4 4 2 5 2 4 5 5 5 4 3 5 3 4 3 5 1 4 3 5 4 4 4 5 5 4 4 5 3 4 2 5 3 4 4 5 1 4 6 5 2 4 2 5 0 4 2 5 4 4 4 5 1 4 2 5 3 4 5 5 4 4 2 5 1 4 3 5 3 4 1 5 2 4 3 5 2 4 2 5 2 4 2 5 3 4 0M1437 449l5 3 4 1 5 4 4 4 5 2 4 3 5 0 4 2 5 2 4 4 5 3 4 2 5 0 4 1 5 3 4 4 5 3 4 2 5 2 4 5 5 6 4 2 5 1 4 4 5 1 4 2 5 1 4 0 5 2 4 4 5 2 4 0 5 2 4 3M1129 269l4 2 5 5 4 3 5 1 4 1 5 5 4 5 5 4 4 5 5 3 4 5 5 2 4 1 5 3 4 5 5 3 4 4 5 4 4 2 5 2 4 2 5 4 4 5 5 4 4 3 5 1 4 4 5 2 4 4 5 3 4 5 5 2 4 0 5 3 4 3 5 2 4 3 5 3 4 6 5 4 4 3 5 3 4 5 5 3 4 4 5 5 4 4 5 4 4 1 5 3 4 5 5 1 4 2 5 4 4 2 5 3 4 4 5 0 4 4 5 4 4 3 5 3 4 3 5 3 4 4 5 1 4 0 5 0 4 1 5 2 4 1 5 3 4 2 5 0M1215 260l5 5 4 3 5 5 4 5 5 5 4 3 5 3 4 1 5 2 4 2 5 3 4 4 5 3 4 3 5 7 4 3 5 3 4 3 5 3 4 2 5 4 4 4 5 4 4 4 5 7 4 4 5 4 4 2 5 4 4 4 5 4 4 4 5 4 4 4 5 3 4 1 5 5 4 5 5 1 4 1 5 5 4 7 5 2 4 4 5 3 4 3 5 5 4 0 5 2 4 3 5 5 4 5 5 1 4 2 5 3 4 4 5 1 4 2 5 2 4 2 5 4 4 3M1298 359l4 5 5 3 4 2 5 2 4 1 5 3 4 3 5 4 4 7 5 2 4 2 5 1 4 3 5 4 4 3 5 4 4 4 5 4 4 3 5 4 4 6 5 3 4 3 5 4 4 3 5 3 4 3 5 1 4 3 5 3 4 2 5 2 4 2 5 0 4 2 5 3 4 2 5 0 4 1 5 1 4 2 5 2 4 2 5 2 4 2 5 3 4 1 5 2 4 0 5 1 4 3 5 3 4 2M1448 474l5 3 4 0 5 3 4 4 5 3 4 3 5-1 4 2 5 2 4 3 5 3 4 0 5 1 4 2 5 1 4 2 5 3 4-1 5 1 4 0 5 3 4 0 5 2 4 3 5 3 4 2 5 0 4 0 5 2 4 2 5 0 4 3M1343 410l4 3 5 4 4 1 5 4 4 4 5 2 4 3 5 2 4 2 5 2 4 3 5 1 4 3 5 5 4 4 5 0 4 2 5 5 4 2 5 1 4 1 5 3 4 0 5 3 4 4 5 3 4 1 5 2 4 4 5 2 4-1 5 2 4 4 5 3 4 0 5 2 4 1 5 3 4 2 5 2 4-1 5 0 4 4 5 1 4 1M1393 441l5 5 4 2 5-1 4 3 5 2 4 3 5 3 4 2 5 1 4 3 5 3 4 2 5 2 4-1 5 2 4 4 5 3 4 0 5 3 4 2 5 1 4 1 5 1 4 3 5 2 4 3 5 2 4 2 5 2 4 4 5 2 4 2 5 1 4 1 5 0M1104 243l4 5 5 2 4 3 5 3 4 2 5 6 4 3 5 3 4 4 5 4 4 5 5 5 4 3 5 3 4 7 5 6 4 3 5 3 4 2 5 5 4 3 5 5 4 1 5 4 4 5 5 5 4 2 5 2 4 3 5 3 4 3 5 3 4 3 5 2 4 3 5 4 4 4 5 2 4 3 5 3 4 3 5 0 4 5 5 4 4 4 5 4 4 2 5 4 4 2 5 2 4 2 5 4 4 3 5 0 4 3 5 2 4 3 5 2 4 2 5 2 4 3 5 5 4 3 5 3 4 0 5 3 4 4 5 3 4 1 5 2 4 2 5 1 4 2 5 5 4 1 5 3 4 3 5 3 4 1 5 0M1384 479l4 4 5-1 4 0 5 3 4 3 5 2 4 1 5 3 4 3 5 2 4 2 5 3 4 2 5 4 4 0 5 1 4 3 5 2 4 1 5 0 4 3 5 4 4 1 5 1 4 2 5 3 4 1 5 1 4 1 5 1 4-1 5 0 4 2 5 0 4-2 5 1 4 0 5-1 4 1M1137 205l4 3 5 4 4 4 5 4 4 3 5 4 4 4 5 4 4 4 5 1 4 6 5 4 4 4 5 3 4 4 5 4 4 4 5 5 4 4 5 4 4 4 5 5 4 5 5 3 4 3 5 4 4 4 5 5 4 3 5 2 4 3 5 0 4 2 5 5 4 5 5 4 4 4 5 4 4 3 5 0 4 2 5 5 4 6 5 4 4 2 5 5 4 4 5 5 4 4 5 3 4 2 5 3 4 3 5 5 4 2 5 4 4 1 5 2 4 4 5 2 4 3 5 2 4 4 5 2 4-1 5 3 4 0 5 4 4 5 5 1 4 2 5 2 4 1 5 2M1155 312l5 4 4 3 5 3 4 6 5 6 4 1 5 1 4 5 5 4 4 4 5 6 4 3 5 2 4 3 5 4 4 8 5 2 4 4 5 3 4 4 5 4 4 2 5 3 4 3 5 3 4 2 5 2 4 2 5 1 4 5 5 5 4 2 5 2 4 3 5 1 4 4 5 3 4 3 5 5 4 4 5 2 4 2 5 2 4 4 5 3 4 5 5 4 4 1 5 5 4 4 5 1 4 0 5 3 4 1 5 4 4 4 5 4 4-1 5 4 4 2 5 4 4 3 5 0 4-2 5 3 4 3 5 1 4 2 5 3 4 1 5 0 4 3 5 1 4 1 5-1 4 0 5 1M1272 382l5 4 4 3 5 5 4 1 5 2 4 4 5 2 4 2 5 3 4 1 5 2 4 3 5 3 4 0 5 1 4 5 5 6 4 4 5 1 4 3 5 3 4 5 5 4 4 3 5 2 4 3 5 1 4 2 5 4 4 1 5 2 4 6 5 2 4 1 5 2 4 0 5-1 4 3 5 3 4 2 5 3 4 1 5 1 4 0 5 4 4 2 5 1 4 1 5 2 4-2 5 2 4 0 5 1 4 0 5 1 4 2M1252 306l4 5 5 3 4 4 5 5 4 2 5 1 4 3 5 4 4 2 5 5 4 6 5 3 4 2 5 3 4 5 5 4 4 2 5 3 4 2 5 6 4 3 5 4 4 2 5 4 4 2 5 3 4 5 5 5 4 3 5 3 4 1 5 3 4 5 5 3 4 2 5 3 4 2 5 4 4 4 5 3 4 0 5 3 4 4 5 5 4 3 5 1 4 1 5 3 4 5 5 3 4 1 5 2 4 2 5 1 4 2 5 1 4 1 5 3M1456 506l5 2 4 3 5 1 4 2 5 2 4-2 5 1 4 0 5 3 4 1 5 0 4-1 5 0 4 1 5 0 4 2 5 2 4 0 5 2 4 2 5 1 4-1 5 0 4 1 5 4 4 1 5 2 4 0 5 2 4-1 5 1 4 0 5 1" stroke="#D95319"/><path d="M1021 87l4 1 5 4 4 3 5 4 4 1 5 1 4 1 5 1 4 2 5 1 4 3 5 4 4 4 5 4 4 2 5 3 4 4 5 4 4 5 5 4 4 3 5 5 4 2 5 5 4 2 5 4 4 1 5 6 4 6 5 3 4 3 5 3 4 3 5 5 4 7 5 4 4 7 5 4 4 3 5 4 4 6 5 6 4 4 5 3 4 4 5 6 4 4 5 4 4 2 5 3 4 3 5 4 4 6 5 5 4 3 5 4 4 3 5 3 4 4 5 4 4 6 5 3 4 2 5 3 4 4 5 4 4 4 5 4 4 4 5 4 4 6 5 4 4 2 5 5 4 3 5 4 4 1 5 3 4 1 5 2 4 4 5 2 4 4 5 5 4 5 5 5 4 2 5 4 4 2 5 3 4 3 5 2M1157 299l5 6 4 6 5 4 4 3 5 1 4 4 5 2 4 3 5 5 4 5 5 3 4 4 5 3 4 3 5 4 4 5 5 1 4 4 5 4 4 3 5 3 4 2 5 4 4 4 5 4 4 1 5 5 4 5 5 5 4 4 5 1 4 4 5 2 4 2 5 3 4 2 5 3 4 2 5 4 4 4 5 3 4 2 5 3 4 2 5 4 4 5 5 2 4 2 5 6 4 5 5 0 4 4 5 1 4 0 5 4 4 0 5 2 4 5 5 3 4-1 5 3 4 1 5 1 4 4 5 2 4 1 5 3 4 1 5 0M1102 223l5 4 4 5 5 4 4 5 5 3 4 1 5 5 4 4 5 6 4 3 5 4 4 5 5 4 4 5 5 4 4 4 5 4 4 5 5 4 4 4 5 3 4 5 5 5 4 2 5 4 4 4 5 3 4 4 5 3 4 4 5 3 4 4 5 3 4 1 5 3 4 4 5 5 4 6 5 2 4 4 5 4 4 3 5 2 4 5 5 6 4 1 5 0 4 5 5 4 4 1 5 5 4 5 5 4 4 4 5 4 4 2 5 4 4 3 5 3 4 7 5 5 4 1 5 2 4 4 5 2 4 0 5 3 4 2 5 3 4 1 5 3 4 2 5 1 4 2 5 3 4 1 5 0 4 2 5 2 4 1 5 3 4 5M1101 268l4 3 5 3 4 4 5 3 4 4 5 4 4 3 5 6 4 2 5 3 4 4 5 5 4 5 5 3 4 4 5 3 4 2 5 4 4 4 5 3 4 5 5 1 4 6 5 5 4 3 5 3 4 3 5 6 4 3 5 0 4 0 5 5 4 4 5 3 4 2 5 2 4 4 5 5 4 2 5 2 4 3 5 4 4 5 5 4 4 3 5 4 4 4 5 0 4 3 5 5 4 4 5 2 4 2 5 4 4 4 5 4 4 2 5 6 4 5 5 5 4 3 5 3 4 5 5 5 4 0 5 1 4 2 5 4 4 2 5 0 4 3 5 4 4 2 5 0 4 0 5 3 4 1 5 2M1116 219l5 3 4 7 5 5 4 3 5 2 4 3 5 2 4 5 5 3 4 5 5 3 4 5 5 4 4 4 5 2 4 3 5 6 4 5 5 2 4 4 5 3 4 6 5 6 4 3 5 6 4 4 5 2 4 4 5 6 4 6 5 1 4 3 5 2 4 4 5 4 4 4 5 2 4 4 5 3 4 5 5 2 4 3 5 3 4 4 5 5 4 3 5 4 4 3 5 4 4 2 5 3 4 3 5 2 4 6 5 3 4 3 5 5 4 2 5 4 4 4 5 3 4 3 5 4 4 5 5 2 4 3 5 2 4 4 5 5 4 6 5 4 4 3 5 2 4 3 5 1 4 2M1373 473l5 3 4 2 5 3 4 2 5 3 4 3 5 2 4 2 5 0 4 3 5 3 4 3 5 4 4 1 5 1 4 1 5 3 4 3 5 2 4 2 5 2 4 2 5 1 4 0 5 0 4 2 5 0 4 1 5 3 4 3 5 2 4 0 5 1 4-1 5 0 4 0 5 1 4 1 5 0 4 1 5-1 4 0M1286 300l4 2 5 3 4 5 5 1 4 6 5 5 4 6 5 4 4 3 5 4 4 5 5 4 4 4 5 3 4 3 5 3 4 4 5 4 4 4 5 2 4 0 5 4 4 2 5 5 4 1 5 4 4 5 5 3 4 1 5 1 4 4 5 2 4 4 5 3 4 2 5 3 4 1 5 1 4 4 5 3 4 4 5 3 4 2 5 3 4 4 5 4 4 2 5 2 4 1 5 3 4 4 5 4 4 4 5 2 4 4M1357 456l4 2 5 6 4 3 5 4 4 3 5 3 4 1 5 3 4 3 5 3 4 3 5 1 4 3 5 2 4 1 5 3 4 2 5 2 4 1 5 2 4 1 5 1 4 1 5 1 4-1 5 0 4 3 5 4 4 3 5 1 4 0 5-2 4 1 5 1 4 4 5 2 4 2 5 0 4 0 5 2 4 2 5-1M1136 235l4 4 5 4 4 4 5 3 4 5 5 4 4 4 5 5 4 4 5 4 4 4 5 4 4 6 5 7 4 2 5 2 4 3 5 5 4 5 5 3 4 5 5 3 4 4 5 5 4 3 5 3 4 1 5 2 4 3 5 3 4 5 5 1 4 4 5 3 4 4 5 2 4 3 5 1 4 4 5 3 4 1 5 2 4 2 5 5 4 5 5 2 4 3 5 6 4 4 5 3 4 3 5 1 4 3 5 1 4 4 5 4 4 2 5 2 4 3 5 4 4 3 5 1 4 2 5 3 4 4 5 4 4 4 5 2 4 1 5 5 4 4 5 3M1308 362l4 6 5 4 4 4 5 2 4 3 5 4 4 4 5 5 4 5 5 5 4 1 5 5 4 2 5 4 4 3 5 5 4 3 5 2 4 4 5 1 4 2 5 3 4 4 5 1 4 1 5 4 4 4 5 4 4 0 5 0 4 3 5 3 4 4 5 4 4 4 5 4 4 1 5 1 4 4 5 1 4 2 5 4 4 1 5 1 4 5M1147 250l4 3 5 6 4 5 5 4 4 3 5 3 4 5 5 3 4 6 5 5 4 2 5 5 4 5 5 1 4 1 5 4 4 4 5 4 4 3 5 4 4 2 5 4 4 4 5 5 4 0 5 2 4 4 5 4 4 2 5 3 4 1 5 1 4 3 5 3 4 3 5 3 4 6 5 4 4 0 5 1 4 1 5 5 4 4 5 5 4 3 5 4 4 6 5 4 4 2 5 3 4 2 5 4 4 1 5 2 4 4 5 3 4 1 5 2 4 2 5 4 4 2 5 2 4 2 5 2 4 2 5 1 4 2 5 1 4 1 5 2 4 0 5 1M1409 478l4 2 5 1 4 2 5 3 4 2 5 5 4 4 5 2 4-1 5 2 4 2 5 2 4-1 5 2 4 1 5 5 4 1 5 1 4 4 5 1 4-1 5 2 4 1 5 0 4 1 5 4 4 2 5 0 4 1 5 0 4 2 5-1 4 3M1114 211l5 3 4 4 5 4 4 3 5 5 4 4 5 4 4 1 5 6 4 3 5 4 4 5 5 5 4 6 5 1 4 4 5 5 4 5 5 4 4 3 5 5 4 3 5 6 4 6 5 4 4 2 5 6 4 2 5 1 4 7 5 3 4 2 5 3 4 4 5 2 4 3 5 3 4 4 5 4 4 5 5 2 4 3 5 2 4 3 5 3 4 4 5 3 4 3 5 2 4 4 5 5 4 5 5 1 4 3 5 3 4 3 5 4 4 2 5 3 4 7 5 3 4 2 5 2 4 3 5 3 4 2 5 2 4 2 5 3 4 1 5 4 4 2 5 2 4 2 5 0 4 3M1135 289l4 4 5 3 4 4 5 4 4 6 5 5 4 6 5 3 4 2 5 5 4 3 5 2 4 3 5 6 4 4 5 2 4 2 5 4 4 2 5 4 4 3 5 3 4 2 5 2 4 4 5 3 4 1 5 3 4 2 5 5 4 3 5 3 4 3 5 3 4 1 5 3 4 4 5 4 4 2 5 2 4 4 5 2 4 3 5 0 4 5 5 5 4 2 5 5 4 6 5 5 4 3 5 6 4 4 5 2 4 2 5 6 4 2 5 3 4-1 5 1 4 2 5 2 4 1 5 2 4 3 5 3 4 0 5 3 4 1 5 2 4 2M1389 439l5 4 4 2 5 2 4 3 5 4 4 2 5 2 4 1 5 4 4 2 5 4 4 4 5 4 4 2 5 1 4 2 5 1 4 3 5 1 4 4 5 1 4 2 5 1 4 2 5 3 4 0 5 1 4 0 5 3 4 3 5 1 4 2 5 1 4 2 5 1 4 4 5 4 4 0 5 2 4 1M1359 412l4 5 5 3 4 4 5 4 4 5 5 1 4 3 5 2 4 1 5 2 4 2 5 3 4 3 5 4 4 2 5 2 4 3 5 2 4 1 5 3 4 2 5 2 4 2 5-1 4 3 5 6 4 3 5 0 4 0 5 3 4 3 5 2 4 2 5 0 4 1 5 3 4 2 5 3 4 2 5 0 4 2 5 0 4 4M1414 427l5 1 4 1 5 2 4 4 5 5 4 3 5 1 4 0 5 2 4 3 5 3 4 4 5 5 4 2 5 2 4 1 5 2 4 1 5 2 4 3 5 4 4 2 5 5 4 1 5 2 4 1 5 3 4 2 5 5 4-1 5 0 4 1 5 5M1460 481l4 2 5 1 4 3 5 2 4 2 5 1 4 2 5 2 4 2 5-1 4 3 5 3 4 1 5 1 4 3 5 3 4 3 5 0 4 2 5 1 4 1 5 0 4 2 5 3 4 1 5 1 4 3 5 0 4 1M1503 463l5 0 4 3 5 5 4 3 5 2 4 3 5 2 4 3 5 1 4 1 5 3 4 2 5 3 4 3 5 3 4 4 5-1 4 3 5 2 4 3 5 2 4 2 5 1M1482 513l5 2 4-1 5 2 4 0 5 2 4-1 5 1 4 2 5 2 4 2 5 1 4 2 5 0 4-1 5 2 4 2 5 0 4 1 5 0 4 5 5 2 4-1 5 1 4 2 5 0 4 2 5 1 4-1 5-2 4 0" stroke="#EDB120"/></g>
<g clip-path="url(#clipB)"><path d="M1250 381L1299.6 400L1339.3 412L1365.9 425L1365.9 440L1339.3 429L1312.8 418.3L1286.3 413L1259.8 395.8Z" fill="#000" filter="url(#spB35)"/><path d="M1233.7 381.5L1259.8 395.8L1286.3 413L1312.8 418.3L1339.3 429L1365.9 438L1392.4 443L1418.9 445L1433 444L1446 441L1459.2 441.5L1485.1 457L1511 470L1537 482.9L1557.7 490.7L1575.8 501.1L1594 514L1604.4 521.8L1604.4 523.1L1590 534L1575 530L1557.7 527L1537 524.4L1511 521.8L1485.1 519.2L1459.2 516.6L1433.3 516.6L1420.3 514L1402.2 508.8L1381.4 501.1L1368.5 493.3L1355.5 482.9L1346 475L1332.7 466L1319.5 457L1306.2 450.2L1292.9 439.6L1279.7 430.3L1266.4 419.7L1253.2 410.4L1239.9 397.1L1234.6 386.5ZM1359.2 395.8L1372.5 397.1L1392.4 403.8L1412.3 410.4L1432.2 415.7L1446.2 431.1L1459.2 438.9L1440 437L1418.9 429L1399 421L1379.1 415.7L1365.9 410.4L1359.2 402.4Z" fill="#000" stroke="#000" stroke-width="7" stroke-linejoin="round" filter="url(#spB50)"/><path d="M1359.2 395.8L1372.5 397.1L1392.4 403.8L1412.3 410.4L1432.2 415.7L1446.2 431.1L1459.2 438.9L1440 437L1418.9 429L1399 421L1379.1 415.7L1365.9 410.4L1359.2 402.4Z" fill="#000" filter="url(#spA75)"/><path d="M1233.7 381.5L1259.8 395.8L1286.3 413L1312.8 418.3L1339.3 429L1365.9 438L1392.4 443L1418.9 445L1433 444L1446 441L1459.2 441.5L1485.1 457L1511 470L1537 482.9L1557.7 490.7L1575.8 501.1L1594 514L1604.4 521.8L1604.4 523.1L1590 534L1575 530L1557.7 527L1537 524.4L1511 521.8L1485.1 519.2L1459.2 516.6L1433.3 516.6L1420.3 514L1402.2 508.8L1381.4 501.1L1368.5 493.3L1355.5 482.9L1346 475L1332.7 466L1319.5 457L1306.2 450.2L1292.9 439.6L1279.7 430.3L1266.4 419.7L1253.2 410.4L1239.9 397.1L1234.6 386.5Z" fill="#000"/></g>
<rect x="175.2" y="52.8" width="599.8" height="494.7" fill="none" stroke="#c2c2c2" stroke-width="1.5"/><path d="M328.4 547.5v-6.0M328.4 52.8v6.0M540.5 547.5v-6.0M540.5 52.8v6.0M752.6 547.5v-6.0M752.6 52.8v6.0M175.2 135.6h6.0M775.0 135.6h-6.0M175.2 218.1h6.0M775.0 218.1h-6.0M175.2 300.6h6.0M775.0 300.6h-6.0M175.2 383.1h6.0M775.0 383.1h-6.0M175.2 465.6h6.0M775.0 465.6h-6.0" stroke="#c2c2c2" stroke-width="1.3"/>
<rect x="972.6" y="54.8" width="650.9" height="486.7" fill="none" stroke="#c2c2c2" stroke-width="1.5"/><path d="M1140.3 541.5v-6.0M1140.3 54.8v6.0M1370.5 541.5v-6.0M1370.5 54.8v6.0M1600.7 541.5v-6.0M1600.7 54.8v6.0M972.6 115.3h6.0M1623.5 115.3h-6.0M972.6 191.6h6.0M1623.5 191.6h-6.0M972.6 267.9h6.0M1623.5 267.9h-6.0M972.6 344.2h6.0M1623.5 344.2h-6.0M972.6 420.5h6.0M1623.5 420.5h-6.0M972.6 496.8h6.0M1623.5 496.8h-6.0" stroke="#c2c2c2" stroke-width="1.3"/>
<rect x="176.4" y="716.6" width="604.6" height="490.6" fill="none" stroke="#c2c2c2" stroke-width="1.5"/><path d="M327.7 1207.2v-6.0M327.7 716.6v6.0M478.8 1207.2v-6.0M478.8 716.6v6.0M629.9 1207.2v-6.0M629.9 716.6v6.0M176.4 798.5h6.0M781.0 798.5h-6.0M176.4 880.3h6.0M781.0 880.3h-6.0M176.4 962.0h6.0M781.0 962.0h-6.0M176.4 1043.8h6.0M781.0 1043.8h-6.0M176.4 1125.5h6.0M781.0 1125.5h-6.0" stroke="#c2c2c2" stroke-width="1.3"/>
<rect x="979.5" y="711.9" width="646.5" height="495.7" fill="none" stroke="#c2c2c2" stroke-width="1.5"/><path d="M1073.8 1207.6v-6.0M1073.8 711.9v6.0M1262.3 1207.6v-6.0M1262.3 711.9v6.0M1450.8 1207.6v-6.0M1450.8 711.9v6.0M979.5 722.5h6.0M1626.0 722.5h-6.0M979.5 801.3h6.0M1626.0 801.3h-6.0M979.5 880.1h6.0M1626.0 880.1h-6.0M979.5 958.9h6.0M1626.0 958.9h-6.0M979.5 1037.7h6.0M1626.0 1037.7h-6.0M979.5 1116.5h6.0M1626.0 1116.5h-6.0M979.5 1195.3h6.0M1626.0 1195.3h-6.0" stroke="#c2c2c2" stroke-width="1.3"/>
<g clip-path="url(#clipC)"><path d="M493.9 717V726M508.2 727V752M524.2 753V766M539.6 767V791M554.2 792V816M569.4 817V835M585.4 836V859M599.8 860V909M614.8 910V912M600 913V913M615.1 914V951M630.1 952V954M630.2 956V1032M645.1 1033V1124M660 1125V1160M645.9 1161V1164M660.4 1165V1206" stroke="#000" stroke-width="6.2" stroke-linecap="round" fill="none"/><path d="M493.9 717V726M508.2 727V752M524.2 753V766M539.6 767V791M554.2 792V816M569.4 817V835M585.4 836V859M599.8 860V909M614.8 910V912M600 913V913M615.1 914V951M630.1 952V954M630.2 956V1032M645.1 1033V1124M660 1125V1160M645.9 1161V1164M660.4 1165V1206" stroke="#0000d0" stroke-width="4.4" stroke-linecap="round" fill="none"/><path d="M266.7 719V719M282.2 720V726M297.4 727V734M312.8 735V742M327.2 743V750M342.6 751V761M358.2 762V769M373.1 770V779M387.4 780V790M403 791V798M418.5 799V806M433.2 807V817M448.9 818V818M434.4 819V819M448.8 820V832M463.6 833V847M478.9 848V860M478.6 862V862M493.7 863V881M508.6 882V901M524.1 902V927M554.3 972V1023M569.1 1024V1064M584.8 1065V1091.9M584.8 1097.9V1137M600 1138V1195M615.2 1196V1201M599.8 1202V1202" stroke="#000" stroke-width="6.2" stroke-linecap="round" fill="none"/><path d="M266.7 719V719M282.2 720V726M297.4 727V734M312.8 735V742M327.2 743V750M342.6 751V761M358.2 762V769M373.1 770V779M387.4 780V790M403 791V798M418.5 799V806M433.2 807V817M448.9 818V818M434.4 819V819M448.8 820V832M463.6 833V847M478.9 848V860M478.6 862V862M493.7 863V881M508.6 882V901M524.1 902V927M554.3 972V1023M569.1 1024V1064M584.8 1065V1091.9M584.8 1097.9V1137M600 1138V1195M615.2 1196V1201M599.8 1202V1202" stroke="#0055ff" stroke-width="4.4" stroke-linecap="round" fill="none"/><path d="M448.8 718V723M463.9 724V736M478.5 737V747M493 748V762M509.2 763V780M524 781V817M539.6 818V823.4M539.6 829.4V836M554.3 837V856M569.4 857V897M584.7 898V932M599.3 933V933M584.4 934V946M599.6 947V954M584.9 955V955M599.7 956V957M584.6 958V958M599.6 959V1008M615.1 1009V1030M599.8 1031V1031M615.2 1032V1034M599.9 1035V1036M614.2 1037V1041M600.3 1042V1050M615.1 1051V1116M629.8 1117V1206" stroke="#000" stroke-width="6.2" stroke-linecap="round" fill="none"/><path d="M448.8 718V723M463.9 724V736M478.5 737V747M493 748V762M509.2 763V780M524 781V817M539.6 818V823.4M539.6 829.4V836M554.3 837V856M569.4 857V897M584.7 898V932M599.3 933V933M584.4 934V946M599.6 947V954M584.9 955V955M599.7 956V957M584.6 958V958M599.6 959V1008M615.1 1009V1030M599.8 1031V1031M615.2 1032V1034M599.9 1035V1036M614.2 1037V1041M600.3 1042V1050M615.1 1051V1116M629.8 1117V1206" stroke="#00aaff" stroke-width="4.4" stroke-linecap="round" fill="none"/><path d="M433.7 717V727M449.1 728V743M463.6 744V769M478.9 770V787M494.1 788V817M524.1 839V839M508.9 840V840M524.5 841V841M524.5 845.2V884M539.2 885V919M539.2 921V921M554.5 922V922M538.8 923V926M554.5 927V927M539.3 928V930M554.8 931V976M569.5 977V1029M584.5 1030V1096M599.4 1097V1133M585.1 1134V1156M600 1157V1179.8M600 1185.8V1206" stroke="#000" stroke-width="6.2" stroke-linecap="round" fill="none"/><path d="M433.7 717V727M449.1 728V743M463.6 744V769M478.9 770V787M494.1 788V817M524.1 839V839M508.9 840V840M524.5 841V841M524.5 845.2V884M539.2 885V919M539.2 921V921M554.5 922V922M538.8 923V926M554.5 927V927M539.3 928V930M554.8 931V976M569.5 977V1029M584.5 1030V1096M599.4 1097V1133M585.1 1134V1156M600 1157V1179.8M600 1185.8V1206" stroke="#00ffff" stroke-width="4.4" stroke-linecap="round" fill="none"/><path d="M508.7 715V722M524.2 723V741M539.2 742V768M554 769V798M569.6 799V799M554.5 800V800M569.8 801V820M584.4 821V863M599.6 864V869M584.6 870V876M600.1 877V941M614.7 942V1003M630.4 1004V1045M645.1 1046V1049M629.8 1050V1059M645.4 1060V1071M629.8 1072V1073M644.9 1074V1083M630.3 1084V1099M645.3 1100V1165M660.2 1166V1167M645 1168V1178M660.5 1179V1187.5M660.5 1193.5V1206" stroke="#000" stroke-width="6.2" stroke-linecap="round" fill="none"/><path d="M508.7 715V722M524.2 723V741M539.2 742V768M554 769V798M569.6 799V799M554.5 800V800M569.8 801V820M584.4 821V863M599.6 864V869M584.6 870V876M600.1 877V941M614.7 942V1003M630.4 1004V1045M645.1 1046V1049M629.8 1050V1059M645.4 1060V1071M629.8 1072V1073M644.9 1074V1083M630.3 1084V1099M645.3 1100V1165M660.2 1166V1167M645 1168V1178M660.5 1179V1187.5M660.5 1193.5V1206" stroke="#55ffaa" stroke-width="4.4" stroke-linecap="round" fill="none"/><path d="M463.6 716V720M478.6 721V724M493.8 725V728M508.9 729V733M523.8 734V738M539.3 739V747M554.3 748V756M569.2 757V766M584.9 767V778M599.3 779V779.8M599.3 785.8V790M614.7 791V803M630.2 804V815M659.8 842V856M675.4 857V874.9M675.4 880.9V888M690.5 889V889M675.4 890V890M690.1 891V892M675.8 893V893M690.1 894V925M705.5 926V976M720.6 977V982M705.1 983V988M720.7 989V1031M736.3 1032V1058M720.8 1059V1059M736 1060V1084M751.2 1085V1087M735.8 1088V1088M765.8 1139V1139M750.8 1140V1143M765.6 1144V1206" stroke="#000" stroke-width="6.2" stroke-linecap="round" fill="none"/><path d="M463.6 716V720M478.6 721V724M493.8 725V728M508.9 729V733M523.8 734V738M539.3 739V747M554.3 748V756M569.2 757V766M584.9 767V778M599.3 779V779.8M599.3 785.8V790M614.7 791V803M630.2 804V815M659.8 842V856M675.4 857V874.9M675.4 880.9V888M690.5 889V889M675.4 890V890M690.1 891V892M675.8 893V893M690.1 894V925M705.5 926V976M720.6 977V982M705.1 983V988M720.7 989V1031M736.3 1032V1058M720.8 1059V1059M736 1060V1084M751.2 1085V1087M735.8 1088V1088M765.8 1139V1139M750.8 1140V1143M765.6 1144V1206" stroke="#aaff55" stroke-width="4.4" stroke-linecap="round" fill="none"/><path d="M267.1 717V718M282.2 719V726M297.2 727V733M312.4 734V742M327.7 743V748M343.1 749V755M358.5 756V765M373.4 766V776M388.5 777V788M403.3 789V809M418.3 810V811M402.8 812V813M417.8 814V830M433.6 831V831M418.2 832V832M433.2 833V847M448.3 848V853.8M448.3 859.8V871M463.2 872V885M479.1 886V886M463.7 887V887M479 888V888M463.8 889V892M479 893V915M493.5 916V956M508.8 957V957M494.3 958V958M509.4 959V963M494 964V964M508.6 965V1014M524.2 1015V1059M539.2 1060V1125M554.7 1126V1184M569 1185V1194M554.6 1195V1200M569.3 1201V1206" stroke="#000" stroke-width="6.2" stroke-linecap="round" fill="none"/><path d="M267.1 717V718M282.2 719V726M297.2 727V733M312.4 734V742M327.7 743V748M343.1 749V755M358.5 756V765M373.4 766V776M388.5 777V788M403.3 789V809M418.3 810V811M402.8 812V813M417.8 814V830M433.6 831V831M418.2 832V832M433.2 833V847M448.3 848V853.8M448.3 859.8V871M463.2 872V885M479.1 886V886M463.7 887V887M479 888V888M463.8 889V892M479 893V915M493.5 916V956M508.8 957V957M494.3 958V958M509.4 959V963M494 964V964M508.6 965V1014M524.2 1015V1059M539.2 1060V1125M554.7 1126V1184M569 1185V1194M554.6 1195V1200M569.3 1201V1206" stroke="#ffff00" stroke-width="4.4" stroke-linecap="round" fill="none"/><path d="M524.5 716V720M539.1 721V729.9M539.1 735V735M554.3 736V744.6M554.3 750V750M569.3 751V757.1M569.3 762V762M584.7 763V774M599.9 775V790M614.8 791V791M614.8 795.5V812M629.8 813V835M645.5 836V872M676 914V914M660.4 915V915M675 916V916M660.1 917V926M675.2 927V929M660.3 930V930M675.2 931V959M690.1 960V960M675.8 961V961M691.2 962V978.9M691.2 984.9V1003M705 1004V1064M720.4 1065V1127M735.8 1128V1130M720.8 1131V1132M736.4 1133V1141M720.8 1142V1147M735.8 1148V1149M721 1150V1150M735.7 1151V1151M735.7 1156.5V1167M750.6 1168V1182M735.8 1183V1188.5M735.8 1194.5V1202" stroke="#000" stroke-width="6.2" stroke-linecap="round" fill="none"/><path d="M524.5 716V720M539.1 721V729.9M539.1 735V735M554.3 736V744.6M554.3 750V750M569.3 751V757.1M569.3 762V762M584.7 763V774M599.9 775V790M614.8 791V791M614.8 795.5V812M629.8 813V835M645.5 836V872M676 914V914M660.4 915V915M675 916V916M660.1 917V926M675.2 927V929M660.3 930V930M675.2 931V959M690.1 960V960M675.8 961V961M691.2 962V978.9M691.2 984.9V1003M705 1004V1064M720.4 1065V1127M735.8 1128V1130M720.8 1131V1132M736.4 1133V1141M720.8 1142V1147M735.8 1148V1149M721 1150V1150M735.7 1151V1151M735.7 1156.5V1167M750.6 1168V1182M735.8 1183V1188.5M735.8 1194.5V1202" stroke="#ffaa00" stroke-width="4.4" stroke-linecap="round" fill="none"/><path d="M524.1 716V731M539.3 732V732M524.2 733V733M539 734V758M553.6 759V773M569.2 774V796M584.6 797V839M599 840V873M614.8 874V900M630.4 901V904.4M630.4 910.4V913M615 914V914M630.1 915V915M614.6 916V935M630.1 936V966M644.7 967V970M630.2 971V973M645.4 974V976M629.6 977V982M644.6 983V1009M660.1 1010V1010M645.2 1011V1012M660.6 1013V1014M645.1 1015V1037M660.4 1038V1038M645.4 1039V1039M660.5 1040V1091M675.6 1092V1092M660.4 1093V1097M675.4 1098V1102M660.2 1103V1107M675.8 1108V1108M660.2 1109V1120M675.2 1121V1121M660.6 1122V1126M675.4 1127V1206" stroke="#000" stroke-width="6.2" stroke-linecap="round" fill="none"/><path d="M524.1 716V731M539.3 732V732M524.2 733V733M539 734V758M553.6 759V773M569.2 774V796M584.6 797V839M599 840V873M614.8 874V900M630.4 901V904.4M630.4 910.4V913M615 914V914M630.1 915V915M614.6 916V935M630.1 936V966M644.7 967V970M630.2 971V973M645.4 974V976M629.6 977V982M644.6 983V1009M660.1 1010V1010M645.2 1011V1012M660.6 1013V1014M645.1 1015V1037M660.4 1038V1038M645.4 1039V1039M660.5 1040V1091M675.6 1092V1092M660.4 1093V1097M675.4 1098V1102M660.2 1103V1107M675.8 1108V1108M660.2 1109V1120M675.2 1121V1121M660.6 1122V1126M675.4 1127V1206" stroke="#ff5500" stroke-width="4.4" stroke-linecap="round" fill="none"/><path d="M508.7 716V734M524.4 735V736M509.3 737V737M524.7 738V760M539.2 761V792M554.8 793V815M569.7 816V874M584.6 875V922M599.3 923V1000M614.8 1001V1023M600.1 1024V1028M614.5 1029V1029M600.5 1030V1030M614.3 1031V1117M629.8 1118V1167M644.5 1168V1168M629.8 1169V1170M644.6 1171V1171M630.3 1172V1175M644.9 1176V1180M629.8 1181V1194M644.9 1195V1196M630.1 1197V1197M645.3 1198V1200M630.2 1201V1201M645.3 1202V1206" stroke="#000" stroke-width="6.2" stroke-linecap="round" fill="none"/><path d="M508.7 716V734M524.4 735V736M509.3 737V737M524.7 738V760M539.2 761V792M554.8 793V815M569.7 816V874M584.6 875V922M599.3 923V1000M614.8 1001V1023M600.1 1024V1028M614.5 1029V1029M600.5 1030V1030M614.3 1031V1117M629.8 1118V1167M644.5 1168V1168M629.8 1169V1170M644.6 1171V1171M630.3 1172V1175M644.9 1176V1180M629.8 1181V1194M644.9 1195V1196M630.1 1197V1197M645.3 1198V1200M630.2 1201V1201M645.3 1202V1206" stroke="#ff0000" stroke-width="4.4" stroke-linecap="round" fill="none"/><path d="M251.8 717V717M266.8 718V722M282.2 723V730M297 731V735M312 736V740M327 741V745M342.9 746V752M373.2 760V768M387.7 769V777M417.7 788V795M433.3 796V806M448.8 807V823M463.5 824V832M478.7 833V843M494.2 844V852M508.9 853V865M524.2 866V892M539.4 893V910M554.4 911V944M569.1 945V999M584.6 1000V1016M569.3 1017V1018M584.8 1019V1023M569.8 1024V1025M584.5 1026V1047M599.8 1048V1050M584.4 1051V1069M599.6 1070V1107M615 1108V1108M599.7 1109V1109M615.3 1110V1138M630 1139V1143M614.7 1144V1144M630.1 1145V1148M614.5 1149V1173M630.5 1174V1206" stroke="#000" stroke-width="6.2" stroke-linecap="round" fill="none"/><path d="M251.8 717V717M266.8 718V722M282.2 723V730M297 731V735M312 736V740M327 741V745M342.9 746V752M373.2 760V768M387.7 769V777M417.7 788V795M433.3 796V806M448.8 807V823M463.5 824V832M478.7 833V843M494.2 844V852M508.9 853V865M524.2 866V892M539.4 893V910M554.4 911V944M569.1 945V999M584.6 1000V1016M569.3 1017V1018M584.8 1019V1023M569.8 1024V1025M584.5 1026V1047M599.8 1048V1050M584.4 1051V1069M599.6 1070V1107M615 1108V1108M599.7 1109V1109M615.3 1110V1138M630 1139V1143M614.7 1144V1144M630.1 1145V1148M614.5 1149V1173M630.5 1174V1206" stroke="#aa0000" stroke-width="4.4" stroke-linecap="round" fill="none"/><path d="M491 717l2.3 2.6 3.1 3.5 3.8 4.2 3.8 4.5 3.6 4.3 3.4 4.1 3.3 4.3 3.4 4.3 3.3 4.4 3.3 4.5 3.3 4.5 3.2 4.6 3.2 4.7 3.2 4.6 3 4.5 3 4.3 2.9 4.3 2.8 4.2 2.8 4.2 2.6 4 2.6 3.9 2.4 3.8 2.4 3.7 2.3 3.8 2.3 3.8 2.3 3.9 2.3 4 2.2 3.9 2.2 4.2 2.3 4.3 2.4 4.5 2.3 4.7 2.4 4.8 2.3 5 2.4 5 2.3 5.1 2.3 5.2 2.3 5.4 2.3 5.3 2.2 5.5 2.1 5.4 2 5.5 2 5.5 1.9 5.7 2 5.7 1.8 5.9 1.8 6 1.7 6.1 1.8 6.2 1.7 6.4 1.6 6.4 1.7 6.6 1.6 6.7 1.6 6.9 1.7 7.2 1.6 7.3 1.7 7.6 1.6 7.8 1.7 8.2 1.8 8.7 1.8 9.3 1.9 9.7 1.9 10.1 1.9 10.7 2 11.1 2 11.7 2 12.2 2 12.7 2 13 1.9 13.2 2.1 14.7 2.2 16.2 2.1 15.9 1.7 13.7 1.3 9.6" stroke="#000" stroke-width="5.6" fill="none" stroke-linejoin="round"/><path d="M491 717l2.3 2.6 3.1 3.5 3.8 4.2 3.8 4.5 3.6 4.3 3.4 4.1 3.3 4.3 3.4 4.3 3.3 4.4 3.3 4.5 3.3 4.5 3.2 4.6 3.2 4.7 3.2 4.6 3 4.5 3 4.3 2.9 4.3 2.8 4.2 2.8 4.2 2.6 4 2.6 3.9 2.4 3.8 2.4 3.7 2.3 3.8 2.3 3.8 2.3 3.9 2.3 4 2.2 3.9 2.2 4.2 2.3 4.3 2.4 4.5 2.3 4.7 2.4 4.8 2.3 5 2.4 5 2.3 5.1 2.3 5.2 2.3 5.4 2.3 5.3 2.2 5.5 2.1 5.4 2 5.5 2 5.5 1.9 5.7 2 5.7 1.8 5.9 1.8 6 1.7 6.1 1.8 6.2 1.7 6.4 1.6 6.4 1.7 6.6 1.6 6.7 1.6 6.9 1.7 7.2 1.6 7.3 1.7 7.6 1.6 7.8 1.7 8.2 1.8 8.7 1.8 9.3 1.9 9.7 1.9 10.1 1.9 10.7 2 11.1 2 11.7 2 12.2 2 12.7 2 13 1.9 13.2 2.1 14.7 2.2 16.2 2.1 15.9 1.7 13.7 1.3 9.6" stroke="#0000d0" stroke-width="3.8" fill="none" stroke-linejoin="round"/><path d="M278 719l3.1 1.8 4.4 2.4 5.2 3 5.4 3 5.3 3 5 3 5.1 3 5.3 3.2 5.3 3.1 5.5 3.3 5.5 3.2 5.6 3.4 5.8 3.3 5.7 3.4 5.8 3.4 5.8 3.3 5.8 3.3 5.8 3.3 5.8 3.3 5.8 3.4 5.8 3.4 5.8 3.4 5.8 3.5 5.8 3.6 5.7 3.6 5.6 3.8 5.7 3.9 5.6 4 5.5 4.1 5.3 4.2 5.3 4.3 5.1 4.4 5 4.5 4.9 4.5 4.9 4.6 4.7 4.7 4.6 4.8 4.5 4.9 4.5 4.9 4.4 5.1 4.3 5.2 4.3 5.3 4.3 5.5 4 5.5 4 5.8 3.7 5.8 3.6 5.9 3.5 6.1 3.4 6.4 3.3 6.8 3.2 7 3 7.3 3 7.6 3 8.1 3.1 8.6 3.2 9.1 3.3 9.7 3.3 10.1 3.4 10.5 3.5 10.8 3.5 11.2 3.7 11.6 3.7 11.9 3.6 12.2 3.6 12.4 3.5 12.6 3.4 12.8 3.4 13.1 3.3 13.3 3.2 13.4 3.4 14.9 3.5 16.2 3.4 15.8 2.9 13.6 2 9.6" stroke="#000" stroke-width="5.6" fill="none" stroke-linejoin="round"/><path d="M278 719l3.1 1.8 4.4 2.4 5.2 3 5.4 3 5.3 3 5 3 5.1 3 5.3 3.2 5.3 3.1 5.5 3.3 5.5 3.2 5.6 3.4 5.8 3.3 5.7 3.4 5.8 3.4 5.8 3.3 5.8 3.3 5.8 3.3 5.8 3.3 5.8 3.4 5.8 3.4 5.8 3.4 5.8 3.5 5.8 3.6 5.7 3.6 5.6 3.8 5.7 3.9 5.6 4 5.5 4.1 5.3 4.2 5.3 4.3 5.1 4.4 5 4.5 4.9 4.5 4.9 4.6 4.7 4.7 4.6 4.8 4.5 4.9 4.5 4.9 4.4 5.1 4.3 5.2 4.3 5.3 4.3 5.5 4 5.5 4 5.8 3.7 5.8 3.6 5.9 3.5 6.1 3.4 6.4 3.3 6.8 3.2 7 3 7.3 3 7.6 3 8.1 3.1 8.6 3.2 9.1 3.3 9.7 3.3 10.1 3.4 10.5 3.5 10.8 3.5 11.2 3.7 11.6 3.7 11.9 3.6 12.2 3.6 12.4 3.5 12.6 3.4 12.8 3.4 13.1 3.3 13.3 3.2 13.4 3.4 14.9 3.5 16.2 3.4 15.8 2.9 13.6 2 9.6" stroke="#0055ff" stroke-width="3.8" fill="none" stroke-linejoin="round"/><path d="M457 718l2.5 2.4 3.6 3.4 4.1 4 4.3 4.1 3.8 3.8 3.5 3.5 3.4 3.5 3.4 3.5 3.3 3.5 3.2 3.5 3.1 3.5 3.1 3.4 2.9 3.5 3 3.5 2.9 3.5 2.8 3.6 2.8 3.6 2.8 3.6 2.8 3.7 2.7 3.8 2.7 3.8 2.8 4 2.7 4 2.7 4.1 2.6 4.2 2.6 4.2 2.5 4.4 2.5 4.4 2.5 4.5 2.4 4.6 2.3 4.6 2.3 4.8 2.3 4.8 2.2 5.1 2.3 5.2 2.3 5.4 2.2 5.5 2.3 5.7 2.3 5.9 2.3 6.2 2.4 6.4 2.4 6.6 2.4 6.7 2.4 7.1 2.4 7.5 2.3 7.7 2.4 8 2.3 8.3 2.4 8.7 2.3 9.1 2.3 9.6 2.3 10 2.2 10.4 2.3 10.7 2.2 11 2.1 11.3 2.1 11.7 2.1 12 2 12.2 2 12.4 2 12.6 1.8 12.8 1.9 13.1 1.8 13.3 1.8 13.4 1.9 14.9 2 16.2 1.9 15.8 1.6 13.6 1.2 9.6" stroke="#000" stroke-width="5.6" fill="none" stroke-linejoin="round"/><path d="M457 718l2.5 2.4 3.6 3.4 4.1 4 4.3 4.1 3.8 3.8 3.5 3.5 3.4 3.5 3.4 3.5 3.3 3.5 3.2 3.5 3.1 3.5 3.1 3.4 2.9 3.5 3 3.5 2.9 3.5 2.8 3.6 2.8 3.6 2.8 3.6 2.8 3.7 2.7 3.8 2.7 3.8 2.8 4 2.7 4 2.7 4.1 2.6 4.2 2.6 4.2 2.5 4.4 2.5 4.4 2.5 4.5 2.4 4.6 2.3 4.6 2.3 4.8 2.3 4.8 2.2 5.1 2.3 5.2 2.3 5.4 2.2 5.5 2.3 5.7 2.3 5.9 2.3 6.2 2.4 6.4 2.4 6.6 2.4 6.7 2.4 7.1 2.4 7.5 2.3 7.7 2.4 8 2.3 8.3 2.4 8.7 2.3 9.1 2.3 9.6 2.3 10 2.2 10.4 2.3 10.7 2.2 11 2.1 11.3 2.1 11.7 2.1 12 2 12.2 2 12.4 2 12.6 1.8 12.8 1.9 13.1 1.8 13.3 1.8 13.4 1.9 14.9 2 16.2 1.9 15.8 1.6 13.6 1.2 9.6" stroke="#00aaff" stroke-width="3.8" fill="none" stroke-linejoin="round"/><path d="M429 717l2.8 2.9 3.9 4.1 4.6 4.8 4.7 5 4.4 4.9 4 4.7 4 4.7 3.9 5 4 5 3.8 5.1 3.8 5.4 3.8 5.5 3.8 5.6 3.6 5.7 3.7 5.7 3.5 5.7 3.5 5.8 3.5 5.8 3.4 5.9 3.3 5.9 3.3 6 3.2 5.9 3.1 6 3 6.1 3 6.2 2.9 6.3 2.9 6.5 2.8 6.6 2.7 6.7 2.6 6.8 2.5 7 2.5 7.1 2.4 7.2 2.3 7.4 2.3 7.7 2.3 7.8 2.1 8.1 2.2 8.2 2.2 8.6 2.2 9 2.3 9.5 2.3 9.8 2.4 10.3 2.4 10.5 2.3 10.9 2.5 11.2 2.5 11.6 2.5 11.9 2.4 12.2 2.5 12.4 2.3 12.6 2.4 12.8 2.3 13.1 2.3 13.3 2.2 13.4 2.4 14.9 2.5 16.2 2.5 15.8 2 13.6 1.5 9.6" stroke="#000" stroke-width="5.6" fill="none" stroke-linejoin="round"/><path d="M429 717l2.8 2.9 3.9 4.1 4.6 4.8 4.7 5 4.4 4.9 4 4.7 4 4.7 3.9 5 4 5 3.8 5.1 3.8 5.4 3.8 5.5 3.8 5.6 3.6 5.7 3.7 5.7 3.5 5.7 3.5 5.8 3.5 5.8 3.4 5.9 3.3 5.9 3.3 6 3.2 5.9 3.1 6 3 6.1 3 6.2 2.9 6.3 2.9 6.5 2.8 6.6 2.7 6.7 2.6 6.8 2.5 7 2.5 7.1 2.4 7.2 2.3 7.4 2.3 7.7 2.3 7.8 2.1 8.1 2.2 8.2 2.2 8.6 2.2 9 2.3 9.5 2.3 9.8 2.4 10.3 2.4 10.5 2.3 10.9 2.5 11.2 2.5 11.6 2.5 11.9 2.4 12.2 2.5 12.4 2.3 12.6 2.4 12.8 2.3 13.1 2.3 13.3 2.2 13.4 2.4 14.9 2.5 16.2 2.5 15.8 2 13.6 1.5 9.6" stroke="#00ffff" stroke-width="3.8" fill="none" stroke-linejoin="round"/><path d="M509 715l1.7 2.3 2.4 3.1 2.9 3.7 2.9 3.9 2.8 3.6 2.6 3.4 2.6 3.5 2.6 3.4 2.6 3.5 2.5 3.4 2.6 3.4 2.5 3.4 2.5 3.5 2.5 3.4 2.4 3.5 2.4 3.5 2.3 3.5 2.2 3.5 2.3 3.7 2.1 3.8 2.2 4 2 4.1 2.1 4.3 2 4.5 2 4.7 2 5 2 5.2 1.9 5.4 2 5.6 2 5.7 2 5.9 2 6 2 6.2 2 6.3 2 6.2 2 6.2 2 6.3 2 6.3 2 6.3 2 6.3 1.9 6.2 1.9 6.2 1.9 6.1 1.9 6.4 1.9 6.7 1.9 7 1.9 7 1.9 7.4 1.9 7.7 2 8.4 2 8.9 2.1 9.4 2.1 9.9 2.1 10.2 2.2 10.7 2.2 11.1 2.2 11.5 2.3 11.9 2.2 12.1 2.2 12.4 2.2 12.6 2.2 12.8 2.1 13.1 2.1 13.3 2.1 13.4 2.2 14.9 2.3 16.2 2.3 15.8 1.9 13.6 1.3 9.6" stroke="#000" stroke-width="5.6" fill="none" stroke-linejoin="round"/><path d="M509 715l1.7 2.3 2.4 3.1 2.9 3.7 2.9 3.9 2.8 3.6 2.6 3.4 2.6 3.5 2.6 3.4 2.6 3.5 2.5 3.4 2.6 3.4 2.5 3.4 2.5 3.5 2.5 3.4 2.4 3.5 2.4 3.5 2.3 3.5 2.2 3.5 2.3 3.7 2.1 3.8 2.2 4 2 4.1 2.1 4.3 2 4.5 2 4.7 2 5 2 5.2 1.9 5.4 2 5.6 2 5.7 2 5.9 2 6 2 6.2 2 6.3 2 6.2 2 6.2 2 6.3 2 6.3 2 6.3 2 6.3 1.9 6.2 1.9 6.2 1.9 6.1 1.9 6.4 1.9 6.7 1.9 7 1.9 7 1.9 7.4 1.9 7.7 2 8.4 2 8.9 2.1 9.4 2.1 9.9 2.1 10.2 2.2 10.7 2.2 11.1 2.2 11.5 2.3 11.9 2.2 12.1 2.2 12.4 2.2 12.6 2.2 12.8 2.1 13.1 2.1 13.3 2.1 13.4 2.2 14.9 2.3 16.2 2.3 15.8 1.9 13.6 1.3 9.6" stroke="#55ffaa" stroke-width="3.8" fill="none" stroke-linejoin="round"/><path d="M456 716l2.8 .9 4 1.3 4.6 1.5 4.6 1.4 4.2 1.3 3.6 1.1 3.5 1.1 3.3 1 3.3 .9 3.2 .9 3 .9 2.9 .8 2.9 .8 2.8 .8 3 .9 3 1 3 1 3.1 1 3.2 1.2 3.4 1.4 3.5 1.5 3.6 1.6 3.7 1.8 3.9 1.9 4 2.2 4.2 2.3 4.4 2.6 4.4 2.7 4.6 2.9 4.7 3 4.8 3.2 4.9 3.4 5 3.5 4.9 3.7 4.8 3.6 4.7 3.6 4.7 3.7 4.7 3.8 4.4 3.7 4.2 3.6 3.9 3.5 3.8 3.4 3.5 3.4 3.4 3.3 3.3 3.3 3.2 3.3 2.9 3.2 2.9 3.2 2.8 3.3 2.8 3.5 2.8 3.7 2.8 3.6 2.7 3.9 2.8 4 2.8 4.4 2.8 4.6 2.9 4.8 2.9 5.1 2.9 5.4 3 5.8 3.1 6.2 3.1 6.5 3.2 6.9 3.2 7.4 3.2 7.9 3.2 8.3 3.3 8.9 3.3 9.3 3.3 9.7 3.3 10.1 3.3 10.4 3.3 10.9 3.3 11.2 3.3 11.5 3.3 11.6 3.3 11.7 3.3 12 3.3 12.1 3.3 12.4 3.4 12.5 3.4 12.7 3.4 12.8 3.4 13.1 3.4 13.2 3.5 13.4 3.7 14.9 4 16.2 3.8 15.8 3.4 13.6 2.3 9.6" stroke="#000" stroke-width="5.6" fill="none" stroke-linejoin="round"/><path d="M456 716l2.8 .9 4 1.3 4.6 1.5 4.6 1.4 4.2 1.3 3.6 1.1 3.5 1.1 3.3 1 3.3 .9 3.2 .9 3 .9 2.9 .8 2.9 .8 2.8 .8 3 .9 3 1 3 1 3.1 1 3.2 1.2 3.4 1.4 3.5 1.5 3.6 1.6 3.7 1.8 3.9 1.9 4 2.2 4.2 2.3 4.4 2.6 4.4 2.7 4.6 2.9 4.7 3 4.8 3.2 4.9 3.4 5 3.5 4.9 3.7 4.8 3.6 4.7 3.6 4.7 3.7 4.7 3.8 4.4 3.7 4.2 3.6 3.9 3.5 3.8 3.4 3.5 3.4 3.4 3.3 3.3 3.3 3.2 3.3 2.9 3.2 2.9 3.2 2.8 3.3 2.8 3.5 2.8 3.7 2.8 3.6 2.7 3.9 2.8 4 2.8 4.4 2.8 4.6 2.9 4.8 2.9 5.1 2.9 5.4 3 5.8 3.1 6.2 3.1 6.5 3.2 6.9 3.2 7.4 3.2 7.9 3.2 8.3 3.3 8.9 3.3 9.3 3.3 9.7 3.3 10.1 3.3 10.4 3.3 10.9 3.3 11.2 3.3 11.5 3.3 11.6 3.3 11.7 3.3 12 3.3 12.1 3.3 12.4 3.4 12.5 3.4 12.7 3.4 12.8 3.4 13.1 3.4 13.2 3.5 13.4 3.7 14.9 4 16.2 3.8 15.8 3.4 13.6 2.3 9.6" stroke="#aaff55" stroke-width="3.8" fill="none" stroke-linejoin="round"/><path d="M273 717l3.6 2 5.1 2.7 5.9 3.2 6.1 3.3 5.8 3 5.4 2.8 5.5 2.7 5.5 2.7 5.5 2.7 5.4 2.7 5.3 2.6 5.3 2.5 5.3 2.6 5 2.6 4.9 2.6 4.7 2.7 4.5 2.6 4.3 2.8 4.1 2.8 4 2.8 3.7 3 3.5 3 3.4 3.2 3.2 3.1 3.2 3.3 3.2 3.3 3 3.4 2.9 3.4 3 3.6 3.1 3.7 3.2 3.8 3.2 3.9 3.3 4 3.4 4.3 3.6 4.4 3.7 4.7 3.8 4.9 3.9 5.1 4 5.2 4 5.4 4 5.6 4.1 5.8 4.1 5.9 4 5.9 3.8 5.8 3.6 5.8 3.6 5.8 3.4 5.7 3.2 5.7 2.9 5.3 2.8 5.2 2.5 4.9 2.3 4.8 2.2 4.6 2.1 4.7 1.9 4.4 1.7 4.3 1.7 4.2 1.6 4.4 1.8 4.7 1.7 5 1.7 5 1.8 5.3 1.9 5.7 2 6.3 2.1 6.9 2.3 7.4 2.4 7.8 2.5 8.4 2.6 8.9 2.6 9.6 2.8 10.1 2.9 10.6 2.9 11.2 2.9 11.4 2.9 12 2.9 12.4 2.9 12.9 2.9 13.1 2.9 13.3 3 14.8 3.1 16.2 3.1 15.8 2.6 13.7 1.8 9.6" stroke="#000" stroke-width="5.6" fill="none" stroke-linejoin="round"/><path d="M273 717l3.6 2 5.1 2.7 5.9 3.2 6.1 3.3 5.8 3 5.4 2.8 5.5 2.7 5.5 2.7 5.5 2.7 5.4 2.7 5.3 2.6 5.3 2.5 5.3 2.6 5 2.6 4.9 2.6 4.7 2.7 4.5 2.6 4.3 2.8 4.1 2.8 4 2.8 3.7 3 3.5 3 3.4 3.2 3.2 3.1 3.2 3.3 3.2 3.3 3 3.4 2.9 3.4 3 3.6 3.1 3.7 3.2 3.8 3.2 3.9 3.3 4 3.4 4.3 3.6 4.4 3.7 4.7 3.8 4.9 3.9 5.1 4 5.2 4 5.4 4 5.6 4.1 5.8 4.1 5.9 4 5.9 3.8 5.8 3.6 5.8 3.6 5.8 3.4 5.7 3.2 5.7 2.9 5.3 2.8 5.2 2.5 4.9 2.3 4.8 2.2 4.6 2.1 4.7 1.9 4.4 1.7 4.3 1.7 4.2 1.6 4.4 1.8 4.7 1.7 5 1.7 5 1.8 5.3 1.9 5.7 2 6.3 2.1 6.9 2.3 7.4 2.4 7.8 2.5 8.4 2.6 8.9 2.6 9.6 2.8 10.1 2.9 10.6 2.9 11.2 2.9 11.4 2.9 12 2.9 12.4 2.9 12.9 2.9 13.1 2.9 13.3 3 14.8 3.1 16.2 3.1 15.8 2.6 13.7 1.8 9.6" stroke="#ffff00" stroke-width="3.8" fill="none" stroke-linejoin="round"/><path d="M525 716l2.4 2.5 3.4 3.5 3.9 4.1 4.2 4.2 3.9 3.8 3.8 3.5 3.8 3.5 3.8 3.4 3.9 3.4 3.9 3.4 4 3.4 4 3.3 4 3.3 4 3.4 3.9 3.4 3.8 3.4 3.8 3.5 3.7 3.5 3.7 3.6 3.5 3.7 3.4 3.7 3.2 3.8 3.2 3.9 3 4 3 4.1 3 4.2 2.8 4.3 2.8 4.4 2.7 4.5 2.6 4.6 2.7 4.7 2.5 4.8 2.6 4.9 2.5 5 2.5 5.1 2.4 5.1 2.4 5.1 2.4 5.3 2.3 5.4 2.5 5.8 2.4 6 2.5 6.1 2.5 6.4 2.7 6.9 2.7 7.3 2.9 8 3 8.5 3 8.9 3.2 9.3 3.2 9.8 3.3 10.3 3.4 10.7 3.4 11.2 3.4 11.5 3.4 11.5 3.3 11.8 3.2 11.9 3.3 12.2 3.1 12.4 3 12.5 2.9 12.7 2.8 12.8 2.7 13.1 2.6 13.2 2.6 13.4 2.6 14.9 2.7 16.2 2.6 15.8 2.1 13.6 1.6 9.6" stroke="#000" stroke-width="5.6" fill="none" stroke-linejoin="round"/><path d="M525 716l2.4 2.5 3.4 3.5 3.9 4.1 4.2 4.2 3.9 3.8 3.8 3.5 3.8 3.5 3.8 3.4 3.9 3.4 3.9 3.4 4 3.4 4 3.3 4 3.3 4 3.4 3.9 3.4 3.8 3.4 3.8 3.5 3.7 3.5 3.7 3.6 3.5 3.7 3.4 3.7 3.2 3.8 3.2 3.9 3 4 3 4.1 3 4.2 2.8 4.3 2.8 4.4 2.7 4.5 2.6 4.6 2.7 4.7 2.5 4.8 2.6 4.9 2.5 5 2.5 5.1 2.4 5.1 2.4 5.1 2.4 5.3 2.3 5.4 2.5 5.8 2.4 6 2.5 6.1 2.5 6.4 2.7 6.9 2.7 7.3 2.9 8 3 8.5 3 8.9 3.2 9.3 3.2 9.8 3.3 10.3 3.4 10.7 3.4 11.2 3.4 11.5 3.4 11.5 3.3 11.8 3.2 11.9 3.3 12.2 3.1 12.4 3 12.5 2.9 12.7 2.8 12.8 2.7 13.1 2.6 13.2 2.6 13.4 2.6 14.9 2.7 16.2 2.6 15.8 2.1 13.6 1.6 9.6" stroke="#ffaa00" stroke-width="3.8" fill="none" stroke-linejoin="round"/><path d="M518 716l2.1 2.8 3.1 3.9 3.5 4.5 3.6 4.6 3.3 4.3 3 3.9 2.9 3.8 2.9 3.7 2.9 3.8 2.8 3.8 2.8 3.9 2.8 3.8 2.8 3.9 2.7 4 2.8 4.1 2.8 4.3 2.7 4.4 2.7 4.6 2.8 4.7 2.7 4.8 2.7 4.9 2.8 5.1 2.7 5.2 2.7 5.3 2.7 5.3 2.7 5.3 2.7 5.4 2.7 5.5 2.7 5.5 2.6 5.5 2.5 5.4 2.5 5.5 2.5 5.5 2.3 5.6 2.4 6 2.2 6.1 2.2 6.2 2.1 6.4 2.1 6.9 2.1 7.4 2.2 8 2.1 8.4 2.1 8.9 2.2 9.3 2.2 9.7 2.2 10.3 2.3 10.7 2.3 11.2 2.4 11.4 2.3 11.5 2.3 11.7 2.3 12 2.3 12.1 2.3 12.4 2.3 12.5 2.3 12.7 2.3 12.8 2.2 13.1 2.3 13.2 2.3 13.4 2.4 14.9 2.6 16.2 2.5 15.8 2.2 13.6 1.5 9.6" stroke="#000" stroke-width="5.6" fill="none" stroke-linejoin="round"/><path d="M518 716l2.1 2.8 3.1 3.9 3.5 4.5 3.6 4.6 3.3 4.3 3 3.9 2.9 3.8 2.9 3.7 2.9 3.8 2.8 3.8 2.8 3.9 2.8 3.8 2.8 3.9 2.7 4 2.8 4.1 2.8 4.3 2.7 4.4 2.7 4.6 2.8 4.7 2.7 4.8 2.7 4.9 2.8 5.1 2.7 5.2 2.7 5.3 2.7 5.3 2.7 5.3 2.7 5.4 2.7 5.5 2.7 5.5 2.6 5.5 2.5 5.4 2.5 5.5 2.5 5.5 2.3 5.6 2.4 6 2.2 6.1 2.2 6.2 2.1 6.4 2.1 6.9 2.1 7.4 2.2 8 2.1 8.4 2.1 8.9 2.2 9.3 2.2 9.7 2.2 10.3 2.3 10.7 2.3 11.2 2.4 11.4 2.3 11.5 2.3 11.7 2.3 12 2.3 12.1 2.3 12.4 2.3 12.5 2.3 12.7 2.3 12.8 2.2 13.1 2.3 13.2 2.3 13.4 2.4 14.9 2.6 16.2 2.5 15.8 2.2 13.6 1.5 9.6" stroke="#ff5500" stroke-width="3.8" fill="none" stroke-linejoin="round"/><path d="M498 716l3 3.5 4.2 4.9 4.9 5.8 4.9 6 4.5 5.6 4 5.3 3.9 5.4 3.9 5.4 3.6 5.4 3.5 5.6 3.4 5.6 3.2 5.7 3 5.8 2.9 5.7 2.8 5.7 2.6 5.7 2.5 5.7 2.4 5.7 2.3 5.7 2.2 5.6 2.1 5.4 2 5.4 1.9 5.4 1.9 5.4 1.8 5.5 1.8 5.5 1.7 5.5 1.7 5.6 1.7 5.7 1.6 6 1.7 6.3 1.6 6.4 1.7 6.7 1.6 7 1.7 7.4 1.7 7.9 1.7 8.2 1.8 8.6 1.8 9 1.7 9.5 1.8 9.9 1.9 10.4 1.8 10.7 1.9 11.1 1.8 11.3 1.7 11.5 1.8 11.8 1.8 12 1.7 12.3 1.8 12.5 1.7 12.6 1.7 12.9 1.7 13 1.7 13.3 1.7 13.4 1.8 14.9 2 16.2 2 15.8 1.6 13.6 1.2 9.6" stroke="#000" stroke-width="5.6" fill="none" stroke-linejoin="round"/><path d="M498 716l3 3.5 4.2 4.9 4.9 5.8 4.9 6 4.5 5.6 4 5.3 3.9 5.4 3.9 5.4 3.6 5.4 3.5 5.6 3.4 5.6 3.2 5.7 3 5.8 2.9 5.7 2.8 5.7 2.6 5.7 2.5 5.7 2.4 5.7 2.3 5.7 2.2 5.6 2.1 5.4 2 5.4 1.9 5.4 1.9 5.4 1.8 5.5 1.8 5.5 1.7 5.5 1.7 5.6 1.7 5.7 1.6 6 1.7 6.3 1.6 6.4 1.7 6.7 1.6 7 1.7 7.4 1.7 7.9 1.7 8.2 1.8 8.6 1.8 9 1.7 9.5 1.8 9.9 1.9 10.4 1.8 10.7 1.9 11.1 1.8 11.3 1.7 11.5 1.8 11.8 1.8 12 1.7 12.3 1.8 12.5 1.7 12.6 1.7 12.9 1.7 13 1.7 13.3 1.7 13.4 1.8 14.9 2 16.2 2 15.8 1.6 13.6 1.2 9.6" stroke="#ff0000" stroke-width="3.8" fill="none" stroke-linejoin="round"/><path d="M257 717l3.7 1.3 5.2 1.9 6 2.2 6.3 2.3 5.9 2.1 5.6 2 5.5 2 5.7 2.1 5.6 2.1 5.7 2.1 5.7 2.2 5.8 2.3 5.8 2.3 5.7 2.4 5.8 2.5 5.8 2.5 5.7 2.6 5.8 2.7 5.6 2.8 5.6 2.8 5.5 2.9 5.4 3 5.3 3 5.2 3.1 5.2 3.1 5 3.1 4.9 3.2 4.8 3.2 4.9 3.2 4.9 3.4 5.1 3.5 5 3.6 5.1 3.7 5.3 3.8 5.4 4 5.6 4.2 5.9 4.4 5.9 4.6 5.9 4.7 5.9 4.8 5.9 4.9 5.9 5 5.9 5.1 5.7 5.2 5.5 5.2 5.2 5.1 5 5.2 4.8 5.2 4.6 5.3 4.4 5.6 4.2 5.7 4 5.8 3.8 6 3.7 6.3 3.7 6.9 3.6 7.3 3.6 7.8 3.5 8.2 3.5 8.6 3.4 9.1 3.5 9.8 3.5 10.2 3.5 10.7 3.4 11 3.4 11.3 3.3 11.5 3.3 11.9 3.3 12.1 3.3 12.3 3.2 12.6 3.2 12.6 3.2 12.9 3.1 13.1 3.2 13.3 3.1 13.4 3.5 14.9 3.6 16.2 3.6 15.8 3 13.6 2.2 9.6" stroke="#000" stroke-width="5.6" fill="none" stroke-linejoin="round"/><path d="M257 717l3.7 1.3 5.2 1.9 6 2.2 6.3 2.3 5.9 2.1 5.6 2 5.5 2 5.7 2.1 5.6 2.1 5.7 2.1 5.7 2.2 5.8 2.3 5.8 2.3 5.7 2.4 5.8 2.5 5.8 2.5 5.7 2.6 5.8 2.7 5.6 2.8 5.6 2.8 5.5 2.9 5.4 3 5.3 3 5.2 3.1 5.2 3.1 5 3.1 4.9 3.2 4.8 3.2 4.9 3.2 4.9 3.4 5.1 3.5 5 3.6 5.1 3.7 5.3 3.8 5.4 4 5.6 4.2 5.9 4.4 5.9 4.6 5.9 4.7 5.9 4.8 5.9 4.9 5.9 5 5.9 5.1 5.7 5.2 5.5 5.2 5.2 5.1 5 5.2 4.8 5.2 4.6 5.3 4.4 5.6 4.2 5.7 4 5.8 3.8 6 3.7 6.3 3.7 6.9 3.6 7.3 3.6 7.8 3.5 8.2 3.5 8.6 3.4 9.1 3.5 9.8 3.5 10.2 3.5 10.7 3.4 11 3.4 11.3 3.3 11.5 3.3 11.9 3.3 12.1 3.3 12.3 3.2 12.6 3.2 12.6 3.2 12.9 3.1 13.1 3.2 13.3 3.1 13.4 3.5 14.9 3.6 16.2 3.6 15.8 3 13.6 2.2 9.6" stroke="#aa0000" stroke-width="3.8" fill="none" stroke-linejoin="round"/></g>
<g clip-path="url(#clipD)"><path d="M1281.5 993V993.4M1300.1 993.8V1019.4M1318.4 1019.8V1037M1337.8 1037.5V1050.2M1356.5 1050.7V1051.2M1337.6 1051.7V1052.2M1356.6 1052.6V1066.1M1375.7 1066.6V1067.6M1357 1068.1V1069M1375.5 1069.5V1069.5M1356.9 1070V1072.4M1375.5 1072.9V1072.9M1356.4 1073.4V1073.4M1375.7 1073.9V1073.9M1356.5 1074.4V1075.8M1375 1076.3V1084.6M1394.8 1085.1V1086.6M1374.8 1087.1V1087.5M1395.1 1088V1101.9M1412.7 1102.4V1103.4M1412.8 1104.4V1113.4M1432.2 1113.9V1126M1413.2 1126.5V1127.1M1431.6 1127.6V1145.9M1450.6 1146.4V1158.8M1469.2 1159.3V1159.3M1450.8 1159.8V1159.8M1469.8 1160.4V1160.9M1450.5 1161.5V1162M1469.9 1162.5V1168.5" stroke="#000" stroke-width="6.2" stroke-linecap="round" fill="none"/><path d="M1281.5 993V993.4M1300.1 993.8V1019.4M1318.4 1019.8V1037M1337.8 1037.5V1050.2M1356.5 1050.7V1051.2M1337.6 1051.7V1052.2M1356.6 1052.6V1066.1M1375.7 1066.6V1067.6M1357 1068.1V1069M1375.5 1069.5V1069.5M1356.9 1070V1072.4M1375.5 1072.9V1072.9M1356.4 1073.4V1073.4M1375.7 1073.9V1073.9M1356.5 1074.4V1075.8M1375 1076.3V1084.6M1394.8 1085.1V1086.6M1374.8 1087.1V1087.5M1395.1 1088V1101.9M1412.7 1102.4V1103.4M1412.8 1104.4V1113.4M1432.2 1113.9V1126M1413.2 1126.5V1127.1M1431.6 1127.6V1145.9M1450.6 1146.4V1158.8M1469.2 1159.3V1159.3M1450.8 1159.8V1159.8M1469.8 1160.4V1160.9M1450.5 1161.5V1162M1469.9 1162.5V1168.5" stroke="#0000d0" stroke-width="4.4" stroke-linecap="round" fill="none"/><path d="M1016.9 799V819.4M1035.9 819.8V820.3M1016.4 820.8V821.3M1036.3 821.7V837.9M1073.6 850.7V850.7M1054.7 851.2V851.2M1074.1 851.7V861.9M1074.1 867.9V876.5M1093 877V878.9M1073.9 879.4V879.9M1093 880.3V882.5M1093 888.5V892.3M1111.9 892.7V893.2M1092 893.7V893.7M1111.4 894.2V909.7M1130.2 910.2V910.2M1110.7 910.7V910.7M1129.7 911.1V920.5M1149.5 921V935M1168.3 935.4V935.4M1149.1 935.9V949.9M1168.1 950.3V957.3M1187 957.8V958.2M1168.5 958.7V958.7M1186.4 959.2V974.5M1205.6 975V996.5M1224.8 997V1017.3M1243.5 1017.7V1026.2M1262.4 1026.7V1027.7M1243.5 1028.1V1028.1M1263.1 1028.6V1029.1M1243 1029.5V1029.5M1262.3 1030V1056.8M1281 1057.3V1067.9M1299.8 1068.3V1071.1M1280.7 1071.5V1071.5M1299.8 1072V1072.4M1281.1 1072.9V1076.5M1299.9 1077V1087.4M1318.9 1087.9V1102.6M1337.6 1103V1103M1318.7 1103.4V1103.4M1337.7 1103.8V1104.7M1318.8 1105.1V1113.4M1337.7 1113.8V1120.8M1356.7 1121.2V1129.7M1356.3 1130.5V1130.5M1375 1130.9V1144.2M1393.8 1144.6V1160.1M1413 1160.4V1166.1M1431.6 1166.4V1166.4M1413.2 1166.8V1167.5M1431.6 1167.8V1174.7" stroke="#000" stroke-width="6.2" stroke-linecap="round" fill="none"/><path d="M1016.9 799V819.4M1035.9 819.8V820.3M1016.4 820.8V821.3M1036.3 821.7V837.9M1073.6 850.7V850.7M1054.7 851.2V851.2M1074.1 851.7V861.9M1074.1 867.9V876.5M1093 877V878.9M1073.9 879.4V879.9M1093 880.3V882.5M1093 888.5V892.3M1111.9 892.7V893.2M1092 893.7V893.7M1111.4 894.2V909.7M1130.2 910.2V910.2M1110.7 910.7V910.7M1129.7 911.1V920.5M1149.5 921V935M1168.3 935.4V935.4M1149.1 935.9V949.9M1168.1 950.3V957.3M1187 957.8V958.2M1168.5 958.7V958.7M1186.4 959.2V974.5M1205.6 975V996.5M1224.8 997V1017.3M1243.5 1017.7V1026.2M1262.4 1026.7V1027.7M1243.5 1028.1V1028.1M1263.1 1028.6V1029.1M1243 1029.5V1029.5M1262.3 1030V1056.8M1281 1057.3V1067.9M1299.8 1068.3V1071.1M1280.7 1071.5V1071.5M1299.8 1072V1072.4M1281.1 1072.9V1076.5M1299.9 1077V1087.4M1318.9 1087.9V1102.6M1337.6 1103V1103M1318.7 1103.4V1103.4M1337.7 1103.8V1104.7M1318.8 1105.1V1113.4M1337.7 1113.8V1120.8M1356.7 1121.2V1129.7M1356.3 1130.5V1130.5M1375 1130.9V1144.2M1393.8 1144.6V1160.1M1413 1160.4V1166.1M1431.6 1166.4V1166.4M1413.2 1166.8V1167.5M1431.6 1167.8V1174.7" stroke="#0055ff" stroke-width="4.4" stroke-linecap="round" fill="none"/><path d="M1261.6 1003V1012.9M1281.5 1013.3V1021.2M1300.4 1021.6V1022.4M1280.8 1022.8V1024.1M1299.9 1024.5V1025.7M1281.8 1026.1V1026.1M1299.9 1026.5V1043M1318.5 1043.4V1043.8M1299.9 1044.3V1044.3M1318.4 1044.7V1063.2M1337.6 1063.6V1074.7M1356.5 1075.1V1075.5M1337.6 1076V1076.8M1356.5 1077.2V1085.5M1375.8 1085.9V1085.9M1356.5 1086.3V1089.3M1374.8 1089.7V1102.7M1395.1 1103.2V1105.7M1375.2 1106.2V1107M1394.1 1107.5V1118.3M1413.3 1118.7V1137.5M1451.1 1154.5V1166.2M1469.5 1166.7V1166.7M1451.2 1167.1V1170.6" stroke="#000" stroke-width="6.2" stroke-linecap="round" fill="none"/><path d="M1261.6 1003V1012.9M1281.5 1013.3V1021.2M1300.4 1021.6V1022.4M1280.8 1022.8V1024.1M1299.9 1024.5V1025.7M1281.8 1026.1V1026.1M1299.9 1026.5V1043M1318.5 1043.4V1043.8M1299.9 1044.3V1044.3M1318.4 1044.7V1063.2M1337.6 1063.6V1074.7M1356.5 1075.1V1075.5M1337.6 1076V1076.8M1356.5 1077.2V1085.5M1375.8 1085.9V1085.9M1356.5 1086.3V1089.3M1374.8 1089.7V1102.7M1395.1 1103.2V1105.7M1375.2 1106.2V1107M1394.1 1107.5V1118.3M1413.3 1118.7V1137.5M1451.1 1154.5V1166.2M1469.5 1166.7V1166.7M1451.2 1167.1V1170.6" stroke="#00aaff" stroke-width="4.4" stroke-linecap="round" fill="none"/><path d="M1206.1 973V982.8M1224.1 983.3V999.4M1243.8 999.8V1019.4M1262.2 1019.8V1032M1281 1032.5V1048.9M1299.7 1049.4V1058.2M1318.6 1058.7V1087.6M1338.3 1088.1V1088.1M1319 1088.7V1088.7M1338.1 1089.2V1102.7M1356.5 1103.2V1104.8M1337.4 1105.3V1105.3M1356.4 1105.8V1120.1M1375.7 1120.5V1126.7M1356.6 1127.1V1127.1M1374.7 1127.6V1127.6M1356.7 1128.1V1128.1M1375.4 1128.5V1128.5M1356.2 1129V1130.8M1375.3 1131.2V1132.1M1356 1132.6V1132.6M1394.5 1144.8V1146.5M1375.5 1146.9V1147.3M1394.1 1147.7V1162.5M1413.5 1162.9V1171.2M1432.3 1171.6V1174.6" stroke="#000" stroke-width="6.2" stroke-linecap="round" fill="none"/><path d="M1206.1 973V982.8M1224.1 983.3V999.4M1243.8 999.8V1019.4M1262.2 1019.8V1032M1281 1032.5V1048.9M1299.7 1049.4V1058.2M1318.6 1058.7V1087.6M1338.3 1088.1V1088.1M1319 1088.7V1088.7M1338.1 1089.2V1102.7M1356.5 1103.2V1104.8M1337.4 1105.3V1105.3M1356.4 1105.8V1120.1M1375.7 1120.5V1126.7M1356.6 1127.1V1127.1M1374.7 1127.6V1127.6M1356.7 1128.1V1128.1M1375.4 1128.5V1128.5M1356.2 1129V1130.8M1375.3 1131.2V1132.1M1356 1132.6V1132.6M1394.5 1144.8V1146.5M1375.5 1146.9V1147.3M1394.1 1147.7V1162.5M1413.5 1162.9V1171.2M1432.3 1171.6V1174.6" stroke="#00ffff" stroke-width="4.4" stroke-linecap="round" fill="none"/><path d="M1300.4 1004V1009.9M1319.1 1010.4V1034.6M1337.5 1035.1V1036.1M1318.4 1036.6V1036.6M1337.5 1037.1V1039M1318.5 1039.5V1039.5M1338.2 1040V1040M1319.3 1040.5V1041M1337.6 1041.5V1046.8M1337.6 1052.8V1055M1356.3 1055.5V1069.6M1375.7 1070.1V1070.1M1356.4 1070.5V1073.3M1375.3 1073.7V1089.5M1394.8 1089.9V1090.4M1375.6 1090.8V1092.1M1394 1092.6V1105.7M1413.5 1106.1V1127.4M1431.9 1127.8V1133.8M1450.7 1134.3V1144.6M1469.9 1145V1168.8M1488.5 1169.2V1174.6" stroke="#000" stroke-width="6.2" stroke-linecap="round" fill="none"/><path d="M1300.4 1004V1009.9M1319.1 1010.4V1034.6M1337.5 1035.1V1036.1M1318.4 1036.6V1036.6M1337.5 1037.1V1039M1318.5 1039.5V1039.5M1338.2 1040V1040M1319.3 1040.5V1041M1337.6 1041.5V1046.8M1337.6 1052.8V1055M1356.3 1055.5V1069.6M1375.7 1070.1V1070.1M1356.4 1070.5V1073.3M1375.3 1073.7V1089.5M1394.8 1089.9V1090.4M1375.6 1090.8V1092.1M1394 1092.6V1105.7M1413.5 1106.1V1127.4M1431.9 1127.8V1133.8M1450.7 1134.3V1144.6M1469.9 1145V1168.8M1488.5 1169.2V1174.6" stroke="#55ffaa" stroke-width="4.4" stroke-linecap="round" fill="none"/><path d="M1224.5 847V851.5M1243.4 852V854.4M1224 854.9V854.9M1243.6 855.4V863.4M1262.9 863.9V863.9M1243 864.4V864.9M1281.5 872.3V897.5M1300.2 898V917M1318.6 917.4V937.4M1337.2 937.8V937.8M1319.2 938.3V939.7M1337.8 940.2V940.2M1337.8 946.1V954.6M1356.4 955V972M1375.5 972.5V973.4M1356.7 973.9V976.8M1375.4 977.3V992.9M1394.2 993.4V1007.9M1413.4 1008.4V1008.4M1393.5 1008.9V1010.9M1413 1011.3V1025.3M1432.2 1025.7V1025.7M1413.1 1026.2V1027.7M1431.8 1028.2V1042M1450.9 1042.5V1042.5M1432.3 1043V1044.9M1451.1 1045.4V1047.4M1432.1 1047.9V1047.9M1450.6 1048.4V1067.9M1469.4 1068.4V1068.4M1450.4 1068.9V1068.9M1469.5 1069.4V1080.3M1488.4 1080.8V1103.4M1507.4 1103.9V1103.9M1488.3 1104.3V1104.3M1507.3 1104.7V1116.9M1526.5 1117.4V1123.3M1526.5 1129.3V1133.6M1544.5 1134V1134.4M1526.5 1134.8V1134.8M1544.7 1135.2V1150.3M1564.2 1150.7V1151.1M1544.9 1151.6V1152.4M1564.2 1152.8V1152.8M1544.8 1153.2V1153.2M1563.5 1153.6V1170.4M1582.8 1170.8V1179.8M1601.5 1180.2V1180.2M1582.9 1180.6V1180.6M1601.9 1181V1181.8M1582.5 1182.2V1185.1M1601.6 1185.5V1193.2M1620.3 1193.6V1193.6M1601.6 1194V1194M1620.1 1194.4V1206.2M1639.2 1206.6V1206.6" stroke="#000" stroke-width="6.2" stroke-linecap="round" fill="none"/><path d="M1224.5 847V851.5M1243.4 852V854.4M1224 854.9V854.9M1243.6 855.4V863.4M1262.9 863.9V863.9M1243 864.4V864.9M1281.5 872.3V897.5M1300.2 898V917M1318.6 917.4V937.4M1337.2 937.8V937.8M1319.2 938.3V939.7M1337.8 940.2V940.2M1337.8 946.1V954.6M1356.4 955V972M1375.5 972.5V973.4M1356.7 973.9V976.8M1375.4 977.3V992.9M1394.2 993.4V1007.9M1413.4 1008.4V1008.4M1393.5 1008.9V1010.9M1413 1011.3V1025.3M1432.2 1025.7V1025.7M1413.1 1026.2V1027.7M1431.8 1028.2V1042M1450.9 1042.5V1042.5M1432.3 1043V1044.9M1451.1 1045.4V1047.4M1432.1 1047.9V1047.9M1450.6 1048.4V1067.9M1469.4 1068.4V1068.4M1450.4 1068.9V1068.9M1469.5 1069.4V1080.3M1488.4 1080.8V1103.4M1507.4 1103.9V1103.9M1488.3 1104.3V1104.3M1507.3 1104.7V1116.9M1526.5 1117.4V1123.3M1526.5 1129.3V1133.6M1544.5 1134V1134.4M1526.5 1134.8V1134.8M1544.7 1135.2V1150.3M1564.2 1150.7V1151.1M1544.9 1151.6V1152.4M1564.2 1152.8V1152.8M1544.8 1153.2V1153.2M1563.5 1153.6V1170.4M1582.8 1170.8V1179.8M1601.5 1180.2V1180.2M1582.9 1180.6V1180.6M1601.9 1181V1181.8M1582.5 1182.2V1185.1M1601.6 1185.5V1193.2M1620.3 1193.6V1193.6M1601.6 1194V1194M1620.1 1194.4V1206.2M1639.2 1206.6V1206.6" stroke="#aaff55" stroke-width="4.4" stroke-linecap="round" fill="none"/><path d="M998.4 828V833.7M1017.7 834.2V844.1M1036.6 844.6V847.8M1036.6 853.8V867.8M1055.2 868.3V878.7M1073.6 879.2V905M1092.6 905.4V907.9M1092.6 913.9V918.4M1111.7 918.9V927.5M1130.8 928V933.3M1111.2 933.8V933.8M1130.4 934.3V934.3M1111.4 934.8V935.7M1130.3 936.2V951.6M1149.2 952V975.5M1168.1 976V998.4M1206.3 1008.3V1026.5M1224.5 1026.9V1041.1M1262.2 1069.6V1081.1M1281.5 1081.6V1081.6M1262.2 1082V1082.4M1281.5 1082.8V1092.1M1300.2 1092.5V1106.1M1318.9 1106.5V1107.3M1299.5 1107.8V1109.5M1319 1109.9V1115.6M1319 1121.6V1126.6M1338 1127.1V1136.1M1356.4 1136.5V1156.4M1375.2 1156.9V1156.9M1356.1 1157.4V1157.8M1375.2 1158.3V1158.3M1356.1 1158.8V1161.5" stroke="#000" stroke-width="6.2" stroke-linecap="round" fill="none"/><path d="M998.4 828V833.7M1017.7 834.2V844.1M1036.6 844.6V847.8M1036.6 853.8V867.8M1055.2 868.3V878.7M1073.6 879.2V905M1092.6 905.4V907.9M1092.6 913.9V918.4M1111.7 918.9V927.5M1130.8 928V933.3M1111.2 933.8V933.8M1130.4 934.3V934.3M1111.4 934.8V935.7M1130.3 936.2V951.6M1149.2 952V975.5M1168.1 976V998.4M1206.3 1008.3V1026.5M1224.5 1026.9V1041.1M1262.2 1069.6V1081.1M1281.5 1081.6V1081.6M1262.2 1082V1082.4M1281.5 1082.8V1092.1M1300.2 1092.5V1106.1M1318.9 1106.5V1107.3M1299.5 1107.8V1109.5M1319 1109.9V1115.6M1319 1121.6V1126.6M1338 1127.1V1136.1M1356.4 1136.5V1156.4M1375.2 1156.9V1156.9M1356.1 1157.4V1157.8M1375.2 1158.3V1158.3M1356.1 1158.8V1161.5" stroke="#ffff00" stroke-width="4.4" stroke-linecap="round" fill="none"/><path d="M1318.6 940V958.2M1337.6 958.7V965.7M1356.4 966.2V984.3M1375.3 984.8V985.8M1356.3 986.3V986.7M1375.8 987.2V1002.5M1394.2 1003V1024.8M1413 1025.3V1031.2M1431.7 1031.7V1031.7M1431.3 1032.6V1062.2M1451.1 1062.6V1065.1M1431.6 1065.5V1065.5M1450.6 1065.9V1074.2M1469.7 1074.6V1082.8M1488.5 1083.2V1095.4M1488.5 1101.4V1102.8M1507.5 1103.3V1111.6M1507.5 1117.6V1120.4M1525.7 1120.8V1128.6M1545.2 1129V1129.4M1525.8 1129.8V1130.2M1545.3 1130.6V1153.8M1563.4 1154.2V1154.2M1563.7 1155V1162.8M1582.7 1163.2V1174.6" stroke="#000" stroke-width="6.2" stroke-linecap="round" fill="none"/><path d="M1318.6 940V958.2M1337.6 958.7V965.7M1356.4 966.2V984.3M1375.3 984.8V985.8M1356.3 986.3V986.7M1375.8 987.2V1002.5M1394.2 1003V1024.8M1413 1025.3V1031.2M1431.7 1031.7V1031.7M1431.3 1032.6V1062.2M1451.1 1062.6V1065.1M1431.6 1065.5V1065.5M1450.6 1065.9V1074.2M1469.7 1074.6V1082.8M1488.5 1083.2V1095.4M1488.5 1101.4V1102.8M1507.5 1103.3V1111.6M1507.5 1117.6V1120.4M1525.7 1120.8V1128.6M1545.2 1129V1129.4M1525.8 1129.8V1130.2M1545.3 1130.6V1153.8M1563.4 1154.2V1154.2M1563.7 1155V1162.8M1582.7 1163.2V1174.6" stroke="#ffaa00" stroke-width="4.4" stroke-linecap="round" fill="none"/><path d="M1319.1 998V1005.2M1337.5 1005.7V1005.7M1318.4 1006.2V1006.2M1337.8 1006.7V1014.2M1318.9 1014.7V1016.2M1337 1016.7V1028.5M1357 1028.9V1029.4M1337.8 1029.9V1029.9M1356.4 1030.3V1033.5M1338.1 1033.9V1033.9M1356.7 1034.3V1041M1356.7 1047V1053.7M1375.5 1054.2V1061.7M1394.6 1062.1V1062.1M1375.7 1062.5V1062.5M1394.5 1062.9V1080.8M1413.3 1081.1V1081.5M1394.3 1081.9V1081.9M1413.1 1082.3V1087.7M1451.1 1109.3V1117.1M1469.9 1117.5V1117.5M1450.8 1117.9V1117.9M1469.5 1118.4V1135.8M1489 1136.2V1148.8M1507.5 1150.5V1167.6" stroke="#000" stroke-width="6.2" stroke-linecap="round" fill="none"/><path d="M1319.1 998V1005.2M1337.5 1005.7V1005.7M1318.4 1006.2V1006.2M1337.8 1006.7V1014.2M1318.9 1014.7V1016.2M1337 1016.7V1028.5M1357 1028.9V1029.4M1337.8 1029.9V1029.9M1356.4 1030.3V1033.5M1338.1 1033.9V1033.9M1356.7 1034.3V1041M1356.7 1047V1053.7M1375.5 1054.2V1061.7M1394.6 1062.1V1062.1M1375.7 1062.5V1062.5M1394.5 1062.9V1080.8M1413.3 1081.1V1081.5M1394.3 1081.9V1081.9M1413.1 1082.3V1087.7M1451.1 1109.3V1117.1M1469.9 1117.5V1117.5M1450.8 1117.9V1117.9M1469.5 1118.4V1135.8M1489 1136.2V1148.8M1507.5 1150.5V1167.6" stroke="#ff5500" stroke-width="4.4" stroke-linecap="round" fill="none"/><path d="M1281.1 1021V1024M1300.1 1024.4V1041.2M1318.4 1041.7V1042.2M1300.7 1042.7V1042.7M1318.8 1043.1V1047.6M1299.8 1048V1049M1318.9 1049.5V1063.1M1337.9 1063.6V1078.8M1356.1 1079.3V1092.7M1375.7 1093.2V1093.2M1356.1 1093.7V1096.6M1375.8 1097.1V1114.8M1394.9 1115.3V1116.8M1375.7 1117.3V1118.8M1394.1 1119.3V1131.7M1412.8 1132.2V1151.3M1432.2 1151.6V1164.9M1450.7 1165.3V1165.3M1432 1165.6V1169.3M1450.4 1169.7V1175.7" stroke="#000" stroke-width="6.2" stroke-linecap="round" fill="none"/><path d="M1281.1 1021V1024M1300.1 1024.4V1041.2M1318.4 1041.7V1042.2M1300.7 1042.7V1042.7M1318.8 1043.1V1047.6M1299.8 1048V1049M1318.9 1049.5V1063.1M1337.9 1063.6V1078.8M1356.1 1079.3V1092.7M1375.7 1093.2V1093.2M1356.1 1093.7V1096.6M1375.8 1097.1V1114.8M1394.9 1115.3V1116.8M1375.7 1117.3V1118.8M1394.1 1119.3V1131.7M1412.8 1132.2V1151.3M1432.2 1151.6V1164.9M1450.7 1165.3V1165.3M1432 1165.6V1169.3M1450.4 1169.7V1175.7" stroke="#ff0000" stroke-width="4.4" stroke-linecap="round" fill="none"/><path d="M998.5 712V734.8M1017.7 735.4V747.3M1035.5 747.8V748.9M1017.5 749.4V758.8M1036.2 759.3V761.9M1017.6 762.5V763M1035.8 763.5V772.4M1055 773V786.7M1073.8 787.2V787.2M1054.7 787.7V788.8M1074 789.3V814.1M1092.2 814.6V814.6M1073.3 815.1V815.1M1111.6 838.4V847.3M1130.4 847.8V870.3M1149 870.9V892.2M1167.9 892.7V893.2M1149.3 893.7V894.7M1167.9 895.3V896.9M1167.9 902.9V912.1M1186.8 912.6V913.6M1167.7 914.2V914.2M1187.4 914.7V925.3M1205.4 925.8V938.3M1224.5 938.8V941.3M1205.5 941.8V947.6M1224.4 948.1V969.9M1242.9 970.4V982.2M1262.5 982.7V997.5M1280.5 998V1001.3M1262.4 1001.7V1002.2M1281.4 1002.6V1017M1299.8 1017.4V1027.8M1318.6 1028.2V1028.2M1300.6 1028.6V1029.4M1319.2 1029.9V1031.5M1300.4 1031.9V1031.9M1318.8 1032.3V1050.8M1337.8 1051.2V1051.2M1318.5 1051.6V1051.6M1337.6 1052.1V1068.5M1356.5 1068.9V1069.4M1337.8 1069.8V1069.8M1356.5 1070.2V1080.3M1375.7 1080.7V1081.6M1356.3 1082V1082.4M1375.4 1082.8V1093.9M1394.6 1094.3V1104.9M1413.1 1105.3V1108M1394.2 1108.4V1108.4M1413.1 1108.8V1113M1413.1 1119V1120.9M1431.2 1121.3V1121.3M1413.1 1121.7V1121.7M1431.8 1122.1V1122.1M1412.9 1122.5V1122.5M1432 1122.8V1125.6M1413.5 1125.9V1126.3M1432.2 1126.7V1139.9M1450.8 1140.3V1147.6" stroke="#000" stroke-width="6.2" stroke-linecap="round" fill="none"/><path d="M998.5 712V734.8M1017.7 735.4V747.3M1035.5 747.8V748.9M1017.5 749.4V758.8M1036.2 759.3V761.9M1017.6 762.5V763M1035.8 763.5V772.4M1055 773V786.7M1073.8 787.2V787.2M1054.7 787.7V788.8M1074 789.3V814.1M1092.2 814.6V814.6M1073.3 815.1V815.1M1111.6 838.4V847.3M1130.4 847.8V870.3M1149 870.9V892.2M1167.9 892.7V893.2M1149.3 893.7V894.7M1167.9 895.3V896.9M1167.9 902.9V912.1M1186.8 912.6V913.6M1167.7 914.2V914.2M1187.4 914.7V925.3M1205.4 925.8V938.3M1224.5 938.8V941.3M1205.5 941.8V947.6M1224.4 948.1V969.9M1242.9 970.4V982.2M1262.5 982.7V997.5M1280.5 998V1001.3M1262.4 1001.7V1002.2M1281.4 1002.6V1017M1299.8 1017.4V1027.8M1318.6 1028.2V1028.2M1300.6 1028.6V1029.4M1319.2 1029.9V1031.5M1300.4 1031.9V1031.9M1318.8 1032.3V1050.8M1337.8 1051.2V1051.2M1318.5 1051.6V1051.6M1337.6 1052.1V1068.5M1356.5 1068.9V1069.4M1337.8 1069.8V1069.8M1356.5 1070.2V1080.3M1375.7 1080.7V1081.6M1356.3 1082V1082.4M1375.4 1082.8V1093.9M1394.6 1094.3V1104.9M1413.1 1105.3V1108M1394.2 1108.4V1108.4M1413.1 1108.8V1113M1413.1 1119V1120.9M1431.2 1121.3V1121.3M1413.1 1121.7V1121.7M1431.8 1122.1V1122.1M1412.9 1122.5V1122.5M1432 1122.8V1125.6M1413.5 1125.9V1126.3M1432.2 1126.7V1139.9M1450.8 1140.3V1147.6" stroke="#aa0000" stroke-width="4.4" stroke-linecap="round" fill="none"/><path d="M1281 993l3 2.4 4.2 3.3 5 4 5.3 4.3 5.3 4.4 5.2 4.5 5.5 4.8 5.7 5.1 5.8 5.3 6.1 5.5 6.3 5.9 6.5 6.2 6.7 6.4 6.8 6.6 6.8 6.5 6.8 6.7 6.9 6.7 7 6.8 6.9 6.8 6.8 6.8 6.8 6.7 6.7 6.7 6.6 6.8 6.6 6.7 6.5 6.7 6.8 7.2 7.3 7.8 6.9 7.4 6 6.5 4.2 4.5" stroke="#000" stroke-width="5.6" fill="none" stroke-linejoin="round"/><path d="M1281 993l3 2.4 4.2 3.3 5 4 5.3 4.3 5.3 4.4 5.2 4.5 5.5 4.8 5.7 5.1 5.8 5.3 6.1 5.5 6.3 5.9 6.5 6.2 6.7 6.4 6.8 6.6 6.8 6.5 6.8 6.7 6.9 6.7 7 6.8 6.9 6.8 6.8 6.8 6.8 6.7 6.7 6.7 6.6 6.8 6.6 6.7 6.5 6.7 6.8 7.2 7.3 7.8 6.9 7.4 6 6.5 4.2 4.5" stroke="#0000d0" stroke-width="3.8" fill="none" stroke-linejoin="round"/><path d="M1007 799l4.5 4.3 6.3 6 7.5 7 7.7 7.3 7.2 6.9 6.8 6.4 6.8 6.5 6.8 6.5 7 6.6 7.1 6.8 7.2 6.9 7.4 7.1 7.5 7.1 7.7 7.4 8 7.6 8.3 7.8 8.7 8.1 8.8 8.3 9.1 8.5 9.2 8.5 9.4 8.9 9.9 9.1 9.9 9.2 9.7 9.1 9.4 8.7 9.2 8.6 9 8.5 8.8 8.3 8.3 7.9 7.7 7.2 7 6.7 6.5 6.1 6 5.6 5.6 5.3 5.3 5 4.9 4.5 4.5 4.1 4.1 3.8 3.9 3.6 4 3.6 3.9 3.6 3.7 3.4 3.6 3.2 3.6 3.3 3.7 3.2 3.7 3.2 3.6 3.2 3.7 3.2 3.8 3.2 4 3.3 4.1 3.4 4.2 3.5 4.4 3.6 4.4 3.6 4.7 3.8 4.8 3.9 5.1 4 5.2 4.1 5.1 4 5.1 3.9 4.9 3.7 4.9 3.7 4.9 3.5 4.6 3.4 4.4 3.1 4.3 3.1 4.3 2.9 3.9 2.7 3.3 2.3 2.4 1.6" stroke="#000" stroke-width="5.6" fill="none" stroke-linejoin="round"/><path d="M1007 799l4.5 4.3 6.3 6 7.5 7 7.7 7.3 7.2 6.9 6.8 6.4 6.8 6.5 6.8 6.5 7 6.6 7.1 6.8 7.2 6.9 7.4 7.1 7.5 7.1 7.7 7.4 8 7.6 8.3 7.8 8.7 8.1 8.8 8.3 9.1 8.5 9.2 8.5 9.4 8.9 9.9 9.1 9.9 9.2 9.7 9.1 9.4 8.7 9.2 8.6 9 8.5 8.8 8.3 8.3 7.9 7.7 7.2 7 6.7 6.5 6.1 6 5.6 5.6 5.3 5.3 5 4.9 4.5 4.5 4.1 4.1 3.8 3.9 3.6 4 3.6 3.9 3.6 3.7 3.4 3.6 3.2 3.6 3.3 3.7 3.2 3.7 3.2 3.6 3.2 3.7 3.2 3.8 3.2 4 3.3 4.1 3.4 4.2 3.5 4.4 3.6 4.4 3.6 4.7 3.8 4.8 3.9 5.1 4 5.2 4.1 5.1 4 5.1 3.9 4.9 3.7 4.9 3.7 4.9 3.5 4.6 3.4 4.4 3.1 4.3 3.1 4.3 2.9 3.9 2.7 3.3 2.3 2.4 1.6" stroke="#0055ff" stroke-width="3.8" fill="none" stroke-linejoin="round"/><path d="M1262 1003l4.8 3.9 6.8 5.7 7.8 6.4 8.1 6.7 7.3 6 6.5 5.4 6.4 5.2 6.2 5.2 6.1 5 6 4.9 5.8 4.8 5.6 4.6 5.5 4.6 5.4 4.4 5.5 4.5 5.3 4.5 5.3 4.4 5.2 4.3 5.2 4.4 5.3 4.5 5.2 4.5 5.3 4.5 5.2 4.5 5.3 4.6 5.2 4.6 5.3 4.6 5.3 4.6 5.2 4.6 5.3 4.6 5.3 4.6 5.7 5 6.1 5.3 5.9 5.1 5 4.4 3.6 3.1" stroke="#000" stroke-width="5.6" fill="none" stroke-linejoin="round"/><path d="M1262 1003l4.8 3.9 6.8 5.7 7.8 6.4 8.1 6.7 7.3 6 6.5 5.4 6.4 5.2 6.2 5.2 6.1 5 6 4.9 5.8 4.8 5.6 4.6 5.5 4.6 5.4 4.4 5.5 4.5 5.3 4.5 5.3 4.4 5.2 4.3 5.2 4.4 5.3 4.5 5.2 4.5 5.3 4.5 5.2 4.5 5.3 4.6 5.2 4.6 5.3 4.6 5.3 4.6 5.2 4.6 5.3 4.6 5.3 4.6 5.7 5 6.1 5.3 5.9 5.1 5 4.4 3.6 3.1" stroke="#00aaff" stroke-width="3.8" fill="none" stroke-linejoin="round"/><path d="M1200 973l7 6.2 9.9 9 11.5 10.2 11.5 10.3 10.2 9 8.7 7.7 8.4 7.2 7.9 6.8 7.5 6.5 7 6.2 6.4 5.7 5.9 5.3 5.4 4.9 5.2 4.8 5 4.8 4.7 4.6 4.4 4.5 4.2 4.4 4.2 4.3 4.2 4.4 4.2 4.4 4.3 4.4 4.2 4.3 4.3 4.4 4.4 4.3 4.7 4.4 4.8 4.5 5 4.4 4.9 4.3 4.8 4.1 4.7 4 4.7 3.9 4.7 3.7 4.5 3.5 4.2 3.4 4.1 3.1 4.1 3.2 3.7 2.8 3.2 2.4 2.3 1.7" stroke="#000" stroke-width="5.6" fill="none" stroke-linejoin="round"/><path d="M1200 973l7 6.2 9.9 9 11.5 10.2 11.5 10.3 10.2 9 8.7 7.7 8.4 7.2 7.9 6.8 7.5 6.5 7 6.2 6.4 5.7 5.9 5.3 5.4 4.9 5.2 4.8 5 4.8 4.7 4.6 4.4 4.5 4.2 4.4 4.2 4.3 4.2 4.4 4.2 4.4 4.3 4.4 4.2 4.3 4.3 4.4 4.4 4.3 4.7 4.4 4.8 4.5 5 4.4 4.9 4.3 4.8 4.1 4.7 4 4.7 3.9 4.7 3.7 4.5 3.5 4.2 3.4 4.1 3.1 4.1 3.2 3.7 2.8 3.2 2.4 2.3 1.7" stroke="#00ffff" stroke-width="3.8" fill="none" stroke-linejoin="round"/><path d="M1300 1004l3.9 3.9 5.5 5.5 6.5 6.3 6.6 6.5 6 6 5.5 5.4 5.4 5.3 5.4 5.2 5.3 5.1 5.1 4.9 5.1 4.8 4.9 4.6 4.9 4.5 4.9 4.5 5.1 4.6 5.1 4.5 5.1 4.6 5.2 4.6 5.4 4.7 5.6 4.9 5.9 5.2 6.3 5.4 6.3 5.5 6.4 5.5 6.2 5.3 6.1 5.3 6.2 5.3 6 5.2 5.8 5 5.4 4.6 5.2 4.4 5.2 4.3 4.7 3.9 3.9 3.3 2.9 2.4" stroke="#000" stroke-width="5.6" fill="none" stroke-linejoin="round"/><path d="M1300 1004l3.9 3.9 5.5 5.5 6.5 6.3 6.6 6.5 6 6 5.5 5.4 5.4 5.3 5.4 5.2 5.3 5.1 5.1 4.9 5.1 4.8 4.9 4.6 4.9 4.5 4.9 4.5 5.1 4.6 5.1 4.5 5.1 4.6 5.2 4.6 5.4 4.7 5.6 4.9 5.9 5.2 6.3 5.4 6.3 5.5 6.4 5.5 6.2 5.3 6.1 5.3 6.2 5.3 6 5.2 5.8 5 5.4 4.6 5.2 4.4 5.2 4.3 4.7 3.9 3.9 3.3 2.9 2.4" stroke="#55ffaa" stroke-width="3.8" fill="none" stroke-linejoin="round"/><path d="M1233 847l6.2 6.1 8.6 8.6 10.2 10.1 10.4 10.2 9.7 9.4 8.7 8.3 8.6 7.9 8.5 7.9 8.8 8.1 9.1 8.4 9.3 8.7 9.6 9 9.8 9.1 10.1 9.5 10.3 9.9 10.7 10.4 11.1 11 11.2 11.2 11.4 11.2 11.2 11.1 11.1 10.9 10.9 10.8 11.1 10.8 11.3 10.8 11.7 10.9 12 10.8 12.1 10.8 12.6 10.9 13.1 11.1 13.8 11.7 16 13.3 18.2 14.9 18 14.6 15.6 12.7 11 8.9" stroke="#000" stroke-width="5.6" fill="none" stroke-linejoin="round"/><path d="M1233 847l6.2 6.1 8.6 8.6 10.2 10.1 10.4 10.2 9.7 9.4 8.7 8.3 8.6 7.9 8.5 7.9 8.8 8.1 9.1 8.4 9.3 8.7 9.6 9 9.8 9.1 10.1 9.5 10.3 9.9 10.7 10.4 11.1 11 11.2 11.2 11.4 11.2 11.2 11.1 11.1 10.9 10.9 10.8 11.1 10.8 11.3 10.8 11.7 10.9 12 10.8 12.1 10.8 12.6 10.9 13.1 11.1 13.8 11.7 16 13.3 18.2 14.9 18 14.6 15.6 12.7 11 8.9" stroke="#aaff55" stroke-width="3.8" fill="none" stroke-linejoin="round"/><path d="M1004 828l9.3 8.8 13.2 12.5 15.3 14.5 15.8 15 14.7 14 13.6 13 13.5 13 13.5 13 13.3 12.8 13 12.5 12.9 12.3 12.7 12.1 12.5 11.9 12.1 11.5 11.6 10.9 11.1 10.3 10.8 9.9 10.3 9.4 9.9 8.9 9.5 8.5 9 7.8 8.6 7.3 8.1 6.9 7.9 6.6 7.8 6.6 7.6 6.5 7.3 6.2 7.2 6.1 7.1 6.1 7.2 6.3 7.7 7 8.3 7.6 8 7.4 6.8 6.3 4.8 4.5" stroke="#000" stroke-width="5.6" fill="none" stroke-linejoin="round"/><path d="M1004 828l9.3 8.8 13.2 12.5 15.3 14.5 15.8 15 14.7 14 13.6 13 13.5 13 13.5 13 13.3 12.8 13 12.5 12.9 12.3 12.7 12.1 12.5 11.9 12.1 11.5 11.6 10.9 11.1 10.3 10.8 9.9 10.3 9.4 9.9 8.9 9.5 8.5 9 7.8 8.6 7.3 8.1 6.9 7.9 6.6 7.8 6.6 7.6 6.5 7.3 6.2 7.2 6.1 7.1 6.1 7.2 6.3 7.7 7 8.3 7.6 8 7.4 6.8 6.3 4.8 4.5" stroke="#ffff00" stroke-width="3.8" fill="none" stroke-linejoin="round"/><path d="M1318 940l3.6 3.3 5.1 4.6 5.9 5.4 6.3 5.7 6 5.6 5.7 5.5 5.8 5.7 5.9 5.8 6 6 6.1 6 6.2 6 6.3 6.3 6.4 6.2 6.5 6.3 6.6 6.3 6.7 6.1 6.7 6.2 6.9 6.1 7.2 6.2 7.4 6.4 7.7 6.5 7.9 6.6 8.2 6.7 8.5 6.9 8.8 7.3 9.3 7.6 9.6 7.8 9.9 8.1 10.1 8.3 10.4 8.4 11.5 9.5 12.8 10.4 12.6 10.2 10.8 8.8 7.6 6.2" stroke="#000" stroke-width="5.6" fill="none" stroke-linejoin="round"/><path d="M1318 940l3.6 3.3 5.1 4.6 5.9 5.4 6.3 5.7 6 5.6 5.7 5.5 5.8 5.7 5.9 5.8 6 6 6.1 6 6.2 6 6.3 6.3 6.4 6.2 6.5 6.3 6.6 6.3 6.7 6.1 6.7 6.2 6.9 6.1 7.2 6.2 7.4 6.4 7.7 6.5 7.9 6.6 8.2 6.7 8.5 6.9 8.8 7.3 9.3 7.6 9.6 7.8 9.9 8.1 10.1 8.3 10.4 8.4 11.5 9.5 12.8 10.4 12.6 10.2 10.8 8.8 7.6 6.2" stroke="#ffaa00" stroke-width="3.8" fill="none" stroke-linejoin="round"/><path d="M1311 998l2.5 2.6 3.6 3.6 4.2 4.3 4.3 4.4 4.2 4.1 3.9 3.8 4 3.7 4.1 3.8 4.2 3.8 4.3 3.8 4.5 4 4.7 3.9 4.8 4.1 5 4.1 5.1 4.1 5.4 4.3 5.5 4.3 5.7 4.5 5.8 4.4 5.7 4.5 5.8 4.4 5.9 4.5 5.9 4.6 5.9 4.5 5.7 4.5 5.5 4.4 5.5 4.4 5.4 4.4 5.3 4.5 5.3 4.4 5.2 4.4 5.2 4.4 5.2 4.5 5.2 4.4 5.3 4.5 6 5 6.5 5.3 6.4 5.2 5.4 4.5 3.9 3.1" stroke="#000" stroke-width="5.6" fill="none" stroke-linejoin="round"/><path d="M1311 998l2.5 2.6 3.6 3.6 4.2 4.3 4.3 4.4 4.2 4.1 3.9 3.8 4 3.7 4.1 3.8 4.2 3.8 4.3 3.8 4.5 4 4.7 3.9 4.8 4.1 5 4.1 5.1 4.1 5.4 4.3 5.5 4.3 5.7 4.5 5.8 4.4 5.7 4.5 5.8 4.4 5.9 4.5 5.9 4.6 5.9 4.5 5.7 4.5 5.5 4.4 5.5 4.4 5.4 4.4 5.3 4.5 5.3 4.4 5.2 4.4 5.2 4.4 5.2 4.5 5.2 4.4 5.3 4.5 6 5 6.5 5.3 6.4 5.2 5.4 4.5 3.9 3.1" stroke="#ff5500" stroke-width="3.8" fill="none" stroke-linejoin="round"/><path d="M1286 1021l3.6 3.6 5.1 5 6 5.9 6.3 6.1 5.8 5.8 5.5 5.4 5.6 5.4 5.7 5.5 5.6 5.4 5.5 5.5 5.5 5.4 5.5 5.4 5.4 5.4 5.4 5.3 5.1 5.1 5 5 4.8 4.9 4.7 4.8 4.6 4.6 4.5 4.4 4.5 4.2 4.3 4 4.3 3.9 4.3 3.8 4.3 3.6 4.3 3.6 4.4 3.3 4.4 3.3 4.3 3.2 4.5 3.1 4.7 3.4 5.2 3.5 5 3.3 4.3 2.9 3 2" stroke="#000" stroke-width="5.6" fill="none" stroke-linejoin="round"/><path d="M1286 1021l3.6 3.6 5.1 5 6 5.9 6.3 6.1 5.8 5.8 5.5 5.4 5.6 5.4 5.7 5.5 5.6 5.4 5.5 5.5 5.5 5.4 5.5 5.4 5.4 5.4 5.4 5.3 5.1 5.1 5 5 4.8 4.9 4.7 4.8 4.6 4.6 4.5 4.4 4.5 4.2 4.3 4 4.3 3.9 4.3 3.8 4.3 3.6 4.3 3.6 4.4 3.3 4.4 3.3 4.3 3.2 4.5 3.1 4.7 3.4 5.2 3.5 5 3.3 4.3 2.9 3 2" stroke="#ff0000" stroke-width="3.8" fill="none" stroke-linejoin="round"/><path d="M986 712l6 6.2 8.4 8.7 9.8 10.2 10.2 10.6 9.5 9.9 8.8 9.3 8.8 9.3 8.9 9.3 8.9 9.4 9 9.5 9.1 9.5 9.1 9.7 9.2 9.7 9.2 9.7 9.3 9.8 9.5 9.9 9.6 10.1 9.7 10 9.6 10 9.6 9.8 9.6 9.8 9.6 9.7 9.5 9.7 9.4 9.3 9.1 8.9 8.9 8.5 8.7 8.1 8.4 7.8 8.3 7.5 8 7.2 7.7 6.7 7.5 6.3 7.3 6 7.1 5.8 6.9 5.8 6.8 5.6 6.7 5.5 6.4 5.4 6.3 5.2 6.2 5.2 6.1 5.2 5.8 5 5.7 5 5.7 4.9 5.5 4.7 5.5 4.7 5.4 4.5 5.3 4.3 5.2 4.4 5.3 4.2 5.2 4.2 5.2 4.1 5.2 4 5.1 4 5 3.9 4.8 3.8 4.9 3.8 4.7 3.6 4.6 3.6 4.5 3.5 4.7 3.6 4.8 3.7 4.6 3.6 3.8 3 2.8 2.1" stroke="#000" stroke-width="5.6" fill="none" stroke-linejoin="round"/><path d="M986 712l6 6.2 8.4 8.7 9.8 10.2 10.2 10.6 9.5 9.9 8.8 9.3 8.8 9.3 8.9 9.3 8.9 9.4 9 9.5 9.1 9.5 9.1 9.7 9.2 9.7 9.2 9.7 9.3 9.8 9.5 9.9 9.6 10.1 9.7 10 9.6 10 9.6 9.8 9.6 9.8 9.6 9.7 9.5 9.7 9.4 9.3 9.1 8.9 8.9 8.5 8.7 8.1 8.4 7.8 8.3 7.5 8 7.2 7.7 6.7 7.5 6.3 7.3 6 7.1 5.8 6.9 5.8 6.8 5.6 6.7 5.5 6.4 5.4 6.3 5.2 6.2 5.2 6.1 5.2 5.8 5 5.7 5 5.7 4.9 5.5 4.7 5.5 4.7 5.4 4.5 5.3 4.3 5.2 4.4 5.3 4.2 5.2 4.2 5.2 4.1 5.2 4 5.1 4 5 3.9 4.8 3.8 4.9 3.8 4.7 3.6 4.6 3.6 4.5 3.5 4.7 3.6 4.8 3.7 4.6 3.6 3.8 3 2.8 2.1" stroke="#aa0000" stroke-width="3.8" fill="none" stroke-linejoin="round"/></g>
<text x="328.4" y="591.0" text-anchor="middle" font-family="DejaVu Sans" font-size="36.4" fill="#262626">34.94</text><text x="540.5" y="591.0" text-anchor="middle" font-family="DejaVu Sans" font-size="36.4" fill="#262626">34.96</text><text x="752.6" y="591.0" text-anchor="middle" font-family="DejaVu Sans" font-size="36.4" fill="#262626">34.98</text>
<text x="1140.3" y="586.8" text-anchor="middle" font-family="DejaVu Sans" font-size="36.4" fill="#262626">34.94</text><text x="1370.5" y="586.8" text-anchor="middle" font-family="DejaVu Sans" font-size="36.4" fill="#262626">34.96</text><text x="1600.7" y="586.8" text-anchor="middle" font-family="DejaVu Sans" font-size="36.4" fill="#262626">34.98</text>
<text x="176.6" y="1251.1" text-anchor="middle" font-family="DejaVu Sans" font-size="36.4" fill="#262626">34.94</text><text x="327.7" y="1251.1" text-anchor="middle" font-family="DejaVu Sans" font-size="36.4" fill="#262626">34.95</text><text x="478.8" y="1251.1" text-anchor="middle" font-family="DejaVu Sans" font-size="36.4" fill="#262626">34.96</text><text x="629.9" y="1251.1" text-anchor="middle" font-family="DejaVu Sans" font-size="36.4" fill="#262626">34.97</text><text x="781.0" y="1251.1" text-anchor="middle" font-family="DejaVu Sans" font-size="36.4" fill="#262626">34.98</text>
<text x="1073.6" y="1251.0" text-anchor="middle" font-family="DejaVu Sans" font-size="36.4" fill="#262626">34.95</text><text x="1262.1" y="1251.0" text-anchor="middle" font-family="DejaVu Sans" font-size="36.4" fill="#262626">34.96</text><text x="1450.6" y="1251.0" text-anchor="middle" font-family="DejaVu Sans" font-size="36.4" fill="#262626">34.97</text>
<text x="166.0" y="66.1" text-anchor="end" font-family="DejaVu Sans" font-size="36.4" fill="#262626">-1200</text><text x="166.0" y="148.9" text-anchor="end" font-family="DejaVu Sans" font-size="36.4" fill="#262626">-1300</text><text x="166.0" y="231.4" text-anchor="end" font-family="DejaVu Sans" font-size="36.4" fill="#262626">-1400</text><text x="166.0" y="313.9" text-anchor="end" font-family="DejaVu Sans" font-size="36.4" fill="#262626">-1500</text><text x="166.0" y="396.4" text-anchor="end" font-family="DejaVu Sans" font-size="36.4" fill="#262626">-1600</text><text x="166.0" y="478.9" text-anchor="end" font-family="DejaVu Sans" font-size="36.4" fill="#262626">-1700</text>
<text x="963.2" y="128.6" text-anchor="end" font-family="DejaVu Sans" font-size="36.4" fill="#262626">5.2</text><text x="963.2" y="204.9" text-anchor="end" font-family="DejaVu Sans" font-size="36.4" fill="#262626">5</text><text x="963.2" y="281.2" text-anchor="end" font-family="DejaVu Sans" font-size="36.4" fill="#262626">4.8</text><text x="963.2" y="357.5" text-anchor="end" font-family="DejaVu Sans" font-size="36.4" fill="#262626">4.6</text><text x="963.2" y="433.8" text-anchor="end" font-family="DejaVu Sans" font-size="36.4" fill="#262626">4.4</text><text x="963.2" y="510.1" text-anchor="end" font-family="DejaVu Sans" font-size="36.4" fill="#262626">4.2</text>
<text x="167.6" y="729.9" text-anchor="end" font-family="DejaVu Sans" font-size="36.4" fill="#262626">-1200</text><text x="167.6" y="811.8" text-anchor="end" font-family="DejaVu Sans" font-size="36.4" fill="#262626">-1300</text><text x="167.6" y="893.6" text-anchor="end" font-family="DejaVu Sans" font-size="36.4" fill="#262626">-1400</text><text x="167.6" y="975.3" text-anchor="end" font-family="DejaVu Sans" font-size="36.4" fill="#262626">-1500</text><text x="167.6" y="1057.1" text-anchor="end" font-family="DejaVu Sans" font-size="36.4" fill="#262626">-1600</text><text x="167.6" y="1138.8" text-anchor="end" font-family="DejaVu Sans" font-size="36.4" fill="#262626">-1700</text><text x="167.6" y="1220.5" text-anchor="end" font-family="DejaVu Sans" font-size="36.4" fill="#262626">-1800</text>
<text x="970.1" y="735.8" text-anchor="end" font-family="DejaVu Sans" font-size="36.4" fill="#262626">4.7</text><text x="970.1" y="814.6" text-anchor="end" font-family="DejaVu Sans" font-size="36.4" fill="#262626">4.6</text><text x="970.1" y="893.4" text-anchor="end" font-family="DejaVu Sans" font-size="36.4" fill="#262626">4.5</text><text x="970.1" y="972.2" text-anchor="end" font-family="DejaVu Sans" font-size="36.4" fill="#262626">4.4</text><text x="970.1" y="1051.0" text-anchor="end" font-family="DejaVu Sans" font-size="36.4" fill="#262626">4.3</text><text x="970.1" y="1129.8" text-anchor="end" font-family="DejaVu Sans" font-size="36.4" fill="#262626">4.2</text><text x="970.1" y="1208.6" text-anchor="end" font-family="DejaVu Sans" font-size="36.4" fill="#262626">4.1</text>
<text x="345.53" y="639.30" font-size="48.50" textLength="255.64" lengthAdjust="spacingAndGlyphs" font-family="Liberation Serif" fill="#262626">Salinity [psu]</text>
<text x="1170.44" y="634.30" font-size="48.50" textLength="255.13" lengthAdjust="spacingAndGlyphs" font-family="Liberation Serif" fill="#262626">Salinity [psu]</text>
<text x="350.44" y="1298.80" font-size="48.50" textLength="255.13" lengthAdjust="spacingAndGlyphs" font-family="Liberation Serif" fill="#262626">Salinity [psu]</text>
<text x="1174.04" y="1298.80" font-size="48.50" textLength="255.13" lengthAdjust="spacingAndGlyphs" font-family="Liberation Serif" fill="#262626">Salinity [psu]</text>
<text transform="translate(43.70 445.90) rotate(-90)" font-size="48.50" textLength="291.10" lengthAdjust="spacingAndGlyphs" font-family="Liberation Serif" fill="#262626">Pressure [dbar]</text>
<text transform="translate(886.40 467.62) rotate(-90)" font-size="48.50" textLength="336.02" lengthAdjust="spacingAndGlyphs" font-family="Liberation Serif" fill="#262626">Temperature [°C]</text>
<text transform="translate(43.70 1107.19) rotate(-90)" font-size="48.50" textLength="289.78" lengthAdjust="spacingAndGlyphs" font-family="Liberation Serif" fill="#262626">Pressure [dbar]</text>
<text transform="translate(894.20 1126.71) rotate(-90)" font-size="48.50" textLength="334.60" lengthAdjust="spacingAndGlyphs" font-family="Liberation Serif" fill="#262626">Temperature [°C]</text>
<text x="165.71" y="35.40" font-size="38.30" textLength="616.32" lengthAdjust="spacingAndGlyphs" font-family="Liberation Serif" font-weight="bold" fill="#000">Salinity profiles and along-drift</text>
<text x="1169.87" y="37.20" font-size="40.29" textLength="258.87" lengthAdjust="spacingAndGlyphs" font-family="Liberation Serif" font-weight="bold" fill="#000">T-S diagram</text>
<text x="324.46" y="700.00" font-size="39.01" textLength="308.37" lengthAdjust="spacingAndGlyphs" font-family="Liberation Serif" font-weight="bold" fill="#000">Salinity profiles</text>
<text x="1180.16" y="695.00" font-size="38.85" textLength="246.60" lengthAdjust="spacingAndGlyphs" font-family="Liberation Serif" font-weight="bold" fill="#000">T-S diagram</text>
<text x="743.65" y="91" font-family="Liberation Sans" font-weight="bold" font-size="31" fill="#000">A</text>
<text x="1595.05" y="90.9" font-family="Liberation Sans" font-weight="bold" font-size="31" fill="#000">B</text>
<text x="744.4" y="755.6" font-family="Liberation Sans" font-weight="bold" font-size="31" fill="#000">C</text>
<text x="1595.05" y="755.5" font-family="Liberation Sans" font-weight="bold" font-size="31" fill="#000">D</text>
</svg></body></html>
